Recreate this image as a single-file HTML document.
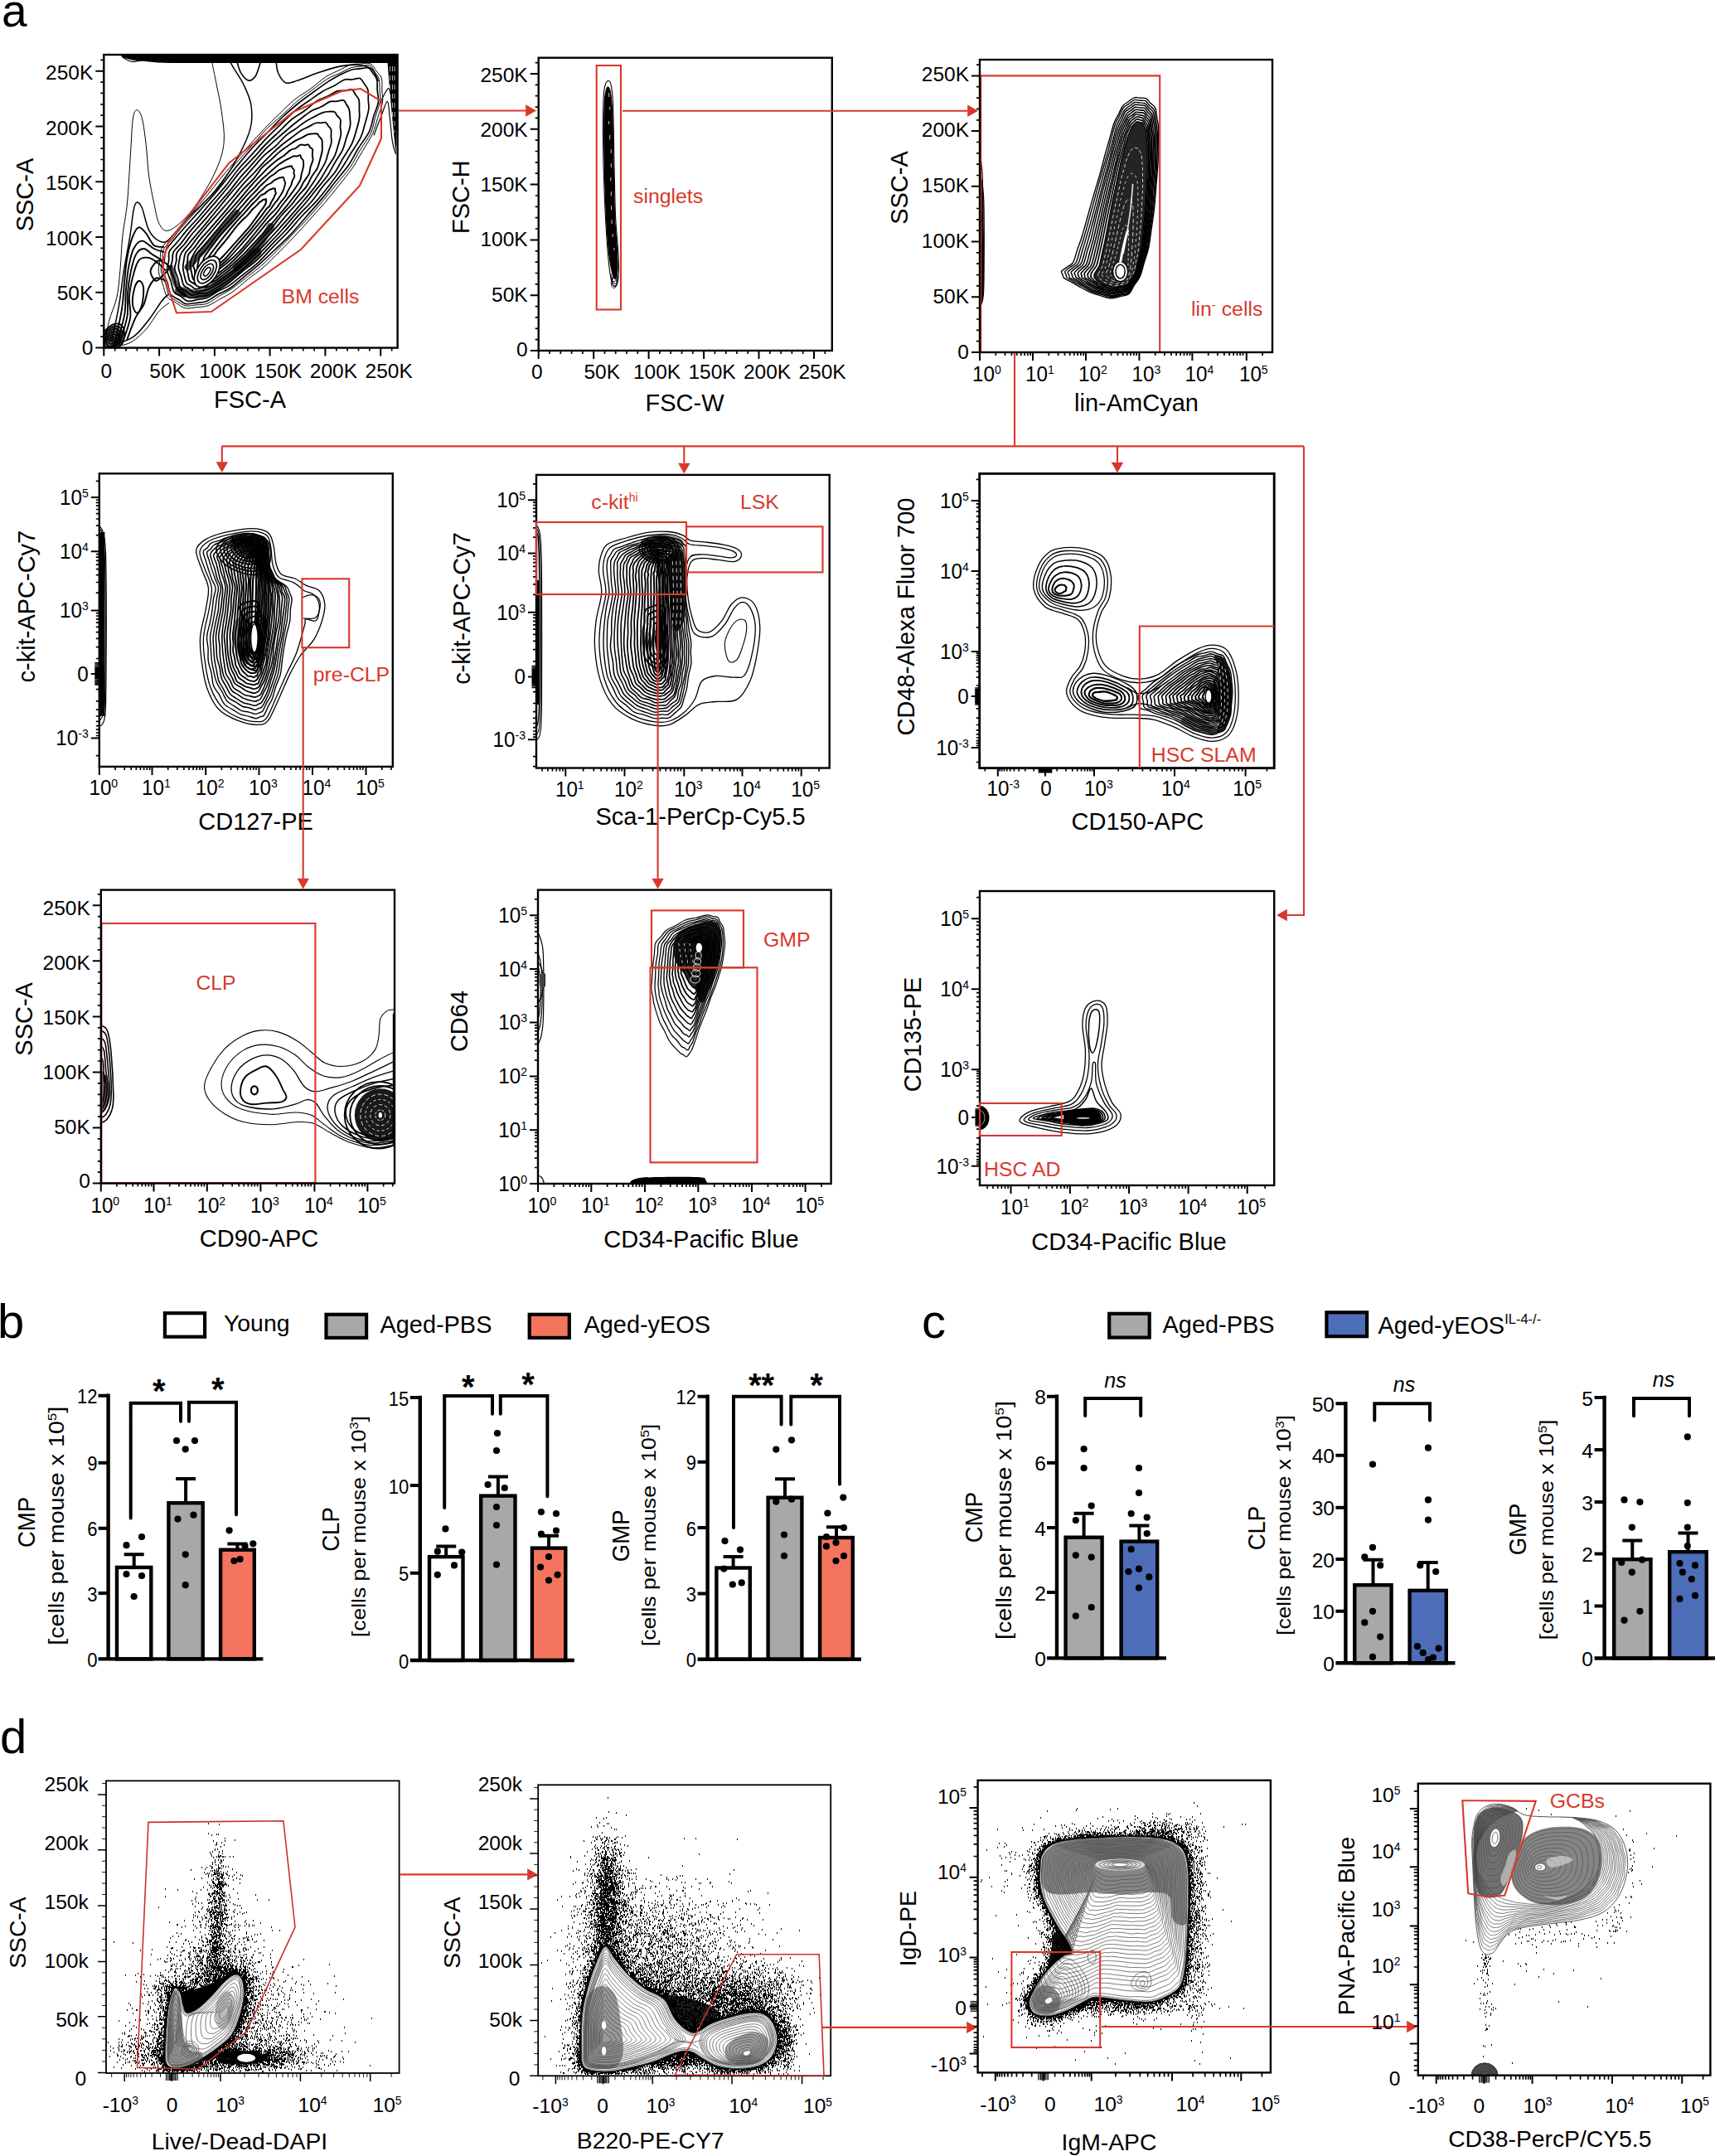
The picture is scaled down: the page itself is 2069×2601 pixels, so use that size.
<!DOCTYPE html>
<html lang="en"><head><meta charset="utf-8"><title>Figure</title>
<style>
html,body{margin:0;padding:0;background:#fff}
svg{display:block}
text{font-family:"Liberation Sans",Arial,Helvetica,sans-serif;fill:#000}
.r{fill:#d8382c}
.g{fill:none;stroke:#d8382c;stroke-width:2.1}
.c{fill:none;stroke:#000;stroke-width:1.1;stroke-linejoin:round}
.cg{fill:none;stroke:#555;stroke-width:0.8;stroke-linejoin:round}
.ax{fill:none;stroke:#000;stroke-width:2.4}
.tk{fill:none;stroke:#000;stroke-width:2}
.tm{fill:none;stroke:#000;stroke-width:1.7}
.b{fill:none;stroke:#000;stroke-width:4.4;stroke-linecap:butt}
.br{fill:none;stroke:#000;stroke-width:4;stroke-linecap:round;stroke-linejoin:miter}
.d{fill:#000}
.axd{fill:none;stroke:#000;stroke-width:1.8}
.tkd{fill:none;stroke:#000;stroke-width:1.5}
.tmd{fill:none;stroke:#000;stroke-width:0.9}
.gd{fill:none;stroke:#c9302c;stroke-width:1.6}
</style></head><body>
<svg width="2069" height="2601" viewBox="0 0 2069 2601">
<rect width="2069" height="2601" fill="#fff"/>
<text x="2" y="32" font-size="55">a</text>
<clipPath id="ca1"><rect x="125.3" y="66" width="354.3" height="353.6"/></clipPath>
<g clip-path="url(#ca1)">
<path d="M144 66H479.6V76H205L190 75.5L160 72.5L150 70Z" fill="#000"/>
<path d="M467.5 75L469 95L472 130L475 160L477.5 186L479 150V75Z" fill="#000"/>
<path class="c" style="stroke-width:1.2" d="M451 163.3c1.6-4.1 6.7-17.7 9.4-24.5c2.7-6.8 5.3-16.7 6.9-16.4c1.7 .4 1.9 10.3 2.9 18.4c1 8.2 2 23.1 3.3 30.6c1.2 7.6 3.4 12.3 4.1 14.7"/>
<path class="c" style="stroke-width:1.2" d="M459.2 122.4c1-1.9 4.4-8.8 6.1-11.4c1.7-2.6 3-5.3 4.1-4.1c1.1 1.3 2 9.6 2.4 11.5"/>
<path d="M470.5 80V132.5" stroke="#fff" stroke-width="0.7" stroke-dasharray="6 5"/>
<path d="M473.5 80V147.5" stroke="#fff" stroke-width="0.7" stroke-dasharray="6 5"/>
<path d="M476 80V160" stroke="#fff" stroke-width="0.7" stroke-dasharray="6 5"/>
<path class="c" style="stroke-width:1" d="M201.6 358.2c-2.7-3.8-3.5-10.6-5.3-15.7c-1.7-5.2-4.5-10.5-5-15.3c-.6-4.8 1.2-9 1.8-13.5c.7-4.6-.2-9.5 1.9-14c2.2-4.6 7.3-9.2 10.9-13.5c3.6-4.2 6.1-6.9 10.6-12c4.4-5.2 10.7-12.5 16.1-18.7c5.4-6.1 10.8-11.9 16.2-18.3c5.3-6.5 10.6-13.7 16.1-20.4c5.5-6.8 11.1-13.3 16.9-20.1c5.9-6.8 12.2-13.8 18.3-20.7c6.2-6.8 12.6-14 18.7-20.4c6.1-6.4 11.9-12.1 18-18c6.2-5.9 12.4-12.4 18.7-17.5c6.3-5.1 12.9-8.4 19.1-13c6.2-4.5 12.7-10.6 18.1-14.2c5.5-3.6 9.8-5 14.8-7.4c5-2.4 10.8-5.8 15.2-7.2c4.4-1.4 7.4-1 11.4-1.2c4.1-.3 9.4-1.7 12.7-.3c3.3 1.5 5 6.1 7.3 9.1c2.2 2.9 5.2 4.7 6.3 8.5c1.1 3.9 .2 9.7 .4 14.6c.1 4.8 1.5 8.7 .7 14.3c-.9 5.5-3.9 12.7-5.9 19.1c-2 6.3-3.1 12.2-6.1 18.9c-3.1 6.7-8.1 14.1-12.2 21.1c-4.1 7-7.7 13.8-12.4 20.7c-4.8 7-10.8 14.1-16.3 21c-5.4 6.8-10.8 13.5-16.6 20.3c-5.9 6.8-12.3 13.8-18.4 20.6c-6.2 6.8-12.4 13.9-18.6 20.4c-6.1 6.5-12.2 12.4-18.3 18.6c-6.2 6.2-12.5 13-18.8 18.4c-6.2 5.5-12.6 9.5-18.7 14.4c-6.2 4.9-12.8 11.2-18.3 15.1c-5.4 3.9-9.7 5.6-14.7 8.4c-5 2.8-10.4 6.7-15.2 8.4c-4.8 1.8-8.9 1.4-13.5 1.9c-4.6 .5-9.8 2-14 1.2c-4.2-.9-7.3-4.3-11-6.5c-3.6-2.3-8.2-3.3-10.9-7.1Z"/>
<path class="c" style="stroke-width:1" d="M204.2 356.5c-2.4-3.7-3-10.1-4.6-15c-1.7-5-4.7-10.1-5.3-14.6c-.6-4.6 1.3-8.6 1.8-12.9c.5-4.4-.8-8.9 1.2-13.2c2.1-4.3 7.5-8.4 11-12.6c3.5-4.2 5.4-7.5 9.8-12.7c4.4-5.1 10.9-12.3 16.4-18.3c5.6-6 11.4-11.4 17-17.7c5.5-6.4 10.8-13.6 16.1-20.5c5.3-6.9 10.1-14.1 15.8-20.9c5.8-6.9 12.6-13.4 18.8-20.2c6.1-6.9 11.9-14.6 18-20.9c6.2-6.3 12.6-11.3 18.9-17c6.3-5.7 12.6-12 18.7-17.2c6.1-5.1 12.1-9.2 18.2-13.8c6.1-4.5 12.9-10.1 18.4-13.5c5.5-3.4 9.8-4.5 14.7-6.8c4.9-2.3 10.5-5.7 14.7-7.1c4.2-1.4 6.9-.9 10.7-1.4c3.7-.4 8.6-2.6 11.5-1.4c3 1.1 4.5 5.6 6.3 8.3c1.9 2.8 4 4.6 4.9 8.2c1 3.7 .6 9.2 .9 13.8c.2 4.6 1.3 8.3 .4 13.7c-.9 5.4-4 12.4-5.8 18.7c-1.9 6.2-2.2 12.4-5.2 18.9c-3 6.6-8.7 13.5-12.9 20.4c-4.2 6.8-7.3 13.9-12 20.7c-4.8 6.9-11 13.7-16.5 20.5c-5.5 6.8-10.8 13.4-16.6 20.3c-5.8 6.9-11.9 14-18 20.8c-6.2 6.8-12.7 13.6-18.9 20.1c-6.1 6.4-11.9 12.6-18 18.7c-6.2 6.2-12.7 12.7-18.8 18.1c-6.2 5.5-12.2 9.8-18.3 14.6c-6.2 4.8-13.1 10.5-18.6 14.2c-5.5 3.8-9.7 5.5-14.5 8.4c-4.8 2.8-9.8 7.2-14.4 8.9c-4.5 1.8-8.5 1.2-12.9 1.7c-4.3 .4-9.2 1.8-13.1 1.1c-3.9-.7-7-3.5-10.3-5.5c-3.3-2.1-7.2-3.3-9.5-6.9Z"/>
<path class="c" style="stroke-width:1.7" d="M205.8 355c-2.3-3.4-2.2-9.4-3.7-14c-1.6-4.7-4.8-9.4-5.4-13.9c-.7-4.5 .9-8.9 1.5-13.1c.6-4.2 .2-8 2.1-12.2c2-4.1 6.4-8.5 9.7-12.5c3.2-4 5.5-6.7 9.9-11.6c4.4-5 11-12.2 16.5-18.4c5.5-6.1 10.9-12.1 16.5-18.5c5.6-6.5 11.6-13.7 17-20.4c5.5-6.7 10.3-13.1 15.9-20c5.6-6.8 11.7-14.4 17.9-21.2c6.2-6.8 13.1-13.3 19.2-19.6c6.2-6.3 11.5-12.4 17.6-18.1c6.1-5.8 12.9-11.5 19-16.5c6.1-4.9 11.5-8.7 17.7-13.2c6.1-4.5 13.7-10.1 19.2-13.7c5.5-3.6 9.1-5.4 13.7-7.8c4.6-2.3 9.8-4.8 13.8-6.1c4.1-1.2 7-.9 10.5-1.3c3.4-.4 7.6-1.8 10.2-.9c2.6 1 3.8 4.2 5.5 6.5c1.7 2.4 3.8 4.3 4.6 7.7c.9 3.4 .2 8.2 .5 12.7c.3 4.4 1.9 8.7 1.2 14c-.7 5.3-3.8 11.7-5.7 17.7c-1.8 5.9-2.2 11.8-5.3 18.2c-3.1 6.5-9.2 13.7-13.3 20.5c-4.2 6.8-7 13.3-11.8 20.2c-4.7 6.8-11.2 13.9-16.6 20.8c-5.4 6.8-10.1 13.2-15.9 20.1c-5.7 6.9-12.5 14.4-18.6 21.3c-6 6.9-11.5 13.7-17.6 20.1c-6.1 6.4-12.4 12.3-18.7 18.3c-6.3 6-12.8 12.2-19 17.7c-6.3 5.5-12.5 10.4-18.6 15.3c-6 5-12.1 10.7-17.5 14.4c-5.4 3.7-10.3 5.1-15.1 7.8c-4.8 2.6-9.4 6.5-13.7 8.2c-4.4 1.7-8.3 1.5-12.5 2c-4.1 .5-9 1.8-12.5 1.1c-3.5-.7-5.4-3.4-8.4-5.3c-3-1.9-7.6-2.9-9.8-6.3Z"/><path class="c" style="stroke-width:1.7" d="M210.1 352.6c-1.9-3-2.5-8.6-4-13c-1.4-4.5-4.1-9.5-4.6-13.6c-.4-4.2 1.6-7.4 2.1-11.2c.5-3.8-.9-7.7 .9-11.6c1.9-3.9 6.9-7.9 10.1-11.9c3.3-3.9 5.3-7 9.5-11.9c4.2-4.9 10.6-11.7 15.8-17.7c5.2-5.9 10.1-11.9 15.5-18.1c5.4-6.3 11.6-13 17-19.5c5.4-6.6 9.8-13.4 15.2-19.9c5.4-6.4 11.5-12.5 17.1-18.8c5.7-6.2 11.2-12.8 16.7-18.6c5.6-5.7 11-10.7 16.6-16.1c5.6-5.4 11.2-11.4 16.9-16.2c5.7-4.8 11.7-8.6 17.5-12.7c5.8-4.1 12.2-8.9 17.2-11.9c5-3 8.8-3.8 13.1-6.1c4.3-2.3 9-6.3 12.7-7.6c3.7-1.3 6.4 .1 9.5-.2c3.1-.3 6.8-2.5 9.3-1.5c2.4 .9 3.9 4.8 5.5 7.1c1.6 2.4 3.4 3.8 4.2 6.9c.7 3.1 .2 8 .4 12c.1 3.9 1.1 7 .4 11.9c-.7 4.9-2.9 11.9-4.5 17.5c-1.7 5.7-2.4 10.5-5.2 16.3c-2.8 5.9-7.8 12.5-11.7 18.8c-3.9 6.3-7.5 12.7-11.8 19.1c-4.4 6.4-9.3 12.9-14.2 19.3c-5 6.3-9.8 12.8-15.3 19c-5.5 6.2-11.8 11.8-17.6 18.1c-5.7 6.2-11.2 13.1-17 19.3c-5.8 6.2-11.9 11.9-17.8 18c-6 6-11.7 12.9-17.7 18.5c-6 5.5-12.5 10.1-18.4 14.8c-5.9 4.7-11.5 9.9-16.7 13.3c-5.2 3.5-10.1 4.8-14.5 7.3c-4.5 2.4-8.4 6-12.4 7.6c-3.9 1.6-7.6 1.5-11.5 2.2c-3.9 .7-8.4 2.5-11.8 1.8c-3.5-.7-6.1-4.3-8.9-6.1c-2.7-1.8-5.6-1.7-7.6-4.6Z"/><path class="c" style="stroke-width:1.8" d="M213.6 349c-1.8-2.9-2-7.9-3.3-12c-1.3-4.1-4-8.8-4.4-12.6c-.4-3.8 1.4-6.7 2-10.1c.6-3.5-.3-7 1.5-10.5c1.8-3.5 6.1-6.8 9.2-10.5c3-3.8 5-7.2 9.1-12.1c4-4.9 10-11.7 15.1-17.6c5.1-5.8 10.1-11.5 15.4-17.7c5.3-6.2 11.2-13.2 16.3-19.4c5.1-6.2 9-12 14.1-17.9c5.1-5.9 11.1-11.7 16.5-17.5c5.3-5.7 10.4-11.8 15.6-17.1c5.2-5.3 10.1-9.7 15.4-14.7c5.2-5 10.8-11.2 16.1-15.5c5.3-4.3 10.6-6.8 15.6-10.5c5-3.6 10-8.7 14.6-11.5c4.5-2.8 8.5-3.5 12.6-5.5c4.1-1.9 8.3-5.2 11.8-6.4c3.5-1.2 6.2-.3 9.2-.6c3-.3 6.6-2 8.7-1.2c2.1 .7 2.5 3.6 3.9 5.7c1.4 2.1 3.6 3.8 4.4 6.7c.8 3 .4 7.4 .4 11.1c.1 3.8 .7 6.9 0 11.4c-.6 4.5-2.3 10.5-3.9 15.6c-1.5 5.2-2.7 9.9-5.3 15.3c-2.7 5.5-7.2 11.8-10.6 17.4c-3.4 5.7-5.7 11-9.7 16.7c-4.1 5.6-10.1 11.5-14.8 17.4c-4.7 5.9-8.5 12-13.3 17.8c-4.9 5.8-10.6 10.9-15.8 16.7c-5.3 5.8-10.3 12.2-15.7 18.1c-5.4 5.9-10.9 11.2-16.8 17.3c-5.9 6.1-12.4 13.7-18.5 19.2c-6 5.5-12.2 9.2-17.9 13.8c-5.7 4.6-11.5 10.4-16.3 14c-4.7 3.5-8.1 4.9-12.1 7.3c-4.1 2.3-8.4 5.5-12.2 6.8c-3.7 1.3-6.8 .5-10.4 1c-3.7 .5-8.2 2.4-11.3 1.9c-3.2-.4-5.2-2.8-7.7-4.5c-2.6-1.8-5.8-2.8-7.5-5.8Z"/><path class="c" style="stroke-width:1.8" d="M217.5 346.9c-1.6-2.6-1.9-7.4-3-11.2c-1.2-3.8-3.5-8.2-3.8-11.6c-.3-3.5 1.5-6 2-9.3c.5-3.2-.9-6.6 .8-10c1.7-3.5 6.4-7 9.3-10.6c2.9-3.6 4.4-6.4 8.2-11c3.9-4.6 9.8-10.9 14.9-16.8c5.1-5.8 10.6-12.4 15.8-18.4c5.2-6.1 10.7-12.1 15.5-17.9c4.8-5.7 8.4-11 13.1-16.6c4.7-5.5 10.1-11.1 15-16.6c4.9-5.6 9.8-11.6 14.5-16.5c4.8-4.9 9.3-8.7 14.1-13c4.8-4.3 10-8.8 14.7-12.7c4.6-3.9 8.7-7.3 13.3-10.7c4.5-3.5 9.6-7.7 13.9-10.3c4.3-2.5 8.1-3 11.8-4.9c3.7-1.8 7.5-5 10.5-6.1c3-1.1 4.8-.1 7.5-.4c2.7-.3 6.6-2.1 8.7-1.4c2 .7 2.6 3.5 3.7 5.3c1.2 1.9 2.5 3.1 3.2 5.7c.7 2.7 .9 6.9 1.1 10.3c.2 3.5 .8 6.4 0 10.5c-.7 4.2-3.1 9.6-4.6 14.3c-1.5 4.6-2.1 8.9-4.4 13.8c-2.3 4.9-6.2 10.1-9.2 15.3c-3.1 5.2-5.5 10.7-9.1 16c-3.7 5.3-8.6 10.6-12.8 15.8c-4.2 5.2-7.9 10.2-12.4 15.6c-4.6 5.4-10 11.2-14.9 16.8c-4.8 5.6-9.3 11.2-14.4 16.7c-5 5.6-10.1 10.9-15.7 16.7c-5.6 5.8-11.8 12.5-17.7 18.1c-5.8 5.5-11.9 10.7-17.5 15.3c-5.5 4.6-11 8.9-15.7 12.2c-4.7 3.4-8.4 5.3-12.3 7.7c-4 2.4-8.1 5.4-11.4 6.6c-3.4 1.2-5.6-0-8.8 .4c-3.2 .4-7.4 2.5-10.3 2c-2.9-.5-4.8-3.6-7-5.2c-2.3-1.5-5-1.4-6.6-3.9Z"/><path class="c" style="stroke-width:1.8" d="M221.5 344c-1.5-2.4-2-7.2-3-10.6c-1-3.3-2.8-6.5-3.1-9.7c-.4-3.3 .3-6.7 .9-9.7c.6-3 .6-5.3 2.4-8.4c1.7-3.1 5.5-7.1 8.1-10.4c2.6-3.3 4-5 7.7-9.3c3.7-4.4 9.5-10.9 14.4-16.8c4.9-5.9 10.2-12.5 15.2-18.5c4.9-6.1 9.8-12.3 14.5-17.8c4.7-5.5 9-10.2 13.5-15.3c4.5-5 9.2-10.4 13.6-15.3c4.3-4.9 8.2-10.1 12.6-14.3c4.4-4.3 9.2-7.2 13.7-11.2c4.4-4.1 8.7-9.6 12.8-13.1c4.1-3.5 7.6-5.2 11.7-8.1c4.1-3 9.3-7 13.1-9.4c3.8-2.4 6.4-3.6 9.7-5.3c3.3-1.7 7.2-3.9 10.1-4.9c2.8-1 4.7-1.1 7.1-1.2c2.4-.2 5.5-.5 7.1 .3c1.7 .8 1.7 2.9 2.9 4.4c1.2 1.6 3.5 2.6 4.2 4.9c.7 2.3-.3 5.8-.2 8.8c.1 3 1.2 5.2 .8 9c-.5 3.7-2.2 9.2-3.5 13.6c-1.3 4.4-2.1 8.3-4.2 12.7c-2.1 4.4-5.7 8.9-8.5 13.6c-2.8 4.6-5.3 9.5-8.5 14.3c-3.2 4.8-7 9.7-10.9 14.6c-3.8 4.8-8.1 9.7-12.3 14.5c-4.1 4.9-8.1 9.7-12.5 14.7c-4.4 5-8.9 9.9-13.7 15.2c-4.8 5.3-9.6 10.8-15.1 16.6c-5.4 5.8-11.9 12.9-17.7 18.4c-5.8 5.5-11.6 10-16.9 14.3c-5.4 4.4-10.8 8.8-15.2 12c-4.4 3.1-7.5 4.8-11.2 7c-3.6 2.1-7.6 4.6-10.7 5.8c-3.1 1.3-5.1 1.1-7.9 1.7c-2.9 .5-6.6 2.1-9.1 1.5c-2.5-.5-3.8-3.2-5.8-4.6c-2-1.5-4.6-1.6-6.1-4Z"/><path class="c" style="stroke-width:1.8" d="M225 341.4c-1.3-2.1-1.9-6.3-2.7-9.4c-.7-3.1-1.5-6.3-1.6-9.2c-.1-2.8 .5-5.1 1-8.1c.5-2.9 .5-6.5 2-9.4c1.4-2.9 4.3-5 6.7-7.9c2.3-3 3.8-5.6 7.3-10c3.5-4.4 8.8-10.8 13.7-16.5c4.9-5.7 10.8-12.1 15.7-17.7c5-5.7 9.7-11 14.1-16.2c4.4-5.2 8.2-10.3 12.4-15.1c4.3-4.7 8.8-9.1 12.9-13.4c4.1-4.4 8-8.8 11.8-12.9c3.9-4 7.6-7.9 11.3-11.5c3.7-3.5 7.5-6.8 11.1-9.8c3.6-3 7-5.2 10.6-8c3.7-2.7 8.1-6.4 11.4-8.6c3.4-2.2 5.8-2.8 8.8-4.3c3-1.6 6.6-4 9.2-4.9c2.6-.8 4.6-.1 6.6-.2c2.1-.1 4.3-1 5.7-.4c1.5 .6 1.9 2.6 3 4c1 1.4 2.9 2.5 3.4 4.7c.6 2.1-.1 5.7-0 8.3c0 2.5 .9 4.1 .3 7.2c-.5 3.1-2.3 7.4-3.5 11.3c-1.2 3.9-1.8 8-3.6 12.1c-1.8 4.1-4.8 8.6-7.2 12.7c-2.4 4-4.3 7.4-7.1 11.6c-2.8 4.2-6.3 9.3-9.8 13.8c-3.5 4.4-7.5 8.6-11.3 12.9c-3.8 4.3-7.5 8.3-11.4 12.8c-3.9 4.6-7.5 9.2-12 14.3c-4.5 5.1-9.6 10.5-14.9 16.2c-5.3 5.7-11.4 12.5-17 18c-5.5 5.6-11.2 11-16.4 15.4c-5.1 4.3-10.6 8.1-14.7 11c-4.1 2.9-6.5 4.5-9.8 6.5c-3.3 1.9-7 3.9-9.8 4.9c-2.9 1.1-4.9 .9-7.5 1.4c-2.5 .5-5.5 2.1-7.7 1.7c-2.2-.4-3.8-2.8-5.7-4c-1.8-1.2-4-1.2-5.3-3.3Z"/><path class="c" style="stroke-width:1.9" d="M228.7 338.5c-1.2-2-1.4-5.4-1.9-8c-.6-2.7-1.5-5.3-1.6-8.1c-0-2.7 .8-5.7 1.1-8.3c.3-2.5-.4-4.4 .9-7c1.4-2.6 5-5.4 7.4-8.4c2.3-3 3.3-5.3 6.7-9.4c3.5-4.2 9.1-10 13.9-15.5c4.8-5.5 10.2-11.7 15.1-17.4c4.8-5.7 9.8-12.1 13.9-17c4.1-4.9 6.9-8.4 10.7-12.5c3.7-4.2 8.4-8.2 11.9-12.3c3.6-4.1 6.1-8.8 9.4-12.4c3.3-3.6 7-5.9 10.4-9.1c3.5-3.1 7.1-6.9 10.4-9.7c3.4-2.8 6.6-4.9 9.8-7.2c3.2-2.2 6.4-4.6 9.3-6.3c2.9-1.7 5.6-2.5 8.2-3.8c2.5-1.3 5.2-3.2 7.3-4c2.1-.8 3.4-.6 5.3-.7c1.8-.1 4.7-.4 6 .1c1.3 .5 1 1.7 1.9 2.9c1 1.2 3 2.6 3.6 4.4c.7 1.8 .3 4.3 .3 6.5c.1 2.3 .4 4.3-.1 7.2c-.4 2.8-1.6 6.5-2.5 9.9c-1 3.4-1.6 7.1-3.3 10.6c-1.7 3.5-4.8 6.7-6.9 10.4c-2.2 3.7-3.6 7.8-6.1 11.5c-2.6 3.7-6.1 6.7-9.2 10.5c-3.1 3.8-6.1 8.2-9.4 12.1c-3.3 3.8-6.9 6.8-10.5 11c-3.6 4.1-6.9 9.1-10.9 13.8c-4.1 4.8-8.4 9.1-13.4 14.6c-5.1 5.5-11.3 12.7-16.9 18.4c-5.7 5.6-12 11.2-17.1 15.7c-5.1 4.4-9.9 8.1-13.6 11c-3.6 2.8-5.3 4.3-8.2 6.1c-2.8 1.7-6.2 3.2-8.8 4.2c-2.6 1.1-4.6 1.6-6.9 1.9c-2.2 .4-4.8 .6-6.7 .2c-1.9-.4-3-1.5-4.6-2.5c-1.5-1-3.8-1.5-4.9-3.4Z"/><path class="c" style="stroke-width:1.9" d="M232.8 336.3c-.8-1.6-1.2-5.1-1.7-7.7c-.6-2.5-1.4-5.3-1.5-7.7c-.1-2.4 .2-4.4 .8-6.6c.5-2.1 1.2-4 2.5-6.4c1.2-2.4 3.1-5.3 5.1-8.1c2-2.7 3.5-4.4 6.9-8.4c3.3-4 8.4-10 13-15.4c4.6-5.4 9.9-11.6 14.7-17.1c4.8-5.5 10-11.2 14.1-15.8c4.1-4.7 7.2-8.5 10.4-12.3c3.3-3.9 6-7.1 9.2-10.6c3.2-3.5 7-7.4 10-10.5c2.9-3.1 4.9-5.3 7.7-7.9c2.8-2.6 6.2-5.6 9.2-7.9c3-2.4 6.1-3.9 9-6c2.9-2.2 5.8-5.3 8.2-6.8c2.4-1.5 4.2-1.3 6.2-2.3c2-1.1 4-3.5 5.9-4.1c1.9-.6 3.9 .6 5.4 .5c1.6-0 2.8-1.2 3.8-.7c1.1 .4 1.6 2.3 2.4 3.3c.9 1 2.5 1.1 3 2.6c.4 1.6-.3 4.6-.3 6.7c.1 2.1 1 3.7 .7 6c-.4 2.3-2 5.1-2.8 7.9c-.7 2.8-.6 5.8-1.9 8.8c-1.3 3-4.2 6.1-6.1 9.2c-2 3.2-3.3 6.6-5.4 9.7c-2.1 3.2-4.8 6-7.4 9.3c-2.5 3.2-5 6.7-7.8 10.2c-2.9 3.5-5.9 6.9-9.2 10.8c-3.2 3.8-6.5 7.9-10.3 12.3c-3.9 4.3-7.7 8.5-12.7 13.9c-5 5.4-11.8 13.1-17.3 18.7c-5.5 5.6-10.9 10.6-15.6 14.8c-4.8 4.3-9.7 7.8-13.1 10.6c-3.5 2.8-5.2 4.6-7.8 6.2c-2.5 1.7-5.4 2.7-7.7 3.5c-2.4 .8-4.3 .9-6.3 1.4c-2 .4-3.9 1.8-5.7 1.4c-1.7-.3-3.2-2.5-4.5-3.4c-1.3-.9-2.3-.4-3.1-2.1Z"/><path class="c" style="stroke-width:1.9" d="M235.6 333.2c-.7-1.5-.2-4.5-.6-6.6c-.3-2.2-1.8-4.4-1.7-6.3c0-1.9 1.5-3.2 2-5.3c.5-2.1-0-5 1.1-7.3c1.1-2.3 3.5-4.3 5.5-6.6c2-2.3 3.1-3.5 6.3-7.3c3.2-3.8 8.4-10.1 13-15.6c4.5-5.4 9.7-11.8 14.3-17.1c4.5-5.3 9.1-10.2 12.8-14.6c3.8-4.3 6.6-7.9 9.8-11.4c3.2-3.5 6.6-6.6 9.3-9.5c2.8-2.9 4.6-5.3 7.2-7.9c2.5-2.6 5.7-5.3 8.2-7.6c2.5-2.2 4.4-3.9 6.7-5.9c2.3-2 4.7-4.3 7-5.9c2.2-1.7 4.3-2.9 6.4-4.2c2.1-1.2 4.4-2.3 6.3-3.3c1.9-1 3.6-2.1 5.1-2.5c1.4-.4 2.2 .4 3.5 .2c1.3-.2 3.4-1.6 4.3-1.3c.9 .3 .5 2 1.1 3c.6 1 1.9 1.7 2.4 3c.5 1.3 .6 3.2 .6 4.8c.1 1.5-0 2.5-.4 4.4c-.4 2-1.4 4.7-2 7.1c-.5 2.4-.4 4.7-1.5 7.3c-1.1 2.6-3.2 5.8-4.9 8.4c-1.7 2.6-3.2 4.8-5.2 7.4c-1.9 2.6-4.2 5.5-6.4 8.3c-2.2 2.8-4.5 5.6-6.7 8.6c-2.3 2.9-4 5.9-6.9 9.1c-2.8 3.3-6.5 6.4-10.1 10.4c-3.6 3.9-6.5 8-11.2 13.4c-4.7 5.4-11.5 13.4-16.9 19.1c-5.3 5.8-10.5 11.2-15.1 15.5c-4.5 4.2-8.7 7.5-11.9 10c-3.2 2.5-5 3.6-7.3 5c-2.2 1.4-4.3 2.7-6.2 3.4c-1.9 .8-3.5 .8-5.2 1.2c-1.8 .4-3.7 1.2-5.2 1.1c-1.6-.1-2.8-1.1-4.1-1.8c-1.2-.8-2.7-1.1-3.4-2.7Z"/><path class="c" style="stroke-width:1.9" d="M239.6 330c-.6-1.2-1.1-3.3-1.3-5c-.2-1.7-.2-3.4 .1-5.2c.2-1.7 .7-3.2 1.2-5.1c.5-1.8 .4-4 1.5-5.9c1.1-1.9 3.2-3.2 5.1-5.3c1.9-2.2 3.4-4 6.2-7.8c2.9-3.7 6.7-9.5 11.1-14.9c4.4-5.3 10.8-11.9 15.4-17.2c4.7-5.2 8.9-10.3 12.3-14.2c3.4-3.9 5.3-6.3 8.1-9.4c2.8-3 6-6.3 8.5-8.9c2.5-2.7 4.3-4.8 6.3-6.9c2-2 3.8-3.4 5.7-5.3c1.9-1.8 3.8-4 5.7-5.5c1.9-1.6 3.9-2.3 5.7-3.7c1.9-1.3 3.7-3.4 5.4-4.5c1.7-1.1 3.3-1.3 4.9-2c1.5-.6 3.3-1.4 4.5-1.8c1.2-.4 1.8-.4 2.7-.6c1-.1 2.5-.8 3.2-.5c.6 .2 .2 1.3 .7 2.1c.5 .8 1.9 1.8 2.2 2.8c.2 1.1-.5 2.3-.4 3.6c.1 1.3 1.2 2.7 .9 4.2c-.3 1.6-1.9 3.3-2.6 5.1c-.7 1.7-.8 3.5-1.6 5.5c-.9 1.9-2.3 3.9-3.4 6.1c-1.1 2.2-1.7 4.6-3.2 6.8c-1.4 2.3-3.7 4.5-5.5 6.8c-1.8 2.3-3 4.8-5 7.2c-2 2.4-4.5 4.4-7 7.2c-2.5 2.7-4.8 5.5-8 9.4c-3.3 3.9-6.8 8.4-11.2 13.9c-4.5 5.4-10.5 13.2-15.7 18.8c-5.2 5.7-11.1 11.1-15.7 15.2c-4.6 4.1-8.8 7.2-11.8 9.6c-2.9 2.4-4 3.5-5.9 4.8c-1.9 1.3-4.1 2.2-5.6 3c-1.6 .7-2.6 1.1-3.8 1.4c-1.2 .3-2.4 .6-3.6 .4c-1.2-.2-2.6-.9-3.7-1.6c-1-.7-1.8-1.3-2.4-2.6Z"/><path class="c" style="stroke-width:1.9" d="M244 327.6c-.4-1-.9-2.7-1.2-4.1c-.2-1.4-.6-2.9-.3-4.4c.4-1.5 1.8-3 2.4-4.5c.7-1.5 .7-2.9 1.5-4.5c.9-1.6 2-3 3.5-5.2c1.6-2.1 3-4.1 5.8-7.7c2.8-3.6 6.6-9.1 10.9-14.1c4.3-5.1 10.6-11.4 15-16.4c4.5-4.9 8.5-9.7 11.8-13.5c3.3-3.8 5.6-6.8 7.9-9.4c2.3-2.6 4.2-4.1 6.1-6.1c1.8-1.9 3.4-3.8 5.1-5.5c1.8-1.7 3.6-3.2 5.2-4.7c1.6-1.5 2.9-3.2 4.4-4.3c1.5-1.1 3.2-1.2 4.6-2.2c1.5-.9 3-2.6 4-3.4c1.1-.7 1.4-.8 2.4-1.3c.9-.4 2.4-1.1 3.3-1.4c.9-.3 1.3-.4 2.2-.6c.8-.2 2.3-.8 2.9-.7c.6 .2 .6 .9 .8 1.4c.2 .6 .2 .8 .5 1.7c.3 .9 1.1 2.8 1.3 3.8c.2 1-0 1.1-.3 2.2c-.2 1.2-.7 3.2-1.2 4.6c-.5 1.4-1 2.7-1.6 4c-.7 1.3-1.3 2.4-2.3 4c-.9 1.5-2.3 3.6-3.5 5.3c-1.3 1.8-2.6 3.2-3.9 4.9c-1.2 1.7-2.1 3.3-3.6 5.2c-1.5 2-3.2 4-5.2 6.5c-2.1 2.6-4.1 5.3-6.9 8.8c-2.9 3.4-5.9 6.9-10.3 12.1c-4.4 5.1-11 13-16.1 18.9c-5.1 5.8-10.4 11.8-14.6 16c-4.3 4.2-8.1 7-10.8 9.3c-2.7 2.2-3.7 3.1-5.3 4.3c-1.5 1.1-2.8 2.1-4.1 2.8c-1.3 .7-2.7 .9-3.8 1.2c-1 .2-1.7 .5-2.6 .3c-.8-.3-2-1.3-2.7-1.8c-.6-.6-.9-.6-1.3-1.5Z"/><path class="c" style="stroke-width:2" d="M247.4 325.2c-.3-.6-.3-2.3-.2-3.4c-0-1.1 0-2 .3-3.3c.2-1.3 .6-3.2 1.2-4.5c.6-1.2 1.4-1.7 2.4-3.1c1-1.3 2.1-3 3.5-5c1.3-1.9 2.2-3.1 4.8-6.6c2.6-3.4 6.8-9 10.9-14c4.1-5.1 9.3-11.4 13.6-16.3c4.3-4.9 9-9.8 12.1-13.2c3.1-3.4 4.5-5.2 6.5-7.4c2-2.1 4.2-4.2 5.7-5.8c1.6-1.6 2.5-2.5 3.6-3.7c1.1-1.2 2-2.6 3.2-3.4c1.2-.8 2.7-1 3.8-1.6c1-.6 1.7-1.4 2.5-2.1c.8-.7 1.7-1.4 2.4-2c.7-.5 1.1-.7 1.8-1c.7-.3 1.9-.6 2.4-.8c.6-.2 .5-.2 .9-.3c.4-.1 1-.4 1.5-.4c.5-0 1.5 0 1.7 .3c.3 .3-.1 .9-.1 1.4c0 .5 0 .8 .2 1.6c.2 .7 .9 2 .7 2.8c-.1 .8-1 1.3-1.3 2.1c-.4 .7-.2 1.3-.7 2.4c-.5 1-1.7 2.9-2.4 4.1c-.7 1.1-1 1.6-1.6 2.7c-.5 1.2-.9 2.9-1.8 4.1c-.8 1.1-2.2 1.5-3.4 3c-1.3 1.5-2.6 3.8-4.1 5.8c-1.5 2.1-2.6 3.5-5.1 6.7c-2.4 3.1-5.3 6.9-9.6 12c-4.4 5.1-11.3 12.7-16.3 18.6c-5.1 5.9-10.2 12.4-14.2 16.6c-4.1 4.2-7.7 6.5-10.2 8.6c-2.4 2-3.2 2.9-4.6 3.8c-1.3 .9-2.6 .9-3.5 1.3c-.8 .4-1.1 .7-1.7 1c-.6 .4-1.3 1.2-1.9 1.1c-.6-.1-1.2-1.4-1.7-1.8c-.5-.3-1.1 .4-1.3-.3Z"/><path class="c" style="stroke-width:2" d="M251.3 322.5c-.1-.5-.2-2.1-.1-3c.1-.9 .2-1.6 .6-2.5c.4-.8 1.4-1.7 1.9-2.8c.6-1 .5-2.2 1.3-3.3c.8-1.1 2.3-1.7 3.5-3.3c1.2-1.5 1.4-2.6 3.9-5.8c2.6-3.3 7.2-8.4 11.3-13.5c4-5 9-12.1 13.2-16.9c4.2-4.8 9.1-8.9 12-12c2.9-3.2 3.9-5 5.4-6.6c1.6-1.7 2.7-2.5 3.8-3.5c1.1-1.1 2.1-2.1 2.9-3c.8-.9 1.4-1.7 2-2.3c.6-.5 1.2-.8 1.7-1c.4-.2 .6-.1 1-.4c.3-.3 .6-1.1 1-1.4c.5-.4 1.4-.4 1.8-.5c.3-.1 .2-.1 .3-.1c.2 .1 .2 .5 .6 .4c.3-.1 1.3-1.1 1.5-1.1c.3 .1-.2 1-.2 1.3c-.1 .3 .1 .6 .2 .7c.1 .1 .1-.3 .2-.1c0 .2 .2 1 .1 1.4c-.1 .5-.5 .9-.6 1.3c-.1 .4 .3 .6 .1 1.1c-.2 .5-.9 1.4-1.2 1.9c-.3 .5-.4 .9-.7 1.3c-.3 .5-.5 .9-1 1.5c-.5 .7-1.1 1.5-1.9 2.5c-.7 1-1.5 1.9-2.7 3.6c-1.3 1.8-2.7 4-4.9 7c-2.2 3-4.2 6.3-8.3 11.3c-4.2 4.9-11.3 12.7-16.4 18.5c-5.1 5.7-10.5 11.9-14.3 15.8c-3.7 4-6.2 5.9-8.2 7.9c-1.9 1.9-2.6 3-3.6 3.9c-1 1-1.6 1.6-2.3 1.9c-.8 .3-1.6-.2-2.1-.1c-.6 0-1.1 .6-1.4 .6c-.3 .1-.2-.3-.3-.5c-.1-.1-.1 .4-.1-.2Z"/>
<path d="M226.5 322.4c3.1-3.4 11.9-13.2 18.4-20.4c6.5-7.1 13.6-14.9 20.4-22.4c6.8-7.5 17-18.7 20.4-22.5" stroke="#000" stroke-opacity="0.7" stroke-width="8" fill="none" stroke-linecap="round"/>
<path d="M285.7 322.4c4.1-4 17.7-16.3 24.5-24.4c6.8-8.2 13.6-20.4 16.3-24.5" stroke="#000" stroke-opacity="0.7" stroke-width="9" fill="none" stroke-linecap="round"/>
<path d="M216.3 351c4.8 .6 17.7 6.7 28.6 3.3c10.9-3.4 25.8-15.3 36.7-23.7c10.9-8.4 23.8-22.1 28.6-26.5" stroke="#000" stroke-opacity="0.7" stroke-width="11" fill="none" stroke-linecap="round"/>
<path d="M206.1 322.4c1 3.5 3.4 14.9 6.1 20.5c2.8 5.5 8.5 10.8 10.2 13" stroke="#000" stroke-opacity="0.7" stroke-width="6" fill="none" stroke-linecap="round"/>
<ellipse cx="249.8" cy="327.8" rx="21" ry="12" fill="#fff" stroke="#000" stroke-width="1.8" transform="rotate(-55 249.8 327.8)"/>
<ellipse cx="249.8" cy="327.8" rx="16" ry="8.6" fill="none" stroke="#000" stroke-width="1.7" transform="rotate(-55 249.8 327.8)"/>
<ellipse cx="249.8" cy="327.8" rx="11" ry="5.6" fill="none" stroke="#000" stroke-width="1.6" transform="rotate(-55 249.8 327.8)"/>
<ellipse cx="249.8" cy="327.8" rx="6" ry="2.8" fill="none" stroke="#000" stroke-width="1.5" transform="rotate(-55 249.8 327.8)"/>
<path d="M269.4 304.1c2-2.5 8.5-10.8 12.2-15.1c3.8-4.3 8.5-8.9 10.2-10.6" stroke="#fff" stroke-width="2.6" fill="none" stroke-linecap="round"/>
<path class="c" style="stroke-width:1" d="M126.5 417.1c.8-4.9 2.5-19.7 4.9-29.3c2.4-9.7 7.2-18.4 9.4-28.6c2.3-10.2 2.9-20.4 4.1-32.7c1.2-12.2 1.4-27.2 2.9-40.8c1.4-13.6 4-23.8 5.7-40.8c1.6-17 2.9-44.2 4.1-61.2c1.1-17 1.5-32.3 2.8-40.8c1.3-8.5 3.1-10.2 4.9-10.2c1.8-0 4.3 3 6.1 10.2c1.9 7.1 3.6 21 4.9 32.6c1.4 11.6 1.7 25.2 3.3 36.7c1.6 11.6 4.1 23.2 6.1 32.7c2.1 9.5 3.4 18.9 6.1 24.5c2.8 5.6 5.5 9.5 10.2 9c4.8-.6 11.9-6 18.4-12.3c6.5-6.2 13.6-14.9 20.4-25.3c6.8-10.3 15.5-25.2 20.4-36.7c4.9-11.6 8-21.1 9-32.7c1-11.5-1.4-25.1-2.9-36.7c-1.4-11.6-4.2-23.1-6.1-32.7c-1.8-9.5-3.9-18.7-4.9-24.4c-1-5.8-1-8.6-1.2-10.3"/>
<path class="c" style="stroke-width:1.5" d="M134.7 412.2c1.5-7.4 6.5-30.6 9-44.9c2.4-14.2 3.5-27.2 5.7-40.8c2.2-13.6 5.4-28.5 7.3-40.8c2-12.2 3.1-25.7 4.5-32.6c1.5-7 2.4-8.7 4.1-9c1.7-.4 3.7 1.3 6.1 6.9c2.4 5.6 4.8 20 8.2 26.6c3.4 6.5 8.2 11.1 12.2 13c4.1 1.9 6.2 3.3 12.3-1.6c6.1-4.9 14.9-17.7 24.5-27.8c9.5-10 23.1-21.1 32.6-32.6c9.5-11.6 17.7-24.5 24.5-36.8c6.8-12.2 13.5-25.8 16.3-36.7c2.9-10.9 2.2-19.7 .9-28.6c-1.4-8.8-5.5-17-9-24.5c-3.6-7.4-9-14.8-12.3-20.4c-3.2-5.5-6.1-10.9-7.3-13"/>
<path class="c" style="stroke-width:1.9" d="M140.8 414.3c1.6-5.8 7.6-24.2 9.4-34.7c1.8-10.6 .8-19.1 1.6-28.6c.9-9.5 1.7-20 3.3-28.6c1.6-8.5 3.4-17.1 6.1-22.4c2.7-5.3 6.1-9.4 10.2-9.4c4.1 0 9.9 7.2 14.3 9.4c4.4 2.2 10.2 3.4 12.3 4.1"/>
<path class="c" style="stroke-width:1.9" d="M146.9 416.3c1.7-5.4 8.7-23.1 10.2-32.6c1.5-9.6-1.7-16.4-1.2-24.5c.5-8.2 2.2-17 4.1-24.5c1.9-7.5 4.1-16.5 7.3-20.4c3.3-4 8.2-4 12.3-3.3c4.1 .7 8.8 4.8 12.2 7.4c3.4 2.6 6.8 6.8 8.2 8.1"/>
<path class="c" style="stroke-width:1.9" d="M153.1 410.2c1.7-4.4 6.8-19.4 10.2-26.5c3.4-7.2 7.4-10.2 10.2-16.4c2.7-6.1 3.6-15.1 6.1-20.4c2.5-5.3 5.6-10 9-11.4c3.4-1.4 9.5 2.7 11.4 3.3"/>
<path class="c" style="stroke-width:1.9" d="M138 415.5c1.5-7 6.9-29.2 8.9-42c2.1-12.8 2.2-24.2 3.3-34.7c1.1-10.6 1.6-19.8 3.3-28.6c1.6-8.8 4.2-18.5 6.5-24.5c2.3-6 4.6-10.7 7.3-11.4c2.8-.7 6 3.7 9 7.3c3.1 3.6 5.8 11.6 9.4 14.3c3.6 2.7 10.2 1.7 12.3 2.1"/>
<path class="c" style="stroke-width:1.9" d="M143.7 416.3c1.6-5.8 8.1-24.5 9.8-34.7c1.7-10.2-.3-17.7 .4-26.5c.7-8.8 2-18.5 3.7-26.5c1.7-8.1 3.8-16.9 6.5-21.7c2.6-4.7 6.1-6.9 9.4-6.9c3.2 0 6.6 4.7 10.2 6.9c3.6 2.3 9.5 5.5 11.4 6.6"/>
<path class="c" style="stroke-width:1" d="M128.6 418.4c4.4-.7 18.7-.7 26.5-4.1c7.8-3.4 14.3-9.9 20.4-16.3c6.1-6.5 11.6-17 16.3-22.5c4.8-5.4 10.2-8.5 12.3-10.2"/>
<path class="c" style="stroke-width:1.6" d="M134.7 417.1c4.4-1.8 19-5.7 26.5-11c7.5-5.2 12.7-13.2 18.4-20.4c5.6-7.1 11.6-17.3 15.5-22.4c3.9-5.1 6.5-6.8 7.8-8.2"/>
<path class="c" style="stroke-width:1.9" d="M160 367.3c-.5-5.1 1.1-15.6 2.4-20.4c1.4-4.7 4-8.1 5.8-8.1c1.7-0 4.3 3.4 4.9 8.1c.5 4.8-.4 15.3-1.7 20.4c-1.3 5.1-4.2 10.3-6.1 10.3c-1.9-0-4.8-5.2-5.3-10.3Z"/>
<path class="c" style="stroke-width:1.9" d="M181.6 326.5c.7-4.1 6.5-11.5 10.2-12.2c3.8-.7 11.6 5.1 12.3 8.1c.7 3.1-5.5 7.5-8.2 10.3c-2.7 2.7-5.8 7.1-8.1 6.1c-2.4-1-6.8-8.2-6.2-12.3Z"/>
<ellipse class="c" style="stroke-width:1.8" cx="135.5" cy="409" rx="1.9" ry="3" transform="rotate(28 135.5 409)"/>
<ellipse class="c" style="stroke-width:1.8" cx="135.5" cy="409" rx="4" ry="6.4" transform="rotate(28 135.5 409)"/>
<ellipse class="c" style="stroke-width:1.8" cx="135.5" cy="409" rx="6.1" ry="9.8" transform="rotate(28 135.5 409)"/>
<ellipse class="c" style="stroke-width:1.8" cx="135.5" cy="409" rx="8.2" ry="13.2" transform="rotate(28 135.5 409)"/>
<ellipse class="c" style="stroke-width:1.8" cx="135.5" cy="409" rx="10.3" ry="16.6" transform="rotate(28 135.5 409)"/>
<ellipse class="c" style="stroke-width:1.8" cx="135.5" cy="409" rx="12.4" ry="20" transform="rotate(28 135.5 409)"/>
<path d="M125.3 419.6v-22l14 -6l10 12l-8 16z" fill="#000" fill-opacity="0.55"/>
<path class="c" style="stroke-width:1.6" d="M285.7 73.5c.8 2.4 2.5 10.3 4.9 14.3c2.4 3.9 6.5 8.7 9.4 9.3c2.9 .7 5.9-2 8.2-5.3c2.2-3.2 3.9-10.5 5.3-14.2c1.3-3.8 2.4-6.9 2.8-8.2"/>
<path class="c" style="stroke-width:1.6" d="M332.7 70.2c.4 2.9 .8 12.6 2.8 17.6c2.1 4.9 5.5 10.6 9.4 12.2c3.9 1.6 7.8-.8 14.3-2.9c6.4-2 15.6-6.4 24.5-9.3c8.8-3 20.4-6.6 28.5-8.2c8.2-1.6 14.3-1.9 20.5-1.2c6.1 .6 12.3 2 16.3 5.3c3.9 3.2 6.1 11.9 7.3 14.3"/>
<path class="c" d="M146.9 68.6c2.1 .9 7.5 5.1 12.3 5.7c4.7 .5 10.9-1.6 16.3-2.5c5.5-.8 13.6-2 16.3-2.4"/>
</g>
<rect class="ax" x="125.3" y="66" width="354.3" height="353.6"/>
<path class="tk" d="M125.3 419.6h-10M125.3 352.8h-10M125.3 286h-10M125.3 219.3h-10M125.3 152.5h-10M125.3 85.7h-10"/>
<path class="tm" d="M125.3 406.2h-4M125.3 392.9h-4M125.3 379.5h-4M125.3 366.2h-4M125.3 339.5h-4M125.3 326.1h-4M125.3 312.8h-4M125.3 299.4h-4M125.3 272.7h-4M125.3 259.3h-4M125.3 246h-4M125.3 232.6h-4M125.3 205.9h-4M125.3 192.5h-4M125.3 179.2h-4M125.3 165.8h-4M125.3 139.1h-4M125.3 125.8h-4M125.3 112.4h-4M125.3 99.1h-4M125.3 72.3h-4"/>
<text x="112.3" y="428.3" font-size="24.5" text-anchor="end">0</text>
<text x="112.3" y="361.9" font-size="24.5" text-anchor="end">50K</text>
<text x="112.3" y="295.5" font-size="24.5" text-anchor="end">100K</text>
<text x="112.3" y="229.2" font-size="24.5" text-anchor="end">150K</text>
<text x="112.3" y="162.8" font-size="24.5" text-anchor="end">200K</text>
<text x="112.3" y="96.4" font-size="24.5" text-anchor="end">250K</text>
<path class="tk" d="M125.3 419.6v10M192.1 419.6v10M258.9 419.6v10M325.6 419.6v10M392.4 419.6v10M459.2 419.6v10"/>
<path class="tm" d="M138.7 419.6v4M152 419.6v4M165.4 419.6v4M178.7 419.6v4M205.4 419.6v4M218.8 419.6v4M232.1 419.6v4M245.5 419.6v4M272.2 419.6v4M285.6 419.6v4M298.9 419.6v4M312.3 419.6v4M339 419.6v4M352.4 419.6v4M365.7 419.6v4M379.1 419.6v4M405.8 419.6v4M419.1 419.6v4M432.5 419.6v4M445.8 419.6v4M472.6 419.6v4"/>
<text x="128.3" y="455.7" font-size="24.5" text-anchor="middle">0</text>
<text x="202.1" y="455.7" font-size="24.5" text-anchor="middle">50K</text>
<text x="268.9" y="455.7" font-size="24.5" text-anchor="middle">100K</text>
<text x="335.6" y="455.7" font-size="24.5" text-anchor="middle">150K</text>
<text x="402.4" y="455.7" font-size="24.5" text-anchor="middle">200K</text>
<text x="469.2" y="455.7" font-size="24.5" text-anchor="middle">250K</text>
<text x="301.5" y="492" font-size="29" text-anchor="middle">FSC-A</text>
<text x="40" y="235" font-size="29" text-anchor="middle" transform="rotate(-90 40 235)">SSC-A</text>
<path class="g" d="M197 314L203 292L276 197L354 135L412 110L435 107L460 122L460 167L434 224L363 301L255 376L213 377.5L203 347L197 326Z"/>
<text x="339.6" y="366" font-size="24.8" class="r">BM cells</text>
<path class="g" d="M481 133.5L634.2 133.5"/><path fill="#d8382c" d="M647 133.5L634.2 140.7L634.2 126.3Z"/>
<path class="c" style="stroke-width:1.1" d="M733.5 97.5c1.2-.2 2.5-.1 3.5 4.5c1 4.6 1.8 6.7 2.5 23c.7 16.3 1 52.5 1.5 75c.5 22.5 .8 43.3 1.5 60c.8 16.7 2.3 29.2 3 40c.7 10.8 1.1 18.3 1 25c-.1 6.7-.7 11.6-1.5 15c-.8 3.4-2.2 5.8-3.5 5.5c-1.2-.3-2.8-2.9-4-7.5c-1.2-4.6-2-10.3-3-20c-1-9.7-2.1-23.3-3-38c-.9-14.7-1.8-31.7-2.5-50c-.7-18.3-1.3-41.7-1.5-60c-.2-18.3 .1-38.8 .5-50c.4-11.2 1.1-13.2 2-17c.9-3.8 2.3-5.3 3.5-5.5Z"/>
<path d="M733.5 105c.9 .3 2.1 1.2 3 7c.9 5.8 1.7 13.3 2.3 28c.6 14.7 .8 40 1.2 60c.5 20 .8 43.3 1.5 60c.7 16.7 2.2 29.2 2.8 40c.6 10.8 1 19 .7 25c-.3 6-1.5 10.2-2.5 11c-1 .8-2.3-2-3.5-6c-1.2-4-2.4-9.7-3.5-18c-1.1-8.3-2.1-18.3-3-32c-.9-13.7-1.7-31.7-2.3-50c-.6-18.3-1.3-42.5-1.4-60c-.1-17.5 .1-35 .5-45c.4-10 1-11.7 1.7-15c.7-3.3 1.6-5.3 2.5-5Z" fill="#000" stroke="#000" stroke-width="1.2"/>
<path d="M734.7 112v5" stroke="#fff" stroke-width="0.8" fill="none"/>
<path d="M735.7 129v3.4" stroke="#fff" stroke-width="0.8" fill="none"/>
<path d="M734.6 146v4.1" stroke="#fff" stroke-width="0.8" fill="none"/>
<path d="M735.7 163v5.4" stroke="#fff" stroke-width="0.8" fill="none"/>
<path d="M737.2 180v4.8" stroke="#fff" stroke-width="0.8" fill="none"/>
<path d="M737.3 197v5" stroke="#fff" stroke-width="0.8" fill="none"/>
<path d="M736.8 214v4.3" stroke="#fff" stroke-width="0.8" fill="none"/>
<path d="M737.3 231v5.7" stroke="#fff" stroke-width="0.8" fill="none"/>
<path d="M737.5 248v5.5" stroke="#fff" stroke-width="0.8" fill="none"/>
<path d="M738.1 265v5.1" stroke="#fff" stroke-width="0.8" fill="none"/>
<path d="M739.2 282v4.2" stroke="#fff" stroke-width="0.8" fill="none"/>
<path d="M740.9 299v3.1" stroke="#fff" stroke-width="0.8" fill="none"/>
<ellipse class="c" cx="740.6" cy="334" rx="3.4" ry="6" style="stroke-width:0.9"/>
<ellipse class="c" cx="742.3" cy="336.5" rx="3.4" ry="6" style="stroke-width:0.9"/>
<ellipse class="c" cx="741.5" cy="339" rx="3.4" ry="6" style="stroke-width:0.9"/>
<ellipse class="c" cx="740.7" cy="341.5" rx="3.4" ry="6" style="stroke-width:0.9"/>
<rect class="ax" x="649.7" y="69.7" width="354.1" height="353.3"/>
<path class="tk" d="M649.7 423h-10M649.7 356.2h-10M649.7 289.4h-10M649.7 222.6h-10M649.7 155.8h-10M649.7 89h-10"/>
<path class="tm" d="M649.7 409.6h-4M649.7 396.3h-4M649.7 382.9h-4M649.7 369.6h-4M649.7 342.8h-4M649.7 329.5h-4M649.7 316.1h-4M649.7 302.8h-4M649.7 276h-4M649.7 262.7h-4M649.7 249.3h-4M649.7 236h-4M649.7 209.2h-4M649.7 195.9h-4M649.7 182.5h-4M649.7 169.2h-4M649.7 142.4h-4M649.7 129.1h-4M649.7 115.7h-4M649.7 102.4h-4M649.7 75.6h-4"/>
<text x="636.7" y="429.7" font-size="24.5" text-anchor="end">0</text>
<text x="636.7" y="363.5" font-size="24.5" text-anchor="end">50K</text>
<text x="636.7" y="297.3" font-size="24.5" text-anchor="end">100K</text>
<text x="636.7" y="231.1" font-size="24.5" text-anchor="end">150K</text>
<text x="636.7" y="164.9" font-size="24.5" text-anchor="end">200K</text>
<text x="636.7" y="98.7" font-size="24.5" text-anchor="end">250K</text>
<path class="tk" d="M649.7 423v10M716.2 423v10M782.6 423v10M849.1 423v10M915.5 423v10M982 423v10"/>
<path class="tm" d="M663 423v4M676.3 423v4M689.6 423v4M702.9 423v4M729.5 423v4M742.7 423v4M756 423v4M769.3 423v4M795.9 423v4M809.2 423v4M822.5 423v4M835.8 423v4M862.4 423v4M875.7 423v4M889 423v4M902.2 423v4M928.8 423v4M942.1 423v4M955.4 423v4M968.7 423v4M995.3 423v4"/>
<text x="647.7" y="456.7" font-size="24.5" text-anchor="middle">0</text>
<text x="726.2" y="456.7" font-size="24.5" text-anchor="middle">50K</text>
<text x="792.6" y="456.7" font-size="24.5" text-anchor="middle">100K</text>
<text x="859.1" y="456.7" font-size="24.5" text-anchor="middle">150K</text>
<text x="925.5" y="456.7" font-size="24.5" text-anchor="middle">200K</text>
<text x="992" y="456.7" font-size="24.5" text-anchor="middle">250K</text>
<text x="826" y="496" font-size="29" text-anchor="middle">FSC-W</text>
<text x="566" y="237.7" font-size="29" text-anchor="middle" transform="rotate(-90 566 237.7)">FSC-H</text>
<rect class="g" x="719.7" y="79" width="29.3" height="294.5"/>
<text x="764" y="244.7" font-size="24.8" class="r">singlets</text>
<path class="g" d="M751 133.8L1167.2 133.8"/><path fill="#d8382c" d="M1180 133.8L1167.2 141L1167.2 126.6Z"/>
<path class="c" style="stroke-width:1.4" d="M1280.8 327c1-1.6 4.9-3.4 7.2-5.2c2.3-1.8 4.7-2 6.7-5.5c2-3.6 3.5-10.5 5.3-15.8c1.8-5.3 3.4-9.1 5.5-15.8c2.1-6.7 4.6-16.3 6.9-24.4c2.3-8.2 4.5-16.3 6.9-24.4c2.3-8.1 4.9-16.2 7.3-24.4c2.3-8.2 4.6-17.4 6.5-24.7c2-7.2 3.5-12.5 5.4-18.9c1.8-6.4 3.7-14.3 5.5-19.3c1.8-5 3.5-7 5.3-10.5c1.7-3.5 3.3-7.9 5.3-10.5c2-2.5 4.4-3.2 6.6-4.9c2.3-1.6 4.8-4.1 7.2-4.9c2.3-.8 4.7 .2 7 .4c2.3 .1 4.8-.5 6.9 .5c2.1 1 3.7 3.6 5.6 5.6c1.9 2 4.5 3 5.8 6.1c1.4 3.1 1.5 8.4 2.2 12.6c.7 4.1 1.7 7 1.9 12.6c.2 5.6-.5 14-.6 20.9c-.1 7 .2 12.9-.2 20.8c-.4 7.8-1.5 17.6-2.2 26.4c-.7 8.8-1.2 17.7-2.1 26.2c-.9 8.4-2.1 16.3-3.3 24.5c-1.2 8.1-2.2 17.5-3.7 24.5c-1.5 7-3.5 11.5-5.2 17.4c-1.8 5.8-3.2 12.8-5.3 17.5c-2 4.7-4.8 7.1-7 10.6c-2.3 3.5-3.7 8.2-6.6 10.4c-2.9 2.2-7 2.1-10.6 2.9c-3.6 .9-7.1 2.4-10.8 2.2c-3.8-.1-7.9-1.9-11.9-3.1c-4-1.2-8.5-2.3-12.3-3.9c-3.9-1.5-7.2-3.5-10.6-5.4c-3.5-1.8-7.6-4.3-10.3-5.8c-2.7-1.5-4.2-2.2-6.1-3.3c-2-1.1-4.5-2.1-5.7-3.4c-1.2-1.2-.9-2.5-1.4-3.9c-.4-1.3-2.1-2.6-1.1-4.1Z"/><path class="c" style="stroke-width:1.4" d="M1284.9 327.4c.8-1.5 4.2-3.6 6.4-5.3c2.2-1.8 4.8-1.9 6.8-5.3c1.9-3.5 3.3-10.3 4.9-15.5c1.7-5.2 3.1-9.1 5-15.8c2-6.7 4.5-16.1 6.7-24.3c2.3-8.2 4.5-16.6 6.8-24.7c2.2-8.2 4.5-16.2 6.8-24.3c2.3-8.1 5-17.3 7-24.5c2-7.3 3.2-12.6 4.9-18.9c1.7-6.3 3.6-14.2 5.3-19c1.7-4.7 3.2-6.2 4.8-9.6c1.6-3.3 3.1-7.9 5-10.4c2-2.5 4.5-3 6.7-4.5c2.2-1.6 4.3-4.1 6.5-4.7c2.2-.7 4.6 .5 6.8 .7c2.2 .2 4.4-.7 6.4 .3c2 1.1 3.7 4.1 5.5 6c1.8 1.8 4 2.4 5.2 5.3c1.3 3 1.5 8.2 2.1 12.3c.6 4.1 1.4 6.9 1.7 12.4c.3 5.4 .2 13.7 .1 20.5c-.1 6.9-.3 12.8-.7 20.5c-.4 7.7-1 17.1-1.7 25.7c-.6 8.6-1.2 17.5-2.1 25.9c-1 8.4-2.4 16.2-3.6 24.3c-1.1 8.1-1.9 17.4-3.4 24.3c-1.4 7-3.4 11.5-5.1 17.3c-1.7 5.7-3.1 12.8-5.1 17.4c-1.9 4.5-4.3 6.5-6.5 9.8c-2.2 3.4-3.9 8.1-6.8 10.3c-2.8 2.2-6.9 1.9-10.3 2.7c-3.5 .9-6.7 2.6-10.4 2.4c-3.6-.2-7.8-2.3-11.6-3.4c-3.9-1.2-8-1.9-11.5-3.4c-3.6-1.4-6.5-3.6-9.8-5.4c-3.4-1.8-7.5-3.9-10.1-5.3c-2.6-1.5-3.7-2.3-5.5-3.3c-1.7-1.1-4.1-1.9-5.1-3c-1-1.1-.5-2.3-.9-3.6c-.3-1.2-2.1-2.3-1.2-3.9Z"/><path class="c" style="stroke-width:1.4" d="M1288.5 327.7c.9-1.4 4.2-3.4 6.3-5.1c2.1-1.8 4.4-1.8 6.3-5.3c1.9-3.5 3.4-10.6 4.9-15.8c1.6-5.2 2.7-8.7 4.6-15.3c1.9-6.7 4.8-16.4 7-24.6c2.2-8.1 4.2-16.2 6.3-24.3c2.2-8.2 4.4-16.2 6.6-24.3c2.2-8.2 4.6-17.4 6.6-24.6c2-7.1 3.5-12.1 5.2-18.2c1.7-6.1 3.3-13.7 4.9-18.4c1.6-4.7 3.1-6.6 4.7-9.8c1.6-3.2 3-7.1 4.8-9.5c1.9-2.4 4.3-3.3 6.4-4.8c2-1.5 3.7-3.6 5.8-4.2c2-.6 4.5 .4 6.6 .6c2 .2 4.1-.2 5.9 .8c1.8 1 3.3 3.3 4.9 5.1c1.6 1.7 3.6 2.5 4.8 5.4c1.2 2.9 1.5 8 2.2 12.1c.7 4 1.5 7 1.8 12.3c.3 5.4 0 13.3-.1 19.9c-.1 6.7-.2 12.3-.6 19.9c-.4 7.6-1 17.1-1.7 25.6c-.6 8.5-1.3 17.3-2.2 25.5c-.9 8.3-2.3 15.9-3.3 24c-1.1 8-1.5 17.3-2.8 24.2c-1.4 6.9-3.6 11.5-5.3 17.1c-1.7 5.6-2.9 12.1-4.8 16.6c-2 4.4-4.6 6.6-6.9 10c-2.2 3.4-3.7 8.1-6.5 10.2c-2.7 2.2-6.7 1.7-10 2.5c-3.3 .7-6.2 2.3-9.6 2.2c-3.5-.1-7.4-2-11.2-3.1c-3.7-1-8-2.1-11.4-3.4c-3.4-1.4-6.1-3.1-9.1-4.8c-3.1-1.7-6.7-4.1-9.1-5.5c-2.3-1.4-3.3-1.9-5-2.8c-1.6-1-3.9-1.9-5-3c-1-1.1-.7-2.3-1-3.5c-.4-1.1-1.9-2.2-1-3.7Z"/><path class="c" style="stroke-width:1.5" d="M1292.5 327.9c.9-1.4 4-3.5 6-5.2c2.1-1.8 4.3-1.9 6-5.3c1.8-3.4 3-10 4.5-15c1.5-5.1 2.6-8.6 4.4-15.3c1.9-6.6 4.4-16.4 6.6-24.6c2.1-8.3 4.3-16.5 6.4-24.7c2.2-8.2 4.3-16.3 6.5-24.5c2.1-8.1 4.6-17.4 6.4-24.4c1.8-7.1 2.9-11.8 4.5-17.8c1.6-6 3.7-13.5 5.3-18c1.6-4.6 2.8-6 4.3-9.1c1.4-3 2.6-6.9 4.3-9.2c1.7-2.2 3.7-2.8 5.7-4.2c2-1.5 4.2-3.7 6.1-4.3c2-.6 3.7 .3 5.6 .5c2 .2 4.3-.3 6.1 .8c1.8 1.1 3.2 3.7 4.7 5.5c1.4 1.8 3.1 2.6 4.1 5.5c1 2.8 1.5 7.7 2.1 11.6c.7 3.9 1.5 6.5 1.7 11.6c.3 5.2-.2 13-.3 19.4c-.1 6.5 .1 11.8-.3 19.3c-.4 7.4-1.4 17-2 25.4c-.7 8.4-.9 16.7-1.7 24.8c-.7 8.2-2 16.2-3.1 24.3c-1 8-1.9 17.3-3.2 24c-1.2 6.8-2.9 11-4.5 16.5c-1.5 5.6-2.9 12.4-4.8 16.8c-1.8 4.4-4.4 6.4-6.5 9.6c-2.2 3.2-3.7 7.6-6.3 9.6c-2.7 2-6.5 1.5-9.7 2.3c-3.3 .8-6.5 2.8-9.9 2.6c-3.4-.1-7-2.2-10.7-3.3c-3.6-1.1-7.7-1.8-10.9-3c-3.2-1.3-5.5-3.1-8.3-4.6c-2.7-1.6-6-3.4-8.2-4.7c-2.1-1.3-3.1-2.2-4.6-3.2c-1.5-.9-3.5-1.6-4.4-2.7c-.9-1-.8-2.4-1.1-3.6c-.3-1.1-1.7-1.9-.8-3.4Z"/><path class="c" style="stroke-width:1.5" d="M1296.4 328.5c.8-1.4 3.7-3.3 5.5-5.1c1.9-1.7 3.8-1.9 5.4-5.4c1.7-3.5 3-10.3 4.5-15.4c1.5-5.1 3-8.5 4.7-15.1c1.8-6.6 3.7-16.3 5.7-24.5c2-8.1 4-16.2 6.1-24.3c2-8.2 4.2-16.5 6.3-24.6c2.1-8.2 4.4-17.3 6.2-24.3c1.9-7 3.2-11.9 4.8-17.7c1.6-5.8 3.5-12.8 5-17.2c1.6-4.3 2.9-5.9 4.3-8.8c1.4-2.9 2.6-6.5 4.2-8.7c1.6-2.2 3.7-3 5.5-4.3c1.7-1.3 3.2-3.2 4.9-3.8c1.8-.5 3.9 .5 5.7 .7c1.9 .1 4-.5 5.6 .4c1.6 1 2.8 3.6 4.2 5.4c1.4 1.7 3.1 2.3 4 5.1c1 2.8 1 7.7 1.6 11.6c.5 3.8 1.5 6.5 1.7 11.6c.3 5-.2 12.5-.3 18.7c-.1 6.3 0 11.6-.3 18.9c-.4 7.3-1.2 16.7-1.7 25c-.6 8.2-.6 16.4-1.4 24.5c-.7 8-2 15.8-3.1 23.8c-1 7.9-1.9 17-3.2 23.7c-1.3 6.7-3 10.9-4.5 16.4c-1.5 5.6-2.6 12.4-4.4 16.7c-1.8 4.4-4.3 6.3-6.5 9.4c-2.1 3.1-3.7 7.2-6.4 9.1c-2.6 1.9-6.2 1.4-9.3 2.1c-3.1 .8-5.9 2.4-9.2 2.3c-3.3-0-7.2-1.6-10.6-2.6c-3.4-.9-6.8-1.8-9.8-3.1c-2.9-1.3-5.2-3.1-7.8-4.6c-2.7-1.4-6-3-8-4.2c-1.9-1.2-2.6-2-3.9-2.9c-1.2-.9-2.9-1.8-3.7-2.8c-.7-.9-.6-1.7-1-2.7c-.3-1-1.6-1.9-.8-3.3Z"/><path class="c" style="stroke-width:1.6" d="M1300.6 328.8c.8-1.4 3.4-3.5 5.1-5.2c1.7-1.7 3.5-1.9 5-5.2c1.6-3.4 2.9-10.1 4.3-15.1c1.4-5 2.5-8.4 4.2-14.9c1.6-6.5 3.8-16.2 5.7-24.3c2-8.2 4-16.6 5.9-24.7c2-8.2 3.8-16.2 5.8-24.3c2.1-8.2 4.5-17.8 6.3-24.7c1.8-6.9 3.1-11.3 4.6-17c1.6-5.6 3.3-12.7 4.7-16.9c1.5-4.2 2.7-5.7 4.1-8.5c1.3-2.8 2.5-6.3 4-8.3c1.5-2 3.2-2.4 4.8-3.6c1.7-1.3 3.4-3.3 5.1-3.8c1.7-.5 3.5 .4 5.2 .6c1.7 .2 3.5-.4 4.9 .5c1.4 1 2.4 3.5 3.7 5.2c1.3 1.8 3.1 2.6 4 5.3c.8 2.7 .7 7.2 1.2 10.9c.5 3.6 1.6 6.2 1.9 11.1c.2 4.9-.1 12.1-.2 18.2c-0 6.2 .1 11.4-.2 18.5c-.3 7.2-1.2 16.2-1.7 24.4c-.6 8.1-1 16.8-1.8 24.8c-.7 8.1-1.7 15.7-2.7 23.5c-1 7.8-1.8 16.7-3.1 23.4c-1.2 6.6-2.8 10.9-4.2 16.3c-1.4 5.5-2.6 12.1-4.3 16.3c-1.8 4.2-4.2 6.1-6.3 9.1c-2.1 3.1-3.7 7.2-6.3 9.1c-2.6 1.9-6.2 1.5-9.2 2.2c-3 .7-5.9 2.1-8.9 1.9c-3.1-.1-6.3-1.8-9.5-2.7c-3.2-1-7-1.9-9.8-3.1c-2.8-1.1-4.5-2.4-6.9-3.8c-2.3-1.4-5.4-3.3-7.2-4.4c-1.8-1.1-2.4-1.3-3.5-2.1c-1.2-.8-2.7-1.9-3.4-2.8c-.7-.9-.8-1.7-1-2.7c-.2-1-1.1-1.8-.3-3.2Z"/><path class="c" style="stroke-width:1.6" d="M1304.3 329.5c.7-1.3 3.2-3.5 4.8-5.3c1.6-1.8 3-2.1 4.5-5.6c1.5-3.4 2.9-10.1 4.3-15.1c1.4-4.9 2.3-8.1 3.9-14.5c1.6-6.5 3.8-16 5.7-24.2c1.9-8.1 3.7-16.5 5.6-24.7c1.9-8.2 4-16.4 5.9-24.6c2-8.2 4.2-17.7 5.9-24.6c1.8-6.8 3.1-11.1 4.7-16.6c1.5-5.5 3-12.5 4.4-16.6c1.3-4 2.5-5.3 3.7-7.9c1.1-2.6 2-5.7 3.4-7.6c1.4-1.8 3.3-2.2 4.9-3.4c1.6-1.1 3.1-3 4.6-3.5c1.5-.4 2.8 .4 4.4 .6c1.5 .2 3.5-.4 4.9 .5c1.4 .9 2.1 3.3 3.3 5c1.1 1.7 2.8 2.5 3.7 5.2c.8 2.6 1 7.1 1.4 10.7c.4 3.6 .9 6.1 1.1 10.9c.1 4.7 0 11.6 0 17.5c0 5.9 .3 10.9-.1 17.9c-.3 7-1.2 16.2-1.7 24.2c-.5 8.1-.6 16.1-1.3 24c-.7 7.9-2 15.6-3 23.5c-.9 7.9-1.4 17.1-2.6 23.8c-1.2 6.6-3 10.6-4.4 15.8c-1.4 5.3-2.4 11.6-4.1 15.7c-1.7 4.1-4.1 5.9-6 8.9c-2 2.9-3.2 6.9-5.7 8.7c-2.5 1.8-6.4 1.5-9.4 2.2c-2.9 .7-5.6 2-8.6 1.9c-3-.1-6.2-1.7-9.2-2.6c-3.1-.9-6.3-1.7-8.9-2.8c-2.6-1-4.5-2.2-6.6-3.5c-2.1-1.2-4.6-3-6.1-4.1c-1.5-1.1-1.9-1.7-3-2.4c-1-.7-2.7-1.3-3.4-2.1c-.6-.8-.1-1.7-.3-2.5c-.2-.9-1.4-1.4-.7-2.8Z"/><path class="c" style="stroke-width:1.6" d="M1308.2 329.9c.7-1.3 3.1-3.8 4.6-5.6c1.5-1.8 2.9-2.2 4.2-5.5c1.4-3.3 2.6-9.4 3.8-14.3c1.3-4.8 2.1-8.1 3.6-14.6c1.5-6.5 3.6-16.2 5.4-24.4c1.9-8.2 3.7-16.3 5.6-24.5c1.9-8.2 3.9-16.4 5.9-24.6c1.9-8.2 4.1-17.9 5.8-24.7c1.6-6.9 2.7-10.9 4.2-16.3c1.4-5.3 3.1-12 4.4-15.8c1.3-3.9 2.1-4.9 3.2-7.4c1.2-2.5 2.3-5.9 3.5-7.7c1.3-1.9 2.7-2 4.1-3.2c1.4-1.1 2.8-3.1 4.3-3.5c1.4-.4 2.8 .9 4.2 1.2c1.5 .3 3.2-.2 4.4 .6c1.3 .9 2.1 3 3.1 4.5c1.1 1.6 2.6 2.3 3.3 4.9c.7 2.6 .6 7.2 1 10.7c.4 3.5 1.2 5.6 1.5 10.2c.3 4.6 .1 11.5 0 17.3c-.1 5.8-.2 10.6-.5 17.5c-.3 6.9-.7 16.1-1.1 24c-.5 7.9-.9 15.8-1.6 23.6c-.6 7.8-1.7 15.4-2.5 23.1c-.9 7.8-1.5 16.7-2.6 23.3c-1.2 6.5-3.1 10.7-4.5 16c-1.3 5.2-2 11.6-3.7 15.6c-1.6 4-4.1 5.7-6 8.5c-2 2.8-3.2 6.3-5.6 8.1c-2.5 1.7-6 1.7-8.9 2.4c-2.9 .7-5.8 1.7-8.7 1.6c-2.8-.1-5.6-1.4-8.4-2.2c-2.8-.8-6-1.4-8.3-2.5c-2.4-1.1-3.9-2.7-5.7-3.9c-1.9-1.2-4.2-2.5-5.6-3.3c-1.3-.9-1.6-1.2-2.6-1.9c-1-.7-2.6-1.5-3.1-2.3c-.6-.8-.2-1.9-.3-2.7c-.1-.9-1.1-1-.4-2.2Z"/><path class="c" style="stroke-width:1.7" d="M1312.4 330.2c.7-1.3 2.4-3.6 3.7-5.5c1.2-1.8 2.5-2.3 3.8-5.6c1.2-3.2 2.6-9.3 3.8-14.1c1.2-4.7 1.9-7.8 3.3-14.3c1.4-6.5 3.5-16.6 5.2-24.8c1.7-8.3 3.5-16.4 5.3-24.5c1.8-8.2 3.6-16.1 5.5-24.3c1.8-8.2 4-18 5.7-24.7c1.7-6.8 2.9-10.6 4.4-15.8c1.4-5.2 3.1-11.6 4.3-15.3c1.2-3.8 2-4.9 3-7.3c1.1-2.4 2-5.3 3.2-7c1.1-1.7 2.5-2.2 3.7-3.2c1.3-1 2.5-2.4 3.8-2.8c1.3-.4 2.7 .2 4 .5c1.3 .3 2.6 .2 3.7 1.2c1.1 1 2 3.1 2.9 4.6c1 1.6 2.3 2.1 3 4.6c.6 2.4 .6 6.8 .9 10.2c.4 3.4 1 5.7 1.2 10.2c.2 4.4 .2 10.9 .2 16.5c-0 5.7-.2 10.5-.4 17.2c-.3 6.8-.7 15.7-1.1 23.4c-.4 7.8-.7 15.4-1.4 23.1c-.7 7.7-1.8 15.4-2.6 23.1c-.8 7.7-1.4 16.8-2.5 23.2c-1 6.5-2.7 10.4-4 15.5c-1.3 5.1-2.4 11.5-4 15.4c-1.5 3.9-3.4 5.4-5.3 8.1c-1.8 2.7-3.4 6.4-5.8 8c-2.3 1.7-5.7 1.2-8.5 1.9c-2.7 .7-5.3 2.4-8.1 2.3c-2.7-.1-5.5-1.9-8.2-2.7c-2.8-.8-5.9-1.2-8.1-2.1c-2.2-.9-3.3-2.4-4.9-3.5c-1.7-1.1-3.7-2.3-4.9-3.1c-1.2-.9-1.6-1.4-2.4-2c-.7-.6-1.6-1-2-1.7c-.4-.7-.4-1.8-.4-2.6c-.1-.7-.6-.8 0-2.1Z"/><path class="c" style="stroke-width:1.7" d="M1316.2 330.4c.6-1.2 2.1-3.4 3.3-5.3c1.2-1.8 2.5-2.3 3.7-5.6c1.2-3.4 2.2-9.6 3.4-14.4c1.1-4.7 1.9-7.6 3.2-14.1c1.4-6.4 3.3-16.3 5-24.5c1.7-8.2 3.5-16.4 5.2-24.5c1.8-8.2 3.5-16.3 5.2-24.4c1.8-8.1 3.7-17.7 5.4-24.2c1.6-6.6 3.1-10.1 4.5-15.2c1.4-5.2 2.7-11.8 3.8-15.6c1.1-3.7 2-4.6 2.9-6.7c1-2.2 1.9-4.8 2.9-6.3c1.1-1.5 2.3-1.8 3.4-2.8c1.1-1 2.2-2.7 3.4-3.1c1.2-.4 2.6 .6 3.7 1c1.2 .3 2.3 .1 3.3 1c.9 .9 1.7 2.8 2.5 4.3c.9 1.5 1.9 2.3 2.5 4.7c.6 2.4 .8 6.4 1.1 9.7c.3 3.3 .6 5.7 .8 10.1c.2 4.4 .2 10.8 .2 16.2c0 5.4 .3 9.7-0 16.2c-.3 6.5-1.1 15.3-1.5 23c-.5 7.6-.9 15.3-1.4 23c-.6 7.7-1.3 15.5-2.1 23.1c-.8 7.6-1.8 16.4-2.8 22.7c-1.1 6.4-2.4 10.4-3.5 15.5c-1.2 5.1-2 11.3-3.5 15.1c-1.5 3.8-3.9 5.1-5.7 7.6c-1.8 2.6-2.9 6.3-5.1 7.8c-2.2 1.6-5.5 1.1-8.3 1.7c-2.7 .6-5.6 2.1-8.2 2.1c-2.6-0-4.8-1.3-7.3-2c-2.5-.8-5.6-1.8-7.6-2.6c-1.9-.8-2.7-1.6-4.1-2.5c-1.5-.9-3.6-2.2-4.6-3c-1.1-.8-1-1.4-1.6-2c-.6-.6-1.7-1-2-1.6c-.4-.7-.1-1.4-.2-2.1c0-.8-.4-1 .1-2.3Z"/>
<path d="M1320.1 331.1c.5-1.2 2.1-3.8 3.1-5.6c1.1-1.9 2.1-2.4 3.2-5.6c1-3.3 2.1-9.3 3.1-14c1.1-4.7 1.9-7.6 3.2-14c1.3-6.4 3.1-16.3 4.7-24.5c1.6-8.2 3.1-16.3 4.7-24.5c1.7-8.1 3.5-16.3 5.3-24.5c1.7-8.1 3.7-17.9 5.2-24.5c1.6-6.5 2.7-9.9 4-14.8c1.4-5 3-11.4 4.1-14.9c1.1-3.5 1.7-4.1 2.6-6.1c.9-2.1 1.7-4.7 2.6-6.1c1-1.5 2-1.8 3-2.7c1-.8 1.9-2.3 3-2.6c1-.3 2.1 .6 3.1 .9c1.1 .3 2.3-0 3.2 .9c.8 .8 1.4 2.9 2.1 4.3c.7 1.5 1.6 2.1 2.1 4.4c.5 2.3 .5 6.4 .8 9.6c.3 3.2 .8 5.4 .9 9.6c.2 4.3 0 10.5 0 15.8c0 5.2 .2 9.3 0 15.7c-.2 6.4-.8 15.2-1.2 22.8c-.4 7.6-.7 15.1-1.2 22.7c-.6 7.6-1.6 15.2-2.3 22.8c-.8 7.5-1.3 16.4-2.3 22.7c-.9 6.3-2.3 9.9-3.5 14.9c-1.2 4.9-2 11.1-3.5 14.8c-1.4 3.8-3.5 5-5.2 7.6c-1.8 2.5-3.1 5.9-5.3 7.5c-2.2 1.5-5.2 1.1-7.9 1.7c-2.6 .6-5.3 1.8-7.8 1.8c-2.5-.1-4.7-1.4-7-2.1c-2.4-.7-5.3-1.4-7-2.1c-1.8-.8-2.3-1.7-3.5-2.5c-1.2-.8-2.7-1.7-3.5-2.4c-.8-.7-.9-1.2-1.4-1.8c-.5-.6-1.2-1.1-1.4-1.7c-.2-.6-0-1.2-0-1.8c-0-.6-.5-.5-0-1.7Z" fill="#000" fill-opacity="0.86" stroke="#000" stroke-width="1.4"/>
<path d="M1324.9 330.6c.4-1.1 1.7-3.2 2.5-4.8c.9-1.6 1.8-2.1 2.7-4.9c.9-2.8 1.8-8 2.8-12c.9-3.9 1.6-6.4 2.8-11.7c1.1-5.3 2.7-13.5 4-20.2c1.4-6.7 2.6-13.4 4-20.1c1.4-6.7 2.9-13.4 4.4-20.1c1.4-6.7 3.1-14.7 4.3-20.1c1.3-5.3 2.3-8.1 3.4-12.2c1.1-4 2.4-9.3 3.3-12.2c.9-2.8 1.4-3.3 2.1-5c.8-1.6 1.4-3.8 2.2-5c.8-1.2 1.6-1.4 2.5-2.1c.8-.8 1.6-2 2.4-2.2c.9-.2 1.7 .5 2.6 .7c.9 .3 1.9 0 2.6 .8c.7 .7 1.2 2.3 1.7 3.5c.6 1.2 1.4 1.7 1.8 3.6c.4 1.9 .5 5.3 .7 7.9c.3 2.7 .6 4.4 .7 7.9c.2 3.5 .1 8.6 .1 12.9c-0 4.3 .1 7.7-0 13c-.2 5.2-.7 12.4-1 18.6c-.3 6.2-.5 12.5-.9 18.7c-.5 6.2-1.2 12.4-1.8 18.7c-.6 6.3-1 13.6-1.7 18.8c-.7 5.2-1.8 8.2-2.7 12.5c-.9 4.2-1.5 9.6-2.7 12.9c-1.2 3.3-3 4.6-4.5 6.8c-1.5 2.2-2.7 5.2-4.6 6.6c-1.9 1.4-4.6 1.1-6.9 1.6c-2.2 .5-4.6 1.4-6.8 1.3c-2.1-.1-4-1.3-6-1.9c-1.9-.7-4.4-1.3-5.8-2c-1.5-.7-2-1.4-3-2.1c-1-.7-2.2-1.6-2.9-2.2c-.7-.6-.8-1-1.2-1.5c-.3-.5-.9-1-1.1-1.5c-.2-.5-0-1-0-1.5c-0-.5-.5-.5-0-1.5Z" fill="none" stroke="#fff" stroke-width="0.8" stroke-dasharray="4 3"/>
<path d="M1329.6 330.1c.4-.9 1.4-2.7 2-4c.7-1.4 1.4-1.8 2.1-4.2c.8-2.3 1.7-6.7 2.5-10c.8-3.2 1.5-5.2 2.4-9.4c1-4.2 2.4-10.6 3.5-15.9c1.1-5.3 2.1-10.5 3.2-15.7c1.2-5.2 2.4-10.5 3.5-15.7c1.2-5.2 2.4-11.5 3.5-15.7c1-4.2 1.7-6.3 2.6-9.5c.9-3.2 1.9-7.3 2.6-9.5c.7-2.2 1.1-2.6 1.7-3.9c.6-1.3 1.1-3 1.7-3.9c.6-1 1.3-1.1 1.9-1.7c.7-.6 1.3-1.5 2-1.7c.6-.2 1.3 .4 2 .6c.7 .2 1.5-0 2.1 .5c.5 .6 .9 1.9 1.3 2.9c.5 .9 1.1 1.3 1.4 2.8c.3 1.5 .4 4.1 .6 6.1c.2 2.1 .5 3.5 .6 6.2c.1 2.7 0 6.7 0 10.1c0 3.3 .2 6 .1 10.1c-.1 4.1-.5 9.7-.7 14.6c-.3 4.8-.4 9.7-.7 14.6c-.3 4.9-.9 9.7-1.3 14.6c-.4 5-.6 10.8-1.1 14.9c-.5 4.2-1.2 6.6-1.9 10.1c-.6 3.5-1 8.2-2 11c-.9 2.8-2.3 4.1-3.6 6c-1.3 2-2.4 4.6-4.1 5.7c-1.6 1.2-3.9 1-5.8 1.4c-1.9 .4-3.9 1.1-5.7 1c-1.8-.2-3.4-1.2-5-1.8c-1.6-.6-3.6-1.2-4.8-1.8c-1.2-.6-1.6-1.3-2.3-1.9c-.8-.6-1.8-1.3-2.4-1.8c-.5-.6-.6-.9-.9-1.3c-.3-.4-.8-.9-.9-1.3c-.2-.4-0-.8-.1-1.2c0-.5-.3-.4 0-1.3Z" fill="none" stroke="#fff" stroke-width="0.8" stroke-dasharray="3 4"/>
<path d="M1334.4 329.6c.2-.7 .9-2.2 1.4-3.3c.5-1.1 1-1.5 1.6-3.4c.6-1.9 1.4-5.4 2.1-7.9c.7-2.6 1.3-4.1 2.1-7.2c.8-3.1 2-7.8 2.8-11.6c.9-3.8 1.7-7.6 2.5-11.3c.9-3.8 1.8-7.5 2.6-11.3c.9-3.8 1.8-8.3 2.6-11.3c.7-3 1.3-4.5 1.9-6.8c.6-2.3 1.4-5.2 1.9-6.8c.5-1.7 .8-1.9 1.3-2.9c.4-.9 .8-2.1 1.2-2.8c.4-.6 .9-.8 1.4-1.2c.5-.4 .9-1 1.4-1.2c.5-.1 1 .3 1.5 .4c.5 .2 1.1 0 1.5 .4c.4 .4 .7 1.4 1 2.1c.3 .6 .8 .9 1 2c.3 1.1 .3 2.9 .5 4.4c.1 1.5 .3 2.5 .4 4.5c.1 1.9 0 4.8 .1 7.2c-0 2.4 .1 4.3 0 7.3c-0 3-.3 7-.4 10.5c-.1 3.5-.2 7-.4 10.6c-.2 3.5-.5 7-.7 10.6c-.3 3.6-.3 7.9-.6 11c-.3 3.1-.7 4.8-1.1 7.6c-.4 2.8-.5 6.7-1.2 9.1c-.7 2.4-1.8 3.6-2.8 5.3c-1.1 1.7-2.1 3.8-3.5 4.8c-1.4 1-3.2 .9-4.8 1.2c-1.6 .3-3.2 .7-4.7 .5c-1.4-.2-2.6-1-3.9-1.6c-1.3-.5-2.8-1.1-3.7-1.7c-.9-.5-1.2-1-1.8-1.5c-.6-.6-1.4-1.2-1.8-1.6c-.4-.4-.4-.7-.7-1c-.2-.4-.5-.7-.6-1.1c-.2-.3-.1-.6-.1-1c0-.3-.2-.3 0-1Z" fill="none" stroke="#fff" stroke-width="0.8" stroke-dasharray="5 3"/>
<path d="M1339.2 329.1c.1-.5 .5-1.6 .8-2.5c.4-.8 .6-1.2 1.1-2.6c.4-1.5 1.2-4.2 1.7-6c.6-1.8 1.1-2.8 1.8-4.9c.7-2 1.5-4.9 2.2-7.3c.6-2.4 1.2-4.6 1.7-6.9c.6-2.3 1.2-4.6 1.8-6.9c.5-2.3 1.1-5 1.6-6.9c.5-1.8 .8-2.8 1.2-4.1c.4-1.4 .9-3.2 1.2-4.2c.4-1 .5-1.1 .8-1.7c.3-.6 .5-1.3 .8-1.7c.3-.4 .6-.5 .9-.7c.3-.3 .6-.7 .9-.8c.3-.1 .6 .2 .9 .3c.3 .1 .7-0 .9 .2c.3 .3 .5 .9 .7 1.3c.2 .4 .5 .6 .6 1.2c.2 .7 .2 1.8 .3 2.7c.1 .9 .3 1.5 .3 2.7c.1 1.2 .1 3 .1 4.5c.1 1.4 .1 2.6 .1 4.4c0 1.8-.1 4.3-.2 6.4c0 2.2 0 4.4-0 6.5c-.1 2.2-.3 4.4-.3 6.6c-.1 2.3 .1 5 0 7.1c-0 2-.2 3.2-.3 5.2c-.1 2.1-0 5.2-.4 7.2c-.5 1.9-1.3 3.1-2.1 4.5c-.8 1.4-1.8 3.1-2.9 3.9c-1.1 .8-2.5 .8-3.7 1c-1.3 .2-2.5 .4-3.6 .2c-1.1-.3-2-1-3-1.5c-.9-.5-1.9-1-2.5-1.5c-.7-.5-.9-.9-1.3-1.3c-.4-.4-.9-.9-1.1-1.2c-.3-.4-.4-.6-.5-.9c-.2-.2-.4-.5-.5-.8c-0-.2 0-.5 0-.7c-0-.3-.2-.2-0-.8Z" fill="none" stroke="#fff" stroke-width="0.8" stroke-dasharray="3 3"/>
<path d="M1366.6 221.9c-.4 4.7-1.3 18.1-2.4 28c-1.2 9.9-3.1 22.2-4.6 31.5c-1.5 9.3-3.8 20.4-4.5 24.5" fill="none" stroke="#fff" stroke-width="1.6" stroke-opacity="0.9"/>
<ellipse cx="1351.6" cy="327.6" rx="9" ry="12" fill="#fff" stroke="#000" stroke-width="1.3"/>
<ellipse cx="1351.6" cy="327.6" rx="5.6" ry="8.4" fill="none" stroke="#000" stroke-width="1.5"/>
<path d="M1351.6 316.4c.6-2.9 2.3-12.3 3.5-17.5c1.1-5.3 2.5-10.5 3.5-14c.9-3.5 1.7-5.8 2.1-7" fill="none" stroke="#fff" stroke-width="3"/>
<clipPath id="ca3"><rect x="1182" y="72" width="353" height="353"/></clipPath>
<g clip-path="url(#ca3)">
<path class="c" style="stroke-width:1.2" d="M1182 187c.3 2 1.5 5.3 2.1 12c.6 6.7 1.2 4.5 1.4 28c.2 23.5 .2 90.2 0 113c-.2 22.8-.5 19-1 24c-.6 5-2.1 5-2.5 6"/>
<path class="c" style="stroke-width:1.2" d="M1182 210c.5 2 2.2 5.3 3 12c.8 6.7 1.7 8.7 2 28c.3 19.3 .2 69.3 0 88c-.2 18.7-.7 19-1.5 24c-.8 5-2.9 5-3.5 6"/>
<path class="c" style="stroke-width:1.2" d="M1182 250c.4 2 1.8 5.3 2.5 12c.7 6.7 1.4 15.8 1.7 28c.3 12.2 .2 33.5 0 45c-.2 11.5-.6 19-1.3 24c-.7 5-2.4 5-2.9 6"/>
<path class="c" style="stroke-width:1.2" d="M1182 280c.3 2 1.3 5.3 1.8 12c.5 6.7 1 21.7 1.2 28c.2 6.3 .2 4.3 0 10c-.2 5.7-.4 19-.9 24c-.5 5-1.8 5-2.1 6"/>
<path d="M1182 212L1185 222L1186.6 250V352L1185 366L1182 369Z" fill="#000" fill-opacity="0.85"/>
</g>
<path class="g" d="M1183.2 425L1183.2 91.4L1399.2 91.4L1399.2 425"/>
<rect class="ax" x="1182" y="72" width="353" height="353"/>
<path class="tk" d="M1182 425h-10M1182 358.3h-10M1182 291.6h-10M1182 224.8h-10M1182 158.1h-10M1182 91.4h-10"/>
<path class="tm" d="M1182 411.7h-4M1182 398.3h-4M1182 385h-4M1182 371.6h-4M1182 344.9h-4M1182 331.6h-4M1182 318.2h-4M1182 304.9h-4M1182 278.2h-4M1182 264.9h-4M1182 251.5h-4M1182 238.2h-4M1182 211.5h-4M1182 198.2h-4M1182 184.8h-4M1182 171.5h-4M1182 144.8h-4M1182 131.4h-4M1182 118.1h-4M1182 104.7h-4M1182 78.1h-4"/>
<text x="1169" y="432.7" font-size="24.5" text-anchor="end">0</text>
<text x="1169" y="365.8" font-size="24.5" text-anchor="end">50K</text>
<text x="1169" y="298.9" font-size="24.5" text-anchor="end">100K</text>
<text x="1169" y="231.9" font-size="24.5" text-anchor="end">150K</text>
<text x="1169" y="165" font-size="24.5" text-anchor="end">200K</text>
<text x="1169" y="98.1" font-size="24.5" text-anchor="end">250K</text>
<path class="tk" d="M1182 425v10M1246 425v10M1310 425v10M1374.4 425v10M1438.4 425v10M1503.8 425v10"/>
<path class="tm" d="M1201.3 425v4M1212.5 425v4M1220.5 425v4M1226.7 425v4M1231.8 425v4M1236.1 425v4M1239.8 425v4M1243.1 425v4M1265.3 425v4M1276.5 425v4M1284.5 425v4M1290.7 425v4M1295.8 425v4M1300.1 425v4M1303.8 425v4M1307.1 425v4M1329.3 425v4M1340.5 425v4M1348.5 425v4M1354.7 425v4M1359.8 425v4M1364.1 425v4M1367.8 425v4M1371.1 425v4M1393.7 425v4M1404.9 425v4M1412.9 425v4M1419.1 425v4M1424.2 425v4M1428.5 425v4M1432.2 425v4M1435.5 425v4M1457.7 425v4M1468.9 425v4M1476.9 425v4M1483.1 425v4M1488.2 425v4M1492.5 425v4M1496.2 425v4M1499.5 425v4M1523.1 425v4"/>
<text transform="translate(1190.5 459.6) scale(0.97 1)" font-size="25" text-anchor="middle">10<tspan font-size="14.5" dy="-9">0</tspan></text>
<text transform="translate(1254.5 459.6) scale(0.97 1)" font-size="25" text-anchor="middle">10<tspan font-size="14.5" dy="-9">1</tspan></text>
<text transform="translate(1318.5 459.6) scale(0.97 1)" font-size="25" text-anchor="middle">10<tspan font-size="14.5" dy="-9">2</tspan></text>
<text transform="translate(1382.9 459.6) scale(0.97 1)" font-size="25" text-anchor="middle">10<tspan font-size="14.5" dy="-9">3</tspan></text>
<text transform="translate(1446.9 459.6) scale(0.97 1)" font-size="25" text-anchor="middle">10<tspan font-size="14.5" dy="-9">4</tspan></text>
<text transform="translate(1512.3 459.6) scale(0.97 1)" font-size="25" text-anchor="middle">10<tspan font-size="14.5" dy="-9">5</tspan></text>
<text x="1371" y="496" font-size="29" text-anchor="middle">lin-AmCyan</text>
<text x="1095" y="226.5" font-size="29" text-anchor="middle" transform="rotate(-90 1095 226.5)">SSC-A</text>
<text x="1437" y="381" font-size="24.8" class="r">lin<tspan font-size="15" dy="-8">-</tspan><tspan dy="8"> cells</tspan></text>
<path class="g" d="M1224 426L1224 538.4"/>
<path class="g" d="M267.8 538.4L1573 538.4"/>
<path class="g" d="M267.8 538.4L267.8 557.2"/><path fill="#d8382c" d="M267.8 570L260.6 557.2L275 557.2Z"/>
<path class="g" d="M825.3 538.4L825.3 558.7"/><path fill="#d8382c" d="M825.3 571.5L818.1 558.7L832.5 558.7Z"/>
<path class="g" d="M1348 538.4L1348 557.7"/><path fill="#d8382c" d="M1348 570.5L1340.8 557.7L1355.2 557.7Z"/>
<path class="g" d="M1573 538.4L1573 1104L1552.8 1104"/><path fill="#d8382c" d="M1540 1104L1552.8 1096.8L1552.8 1111.2Z"/>
<path class="c" style="stroke-width:1.3" d="M236.7 663.7c.9-6 5.7-9.6 11.5-13.1c5.7-3.5 13.6-6 22.8-8.2c9.3-2.1 24-4.8 32.7-4.8c8.7-0 15.2 1.6 19.6 4.8c4.3 3.3 4.9 8.5 6.5 14.7c1.6 6.3 1.6 16.9 3.3 22.9c1.6 6 2.7 10.1 6.5 13.1c3.8 3 11.4 2.7 16.3 4.9c4.9 2.1 8.2 5.7 13.1 8.1c4.9 2.5 12.5 2.7 16.3 6.6c3.8 3.8 6 10.3 6.5 16.3c.6 6-1.1 12.5-3.2 19.6c-2.2 7-5.5 15.8-9.8 22.8c-4.4 7.1-11.5 12.5-16.4 19.6c-4.8 7.1-8.7 14.2-13 22.9c-4.4 8.7-8.7 20.1-13.1 29.4c-4.3 9.2-8.7 20.9-13 26.1c-4.4 5.2-7.1 4.9-13.1 4.9c-6-0-15.2-1.9-22.9-4.9c-7.6-3-16.6-6.5-22.8-13.1c-6.3-6.5-11.2-16.3-14.7-26.1c-3.5-9.8-5.2-22.3-6.5-32.6c-1.4-10.4-2.5-19.1-1.7-29.4c.8-10.4 4.9-22.9 6.6-32.7c1.6-9.8 4-17.9 3.2-26.1c-.8-8.2-5.7-15.3-8.1-22.9c-2.5-7.6-7.4-16.8-6.6-22.8Z"/>
<path class="c" style="stroke-width:1.3" d="M241 665.3c.7-5.5 5.1-8.8 10.4-12.1c5.3-3.2 12.5-5.4 21.3-7.5c8.7-2.1 22.8-4.9 31-4.9c8.1 0 14.1 1.9 17.9 4.9c3.8 3 3.7 7.1 4.9 13.1c1.3 6 1 16.6 2.6 22.8c1.7 6.3 3 11.2 7.2 14.7c4.2 3.6 12.8 3.8 18 6.6c5.2 2.7 9 7.3 13 9.8c4.1 2.4 8.5 1.9 11.5 4.9c3 2.9 6.1 7.8 6.5 13c.4 5.2-1.2 15.3-3.9 18c-2.7 2.7-10.1-2.7-12.4-1.7c-2.4 1.1 .3 1.4-1.7 8.2c-1.9 6.8-6.2 23.1-9.7 32.7c-3.6 9.5-7.4 15.5-11.5 24.4c-4.1 9-9 20.5-13 29.4c-4.1 9-7.7 19.7-11.5 24.5c-3.8 4.9-6 4.6-11.4 4.6c-5.4-0-14.1-1.6-21.2-4.6c-7.1-2.9-15.4-6.8-21.2-13c-5.9-6.3-10.7-15.3-14.1-24.5c-3.4-9.3-5.2-21-6.5-31c-1.4-10.1-2.5-19.1-1.6-29.4c.8-10.4 4.8-22.9 6.5-32.7c1.6-9.8 4.1-17.9 3.2-26.1c-.8-8.2-5.7-15.5-8.1-22.9c-2.4-7.3-6.9-15.6-6.2-21.2Z"/>
<path class="c" style="stroke-width:1.4" d="M245.2 665.5c.3-2.4 3.5-2.9 5.1-4.7c1.5-1.7 1.8-4.1 4.2-5.5c2.4-1.5 7-2.1 10.2-3.2c3.3-1.1 5.4-2.7 9.4-3.6c4-.9 9.9-1.2 14.8-2c4.8-.8 10.6-2.6 14.4-2.7c3.8-.1 6 1.5 8.6 2.3c2.6 .8 5.6 1.2 7.2 2.5c1.6 1.4 1.9 3.4 2.7 5.4c.8 2 1.7 3.6 2.2 6.6c.4 3 .3 7.6 .6 11.4c.2 3.7 .2 8 .9 11.1c.7 3.1 2 5.1 3.2 7.7c1.3 2.6 2.3 6 4.2 8c1.8 2.1 4.6 2.9 6.9 4.5c2.2 1.5 4.8 2.9 6.4 4.8c1.6 1.9 2.1 4.2 3 6.6c1 2.4 2.7 4.5 2.9 7.9c.2 3.4-1.3 8.2-1.7 12.5c-.4 4.3 .1 8.5-.6 13.5c-.8 4.9-2.8 10.8-4 16.3c-1.2 5.4-2.3 11.2-3.2 16.6c-.9 5.4-1.5 10.3-2.2 15.7c-.7 5.3-.9 11.1-2.1 16.3c-1.3 5.1-3.8 9.7-5.5 14.6c-1.6 4.9-2.8 10.7-4.4 14.8c-1.6 4.1-3.4 6.4-5.1 9.8c-1.7 3.3-3.3 8.3-5 10.3c-1.6 2.1-3.2 1.2-4.8 1.8c-1.6 .6-2.6 2-4.9 1.9c-2.3-.1-5.9-1.8-8.9-2.6c-3-.8-6-.9-9.1-2.2c-3.1-1.2-6.1-3.4-9.4-5.5c-3.4-2-7.9-4-10.6-7c-2.8-3-3.7-7.2-5.9-11c-2.2-3.7-5.6-6.9-7.2-11.3c-1.6-4.3-1.3-10-2.4-14.9c-1-5-3.1-9.7-3.8-14.6c-.7-4.9 0-10-.2-15c-.3-4.9-1.9-9.6-1.5-14.7c.4-5.2 2.5-10.7 3.6-16.1c1.1-5.4 2.2-11.5 2.9-16.4c.7-4.9 .7-8.8 1.4-13.1c.7-4.4 2.9-8.8 2.6-12.8c-.4-4-3.3-7.2-4.8-11.1c-1.5-3.9-2.8-8.3-4-12.1c-1.2-3.8-2.3-7.3-3.3-10.7c-1-3.5-3.2-7.6-2.8-10.1Z"/><path class="c" style="stroke-width:1.4" d="M249.6 666.6c.3-2.5 3.5-3.2 4.9-4.7c1.5-1.6 1.4-3.1 3.7-4.4c2.2-1.4 6.6-2.7 9.8-4c3.1-1.2 5.2-2.5 8.9-3.5c3.8-.9 8.9-1.3 13.5-1.9c4.6-.7 10.6-2 14-2c3.5 .1 4.6 1.5 6.9 2.1c2.3 .6 5.5 .3 7.1 1.5c1.7 1.3 2 4 2.8 5.8c.7 1.9 1.4 2.7 1.9 5.4c.5 2.8 .8 7.3 1.1 11c.2 3.7-.4 8.1 .2 11.1c.6 3 2.3 4.5 3.3 6.9c1 2.4 1.3 5.3 2.8 7.5c1.5 2.1 4.2 3.6 6.3 5.2c2.1 1.6 4.7 2.3 6.3 4.3c1.6 2 2.1 5.2 3 7.8c1 2.6 2.5 4.3 2.7 7.8c.2 3.4-1 8.6-1.4 12.9c-.4 4.3-.4 8.2-1.1 13c-.7 4.9-2.3 11-3.3 16.3c-1 5.4-1.8 10.6-2.6 15.9c-.8 5.2-1.6 10.3-2.3 15.5c-.8 5.3-1.2 10.8-2.4 15.8c-1.1 5-3.3 9.5-4.8 14.1c-1.5 4.5-2.7 9.6-4.3 13.3c-1.5 3.7-3.5 6-5.1 9c-1.6 3-3 7.3-4.4 9.2c-1.3 1.9-2.3 1.6-3.9 2.2c-1.5 .7-3.2 1.8-5.4 1.7c-2.1-.1-4.7-1.6-7.4-2.3c-2.8-.7-6.2-.6-9.2-1.8c-3-1.3-5.9-3.7-8.8-5.7c-2.9-1.9-6.2-3.1-8.7-6c-2.4-2.9-3.9-7.8-6-11.4c-2-3.7-4.5-6.5-6.2-10.6c-1.6-4-2.6-9-3.7-13.7c-1-4.7-2-9.7-2.6-14.3c-.5-4.6-.6-8.6-.8-13.2c-.3-4.6-1.1-9.5-.8-14.5c.4-4.9 1.9-10.1 2.9-15.4c1-5.3 2.2-11.5 3-16.6c.8-5.1 1.3-9.4 1.9-13.9c.7-4.5 2.3-9.1 2-13c-.3-3.9-2.5-6.9-3.8-10.5c-1.3-3.6-2.7-7.5-3.9-11.1c-1.1-3.6-2.2-7.1-3.2-10.5c-1-3.5-3.2-7.8-2.9-10.3Z"/><path class="c" style="stroke-width:1.5" d="M253.8 668.8c.2-2.5 2.3-3.9 3.7-5.5c1.4-1.6 2.7-2.7 4.9-3.9c2.2-1.3 5.4-2.3 8.2-3.5c2.8-1.2 4.8-2.7 8.3-3.7c3.5-1 8.5-1.4 12.6-2.2c4.2-.8 9.1-2.4 12.4-2.5c3.2-.1 4.9 1.5 7.3 2.2c2.3 .6 5.1 .6 6.6 1.7c1.5 1.2 1.9 3.4 2.5 5c.6 1.7 .8 2.4 1.2 4.9c.5 2.6 1.2 7 1.5 10.4c.4 3.5-.1 7.3 .4 10.2c.5 2.8 1.7 4.5 2.6 6.9c.9 2.4 1.3 5.5 2.9 7.6c1.6 2.1 4.6 3.2 6.5 4.9c2 1.8 3.8 3.5 5.2 5.6c1.3 2.1 2 4.3 2.9 6.8c1 2.6 2.4 4.7 2.7 8.4c.2 3.7-.8 9.3-1.3 13.7c-.4 4.5-.7 8-1.4 13c-.7 4.9-1.7 11.3-2.6 16.6c-1 5.3-2.1 9.9-3 14.9c-.9 5-1.7 10.3-2.5 15.2c-.7 5-1.1 9.8-2.1 14.4c-1.1 4.6-2.8 8.8-4.2 13.1c-1.4 4.2-3 9-4.3 12.5c-1.4 3.5-2.4 5.5-3.8 8.4c-1.4 2.8-3.4 7-4.9 8.8c-1.5 1.8-2.9 1.3-4.3 1.9c-1.4 .6-2.1 1.9-4 1.8c-2-.2-5-2-7.5-2.7c-2.6-.7-5.1-.3-7.8-1.5c-2.7-1.2-5.7-3.7-8.5-5.5c-2.8-1.8-6.2-2.6-8.6-5.1c-2.4-2.6-3.9-6.8-5.8-10.2c-1.9-3.5-4.4-6.5-5.8-10.5c-1.4-3.9-1.9-9.1-2.8-13.4c-.8-4.3-1.7-8-2.3-12.4c-.5-4.4-.7-9.3-1-13.8c-.2-4.6-.9-8.6-.5-13.5c.4-4.9 1.7-10.4 2.7-15.7c1-5.3 2.7-11.2 3.4-16.1c.7-4.9 .4-8.7 1-13.2c.5-4.5 2.5-9.6 2.1-13.7c-.4-4.2-3.3-7.5-4.4-11.1c-1.2-3.7-1.7-7.5-2.6-10.8c-1-3.3-2.3-6-3.2-9c-.9-3.1-2.6-7-2.4-9.4Z"/><path class="c" style="stroke-width:1.6" d="M257.6 670.1c.1-2.3 2.4-3.4 3.8-5c1.3-1.6 2-3.4 4-4.8c2-1.3 5.4-2.2 8-3.3c2.7-1.1 4.7-2.3 7.9-3.2c3.2-.9 7.2-1.5 11.1-2.3c3.9-.8 9.4-2.4 12.5-2.6c3.1-.1 4 1 6.1 1.7c2 .6 4.9 1.1 6.2 2.3c1.3 1.2 1.1 3 1.7 4.7c.5 1.6 1.1 2.8 1.6 5.2c.4 2.4 1 6.2 1.3 9.3c.2 3.1-.3 6.6 .2 9.3c.5 2.7 1.7 4.4 2.6 6.8c.9 2.4 1.5 5.7 2.8 7.8c1.3 2.1 3.5 3.1 5.3 4.7c1.9 1.7 4.6 3 5.8 5.2c1.3 2.2 1.1 5.4 1.9 8c.9 2.6 2.9 4 3.2 7.6c.4 3.6-.7 9.3-1.2 13.9c-.5 4.6-1.2 8.8-1.8 13.8c-.7 5.1-1.2 11.4-2.1 16.5c-.8 5.1-2.2 9.5-3.1 14.2c-.8 4.7-1.4 9.3-2.2 13.9c-.7 4.7-1.3 9.7-2.4 13.9c-1 4.3-2.5 7.8-3.7 11.9c-1.3 4-2.5 9.1-3.7 12.6c-1.2 3.4-2.2 5.5-3.5 8c-1.3 2.6-3.1 5.7-4.4 7.2c-1.3 1.5-2.1 1.2-3.4 1.8c-1.3 .7-2.6 2-4.6 2c-1.9 .1-4.6-1.1-6.9-1.7c-2.4-.6-4.5-.7-7.1-1.8c-2.5-1.2-5.7-3.3-8.3-5.1c-2.7-1.7-5.3-2.9-7.5-5.4c-2.1-2.5-3.6-6.6-5.4-9.8c-1.8-3.3-4.1-6-5.2-9.6c-1.2-3.7-1.1-8.3-2-12.3c-.9-4.1-2.7-7.8-3.3-12c-.7-4.2-.5-8.7-.7-13.1c-.2-4.4-.9-8.6-.6-13.2c.3-4.6 1.4-9.4 2.4-14.6c.9-5.2 2.5-11.6 3.3-16.6c.8-5 1.2-9 1.6-13.4c.4-4.4 1.2-9.1 .8-13.1c-.4-4-2.2-7.3-3.2-10.9c-.9-3.7-1.7-7.8-2.6-11.1c-.8-3.3-1.3-5.9-2.2-8.8c-.9-2.9-3.2-6.4-3-8.6Z"/><path class="c" style="stroke-width:1.6" d="M261.8 671.6c.2-2.2 2.3-3.7 3.4-5.2c1-1.4 1.2-2.4 3-3.6c1.8-1.3 5.1-2.7 7.7-3.9c2.5-1.2 4.3-2.3 7.4-3.2c3.1-1 7.6-1.7 11.2-2.5c3.6-.7 7.7-1.8 10.4-2c2.7-.2 3.6 .4 5.6 .7c1.9 .4 4.8 .6 6.1 1.6c1.4 1.1 1.5 3.3 2 4.8c.6 1.6 .9 2.4 1.2 4.6c.3 2.2 .3 6 .6 8.8c.3 2.9 .7 5.8 1.2 8.4c.6 2.5 1.2 4.5 2 6.9c.8 2.4 1.8 5.2 3 7.5c1.3 2.2 3 4.1 4.5 5.9c1.6 1.8 3.8 2.8 5 4.9c1.2 2.1 1.3 5.1 2.1 7.8c.7 2.6 2.2 4.3 2.4 8.1c.2 3.7-1 9.7-1.3 14.4c-.4 4.8-.3 9-.9 14.1c-.6 5.1-2.1 11.2-2.9 16.4c-.9 5.1-1.4 9.9-2.1 14.4c-.7 4.5-1.4 8.5-2.2 12.8c-.7 4.3-1.2 9-2.2 13c-.9 4.1-2.3 7.6-3.5 11.2c-1.2 3.6-2.5 7.6-3.7 10.7c-1.3 3-2.8 5.2-4 7.7c-1.2 2.4-2.3 5.5-3.4 7c-1.1 1.5-2 1.3-3.1 1.9c-1.1 .5-1.6 1.3-3.4 1.3c-1.8-0-5-.8-7.4-1.4c-2.3-.6-4.5-1.2-6.7-2.3c-2.2-1.1-4.1-2.7-6.4-4.2c-2.3-1.6-5.4-2.4-7.5-4.8c-2.1-2.4-3.6-6.7-5.2-9.6c-1.7-2.9-3.5-4.7-4.7-8c-1.3-3.4-1.9-8.1-2.7-12.1c-.8-4-1.6-7.9-1.9-11.9c-.4-4.1-0-8.2-.3-12.2c-.2-4-1.5-7.3-1.3-11.8c.1-4.6 1.4-10.4 2.3-15.5c.9-5.2 2.2-10.6 2.9-15.5c.7-5 .7-9.5 1.3-14.1c.5-4.7 2-9.5 1.8-13.7c-.2-4.1-1.8-7.6-2.8-11.1c-1.1-3.5-2.4-6.8-3.2-9.9c-.9-3.1-1.1-6.1-1.8-8.8c-.7-2.7-2.6-5.5-2.5-7.6Z"/><path class="c" style="stroke-width:1.6" d="M265.3 672.4c.2-2.1 2.5-3.2 3.6-4.7c1.2-1.5 1.6-2.8 3.2-4.1c1.6-1.3 4.1-2.7 6.3-3.7c2.3-1.1 4.2-1.8 7.1-2.7c2.8-1 6.8-2.3 10-3c3.2-.8 6.9-1.4 9.4-1.4c2.6 .1 4.1 1 5.9 1.4c1.8 .5 3.8 .6 4.9 1.5c1.1 .9 1.3 2.7 1.8 4.1c.6 1.4 1.1 2.3 1.4 4.2c.4 2 .5 4.9 .7 7.5c.2 2.5 .1 5.5 .7 7.9c.5 2.5 1.7 4.4 2.4 6.7c.7 2.4 .6 5.5 1.7 7.7c1.1 2.1 3.3 3.2 4.9 5.1c1.7 2 3.9 4.1 5 6.4c1 2.3 .9 5.1 1.4 7.7c.5 2.6 1.2 4.2 1.4 8c.3 3.8 .2 9.9-0 14.6c-.2 4.7-.4 8.7-1.1 13.6c-.8 5-2.5 11-3.5 16.2c-1 5.1-1.8 10.1-2.3 14.7c-.6 4.5-.4 8.5-.9 12.5c-.5 4-1.2 7.8-2.1 11.4c-1 3.6-2.4 6.8-3.6 10.2c-1.1 3.4-2.3 7.3-3.3 10.2c-1.1 2.9-1.8 4.8-2.9 7.2c-1.1 2.3-2.6 5.6-3.8 7c-1.1 1.4-2.3 1-3.3 1.4c-1.1 .4-1.4 1.2-2.9 1.1c-1.5-.1-4.2-1-6.2-1.5c-2-.5-3.6-.3-5.7-1.2c-2.2-1-4.7-2.9-7-4.4c-2.3-1.5-5.1-2.4-6.9-4.6c-1.8-2.1-2.3-5.6-3.8-8.3c-1.4-2.8-3.9-4.9-5.1-8.1c-1.2-3.2-1.4-7.5-2-11.3c-.6-3.7-1.2-7.6-1.6-11.4c-.4-3.7-.7-7.3-.9-11.3c-.2-3.9-.5-7.8-.3-12.2c.2-4.4 .8-9.1 1.5-14.1c.7-5 2-10.8 2.7-15.9c.6-5 .7-9.7 1.1-14.4c.4-4.7 1.5-9.6 1.3-13.5c-.3-4-2-7.1-2.8-10.4c-.8-3.3-1.2-6.3-1.9-9.3c-.7-3-1.7-5.9-2.5-8.7c-.7-2.7-2.3-5.9-2-8.1Z"/><path class="c" style="stroke-width:1.7" d="M269.1 673.8c.3-2 2.5-3.3 3.5-4.6c1-1.3 1.3-2 2.7-3.2c1.5-1.2 3.7-3 5.7-4.3c2.1-1.3 4-2.6 6.5-3.6c2.5-1 5.7-1.4 8.7-2.1c3-.8 7-2.2 9.3-2.4c2.3-.1 2.8 1.1 4.5 1.6c1.7 .4 4.4 .3 5.5 1.2c1.1 .9 .8 2.8 1.2 4.1c.4 1.3 .7 2 1 3.8c.4 1.8 .9 4.5 1.2 7c.3 2.5 0 5.6 .4 7.9c.3 2.4 .9 3.9 1.6 6.1c.6 2.2 1 4.9 2 7c1 2.2 2.6 4 4 6.1c1.5 2.1 3.8 4 4.9 6.3c1.2 2.3 1.3 4.9 1.9 7.6c.5 2.7 1.4 4.6 1.5 8.5c.1 3.8-.7 9.9-1.1 14.8c-.3 4.8-.5 9.1-1 14.2c-.6 5.1-1.4 11.2-2.1 16.1c-.8 4.9-1.7 9.1-2.4 13.3c-.7 4.2-1.1 8-1.8 11.8c-.6 3.9-1.1 7.7-1.9 11.2c-.8 3.5-1.7 6.6-2.8 9.8c-1 3.3-2.3 7.1-3.4 9.7c-1.1 2.6-2.2 3.8-3.3 5.7c-1 2-1.9 4.5-2.9 5.8c-1 1.3-1.9 1.6-2.9 2.1c-1 .5-1.8 1-3.2 1c-1.3-0-3.2-.7-4.9-1.2c-1.7-.6-3.4-1.2-5.3-2.2c-1.8-1-3.8-2.6-5.9-4c-2.1-1.3-5.1-2.2-6.8-4.1c-1.7-1.8-2.1-4.6-3.4-7.1c-1.2-2.5-3-5.1-4-8.1c-1-3-1.6-6.5-2.2-9.8c-.6-3.4-1.2-6.7-1.5-10.3c-.4-3.5-.5-7.1-.8-10.9c-.3-3.9-1.2-7.9-1.1-12.2c.2-4.2 1.5-8.3 2.2-13.3c.7-4.9 1.5-11.2 2.1-16.3c.6-5.2 .9-9.8 1.3-14.5c.5-4.7 1.4-9.7 1.3-13.6c-.1-3.9-1-6.6-1.8-9.9c-.7-3.2-2-6.6-2.8-9.6c-.8-2.9-1.2-5.3-1.9-7.9c-.6-2.6-2.1-5.5-1.8-7.5Z"/><path class="c" style="stroke-width:1.8" d="M273.3 675.7c0-1.9 1.3-3.5 2.1-4.9c.9-1.4 1.6-2.3 2.9-3.6c1.4-1.3 3.3-2.9 5.2-4.2c1.8-1.3 3.5-2.5 5.9-3.4c2.4-.9 5.8-1.4 8.5-2c2.7-.6 5.8-1.5 7.8-1.6c2.1-.1 3 .8 4.4 1.1c1.4 .2 3.1-.3 4.1 .5c.9 .7 .9 2.7 1.4 3.9c.5 1.1 1.2 1.4 1.6 3.1c.3 1.7 .4 4.4 .6 6.8c.2 2.4 .4 5.4 .8 7.5c.4 2.1 1.2 3.1 1.7 5.1c.4 2 .2 4.8 1.1 6.9c.8 2.2 2.8 4.1 4.1 6.2c1.2 2 2.4 3.7 3.4 6.2c.9 2.5 1.8 6 2.3 8.8c.6 2.8 .8 4.3 .8 8.2c-.1 3.9-.7 9.9-1 14.9c-.2 5-0 10.2-.5 15.3c-.4 5.1-1.4 10.4-2.1 15.2c-.8 4.9-1.7 9.8-2.3 13.9c-.7 4.2-1.2 7.5-1.8 11c-.6 3.5-1.2 6.8-1.8 9.9c-.7 3.1-1.1 5.8-2 8.7c-1 3-2.5 6.8-3.4 9.1c-.9 2.3-1.3 3.2-2.1 4.9c-.8 1.7-1.8 4.2-2.7 5.4c-1 1.2-1.9 1.3-2.9 1.7c-.9 .5-1.4 1-2.7 .9c-1.2-.1-3-.8-4.7-1.2c-1.7-.5-3.9-.9-5.7-1.6c-1.8-.8-3.5-1.9-5.3-3.1c-1.8-1.1-4.1-1.7-5.5-3.6c-1.4-1.9-2-5.5-3.1-7.8c-1-2.3-2.2-3.6-3.2-6.2c-1-2.7-1.8-6.3-2.5-9.6c-.8-3.4-1.4-7-1.8-10.3c-.4-3.3-.5-5.9-.6-9.5c-.2-3.5-.6-7.7-.3-12c.2-4.2 1-8.5 1.8-13.5c.7-4.9 2.2-11 2.7-16.1c.5-5.1 0-9.7 .4-14.5c.3-4.7 1.7-10.1 1.7-14c-.1-3.9-1.2-6.1-1.9-9.1c-.8-3.1-2.1-6.4-2.7-9.2c-.6-2.8-.5-5.2-.9-7.6c-.5-2.4-1.9-4.7-1.8-6.6Z"/><path class="c" style="stroke-width:1.8" d="M276.8 677c.3-1.9 2.2-3.3 3-4.7c.9-1.4 1-2.8 2.2-4c1.2-1.2 3.2-2.2 4.9-3.4c1.6-1.2 3.1-2.7 5-3.7c1.9-1.1 4.2-1.8 6.6-2.4c2.3-.6 5.7-1.3 7.5-1.5c1.9-.2 2.3 0 3.6 .3c1.2 .2 3 .5 3.9 1.3c1 .8 1.5 2.4 1.9 3.5c.4 1.1 .2 1.5 .4 3c.1 1.5 .4 4 .6 6.1c.2 2.2 .2 4.6 .5 6.6c.4 2.1 .9 3.6 1.6 5.7c.6 2.1 1.5 4.7 2.3 6.8c.8 2.2 1.4 4.1 2.5 6.1c1 2.1 3.1 3.7 4 6.1c.9 2.4 1.1 5.7 1.4 8.5c.3 2.9 .4 4.6 .5 8.6c-0 4 0 10.2-.2 15.2c-.3 5.1-.8 10-1.4 15.3c-.6 5.3-1.4 11.7-2 16.4c-.7 4.7-1.3 8-1.8 11.7c-.6 3.7-1.2 7.2-1.6 10.5c-.4 3.3-.3 6.4-.9 9.4c-.5 2.9-1.8 5.6-2.7 8.2c-.9 2.7-1.8 5.7-2.7 7.8c-.8 2.2-1.8 3.5-2.6 5.2c-.7 1.7-1.3 4.2-2 5.1c-.7 .9-1.5 .1-2.2 .3c-.8 .3-1.3 1.2-2.4 1.3c-1.1 0-2.7-.5-4.3-.8c-1.5-.4-3.5-.5-5.1-1.3c-1.6-.8-2.9-2.2-4.5-3.3c-1.6-1.1-3.6-1.9-4.9-3.5c-1.4-1.6-2-3.8-3.1-6c-1.1-2.2-2.5-4.4-3.4-6.9c-.9-2.5-1.4-5.3-1.9-8.2c-.6-2.8-1.4-5.8-1.6-9c-.3-3.1 .1-6.5 0-9.9c-0-3.5-.6-6.8-.5-10.9c.2-4.1 .8-8.7 1.4-13.6c.6-4.9 1.7-10.9 2.2-15.9c.6-5 .6-9.6 1.1-14.3c.4-4.7 1.7-10.1 1.6-14.1c-.2-3.9-2.1-6.6-2.8-9.7c-.7-3.1-1-6.3-1.5-8.9c-.4-2.5-.8-4.2-1.2-6.4c-.4-2.2-1.6-4.8-1.4-6.6Z"/><path class="c" style="stroke-width:1.9" d="M281 677.8c.2-1.6 1.6-2.6 2.1-3.8c.6-1.2 .3-2.3 1.4-3.5c1-1.2 3.5-2.5 5-3.7c1.5-1.3 2.1-2.5 3.8-3.6c1.6-1.1 4.1-2.4 6.2-3c2.1-.7 4.6-1 6.4-1.1c1.7-.2 2.8 0 4.1 .3c1.2 .3 2.6 .8 3.3 1.4c.7 .6 .5 1.4 .8 2.3c.3 .9 .8 1.8 1 3.2c.3 1.3 .2 3.1 .4 5c.2 1.9 .4 4.4 .7 6.2c.3 1.9 .6 2.8 1.1 4.8c.5 2.1 1.1 5.2 1.9 7.6c.8 2.3 1.9 4.3 2.9 6.4c.9 2.1 2.2 3.8 2.8 6.3c.6 2.5 .6 5.8 1 8.7c.4 2.8 1.4 4.5 1.5 8.5c.1 4-.5 10.3-.9 15.4c-.4 5.2-1.2 10.1-1.7 15.4c-.4 5.3-.7 11.5-1.2 16.2c-.5 4.8-1.4 8.5-1.9 12.1c-.6 3.5-.8 6.3-1.3 9.3c-.5 3-1.3 6.1-1.9 8.7c-.7 2.7-1.4 4.8-2 7.2c-.7 2.4-.9 5.4-1.7 7.3c-.7 2-1.9 3.1-2.7 4.5c-.8 1.4-1.5 3.1-2.1 3.9c-.5 .9-.8 .8-1.5 1.1c-.7 .4-1.4 1.1-2.5 1.2c-1.1-0-2.9-.7-4.1-1c-1.2-.4-1.7-.3-3-1.1c-1.4-.7-3.6-2.3-5.1-3.4c-1.6-1.1-3.1-1.8-4.2-3.3c-1.1-1.5-1.7-3.9-2.5-5.8c-.9-1.8-2.1-3-2.8-5.3c-.6-2.3-.7-5.4-1.2-8.2c-.5-2.9-1.7-5.8-2-8.7c-.2-2.9 .4-5.7 .4-8.9c-.1-3.2-.8-6.6-.6-10.5c.2-3.9 1.1-8.2 1.6-12.9c.5-4.8 1-10.6 1.4-15.7c.4-5.1 .6-10.1 1-14.8c.4-4.8 1.4-9.6 1.3-13.7c-.2-4-1.4-7.4-2-10.4c-.6-3-1.1-5.3-1.5-7.8c-.3-2.4-.2-4.9-.5-7c-.3-2.2-1.3-4.2-1.2-5.8Z"/><path class="c" style="stroke-width:1.9" d="M284 679.2c.1-1.6 1.5-2.8 2.2-4c.7-1.3 1-2.2 2-3.4c1-1.2 2.8-2.7 4-3.9c1.2-1.3 1.9-2.6 3.3-3.5c1.4-.9 3.2-1.4 5.2-2c1.9-.7 4.8-1.8 6.3-2c1.5-.3 1.7 .4 2.5 .6c.9 .2 2.1 0 2.7 .6c.6 .5 .5 1.6 .9 2.5c.3 .8 .8 1.5 1 2.7c.2 1.2 .1 2.9 .3 4.6c.2 1.7 .7 3.9 1 5.7c.2 1.7 .4 2.9 .7 4.8c.3 1.9 .4 4.4 1 6.6c.7 2.2 2.1 4.1 3 6.4c1 2.3 2 4.7 2.7 7.4c.6 2.6 .8 5.4 1 8.4c.2 3 .1 5.4 .1 9.5c-0 4.1-0 10.1-.2 15.2c-.3 5-.8 9.7-1.3 15c-.5 5.3-1.1 12.1-1.7 16.7c-.6 4.7-1.4 7.8-1.8 11.2c-.4 3.5-.2 6.8-.5 9.6c-.4 2.8-.9 4.9-1.4 7.2c-.6 2.3-1.4 4.5-2 6.6c-.5 2.2-.8 4.7-1.4 6.3c-.7 1.6-1.6 2.2-2.2 3.4c-.7 1.3-1 3.3-1.6 4c-.5 .8-1 0-1.7 .3c-.6 .3-1.1 1.5-2 1.5c-1 0-2.6-1.3-3.7-1.5c-1.2-.3-2.3 .5-3.4-0c-1.1-.6-2-2.2-3.2-3.3c-1.1-1.1-2.5-1.9-3.5-3.2c-1-1.2-1.7-2.8-2.5-4.5c-.8-1.7-1.5-3.6-2.2-5.7c-.7-2.1-1.3-4.5-1.8-6.9c-.5-2.4-.9-5-1.2-7.7c-.2-2.7-.4-5.4-.5-8.5c-.2-3-.7-6-.4-9.8c.2-3.7 1.5-8.1 2-12.7c.5-4.7 .7-10.3 1.1-15.3c.4-5.1 .9-10.3 1.3-15.1c.3-4.9 .8-10.3 .7-14.3c-.1-3.9-.9-6.7-1.3-9.7c-.3-2.9-.5-5.6-.8-7.9c-.4-2.3-1-4.1-1.4-6c-.4-2-1.5-4.2-1.3-5.9Z"/><path class="c" style="stroke-width:2" d="M288.3 680.7c.2-1.6 .7-2.9 1.2-4.1c.6-1.1 1.1-1.7 1.9-2.9c.8-1.2 2-3.1 2.9-4.3c1-1.2 1.4-2.1 2.8-3.1c1.3-.9 3.8-1.7 5.5-2.5c1.7-.8 3.3-2 4.5-2.2c1.2-.2 1.9 .7 2.6 1c.8 .3 1.5 .2 1.9 .6c.5 .4 .6 1.1 .8 1.7c.3 .7 .6 1.1 .9 2.3c.3 1.1 .7 3.3 .8 4.8c.1 1.4-.4 2.2-.3 3.8c.1 1.6 .6 3.6 1 5.6c.4 2 .5 4.1 1.2 6.3c.6 2.1 1.9 4.3 2.7 6.6c.7 2.2 1.5 4.2 1.8 6.9c.3 2.8-.2 6.5-0 9.5c.1 3 .9 4.5 .9 8.7c.1 4.2-.3 11.3-.6 16.5c-.2 5.3-.6 10-.9 15.1c-.4 5.1-.8 10.9-1.3 15.4c-.5 4.4-1.2 8.1-1.7 11.3c-.5 3.3-.9 5.7-1.3 8.4c-.4 2.6-.5 5.4-1 7.6c-.4 2.1-1.2 3.6-1.8 5.3c-.5 1.6-1.1 3.3-1.5 4.7c-.4 1.4-.3 2.6-.7 3.8c-.4 1.2-1 2.7-1.6 3.4c-.6 .7-1.2 .7-1.8 .9c-.7 .1-1.4 .1-2.1 .1c-.7 .1-1.2 .4-2.1 .2c-.9-.3-2.3-.9-3.3-1.5c-1-.6-1.6-1.2-2.5-2.1c-1-.8-2.1-1.9-3-3.1c-.9-1.1-1.9-2.3-2.5-3.8c-.7-1.4-1.1-3-1.6-4.8c-.4-1.9-.5-3.9-.9-6.1c-.5-2.3-1.5-5.1-1.9-7.7c-.3-2.6-.2-5.2-.1-8c-0-2.9 .1-5.7 .4-9.3c.3-3.6 .9-7.9 1.2-12.5c.4-4.6 .6-9.9 .9-14.9c.2-5.1 .4-10.3 .7-15.3c.4-5 1.5-10.5 1.5-14.5c-0-4-1.2-6.7-1.5-9.5c-.3-2.8-.3-5.1-.6-7.3c-.2-2.1-.8-3.7-1-5.5c-.3-1.8-.6-3.9-.5-5.5Z"/><path class="c" style="stroke-width:2" d="M291.5 682c.1-1.4 .9-2.5 1.4-3.6c.5-1.1 .9-1.8 1.7-3c.7-1.2 1.8-3 2.6-4.2c.8-1.2 1.3-2.2 2.4-3.1c1-1 2.8-1.9 4-2.8c1.2-.9 2.1-2.4 3.1-2.6c1-.3 2.2 .8 2.9 1c.7 .3 .9 .2 1.2 .5c.3 .4 .4 1.1 .6 1.8c.2 .6 .5 1.4 .6 2.3c.2 .9 .2 1.9 .3 3.1c.1 1.2 0 2.6 .3 4c.2 1.5 .7 2.9 1 4.7c.4 1.8 .5 3.7 .9 6c.4 2.3 1.1 5.6 1.7 8c.7 2.4 1.8 4.1 2.2 6.7c.4 2.6 .3 5.7 .3 8.9c.1 3.1 .2 5.7 .1 10c-0 4.4-.1 10.9-.3 16.1c-.3 5.3-.6 10.1-1.1 15.3c-.5 5.2-1.5 11.6-1.9 16c-.4 4.5-.3 7.7-.7 10.7c-.3 3-1.1 5.3-1.4 7.5c-.2 2.2 .2 3.9-.1 5.8c-.3 1.9-1.1 4-1.6 5.6c-.4 1.6-.7 2.9-1.1 4c-.5 1.1-.9 1.7-1.4 2.6c-.5 1-1.1 2.5-1.6 3.1c-.6 .6-1.1 .4-1.4 .5c-.4 .1-.1 .1-.7 .1c-.6 .1-2.2 .4-2.9 .3c-.7-0-.7-.1-1.5-.5c-.8-.5-2.3-1.3-3.1-2.1c-.9-.8-1.3-1.5-2-2.6c-.7-1.1-1.4-2.5-2-4c-.6-1.4-1.3-2.9-1.7-4.6c-.3-1.7 0-3.6-.3-5.4c-.3-1.9-1.3-3.6-1.4-5.9c-.2-2.3 .5-5.1 .5-7.9c-0-2.8-.6-5.6-.6-9c.1-3.5 .5-6.9 .8-11.5c.3-4.6 .7-10.9 1.1-16c.3-5.1 .7-9.7 .9-14.7c.3-5.1 .6-11.3 .7-15.4c0-4-.2-6.1-.4-8.8c-.3-2.7-.9-5.1-1-7.1c-.2-2 .2-3.3 .1-4.9c-.2-1.6-1.2-3.5-1.2-4.9Z"/><path class="c" style="stroke-width:2.1" d="M295.1 683.3c-0-1.4 1-3 1.3-4c.3-1.1 .2-1.2 .6-2.3c.5-1.1 1.3-3 2.1-4.3c.7-1.2 1.6-1.9 2.6-3c.9-1.2 2-2.9 3-3.8c.9-.9 1.9-1.5 2.6-1.6c.8-.1 1.4 .7 1.9 .9c.5 .3 .8 .3 1.1 .6c.2 .3 .3 .7 .5 1.2c.1 .4 .3 .8 .4 1.5c.1 .6 .1 1.3 .2 2.5c.1 1.1 .2 2.8 .5 4.2c.2 1.4 .7 2.5 .9 4.2c.2 1.6 .2 3.5 .5 5.7c.2 2.1 .6 4.9 1 7.4c.4 2.5 1.2 4.9 1.5 7.7c.3 2.8 .3 5.9 .4 9.1c.2 3.1 .6 5.3 .4 9.7c-.1 4.3-.9 11.2-1.3 16.6c-.3 5.5-.4 10.8-.7 16c-.3 5.3-.5 11.1-.9 15.5c-.3 4.4-.9 8-1.2 10.9c-.3 2.9-.4 4.5-.7 6.5c-.2 1.9-.5 3.5-.8 5.1c-.2 1.7-.6 3.2-1 4.6c-.3 1.4-.4 2.9-.8 3.7c-.5 .9-1.3 .7-1.8 1.4c-.4 .7-.6 2.4-.8 2.9c-.3 .6-.5 0-.7 .1c-.3 .1-.5 .4-.9 .5c-.4 0-.9-.1-1.5-.2c-.6-.2-1.6-.3-2.2-.7c-.5-.4-.6-1-1.2-1.7c-.6-.6-1.6-1.2-2.2-2.1c-.6-.9-.9-2-1.3-3.1c-.5-1.1-1.1-2.1-1.5-3.5c-.4-1.5-.5-3.4-.8-5.2c-.2-1.7-.6-3.2-.7-5.3c-.1-2 .2-4.5 .3-7.1c.1-2.5 .2-5 .3-8.2c.1-3.3-.1-7 .1-11.6c.2-4.6 .7-10.9 .9-16.1c.3-5.2 .3-10.1 .6-15.1c.3-5.1 1.2-11.2 1.3-15.2c.2-4-.5-6.3-.6-8.8c-.2-2.4-.1-4-.2-5.9c-0-1.9 .1-3.7-.1-5.3c-.2-1.6-1.2-3-1.1-4.4Z"/><path class="c" style="stroke-width:2.1" d="M299.4 684.3c0-1.2-0-1.8 .2-2.8c.3-1 1.1-2 1.4-3.2c.4-1.3 .3-3.2 .8-4.5c.4-1.3 1.1-2.2 1.8-3.3c.7-1 1.7-2.2 2.3-3c.7-.8 1.1-1.5 1.6-1.7c.5-.3 1.2 0 1.6 .2c.3 .2 .3 .6 .5 .8c.1 .3 0 .4 .3 .8c.2 .4 1 1 1.1 1.6c.1 .5-.5 1.1-.5 1.9c0 .8 .6 1.5 .7 2.7c.2 1.2 .2 2.8 .3 4.5c.1 1.7 .2 3.7 .5 5.9c.3 2.3 .9 4.9 1.2 7.5c.3 2.6 .5 5.1 .5 8c0 2.9-.5 6-.5 9.2c-0 3.2 .4 5.7 .4 10.1c-.1 4.4-.5 10.9-.7 16.3c-.3 5.5-.7 11.3-.9 16.5c-.2 5.3-.2 11-.4 15.3c-.3 4.3-.8 7.7-1.1 10.5c-.3 2.8-.3 4.8-.6 6.4c-.2 1.7-.5 2.4-.8 3.7c-.3 1.2-.6 2.6-1 3.7c-.3 1-.8 1.7-1 2.5c-.3 .8-.5 1.6-.7 2.1c-.2 .6-.4 .7-.5 1c-.2 .3-.5 .7-.7 .9c-.1 .2 .1 .2-.2 .1c-.3-.1-1.1-.5-1.5-.5c-.4-.1-.7 .3-1.1 .1c-.4-.2-.8-.8-1.2-1.2c-.4-.5-1-.8-1.3-1.5c-.3-.8-.3-1.9-.5-2.9c-.3-1.1-.6-2.4-.9-3.6c-.4-1.1-.9-1.8-1.2-3.3c-.2-1.5-.2-3.8-.3-5.7c-.1-2-.3-3.5-.3-5.9c.1-2.5 .5-5.4 .6-8.7c.1-3.3-.1-6.6 .1-11.1c.1-4.4 .5-10.5 .8-15.6c.3-5.1 .6-10 .8-15c.3-5.1 .5-11.3 .7-15.2c.1-4 .5-6 .4-8.4c-.1-2.5-1-4.4-1.1-6.2c-.1-1.8 .2-3.1 .2-4.6c.1-1.5 .1-3.2 .2-4.4Z"/><path class="c" style="stroke-width:2.2" d="M302.3 685.7c.2-1 1.1-2 1.4-2.9c.2-1 .1-1.7 .3-2.8c.2-1.2 .7-2.9 .9-4.1c.2-1.2-.2-2 .1-3.2c.3-1.1 1.3-3.1 1.7-3.8c.5-.8 .7-.6 .9-.8c.2-.3 .2-.8 .5-.7c.3 .1 1.3 1 1.5 1.3c.1 .3-.4 .5-.4 .7c0 .2 .5 .1 .6 .4c.1 .3-0 1-0 1.6c0 .5 .1 .9 .2 1.9c.2 1 .5 2.5 .6 4.1c.1 1.6-.2 3.4-.2 5.7c0 2.3 0 5.7 .2 8.4c.3 2.6 .9 4.7 1.1 7.7c.1 3-.1 6.8-.2 10.1c-.1 3.3-.2 5.4-.2 9.8c-.1 4.4-.1 11.3-.3 16.7c-.2 5.5-.5 10.6-.9 15.9c-.4 5.2-1.3 11.5-1.7 15.7c-.3 4.2-.2 7-.4 9.5c-.2 2.5-.7 4.1-.8 5.7c-.1 1.6 .5 3 .3 4.1c-.1 1.1-1 1.8-1.3 2.5c-.3 .7-.3 1-.3 1.5c-0 .5 .2 1.1 .2 1.4c-.1 .3-.3 .3-.4 .4c-.2 .2-.7 .4-.8 .5c-.1 0 .1-.1-.1 0c-.2 .1-.7 .6-1 .6c-.2 .1-.3-.1-.4-.4c-.1-.3-.1-.9-.4-1.3c-.2-.5-.8-.9-1.1-1.4c-.4-.5-.6-.8-.8-1.5c-.1-.8-0-1.9-.2-2.9c-.1-1-.6-2-.7-3.3c-.1-1.3 .1-2.7 .2-4.4c0-1.7-0-3.7-0-5.9c-0-2.2-.1-4.4-.1-7.3c0-3-0-6.2 .1-10.5c.1-4.4 .1-10.4 .4-15.6c.3-5.3 1.2-10.4 1.4-15.7c.2-5.2-.2-11.8-.2-15.7c-0-4 .1-5.8 .2-8.1c.1-2.3 .4-4.1 .5-5.9c.2-1.8 .3-3.7 .2-5.1c-0-1.3-.7-1.9-.6-2.9Z"/><path class="c" style="stroke-width:2.2" d="M306.7 687.5c.1-1-.1-2.8-0-3.8c0-1.1 .4-1.5 .5-2.6c.1-1 .2-2.5 .3-3.7c.1-1.2 .4-2.2 .4-3.3c0-1.2-.3-3-.3-3.9c-0-.8 .1-1.2 .3-1.3c.1-.1 .3 .5 .3 .6c.1 0-0-.3 0-.2c.1 0 .5 .4 .6 .5c0 .2-0-.1-.1 .2c-0 .2-.3 .6-.2 1.2c.1 .5 .7 1.2 .8 2c.2 .9 0 1.5 .1 3.1c0 1.6 .3 4 .2 6.5c-0 2.4-.4 5.6-.5 8.3c-.1 2.6-.1 4.9-.1 7.7c0 2.9 .1 6.2 .1 9.4c-0 3.2-.2 5.4-.3 10c-.1 4.6-.1 11.9-.3 17.6c-.2 5.7-.5 11.2-.8 16.5c-.3 5.3-.7 11.2-1.1 15.4c-.3 4.1-.9 7.2-1.1 9.5c-.1 2.3 .4 3.3 .2 4.5c-.1 1.2-.9 1.7-1.1 2.5c-.1 .8 .3 1.8 .4 2.3c0 .4 .1 .2 0 .5c0 .2-.1 .6-.3 .9c-.1 .2-.4 .7-.5 .8c-0 .2 .1-.1 .1-0c0 .1 .1 .5 .2 .5c0 0 .2-.3 .1-.4c-0-.2-.4-.3-.6-.4c-.2-.1-.3 .1-.3-.2c-.1-.2 0-.9 0-1.3c.1-.4 .2-.3 .1-.9c-.1-.5-.4-1.7-.4-2.5c-.1-.7 .1-.9 .1-2.1c.1-1.1 .1-3.1 0-4.7c-0-1.6-.2-2.8-.2-4.8c-0-2-0-4.1 0-7c.1-3 .1-6.2 .2-10.6c0-4.4-0-10.5 .2-15.8c.1-5.3 .6-10.8 .8-15.9c.2-5.1 .3-10.8 .4-14.6c.1-3.8 .2-5.8 .3-8.2c.2-2.4 .6-4.4 .7-6.1c.2-1.7-0-3.1 .1-4.1c.1-1.1 .6-1.2 .7-2.1Z"/>
<path class="c" style="stroke-width:2" d="M288.7 732.2c.1-.7 .8-.7 1.2-1.2c.4-.5 .7-1.5 1.4-2c.8-.5 2.1-.5 3.1-.9c.9-.5 1.5-1.2 2.8-1.6c1.2-.5 2.9-.9 4.4-1.1c1.5-.2 3.5-.3 4.6-.4c1.1 0 1 0 1.8 .3c.8 .2 2.4 .9 2.9 1.3c.6 .3 .1 .5 .4 .9c.2 .5 .9 .9 1.2 1.8c.2 .9 .2 2.5 .3 3.6c.1 1.1 .1 2.1 .3 3c.2 1 .4 1.8 .8 2.7c.3 .9 .8 2 1.3 2.7c.5 .7 1 .9 1.6 1.5c.6 .6 1.5 1.2 2.1 1.9c.6 .7 1.3 1.5 1.7 2.3c.4 .8 .6 1.4 .7 2.7c.1 1.2-.1 3-.1 4.7c-.1 1.6-.2 3-.3 5.2c-.1 2.2-0 5-.3 7.9c-.3 2.8-1.1 6.2-1.5 9.2c-.4 2.9-.4 5.8-.7 8.3c-.4 2.6-1.1 5-1.6 7.1c-.4 2.1-.8 3.7-1.3 5.4c-.5 1.7-1.1 3.4-1.7 4.6c-.5 1.3-1 1.9-1.5 2.8c-.5 .9-1.1 2-1.7 2.6c-.7 .6-1.5 .8-2 1.1c-.6 .3-.6 .6-1.2 .5c-.6-.1-1.6-.7-2.5-1c-.9-.3-1.8-.5-2.8-.9c-.9-.4-1.7-.8-2.8-1.6c-1.1-.7-2.9-1.6-3.8-2.7c-.9-1.1-1.1-2.5-1.7-3.7c-.6-1.3-1.5-2.3-2-4c-.5-1.6-.6-4-1.1-5.9c-.5-2-1.6-3.5-1.9-5.7c-.3-2.1 .1-4.7-0-7c-.1-2.4-.7-4.6-.5-7c.1-2.4 .9-5 1.3-7.4c.4-2.4 .6-5 .9-7c.4-2.1 .8-3.6 1.1-5.1c.2-1.6 .5-3 .4-4.3c-0-1.3-.5-2.3-.8-3.6c-.3-1.2-.7-2.8-1-3.9c-.3-1.2-.4-2-.7-3c-.2-1-.8-2.4-.8-3.1Z"/><path class="c" style="stroke-width:2" d="M291.9 737.7c.1-.6 1.1-.8 1.5-1.3c.4-.5 .3-1.4 .8-1.8c.5-.4 1.3-.5 2.1-.8c.9-.3 1.6-.6 2.7-.9c1.1-.3 2.6-.5 3.8-.7c1.2-.2 2.6-.5 3.5-.6c.9-.1 1.4-.1 2 .1c.6 .1 1.4 .4 1.8 .7c.4 .3 .5 .9 .6 1.3c.2 .5 .1 .8 .2 1.4c.1 .6 .2 1.4 .4 2.3c.2 .8 .4 1.9 .7 2.8c.3 .8 .7 1.7 1 2.3c.3 .6 .4 1 .7 1.4c.4 .5 .8 .8 1.4 1.4c.7 .5 2 1.4 2.4 2.1c.5 .7 .1 1.4 .4 2.2c.2 .8 1 1.4 1.2 2.5c.2 1.1 0 2.7-.1 4.1c-.1 1.4-.3 2.3-.5 4.2c-.1 2-.2 4.9-.4 7.6c-.2 2.8-.5 6.1-.7 8.8c-.3 2.6-.3 5.1-.6 7.4c-.3 2.3-.8 4.7-1.4 6.4c-.5 1.8-1.3 2.9-1.8 4.1c-.4 1.3-.5 2.6-.9 3.6c-.4 1-1.1 1.7-1.6 2.5c-.5 .8-.8 1.8-1.2 2.3c-.4 .5-.9 .2-1.3 .5c-.5 .2-.6 1-1.2 1c-.6 .1-1.7-.6-2.5-.9c-.8-.2-1.3-.1-2.1-.6c-.8-.4-1.9-1.4-2.8-1.9c-.8-.5-1.6-.4-2.3-1.3c-.7-.8-1.2-2.5-1.9-3.7c-.6-1.2-1.5-2.1-1.9-3.5c-.4-1.3-.2-2.8-.6-4.6c-.3-1.8-1.2-4.1-1.5-6.1c-.3-2-.3-4-.4-6c-0-2-0-3.8 .2-6c.2-2.2 .8-4.9 1.1-7.2c.3-2.3 .3-4.6 .5-6.4c.3-1.8 .6-3.2 .8-4.5c.2-1.4 .7-2.6 .6-3.6c-.1-1.1-.8-2-1.1-3c-.3-.9-.5-2.1-.7-3c-.2-.9-.4-1.6-.5-2.4c-.2-.8-.6-1.6-.4-2.2Z"/><path class="c" style="stroke-width:2" d="M295.5 742.8c.2-.6 .7-1 .9-1.4c.2-.3-.2-.5 .2-.8c.4-.4 1.6-.8 2.3-1.2c.6-.4 .7-.9 1.5-1.1c.8-.2 2.3 0 3.2-.1c1-.1 1.6-.4 2.4-.5c.7-.1 1.5-.1 2.1 .1c.6 .1 1.3 .7 1.6 .9c.3 .2 .3 .2 .3 .5c.1 .2-.1 .5-.1 1.1c0 .6 .1 1.8 .3 2.5c.1 .6 .3 1.1 .6 1.5c.2 .5 .3 .7 .6 1.2c.3 .6 .7 1.7 1 2.2c.3 .5 .4 .4 .9 .8c.5 .5 1.6 1.4 2 2c.5 .6 .6 1 .8 1.6c.2 .7 .2 1.4 .3 2.3c.1 .9 .1 1.8 .1 3c-.1 1.3-.2 2.7-.2 4.6c-0 1.8 .1 4.2 0 6.6c-0 2.4-0 5.1-.3 7.6c-.2 2.5-.7 5.3-1.1 7.3c-.4 2.1-.9 3.6-1.3 5.1c-.4 1.5-.8 2.9-1.2 4c-.4 1.1-.9 1.8-1.2 2.6c-.3 .9-.3 1.9-.6 2.5c-.3 .7-.7 1-1.1 1.2c-.4 .3-1.1 .1-1.5 .3c-.4 .2-.5 1-.9 1c-.4 .1-.9-.7-1.4-.8c-.5-.2-1 .2-1.7-.1c-.8-.4-2-1.6-2.6-2.1c-.7-.5-.9-.3-1.3-1c-.5-.8-1-2.3-1.5-3.2c-.5-1-1.1-1.5-1.6-2.7c-.4-1.1-.7-2.6-1.1-4.2c-.4-1.5-1.1-3.5-1.3-5.2c-.2-1.7 .2-2.9 .1-4.8c-.1-1.8-.7-4.1-.5-6.2c.1-2.1 .8-4.2 1.1-6.2c.4-1.9 .8-3.7 1-5.3c.2-1.5 0-2.8 .1-4.1c.1-1.3 .5-2.6 .5-3.5c-0-.9-.3-1.1-.5-1.8c-.2-.6-.6-1.4-.8-2.1c-.2-.7-.2-1.2-.3-1.9c0-.7-0-1.6 .2-2.2Z"/><path class="c" style="stroke-width:2" d="M298.6 748.3c.1-.3 .7-.6 .9-.9c.3-.3 .2-.5 .4-.8c.3-.3 .8-.9 1.2-1.2c.4-.3 .9-.2 1.4-.4c.5-.2 1.2-.5 1.9-.7c.6-.3 1.5-.8 2-.8c.6-.1 .9 .2 1.3 .3c.4 .1 .9 .1 1.1 .3c.3 .1 .3 .4 .4 .6c0 .3-.3 .4-.2 .8c.1 .5 .6 1.1 .7 1.7c0 .5-.3 1.2-.2 1.6c0 .3 .3 .4 .5 .7c.2 .3 .6 .7 .9 1.2c.4 .4 .7 .8 1.1 1.2c.4 .3 1 .3 1.3 .8c.2 .4-0 1.1 .2 1.7c.2 .6 .9 .9 .9 1.6c.1 .8-.5 1.6-.6 2.7c-0 1.1 .2 2.5 .3 4.2c.2 1.6 .6 3.7 .6 5.9c-.1 2.1-.6 4.8-.9 7.1c-.3 2.4-.6 5-.8 6.9c-.3 1.9-.5 3.3-.8 4.5c-.4 1.2-1.1 1.8-1.4 2.6c-.3 .8-.1 1.8-.4 2.4c-.2 .5-.8 .5-1.1 .9c-.3 .5-.4 1.5-.7 1.8c-.2 .3-.5-.1-.8 .1c-.2 .1-.2 .6-.6 .7c-.4 .1-1.2-.2-1.6-.3c-.5-.1-.8-.1-1.3-.4c-.4-.4-.9-1.1-1.3-1.5c-.4-.5-.6-.7-1-1.2c-.5-.5-1.3-1.2-1.8-2c-.5-.9-.8-2.1-1.1-3.1c-.3-1.1-.5-2.1-.6-3.3c-.2-1.2-.2-2.4-.3-3.8c-.1-1.5-.1-3.2-.2-4.9c-.1-1.6-.2-3.1-.2-4.9c-.1-1.8-.4-4.3-.2-6c.2-1.8 1.2-3 1.4-4.4c.2-1.3-.3-2.8-.1-3.8c.1-1 1-1.6 1.1-2.3c0-.7-.6-1.5-.8-2c-.1-.5-0-.7-.1-1.1c-.1-.5-.2-1.3-.3-1.7c-0-.4-.3-.5-.2-.8Z"/><path class="c" style="stroke-width:2" d="M302.2 753.4c-0-.3-.3-.7-.3-1c0-.3 .3-.6 .5-.8c.3-.1 .8 .1 1.1-0c.3-.2 .4-.7 .7-.8c.3-.2 .8 0 1.2-0c.4-.1 .8-.5 1.1-.6c.4-.1 .7-0 1 0c.2 0 .6 .1 .8 .2c.1 0 0-0 0 .2c0 .1-.2 .5-.1 .8c.1 .3 .7 .5 .7 .8c-0 .2-.6 .4-.6 .6c0 .1 .5-.1 .7 .2c.2 .2 .3 .9 .5 1.2c.2 .3 .4 .3 .7 .5c.2 .2 .6 .5 .7 .9c.2 .4 0 1.1 .2 1.5c.2 .4 .7 .5 .8 1c.2 .6 .2 1.4 .2 2.2c.1 .9-.1 1.5-.1 3c.1 1.5 .3 3.7 .3 5.8c.1 2 .1 4.5-.2 6.5c-.2 2.1-.8 4.1-1.1 5.8c-.3 1.6-.6 3-.7 4c-.2 1-0 1.4-.2 2.1c-.1 .6-.5 1.1-.8 1.6c-.3 .4-.6 .7-.8 1c-.3 .2-.4 .2-.6 .3c-.1 0-.1-.1-.3 0c-.1 .2-.2 .7-.5 .8c-.3 .1-.9-.2-1.2-.4c-.3-.1-.4-.4-.6-.6c-.2-.2-.2-.4-.5-.7c-.3-.2-.8-.4-1.1-.8c-.4-.4-.5-.9-.8-1.5c-.3-.7-1-1.6-1.2-2.4c-.2-.9 .1-1.6 0-2.6c-.1-1-.6-2-.8-3.3c-.1-1.2-0-2.9-0-4.3c-.1-1.3-.3-2.3-.2-3.8c0-1.6 .3-3.8 .4-5.4c.2-1.5 .3-2.8 .4-4c.1-1.2-0-2.4 .1-3.1c0-.7 .2-.8 .4-1.3c.1-.5 .3-1.1 .3-1.5c-0-.3-.4-.5-.4-.7c-.1-.2 .2-.2 .2-.5c.1-.2 .2-.6 .1-.9Z"/><path class="c" style="stroke-width:2" d="M304.9 758.2c.1-.1 .8-.2 .8-.3c.1-.1-.5-0-.5-.1c-0-.1 .4-.3 .5-.5c.1-.2 0-.5 .2-.6c.2-0 .6 .3 .7 .2c.2-.1 .2-.7 .2-.7c.1-.1 .3 .5 .4 .5c.1 .1 .4-.2 .5-.2c0 0-0 .1-.1 .2c-.1-0-.5-.1-.5-.1c-.1 0 0 0 .1 0c.1 0 .3-.1 .4-0c.1 .1 .4 .4 .4 .6c.1 .2-.1 .4-.1 .4c.1 .1 .4-0 .5 .2c.2 .2 .4 .8 .5 1c.1 .3 .1 .1 .1 .4c.1 .3-0 1 .1 1.5c.1 .5 .5 .8 .7 1.5c.2 .6 .4 1.2 .5 2.3c0 1-.1 2.3-.1 4.2c-0 1.9 .2 5 .1 7c-0 2.1-.4 3.7-.6 5c-.2 1.3-.2 2-.5 2.7c-.2 .7-.7 1.2-1 1.6c-.2 .4-.4 .5-.5 .7c-.1 .1 0 .1-0 .2c-.1 .1-.4 .2-.5 .3c-0 .1 .1 .1 0 .2c0 .1 0 .4-.1 .3c-.1 0-.5-.3-.6-.4c-0-.1 .3-.1 .2-.2c-.2-0-1 0-1.2-.2c-.2-.3 .1-.8 0-1.2c-.1-.4-.3-.7-.4-1c-.1-.3-.1-.3-.2-.9c-.1-.5-.4-1.4-.6-2.3c-.3-.8-.8-1.8-.9-2.8c-.1-1 .1-2 .1-3.1c.1-1.2 .1-2.6 .1-3.9c-.1-1.3-.4-2.8-.3-4.2c0-1.3 .5-2.8 .6-3.7c.2-1 .3-1.4 .4-2c.2-.5 .3-1.2 .4-1.4c.1-.2 .2 .1 .3-0c0-.2-.1-.7-.1-.8c.1-.2 .2 0 .2-0c-0-.1-.3-.3-.2-.4Z"/>
<path class="c" style="stroke-width:1.6" d="M260.8 663.2c-0-4.9 4.5-9.7 10-12.9c5.5-3.3 15.8-5.8 22.9-6.6c7.1-.7 14.7 .5 19.6 2.2c5 1.7 8 4.1 10.2 8.1c2.2 4 3.3 10.5 3 15.9c-.2 5.4-1.1 12.6-4.4 16.5c-3.3 3.9-9.3 6.5-15.1 7c-5.7 .5-13.4-1.7-19.4-3.9c-6.1-2.2-12.4-5-16.8-9.4c-4.5-4.3-10-11.9-10-16.9Z"/><path class="c" style="stroke-width:1.7" d="M265.7 662.6c.1-4.4 4-8.3 8.7-11.2c4.7-2.9 13.3-5.5 19.5-6.3c6.3-.7 13.4 0 17.8 1.7c4.4 1.6 6.7 4.4 8.6 8.1c1.8 3.7 2.8 9.3 2.6 14.1c-.2 4.8-1 11.3-3.8 14.7c-2.8 3.3-7.8 5-12.8 5.4c-5 .3-11.9-1.3-17.3-3.1c-5.3-1.9-11-4.1-14.9-8c-3.9-3.9-8.4-10.9-8.4-15.4Z"/><path class="c" style="stroke-width:1.7" d="M269.9 662.3c-.1-3.8 3-7.1 7.2-9.7c4.3-2.6 12.6-5.1 18.2-5.8c5.6-.6 11.8 .6 15.4 1.9c3.7 1.3 5.1 2.8 6.7 5.9c1.6 3.2 3 8.6 2.9 12.9c-.2 4.3-1.3 10-3.8 13c-2.5 3-6.9 4.6-11.3 5c-4.4 .4-10.4-1.1-15-2.7c-4.5-1.7-9.1-4-12.4-7.4c-3.4-3.4-7.8-9.3-7.9-13.1Z"/><path class="c" style="stroke-width:1.8" d="M274 662.2c.1-3.3 3.1-6.8 6.6-9.1c3.6-2.2 10-3.7 14.8-4.2c4.8-.5 10.6-0 13.9 1.1c3.2 1.2 4.2 3.2 5.6 5.9c1.4 2.7 2.9 7 2.8 10.5c-.1 3.5-1.2 8.1-3.4 10.5c-2.2 2.4-6 3.4-9.7 3.7c-3.8 .4-9-.4-13-1.7c-4.1-1.3-8.6-3.1-11.5-5.9c-3-2.8-6.2-7.5-6.1-10.8Z"/><path class="c" style="stroke-width:1.8" d="M278.5 661.2c-0-2.6 2.3-5.3 5.3-7.1c2.9-1.8 8.4-3.3 12.3-3.7c3.9-.5 8.3-.1 11 .8c2.8 .9 4.5 2.2 5.6 4.5c1.2 2.3 1.6 6.1 1.2 9.2c-.3 3-1.2 7-3.1 9.1c-1.8 2.1-4.9 3.3-8 3.5c-3.1 .3-7.4-.6-10.5-1.8c-3.2-1.3-6.1-3.5-8.4-5.9c-2.2-2.4-5.4-5.9-5.4-8.6Z"/><path class="c" style="stroke-width:1.9" d="M282.9 660.5c.1-2.1 1.9-4 4.1-5.5c2.2-1.6 6-3.2 9.2-3.6c3.1-.3 7.7 .5 9.9 1.4c2.3 1 2.7 2.5 3.5 4.3c.7 1.7 1.3 3.9 1.2 6.2c-.2 2.2-.6 5.6-1.9 7.2c-1.4 1.6-3.8 2-6.3 2.3c-2.5 .3-6.1 .2-8.8-.6c-2.6-.8-5.5-2.3-7.3-4.3c-1.8-1.9-3.7-5.2-3.6-7.4Z"/><path class="c" style="stroke-width:1.9" d="M286.8 659.9c-.1-1.6 1.3-3.1 3-4.2c1.8-1.1 5-2.1 7.3-2.3c2.4-.2 5.3 .3 6.9 1c1.7 .7 2.4 1.8 3 3.1c.6 1.2 .8 2.8 .6 4.4c-.1 1.6-.5 3.7-1.5 4.9c-1.1 1.3-2.7 2.3-4.6 2.4c-1.9 .2-4.7-.7-6.6-1.4c-1.8-.7-3.1-1.5-4.5-2.8c-1.3-1.3-3.5-3.6-3.6-5.1Z"/><path class="c" style="stroke-width:1.9" d="M291.3 659.7c-.1-.9 .1-1.6 1.1-2.4c1-.9 2.9-2.6 4.7-2.9c1.8-.3 4.8 .7 5.9 1.3c1.2 .6 .7 1.3 1 2.2c.2 .9 .8 2 .7 3c-.1 1-.6 2.2-1.2 3c-.7 .7-1.5 1.6-2.7 1.7c-1.3 .2-3.3-.2-4.6-.7c-1.3-.6-2.4-1.7-3.2-2.6c-.8-.8-1.5-1.8-1.7-2.6Z"/><path class="c" style="stroke-width:2" d="M295.9 659.4c0-.4-.1-.8 .2-1.2c.4-.5 1.1-1.5 1.9-1.7c.9-.2 2.5-.1 3.2 .3c.6 .3 .7 1.2 .7 1.7c0 .6-.4 1.2-.6 1.6c-.2 .5-.3 .8-.7 1.1c-.3 .2-.7 .5-1.2 .4c-.5-0-1.1-.5-1.7-.7c-.5-.2-1.3-.2-1.6-.5c-.3-.2-.2-.6-.2-1Z"/>
<path d="M277.6 657.1c-1.1-4.3 4.3-8 9.7-9.8c5.5-1.7 17.2-2 22.9-.6c5.7 1.4 9.3 4.3 11.4 8.8c2.2 4.5 3 13.3 1.7 18c-1.4 4.6-4.9 9.8-9.8 9.8c-4.9-0-13.6-5.5-19.6-9.8c-6-4.4-15.3-12-16.3-16.4Z" fill="#000" fill-opacity="0.6"/>
<path d="M311.8 676.7c1.4-4.3 7.4 2.2 9.8 6.6c2.5 4.3 4.1 9.8 4.9 19.6c.8 9.8 .8 26.1 0 39.1c-.8 13.1-3 38.1-4.9 39.2c-1.9 1.1-5.1-20.7-6.5-32.6c-1.4-12-1.1-27.2-1.6-39.2c-.6-12-3-28.3-1.7-32.7Z" fill="#000" fill-opacity="0.6"/>
<path d="M284.1 748.6c2.3-3.8 8.7-6.6 11.4-3.3c2.7 3.3 4.4 14.2 4.9 22.9c.6 8.7 .6 25.5-1.6 29.4c-2.2 3.8-8.6-1.7-11.5-6.6c-2.8-4.9-5.3-15.8-5.8-22.8c-.6-7.1 .2-15.8 2.6-19.6Z" fill="#000" fill-opacity="0.45"/>
<ellipse cx="306.9" cy="769.8" rx="4.2" ry="17" fill="#fff" stroke="#000" stroke-width="1.3"/>
<path class="c" style="stroke-width:1.1" d="M365.1 720.8c1.7-.5 7.1-3.5 10.4-3.2c3.3 .2 7.4 2.1 9.2 4.8c1.7 2.8 2 7.7 1.3 11.5c-.7 3.8-2.2 9.4-5.6 11.4c-3.4 2-12.2 .6-14.7 .7"/>
<rect x="119.8" y="642" width="6.6" height="222" fill="#000"/>
<path class="c" style="stroke-width:1.2" d="M119.8 634c.8 1.7 3.7 2.3 5 10c1.3 7.7 2.5 4.2 3 36c.5 31.8 .3 123.7 0 155c-.3 31.3-.7 26-2 33c-1.3 7-5 7.5-6 9"/>
<path class="c" style="stroke-width:1.2" d="M119.8 638c.7 1.3 2.8-.7 4 8c1.2 8.7 2.5 13.7 3 44c.5 30.3 .3 109.7 0 138c-.3 28.3-.8 25-2 32c-1.2 7-4.2 8.3-5 10"/>
<rect class="ax" x="119.8" y="571.3" width="354" height="353.6"/>
<path class="tk" d="M119.8 600h-10M119.8 665.3h-10M119.8 736.5h-10M119.8 812.9h-10M119.8 890.6h-10"/>
<path class="tm" d="M119.8 645.6h-4M119.8 634.1h-4M119.8 626h-4M119.8 619.7h-4M119.8 614.5h-4M119.8 610.1h-4M119.8 606.3h-4M119.8 603h-4M119.8 715.1h-4M119.8 702.5h-4M119.8 693.6h-4M119.8 686.7h-4M119.8 681.1h-4M119.8 676.3h-4M119.8 672.2h-4M119.8 668.6h-4M119.8 580.3h-4M119.8 794.5h-4M119.8 780.6h-4M119.8 770.4h-4M119.8 762.6h-4M119.8 756.4h-4M119.8 751.2h-4M119.8 746.8h-4M119.8 743h-4M119.8 739.6h-4M119.8 831.6h-4M119.8 845.8h-4M119.8 856.1h-4M119.8 864h-4M119.8 870.3h-4M119.8 875.6h-4M119.8 880.1h-4M119.8 884h-4M119.8 887.5h-4M119.8 911.7h-4"/>
<path class="tm" d="M119.8 799.9h-5.5M119.8 802h-5.5M119.8 804h-5.5M119.8 805.8h-5.5M119.8 807.6h-5.5M119.8 809.3h-5.5M119.8 810.8h-5.5M119.8 812h-5.5M119.8 813.8h-5.5M119.8 815h-5.5M119.8 816.5h-5.5M119.8 818.2h-5.5M119.8 820h-5.5M119.8 821.8h-5.5M119.8 823.8h-5.5M119.8 825.9h-5.5"/>
<text transform="translate(106.8 608.8) scale(0.97 1)" font-size="25" text-anchor="end">10<tspan font-size="14.5" dy="-9">5</tspan></text>
<text transform="translate(106.8 674.1) scale(0.97 1)" font-size="25" text-anchor="end">10<tspan font-size="14.5" dy="-9">4</tspan></text>
<text transform="translate(106.8 745.3) scale(0.97 1)" font-size="25" text-anchor="end">10<tspan font-size="14.5" dy="-9">3</tspan></text>
<text transform="translate(106.8 821.7) scale(0.97 1)" font-size="25" text-anchor="end">0</text>
<text transform="translate(106.8 899.4) scale(0.97 1)" font-size="25" text-anchor="end">10<tspan font-size="14.5" dy="-9">-3</tspan></text>
<path class="tk" d="M119.8 924.9v10M183.5 924.9v10M248.2 924.9v10M312.5 924.9v10M377 924.9v10M441.5 924.9v10"/>
<path class="tm" d="M139 924.9v4M150.2 924.9v4M158.2 924.9v4M164.3 924.9v4M169.4 924.9v4M173.6 924.9v4M177.3 924.9v4M180.6 924.9v4M202.7 924.9v4M213.9 924.9v4M221.9 924.9v4M228 924.9v4M233.1 924.9v4M237.3 924.9v4M241 924.9v4M244.3 924.9v4M267.4 924.9v4M278.6 924.9v4M286.6 924.9v4M292.7 924.9v4M297.8 924.9v4M302 924.9v4M305.7 924.9v4M309 924.9v4M331.7 924.9v4M342.9 924.9v4M350.9 924.9v4M357 924.9v4M362.1 924.9v4M366.3 924.9v4M370 924.9v4M373.3 924.9v4M396.2 924.9v4M407.4 924.9v4M415.4 924.9v4M421.5 924.9v4M426.6 924.9v4M430.8 924.9v4M434.5 924.9v4M437.8 924.9v4M460.7 924.9v4M471.9 924.9v4"/>
<text transform="translate(124.8 959.1) scale(0.97 1)" font-size="25" text-anchor="middle">10<tspan font-size="14.5" dy="-9">0</tspan></text>
<text transform="translate(188.5 959.1) scale(0.97 1)" font-size="25" text-anchor="middle">10<tspan font-size="14.5" dy="-9">1</tspan></text>
<text transform="translate(253.2 959.1) scale(0.97 1)" font-size="25" text-anchor="middle">10<tspan font-size="14.5" dy="-9">2</tspan></text>
<text transform="translate(317.5 959.1) scale(0.97 1)" font-size="25" text-anchor="middle">10<tspan font-size="14.5" dy="-9">3</tspan></text>
<text transform="translate(382 959.1) scale(0.97 1)" font-size="25" text-anchor="middle">10<tspan font-size="14.5" dy="-9">4</tspan></text>
<text transform="translate(446.5 959.1) scale(0.97 1)" font-size="25" text-anchor="middle">10<tspan font-size="14.5" dy="-9">5</tspan></text>
<text x="308.6" y="1001" font-size="29" text-anchor="middle">CD127-PE</text>
<text x="42.5" y="731.6" font-size="29" text-anchor="middle" transform="rotate(-90 42.5 731.6)">c-kit-APC-Cy7</text>
<rect class="g" x="364.4" y="698.3" width="56.8" height="82.9"/>
<text x="377.8" y="822" font-size="24.8" class="r">pre-CLP</text>
<path class="g" d="M365.7 781.2L365.7 1059.7"/><path fill="#d8382c" d="M365.7 1072.5L358.5 1059.7L372.9 1059.7Z"/>
<path class="c" style="stroke-width:1.3" d="M724.1 673.5c1.6-5.5 3-12.3 8.1-16.4c5.2-4 14.7-5.7 22.9-8.1c8.2-2.5 17.4-5.3 26.1-6.6c8.7-1.2 19.1-1.5 26.1-.9c7.1 .5 12 2.4 16.4 4.2c4.3 1.8 5.4 5.2 9.8 6.5c4.3 1.4 9.8 .9 16.3 1.7c6.5 .8 16.3 1.9 22.9 3.2c6.5 1.4 12.6 2.8 16.3 4.9c3.6 2.2 6 5.6 5.5 8.2c-.4 2.6-3.4 6.3-8.1 7.2c-4.8 .9-13.6-1.3-20.3-2c-6.6-.6-14.2-2.3-19.6-1.9c-5.3 .3-9.4 .1-12.4 3.9c-2.9 3.8-4.5 11.4-5.2 18.9c-.7 7.5 .3 18 1.3 26.1c1 8.2 3 16.6 4.9 22.9c1.9 6.3 3 11.9 6.5 14.7c3.6 2.8 9.8 4.2 14.7 2.3c4.9-1.9 10.4-8.2 14.7-13.7c4.4-5.6 7.4-15 11.4-19.6c4.1-4.6 8.5-8.2 13.1-8.2c4.6 0 11.2 2.5 14.7 8.2c3.5 5.7 6 16.3 6.5 26.1c.6 9.8-1.3 21.8-3.2 32.7c-1.9 10.8-4.1 23.2-8.2 32.6c-4.1 9.4-9.2 19.2-16.3 23.5c-7.1 4.4-18.5 1.7-26.1 2.6c-7.7 1-13.6 .6-19.6 3.3c-6 2.7-10.4 9-16.4 13.1c-5.9 4-13 9.4-19.6 11.4c-6.5 2-11.9 1.9-19.5 .6c-7.7-1.2-18-3.9-26.2-8.1c-8.1-4.2-16.6-9.3-22.8-17c-6.3-7.7-11.2-18-14.7-29.4c-3.6-11.4-5.7-27.2-6.5-39.2c-.9-11.9 .2-21.7 1.6-32.6c1.3-10.9 6-22.9 6.5-32.7c.6-9.8-3-19-3.3-26.1c-.2-7.1 0-10.9 1.7-16.3Z"/>
<path class="c" style="stroke-width:1.3" d="M729 674.1c1.4-4.9 2.5-10 7.2-13.7c4.6-3.6 13-5.8 20.5-8.2c7.5-2.3 16.1-4.9 24.5-6.2c8.5-1.2 19.3-1.8 26.1-1.3c6.8 .5 10.7 2.3 14.7 4.3c4.1 1.9 5.2 5.9 9.8 7.5c4.7 1.6 11.5 1.2 18 1.9c6.5 .8 15.3 1.5 21.2 2.7c5.9 1.1 11.2 2.7 14.1 4.2c2.8 1.5 3.8 3.7 3.2 4.9c-.5 1.3-2.8 2.5-6.5 2.6c-3.7 .1-9.8-1.3-15.7-1.9c-5.9-.7-13.9-2.3-19.6-2c-5.7 .3-11.3-.7-14.7 3.9c-3.3 4.6-4.8 15.3-5.5 23.5c-.8 8.3 0 17.7 1 26.1c.9 8.5 2.7 17.5 4.5 24.5c1.9 7.1 2.2 14.5 6.6 18c4.3 3.5 13.6 5.2 19.6 3.3c5.9-1.9 11.7-9 16.3-14.7c4.6-5.7 7.9-15.1 11.4-19.6c3.6-4.5 6.5-7.5 9.8-7.5c3.3-0 7.2 2.7 9.8 7.5c2.6 4.8 5.4 12.5 5.9 21.2c.4 8.7-1.2 21.2-3.3 31c-2 9.8-5.4 22.6-9.1 27.8c-3.7 5.1-7.1 3-13.1 3.2c-6 .3-16.3-2.4-22.8-1.6c-6.6 .8-12.3 1.9-16.4 6.5c-4.1 4.7-4.6 15-8.1 21.3c-3.6 6.2-7.9 11.8-13.1 16.3c-5.2 4.5-11.8 8.6-18 10.4c-6.1 1.9-11.5 1.9-18.9 .7c-7.3-1.2-17.5-3.8-25.1-7.8c-7.7-4.1-14.9-9-20.6-16.4c-5.7-7.3-10.5-16.8-13.7-27.7c-3.3-10.9-5.2-25.9-5.9-37.6c-.7-11.7 .3-21.7 1.6-32.6c1.3-10.9 5.7-22.9 6.2-32.7c.5-9.8-2.9-19.1-3.2-26.1c-.4-7-.1-10.8 1.3-15.7Z"/>
<path class="c" style="stroke-width:1.1" d="M874.3 778c-0-6 2.4-11.5 4.9-16.4c2.4-4.9 6.5-10.9 9.8-13c3.2-2.2 7.9-2.2 9.8-0c1.9 2.1 2.2 7.6 1.6 13c-.5 5.5-3 13.9-4.9 19.6c-1.9 5.7-3.8 12-6.5 14.7c-2.7 2.7-7.4 4.6-9.8 1.7c-2.5-3-4.9-13.7-4.9-19.6Z"/>
<path class="c" style="stroke-width:1.4" d="M733.4 674.3c.8-2.2 2.2-3.8 3.5-5.7c1.2-2 1.8-4.5 4-6.1c2.1-1.5 5.9-2 8.9-3.1c2.9-1 5.6-2.2 8.9-3.4c3.3-1.2 7.1-2.5 10.8-3.6c3.8-1.1 8-2.3 11.9-3c4-.6 7.7-.7 11.8-.9c4.1-.1 9.5-.3 12.9-.1c3.3 .2 4.8 .7 7.3 1.3c2.4 .6 5.7 1.2 7.4 2.2c1.8 1.1 1.8 2.9 2.9 4.2c1.1 1.4 3.3 .2 3.8 3.9c.5 3.7-.6 12.1-1 18.2c-.3 6.2-1 13.4-1.1 18.6c-.1 5.1 .3 8.1 .5 12.5c.3 4.4 .4 9.2 .7 13.6c.4 4.5 1.1 8.8 1.6 13.1c.5 4.2 1 7.9 1.5 12.2c.6 4.4 1.2 9.4 1.8 13.9c.7 4.4 1.9 8.5 2.2 12.8c.3 4.3-.5 8.6-.4 12.9c-0 4.2 1 8.1 .6 12.6c-.5 4.6-2.4 9.6-3.3 14.7c-.8 5-1.2 11-2.1 15.4c-.8 4.5-2.1 7.3-3.1 11c-1.1 3.7-1.7 8.3-3.4 11.2c-1.7 3-4.4 4.5-6.9 6.7c-2.5 2.2-5.3 5.4-8 6.5c-2.8 1.2-5.5 .3-8.4 .4c-2.9 .1-5.3 1-8.9 .3c-3.6-.6-8.6-2.9-12.7-4.2c-4.1-1.2-8.2-1.2-11.8-3.2c-3.6-1.9-6.7-5.8-9.9-8.5c-3.2-2.7-6.8-4.2-9.4-7.6c-2.7-3.3-4.1-8.1-6.2-12.5c-2.2-4.3-5-8.5-6.7-13.7c-1.6-5.1-2.4-11.3-3.3-17.3c-.8-6-1.4-12.9-1.7-18.7c-.2-5.8 0-10.6 .2-16c.2-5.5 .6-11.4 1.2-16.8c.5-5.4 1.1-10.1 2-15.5c.9-5.4 3-11.8 3.4-16.7c.4-5-.7-8.6-1.1-12.9c-.4-4.4-1.1-9.9-1.4-13.4c-.2-3.6-.4-5.3-.2-7.8c.1-2.5 .4-5.3 1.2-7.5Z"/><path class="c" style="stroke-width:1.4" d="M737 676.2c.6-2.1 2.3-4.1 3.6-5.9c1.2-1.9 1.7-3.8 3.7-5.3c2-1.6 5.5-2.9 8.3-4.2c2.8-1.2 5.4-2.2 8.6-3.2c3.2-1 7.3-1.8 10.7-2.8c3.4-1 6.1-2.4 9.7-3.1c3.6-.7 7.9-.7 11.7-1c3.9-.4 8.6-1.3 11.6-1c3 .3 4.3 2 6.5 2.7c2.3 .8 5.2 1 6.9 1.9c1.8 .8 2.6 2.1 3.7 3.4c1.2 1.3 2.6 .8 3 4.3c.4 3.5-.3 11-.7 16.6c-.3 5.5-1.6 11.8-1.6 16.8c-.1 5 1.1 8.8 1.2 13.2c.2 4.4-.6 8.8-.3 13.2c.4 4.3 1.6 8.7 2.3 13.1c.8 4.5 1.7 9.1 2.2 13.7c.5 4.5 .2 9.2 .7 13.6c.5 4.5 1.8 8.8 2.1 13.2c.3 4.4-.2 8.8-.2 13.1c-.1 4.2 .3 7.9-.1 12.3c-.5 4.4-1.9 9.3-2.7 13.9c-.8 4.6-1.4 9.7-2.1 13.7c-.8 4.1-1.5 7.2-2.4 10.8c-.9 3.5-1.6 7.8-3.3 10.5c-1.7 2.8-4.3 3.9-6.6 6c-2.4 2-4.8 5.3-7.4 6.3c-2.6 1-5.3-.2-8-.1c-2.8 .1-5 1.1-8.4 .6c-3.3-.4-8-2.2-11.7-3.4c-3.8-1.3-7.5-2.3-10.8-4.1c-3.2-1.8-5.7-4.3-8.7-6.8c-3-2.4-6.4-4.6-9-8c-2.6-3.5-4.4-8.6-6.5-12.7c-2.1-4-4.6-6.8-6-11.6c-1.5-4.8-1.9-11.4-2.7-17.2c-.7-5.8-1.5-12-1.8-17.6c-.3-5.6-.1-10.7 0-16.1c.1-5.4 0-10.8 .7-16.2c.7-5.5 2.4-11 3.3-16.4c1-5.4 2.4-11.2 2.5-16.1c.2-5-1.2-9.2-1.5-13.6c-.3-4.3-.4-9.4-.6-12.7c-.1-3.2-.1-4.5-.1-6.8c0-2.3-.4-4.8 .2-7Z"/><path class="c" style="stroke-width:1.5" d="M741.6 677.2c.6-2 1.9-3.6 2.9-5.4c1-1.8 1.3-3.9 3.2-5.4c1.8-1.5 5.1-2.4 7.7-3.6c2.6-1.3 4.7-2.8 7.7-3.8c3-1.1 7.1-1.5 10.4-2.4c3.2-.8 5.9-2.1 9.2-2.8c3.2-.7 6.7-1 10.3-1.4c3.6-.3 8.5-1.1 11.5-.8c2.9 .3 4 2 6.1 2.7c2 .6 4.8 .4 6.3 1.3c1.4 .9 1.5 2.5 2.5 3.8c1 1.3 3.1 .8 3.5 4.2c.4 3.3-.7 10.5-1 15.8c-.3 5.3-.9 11.3-1 15.9c0 4.6 .6 7.6 .8 11.8c.3 4.1 .4 8.6 .7 13.3c.3 4.7 .7 10 1.2 14.8c.5 4.8 1.3 9.5 1.8 14.1c.5 4.6 .5 9.1 1 13.5c.5 4.5 1.7 8.9 2 13.2c.3 4.3-.1 8.5-.2 12.5c0 4 .4 7.4 0 11.6c-.3 4.1-1.1 8.9-1.9 13.3c-.8 4.5-2 9.7-2.8 13.5c-.8 3.7-1.3 6-2.1 9.3c-.8 3.3-1.2 7.8-2.9 10.5c-1.6 2.7-4.8 3.8-6.9 5.7c-2.1 1.8-3.4 4.3-5.7 5.3c-2.3 .9-5.3 .1-8 .4c-2.7 .2-5.3 1.4-8.3 1c-3-.5-6.3-2.5-9.7-3.8c-3.4-1.2-7.6-2-10.8-3.8c-3.2-1.8-5.8-4.5-8.5-6.8c-2.7-2.3-5.5-3.9-7.8-7c-2.3-3.1-4-7.9-6-11.8c-1.9-3.9-4.5-7-5.7-11.7c-1.3-4.8-1-10.9-1.8-16.5c-.8-5.7-2.6-11.8-2.8-17.4c-.3-5.5 .9-10.3 1.2-15.7c.2-5.3-.2-11 .2-16.4c.4-5.5 1.2-10.9 2-16.3c.9-5.4 2.8-11.5 3.1-16.3c.3-4.9-.8-8.7-1.1-12.7c-.4-4.1-.9-8.4-1.1-11.6c-.2-3.1-.3-5-.2-7.4c.2-2.3 .3-4.7 1-6.7Z"/><path class="c" style="stroke-width:1.5" d="M744.8 678.5c.5-2 1.9-3.9 3-5.6c1.1-1.7 1.9-3.1 3.6-4.5c1.7-1.4 4.2-2.9 6.5-4.1c2.4-1.2 4.9-2.1 7.7-3.2c2.8-1 6-2.3 9-3.3c3.1-.9 6.2-1.8 9.4-2.4c3.2-.5 6.4-.6 9.7-.9c3.3-.4 7.3-1.3 9.9-1.1c2.6 .1 3.9 1.2 5.8 1.9c1.9 .6 4.1 1 5.5 2c1.4 1 2 2.6 3 3.8c1 1.2 2.7 .3 3 3.3c.3 3.1-.9 10.1-1.1 15.1c-.3 5-.2 10.4-.3 15c-.2 4.5-.7 8.1-.5 12.3c.1 4.2 .8 8.5 1.3 13.1c.4 4.5 .9 9.3 1.3 14.4c.4 5 .6 10.9 1 15.7c.5 4.9 1.1 9.1 1.7 13.4c.5 4.3 1.2 8.5 1.4 12.7c.2 4.2-.3 8.6-.3 12.6c.1 3.9 .8 7.2 .4 11.1c-.3 4-1.9 8.5-2.6 12.6c-.6 4.1-.5 8.3-1.3 11.9c-.8 3.6-2.5 6.4-3.3 9.7c-.9 3.3-.5 7.4-1.8 9.8c-1.3 2.4-3.8 3-5.9 4.6c-2 1.7-4.1 4.4-6.3 5.4c-2.3 1.1-4.7 .8-7.1 1c-2.4 .2-4.5 .7-7.3 .2c-2.8-.6-6.3-2.3-9.6-3.4c-3.2-1.2-7.1-2.1-10-3.7c-2.9-1.6-4.8-3.7-7.3-5.9c-2.4-2.1-5.2-3.7-7.3-6.8c-2.1-3-3.5-7.5-5.3-11.4c-1.9-3.8-4.4-7.3-5.6-11.9c-1.2-4.6-1.2-10.4-1.8-15.7c-.7-5.2-1.7-10.5-2-15.7c-.4-5.2-.3-10.2-.2-15.4c.2-5.3 .6-10.7 1-16.2c.5-5.5 1-11.5 1.7-17c.7-5.4 2.2-10.9 2.4-15.7c.3-4.7-.7-8.7-.9-12.8c-.3-4.1-.5-8.7-.5-11.8c-.1-3 .1-4.2 .1-6.4c0-2.2-.5-4.7-.1-6.7Z"/><path class="c" style="stroke-width:1.6" d="M748.8 680.1c.5-1.8 2.1-3.6 3-5.3c1-1.8 1.4-3.7 2.9-5.2c1.5-1.4 3.8-2 6-3.3c2.3-1.3 4.9-3.2 7.4-4.4c2.5-1.2 5.2-1.9 7.8-2.8c2.7-.8 5.3-1.6 8.2-2.2c2.9-.5 6.3-1 9.3-1.2c3.1-.1 6.8-.1 9.1 .2c2.4 .2 3.2 1 5.1 1.6c1.8 .6 4.4 1 5.9 1.9c1.5 .9 2.2 2.5 3 3.5c.8 1 1.8-.1 2 2.6c.2 2.8-.6 9.1-.8 13.9c-.2 4.7-.3 10.1-.3 14.5c-0 4.4 0 7.7 .1 11.9c.1 4.2 0 8.6 .3 13.3c.4 4.7 1.3 9.9 1.7 15c.5 5.1 .5 10.5 1 15.6c.4 5 1.2 10 1.6 14.7c.5 4.6 .9 9 1.1 13.1c.2 4.2 .1 8.1 0 11.7c-0 3.6 .1 6.3-.3 10.1c-.4 3.8-1.3 8.8-1.9 12.7c-.7 3.9-1.2 7.3-1.9 10.6c-.7 3.4-1.8 6.8-2.6 9.7c-.8 2.9-1 5.6-2.3 7.7c-1.2 2.1-3.5 3.3-5.2 5c-1.7 1.8-3.1 4.6-5.1 5.6c-1.9 1-4.5 .3-6.9 .4c-2.3 .1-4.4 .8-7 .3c-2.5-.4-5.4-2-8.4-3c-2.9-1.1-6.9-1.4-9.5-3.1c-2.6-1.6-3.8-4.5-6.1-6.7c-2.3-2.1-5.6-3.5-7.6-6.3c-2-2.9-2.9-7.1-4.4-10.6c-1.6-3.5-3.9-6-5-10.4c-1.2-4.3-1.2-10.4-1.8-15.6c-.6-5.2-1.4-10.4-1.8-15.6c-.4-5.1-.5-10.1-.4-15.4c0-5.3 .2-10.8 .7-16.2c.5-5.4 1.5-10.5 2.2-16c.8-5.5 2.3-12.1 2.4-16.9c.2-4.9-1.1-8.3-1.4-12.2c-.4-3.8-.6-8-.6-10.9c-.1-2.9 .3-4.5 .3-6.5c.1-2.1-.4-4 .2-5.8Z"/><path class="c" style="stroke-width:1.6" d="M752.7 680.6c.6-1.9 2.2-3.4 3-5c.8-1.6 .5-3 1.9-4.4c1.4-1.4 4.5-2.6 6.5-3.9c2.1-1.2 3.7-2.7 5.9-3.6c2.1-1 4.6-1.3 7.1-2.1c2.4-.9 5.1-2.1 7.7-2.8c2.7-.6 5.4-1 8.3-1.2c2.8-.1 6.4 .1 8.7 .3c2.3 .2 3.7 .4 5.2 1c1.6 .5 3 1.2 4.2 2.2c1.2 .9 2.3 2.3 3.2 3.3c.8 1.1 1.5 .4 1.8 3c.2 2.7-.2 8.6-.3 13c-.1 4.4-.4 9.4-.5 13.4c0 3.9 .3 6.4 .4 10.4c.2 4 .3 8.8 .6 13.6c.3 4.8 .9 10 1.3 15.5c.3 5.4 .5 12 .9 17.3c.4 5.4 1.1 10.2 1.5 14.6c.4 4.5 .9 8.1 1 12.1c-0 3.9-.9 7.8-.9 11.5c-0 3.8 1 7.2 .7 10.9c-.2 3.7-1.5 7.8-2.1 11.4c-.6 3.5-1 6.8-1.6 9.9c-.6 3.1-1.1 5.9-1.8 8.7c-.6 2.8-.9 5.9-2.2 8c-1.2 2.2-3.6 3.5-5.4 4.9c-1.8 1.4-3.4 2.8-5.3 3.7c-1.9 .8-3.9 1-5.9 1.2c-2 .3-3.9 .6-6.2 .1c-2.4-.6-5.1-2.5-7.8-3.5c-2.8-1-6.1-1.1-8.6-2.4c-2.5-1.4-4-3.7-6.2-5.7c-2.1-2-5-3.6-6.7-6.4c-1.7-2.8-2.2-6.9-3.6-10.2c-1.5-3.4-3.9-6-5-10.1c-1.2-4-1.4-9.2-1.9-14.3c-.5-5-.8-10.7-1.1-15.8c-.2-5-.3-9.2-.3-14.3c-.1-5-.2-10.5 .3-15.9c.4-5.5 1.6-11.2 2.3-16.6c.7-5.5 1.7-11.5 1.9-16.2c.3-4.8-.2-8.4-.5-12.2c-.3-3.9-1.3-8.2-1.4-11c-.2-2.8 .2-3.9 .4-6c.1-2.1-.1-4.5 .5-6.4Z"/><path class="c" style="stroke-width:1.7" d="M756.2 681.7c.4-1.8 1.4-3.2 2.2-4.7c.7-1.6 .9-3.4 2.3-4.6c1.3-1.3 3.9-1.9 5.9-3.1c1.9-1.2 3.6-2.8 5.7-3.9c2.2-1.1 4.9-2 7.2-2.9c2.2-.8 4.1-1.7 6.5-2.2c2.3-.5 5.1-.5 7.6-.8c2.6-.2 5.7-.7 7.6-.5c1.9 .1 2.6 1.1 4 1.6c1.5 .6 3.6 .9 4.8 1.6c1.1 .8 1.6 1.8 2.3 2.9c.7 1 1.8 .9 2.1 3.4c.2 2.5-.3 7.4-.5 11.5c-.2 4.1-.6 9-.6 12.9c0 3.9 .6 6.4 .7 10.5c.1 4-.4 8.6-.2 13.7c.3 5 1.3 10.9 1.8 16.5c.5 5.5 .9 11.6 1.2 16.9c.2 5.3-0 10.4 .2 15c.3 4.7 1.2 9.1 1.4 13c.1 3.9-.3 7.1-.3 10.5c0 3.5 .7 6.5 .4 10c-.3 3.5-1.7 7.6-2.2 11.1c-.5 3.4-.5 6.8-1 9.7c-.5 2.9-1.3 5.1-2 7.5c-.7 2.4-1 5.1-2.2 7.1c-1.2 2-3.3 3.4-4.9 4.9c-1.6 1.5-2.9 3.3-4.6 4.1c-1.6 .7-3.6 .2-5.3 .3c-1.7 .1-2.7 .6-4.9 .2c-2.2-.4-5.7-1.5-8.3-2.5c-2.6-1-5.2-2.1-7.3-3.5c-2-1.4-3.1-3.1-5-4.9c-2-1.8-4.9-3.2-6.7-5.7c-1.7-2.6-2.6-6.2-3.9-9.5c-1.2-3.4-2.5-6.4-3.4-10.5c-1-4-1.7-8.9-2.3-13.6c-.7-4.6-1.5-9.3-1.7-14.2c-.3-4.9-0-10 .2-15.2c.3-5.2 .8-10.8 1.2-16.2c.4-5.3 .8-10.4 1.4-15.7c.6-5.4 2.2-11.6 2.3-16.4c.1-4.8-1.3-8.6-1.6-12.4c-.3-3.7-.1-7.5-.1-10.1c-0-2.6-0-3.7-0-5.7c-0-1.9-.3-4.3 0-6.1Z"/><path class="c" style="stroke-width:1.7" d="M760.4 682.9c.5-1.7 1.6-3.1 2.3-4.6c.7-1.5 .9-3.3 2-4.6c1-1.3 2.4-2.1 4.1-3.1c1.6-1.1 3.8-2.4 5.6-3.4c1.9-.9 3.5-1.7 5.7-2.5c2.1-.8 4.8-1.7 7.1-2.4c2.3-.6 4.4-1.3 6.5-1.6c2.2-.2 4.8-.3 6.5 0c1.8 .3 2.5 1.2 3.9 1.8c1.4 .6 3.5 1.1 4.6 1.8c1.2 .7 1.6 1.5 2.2 2.5c.5 1 .8 1 1.1 3.3c.2 2.4 .3 6.8 .2 10.6c-.2 3.7-1.1 8.2-1.2 11.9c-.1 3.7 .2 6.2 .4 10.1c.1 4 .3 8.5 .7 13.4c.3 5 .9 10.6 1.3 16.4c.3 5.8 .5 12.8 .7 18.4c.2 5.6 .5 10.4 .7 15.1c.3 4.7 .6 8.8 .8 12.8c.2 4 .3 7.9 .3 11.3c-0 3.3-.2 5.8-.5 8.9c-.3 3.1-1 6.3-1.4 9.5c-.5 3.1-.9 6.7-1.3 9.4c-.5 2.7-.8 4.5-1.3 6.8c-.5 2.3-.6 5.3-1.7 7.2c-1 1.9-3.1 2.9-4.6 4.1c-1.4 1.2-2.7 2.3-4.2 3c-1.4 .6-3.1 .8-4.7 .9c-1.6 .1-2.7-0-4.7-.4c-2-.4-5.2-1-7.4-1.7c-2.2-.8-4-1.6-5.8-2.9c-1.9-1.4-3.5-3.7-5.4-5.4c-1.9-1.8-4.4-2.8-5.9-5.2c-1.4-2.4-1.6-6.1-2.8-9c-1.1-3-3-5.2-4-8.8c-1-3.6-1.5-8.3-2-12.9c-.6-4.6-1.2-9.6-1.3-14.5c-.2-5 .6-10 .7-15.1c.1-5.1-.3-10.2-.1-15.5c.2-5.2 .9-10.7 1.4-16.3c.6-5.5 1.9-12.3 2.1-17c.1-4.6-.7-7.2-.9-10.7c-.2-3.5-.4-7.7-.5-10.4c-0-2.7-.1-4 0-5.8c.2-1.9 .3-3.8 .8-5.4Z"/><path class="c" style="stroke-width:1.8" d="M763.6 684.2c.2-1.6 1-3.5 1.7-4.9c.7-1.3 1.7-2.1 2.7-3.2c1-1.2 2.1-2.5 3.5-3.7c1.3-1.3 2.9-2.5 4.6-3.7c1.8-1.2 4-2.4 5.8-3.2c1.9-.9 3.5-1.6 5.5-2c1.9-.4 4.2-.4 6.2-.5c2-.2 4.3-.4 5.8-.2c1.6 .3 2.1 1.1 3.4 1.6c1.2 .4 3.1 .4 4.1 1.1c.9 .7 1 2 1.6 2.9c.6 .9 1.6 .3 1.8 2.4c.2 2.2-.4 6.6-.5 10.2c-.1 3.6 0 7.8 0 11.3c.1 3.4 .1 5.7 .2 9.5c-0 3.8-.1 7.9 .1 13c.2 5.2 .7 11.9 1.1 18c.4 6.2 .8 13.1 1.1 18.8c.3 5.8 .5 11.2 .7 15.8c.2 4.6 .4 8 .4 11.8c0 3.7-.1 7.4-.2 10.7c0 3.2 .3 5.7 .1 8.8c-.3 3.1-1.3 6.8-1.8 9.7c-.4 2.9-.5 5.4-.8 7.8c-.4 2.3-.7 4.3-1.2 6.3c-.5 2.1-.8 4.2-1.7 5.8c-.9 1.6-2.6 2.3-3.8 3.6c-1.3 1.3-2.3 3.5-3.7 4.2c-1.3 .8-3.2 .2-4.6 .2c-1.4 .1-2.2 .3-3.9-0c-1.7-.4-4.6-1.2-6.5-1.9c-2-.7-3.7-1.2-5.3-2.4c-1.7-1.1-2.9-3.1-4.6-4.7c-1.6-1.7-3.9-3-5.2-5.3c-1.4-2.2-1.8-5.5-2.8-8.4c-1-2.9-2.4-5.7-3.2-9.1c-.7-3.5-.9-7.4-1.5-11.8c-.5-4.4-1.6-9.9-1.8-14.7c-.2-4.8 .6-9.2 .7-14.1c.1-4.8-.4-9.5-.1-14.9c.3-5.3 1.3-11.5 1.8-17.2c.5-5.6 1.1-11.9 1.2-16.5c.2-4.5-.1-7.3-.3-10.8c-.1-3.4-.6-7.5-.6-10.1c-.1-2.5 .5-3.6 .5-5.3c-0-1.7-.8-3.3-.5-4.9Z"/><path class="c" style="stroke-width:1.8" d="M767.7 685.8c.3-1.6 1.3-3.7 1.8-5.2c.5-1.4 .4-2.1 1.3-3.3c.8-1.2 2.5-2.8 3.7-4c1.3-1.2 2.2-2.3 3.7-3.2c1.5-1 3.6-1.8 5.3-2.6c1.8-.9 3.4-2.1 5.1-2.5c1.7-.4 3.5 .1 5.1 0c1.7-.1 3.6-.6 5-.6c1.3 .1 2.1 .5 3.1 1.1c1.1 .5 2.3 1.6 3 2.2c.8 .7 1.1 1.2 1.7 1.9c.6 .7 1.9 .4 2.1 2.3c.2 1.9-.7 5.9-.9 9c-.2 3.2-.4 6.8-.4 10.1c.1 3.3 .5 6.1 .7 9.8c.1 3.8 .1 7.8 .3 13c.2 5.1 .8 11.8 1.1 18c.3 6.3 .6 13.4 .8 19.4c.1 6 .1 11.8 .2 16.6c.1 4.8 .2 8.6 .3 12.3c.1 3.6 .3 6.8 .4 9.9c.1 3.1 .3 5.6 0 8.5c-.3 2.8-1.5 6.2-1.8 8.8c-.3 2.6 .2 4.8-.2 7c-.4 2.2-1.7 4.3-2.2 6.2c-.5 1.9-.2 3.8-1 5.3c-.7 1.4-2.5 2.3-3.6 3.3c-1.1 1.1-1.9 2.6-3 3.2c-1 .6-2 .1-3.2 .2c-1.2 .2-2.2 1-3.8 .7c-1.6-.3-4.1-1.6-6-2.4c-1.9-.9-3.9-1.6-5.3-2.8c-1.5-1.2-2.4-3-3.7-4.4c-1.2-1.5-2.8-2.2-3.8-4.2c-1.1-1.9-1.7-4.7-2.7-7.4c-.9-2.7-2.3-5.4-2.9-8.8c-.7-3.4-.7-7.7-1.1-11.8c-.4-4.1-1.1-8.5-1.3-12.9c-.2-4.5 .1-9 .1-13.9c-.1-4.9-.5-10.2-.4-15.7c.2-5.4 .9-11.7 1.3-17.3c.4-5.5 1-11.3 1.2-15.8c.2-4.5 .3-7.7 .2-11.2c-.2-3.5-1.2-7.3-1.2-9.7c-.1-2.4 .7-3.1 .9-4.6c.2-1.5-.2-2.8 .1-4.5Z"/><path class="c" style="stroke-width:1.8" d="M770.9 686.9c.3-1.6 1.1-3.6 1.7-5c.6-1.4 1-2.4 1.8-3.5c.8-1.1 1.7-1.9 2.8-3c1.1-1.2 2.5-2.8 3.8-3.9c1.3-1.1 2.9-1.9 4.2-2.7c1.3-.9 2-1.9 3.4-2.3c1.3-.4 3.1-.2 4.6-.2c1.6 0 3.4 .2 4.7 .3c1.2 .2 1.9 .2 2.8 .5c1 .4 2.2 .8 2.8 1.6c.7 .8 .5 2.3 .9 3c.4 .8 1.2-0 1.4 1.6c.2 1.5-.1 4.9-.1 7.9c-.1 3-.2 6.7-.2 9.8c0 3.2 .2 5.6 .3 9.2c0 3.7-.2 7.4-0 12.7c.1 5.3 .6 12.5 1 19.1c.4 6.5 1 14.3 1.2 20.3c.2 6 .1 11.1 .2 15.7c.1 4.7 .2 8.7 .4 12.5c.1 3.7 .4 7.1 .4 10c0 3-.3 5-.5 7.6c-.2 2.7-.5 5.8-.7 8.2c-.3 2.5-.5 4.7-.8 6.8c-.4 2-1 3.9-1.4 5.5c-.4 1.6-.5 2.8-1.1 4c-.6 1.2-1.7 2.3-2.6 3.4c-.9 1.1-1.8 2.5-2.8 3.1c-1 .6-2.2 .1-3.4 .2c-1.1 .1-2 .7-3.4 .4c-1.3-.4-3.1-1.8-4.7-2.5c-1.5-.8-3.2-1-4.5-1.9c-1.3-1-2-2.6-3.2-4c-1.2-1.4-2.9-2.4-3.9-4.4c-1.1-1.9-1.7-4.9-2.4-7.4c-.7-2.5-1.4-4.4-2-7.4c-.5-3.1-1-6.8-1.4-10.9c-.4-4.1-.9-9-1.1-13.5c-.2-4.5-.3-8.5-.3-13.4c-0-4.8 0-10.2 .4-15.6c.3-5.3 1.2-11 1.7-16.6c.4-5.6 .8-12.5 .9-17c.1-4.5-.3-6.7-.5-9.8c-.1-3.2-.4-6.9-.5-9.3c-.1-2.3-.1-3.3-0-4.8c-0-1.5-.2-2.8 .1-4.3Z"/><path class="c" style="stroke-width:1.9" d="M774.5 687.6c.3-1.4 1.2-2.6 1.7-3.9c.4-1.3 .4-2.8 1-4c.7-1.2 1.8-2 2.8-3.1c.9-1.1 1.8-2.6 2.9-3.6c1-1 2.2-1.6 3.4-2.4c1.1-.8 2.3-1.9 3.5-2.4c1.3-.4 2.9-.3 4.1-.2c1.3 0 2.3 .3 3.3 .5c1 .2 1.8 .2 2.6 .5c.8 .4 1.6 1 2.1 1.6c.5 .5 .6 1.1 .9 1.8c.3 .6 .8 .5 1 2.1c.2 1.5 .4 4.6 .3 7.2c-0 2.7-.6 5.5-.5 8.5c0 3 .8 5.8 .9 9.5c0 3.8-.6 7.5-.4 12.9c.1 5.3 1.1 12.6 1.4 19.3c.3 6.6 .1 14.3 .1 20.5c0 6.3 0 12 .1 16.8c.1 4.8 .4 8.5 .4 12.2c.1 3.6 0 6.9-0 9.6c-.1 2.7-.1 4.4-.3 6.7c-.2 2.4-.5 5.3-.8 7.5c-.3 2.3-.7 4.2-1 5.9c-.3 1.7-.6 2.8-.8 4.4c-.3 1.5-.2 3.7-.6 4.9c-.4 1.2-1.2 1.5-2 2.3c-.8 .8-1.9 2.2-2.9 2.5c-.9 .4-1.8-.3-2.8-.2c-.9 .1-1.6 1.1-2.7 .9c-1.1-.2-2.6-1.5-3.9-2.1c-1.3-.6-2.6-.6-3.7-1.5c-1.1-1-1.9-2.7-2.9-4.1c-1-1.4-2.3-2.7-3.1-4.4c-.7-1.6-.8-3.3-1.4-5.5c-.6-2.2-1.5-4.7-2.1-7.8c-.6-3-1.1-6.4-1.4-10.3c-.4-3.9-.6-8.8-.7-13.1c-0-4.2 .2-7.8 .3-12.6c0-4.7-.1-10.6 .1-16c.2-5.4 .9-10.7 1.2-16.2c.3-5.6 .6-12.6 .6-17.1c-0-4.4-.6-6.6-.7-9.8c-.2-3.2-.3-7.2-.3-9.4c0-2.2 .1-2.5 .2-3.9c0-1.4-.2-3.1 .1-4.5Z"/><path class="c" style="stroke-width:1.9" d="M778.7 689.1c.3-1.3 .7-2.7 1-3.9c.3-1.3 .2-2.3 .7-3.4c.5-1.1 1.5-2.1 2.2-3.4c.7-1.2 1.1-3 2-4c.9-1.1 2.2-1.5 3.3-2.2c1.1-.8 2.1-1.6 3-2.1c1-.5 1.8-.8 2.8-.9c.9-.1 2.2-0 2.9 .2c.7 .2 .8 .5 1.4 1.1c.7 .5 2.1 1.6 2.6 2.2c.4 .7-0 1.2 .2 1.8c.3 .5 1.3 .2 1.4 1.6c.1 1.4-.6 4.3-.7 6.6c0 2.2 .4 4.2 .5 6.8c.1 2.6 .1 5.2 .1 8.8c.1 3.6-.1 7.3 .2 12.8c.2 5.5 1 13.2 1.2 20c.1 6.9-.4 14.5-.4 21c.1 6.5 .4 13.1 .5 18c.2 4.9 .4 8.1 .5 11.5c.1 3.4 .2 6.1 .2 8.7c-.1 2.6-.1 4.5-.3 6.9c-.2 2.4-.6 5.2-.8 7.3c-.3 2.1-.3 3.8-.6 5.4c-.3 1.6-.9 3.2-1.1 4.3c-.3 1.1 0 1.8-.5 2.6c-.5 .8-1.9 1.7-2.6 2.4c-.7 .7-.8 1.7-1.5 2.1c-.6 .4-1.5 .1-2.3 .2c-.8 .1-1.3 .3-2.2 .3c-.9-.1-2.2-.3-3.2-.7c-.9-.4-1.6-1-2.5-2c-.9-.9-1.8-2.7-2.7-3.9c-.9-1.2-1.9-1.8-2.6-3.4c-.7-1.6-1.1-4.1-1.6-6.3c-.5-2.1-1.1-3.9-1.5-6.6c-.4-2.7-.7-6-.9-9.6c-.2-3.7-.1-7.9-.3-12.1c-.1-4.2-.4-8.5-.4-13.2c.1-4.7 .6-9.5 .8-14.9c.1-5.4-0-11.9 .1-17.5c.1-5.7 .5-11.8 .6-16.3c.2-4.4 .5-7.4 .5-10.5c-0-3-.4-5.6-.6-7.6c-.1-2-.4-3-.3-4.4c.1-1.3 .5-2.4 .9-3.7Z"/><path class="c" style="stroke-width:2" d="M781.5 689.6c.1-1.3 .8-2.4 1.1-3.6c.3-1.1 .2-2.4 .6-3.4c.4-1 1.2-1.7 1.8-2.8c.7-1.1 1.6-2.6 2.2-3.6c.6-1 .8-1.7 1.5-2.4c.6-.7 1.7-1.3 2.5-1.7c.9-.5 1.7-1 2.4-1.1c.7-.1 1.4 .2 1.9 .4c.6 .2 1 .4 1.5 .8c.5 .4 1.2 1.2 1.6 1.7c.4 .6 .6 1.1 .8 1.6c.2 .5 .3 .4 .3 1.5c.1 1.2-.1 3.2-0 5.2c-0 2 0 4.6 .2 7.1c.1 2.5 .5 4.1 .6 7.8c0 3.6-.3 8.5-.2 14.1c.1 5.5 .6 12.4 .8 19.4c.3 6.9 .6 15.7 .7 22.4c.1 6.7-.1 12.9-.1 17.8c-.1 4.8-0 8-.1 11.4c-.1 3.5-.2 6.7-.3 9.2c-.1 2.5-.1 4-.2 6.1c0 2.1 .2 4.7 .1 6.5c-.1 1.7-.5 2.8-.8 4c-.3 1.3-.7 2.3-1 3.4c-.3 1.1-.4 2.6-.8 3.5c-.3 .9-.9 1.5-1.3 1.9c-.5 .5-.8 .5-1.2 .9c-.4 .3-.6 1-1.2 1.2c-.6 .2-1.7 .3-2.5 .1c-.8-.3-1.5-1-2.2-1.6c-.7-.6-1.4-1.4-2.1-2.2c-.7-.7-1.4-1.1-2-2.1c-.6-1.1-.9-2.4-1.5-3.9c-.5-1.5-1.2-3.1-1.6-5c-.5-1.9-.8-3.9-1-6.4c-.3-2.6-.3-5.3-.4-8.8c-.2-3.5-.5-7.9-.7-12.1c-.2-4.3-.4-8.5-.3-13.2c0-4.7 .5-10 .7-15.2c.2-5.3 .4-11 .5-16.5c0-5.4-.2-11.8-.2-16.3c-0-4.5-0-7.4-0-10.4c-.1-3-.3-5.9-.2-7.8c.1-2 .6-2.8 .7-4.1c-0-1.3-.7-2.6-.6-3.8Z"/><path class="c" style="stroke-width:2" d="M785.8 691.2c.1-1.1-.1-2.5 0-3.5c.1-1.1 .4-1.6 .7-2.8c.4-1.2 1.1-3.2 1.5-4.4c.5-1.2 .6-2.1 1.1-3c.4-1 1.1-2.1 1.6-2.7c.4-.6 .4-.7 .9-1c.5-.3 1.5-.5 2.1-.6c.5-.1 .7-.2 1-0c.4 .2 .7 .9 1.1 1.3c.4 .3 1 .5 1.3 .8c.3 .4 .3 .7 .5 1.3c.2 .6 .5 1.2 .7 2.3c.1 1 .2 2.3 .2 4c-.1 1.7-.6 4-.5 6.3c.1 2.4 .7 4.4 .8 7.8c.2 3.3 .1 6.9 .2 12.5c.1 5.6 .4 13.9 .3 21.1c0 7.3-.5 15.6-.5 22.3c.1 6.8 .5 13.4 .7 18.5c.2 5 .3 8.6 .3 11.9c.1 3.3-0 5.4-.1 7.7c-0 2.4-0 4.3-.2 6.2c-.1 1.9-.4 3.9-.6 5.5c-.2 1.5-.5 2.4-.6 3.6c-.1 1.2 .1 2.5-.1 3.4c-.1 .8-.7 1.2-1 1.8c-.2 .6-.1 1.2-.5 1.7c-.3 .5-1.1 .8-1.6 1.1c-.4 .3-.8 .7-1.2 .9c-.3 .2-.3 .3-.7 .1c-.4-.1-1.1-.6-1.7-1c-.6-.4-1.2-.9-1.7-1.6c-.4-.7-.7-1.6-1-2.6c-.3-1-.7-2.2-1-3.5c-.3-1.4-.4-2.8-.9-4.5c-.4-1.6-1.4-3.1-1.8-5.5c-.4-2.3-.5-5.2-.5-8.6c-0-3.3 .5-7.5 .4-11.6c-.1-4.1-.8-8.3-.9-12.9c0-4.6 .4-9.5 .6-14.7c.2-5.2 .6-11.1 .7-16.6c.1-5.5-0-12.1-0-16.5c-0-4.5-0-7.2-.1-10.2c0-3-0-5.9-0-7.7c0-1.9 0-2.3 .1-3.4c.1-1.1 .3-2.1 .4-3.2Z"/><path class="c" style="stroke-width:2.1" d="M788.7 691.5c.1-1 .5-1.4 .8-2.3c.2-.8 .4-1.8 .6-2.8c.2-1.1 .2-2.6 .4-3.7c.2-1.2 .5-2.2 .8-3.2c.2-1 .3-2 .6-2.8c.3-.8 .7-1.6 1.1-1.9c.3-.3 .7 0 1-0c.3-0 .6-.2 .8-0c.2 .1 .2 .5 .4 .8c.1 .4 .4 .7 .4 1.1c.1 .5-.2 .9-.2 1.5c.1 .6 .4 1.4 .5 2.2c.1 .8 .1 1.4 .3 2.7c.1 1.3 .5 3.2 .5 5.3c0 2-.5 3.8-.5 7.2c-.1 3.4 .1 7.4 .2 13.2c.1 5.7 .3 13.7 .4 21.1c.1 7.5 0 16.8 .2 23.7c.1 7 .5 13.3 .5 18.2c-.1 4.9-.5 7.9-.6 11.1c-.1 3.3-.1 6 0 8.4c.1 2.3 .4 4 .3 5.8c-0 1.8-.5 3.8-.7 5c-.3 1.3-.5 1.5-.6 2.4c-.1 .9 .1 2.4 .1 3.1c-.1 .7-.3 .8-.5 1.2c-.2 .4-.5 1-.7 1.3c-.1 .3 .1 .2-.1 .5c-.2 .3-1 1.2-1.2 1.3c-.2 .1 .4-.4 .2-.6c-.1-.2-.4-.2-.9-.6c-.4-.4-1.3-1.3-1.7-1.8c-.3-.6-.3-.9-.6-1.7c-.2-.8-.6-1.8-.7-2.9c-.1-1.2 .1-2.5-.1-4.1c-.1-1.7-.7-3.6-.8-5.8c-.2-2.1-.2-4.4-.3-7.4c-0-3-.3-6.7-.3-10.6c.1-3.9 .5-8.2 .6-12.8c.1-4.6-.1-9.4-.1-14.8c-0-5.3-.3-11.7-.2-17.2c.1-5.6 .6-11.8 .7-16.1c.1-4.3-.1-6.9-.2-9.7c-0-2.8-.1-5.5-.2-7.3c-0-1.7 0-2.1-0-3.2c-.1-1.2-.3-2.8-.2-3.8Z"/><path class="c" style="stroke-width:2.1" d="M792.9 692.7c0-1.1-.5-2.2-.5-3.1c0-.9 .6-1 .7-2c.1-1.1-.3-3-.2-4.1c0-1.1 .5-1.6 .6-2.5c.1-.9 .2-2.2 .1-2.9c0-.7-.2-.8-.2-1.3c-0-.4 .1-1.1 .2-1.2c.1-.1 .2 .2 .3 .5c.1 .3 .2 1 .2 1.4c.1 .4 .2 .6 .1 1c-0 .3-.4 .7-.4 1.2c.1 .5 .9 1 .9 1.6c0 .6-.7 .7-.7 1.8c-0 1.2 .4 3.2 .6 5.2c.1 1.9 .1 3.2 .2 6.5c.1 3.3 .6 7.2 .6 13c-0 5.8-.6 14.1-.6 21.7c-0 7.7 .5 17.3 .5 24.5c.1 7.1-.2 13.6-.4 18.6c-.2 5-.6 8.5-.6 11.6c.1 3.2 .8 5.2 .8 7.3c-.1 2-.7 3.3-.9 4.8c-.1 1.5 0 3.1-.1 4.2c-0 1.1-.2 1.7-.2 2.5c0 .8 .4 1.7 .5 2.3c-0 .5-.3 .6-.3 .9c-.1 .3-.1 .6-.1 .9c-0 .3 .3 .8 .2 1c-.1 .1-.6-.1-.7-.1c-.1 .1 .2 .5 .2 .3c.1-.1 .3-.9 .2-1.2c-.1-.3-.7-.3-.8-.6c-.1-.4 .1-.9 0-1.7c-0-.8-.2-2.1-.3-3.2c-.1-1.1-.2-2-.2-3.4c-0-1.4 .1-3.1 .2-5c.1-1.9 .3-3.5 .2-6.5c-.1-2.9-.7-7.3-.9-11.2c-.2-3.8-.4-7.4-.3-11.9c0-4.5 .6-9.8 .7-15.2c.1-5.3-.1-11.3-.1-16.8c-.1-5.5 .1-11.8 .1-16c-.1-4.2-.3-6.4-.3-9.1c-.1-2.8-.1-5.9-.1-7.6c.1-1.7-0-1.6 .1-2.6c.1-1.1 .7-2.5 .7-3.6Z"/>
<path class="c" style="stroke-width:1.8" d="M777.8 738.8c.3-.7 .7-1.5 1-2.1c.3-.7 .4-1.5 .9-1.9c.6-.5 1.4-.6 2.2-1c.8-.4 1.7-1.1 2.6-1.4c.9-.4 1.9-.6 2.9-.9c.9-.3 1.8-.8 2.8-1.1c1.1-.2 2.3-.5 3.3-.5c1.1 .1 2.2 .5 3 .6c.8 .1 1.4 .2 2 .3c.7 0 1.5-.1 2 .2c.6 .4 1 1.3 1.3 1.7c.4 .4 1-.2 1 .8c.1 .9-.6 3.4-.7 5c-.1 1.7-0 3.5 .1 4.9c.2 1.3 .6 2 .7 3.3c.1 1.2-.5 2.8-.3 4.1c.1 1.4 1 2.3 1.3 3.8c.3 1.6-0 3.5 .2 5.4c.2 1.9 .9 4.1 1.2 6.2c.3 2.1 .5 4.4 .5 6.6c.1 2.2-.1 4.7-.2 6.7c-.2 2-.4 3.5-.6 5.4c-.2 1.8-.2 4-.5 5.7c-.4 1.7-1.3 3.3-1.6 4.6c-.3 1.3 .1 2-.3 3.2c-.3 1.1-1.1 2.7-1.6 3.6c-.5 1-.7 1.4-1.3 1.9c-.6 .5-1.3 .9-2.1 1.3c-.8 .3-1.9 .5-2.7 .7c-.9 .1-1.4 .4-2.4 .2c-1-.2-2.5-.9-3.6-1.4c-1.1-.5-2-.9-2.9-1.6c-.9-.6-1.5-1.5-2.4-2.4c-.8-.8-1.9-1.5-2.7-2.6c-.9-1.2-1.7-2.5-2.4-4c-.8-1.4-1.6-2.8-1.9-4.8c-.3-1.9 0-4.6-.2-6.9c-.1-2.3-.7-4.5-.8-6.8c-.1-2.4 .1-4.9 .1-7.2c.1-2.3-.2-4.4-.1-6.5c.2-2.1 .5-4.2 .9-6.1c.3-1.9 .9-3.6 1.1-5.2c.1-1.6-.2-3.1-.3-4.4c0-1.3 .3-2.4 .2-3.3c0-.9-.2-1.4-.2-2.1c.1-.7 .3-1.4 .5-2Z"/><path class="c" style="stroke-width:1.8" d="M781.2 743.6c.2-.5 .5-1.2 .8-1.6c.3-.5 .7-.9 1.2-1.2c.4-.4 1-.6 1.6-.9c.6-.3 1.4-.6 2-1c.6-.3 .9-1 1.6-1.3c.7-.3 1.8-.5 2.6-.6c.9-0 1.6 .4 2.4 .3c.9-0 2.1-.5 2.8-.5c.7-0 1 .3 1.5 .5c.5 .1 1.2 .1 1.6 .4c.4 .3 .6 1.1 .8 1.3c.2 .3 .3-.3 .4 .4c.1 .7 0 2.6 0 3.8c0 1.2 0 2.3 0 3.4c0 1.1 0 2.2 .1 3.3c.1 1 .2 1.9 .3 3c.2 1.2 .2 2.6 .4 4c.2 1.4 .5 2.8 .7 4.5c.2 1.6 .3 3.3 .6 5.2c.2 1.9 .9 4.4 .9 6.4c0 2-.5 3.8-.7 5.6c-.2 1.7-.3 3.2-.4 4.8c-.2 1.6-.5 3.3-.6 4.8c-.2 1.6-.2 3.3-.5 4.4c-.3 1.1-1.1 1.5-1.3 2.2c-.2 .7 .2 1.7-.1 2.3c-.2 .7-.9 1-1.5 1.6c-.6 .5-1.5 1.3-2.2 1.7c-.6 .4-1.2 .4-1.8 .4c-.5-0-.8-.4-1.5-.5c-.6-.1-1.4 0-2.3-.2c-1-.3-2.3-.7-3.2-1.3c-.8-.6-1.3-1.7-1.9-2.4c-.6-.6-1.1-.7-1.7-1.7c-.6-.9-1.3-2.5-1.8-3.8c-.5-1.3-.7-2.2-1.1-3.8c-.4-1.6-.9-3.7-1.2-5.8c-.3-2.1-.5-4.6-.6-6.6c-.1-2.1 .1-3.8 .2-5.8c.1-1.9 .1-4 .4-5.8c.2-1.9 .8-3.6 1-5.3c.3-1.6 .6-3.6 .7-4.9c0-1.3-.3-1.8-.4-2.7c-.1-1-.1-2.1-.2-3c0-.8 .1-1.5 .1-2.1c.1-.6 .2-1 .3-1.5Z"/><path class="c" style="stroke-width:1.8" d="M784.9 749c.1-.5 .7-1.1 .9-1.4c.2-.2 .1-.1 .4-.3c.2-.3 .8-.9 1.2-1.3c.4-.4 .8-.7 1.2-.9c.5-.3 1-.6 1.4-.7c.5-.1 .8-0 1.5-.1c.7-0 1.8-.1 2.5-.2c.7-0 1.4-.1 1.7-.1c.4 0 .2 0 .5 .1c.3 .1 1 .4 1.3 .5c.3 .2 .4 .2 .5 .4c.2 .2 .4 .5 .5 1c0 .5-.1 1.3-0 2c.1 .8 .3 1.6 .3 2.4c.1 .7 .2 1.3 .2 2c-.1 .8-.4 1.5-.3 2.5c.1 .9 .6 2 .8 3.3c.3 1.2 .7 2.7 .8 4.2c.2 1.5 .2 3.1 .2 4.8c0 1.6 0 3.5 0 5.3c0 1.9 0 4.4 0 6c-0 1.6-.1 2.3-.2 3.6c-.1 1.2-.3 2.7-.5 4c-.1 1.2-.4 2.4-.6 3.2c-.2 .9-.3 1.2-.5 1.8c-.2 .7-.4 1.8-.7 2.3c-.3 .5-.7 .4-1.1 .7c-.4 .3-.9 .8-1.4 1c-.5 .3-1.1 .4-1.6 .5c-.4 .1-.5-.1-1-.1c-.4-.1-1.1-.2-1.7-.4c-.7-.2-1.7-.3-2.2-.8c-.5-.5-.4-1.4-.8-2c-.4-.6-1.2-1-1.7-1.8c-.4-.8-.6-2-1.1-3c-.4-.9-1-1.3-1.3-2.7c-.4-1.3-.5-3.5-.7-5.3c-.2-1.7-.5-3.4-.5-5.1c0-1.8 .6-3.6 .6-5.2c.1-1.7-.3-3.2-.2-4.7c.1-1.6 .5-3.2 .8-4.6c.3-1.5 .8-3 .9-4c.2-1.1 0-1.4-0-2.1c-.1-.8-.3-1.9-.3-2.5c.1-.5 .4-.4 .5-.8c-0-.4-.4-1.1-.3-1.5Z"/><path class="c" style="stroke-width:1.8" d="M788.4 754.4c-0-.3 .2-.5 .4-.8c.1-.3 .3-.7 .5-1c.2-.2 .3-.4 .6-.6c.3-.1 1-.1 1.2-.2c.3-.2 .3-.6 .5-.7c.2-.2 .5-.1 .8-.2c.3-.1 .6-.3 1-.3c.3-.1 .8 .1 1.2 0c.3 0 .7-.2 .8-.1c.2 .1 .2 .4 .3 .6c.1 .1 .3 .3 .4 .5c0 .2-0 .4 0 .7c0 .3 .2 .7 .2 1.1c.1 .4 .2 .8 .2 1.2c0 .4-.2 .6-.1 1.1c.1 .6 .6 1.4 .8 2.1c.2 .6 .5 1 .6 1.9c.1 .8-.2 2-.2 3.2c.1 1.3 .2 2.7 .4 4.4c.2 1.6 .8 3.8 .8 5.6c-0 1.7-.7 3.5-.9 4.8c-.1 1.4 .1 2 0 3.1c-0 1.1-.1 2.3-.3 3.3c-.2 1-.7 2-.9 2.6c-.2 .5-.3 .5-.4 .8c-.1 .4-0 1-.2 1.4c-.1 .5-.4 .9-.7 1.1c-.3 .3-.7 .6-.9 .7c-.3 0-.3-.2-.5-.3c-.2-.1-.4-.1-.7-.2c-.3-.1-.8-.1-1.2-.3c-.3-.1-.6-.4-1-.6c-.4-.3-.9-.5-1.2-1c-.3-.4-.4-1-.7-1.6c-.2-.7-.7-1.5-.9-2.3c-.3-.8-.4-1.3-.5-2.3c-.2-1-.4-2.5-.5-3.8c-.1-1.4-.2-2.9-.2-4.3c-0-1.4-0-2.8 .1-4.1c.1-1.4 .3-2.7 .4-3.9c.2-1.3 .4-2.5 .4-3.7c.1-1.2 0-2.8 .1-3.6c.1-.9 .3-1 .4-1.5c.1-.4 .2-1.1 .2-1.4c0-.4 0-.4-0-.7c-.1-.2-.4-.4-.3-.7Z"/><path class="c" style="stroke-width:1.8" d="M792.5 759.4c-.1-.1-.4 .2-.5 .1c0-.1 .4-.6 .4-.7c.1-.1-.1 0-.1-.2c.1-.2 .4-.8 .5-.9c.1-.2 0 0 .1 .1c0-0 .1 .1 .2 .1c.1-.1 .3-.2 .5-.3c.1-.1 .4-.3 .4-.4c0-0-.3 0-.2 .1c.1 .1 .6 .4 .7 .5c.1 .1-.2 .2-.2 .3c-.1 .1-.3 .1-.3 .1c-0 0-0 .1 .1 .1c.2-0 .8-.3 .8-.2c.1 .1-.3 .5-.3 .8c-0 .3 .1 .5 .2 .8c.2 .4 .6 .7 .7 1.3c.1 .7 0 1.4 .1 2.7c0 1.2 .2 3.1 .2 4.6c0 1.5-.1 3.1-0 4.5c-0 1.4 .3 2.8 .3 4c-.1 1.2-.4 2.4-.6 3.3c-.1 .8-.2 1.4-.2 2c-.1 .6 0 1.1-.1 1.5c-0 .4-.3 .7-.4 .9c-.1 .1-.1-.1-.1 0c-.1 .1-.1 .4-.2 .6c-.1 .1-.5 .3-.6 .4c-.1 .1-0 .2-0 .3c-.1 0 .1 .1-.1-0c-.1-.1-.8-.4-1-.6c-.2-.2-0-.2-0-.4c-.1-.2-.1-.6-.1-.8c-.1-.3-.2-.3-.3-.7c-0-.4-.1-.9-.2-1.6c-.2-.6-.6-1.4-.7-2.2c-.1-.7-0-1.2-.1-2.3c-.1-1-.4-2.8-.5-4c-.1-1.2-.2-2.1-.1-3.2c.1-1 .4-2 .5-3c.2-1 .2-1.9 .3-2.8c-0-.9-.3-2-.2-2.6c.2-.6 .7-.7 .8-.9c.1-.3-.3-.6-.2-.7c.1-0 .5 .3 .6 .2c.1-.1-0-.7-.1-.8Z"/>
<path class="c" style="stroke-width:1.5" d="M771.1 663.6c-.5-4 2.8-8.8 6.7-11.6c3.9-2.7 11.1-4.6 16.6-5c5.6-.4 12.5 .6 16.5 2.8c4 2.2 6.9 6.4 7.6 10.4c.7 4-.3 10.3-3.2 13.5c-2.9 3.2-8.5 5.4-14.2 5.8c-5.7 .3-15-.9-20-3.5c-5-2.7-9.4-8.4-10-12.4Z"/><path class="c" style="stroke-width:1.6" d="M774.5 663.9c-.4-3.3 2.6-7.2 5.8-9.6c3.3-2.3 9-3.9 13.6-4.4c4.6-.4 10.6-.1 14.2 1.8c3.5 1.8 6.3 6 7 9.4c.8 3.4 .1 8.4-2.5 11.1c-2.6 2.6-8.1 4.3-13.1 4.6c-4.9 .3-12.6-.6-16.8-2.8c-4.2-2.1-7.8-6.8-8.2-10.1Z"/><path class="c" style="stroke-width:1.6" d="M777.4 664c-.3-2.8 2.4-6.4 5.1-8.3c2.7-1.9 7.5-3.1 11.4-3.3c3.9-.2 9 .6 12 2.2c2.9 1.5 5.1 4.5 5.7 7.1c.5 2.6-.3 6.5-2.5 8.7c-2.2 2.2-6.5 4.2-10.6 4.6c-4.1 .3-10.4-.7-14-2.5c-3.5-1.9-6.7-5.7-7.1-8.5Z"/><path class="c" style="stroke-width:1.6" d="M781.2 663.7c-.3-2.1 .9-4.5 3.1-6c2.1-1.5 6.4-2.7 9.6-2.9c3.2-.3 7.4 .4 9.8 1.6c2.3 1.3 3.9 3.6 4.3 5.7c.5 2-.2 5-1.9 6.7c-1.6 1.6-4.9 3-8.2 3.2c-3.3 .2-9-.4-11.8-1.8c-2.8-1.4-4.6-4.4-4.9-6.5Z"/><path class="c" style="stroke-width:1.7" d="M783.9 663.9c-.2-1.5 1.4-3.2 3.1-4.4c1.6-1.1 4.5-2.4 6.9-2.6c2.3-.2 5.2 .6 6.9 1.4c1.7 .9 3 2.3 3.3 3.8c.2 1.6-.5 4.3-1.6 5.6c-1.2 1.3-3 2-5.4 2.2c-2.4 .1-6.7-.3-8.9-1.3c-2.2-1-4.1-3.1-4.3-4.7Z"/><path class="c" style="stroke-width:1.8" d="M787.4 663.4c-.2-1 .2-1.9 1.2-2.6c1-.7 3.2-1.5 4.9-1.6c1.6-0 3.7 .5 4.9 1.1c1.2 .6 2 1.8 2.3 2.7c.2 .9-.3 1.9-1 2.6c-.8 .8-1.8 1.7-3.5 1.9c-1.6 .1-4.9-.1-6.4-.8c-1.5-.7-2.2-2.3-2.4-3.3Z"/><path class="c" style="stroke-width:1.8" d="M790.5 663.6c-0-.3 .4-.8 .9-1c.5-.1 1.3-.2 2.1-.1c.9-0 2.4 .1 2.9 .2c.4 .2-.2 .7-.2 .9c0 .2 .3 .1 .1 .4c-.2 .3-.5 1.2-1.3 1.3c-.8 .1-2.7-.5-3.4-.8c-.8-.3-1.1-.6-1.1-.9Z"/>
<path d="M774.7 650.6c3.3-2.6 15.5-5.6 22.9-5.9c7.3-.2 16.5 2.2 21.2 4.3c4.6 2 7.3 5.7 6.5 8.1c-.8 2.5-6.3 6.3-11.4 6.6c-5.2 .2-13.6-4.4-19.6-4.9c-6-.6-13.1 3-16.3 1.6c-3.3-1.4-6.6-7.2-3.3-9.8Z" fill="#000" fill-opacity="0.55"/>
<path d="M804.7 673.5c2.5-6.6 13.6-12.5 17.3-9.8c3.7 2.7 4 16.3 4.9 26.1c1 9.8 1 22.9 .7 32.6c-.3 9.8-.3 19.6-2.3 26.2c-2 6.5-7.1 14.1-9.8 13c-2.7-1.1-5.2-9.8-6.5-19.6c-1.4-9.8-.9-27.7-1.7-39.1c-.7-11.5-5-22.9-2.6-29.4Z" fill="#000" fill-opacity="0.8"/>
<path d="M811.3 676.7c.1 4.4 .7 17.4 .9 26.2c.3 8.7 .5 17.6 .4 26.1c-.2 8.4-1.1 20.4-1.3 24.5" fill="none" stroke="#fff" stroke-width="0.8" stroke-dasharray="5 4"/>
<path d="M815.8 676.7c.2 4.4 .8 17.4 1 26.2c.2 8.7 .5 17.6 .3 26.1c-.1 8.4-1 20.4-1.3 24.5" fill="none" stroke="#fff" stroke-width="0.8" stroke-dasharray="5 4"/>
<path d="M820.4 676.7c.2 4.4 .8 17.4 1 26.2c.2 8.7 .5 17.6 .3 26.1c-.1 8.4-1.1 20.4-1.3 24.5" fill="none" stroke="#fff" stroke-width="0.8" stroke-dasharray="5 4"/>
<path class="c" style="stroke-width:1.1" d="M647 633c.8 2 3.4 2.5 4.5 12c1.1 9.5 1.7 10.8 2 45c.3 34.2 .3 127.5 0 160c-.3 32.5-.9 27.8-2 35c-1.1 7.2-3.8 6.7-4.5 8"/>
<path class="c" style="stroke-width:1.1" d="M647 637c.6 1.8 2.6 .5 3.5 11c.9 10.5 1.4 20 1.7 52c.3 32 .3 110.3 0 140c-.3 29.7-.8 30.3-1.7 38c-.9 7.7-2.9 6.7-3.5 8"/>
<path class="c" style="stroke-width:1.3" d="M647 642c.4 1.7 1.9-1.3 2.5 10c.6 11.3 1.1 28.3 1.3 58c.2 29.7 .2 93.7 0 120c-.2 26.3-.7 30-1.3 38c-.6 8-2.1 8.3-2.5 10"/>
<rect x="647" y="700" width="3.4" height="150" fill="#000"/>
<rect class="ax" x="647" y="572.9" width="353.7" height="353.6"/>
<path class="tk" d="M647 603.3h-10M647 667.6h-10M647 738.8h-10M647 816.5h-10M647 892.2h-10"/>
<path class="tm" d="M647 648.2h-4M647 636.9h-4M647 628.9h-4M647 622.7h-4M647 617.6h-4M647 613.3h-4M647 609.5h-4M647 606.2h-4M647 717.4h-4M647 704.8h-4M647 695.9h-4M647 689h-4M647 683.4h-4M647 678.6h-4M647 674.5h-4M647 670.9h-4M647 583.9h-4M647 797.8h-4M647 783.6h-4M647 773.3h-4M647 765.4h-4M647 759.1h-4M647 753.8h-4M647 749.3h-4M647 745.4h-4M647 741.9h-4M647 834.7h-4M647 848.5h-4M647 858.6h-4M647 866.3h-4M647 872.5h-4M647 877.6h-4M647 882h-4M647 885.8h-4M647 889.2h-4M647 912.7h-4M647 924.7h-4"/>
<path class="tm" d="M647 803.5h-5.5M647 805.6h-5.5M647 807.6h-5.5M647 809.4h-5.5M647 811.2h-5.5M647 812.9h-5.5M647 814.4h-5.5M647 815.6h-5.5M647 817.4h-5.5M647 818.6h-5.5M647 820.1h-5.5M647 821.8h-5.5M647 823.6h-5.5M647 825.4h-5.5M647 827.4h-5.5M647 829.5h-5.5"/>
<text transform="translate(634 612.1) scale(0.97 1)" font-size="25" text-anchor="end">10<tspan font-size="14.5" dy="-9">5</tspan></text>
<text transform="translate(634 676.4) scale(0.97 1)" font-size="25" text-anchor="end">10<tspan font-size="14.5" dy="-9">4</tspan></text>
<text transform="translate(634 747.6) scale(0.97 1)" font-size="25" text-anchor="end">10<tspan font-size="14.5" dy="-9">3</tspan></text>
<text transform="translate(634 825.3) scale(0.97 1)" font-size="25" text-anchor="end">0</text>
<text transform="translate(634 901) scale(0.97 1)" font-size="25" text-anchor="end">10<tspan font-size="14.5" dy="-9">-3</tspan></text>
<path class="tk" d="M682.3 926.5v10M753.5 926.5v10M825.3 926.5v10M895.5 926.5v10M966.7 926.5v10"/>
<path class="tm" d="M703.7 926.5v4M716.3 926.5v4M725.2 926.5v4M732.1 926.5v4M737.7 926.5v4M742.5 926.5v4M746.6 926.5v4M750.2 926.5v4M774.9 926.5v4M787.5 926.5v4M796.4 926.5v4M803.3 926.5v4M808.9 926.5v4M813.7 926.5v4M817.8 926.5v4M821.4 926.5v4M846.7 926.5v4M859.3 926.5v4M868.2 926.5v4M875.1 926.5v4M880.7 926.5v4M885.5 926.5v4M889.6 926.5v4M893.2 926.5v4M916.9 926.5v4M929.5 926.5v4M938.4 926.5v4M945.3 926.5v4M950.9 926.5v4M955.7 926.5v4M959.8 926.5v4M963.4 926.5v4M988.1 926.5v4M654 926.5v4M660.9 926.5v4M666.5 926.5v4M671.3 926.5v4M675.4 926.5v4M679 926.5v4"/>
<text transform="translate(687.3 960.6) scale(0.97 1)" font-size="25" text-anchor="middle">10<tspan font-size="14.5" dy="-9">1</tspan></text>
<text transform="translate(758.5 960.6) scale(0.97 1)" font-size="25" text-anchor="middle">10<tspan font-size="14.5" dy="-9">2</tspan></text>
<text transform="translate(830.3 960.6) scale(0.97 1)" font-size="25" text-anchor="middle">10<tspan font-size="14.5" dy="-9">3</tspan></text>
<text transform="translate(900.5 960.6) scale(0.97 1)" font-size="25" text-anchor="middle">10<tspan font-size="14.5" dy="-9">4</tspan></text>
<text transform="translate(971.7 960.6) scale(0.97 1)" font-size="25" text-anchor="middle">10<tspan font-size="14.5" dy="-9">5</tspan></text>
<text x="845" y="995" font-size="29" text-anchor="middle">Sca-1-PerCp-Cy5.5</text>
<text x="567" y="734" font-size="29" text-anchor="middle" transform="rotate(-90 567 734)">c-kit-APC-Cy7</text>
<rect class="g" x="647" y="630" width="181" height="87"/>
<rect class="g" x="828" y="635.3" width="164.5" height="55.1"/>
<text x="713.3" y="614" font-size="24.8" class="r">c-kit<tspan font-size="14" dy="-9">hi</tspan></text>
<text x="893" y="614" font-size="24.8" class="r">LSK</text>
<path class="g" d="M793.6 717L793.6 1059.7"/><path fill="#d8382c" d="M793.6 1072.5L786.4 1059.7L800.8 1059.7Z"/>
<path class="c" style="stroke-width:1.3" d="M1247.1 710.7c-1.4-7.9 1.5-18.9 4.6-26.3c3.1-7.4 8.4-14.2 14-18.2c5.5-3.9 11.6-5 19.2-5.6c7.6-.5 18.4 0 26.2 2.1c7.9 2.1 16.2 5.2 21 10.5c4.9 5.4 7.1 13.7 8.1 21.7c1 8-.2 19-2.1 26.3c-1.9 7.3-6.9 10.8-9.5 17.5c-2.5 6.7-5.2 15.4-5.9 22.7c-.8 7.3-.5 14 1.4 21c1.8 7 4.6 15.4 9.8 21c5.1 5.5 14 9.6 21 12.2c7 2.7 14 3.8 21 3.5c7-.3 13.4-1.4 21-5.2c7.5-3.8 16.3-12.3 24.4-17.5c8.2-5.3 17.5-11 24.5-14c7-3 11.8-4.5 17.5-4.2c5.7 .3 12.3 1.2 16.8 5.9c4.6 4.8 8.2 14.3 10.5 22.8c2.3 8.4 3.3 18.3 3.5 28c.2 9.6-.2 21.1-2.1 29.7c-1.9 8.6-4.7 17.1-9.4 22c-4.8 5-12.3 7.3-19.3 7.7c-7 .5-14.8-2.3-22.7-5.2c-7.9-2.9-16.3-8.8-24.5-12.2c-8.2-3.5-16.6-7-24.5-8.8c-7.9-1.7-15.4-1.5-22.7-1.7c-7.3-.3-14 .2-21-0c-7-.3-14-.5-21-1.8c-7-1.3-15.2-3-21-5.9c-5.8-3-10.8-7.3-14-11.6c-3.2-4.2-5.4-9-5.3-14c.2-4.9 3.3-10.8 6-15.7c2.7-5 7.8-8.8 10.5-14c2.7-5.3 4.7-11.1 5.6-17.5c.9-6.4 1.3-14.6-0-21c-1.4-6.4-3.5-13.3-8.1-17.5c-4.5-4.2-12.5-5.1-19.2-7.7c-6.7-2.6-15.3-3.2-21-8c-5.7-4.9-11.8-13.2-13.3-21Z"/>
<path class="c" style="stroke-width:1.3" d="M1251 710.7c-1.4-7.1 1.3-17.7 4.2-24.5c2.8-6.8 7.8-12.8 12.9-16.5c5.1-3.6 10.5-4.7 17.5-5.2c7-.5 17.3 .2 24.5 2.1c7.2 1.9 14.2 4.6 18.5 9.4c4.3 4.9 6.5 12.3 7.4 19.6c.9 7.4-.3 17.8-2.1 24.5c-1.8 6.8-6.3 9.3-8.8 16.1c-2.5 6.8-5.4 16.5-6.3 24.5c-.8 8-.8 15.6 1.1 23.4c1.9 7.9 4.9 17.5 10.5 23.5c5.5 6 15.1 9.9 22.7 12.6c7.6 2.7 15.2 3.8 22.8 3.5c7.5-.4 14.8-1.8 22.7-5.6c7.9-3.9 16.5-12.3 24.5-17.5c8-5.3 16.8-11 23.4-14c6.6-3 11-4.4 16.1-4.2c5.2 .2 10.6 1.2 14.7 5.6c4.1 4.4 7.7 12.8 9.8 20.6c2.2 7.8 3 17.1 3.2 26.3c.1 9.1-.3 20.5-2.1 28.7c-1.8 8.1-4.5 15.8-8.8 20.2c-4.2 4.5-10.5 6.1-16.8 6.3c-6.3 .3-13.4-1.9-21-4.9c-7.5-2.9-16.3-9-24.5-12.5c-8.1-3.6-16.5-7-24.4-8.8c-8-1.7-15.7-1.5-23.1-1.7c-7.5-.3-14.7 .2-21.7-0c-7-.3-13.7-.6-20.3-1.8c-6.7-1.2-14.2-3-19.6-5.6c-5.4-2.6-9.7-6.5-12.6-10.1c-2.9-3.7-4.7-7.3-4.6-11.6c.2-4.2 3-9.3 5.6-14c2.7-4.6 7.9-8.5 10.5-14c2.7-5.4 4.7-11.7 5.6-18.5c1-6.8 1.6-15.4 0-22.4c-1.5-7-4.3-14.9-9.4-19.6c-5.1-4.7-14.4-6.1-21-8.7c-6.6-2.7-13.7-2.8-18.9-7c-5.2-4.2-10.9-11.1-12.2-18.2Z"/>
<path class="c" style="stroke-width:1.3" d="M1254 710.7c-1.3-6.3 1.6-16.5 4.2-22.8c2.7-6.3 7.3-11.6 11.9-14.9c4.7-3.2 9.6-4.1 16-4.6c6.4-.4 15.7 .1 22.2 1.9c6.5 1.7 12.8 4.2 16.7 8.6c3.9 4.4 6.2 10.9 7 17.6c.8 6.7-.2 16.7-2.1 22.6c-1.9 5.9-5.3 10-9.5 12.9c-4.3 2.9-9.7 4.2-16 4.3c-6.3 .2-15.2-1.8-21.6-3.6c-6.5-1.8-12.2-3.5-17-7.1c-4.8-3.7-10.5-8.7-11.8-14.9Z"/><path class="c" style="stroke-width:1.5" d="M1257.6 710.6c-1-5.2 1.6-13.4 4-18.6c2.3-5.2 6.2-9.9 10.2-12.6c3.9-2.7 8.3-2.9 13.6-3.3c5.3-.4 12.8-.4 18.2 1.1c5.4 1.5 10.8 4.2 14 7.8c3.2 3.7 4.8 8.8 5.3 14.1c.6 5.3-.5 13-2.1 17.8c-1.6 4.8-3.9 8.4-7.4 10.9c-3.5 2.5-8.6 3.9-13.7 4.1c-5.1 .2-11.6-1.6-17-3c-5.3-1.4-10.8-2.3-15-5.3c-4.2-3.1-9-7.7-10.1-13Z"/><path class="c" style="stroke-width:1.7" d="M1262 710.9c-.6-4.2 1.5-11.1 3.4-15.3c2-4.1 5.2-7.4 8.3-9.6c3.1-2.1 6.1-2.9 10.2-3.1c4.2-.3 10.5 .5 14.8 1.7c4.2 1.3 8 3 10.5 5.8c2.5 2.8 4 6.8 4.5 11c.5 4.2-.4 10.4-1.5 14.2c-1.2 3.8-2.7 6.6-5.3 8.6c-2.7 2-6.6 3.2-10.7 3.4c-4.2 .2-10-.9-14.5-2c-4.5-1.1-9.5-2-12.8-4.5c-3.3-2.4-6.4-5.9-6.9-10.2Z"/><path class="c" style="stroke-width:1.8" d="M1265 711.2c-.3-3.3 2.2-8.9 4-12c1.7-3 4-4.8 6.4-6.2c2.4-1.5 5-2.5 8.1-2.7c3.1-.2 7.6 .4 10.6 1.3c2.9 .9 5.3 1.9 7 4c1.8 2.1 3.1 5.6 3.4 8.6c.4 3-.3 6.9-1.2 9.5c-.9 2.6-2 4.5-3.9 6.1c-1.9 1.5-4.4 2.9-7.5 3.3c-3 .4-7.1-.3-10.6-.9c-3.6-.7-8-1.4-10.7-3.2c-2.7-1.8-5.3-4.5-5.6-7.8Z"/><path class="c" style="stroke-width:2" d="M1269.3 711.5c-.1-2.3 1.5-6.3 2.8-8.4c1.2-2.1 3-3.1 4.6-4c1.7-.9 3.3-1.4 5.3-1.4c2.1-0 5.1 .8 7 1.5c1.9 .7 3.2 1.5 4.3 2.7c1.1 1.1 2.2 2.6 2.4 4.3c.3 1.8-.5 4.3-1 6c-.5 1.7-1.1 3.4-2.1 4.4c-1.1 1-2.4 1.3-4.4 1.6c-2 .4-5 .8-7.6 .6c-2.6-.3-6.1-.7-8-1.9c-1.9-1.2-3.2-3.1-3.3-5.4Z"/><path class="c" style="stroke-width:2.2" d="M1272.6 711c.2-1.3 2.3-3 3.3-3.9c1-.8 1.8-1 2.7-1.3c.9-.3 1.8-.4 2.7-.3c.9 0 2.2 .2 2.8 .5c.7 .3 .8 .8 1.1 1.3c.4 .4 1.1 1 1.3 1.6c.1 .6-.3 1.3-.4 1.9c-.2 .7-0 1.4-.5 1.9c-.4 .5-1.1 .6-2.1 1.2c-1 .5-2.2 1.8-3.7 2c-1.5 .2-4.1-.2-5.3-1c-1.2-.9-2.1-2.6-1.9-3.9Z"/>
<path class="c" style="stroke-width:1.5" d="M1294.5 832.4c.4-4.1 3.6-9.8 7.4-13.2c3.7-3.3 9-6.2 15-6.8c5.9-.6 13.3 1 20.6 3.2c7.2 2.2 17.4 6.8 22.9 10.1c5.6 3.4 8.7 5.8 10.3 9.9c1.6 4.2 1.9 11.4-.8 15.2c-2.6 3.7-8.7 5.8-15.3 7.2c-6.5 1.3-16.7 1.9-23.9 .9c-7.3-.9-14.2-3.9-19.4-6.4c-5.3-2.5-9.4-5.2-12.2-8.6c-2.8-3.3-5.1-7.4-4.6-11.5Z"/><path class="c" style="stroke-width:1.7" d="M1299.4 833.6c.5-3.4 3.1-8.3 6.2-11.1c3.2-2.8 7.6-5.1 12.8-5.5c5.1-.5 11.8 .9 18.3 2.9c6.5 2 15.9 6.3 20.7 9.1c4.9 2.7 7 4.1 8.3 7.5c1.4 3.4 1.9 9.6-.1 12.8c-2.1 3.1-6.5 5.2-12.2 6.3c-5.8 1-15.5 1-22.3 .2c-6.7-.9-13.6-3.3-18.3-5.5c-4.6-2.2-7.5-5-9.8-7.8c-2.2-2.8-4-5.6-3.6-8.9Z"/><path class="c" style="stroke-width:1.9" d="M1304.5 834.3c.3-2.7 1.8-6.3 4.3-8.5c2.6-2.3 6.5-4.4 11-4.8c4.5-.5 10.4 .4 16.1 2.1c5.7 1.7 13.9 5.7 18.2 8.2c4.3 2.5 6.5 4 7.6 6.8c1.1 2.7 .9 7.2-.9 9.6c-1.8 2.5-5.1 4.4-10 5.3c-5 .9-13.8 1-19.7 .1c-6-.8-12.1-3.4-16.2-5.2c-4-1.9-6.2-3.8-7.9-6.1c-1.8-2.2-2.8-4.8-2.5-7.5Z"/><path class="c" style="stroke-width:2" d="M1308.5 835.4c.3-2 1.7-4.3 3.9-5.9c2.2-1.5 5.2-3.2 9.1-3.6c3.9-.3 9.2-0 14.2 1.3c5 1.3 12.5 4.5 16 6.5c3.4 2 4 3.5 4.8 5.5c.8 2.1 1.1 5.1-.1 6.9c-1.3 1.9-3.1 3.6-7.2 4.3c-4.2 .7-12.5 .8-18 0c-5.4-.7-11.2-2.9-14.6-4.5c-3.4-1.6-4.3-3.1-5.6-4.9c-1.4-1.7-2.7-3.7-2.5-5.6Z"/><path class="c" style="stroke-width:2.2" d="M1314 836.4c.4-1.3 1.2-3.1 2.8-4.1c1.6-1.1 3.6-2.2 6.6-2.4c3-.2 7.4 .1 11.7 1.2c4.2 1 11 3.6 13.9 5c2.9 1.4 3 1.9 3.6 3.4c.6 1.4 .7 3.6-.1 5c-.9 1.4-1.7 2.6-5.1 3.3c-3.5 .6-10.9 1.1-15.7 .5c-4.7-.7-9.8-3.3-12.7-4.6c-2.9-1.3-3.8-2.3-4.6-3.5c-.9-1.2-.8-2.5-.4-3.8Z"/><path class="c" style="stroke-width:2.4" d="M1318.2 837.8c.3-.6 .8-1.8 1.9-2.3c1-.4 2.2-.5 4.6-.6c2.5-.2 6.3-1 9.8-.3c3.5 .7 8.9 3.4 11.1 4.4c2.2 1.1 1.8 1.3 2.1 2c.3 .7 .1 1.6-.3 2.2c-.3 .6 .9 .9-1.6 1.3c-2.6 .5-9.6 1.6-13.7 1.2c-4.1-.5-8.6-2.6-10.9-3.7c-2.3-1.1-2.5-2.2-3-2.9c-.5-.7-.3-.7 0-1.3Z"/>
<path class="c" style="stroke-width:1.4" d="M1373.4 839c1.2-2.5 5.6-4.8 8.4-7.3c2.8-2.5 4.6-4.6 8.3-7.6c3.8-2.9 9.6-6.5 14.1-9.9c4.6-3.4 9-7.5 13.2-10.4c4.3-2.8 8.1-4.6 12.4-6.8c4.2-2.2 9.1-5 12.9-6.5c3.8-1.6 6.4-1.9 9.6-2.6c3.2-.7 6.7-2 9.5-1.8c2.7 .1 4.7 1.9 7 2.8c2.4 .9 5.2 .6 7 2.4c1.9 1.9 2.6 5.8 4 8.8c1.4 3.1 3.4 5.8 4.4 9.4c1.1 3.7 1.3 8.2 1.7 12.5c.5 4.3 1 8.6 1 13.1c-.1 4.4-.8 8.9-1.2 13.4c-.4 4.6-.3 10-1.1 14c-.8 3.9-2.5 6.6-3.8 9.6c-1.2 3.1-1.9 6.7-3.7 8.6c-1.8 2-4.6 2.1-7.1 3c-2.5 1-4.8 2.5-7.8 2.6c-2.9 .1-6.6-1.4-9.9-2.2c-3.4-.7-6.6-1-10.3-2.4c-3.6-1.4-7.7-3.8-11.6-5.9c-3.9-2.1-7.7-4.9-11.8-6.8c-4-1.9-8.4-3.1-12.5-4.5c-4.1-1.3-8.6-2.5-12.1-3.7c-3.6-1.3-5.9-2.7-9-3.8c-3.1-1.1-8-1-9.7-2.7c-1.8-1.7-.5-4.9-.8-7.5c-.4-2.6-2.4-5.3-1.1-7.8Z"/><path class="c" style="stroke-width:1.4" d="M1378.4 838.8c1.2-2.3 4.9-4 7.6-6.2c2.7-2.2 4.9-4.2 8.4-7c3.5-2.8 8.3-6.4 12.6-9.7c4.4-3.2 9.4-7.1 13.5-9.9c4.1-2.7 7.3-4.3 11.1-6.6c3.8-2.2 8.3-5.6 11.7-6.9c3.4-1.4 5.6-.6 8.6-1.2c3-.6 6.7-2.5 9.4-2.5c2.7 .1 4.5 1.8 6.7 2.6c2.2 .8 5 .7 6.7 2.5c1.7 1.8 2.2 5.4 3.5 8.3c1.4 2.9 3.3 5.5 4.4 9c1 3.5 1.5 7.9 1.9 12c.4 4 .7 8 .6 12.2c0 4.2-.5 8.6-.8 13c-.3 4.4 0 9.8-.8 13.5c-.7 3.6-2.6 5.4-3.9 8.3c-1.3 2.9-2.2 7.1-3.8 9c-1.7 1.9-4 1.7-6.2 2.5c-2.3 .9-4.7 2.5-7.5 2.5c-2.8-0-6.2-1.9-9.3-2.7c-3.2-.7-6.3-.4-9.8-1.7c-3.4-1.3-7.1-4.2-10.8-6.2c-3.8-2-7.8-4.2-11.6-6c-3.7-1.7-7-3.1-10.8-4.4c-3.8-1.4-8.6-2.5-12-3.6c-3.5-1.2-6-2.4-8.8-3.4c-2.9-1-6.7-1-8.4-2.7c-1.6-1.7-1.1-5-1.4-7.4c-.4-2.5-1.9-5-.8-7.3Z"/><path class="c" style="stroke-width:1.5" d="M1383 838.8c1.1-2.2 5.2-4.3 7.6-6.4c2.5-2.1 3.9-3.4 7.2-6c3.2-2.6 8.1-6.6 12.1-9.7c4.1-3 8.4-6.1 12.3-8.6c3.9-2.6 7.3-4.5 11-6.6c3.6-2.1 7.7-4.5 11-5.9c3.3-1.3 6-1.6 8.8-2.4c2.9-.7 5.7-2 8-1.8c2.4 .1 4.2 2 6.2 2.8c2.1 .8 4.5 .3 6.2 2.1c1.7 1.8 2.5 5.9 3.9 8.7c1.3 2.8 3.3 4.9 4.3 8.1c.9 3.2 .7 7.6 1.1 11.2c.4 3.7 1.3 6.7 1.3 10.7c-0 4.1-1 9.1-1.3 13.4c-.4 4.3-0 8.9-.7 12.4c-.7 3.4-2.2 5.6-3.4 8.2c-1.2 2.6-2.1 5.7-3.8 7.5c-1.7 1.7-4.3 2.1-6.4 2.9c-2.1 .9-3.6 2.4-6.2 2.4c-2.6-0-6.3-1.5-9.3-2.3c-3-.7-5.8-1.2-8.9-2.4c-3.2-1.3-6.6-3.3-10-5.1c-3.4-1.9-7.1-4.4-10.6-6c-3.6-1.6-7.1-2.4-10.7-3.7c-3.7-1.2-8.1-2.6-11.3-3.8c-3.2-1.2-5-2.5-7.8-3.5c-2.8-1.1-7.3-1.2-8.8-2.8c-1.6-1.6-.2-4.4-.5-6.6c-.3-2.3-2.3-4.6-1.3-6.8Z"/><path class="c" style="stroke-width:1.5" d="M1387.7 838.9c1-2.1 4.8-3.9 7.1-5.9c2.4-2.1 3.9-3.9 7-6.3c3.1-2.4 7.8-5.4 11.6-8.2c3.8-2.8 7.7-5.9 11.3-8.3c3.6-2.5 6.9-4.2 10.3-6.3c3.3-2.1 6.8-4.8 9.8-6.1c3.1-1.3 5.7-1.1 8.4-1.7c2.6-.6 5.2-1.7 7.5-1.7c2.2 .1 4.1 1.2 6.1 2c1.9 .8 3.9 1.1 5.6 2.8c1.6 1.7 2.8 4.7 4.1 7.3c1.3 2.5 2.9 4.8 3.6 7.9c.7 3 .5 6.9 .8 10.5c.3 3.5 1 7 1.1 10.8c.1 3.7-.2 7.7-.5 11.6c-.2 4-.3 8.7-1 12c-.6 3.4-2.1 5.8-3.1 8.3c-1 2.5-1.5 5.2-3.1 6.8c-1.6 1.6-4.3 1.9-6.3 2.7c-2 .9-3.3 2.1-5.8 2.2c-2.5-0-6.2-1.4-9.1-2c-2.9-.6-5.3-.5-8.2-1.7c-3-1.2-6.2-3.7-9.5-5.5c-3.2-1.8-6.5-4-9.9-5.5c-3.4-1.6-7.1-2.5-10.4-3.8c-3.4-1.3-6.9-2.8-9.8-3.8c-2.8-1.1-4.9-1.7-7.6-2.6c-2.6-.9-6.7-1.1-8.2-2.6c-1.4-1.5-0-4.3-.3-6.4c-.3-2.2-2.4-4.5-1.5-6.5Z"/><path class="c" style="stroke-width:1.6" d="M1392.6 839.3c1-1.9 4.7-3.6 6.9-5.5c2.1-2 3.4-3.9 6.2-6.2c2.8-2.4 7.1-5.1 10.6-7.8c3.5-2.6 7.2-5.9 10.5-8.2c3.3-2.2 6.1-3.4 9.3-5.3c3.2-1.8 7-4.5 9.9-5.7c2.9-1.2 5.2-1 7.6-1.6c2.4-.5 5-1.8 7.1-1.7c2 .1 3.4 1.4 5.2 2.1c1.8 .6 4 .4 5.6 1.9c1.6 1.5 2.7 4.6 3.8 7c1.1 2.4 2.2 4.7 2.9 7.6c.8 3 .8 6.8 1.3 10.1c.5 3.2 1.6 5.9 1.7 9.6c.1 3.6-.8 8.2-1.1 12c-.3 3.9-.1 8-.9 11c-.7 3-2.4 4.7-3.4 7c-1 2.3-1.2 5.2-2.5 6.8c-1.4 1.5-3.8 1.6-5.8 2.4c-2 .9-3.8 2.6-6.1 2.6c-2.3 .1-5.2-1.4-7.8-2.1c-2.5-.7-4.6-.9-7.4-2.1c-2.7-1.2-6.1-3.3-9.2-5c-3.1-1.8-6.4-3.9-9.5-5.4c-3.1-1.4-5.9-2.2-9.1-3.2c-3.1-1.1-6.9-2.1-9.7-3.2c-2.8-1-4.8-2.3-7.3-3.2c-2.4-1-5.8-1.3-7.2-2.5c-1.4-1.3-.8-3.3-1.1-5.2c-.2-1.9-1.6-4.2-.5-6.2Z"/><path class="c" style="stroke-width:1.6" d="M1397.6 839.5c.9-1.7 3.8-3.8 5.8-5.6c1.9-1.9 3.2-3.4 5.8-5.5c2.7-2.1 6.7-4.6 10-7.2c3.3-2.5 6.7-5.8 9.8-8c3.1-2.2 5.7-3.7 8.8-5.3c3-1.7 6.6-3.6 9.3-4.7c2.6-1.1 4.2-1.6 6.4-2.1c2.3-.6 5.1-1.2 7.1-1c2 .1 3.2 1.3 4.9 1.9c1.6 .5 3.6 0 5.1 1.4c1.4 1.5 2.5 4.8 3.5 7.1c1.1 2.3 2.3 4.1 2.9 6.8c.7 2.7 .7 6.2 1.1 9.3c.4 3.2 1.4 6.1 1.4 9.5c.1 3.4-.7 7.3-1 10.9c-.4 3.6-.4 7.9-1 10.8c-.6 2.9-1.6 4.5-2.6 6.6c-1 2.1-1.9 4.7-3.3 6.1c-1.3 1.4-3.3 1.4-5.1 2.2c-1.7 .7-3.2 2.3-5.2 2.3c-2.1 .1-4.7-1.5-7.1-2.1c-2.4-.7-4.7-.8-7.4-1.8c-2.6-1-5.7-2.6-8.5-4.2c-2.9-1.6-5.7-3.8-8.6-5.2c-2.9-1.4-6.1-2-9-3.2c-2.9-1.1-5.7-2.9-8.3-3.8c-2.5-.9-4.9-1-7.1-1.7c-2.2-.8-5-1.5-6.2-2.9c-1.3-1.4-1-3.9-1.3-5.6c-.2-1.8-1.1-3.2-.2-5Z"/><path class="c" style="stroke-width:1.7" d="M1401.8 839.7c.8-1.8 3.8-3.8 5.6-5.6c1.8-1.7 2.8-3 5.2-5.1c2.4-2 6.2-4.7 9.3-7c3.1-2.3 6.1-4.8 9-6.8c2.9-2.1 5.5-3.8 8.2-5.4c2.7-1.6 5.6-3.2 8.1-4.2c2.5-1.1 4.7-1.6 6.9-2.1c2.3-.5 4.9-.9 6.7-.7c1.7 .2 2.5 1.3 3.9 1.8c1.4 .5 3.4-0 4.7 1.2c1.3 1.3 2 4.4 3 6.5c1.1 2.1 2.7 3.5 3.5 6c.7 2.5 .8 6.2 1 9.1c.3 3 .6 5.5 .7 8.6c.1 3.1 .1 6.7-.2 10.1c-.2 3.4-.6 7.5-1.2 10.2c-.6 2.7-1.5 3.9-2.5 6c-.9 2.2-1.9 5.3-3.1 6.6c-1.3 1.4-2.8 1-4.4 1.6c-1.5 .6-3 1.9-5 2c-1.9 .1-4.4-.7-6.6-1.3c-2.3-.5-4.5-1-7-2c-2.5-1-5.4-2.4-8.1-3.9c-2.7-1.4-5.3-3.4-7.9-4.8c-2.6-1.4-5.1-2.5-7.8-3.5c-2.7-1-6-1.7-8.4-2.6c-2.3-.9-3.8-2.1-5.8-2.9c-2-.8-5.1-.9-6.3-2.1c-1.1-1.1-.3-3.1-.5-4.8c-.3-1.6-1.8-3.2-1-4.9Z"/><path class="c" style="stroke-width:1.7" d="M1406.8 839.5c.7-1.6 2.8-3.1 4.4-4.7c1.5-1.5 2.7-2.8 5-4.7c2.2-1.9 5.8-4.4 8.6-6.7c2.8-2.2 5.7-5 8.3-6.8c2.7-1.8 5-2.8 7.5-4.2c2.5-1.5 5.2-3.7 7.5-4.7c2.4-.9 4.5-.5 6.6-.9c2-.5 4.1-1.6 5.7-1.6c1.7-0 2.7 1 4.2 1.5c1.5 .6 3.4 .4 4.6 1.7c1.1 1.2 1.2 4 2.1 6c.8 2 2.1 3.6 2.9 5.9c.7 2.2 1.2 4.8 1.6 7.5c.3 2.8 .4 5.9 .5 9c0 3 .1 6.2-.2 9.3c-.2 3.1-.9 6.8-1.5 9.3c-.5 2.5-1 3.8-1.8 5.8c-.7 1.9-1.5 4.8-2.7 6.1c-1.2 1.2-3.1 .8-4.6 1.3c-1.6 .6-2.8 1.7-4.5 1.7c-1.8 .1-4.1-1-6.1-1.5c-2.1-.4-4-.5-6.4-1.3c-2.3-.9-5.4-2.4-7.8-3.9c-2.4-1.4-4.2-3.7-6.7-4.9c-2.4-1.2-5.3-1.5-7.8-2.4c-2.6-1-5.3-2.2-7.5-3.1c-2.2-.9-3.6-1.5-5.5-2.3c-1.8-.8-4.6-1.3-5.6-2.4c-1-1-.3-2.5-.5-4c-.1-1.5-1-3.4-.3-5Z"/><path class="c" style="stroke-width:1.8" d="M1410.8 839.7c.5-1.4 2.9-2.6 4.4-4.1c1.5-1.5 2.4-3.1 4.5-4.9c2-1.8 5.2-3.8 7.8-5.8c2.6-2 5.5-4.4 7.9-6.2c2.5-1.7 4.7-2.7 6.9-4.1c2.3-1.5 4.6-3.8 6.7-4.7c2-.9 3.8-.5 5.7-.8c1.8-.3 3.8-1.1 5.3-1c1.5 0 2.5 1 3.8 1.4c1.3 .5 3 .3 4.1 1.4c1.2 1.2 2.1 3.6 3 5.4c.9 1.7 1.9 3 2.4 5.2c.5 2.1 .4 4.9 .7 7.5c.3 2.5 1.1 4.9 1.1 7.8c.1 2.8-.8 6.3-1 9.3c-.2 3 .2 6.4-.2 8.7c-.5 2.2-1.8 3.2-2.6 4.9c-.8 1.8-1.1 4.5-2.2 5.7c-1.1 1.1-3 .7-4.4 1.2c-1.4 .6-2.3 2-3.9 2.1c-1.6 .1-3.9-.9-5.8-1.5c-2-.5-3.9-1.1-5.9-2c-2.1-1-4.2-2.3-6.4-3.6c-2.2-1.2-4.6-2.9-6.9-4.1c-2.2-1.2-4.3-2.2-6.5-3c-2.3-.9-4.9-1.4-6.9-2.2c-2-.8-3.3-2-4.9-2.6c-1.7-.6-4.1-.1-5-1.2c-1-1-.3-3.4-.6-4.9c-.2-1.4-1.7-2.6-1.1-3.9Z"/><path class="c" style="stroke-width:1.8" d="M1415.1 839.6c.6-1.4 3.2-2.8 4.6-4.2c1.4-1.4 2.2-2.6 3.9-4c1.8-1.5 4.3-3.1 6.6-5c2.3-1.9 5.1-4.5 7.4-6.3c2.3-1.7 4.1-2.8 6.2-4.1c2-1.2 4.3-2.5 6.1-3.3c1.8-.8 3.2-1.2 4.9-1.7c1.7-.4 4-1.1 5.4-1c1.5 .1 2.2 1.1 3.3 1.6c1.2 .6 2.6 .6 3.6 1.7c.9 1 1.3 2.9 2.1 4.4c.7 1.6 1.8 3 2.4 4.9c.6 2 .8 4.5 1.2 6.9c.4 2.4 1 4.9 1 7.6c.1 2.6-.3 5.5-.6 8.2c-.3 2.8-.6 6-1.1 8.2c-.5 2.2-1.3 3.3-1.9 4.9c-.6 1.6-.8 3.4-1.8 4.5c-1 1.1-2.8 1.6-4.2 2.2c-1.3 .6-2.5 1.2-4 1.3c-1.4-0-3.1-.6-4.9-1.1c-1.7-.5-3.6-1-5.5-1.9c-1.9-.8-3.8-2-5.8-3.2c-2-1.2-4.1-2.8-6.2-3.9c-2.1-1.1-4.4-1.9-6.4-2.7c-2.1-.9-4.2-1.7-5.8-2.4c-1.7-.7-2.6-1.4-4.1-2c-1.5-.6-3.8-.9-4.7-1.8c-.9-1-.6-2.5-.8-3.8c-.3-1.3-1.5-2.6-.9-4Z"/><path class="c" style="stroke-width:1.8" d="M1419.7 839.6c.5-1.2 2.2-2.5 3.5-3.6c1.3-1.2 2.7-1.7 4.3-3.1c1.7-1.5 3.6-3.7 5.6-5.5c2-1.9 4.5-4.3 6.5-5.7c2-1.5 3.5-2.1 5.3-3.2c1.8-1.1 3.8-2.5 5.6-3.3c1.8-.8 3.6-1.1 5.1-1.5c1.5-.5 2.5-1.3 3.7-1.1c1.2 .1 2.1 1.3 3.3 1.8c1.1 .6 2.7 .5 3.6 1.4c1 .9 1.5 2.6 2.2 4c.7 1.4 1.4 2.7 2 4.4c.5 1.7 1 3.7 1.3 5.8c.2 2.1 .2 4.3 .2 6.8c-.1 2.5-.1 5.5-.3 8.1c-.2 2.6-.4 5.5-.8 7.5c-.5 2-1.2 3-1.8 4.6c-.7 1.5-1.2 3.6-2.1 4.6c-1 1-2.5 1-3.5 1.3c-1.1 .4-1.7 .7-3 .7c-1.4 .1-3.4 .1-5-.3c-1.6-.4-3-1.1-4.7-2c-1.6-.8-3.5-2.1-5.3-3.2c-1.8-1-3.7-2.1-5.6-3c-1.9-.9-4-1.4-5.8-2.3c-1.9-.9-3.8-2.4-5.3-3.2c-1.5-.8-2.6-1.1-3.9-1.6c-1.3-.5-3.1-.5-3.8-1.3c-.7-.8-.3-2.3-.6-3.4c-.2-1.2-1.1-2.5-.7-3.7Z"/><path class="c" style="stroke-width:1.9" d="M1424.1 839.6c.5-1.1 2.7-1.7 3.8-2.8c1.2-1 1.5-2.2 2.9-3.6c1.4-1.3 3.8-2.7 5.6-4.3c1.7-1.6 3.1-3.9 4.9-5.2c1.7-1.4 3.9-2.1 5.7-3.1c1.7-1.1 3.4-2.5 4.8-3.2c1.3-.7 2.1-.6 3.4-.9c1.3-.4 3.2-1.3 4.3-1.4c1.2 0 1.6 .8 2.6 1.2c.9 .4 2.2 .3 3 1.2c.9 .8 1.5 2.8 2.2 4.1c.7 1.3 1.6 2.3 2.1 3.9c.4 1.6 .4 3.6 .7 5.6c.2 2 .8 4.1 .8 6.5c0 2.3-.8 5-.9 7.3c-.2 2.4 .4 5.2-0 6.9c-.4 1.8-1.8 2.2-2.4 3.5c-.5 1.3-.4 3.4-1.2 4.3c-.8 .9-2.7 .8-3.7 1.1c-1.1 .3-1.6 .8-2.6 .8c-1.1 0-2.6-.5-4-.8c-1.4-.3-2.6-.5-4.3-1.2c-1.6-.7-3.9-2-5.6-3c-1.7-.9-3.2-1.8-4.8-2.8c-1.5-.9-2.8-1.9-4.3-2.7c-1.5-.8-3.1-1.5-4.5-2.2c-1.4-.6-2.7-1.1-3.9-1.5c-1.2-.4-2.8-.2-3.4-.9c-.6-.7-0-2.1-.2-3.3c-.2-1.1-1.5-2.5-1-3.5Z"/><path class="c" style="stroke-width:1.9" d="M1429.1 839.9c.5-1 1.4-2 2.3-3c.8-.9 1.6-1.6 2.8-2.9c1.3-1.2 3-3.1 4.6-4.5c1.6-1.4 3.6-2.8 5.2-3.9c1.5-1.2 2.7-2.2 4.1-3.2c1.3-1 2.8-2.2 4-2.8c1.3-.6 2.2-.7 3.4-.9c1.2-.3 2.6-.7 3.7-.7c1.1 0 1.9 .4 2.7 .7c.9 .3 1.5 .2 2.1 1c.7 .8 1.3 2.5 1.9 3.7c.6 1.2 1.2 1.9 1.6 3.3c.4 1.5 .4 3.5 .8 5.4c.3 1.9 1.2 3.8 1.4 5.8c.1 2-.2 4-.5 6.1c-.2 2.1-.5 4.6-1 6.3c-.4 1.7-1.2 2.7-1.7 3.9c-.4 1.2-.4 2.8-1.1 3.6c-.7 .7-2.4 .7-3.3 1c-.9 .4-1 .9-2 1c-1.1 0-2.9-.3-4.3-.7c-1.3-.3-2.5-.8-3.8-1.5c-1.4-.6-3-1.7-4.4-2.6c-1.4-.8-2.5-1.7-3.8-2.6c-1.4-.9-3-1.9-4.3-2.7c-1.4-.8-2.7-1.5-3.8-2c-1.1-.5-1.9-.6-2.9-1c-1-.4-2.7-.6-3.3-1.3c-.7-.7-.6-1.9-.7-2.8c-0-.9-.1-1.8 .3-2.7Z"/><path class="c" style="stroke-width:2" d="M1433.3 840.1c.3-.7 1.9-1.5 2.6-2.5c.7-.9 .5-2 1.5-3c1.1-1.1 3.2-2 4.7-3.3c1.4-1.2 2.8-2.9 4-4.1c1.2-1.1 1.9-2.1 3.1-2.9c1.1-.9 2.8-1.6 3.9-2.1c1.2-.5 1.8-.8 2.8-1c1.1-.2 2.4-.3 3.3-.3c.9 .1 1.6 .5 2.3 .7c.8 .2 1.6 0 2.2 .6c.5 .6 .7 1.8 1.2 2.9c.4 1 1 2.1 1.4 3.4c.3 1.2 .3 2.5 .6 4.1c.3 1.6 1.3 3.7 1.4 5.6c.1 1.8-.6 3.7-.9 5.6c-.3 2-.4 4.6-.7 6.1c-.3 1.4-.6 1.8-.9 2.8c-.4 .9-.6 2.3-1.3 3c-.7 .7-2 .8-2.9 1.1c-.8 .4-1.1 1-2 1.1c-.9 .1-2.4-.2-3.5-.6c-1-.3-1.6-.8-2.8-1.5c-1.1-.7-2.9-1.7-4.1-2.6c-1.2-.8-2-1.7-3.1-2.4c-1.1-.7-2.2-1.1-3.5-1.8c-1.2-.7-3-1.7-4-2.2c-1-.6-1.2-.9-2.1-1.2c-.8-.3-2.5-.1-3-.7c-.4-.6 .5-2 .4-2.8c0-.7-.9-1.2-.6-2Z"/><path class="c" style="stroke-width:2" d="M1438 840.2c.3-.7 .9-1.7 1.5-2.4c.5-.7 .7-1 1.6-1.9c.9-.9 2.6-2.3 3.7-3.5c1.1-1.2 1.9-2.8 2.9-3.8c.9-.9 1.7-1.1 2.8-1.9c1-.8 2.7-2.1 3.6-2.6c1-.5 1.2-.3 2.1-.4c.8-.1 2.4-.4 3.2-.3c.7-0 .6 .3 1.1 .5c.4 .3 1.1 .5 1.7 1c.6 .5 1.3 1.1 1.8 1.9c.6 .8 1 1.6 1.3 2.7c.3 1.1 .4 2.5 .6 3.9c.3 1.5 .9 3.1 1 4.8c.1 1.7-.1 3.7-.2 5.4c-.2 1.8-.5 3.7-.8 5c-.4 1.4-.9 2.1-1.3 3c-.5 .9-.9 2-1.5 2.5c-.5 .5-1.3-0-2 .3c-.7 .3-1.5 1.4-2.2 1.5c-.8 0-1.7-.7-2.4-1.1c-.8-.3-1.2-.6-2.2-1c-1-.5-2.7-.9-3.7-1.6c-1.1-.7-1.9-1.9-2.8-2.6c-1-.7-2.2-1.1-3.2-1.7c-1-.5-1.9-1.4-2.7-1.8c-.7-.4-1.1-.3-1.7-.7c-.7-.4-1.8-1-2.2-1.6c-.4-.6-.2-1.3-.2-1.9c0-.6-0-1 .2-1.7Z"/><path class="c" style="stroke-width:2.1" d="M1442.2 840c.2-.6 1.1-1.3 1.5-1.9c.5-.7 .9-1.1 1.4-1.9c.5-.7 1.1-1.7 1.8-2.7c.8-1 1.9-2.4 2.8-3.3c.9-.8 1.9-.9 2.7-1.5c.8-.6 1.5-1.3 2.3-1.8c.7-.5 1.7-.9 2.3-1.1c.6-.2 .8-.3 1.4-.2c.6 0 1.6 .4 2.2 .6c.5 .2 .7 .4 1.1 .8c.3 .5 .8 1.3 1.2 1.9c.3 .7 .7 1.1 1 2c.3 1 .3 2.3 .6 3.5c.2 1.2 .9 2.2 1 3.6c0 1.4-.4 3.2-.6 4.9c-.3 1.6-.8 3.7-1 4.9c-.2 1.3-.1 1.8-.4 2.4c-.3 .7-.9 1.2-1.4 1.6c-.6 .4-1.3 .7-1.8 1c-.6 .3-.8 .6-1.4 .6c-.6 .1-1.3-.1-2-.4c-.7-.2-1.4-.5-2.2-.9c-.8-.5-1.8-1.3-2.6-2c-.8-.6-1.4-1.6-2.2-2.1c-.8-.5-1.9-.6-2.6-1.1c-.6-.4-.9-1-1.5-1.4c-.5-.5-1.4-1-1.9-1.3c-.6-.3-1.2-.3-1.4-.7c-.2-.4-0-1.2-.1-1.8c-0-.5-.4-1.1-.2-1.7Z"/><path class="c" style="stroke-width:2.1" d="M1446.1 840.2c.2-.4 .8-1.2 1.1-1.8c.3-.6 .4-1.1 .9-1.7c.5-.6 1.4-1.2 2-1.9c.7-.7 1.4-1.8 1.9-2.6c.5-.8 .7-1.7 1.3-2.2c.7-.5 1.8-.6 2.5-.8c.6-.2 .9-.4 1.4-.6c.6-.3 1.4-.6 1.8-.7c.4-0 .2 .1 .4 .3c.2 .1 .7 .1 1 .5c.4 .5 .6 1.5 1.1 2c.4 .6 1.2 .8 1.4 1.5c.2 .7-.2 1.5 0 2.6c.2 1.1 1.2 2.7 1.2 4c.1 1.3-.7 2.5-.9 3.8c-.2 1.3-.1 2.9-.4 4c-.2 1-.8 1.6-1.1 2.2c-.3 .5-.2 .9-.6 1.2c-.3 .4-.9 .9-1.3 1c-.4 .2-.6 0-1.1 .1c-.4 0-1.2 .3-1.7 .2c-.5-.1-.7-.5-1.2-.9c-.6-.4-1.4-.8-2.1-1.4c-.7-.5-1.6-1.2-2.1-1.8c-.6-.7-.7-1.3-1.2-1.8c-.5-.5-1.4-.9-1.8-1.2c-.4-.3-.5-.5-.9-.7c-.3-.3-1-.2-1.3-.6c-.2-.4-.2-1.5-.2-1.9c-0-.5-.2-.4-.1-.8Z"/><path class="c" style="stroke-width:2.2" d="M1451.1 839.6c.1-.4 .1-.4 .2-.6c.1-.3 .3-.5 .5-1c.3-.4 .7-1.1 1-1.8c.3-.7 .3-1.9 .7-2.6c.4-.6 1.2-.9 1.7-1.3c.4-.4 .4-.7 .9-1c.4-.3 1.2-.8 1.6-.9c.3-.2 .1-.1 .4-0c.3 .1 1.2 .5 1.4 .7c.3 .1-.1 .2 .1 .4c.2 .3 1 .6 1.2 1c.3 .4 .3 .7 .5 1.2c.2 .5 .6 1.1 .9 1.8c.2 .8 .3 1.7 .4 2.8c.1 1.2 .1 2.7-.1 4c-.1 1.3-.3 2.7-.6 3.6c-.2 .8-.8 1.1-1 1.6c-.2 .4-.1 .8-.3 1.1c-.2 .3-.5 .5-.8 .5c-.3 .1-.4-.1-.8-.1c-.5 0-1.4 .3-1.9 .2c-.4-.1-.6-.5-1-.8c-.3-.2-.5-.3-.9-.8c-.5-.5-1.4-1.8-1.7-2.3c-.4-.5-.1-.4-.4-.8c-.3-.3-1-.9-1.2-1.3c-.2-.3 .1-.5-.1-.7c-.3-.3-1.1-.3-1.2-.5c-.2-.2 .3-.3 .4-.7c0-.3 .1-1.3 .1-1.7Z"/><path class="c" style="stroke-width:2.2" d="M1454.9 840c-.1-.4 .2-.7 .2-.8c0-.2-.4-.1-.3-.4c.1-.2 .6-.8 .7-1.3c.1-.5-.1-1.2 .1-1.7c.2-.5 .9-1.1 1.1-1.5c.3-.4 .3-.9 .4-1.1c.1-.2 .2-.3 .4-.3c.3-0 .9 .2 1.1 .2c.2 0 .2-.1 .3-.1c.1 0-.1 .1 .1 .2c.2 .1 .7 .2 .9 .5c.2 .4 .2 1.1 .4 1.5c.1 .4 .6 .2 .7 .8c.1 .6-.1 1.7-.2 2.7c-.1 1.1-.1 2.6-.2 3.6c-.1 1-.3 1.9-.4 2.4c-.1 .5 .1 .6-.1 .8c-.1 .3-.7 .5-.9 .7c-.3 .3-.4 .4-.5 .6c-.1 .2-0 .4-.2 .5c-.1 .1-.3 .2-.6 .1c-.3-.1-.9-.5-1.2-.8c-.4-.2-.6-.4-.7-.9c-.1-.4-0-1.3-.1-1.7c-.1-.4-.3-.5-.4-.8c-.1-.2-.1-.4-.2-.7c-.1-.2-.5-.7-.5-1c-.1-.2 .2-.4 .2-.5c.1-.1 .2 .2 .2 0c-0-.2-.3-.7-.3-1Z"/>
<path class="c" style="stroke-width:1.4" d="M1360.1 829.6c2.1 1.2 7.9 6.1 12.3 7c4.3 .9 9.3-.3 14-1.7c4.6-1.5 11.6-5.9 13.9-7"/>
<path class="c" style="stroke-width:1.4" d="M1360.1 854.1c2.1-.9 7.9-4.7 12.3-5.2c4.3-.6 9.3 .5 14 1.7c4.6 1.2 11.6 4.4 13.9 5.3"/>
<path d="M1465.1 791.1c1.1-2 8.9-.8 12.2 3.5c3.3 4.4 6.2 14.3 7.7 22.8c1.5 8.4 2 18.6 1.4 28c-.6 9.3-1.9 21.5-4.9 28c-3 6.4-11.4 13.4-12.9 10.4c-1.6-2.9 2.6-18.6 3.5-27.9c.8-9.4 2-19.9 1.7-28c-.3-8.2-2-14.9-3.5-21c-1.4-6.1-6.4-13.7-5.2-15.8Z" fill="#000" fill-opacity="0.8"/>
<path d="M1431.8 864.6c4.7-.5 14.6 2.3 21 5.3c6.4 2.9 16.1 9.3 17.5 12.2c1.5 2.9-4.1 5.2-8.7 5.2c-4.7 0-13.1-2.8-19.3-5.2c-6.1-2.4-15.7-6.5-17.5-9.4c-1.7-3 2.4-7.6 7-8.1Z" fill="#000" fill-opacity="0.55"/>
<path d="M1470.3 799.9c.5 4.6 2.4 18.6 2.8 28c.5 9.3 .7 19.5 0 28c-.7 8.4-3.5 18.9-4.2 22.7" fill="none" stroke="#fff" stroke-width="0.8" stroke-dasharray="4 4"/>
<path d="M1474.2 803.4c.4 4.1 2.3 15.7 2.8 24.5c.4 8.7 .7 20-0 28c-.7 7.9-3.5 16.6-4.2 19.9" fill="none" stroke="#fff" stroke-width="0.8" stroke-dasharray="4 4"/>
<path d="M1478 806.9c.5 3.5 2.3 12.8 2.8 21c.5 8.1 .7 20.4 0 28c-.7 7.5-3.5 14.2-4.2 17.1" fill="none" stroke="#fff" stroke-width="0.8" stroke-dasharray="4 4"/>
<ellipse cx="1458.1" cy="840.1" rx="3.8" ry="8" fill="#fff" stroke="#000" stroke-width="1.2"/>
<rect class="ax" x="1181.7" y="571.4" width="355.5" height="355.2" style="stroke-width:2.9"/>
<path class="tk" d="M1181.7 604h-10M1181.7 689h-10M1181.7 786h-10M1181.7 840h-10M1181.7 902h-10"/>
<path class="tm" d="M1181.7 663.4h-4M1181.7 648.4h-4M1181.7 637.8h-4M1181.7 629.6h-4M1181.7 622.9h-4M1181.7 617.2h-4M1181.7 612.2h-4M1181.7 607.9h-4M1181.7 756.8h-4M1181.7 739.7h-4M1181.7 727.6h-4M1181.7 718.2h-4M1181.7 710.5h-4M1181.7 704h-4M1181.7 698.4h-4M1181.7 693.4h-4M1181.7 578.4h-4M1181.7 827h-4M1181.7 817.1h-4M1181.7 810h-4M1181.7 804.5h-4M1181.7 800.1h-4M1181.7 796.4h-4M1181.7 793.3h-4M1181.7 790.6h-4M1181.7 788.2h-4M1181.7 854.9h-4M1181.7 866.2h-4M1181.7 874.5h-4M1181.7 880.8h-4M1181.7 885.8h-4M1181.7 890h-4M1181.7 893.6h-4M1181.7 896.7h-4M1181.7 899.5h-4M1181.7 919.5h-4"/>
<path class="tm" d="M1181.7 830h-5.5M1181.7 831.8h-5.5M1181.7 833.5h-5.5M1181.7 835.2h-5.5M1181.7 836.7h-5.5M1181.7 838h-5.5M1181.7 839.2h-5.5M1181.7 840.8h-5.5M1181.7 842h-5.5M1181.7 843.3h-5.5M1181.7 844.8h-5.5M1181.7 846.5h-5.5M1181.7 848.2h-5.5M1181.7 850h-5.5"/>
<text transform="translate(1168.7 612.8) scale(0.97 1)" font-size="25" text-anchor="end">10<tspan font-size="14.5" dy="-9">5</tspan></text>
<text transform="translate(1168.7 697.8) scale(0.97 1)" font-size="25" text-anchor="end">10<tspan font-size="14.5" dy="-9">4</tspan></text>
<text transform="translate(1168.7 794.8) scale(0.97 1)" font-size="25" text-anchor="end">10<tspan font-size="14.5" dy="-9">3</tspan></text>
<text transform="translate(1168.7 848.8) scale(0.97 1)" font-size="25" text-anchor="end">0</text>
<text transform="translate(1168.7 910.8) scale(0.97 1)" font-size="25" text-anchor="end">10<tspan font-size="14.5" dy="-9">-3</tspan></text>
<path class="tk" d="M1203.8 926.6v10M1261 926.6v10M1320 926.6v10M1417 926.6v10M1502.6 926.6v10"/>
<path class="tm" d="M1349.2 926.6v4M1366.3 926.6v4M1378.4 926.6v4M1387.8 926.6v4M1395.5 926.6v4M1402 926.6v4M1407.6 926.6v4M1412.6 926.6v4M1442.8 926.6v4M1457.8 926.6v4M1468.5 926.6v4M1476.8 926.6v4M1483.6 926.6v4M1489.3 926.6v4M1494.3 926.6v4M1498.7 926.6v4M1528.4 926.6v4M1275.2 926.6v4M1286 926.6v4M1293.8 926.6v4M1299.8 926.6v4M1304.6 926.6v4M1308.6 926.6v4M1312 926.6v4M1315 926.6v4M1317.6 926.6v4M1247.2 926.6v4M1236.8 926.6v4M1229.2 926.6v4M1223.4 926.6v4M1218.7 926.6v4M1214.8 926.6v4M1211.5 926.6v4M1208.6 926.6v4M1206.1 926.6v4M1188.3 926.6v4"/>
<path class="tm" d="M1253.5 926.6v6M1255.1 926.6v6M1256.6 926.6v6M1258 926.6v6M1259.2 926.6v6M1260.3 926.6v6M1261.7 926.6v6M1262.8 926.6v6M1264 926.6v6M1265.4 926.6v6M1266.9 926.6v6M1268.5 926.6v6"/>
<text transform="translate(1210.3 960) scale(0.97 1)" font-size="25" text-anchor="middle">10<tspan font-size="14.5" dy="-9">-3</tspan></text>
<text transform="translate(1262 960) scale(0.97 1)" font-size="25" text-anchor="middle">0</text>
<text transform="translate(1325.5 960) scale(0.97 1)" font-size="25" text-anchor="middle">10<tspan font-size="14.5" dy="-9">3</tspan></text>
<text transform="translate(1418.5 960) scale(0.97 1)" font-size="25" text-anchor="middle">10<tspan font-size="14.5" dy="-9">4</tspan></text>
<text transform="translate(1504.6 960) scale(0.97 1)" font-size="25" text-anchor="middle">10<tspan font-size="14.5" dy="-9">5</tspan></text>
<text x="1372.4" y="1001" font-size="29" text-anchor="middle">CD150-APC</text>
<text x="1103" y="744" font-size="29" text-anchor="middle" transform="rotate(-90 1103 744)">CD48-Alexa Fluor 700</text>
<path class="g" d="M1374.8 926.6L1374.8 755.5L1537.2 755.5"/>
<text x="1388.8" y="919" font-size="24.8" class="r">HSC SLAM</text>
<clipPath id="ca7"><rect x="121.8" y="1073.6" width="354.2" height="354"/></clipPath>
<g clip-path="url(#ca7)">
<path class="c" style="stroke-width:1.1" d="M476.7 1218c-1.6 .2-6.8-.3-9.8 1.6c-3 1.9-6.5 4.9-8.1 9.8c-1.7 4.9-.6 13.3-1.7 19.6c-1 6.2-1.3 12.6-4.9 17.9c-3.5 5.4-9.6 10.8-16.3 14.1c-6.7 3.2-16.5 5.3-23.8 5.5c-7.4 .2-14.2-1.3-20.3-4.2c-6.1-2.9-10.8-8.7-16.3-13.1c-5.4-4.3-9.8-9-16.3-13c-6.5-4.1-15.3-9-22.9-11.1c-7.6-2.2-15.8-2.7-22.8-2c-7.1 .7-12.5 2.2-19.6 5.9c-7.1 3.7-16.1 9.2-22.9 16.3c-6.8 7.1-13.9 18.5-17.9 26.1c-4.1 7.6-6.6 13.5-6.6 19.6c0 6.1 2.5 11.6 6.6 17c4 5.4 11.1 11.4 17.9 15.7c6.8 4.2 13.6 7.6 22.9 9.8c9.2 2.1 21.7 3.2 32.6 3.2c10.9 0 24-3 32.7-3.2c8.7-.2 13-.2 19.6 1.9c6.5 2.2 12.5 7.4 19.6 11.1c7 3.8 14.1 8.4 22.8 11.5c8.7 3 20.2 6.3 29.4 6.8c9.3 .5 21.8-3.2 26.1-3.9"/>
<path class="c" style="stroke-width:1.1" d="M476.7 1268.6c-3.2 1.6-12.5 6-19.6 9.8c-7 3.8-15.3 9.5-22.8 13c-7.5 3.6-14.9 7.1-22.2 8.2c-7.4 1.1-15.3 .4-21.9-1.6c-6.6-2.1-12.2-6.2-18-10.5c-5.7-4.2-10.3-10.9-16.3-15c-6-4.1-12.6-7.8-19.6-9.8c-6.9-2-15.1-3-22.2-2.3c-7.1 .7-13.9 2.7-20.2 6.5c-6.4 3.8-13.5 9.8-18 16.4c-4.4 6.5-8.3 15.9-8.8 22.8c-.5 6.9 1.6 13.4 5.6 18.6c3.9 5.3 8.9 9.8 17.9 13.1c9 3.3 25 5.8 35.9 6.5c10.9 .7 21.3-2.4 29.4-2.3c8.2 .2 13.4 .6 19.6 3.3c6.3 2.7 11.4 8.6 18 13.1c6.5 4.5 12.2 10.1 21.2 14c9 3.9 22.3 8.2 32.6 9.2c10.4 .9 24.5-2.8 29.4-3.3"/>
<path class="c" style="stroke-width:1.3" d="M476.7 1280c-3.8 1.8-14.1 6.7-22.8 10.8c-8.7 4.1-20.2 10-29.4 13.7c-9.3 3.6-18.8 6.1-26.1 8.2c-7.4 2-12.8 4.5-18 4.2c-5.2-.3-8.7-1.6-13.1-5.9c-4.3-4.2-8.4-14-13-19.6c-4.6-5.5-9.3-10.6-14.7-13.7c-5.5-3.1-12-4.9-18-4.9c-6 0-12.2 1.9-17.9 4.9c-5.7 3-12.3 7.6-16.4 13.1c-4 5.4-7.6 13.5-8.1 19.6c-.6 6.1 1.3 12.8 4.9 16.9c3.5 4.2 8.7 6.5 16.3 8.2c7.6 1.8 20.1 2.8 29.4 2.3c9.2-.5 19.3-3.7 26.1-5.6c6.8-1.8 10.5-5.3 14.7-5.5c4.3-.2 7.3 1.2 10.8 4.6c3.5 3.3 5.4 9.8 10.4 15.6c5 5.9 10.9 14.3 19.6 19.6c8.7 5.4 21.8 10.9 32.7 12.4c10.9 1.6 27.2-2.7 32.6-3.2"/>
<path class="c" style="stroke-width:1.9" d="M290 1315.9c.3-4.6 2.4-12.1 5.5-16.3c3.1-4.2 8.7-6.6 13.1-8.8c4.3-2.2 9-5.5 13-4.3c4.1 1.2 8.2 6.8 11.5 11.5c3.2 4.6 6.1 12 8.1 16.3c2.1 4.2 4.5 6.6 4.3 9.1c-.3 2.5-1.9 4.7-5.9 5.9c-4 1.2-12 .8-18 1.3c-6 .5-13.2 2.2-17.9 1.6c-4.8-.5-8.2-2.1-10.5-4.9c-2.3-2.7-3.6-6.8-3.2-11.4Z"/>
<ellipse class="c" cx="306.9" cy="1315.3" rx="4" ry="5" style="stroke-width:2.2"/>
<path class="c" style="stroke-width:1.3" d="M476.7 1291.4c-4.3 1.4-17.4 4.9-26.1 8.2c-8.7 3.3-18.2 7.9-26.1 11.4c-7.9 3.6-16.3 6-21.2 9.8c-4.9 3.8-7.7 8.2-8.2 13.1c-.5 4.9 1.6 11.1 4.9 16.3c3.3 5.2 7.9 10.3 14.7 14.7c6.8 4.4 15.8 10 26.1 11.4c10.4 1.5 29.9-2.2 35.9-2.6"/>
<path class="c" style="stroke-width:1.5" d="M476.7 1301.2c-3.8 .8-14.7 2.5-22.8 4.9c-8.2 2.5-18.5 6.3-26.1 9.8c-7.7 3.6-15.7 7.1-19.6 11.4c-4 4.4-4.8 9.6-4 14.7c.9 5.2 3.9 11.6 8.9 16.4c5 4.7 13.8 9.4 21.2 12c7.3 2.7 15.8 3.9 22.8 4c7.1 .1 16.4-2.8 19.6-3.3"/>
<path class="c" style="stroke-width:1.7" d="M476.7 1309.4c-3.2 .4-12.5 .6-19.6 2.3c-7 1.6-16.6 4.1-22.8 7.5c-6.3 3.4-12 8.1-14.7 13c-2.7 4.9-3 11.2-1.6 16.4c1.3 5.1 4.9 11 9.8 14.7c4.9 3.6 11.4 6.3 19.5 7.1c8.2 .9 24.5-1.9 29.4-2.2"/>
<ellipse cx="458.8" cy="1345.3" rx="31" ry="32" fill="#000" fill-opacity="0.9"/>
<ellipse class="c" cx="458.2" cy="1345.3" rx="36" ry="35.3" style="stroke-width:1.9"/>
<ellipse class="c" cx="456.7" cy="1345.3" rx="41" ry="40.2" style="stroke-width:1.9"/>
<ellipse cx="458.8" cy="1345.3" rx="6" ry="6.3" fill="none" stroke="#fff" stroke-width="0.9" stroke-dasharray="3 2"/>
<ellipse cx="458.8" cy="1345.3" rx="12" ry="12.6" fill="none" stroke="#fff" stroke-width="0.9" stroke-dasharray="4 3"/>
<ellipse cx="458.8" cy="1345.3" rx="18" ry="18.9" fill="none" stroke="#fff" stroke-width="0.9" stroke-dasharray="3 3"/>
<ellipse cx="458.8" cy="1345.3" rx="24" ry="25.2" fill="none" stroke="#fff" stroke-width="0.9" stroke-dasharray="5 3"/>
<ellipse cx="458.8" cy="1345.3" rx="2.2" ry="3.4" fill="#fff"/>
<rect x="473.8" y="1222.9" width="2.2" height="160" fill="#000"/>
<path class="c" style="stroke-width:1.6" d="M121.8 1237c1.2 1 5.5 1 7.5 6c2 5 3.2 11.2 4.5 24c1.2 12.8 2.8 41.2 3 53c.2 11.8-.2 13-1.5 18c-1.2 5-3.8 9.2-6 12c-2.2 2.8-6.3 4.2-7.5 5"/>
<path class="c" style="stroke-width:1.6" d="M121.8 1243c1 1 4.6 1 6.3 6c1.6 5 2.7 13.2 3.7 24c1 10.8 2.3 31.2 2.5 41c.2 9.8-.2 13-1.2 18c-1.1 5-3.2 9.2-5 12c-1.9 2.8-5.3 4.2-6.3 5"/>
<path class="c" style="stroke-width:1.6" d="M121.8 1252c.8 1 3.7 1 5 6c1.3 5 2.2 15.7 3 24c.8 8.3 1.8 18.7 2 26c.2 7.3-.2 13-1 18c-.8 5-2.5 9.2-4 12c-1.5 2.8-4.2 4.2-5 5"/>
<path class="c" style="stroke-width:1.6" d="M121.8 1262c.6 1 2.8 1 3.8 6c1 5 1.6 18.2 2.2 24c.6 5.8 1.4 6.2 1.5 11c.1 4.8-.1 13-.8 18c-.6 5-1.8 9.2-3 12c-1.1 2.8-3.1 4.2-3.7 5"/>
<path class="c" style="stroke-width:1.6" d="M121.8 1275c.4 1 1.8 1 2.5 6c.7 5 1.1 21.2 1.5 24c.4 2.8 .9-8.8 1-7c.1 1.8-.1 13-.5 18c-.4 5-1.2 9.2-2 12c-.8 2.8-2.1 4.2-2.5 5"/>
<path d="M121.8 1290q9 8 12 28q-2 20 -12 24z" fill="#000" fill-opacity="0.65"/>
</g>
<path class="g" d="M122.4 1427L122.4 1114L380.4 1114L380.4 1427L122.4 1427"/>
<rect class="ax" x="121.8" y="1073.6" width="354.2" height="354"/>
<path class="tk" d="M121.8 1427.6h-10M121.8 1360.5h-10M121.8 1293.4h-10M121.8 1226.4h-10M121.8 1159.3h-10M121.8 1092.2h-10"/>
<path class="tm" d="M121.8 1414.2h-4M121.8 1400.8h-4M121.8 1387.4h-4M121.8 1373.9h-4M121.8 1347.1h-4M121.8 1333.7h-4M121.8 1320.3h-4M121.8 1306.9h-4M121.8 1280h-4M121.8 1266.6h-4M121.8 1253.2h-4M121.8 1239.8h-4M121.8 1212.9h-4M121.8 1199.5h-4M121.8 1186.1h-4M121.8 1172.7h-4M121.8 1145.9h-4M121.8 1132.4h-4M121.8 1119h-4M121.8 1105.6h-4M121.8 1078.8h-4"/>
<text x="108.8" y="1433.3" font-size="24.5" text-anchor="end">0</text>
<text x="108.8" y="1367.5" font-size="24.5" text-anchor="end">50K</text>
<text x="108.8" y="1301.7" font-size="24.5" text-anchor="end">100K</text>
<text x="108.8" y="1236" font-size="24.5" text-anchor="end">150K</text>
<text x="108.8" y="1170.2" font-size="24.5" text-anchor="end">200K</text>
<text x="108.8" y="1104.4" font-size="24.5" text-anchor="end">250K</text>
<path class="tk" d="M121.8 1427.6v10M185.5 1427.6v10M249.8 1427.6v10M314.4 1427.6v10M379.4 1427.6v10M443.4 1427.6v10"/>
<path class="tm" d="M141 1427.6v4M152.2 1427.6v4M160.2 1427.6v4M166.3 1427.6v4M171.4 1427.6v4M175.6 1427.6v4M179.3 1427.6v4M182.6 1427.6v4M204.7 1427.6v4M215.9 1427.6v4M223.9 1427.6v4M230 1427.6v4M235.1 1427.6v4M239.3 1427.6v4M243 1427.6v4M246.3 1427.6v4M269 1427.6v4M280.2 1427.6v4M288.2 1427.6v4M294.3 1427.6v4M299.4 1427.6v4M303.6 1427.6v4M307.3 1427.6v4M310.6 1427.6v4M333.6 1427.6v4M344.8 1427.6v4M352.8 1427.6v4M358.9 1427.6v4M364 1427.6v4M368.2 1427.6v4M371.9 1427.6v4M375.2 1427.6v4M398.6 1427.6v4M409.8 1427.6v4M417.8 1427.6v4M423.9 1427.6v4M429 1427.6v4M433.2 1427.6v4M436.9 1427.6v4M440.2 1427.6v4M462.6 1427.6v4M473.8 1427.6v4"/>
<text transform="translate(126.8 1462.6) scale(0.97 1)" font-size="25" text-anchor="middle">10<tspan font-size="14.5" dy="-9">0</tspan></text>
<text transform="translate(190.5 1462.6) scale(0.97 1)" font-size="25" text-anchor="middle">10<tspan font-size="14.5" dy="-9">1</tspan></text>
<text transform="translate(254.8 1462.6) scale(0.97 1)" font-size="25" text-anchor="middle">10<tspan font-size="14.5" dy="-9">2</tspan></text>
<text transform="translate(319.4 1462.6) scale(0.97 1)" font-size="25" text-anchor="middle">10<tspan font-size="14.5" dy="-9">3</tspan></text>
<text transform="translate(384.4 1462.6) scale(0.97 1)" font-size="25" text-anchor="middle">10<tspan font-size="14.5" dy="-9">4</tspan></text>
<text transform="translate(448.4 1462.6) scale(0.97 1)" font-size="25" text-anchor="middle">10<tspan font-size="14.5" dy="-9">5</tspan></text>
<text x="312.5" y="1503.7" font-size="29" text-anchor="middle">CD90-APC</text>
<text x="39.5" y="1229.4" font-size="29" text-anchor="middle" transform="rotate(-90 39.5 1229.4)">SSC-A</text>
<text x="236.4" y="1194.4" font-size="24.8" class="r">CLP</text>
<path class="c" style="stroke-width:1.2" d="M785.9 1193.6c-.2-3.8 .6-10.1 .9-15.1c.3-4.9 .5-9.8 .9-14.4c.5-4.6 1.2-8.7 1.7-13.1c.5-4.4 0-9.7 1.4-13.2c1.4-3.6 4.7-5.5 6.9-8.1c2.2-2.7 3.5-5.6 6.5-7.8c3-2.3 7.9-3.6 11.6-5.6c3.8-2 6.9-4.8 10.9-6.3c4.1-1.6 9.1-2 13.5-3c4.3-1 9.3-2.9 12.6-3.2c3.3-.2 4.9 1.3 7.1 1.8c2.2 .5 4.5-.1 6 1.2c1.5 1.2 2 4.3 3.1 6.2c1.1 2 2.7 3 3.4 5.5c.8 2.6 .9 6.5 1.3 9.7c.3 3.3 1 6.2 .9 10c-.1 3.8-.9 8.4-1.5 12.7c-.6 4.3-1.1 8.8-2.1 13.2c-.9 4.3-2.2 8.4-3.6 12.8c-1.3 4.3-2.8 9-4.4 13.4c-1.6 4.4-3.7 8.4-5.3 12.7c-1.6 4.4-2.9 8.9-4.5 13.3c-1.6 4.4-3.4 8.7-5.1 13.1c-1.7 4.4-3.7 9.1-5.2 13.2c-1.4 4.1-2.3 7.5-3.6 11.3c-1.4 3.8-3.1 8.9-4.3 11.7c-1.2 2.7-1.8 3.1-2.9 4.6c-1.1 1.6-2.5 4.3-3.9 4.6c-1.3 .4-2.7-1.7-4-2.5c-1.3-.7-1.9-.5-3.7-2.1c-1.7-1.5-4.7-4.6-6.9-7c-2.1-2.4-4.2-4.3-6.1-7.5c-2-3.1-3.7-7.7-5.6-11.5c-1.9-3.8-4.3-7.4-6-11.2c-1.6-3.8-2.8-7.7-4-11.6c-1.2-3.9-2.5-8.3-3.2-11.6c-.7-3.4-.7-5.7-1.2-8.4c-.5-2.7-1.5-4-1.6-7.8Z"/><path class="c" style="stroke-width:1.3" d="M790 1190.4c-0-3.5 .5-8.8 .7-13.3c.2-4.6 .1-9.7 .6-14.1c.4-4.4 1.5-8.3 2.1-12.3c.5-4-.3-8.3 .9-11.7c1.2-3.4 4.3-5.8 6.4-8.5c2.1-2.7 3.4-5.5 6.1-7.6c2.8-2.1 6.8-3.2 10.4-4.9c3.5-1.8 7.2-4.3 11-5.7c3.9-1.5 8.1-1.9 12.1-3c4.1-1.1 9.1-3.2 12.2-3.4c3.1-.2 4.3 1.5 6.3 2.1c2 .5 4.3 .1 5.8 1.2c1.5 1.1 2.2 3.6 3.2 5.4c1 1.8 2.2 3.3 2.9 5.7c.7 2.4 1.1 5.5 1.3 8.6c.3 3 .5 6.1 .4 9.7c-.1 3.7-.4 8.4-.9 12.4c-.5 4-1.2 7.7-2.1 11.8c-1 4.2-2.3 8.9-3.6 13c-1.3 4.2-2.6 8.1-4.1 12.1c-1.4 4-2.9 8-4.4 12c-1.5 4-2.9 7.8-4.6 11.9c-1.6 4.1-3.7 8.5-5.2 12.6c-1.6 4.1-2.7 8.4-4.1 12.1c-1.4 3.7-3 6.8-4.2 10.2c-1.3 3.5-2.4 7.9-3.5 10.5c-1.1 2.5-2.2 3.3-3.2 4.9c-1 1.6-1.4 4.3-2.6 4.7c-1.1 .3-2.9-1.8-4.2-2.5c-1.3-.8-2.1-.5-3.7-2.1c-1.6-1.5-3.7-5.1-5.7-7.4c-2-2.2-4.1-3.3-6.1-6.2c-2-2.8-4.2-7.4-6-11c-1.9-3.6-3.7-7.1-5.2-10.7c-1.4-3.5-2.5-7.2-3.6-10.7c-1.1-3.5-2.3-7.4-3.1-10.4c-.7-2.9-1.1-4.7-1.5-7.3c-.4-2.5-.8-4.5-.8-8.1Z"/><path class="c" style="stroke-width:1.3" d="M794 1187.8c-0-3.3 .5-8.1 .7-12.4c.2-4.3 .1-9.4 .4-13.5c.4-4 1.1-7.1 1.6-10.8c.5-3.8 .5-8.4 1.6-11.5c1.1-3.2 3.3-4.8 5.1-7.3c1.7-2.5 2.9-5.6 5.6-7.7c2.6-2.2 6.9-3.3 10.3-5c3.4-1.6 6.4-3.6 9.9-4.9c3.6-1.4 7.8-2 11.6-3c3.9-1.1 8.6-2.9 11.3-3.2c2.8-.2 3.3 1.2 5.2 1.6c1.9 .5 4.8 .1 6.4 1.1c1.5 1 2 3.1 2.9 4.9c.9 1.7 1.8 3.2 2.4 5.6c.6 2.3 .8 5.6 1.1 8.5c.3 2.8 .7 5 .5 8.4c-.1 3.5-1 8.2-1.5 12.1c-.5 3.9-.8 7.5-1.6 11.4c-.8 3.8-2 7.9-3.3 11.8c-1.2 3.9-3 7.6-4.3 11.4c-1.3 3.8-2.2 7.7-3.6 11.4c-1.3 3.8-3.3 7.3-4.7 11c-1.5 3.8-2.7 7.6-4.1 11.4c-1.4 3.7-3.2 7.5-4.4 11.1c-1.3 3.6-2.2 7.1-3.3 10.4c-1.2 3.4-2.5 7.4-3.6 9.7c-1.1 2.4-2 3.1-3 4.6c-1 1.4-1.7 3.8-2.8 4.1c-1.1 .3-2.7-1.6-3.8-2.3c-1.1-.8-1.3-.7-2.8-2.2c-1.5-1.5-4.3-4.6-6.2-6.7c-1.9-2-3.3-3-5-5.6c-1.8-2.7-3.9-7.1-5.6-10.4c-1.7-3.3-3.1-6.2-4.5-9.5c-1.4-3.3-2.7-6.7-3.9-10.2c-1.1-3.4-2.4-7.4-3.1-10.2c-.6-2.9-.4-4.5-.6-6.8c-.3-2.4-.9-4-.9-7.3Z"/><path class="c" style="stroke-width:1.4" d="M797.1 1185.6c-.1-3.1 .5-8.3 .7-12.3c.2-4.1 .2-8.3 .6-12.1c.4-3.8 1.2-7.2 1.7-10.7c.6-3.5 .4-7.7 1.5-10.6c1-2.8 3.2-4.3 4.9-6.6c1.7-2.4 2.7-5.5 5.2-7.6c2.4-2 6.3-3.4 9.4-4.9c3.2-1.5 6.3-2.9 9.5-4.1c3.3-1.3 6.7-2.6 10.2-3.6c3.6-1 8.3-2.3 11.1-2.4c2.7-.2 3.5 .9 5.2 1.5c1.8 .5 4 .7 5.3 1.7c1.2 1 1.2 2.7 2 4.2c.9 1.5 2.2 2.5 2.9 4.6c.7 2.1 1 5.4 1.2 8.1c.3 2.7 .5 4.9 .3 8.2c-.2 3.3-.9 7.9-1.4 11.6c-.5 3.8-.6 7.3-1.4 11c-.9 3.7-2.6 7.5-3.7 11.1c-1.1 3.7-1.7 7.3-3 10.8c-1.2 3.5-3.2 6.9-4.6 10.3c-1.3 3.4-2.2 6.8-3.4 10.2c-1.2 3.4-2.7 6.9-4 10.4c-1.3 3.5-2.8 7.6-4 10.8c-1.2 3.3-2 5.7-3.1 8.7c-1.1 3.1-2.6 7.4-3.7 9.6c-1.1 2.2-1.8 2.3-2.6 3.5c-.9 1.3-1.6 3.6-2.5 3.9c-.9 .2-2.1-1.6-3.2-2.2c-1.1-.6-1.9-.3-3.3-1.5c-1.4-1.3-3.2-4-4.9-6c-1.8-2-4-3.5-5.8-6.1c-1.7-2.5-3.1-6.2-4.6-9.2c-1.5-3.1-3.3-6-4.5-9c-1.2-3-1.6-5.8-2.5-8.9c-1-3-2.3-6.7-3.1-9.4c-.7-2.7-1.1-4.4-1.5-6.5c-.4-2.2-.9-3.4-.9-6.5Z"/><path class="c" style="stroke-width:1.4" d="M801 1183.3c-.1-2.9-.1-7.5 .2-11.3c.2-3.8 .8-7.9 1.1-11.5c.3-3.6 .5-6.9 .9-10.3c.3-3.4 .3-7.5 1.4-10.2c1-2.7 3.3-3.8 4.9-5.8c1.6-2.1 2.8-4.6 4.9-6.4c2.2-1.9 5.1-3.1 8-4.7c2.8-1.5 5.9-3.3 9.1-4.6c3.2-1.2 6.7-2 10-3c3.3-.9 7.3-2.5 9.8-2.6c2.4-.2 3.3 1.1 5 1.6c1.6 .5 3.5 .3 4.7 1.2c1.2 .9 1.5 2.6 2.3 4.1c.8 1.4 2.1 2.6 2.6 4.6c.5 2.1 .1 5.2 .4 7.7c.2 2.6 1 4.5 1 7.5c0 3-.6 7-1.1 10.5c-.4 3.6-.6 7.2-1.5 10.7c-.8 3.4-2.4 6.8-3.6 10.1c-1.1 3.3-1.9 6.5-3.1 9.8c-1.2 3.2-2.9 6.6-4.1 9.8c-1.2 3.2-2.1 6.3-3.2 9.5c-1.2 3.2-2.5 6.6-3.6 9.7c-1.2 3.2-2.4 6.4-3.5 9.4c-1.1 3.1-2.1 6.1-3.1 9c-1 2.8-2.1 6.2-3.1 8.2c-.9 2-1.9 2.6-2.8 3.9c-.9 1.2-1.6 3.2-2.5 3.3c-.8 .2-1.8-1.6-2.8-2.3c-1-.6-1.8-.4-3-1.6c-1.3-1.2-3-3.6-4.6-5.5c-1.5-1.8-3.2-3.3-4.8-5.5c-1.6-2.3-3.4-5.2-4.8-8c-1.4-2.7-2.4-5.6-3.6-8.4c-1.1-2.8-2.4-5.3-3.4-8.3c-1-2.9-1.8-6.7-2.4-9.2c-.6-2.5-1-3.9-1.3-5.8c-.3-1.9-.4-2.8-.4-5.6Z"/><path class="c" style="stroke-width:1.5" d="M804.3 1180.4c-0-2.6 .5-6.7 .7-10.2c.3-3.4 .5-7.2 .7-10.5c.2-3.3 .2-6 .6-9.2c.3-3.1 .7-7 1.6-9.6c.9-2.6 2.4-4.1 3.8-6.1c1.4-1.9 2.5-3.8 4.6-5.6c2.1-1.7 5.3-3.2 8-4.8c2.7-1.6 5.4-3.5 8.2-4.7c2.8-1.1 5.7-1.3 8.6-2.1c3-.8 6.9-2.5 9.2-2.6c2.4-.2 3.4 1.3 4.9 1.7c1.6 .4 3.3-.2 4.4 .7c1.1 1 1.7 3.3 2.4 4.7c.7 1.5 1.3 2.1 1.7 3.9c.4 1.7 .5 4.1 .7 6.5c.3 2.4 1 5 1 7.9c-0 2.9-.7 6.4-1.1 9.6c-.3 3.3-.2 6.7-1 9.9c-.8 3.2-2.5 6.2-3.6 9.3c-1.2 3.2-2.1 6.5-3.2 9.6c-1 3.2-1.8 6.3-2.9 9.3c-1.1 2.9-2.7 5.7-3.9 8.5c-1.2 2.9-2.2 5.8-3.3 8.7c-1.2 3-2.6 6.3-3.6 9.1c-.9 2.7-1.3 5-2.1 7.5c-.9 2.5-2.1 5.5-2.9 7.3c-.8 1.8-1.3 2.3-2.1 3.4c-.7 1.1-1.4 2.8-2.3 3.1c-.9 .3-2.2-.7-3.2-1.3c-.9-.6-1.4-1-2.6-2.2c-1.2-1.1-3-3-4.5-4.6c-1.5-1.6-3.1-3.1-4.5-5.2c-1.3-2.1-2.2-4.9-3.5-7.4c-1.2-2.5-2.9-5-4-7.6c-1.2-2.6-2.2-5.3-3-7.9c-.8-2.7-1.3-5.8-1.8-8.1c-.5-2.2-.7-3.8-1-5.6c-.4-1.9-1-2.8-1-5.4Z"/><path class="c" style="stroke-width:1.6" d="M807.6 1177.9c-.1-2.5 .2-6.4 .3-9.6c.2-3.1 .3-6.4 .6-9.4c.2-3 .7-5.7 1-8.6c.4-2.9 .1-6.4 1-8.8c.9-2.4 3.1-3.8 4.5-5.6c1.4-1.8 1.9-3.7 3.8-5.4c1.9-1.6 5-3.1 7.4-4.4c2.4-1.4 4.5-2.8 7.1-3.8c2.5-1 5.4-1.7 8.1-2.4c2.8-.7 6.4-1.8 8.5-2c2-.2 2.5 .6 3.9 .9c1.4 .3 3.4 .3 4.4 1.1c1.1 .7 1.1 2.2 1.8 3.5c.7 1.2 1.8 2.1 2.3 3.9c.6 1.7 .8 4.6 1 6.7c.2 2.2 .5 3.4 .3 6.1c-.1 2.7-.8 6.8-1.1 10c-.4 3.2-.4 6.2-1 9.2c-.6 3-1.7 6.1-2.6 9c-1 3-2.1 5.7-3.2 8.5c-1.1 2.7-2.4 5.5-3.6 8.2c-1.1 2.7-2.1 5.4-3.1 8.1c-.9 2.6-1.5 5.1-2.5 7.7c-1 2.5-2.5 5.1-3.5 7.6c-1 2.4-1.5 4.6-2.3 7c-.9 2.3-1.8 5.1-2.6 6.8c-.9 1.8-1.7 2.5-2.3 3.5c-.6 1.1-.7 2.6-1.4 2.8c-.7 .3-1.8-.8-2.7-1.3c-.8-.5-1.3-.5-2.5-1.6c-1.2-1.1-3.1-3.4-4.5-4.9c-1.3-1.6-2.3-2.4-3.5-4.2c-1.2-1.8-2.7-4.4-3.9-6.8c-1.2-2.3-2.5-4.8-3.4-7.2c-.9-2.4-1.2-4.8-2-7.2c-.7-2.4-1.8-5.1-2.4-7.1c-.5-2-.6-3.2-.9-4.9c-.3-1.8-.9-3-1-5.4Z"/><path class="c" style="stroke-width:1.6" d="M811.1 1175.5c-0-2.2 .5-5.5 .7-8.4c.1-2.9 0-6 .2-8.8c.1-2.8 .3-5.4 .6-8.1c.4-2.7 .6-5.7 1.5-8c.9-2.2 2.6-3.9 3.7-5.7c1.2-1.8 1.5-3.7 3.2-5.1c1.7-1.4 4.9-2.1 7.2-3.4c2.2-1.3 3.8-3.5 6.1-4.6c2.2-1 5-1 7.6-1.6c2.6-.6 6-1.8 7.9-2c2-.1 2.7 .9 3.8 1.1c1.2 .3 2.1-.1 3 .7c.9 .7 1.8 2.6 2.6 3.8c.7 1.2 1.5 1.8 1.9 3.3c.4 1.4 .6 3.5 .7 5.5c.2 1.9 .2 3.6 .2 6.3c-.1 2.6-.2 6.4-.5 9.4c-.3 3-.8 5.7-1.5 8.5c-.7 2.8-1.9 5.7-2.9 8.4c-.9 2.6-1.9 4.7-2.8 7.3c-.9 2.5-1.5 5.5-2.5 8c-.9 2.4-2.3 4.5-3.3 6.9c-1 2.4-1.7 5-2.6 7.4c-1 2.4-2 4.8-2.9 7.1c-.8 2.2-1.7 4.4-2.4 6.4c-.7 2-1.2 4.3-1.8 5.8c-.7 1.4-1.3 2-2 2.9c-.6 .8-1 2.1-1.7 2.2c-.8 .2-1.9-1-2.6-1.4c-.8-.3-.9 .2-1.9-.6c-1-.8-2.9-2.7-4.1-4.1c-1.2-1.5-2-2.7-3.1-4.6c-1.1-1.8-2.4-4.3-3.4-6.4c-1.1-2.1-2.1-4-3-6.1c-.8-2.1-1.3-4.3-2.1-6.4c-.8-2.1-2-4.6-2.5-6.4c-.4-1.8-.1-3.1-.4-4.6c-.2-1.6-.8-2.6-.9-4.7Z"/><path class="c" style="stroke-width:1.7" d="M814.6 1172.9c-0-2-.2-5.2-0-7.8c.1-2.7 .5-5.7 .8-8.2c.3-2.5 .6-4.4 .8-6.8c.3-2.4-.1-5.5 .6-7.5c.6-2 2.2-3.1 3.3-4.6c1.2-1.5 2.1-3.2 3.7-4.7c1.5-1.4 3.7-2.7 5.6-3.9c2-1.3 3.7-2.7 5.8-3.6c2.1-.9 4.3-1.3 6.7-2c2.4-.6 5.8-1.7 7.5-1.9c1.7-.3 1.7 .4 2.7 .7c1.1 .2 2.9 .2 3.8 .8c.8 .7 .9 2 1.4 3.1c.5 1 1.1 1.6 1.6 3.2c.4 1.5 1 4 1.3 5.9c.2 2 .3 3.5 .2 5.8c-.2 2.3-.8 5.5-1.2 8.2c-.4 2.7-.5 5.5-1.1 8.2c-.6 2.6-1.6 5.4-2.4 7.8c-.9 2.3-1.9 4-2.7 6.3c-.8 2.3-1.2 5.1-2 7.2c-.9 2.2-2.1 3.8-3 5.9c-.9 2.1-1.5 4.5-2.3 6.7c-.9 2.2-1.8 4.6-2.6 6.6c-.8 2-1.7 3.4-2.3 5.2c-.6 1.8-1 4.2-1.6 5.6c-.5 1.3-1.2 1.6-1.8 2.4c-.6 .8-1.1 2.2-1.8 2.3c-.6 .2-1.4-.9-2.1-1.4c-.7-.4-1.1-.5-2-1.2c-.9-.7-2.3-1.7-3.3-3c-.9-1.2-1.5-2.8-2.5-4.3c-1-1.6-2.6-3.2-3.5-5c-1-1.7-1.6-3.7-2.2-5.6c-.7-2-1.3-4.2-1.9-6.1c-.7-1.9-1.4-3.8-2-5.4c-.5-1.7-.9-3.1-1.1-4.6c-.3-1.5-.3-2.3-.4-4.3Z"/><path class="c" style="stroke-width:1.8" d="M817.9 1170.9c-.1-1.7 .2-4.9 .3-7.3c.1-2.5 .3-4.9 .4-7.2c.2-2.3 .4-4.4 .6-6.6c.2-2.2 .2-4.8 .7-6.6c.6-1.8 1.6-2.7 2.6-4.3c1.1-1.5 2.3-3.6 3.7-4.9c1.4-1.4 3-1.9 4.7-3.1c1.7-1.1 3.5-2.9 5.4-3.8c2-1 4-1.4 6.1-1.8c2.1-.5 5.1-1 6.6-1c1.4-.1 1.3 .3 2.3 .6c.9 .2 2.8 .3 3.5 .8c.8 .6 .6 1.6 1.1 2.6c.4 1 1.2 1.9 1.6 3.3c.5 1.4 .8 3.5 1.1 5.1c.2 1.6 .5 2.4 .4 4.5c-.1 2.2-.6 5.6-1 8.2c-.4 2.5-.9 4.7-1.5 7.1c-.6 2.4-1.4 4.9-2.1 7.2c-.7 2.3-1.1 4.5-1.9 6.6c-.8 2.1-1.9 4-2.8 5.9c-.9 1.9-1.8 3.7-2.6 5.5c-.7 1.8-1.3 3.5-2 5.4c-.6 1.8-1.3 4.1-1.9 5.8c-.6 1.8-.8 3.1-1.5 4.7c-.6 1.6-1.8 4-2.3 5.2c-.6 1.1-.5 1.4-1 2c-.4 .5-1.1 1.3-1.6 1.3c-.6 .1-1-.6-1.6-.9c-.6-.3-1.2-.3-2-1c-.8-.6-1.8-2-2.7-2.9c-.9-1-1.7-1.4-2.7-2.8c-.9-1.4-2.1-3.8-3-5.5c-.9-1.6-1.6-2.8-2.2-4.5c-.6-1.6-.9-3.5-1.6-5.3c-.6-1.8-1.8-3.9-2.2-5.4c-.4-1.5 0-2.5-.2-3.6c-.1-1.1-.7-1.5-.7-3.3Z"/><path class="c" style="stroke-width:1.8" d="M821.5 1168.5c-0-1.6-0-4.3 0-6.4c.1-2.1 .4-4.1 .5-6.2c.1-2 .2-4 .3-6c.2-2.1 .3-4.7 .7-6.3c.5-1.7 1.4-2.4 2.2-3.8c.8-1.3 1.4-3 2.6-4.2c1.3-1.2 3.2-2 4.9-3c1.6-1 3.2-2.2 4.9-3c1.7-.9 3.6-1.6 5.3-2.1c1.7-.6 3.7-1.4 5-1.5c1.3-0 1.9 .7 2.8 1c.9 .2 2-0 2.6 .6c.6 .5 .7 2.1 1.2 2.9c.5 .8 1.3 .9 1.6 2c.3 1.1 .2 2.9 .3 4.5c.1 1.6 .3 3.1 .3 5.1c-0 2-.2 4.5-.4 6.9c-.2 2.3-.3 4.9-.8 7.2c-.5 2.3-1.6 4.6-2.3 6.6c-.7 1.9-1.3 3.1-2 4.9c-.7 1.8-1.3 4.1-2 5.8c-.6 1.7-1.3 2.6-2 4.2c-.6 1.6-1.2 3.6-1.9 5.3c-.7 1.6-1.6 3.2-2.2 4.7c-.6 1.5-1 2.9-1.5 4.3c-.5 1.3-1 3.1-1.4 4c-.4 .9-.7 1-1.2 1.5c-.5 .6-1.3 1.7-1.8 1.9c-.5 .1-.7-.6-1.1-.9c-.4-.3-.6-.2-1.3-.8c-.7-.7-2.1-2.2-3-3c-.9-.9-1.7-1.1-2.5-2.3c-.8-1.2-1.6-3.4-2.2-4.8c-.6-1.5-1-2.6-1.5-3.9c-.6-1.4-1.1-2.6-1.7-4.1c-.6-1.5-1.7-3.6-2.1-4.9c-.4-1.3-.2-2-.2-3c-.1-1-.1-1.6-.1-3.2Z"/><path class="c" style="stroke-width:1.9" d="M824.2 1165.5c0-1.3 .5-2.8 .6-4.6c.2-1.8 .2-4.2 .2-6.1c.1-1.9 .2-3.5 .3-5.2c.2-1.8 .2-4 .7-5.4c.5-1.4 1.7-2.1 2.4-3.3c.7-1.1 .9-2.6 2-3.8c1.1-1.2 2.9-2.3 4.3-3.3c1.4-1 2.7-2.3 4.1-3c1.4-.7 2.7-.8 4.2-1.2c1.4-.4 3.5-1.2 4.6-1.3c1.2-.2 1.6 .2 2.3 .4c.8 .3 1.7 .4 2.2 .9c.5 .6 .4 1.6 .8 2.3c.4 .7 1.4 .9 1.7 1.9c.3 .9-.1 2.5 0 3.9c.1 1.4 .5 2.6 .5 4.5c0 1.8-0 4.4-.3 6.6c-.3 2.2-.8 4.5-1.3 6.6c-.5 2.1-1 4.1-1.5 5.9c-.6 1.7-1.1 3.2-1.8 4.7c-.6 1.5-1.5 2.9-2.1 4.4c-.7 1.4-1.3 2.9-1.9 4.3c-.6 1.3-1.3 2.6-1.9 3.9c-.5 1.3-1 2.7-1.4 4c-.4 1.2-.5 2.5-.8 3.6c-.4 1-1 2.2-1.4 3c-.5 .7-1 .8-1.3 1.3c-.3 .5-.2 1.4-.6 1.5c-.4 .2-1.1-.4-1.6-.6c-.5-.3-1-.2-1.5-.6c-.5-.5-.9-1.5-1.5-2.3c-.7-.9-1.8-1.8-2.5-2.8c-.7-1-1-2-1.7-3.1c-.6-1.2-1.6-2.8-2.1-3.9c-.6-1.2-.6-2-1.1-3.1c-.5-1.2-1.4-2.7-1.7-3.9c-.4-1.2-.2-2.4-.3-3.4c-.2-1-.6-1.6-.6-2.8Z"/><path class="c" style="stroke-width:2" d="M827.9 1163c-.2-1.1-.4-2.3-.3-3.8c0-1.5 .6-3.7 .7-5.3c.2-1.6 0-2.8 .1-4.3c.1-1.6 .1-3.8 .5-5.1c.4-1.3 1-1.6 1.6-2.7c.6-1.1 1.1-2.8 2-3.8c.9-1.1 2.3-1.5 3.5-2.3c1.1-.9 2.4-2.2 3.6-2.9c1.2-.8 2.4-1.3 3.7-1.7c1.3-.3 3.2-.4 4.1-.5c.9-.1 .8-0 1.4 .2c.5 .2 1.4 .6 1.9 1.1c.5 .4 .7 1 1.1 1.5c.3 .6 .9 1 1.1 1.9c.2 .9-0 2.2 .1 3.4c.1 1.3 .6 2.4 .6 4.1c-.1 1.6-.5 3.9-.8 5.9c-.2 1.9-.5 3.9-.9 5.7c-.5 1.8-1.1 3.6-1.6 5.2c-.5 1.6-.9 3.2-1.4 4.6c-.5 1.3-1.1 2.2-1.6 3.2c-.5 1.1-.9 2-1.4 3.1c-.4 1.1-1 2.6-1.5 3.7c-.4 1.1-.9 1.9-1.3 2.8c-.4 1-.7 1.8-1 2.8c-.3 .9-.6 2-.9 2.7c-.3 .8-.8 1.3-1.1 1.7c-.3 .4-.5 .8-.8 .8c-.3-.1-.6-.8-1-.9c-.4-.2-.8 0-1.3-.3c-.5-.3-1.4-1.1-1.8-1.7c-.5-.6-.6-1.1-1-1.9c-.4-.8-1.1-1.7-1.6-2.8c-.6-1-1.4-2.5-1.8-3.5c-.5-1-.8-1.5-1.2-2.4c-.3-.9-.9-2.1-1.1-3.1c-.2-1-.1-1.9-.2-2.8c-.1-.9-.3-1.5-.4-2.6Z"/><path class="c" style="stroke-width:2" d="M831 1160.8c.1-.9 .4-2.2 .4-3.4c-.1-1.2-.6-2.6-.6-4c.1-1.3 .9-2.8 1.1-4.1c.2-1.4-.4-3.1-.1-4.1c.3-1.1 1.4-1.6 1.9-2.5c.5-.9 .5-2.2 1.1-3.1c.7-.9 1.9-1.7 2.8-2.4c.9-.8 1.6-1.7 2.6-2.3c.9-.7 2.2-1.4 3.3-1.8c1-.4 2.1-.7 2.9-.7c.8-0 1.5 .4 2 .7c.5 .3 .6 .5 .9 .9c.4 .3 1 .7 1.3 1.2c.4 .5 .6 1 .7 1.8c.2 .8 .2 2 .3 3c0 1 .1 1.5 .1 2.9c-0 1.4-0 3.6-.2 5.4c-.2 1.8-.7 3.8-1 5.5c-.4 1.6-.9 3.1-1.3 4.4c-.4 1.3-.8 2.3-1.3 3.5c-.5 1.1-1.3 2.4-1.7 3.3c-.4 .8-.4 1.2-.8 2c-.4 .8-1.1 2-1.4 2.8c-.4 .8-.4 1.3-.7 2c-.3 .8-1 1.9-1.3 2.6c-.2 .8 0 1.4-.2 1.9c-.1 .4-.6 .5-.8 .8c-.2 .3-.3 1.1-.6 1.2c-.2 .1-.7-.4-1-.6c-.4-.2-.7-.2-1.1-.6c-.3-.4-.5-1.4-.9-1.9c-.5-.4-1.3-.2-1.8-.7c-.4-.5-.4-1.4-.7-2.3c-.4-.8-1.1-2.1-1.4-2.8c-.4-.8-.6-1-.9-1.8c-.3-.8-.6-2.3-.8-3c-.3-.8-.6-.8-.7-1.4c-.1-.7-.1-1.4-.1-2.4Z"/><path class="c" style="stroke-width:2.1" d="M834.4 1158.5c0-.8 0-1.6 0-2.6c0-.9-.1-2.1-0-3.1c0-1.1 .2-1.9 .3-3.1c.1-1.2 .1-3 .4-3.9c.2-1 .5-1.2 .9-2c.4-.7 1.1-1.7 1.6-2.6c.6-.8 1.1-1.4 1.7-2.2c.7-.8 1.3-1.8 2-2.5c.8-.7 1.6-1.4 2.5-1.6c.9-.3 2.2-.1 2.8-.1c.6 0 .4-.1 .7 0c.3 .2 .8 .7 1.1 1c.4 .3 .6 .5 .8 .9c.2 .3 .4 .7 .6 1.3c.2 .7 .5 1.7 .6 2.6c.1 1 .1 1.8-.1 3.1c-.1 1.2-.4 3.1-.6 4.7c-.2 1.5-.5 3-.8 4.5c-.3 1.5-.7 3.2-1.1 4.2c-.4 1.1-.9 1.5-1.3 2.3c-.4 .8-.7 1.8-.9 2.6c-.3 .7-.3 1.3-.7 1.9c-.3 .5-1.1 .9-1.5 1.4c-.3 .5-.5 1.1-.7 1.7c-.1 .5-.1 1.2-.3 1.6c-.2 .4-.6 .4-.8 .6c-.1 .3-.1 .4-.2 .7c-.2 .3-.3 1.1-.5 1.3c-.2 .1-.6-.3-.7-.5c-.1-.2 .2-.5-0-.8c-.3-.2-1.1-.6-1.4-.8c-.4-.3-.4-.4-.7-.8c-.4-.3-1-1-1.3-1.5c-.4-.6-.8-1.2-1-1.8c-.2-.5-.2-.9-.4-1.4c-.1-.6-.1-1.4-.3-1.9c-.1-.6-.4-.7-.5-1.2c-.2-.5-.1-1.3-.2-2Z"/><path class="c" style="stroke-width:2.1" d="M837.7 1156.3c0-.5 .3-1.4 .3-2.1c-.1-.7-.7-1.4-.8-2.1c0-.8 .5-1.7 .6-2.6c.1-.9 .1-2.2 .3-3.1c.2-.8 .5-1.1 .8-1.8c.2-.8 .3-1.9 .6-2.7c.3-.7 .8-1.1 1.3-1.8c.5-.6 1.2-1.8 1.8-2.2c.7-.5 1.4-.4 2-.6c.5-.2 .9-.7 1.2-.8c.4-.1 .6 .2 .9 .4c.2 .1 .3 .3 .5 .5c.2 .3 .5 .7 .6 1.1c.2 .3 .3 .4 .3 .9c.1 .4 0 .9 .1 1.7c.1 .8 .2 1.7 .3 2.8c.1 1.1 .5 2.5 .3 3.9c-.2 1.4-.9 3.2-1.3 4.4c-.4 1.3-.8 2.1-1.1 3c-.3 1-.5 1.9-.8 2.6c-.3 .6-.8 .9-1.1 1.2c-.4 .4-.6 .7-.8 1c-.1 .2-.1 .5-.2 .7c-.1 .3-.4 .5-.5 .8c-.1 .3 .1 .8 0 1.1c-.1 .3-.4 .6-.5 .7c-.2 .1-.4 .1-.5 .1c-.2 .1-.5 .2-.5 .2c-0 0 .5-.1 .4-.2c0-0-.4-.2-.5-.2c-.2-.1-.2 0-.5-.1c-.2-.2-.6-.6-.8-.8c-.3-.2-.3-.3-.5-.6c-.1-.3-.2-.9-.4-1.3c-.2-.4-.6-.5-.8-.9c-.1-.4-.3-1.1-.3-1.4c-.1-.4-.1-.4-.2-.7c-.1-.3-.2-.6-.2-1.1Z"/><path class="c" style="stroke-width:2.2" d="M840.7 1154.1c-0-.3 .3-1.1 .3-1.5c-.1-.5-.6-.8-.6-1.3c.1-.6 .7-1.3 .7-2c.1-.7-.5-1.5-.4-2.2c.1-.7 .7-1.3 .9-2c.3-.7 .3-1.3 .5-1.9c.2-.6 .5-1.3 .7-1.9c.2-.5 .3-.9 .6-1.3c.3-.4 1-.6 1.4-.9c.4-.2 .7-.6 .9-.6c.2 0 .1 .5 .2 .7c-0 .2-.1 .2-.1 .3c.1 .2 .3 .3 .5 .5c.2 .3 .5 .7 .6 1c.2 .3 .2 .3 .2 .9c.1 .6 0 1.7-.1 2.6c-.1 1-.3 2-.5 3.2c-.2 1.2-.5 3-.7 4.1c-.2 1-.3 1.7-.6 2.2c-.3 .6-.7 .9-1 1.2c-.2 .4-.4 .6-.5 .8c-.2 .3-.1 .7-.2 .8c-.1 0-.2-.3-.2-.4c-0-0 .2 .1 .1 .1c-.1 0-.5-.1-.7-.1c-.1-0-0 .2-.1 .2c0-0-0-.4-.1-.3c-0 0-.2 .5-.1 .5c.1 0 .5-.3 .6-.3c0-0-.2 .2-.4 .2c-.1 .1-.3 .3-.4 .2c-.1-.1-.2-.8-.3-.8c-.1-.1-.1 .2-.1 .2c0 .1 .2-.1 .1-.2c-.1-.2-.4-.5-.5-.6c-.1-.2-.2-.1-.2-.2c0-.2 .2-.6 .1-.8c-.1-.2-.5-.1-.6-.4Z"/>
<path d="M812.2 1141.2c.8-6.1 2.7-12.5 7.6-17c4.9-4.4 15.1-7.6 21.8-9.8c6.8-2.1 14.1-4.1 18.6-3.2c4.6 .9 7 3.2 8.5 8.8c1.6 5.6 1.3 16.3 .7 24.5c-.7 8.2-2.4 16.3-4.6 24.5c-2.2 8.1-5.4 17.7-8.5 24.5c-3 6.8-6.8 16.3-9.8 16.3c-3-0-4.9-10.9-8.1-16.3c-3.3-5.5-7.7-10.9-11.5-16.4c-3.8-5.4-8.9-10.3-11.4-16.3c-2.4-6-4-13.5-3.3-19.6Z" fill="#000" fill-opacity="0.85"/>
<ellipse cx="843.3" cy="1143.2" rx="4.2" ry="6" fill="#fff" stroke="#000" stroke-width="1"/>
<ellipse cx="842.6" cy="1152.7" rx="3.6" ry="4.5" fill="none" stroke="#fff" stroke-width="0.9"/>
<ellipse cx="841.6" cy="1159.8" rx="4.1" ry="4.5" fill="none" stroke="#fff" stroke-width="0.9"/>
<ellipse cx="840.7" cy="1167" rx="4.6" ry="4.5" fill="none" stroke="#fff" stroke-width="0.9"/>
<ellipse cx="839.7" cy="1174.2" rx="5.1" ry="4.5" fill="none" stroke="#fff" stroke-width="0.9"/>
<ellipse cx="838.7" cy="1181.4" rx="5.6" ry="4.5" fill="none" stroke="#fff" stroke-width="0.9"/>
<path d="M818.8 1138c.4 2.7 1.4 10.8 2.6 16.3c1.2 5.4 3.8 13.6 4.6 16.3" fill="none" stroke="#fff" stroke-width="0.8" stroke-dasharray="3 4"/>
<path d="M825.3 1138c.4 2.7 1.4 10.8 2.6 16.3c1.2 5.4 3.8 13.6 4.6 16.3" fill="none" stroke="#fff" stroke-width="0.8" stroke-dasharray="3 4"/>
<path d="M831.8 1138c.5 2.7 1.5 10.8 2.6 16.3c1.2 5.4 3.9 13.6 4.6 16.3" fill="none" stroke="#fff" stroke-width="0.8" stroke-dasharray="3 4"/>
<clipPath id="ca8"><rect x="649" y="1073.6" width="353.6" height="354.4"/></clipPath>
<g clip-path="url(#ca8)">
<path d="M760 1428.6c.5-.8 .3-3.6 3.3-4.9c3-1.3 6.2-2.3 14.7-3c8.4-.6 24.4-.9 35.9-.9c11.4-.1 26.4-0 32.6 .6c6.3 .7 3.7 1.9 4.9 3.3c1.2 1.3 1.9 4.1 2.3 4.9Z" fill="#000"/>
<path class="c" d="M760 1428.6c.4-.7 .1-2.7 2.3-3.9c2.2-1.2 7.6-2.7 10.8-3.3c3.1-.7 6.8-.6 8.1-.7"/>
<path class="c" d="M760 1428.6c.8-.6 2.3-2.5 4.9-3.6c2.6-1.1 8.1-2.3 10.8-3c2.7-.7 4.6-1 5.5-1.3"/>
<path class="c" d="M760 1428.6c1.3-.6 4.5-2.3 7.5-3.3c3.1-1 8.5-1.8 10.8-2.6c2.3-.8 2.4-1.6 2.9-2"/>
<path class="c" style="stroke-width:1.2" d="M649 1125c.6 1.7 2.8 5 3.9 10c1.1 5 2.2 5 2.6 20c.4 15 .4 54.2 0 70c-.4 15.8-1.5 19.2-2.6 25c-1.1 5.8-3.2 8.3-3.9 10"/>
<path class="c" style="stroke-width:1.2" d="M649 1150c.5 1.7 2.2 5 3 10c.8 5 1.7 11.7 2 20c.3 8.3 .3 20.8 0 30c-.3 9.2-1.2 19.2-2 25c-.8 5.8-2.5 8.3-3 10"/>
<path class="c" style="stroke-width:1.2" d="M649 1160c.8 1.7 3.5 5 4.8 10c1.3 5 2.7 19.2 3.2 20c.5 .8 .5-16.7 0-15c-.5 1.7-1.9 19.2-3.2 25c-1.3 5.8-4 8.3-4.8 10"/>
<path class="c" style="stroke-width:1.2" d="M649 1165c.4 1.7 1.5 5 2.1 10c.6 5 1.2 16.7 1.4 20c.2 3.3 .2-4.2 0 0c-.2 4.2-.8 19.2-1.4 25c-.6 5.8-1.8 8.3-2.1 10"/>
<ellipse cx="654" cy="1183" rx="3.5" ry="9" fill="#444"/>
<path class="c" style="stroke-width:1.2" d="M649 1418c.7 .3 2.8 .7 4 2c1.2 1.3 2.5 4.3 3 6c.5 1.7 0 3.3 0 4"/>
</g>
<rect class="ax" x="649" y="1073.6" width="353.6" height="354.4"/>
<path class="tk" d="M649 1428h-10M649 1363.3h-10M649 1298.6h-10M649 1233.6h-10M649 1169h-10M649 1104.3h-10"/>
<path class="tm" d="M649 1408.5h-4M649 1397.1h-4M649 1389h-4M649 1382.8h-4M649 1377.7h-4M649 1373.3h-4M649 1369.6h-4M649 1366.3h-4M649 1343.8h-4M649 1332.4h-4M649 1324.3h-4M649 1318.1h-4M649 1313h-4M649 1308.6h-4M649 1304.9h-4M649 1301.6h-4M649 1279.1h-4M649 1267.7h-4M649 1259.6h-4M649 1253.4h-4M649 1248.3h-4M649 1243.9h-4M649 1240.2h-4M649 1236.9h-4M649 1214.1h-4M649 1202.7h-4M649 1194.6h-4M649 1188.4h-4M649 1183.3h-4M649 1178.9h-4M649 1175.2h-4M649 1171.9h-4M649 1149.5h-4M649 1138.1h-4M649 1130h-4M649 1123.8h-4M649 1118.7h-4M649 1114.3h-4M649 1110.6h-4M649 1107.3h-4M649 1084.8h-4"/>
<text transform="translate(636 1436.8) scale(0.97 1)" font-size="25" text-anchor="end">10<tspan font-size="14.5" dy="-9">0</tspan></text>
<text transform="translate(636 1372.1) scale(0.97 1)" font-size="25" text-anchor="end">10<tspan font-size="14.5" dy="-9">1</tspan></text>
<text transform="translate(636 1307.4) scale(0.97 1)" font-size="25" text-anchor="end">10<tspan font-size="14.5" dy="-9">2</tspan></text>
<text transform="translate(636 1242.4) scale(0.97 1)" font-size="25" text-anchor="end">10<tspan font-size="14.5" dy="-9">3</tspan></text>
<text transform="translate(636 1177.8) scale(0.97 1)" font-size="25" text-anchor="end">10<tspan font-size="14.5" dy="-9">4</tspan></text>
<text transform="translate(636 1113.1) scale(0.97 1)" font-size="25" text-anchor="end">10<tspan font-size="14.5" dy="-9">5</tspan></text>
<path class="tk" d="M649 1428v10M713.3 1428v10M778 1428v10M842.3 1428v10M907 1428v10M971.6 1428v10"/>
<path class="tm" d="M668.4 1428v4M679.7 1428v4M687.7 1428v4M693.9 1428v4M699 1428v4M703.3 1428v4M707.1 1428v4M710.4 1428v4M732.7 1428v4M744 1428v4M752 1428v4M758.2 1428v4M763.3 1428v4M767.6 1428v4M771.4 1428v4M774.7 1428v4M797.4 1428v4M808.7 1428v4M816.7 1428v4M822.9 1428v4M828 1428v4M832.3 1428v4M836.1 1428v4M839.4 1428v4M861.7 1428v4M873 1428v4M881 1428v4M887.2 1428v4M892.3 1428v4M896.6 1428v4M900.4 1428v4M903.7 1428v4M926.4 1428v4M937.7 1428v4M945.7 1428v4M951.9 1428v4M957 1428v4M961.3 1428v4M965.1 1428v4M968.4 1428v4M991 1428v4"/>
<text transform="translate(654 1462.6) scale(0.97 1)" font-size="25" text-anchor="middle">10<tspan font-size="14.5" dy="-9">0</tspan></text>
<text transform="translate(718.3 1462.6) scale(0.97 1)" font-size="25" text-anchor="middle">10<tspan font-size="14.5" dy="-9">1</tspan></text>
<text transform="translate(783 1462.6) scale(0.97 1)" font-size="25" text-anchor="middle">10<tspan font-size="14.5" dy="-9">2</tspan></text>
<text transform="translate(847.3 1462.6) scale(0.97 1)" font-size="25" text-anchor="middle">10<tspan font-size="14.5" dy="-9">3</tspan></text>
<text transform="translate(912 1462.6) scale(0.97 1)" font-size="25" text-anchor="middle">10<tspan font-size="14.5" dy="-9">4</tspan></text>
<text transform="translate(976.6 1462.6) scale(0.97 1)" font-size="25" text-anchor="middle">10<tspan font-size="14.5" dy="-9">5</tspan></text>
<text x="845.9" y="1505.2" font-size="29" text-anchor="middle">CD34-Pacific Blue</text>
<text x="564.3" y="1232" font-size="29" text-anchor="middle" transform="rotate(-90 564.3 1232)">CD64</text>
<rect class="g" x="786" y="1098.4" width="111" height="68.9"/>
<rect class="g" x="784.5" y="1167.3" width="129" height="235.1"/>
<text x="921" y="1142" font-size="24.8" class="r">GMP</text>
<path class="c" style="stroke-width:1.3" d="M1230.7 1349.6c1.4-2.4 6.1-6.2 12.2-8.7c6.1-2.5 16.6-4.3 24.5-6.3c7.9-2.1 17.2-2.9 22.7-6c5.6-3 7.6-6.7 10.5-12.2c3-5.6 5.6-12.8 7-21c1.5-8.2 2.1-18.1 1.8-28c-.3-9.9-3.6-22.7-3.5-31.5c.1-8.7 1.4-16.2 4.2-21c2.8-4.8 8.6-7.4 12.6-7.7c3.9-.3 9 1.5 11.2 6c2.2 4.5 2.3 13.1 2.1 21c-.3 7.8-2.4 17.8-3.5 26.2c-1.2 8.5-3.6 16.3-3.5 24.5c.1 8.2 2.1 16.9 4.2 24.5c2.1 7.6 5.3 15.4 8.4 21c3 5.5 8.4 8.3 9.8 12.2c1.4 3.9 .8 7.9-1.4 11.2c-2.2 3.3-5.9 6.4-11.9 8.8c-6.1 2.3-15.1 4.6-24.5 5.2c-9.5 .6-22.2-.6-32.2-1.7c-10-1.2-20.1-3.5-28-5.3c-7.9-1.7-15.4-3.4-19.2-5.2c-3.8-1.9-5-3.5-3.5-6Z"/>
<path class="c" style="stroke-width:1.3" d="M1235.9 1349.6c1.4-1.8 5.7-4.9 11.2-7c5.6-2 14.5-3.5 22.1-5.2c7.5-1.8 17.6-2.4 23.4-5.3c5.8-2.9 8.3-6.4 11.5-12.2c3.3-5.8 6.5-14.6 8.1-22.8c1.6-8.1 2.1-16.3 1.7-26.2c-.3-9.9-3.8-24.5-3.8-33.2c-.1-8.8 1.4-14.9 3.5-19.3c2.1-4.3 6.3-6.7 9.1-7c2.8-.3 6.2 1.2 7.7 5.3c1.5 4.1 1.7 11.9 1.4 19.2c-.4 7.3-2.3 16.3-3.5 24.5c-1.2 8.2-3.9 16-3.9 24.5c0 8.5 1.7 18.4 3.9 26.2c2.1 7.9 6 15.6 9.1 21c3 5.5 7.8 8.2 9.1 11.6c1.3 3.4 .6 6.1-1.4 8.7c-2 2.6-5.2 5.1-10.5 7c-5.4 1.9-13 4.1-21.7 4.6c-8.8 .4-21.2-.7-30.8-1.8c-9.6-1.1-19.7-3.5-26.9-4.9c-7.3-1.4-13.3-2.2-16.5-3.5c-3.2-1.3-4.2-2.3-2.8-4.2Z"/>
<path class="c" style="stroke-width:1.3" d="M1241.2 1349.6c1.3-1.4 5.5-4.2 10.5-5.9c4.9-1.7 12-2.9 19.2-4.2c7.2-1.4 17.7-1.5 23.8-3.9c6.1-2.4 9.3-5.5 12.9-10.5c3.7-4.9 7-12.5 8.8-19.2c1.7-6.7 1.2-16.9 1.7-21c.6-4.1 1.2-3.5 1.8-3.5c.6-0 1.3-.9 1.7 3.5c.5 4.4-.7 15.2 1.1 22.7c1.7 7.6 6.3 16.8 9.4 22.8c3.2 6 8.1 9.8 9.5 13.3c1.3 3.5 .3 5.5-1.4 7.7c-1.8 2.2-4.5 4.1-9.1 5.6c-4.7 1.5-10.9 3.2-18.9 3.5c-8 .3-19.8-.7-29.1-1.8c-9.2-1-19.6-3.4-26.2-4.5c-6.6-1.1-10.7-1.4-13.3-2.1c-2.6-.8-3.8-1.1-2.4-2.5Z"/>
<path class="c" style="stroke-width:1.5" d="M1313.6 1235.9c.3-6.4 1.4-10.9 2.8-14c1.4-3 3.9-4.2 5.6-4.2c1.6 0 3.5 .6 4.2 4.2c.7 3.6 .6 11.1-0 17.5c-.6 6.4-2.2 15.9-3.5 21c-1.4 5.1-3.2 9.8-4.6 9.8c-1.4 0-3.1-4.1-3.8-9.8c-.8-5.7-1.1-18.1-.7-24.5Z"/>
<path class="c" style="stroke-width:1.5" d="M1246.4 1349.3c-.5-1.1 6-2.9 10.5-4.2c4.6-1.3 10.1-2.4 16.8-3.5c6.7-1.2 17.5-1.1 23.4-3.5c6-2.5 9.1-7 12.3-11.2c3.2-4.2 4.8-14.3 7-14c2.2 .3 3.4 11.1 6.3 15.7c2.9 4.7 8.8 8.8 11.2 12.3c2.3 3.5 3.8 6.4 2.8 8.7c-1.1 2.4-4.9 3.9-9.1 5.3c-4.3 1.3-9.2 2.6-16.5 2.8c-7.2 .1-18.3-.8-26.9-1.8c-8.6-1-18.2-3.1-24.5-4.2c-6.3-1.1-12.8-1.3-13.3-2.4Z"/>
<path class="c" style="stroke-width:1.6" d="M1251.4 1349.4c-.2-.9 5.3-2.8 9.7-4c4.4-1.1 10.5-1.7 16.7-2.8c6.3-1.1 14-2.8 21-3.7c6.9-.9 15.7-2.1 20.9-1.7c5.3 .5 8.4 2.2 10.6 4.2c2.2 2.1 3.5 6 2.6 8.1c-.8 2.1-4 3.7-7.9 4.7c-3.8 1-8.4 1.5-15.1 1.5c-6.7-0-17.3-.7-25.2-1.5c-7.9-.8-16.7-2.6-22.3-3.4c-5.5-.8-10.8-.5-11-1.4Z"/><path class="c" style="stroke-width:1.8" d="M1257 1349.1c-.3-.7 4.4-2.2 8.3-3.3c4-1 9.8-2 15.6-3c5.7-1 12.5-2.2 18.8-2.9c6.3-.7 14.3-1.7 19-1.3c4.8 .5 7.5 2.1 9.4 3.9c1.9 1.8 3 5.1 2.2 7c-.8 1.8-3.5 3.3-7 4.2c-3.4 .9-7.7 1.3-13.7 1.2c-6-.1-15.4-.8-22.5-1.6c-7.1-.8-15.1-2.5-20.1-3.2c-5.1-.7-9.8-.3-10-1Z"/><path class="c" style="stroke-width:2" d="M1262.2 1349c-.2-.7 4.1-2.2 7.6-3.1c3.6-.9 8.6-1.8 13.7-2.6c5.1-.8 11.4-1.5 17-2.2c5.7-.7 12.7-2.1 16.8-1.8c4.1 .3 6.2 1.8 7.9 3.5c1.7 1.6 3 4.9 2.3 6.6c-.7 1.6-3.3 2.5-6.4 3.3c-3 .8-6.7 1.5-12 1.6c-5.3-0-13.5-.7-19.9-1.4c-6.3-.7-13.6-2-18.1-2.7c-4.5-.6-8.7-.5-8.9-1.2Z"/><path class="c" style="stroke-width:2" d="M1267.4 1348.7c-.1-.6 4.1-1.6 7.3-2.4c3.1-.8 7-1.9 11.4-2.6c4.3-.8 10-1.3 14.9-1.9c4.9-.5 10.7-1.5 14.4-1.3c3.6 .2 5.9 1.3 7.5 2.7c1.6 1.4 2.5 4.3 1.9 5.8c-.6 1.4-2.8 2.3-5.5 3c-2.6 .8-5.7 1.7-10.4 1.7c-4.7 0-12-1-17.6-1.7c-5.5-.6-11.7-1.5-15.7-2.1c-4-.5-8-.6-8.2-1.2Z"/>
<ellipse cx="1305.9" cy="1347.9" rx="23" ry="10.5" fill="#000"/>
<ellipse cx="1306.9" cy="1348.9" rx="8" ry="1.2" fill="#fff" fill-opacity="0.7"/>
<clipPath id="ca9"><rect x="1182" y="1075" width="355.2" height="355"/></clipPath>
<g clip-path="url(#ca9)">
<ellipse cx="1182" cy="1348.5" rx="11.5" ry="14.5" fill="#000"/>
<ellipse cx="1182" cy="1348.5" rx="6" ry="9" fill="none" stroke="#fff" stroke-width="0.6"/>
</g>
<rect class="ax" x="1182" y="1075" width="355.2" height="355"/>
<path class="tk" d="M1182 1108.2h-10M1182 1193.3h-10M1182 1290.2h-10M1182 1348h-10M1182 1406.7h-10"/>
<path class="tm" d="M1182 1167.7h-4M1182 1152.7h-4M1182 1142.1h-4M1182 1133.8h-4M1182 1127.1h-4M1182 1121.4h-4M1182 1116.4h-4M1182 1112.1h-4M1182 1261h-4M1182 1244h-4M1182 1231.9h-4M1182 1222.5h-4M1182 1214.8h-4M1182 1208.3h-4M1182 1202.7h-4M1182 1197.7h-4M1182 1082.6h-4M1182 1334.1h-4M1182 1323.5h-4M1182 1315.9h-4M1182 1310h-4M1182 1305.3h-4M1182 1301.4h-4M1182 1298h-4M1182 1295.1h-4M1182 1292.5h-4M1182 1362.1h-4M1182 1372.8h-4M1182 1380.6h-4M1182 1386.6h-4M1182 1391.4h-4M1182 1395.4h-4M1182 1398.8h-4M1182 1401.7h-4M1182 1404.3h-4M1182 1422.7h-4"/>
<path class="tm" d="M1182 1338h-5.5M1182 1339.8h-5.5M1182 1341.5h-5.5M1182 1343.2h-5.5M1182 1344.7h-5.5M1182 1346h-5.5M1182 1347.2h-5.5M1182 1348.8h-5.5M1182 1350h-5.5M1182 1351.3h-5.5M1182 1352.8h-5.5M1182 1354.5h-5.5M1182 1356.2h-5.5M1182 1358h-5.5"/>
<text transform="translate(1169 1117) scale(0.97 1)" font-size="25" text-anchor="end">10<tspan font-size="14.5" dy="-9">5</tspan></text>
<text transform="translate(1169 1202.1) scale(0.97 1)" font-size="25" text-anchor="end">10<tspan font-size="14.5" dy="-9">4</tspan></text>
<text transform="translate(1169 1299) scale(0.97 1)" font-size="25" text-anchor="end">10<tspan font-size="14.5" dy="-9">3</tspan></text>
<text transform="translate(1169 1356.8) scale(0.97 1)" font-size="25" text-anchor="end">0</text>
<text transform="translate(1169 1415.5) scale(0.97 1)" font-size="25" text-anchor="end">10<tspan font-size="14.5" dy="-9">-3</tspan></text>
<path class="tk" d="M1219.5 1430v10M1290.9 1430v10M1362 1430v10M1433.6 1430v10M1504.7 1430v10"/>
<path class="tm" d="M1241 1430v4M1253.6 1430v4M1262.5 1430v4M1269.4 1430v4M1275.1 1430v4M1279.8 1430v4M1284 1430v4M1287.6 1430v4M1312.4 1430v4M1325 1430v4M1333.9 1430v4M1340.8 1430v4M1346.5 1430v4M1351.2 1430v4M1355.4 1430v4M1359 1430v4M1383.5 1430v4M1396.1 1430v4M1405 1430v4M1411.9 1430v4M1417.6 1430v4M1422.3 1430v4M1426.5 1430v4M1430.1 1430v4M1455.1 1430v4M1467.7 1430v4M1476.6 1430v4M1483.5 1430v4M1489.2 1430v4M1493.9 1430v4M1498.1 1430v4M1501.7 1430v4M1526.2 1430v4M1191.1 1430v4M1198 1430v4M1203.7 1430v4M1208.4 1430v4M1212.6 1430v4M1216.2 1430v4"/>
<text transform="translate(1224.5 1465) scale(0.97 1)" font-size="25" text-anchor="middle">10<tspan font-size="14.5" dy="-9">1</tspan></text>
<text transform="translate(1295.9 1465) scale(0.97 1)" font-size="25" text-anchor="middle">10<tspan font-size="14.5" dy="-9">2</tspan></text>
<text transform="translate(1367 1465) scale(0.97 1)" font-size="25" text-anchor="middle">10<tspan font-size="14.5" dy="-9">3</tspan></text>
<text transform="translate(1438.6 1465) scale(0.97 1)" font-size="25" text-anchor="middle">10<tspan font-size="14.5" dy="-9">4</tspan></text>
<text transform="translate(1509.7 1465) scale(0.97 1)" font-size="25" text-anchor="middle">10<tspan font-size="14.5" dy="-9">5</tspan></text>
<text x="1362" y="1507.9" font-size="29" text-anchor="middle">CD34-Pacific Blue</text>
<text x="1111" y="1248" font-size="29" text-anchor="middle" transform="rotate(-90 1111 1248)">CD135-PE</text>
<rect class="g" x="1182" y="1331" width="98.7" height="39"/>
<text x="1187" y="1419" font-size="24.8" class="r">HSC AD</text>
<text x="-3" y="1614.4" font-size="58">b</text>
<rect x="198.9" y="1584.2" width="48.2" height="28.5" fill="#fff" stroke="#000" stroke-width="4.2"/>
<text x="270" y="1605.6" font-size="28.4">Young</text>
<rect x="393.5" y="1585.8" width="48.6" height="28.1" fill="#a8a8a8" stroke="#000" stroke-width="4.2"/>
<text x="458.5" y="1608.3" font-size="28.9">Aged-PBS</text>
<rect x="638.7" y="1585.8" width="48.1" height="28.1" fill="#f4745e" stroke="#000" stroke-width="4.2"/>
<text x="704.5" y="1608.3" font-size="28.9">Aged-yEOS</text>
<rect x="141" y="1890.9" width="41.3" height="110.5" fill="#fff" stroke="#000" stroke-width="4.4"/>
<path class="b" style="stroke-width:4" d="M161.7 1889.7V1875.3M149.7 1875.3h24"/>
<rect x="203.4" y="1813.2" width="41.3" height="188.2" fill="#a8a8a8" stroke="#000" stroke-width="4.4"/>
<path class="b" style="stroke-width:4" d="M224.1 1812V1784M212.1 1784h24"/>
<rect x="266.1" y="1869.7" width="40.7" height="131.7" fill="#f4745e" stroke="#000" stroke-width="4.4"/>
<path class="b" style="stroke-width:4" d="M286.4 1868.5V1862.6M274.4 1862.6h24"/>
<path class="b" d="M130.6 1681.5V2001.4M118.6 2001.4H317.4"/>
<path class="b" style="stroke-width:4" d="M130.6 1683.7h-12M130.6 1764.7h-12M130.6 1843.7h-12M130.6 1922h-12"/>
<text transform="translate(117.5 1693.3) scale(0.92 1)" font-size="24" text-anchor="end">12</text>
<text transform="translate(117.5 1774.3) scale(0.92 1)" font-size="24" text-anchor="end">9</text>
<text transform="translate(117.5 1853.3) scale(0.92 1)" font-size="24" text-anchor="end">6</text>
<text transform="translate(117.5 1931.6) scale(0.92 1)" font-size="24" text-anchor="end">3</text>
<text transform="translate(117.5 2011) scale(0.92 1)" font-size="24" text-anchor="end">0</text>
<g class="d"><circle cx="152.5" cy="1864.2" r="4.1"/><circle cx="171" cy="1854" r="4.1"/><circle cx="152.5" cy="1899" r="4.1"/><circle cx="171" cy="1901" r="4.1"/><circle cx="161.6" cy="1926" r="4.1"/></g>
<g class="d"><circle cx="213" cy="1738" r="4.1"/><circle cx="235" cy="1738" r="4.1"/><circle cx="223.7" cy="1748.3" r="4.1"/><circle cx="214.5" cy="1832.6" r="4.1"/><circle cx="233.5" cy="1827.7" r="4.1"/><circle cx="223.7" cy="1875.3" r="4.1"/><circle cx="223.7" cy="1912.2" r="4.1"/></g>
<g class="d"><circle cx="276.6" cy="1846.3" r="4.1"/><circle cx="305.3" cy="1862.3" r="4.1"/><circle cx="295.5" cy="1865" r="4.1"/><circle cx="282.4" cy="1883" r="4.1"/><circle cx="289.6" cy="1881" r="4.1"/></g>
<path class="br" d="M157.7 1831.6V1692.8H218V1714.7"/>
<path class="br" d="M228 1714.7V1691.8H285V1827.3"/>
<text x="191.7" y="1691.5" font-size="40" text-anchor="middle" font-weight="700">*</text>
<text x="262.9" y="1690.1" font-size="40" text-anchor="middle" font-weight="700">*</text>
<text transform="translate(42 1836.5) rotate(-90) scale(0.93 1)" font-size="29.6" text-anchor="middle">CMP</text>
<text transform="translate(76.9 1840.7) rotate(-90) scale(1.15 1)" font-size="24.9" text-anchor="middle">[cells per mouse x 10<tspan font-size="14.9" dy="-9">5</tspan><tspan dy="9">]</tspan></text>
<rect x="518" y="1878.1" width="40.5" height="124.9" fill="#fff" stroke="#000" stroke-width="4.4"/>
<path class="b" style="stroke-width:4" d="M538.2 1876.9V1865.4M526.2 1865.4h24"/>
<rect x="580.2" y="1804.6" width="41.3" height="198.4" fill="#a8a8a8" stroke="#000" stroke-width="4.4"/>
<path class="b" style="stroke-width:4" d="M600.9 1803.4V1781.4M588.9 1781.4h24"/>
<rect x="641.9" y="1867.6" width="40.4" height="135.4" fill="#f4745e" stroke="#000" stroke-width="4.4"/>
<path class="b" style="stroke-width:4" d="M662.1 1866.4V1852.8M650.1 1852.8h24"/>
<path class="b" d="M506.8 1683.8V2003M494.8 2003H692.8"/>
<path class="b" style="stroke-width:4" d="M506.8 1686h-12M506.8 1791.9h-12M506.8 1897.7h-12"/>
<text transform="translate(493.4 1695.6) scale(0.92 1)" font-size="24" text-anchor="end">15</text>
<text transform="translate(493.4 1801.5) scale(0.92 1)" font-size="24" text-anchor="end">10</text>
<text transform="translate(493.4 1907.3) scale(0.92 1)" font-size="24" text-anchor="end">5</text>
<text transform="translate(493.4 2012.6) scale(0.92 1)" font-size="24" text-anchor="end">0</text>
<g class="d"><circle cx="537.4" cy="1844.4" r="4.1"/><circle cx="527.8" cy="1871.7" r="4.1"/><circle cx="557.2" cy="1872.5" r="4.1"/><circle cx="548" cy="1888.4" r="4.1"/><circle cx="527.8" cy="1899.8" r="4.1"/></g>
<g class="d"><circle cx="600" cy="1729" r="4.1"/><circle cx="599" cy="1750" r="4.1"/><circle cx="588.6" cy="1791" r="4.1"/><circle cx="608.8" cy="1795" r="4.1"/><circle cx="599" cy="1818" r="4.1"/><circle cx="599" cy="1840" r="4.1"/><circle cx="599" cy="1887.6" r="4.1"/></g>
<g class="d"><circle cx="652.9" cy="1824" r="4.1"/><circle cx="671" cy="1826" r="4.1"/><circle cx="652.9" cy="1850.7" r="4.1"/><circle cx="671" cy="1846.5" r="4.1"/><circle cx="662" cy="1878" r="4.1"/><circle cx="652" cy="1890.5" r="4.1"/><circle cx="672.6" cy="1899.8" r="4.1"/><circle cx="662" cy="1906.5" r="4.1"/></g>
<path class="br" d="M536.2 1819V1684H594V1705.8"/>
<path class="br" d="M603.8 1705.8V1684H660.4V1805.3"/>
<text x="564.7" y="1686.5" font-size="40" text-anchor="middle" font-weight="700">*</text>
<text x="637" y="1683.5" font-size="40" text-anchor="middle" font-weight="700">*</text>
<text transform="translate(409 1845) rotate(-90) scale(0.93 1)" font-size="29.6" text-anchor="middle">CLP</text>
<text transform="translate(440.7 1841.7) rotate(-90) scale(1.15 1)" font-size="23.1" text-anchor="middle">[cells per mouse x 10<tspan font-size="13.9" dy="-8.3">3</tspan><tspan dy="8.3">]</tspan></text>
<rect x="864.4" y="1891.5" width="40.4" height="110.3" fill="#fff" stroke="#000" stroke-width="4.4"/>
<path class="b" style="stroke-width:4" d="M884.6 1890.3V1878M872.6 1878h24"/>
<rect x="926.6" y="1806.7" width="40.8" height="195.1" fill="#a8a8a8" stroke="#000" stroke-width="4.4"/>
<path class="b" style="stroke-width:4" d="M947 1805.5V1784.3M935 1784.3h24"/>
<rect x="989.1" y="1855" width="39.7" height="146.8" fill="#f4745e" stroke="#000" stroke-width="4.4"/>
<path class="b" style="stroke-width:4" d="M1009 1853.8V1842.3M997 1842.3h24"/>
<path class="b" d="M853.6 1682.6V2001.8M841.6 2001.8H1039"/>
<path class="b" style="stroke-width:4" d="M853.6 1684.8h-12M853.6 1763.8h-12M853.6 1843h-12M853.6 1922.4h-12"/>
<text transform="translate(840 1694.4) scale(0.92 1)" font-size="24" text-anchor="end">12</text>
<text transform="translate(840 1773.4) scale(0.92 1)" font-size="24" text-anchor="end">9</text>
<text transform="translate(840 1852.6) scale(0.92 1)" font-size="24" text-anchor="end">6</text>
<text transform="translate(840 1932) scale(0.92 1)" font-size="24" text-anchor="end">3</text>
<text transform="translate(840 2011.4) scale(0.92 1)" font-size="24" text-anchor="end">0</text>
<g class="d"><circle cx="874.5" cy="1859" r="4.1"/><circle cx="893" cy="1869.6" r="4.1"/><circle cx="873.3" cy="1892.6" r="4.1"/><circle cx="883.8" cy="1911.5" r="4.1"/><circle cx="894.7" cy="1909.4" r="4.1"/></g>
<g class="d"><circle cx="955" cy="1737.3" r="4.1"/><circle cx="936.3" cy="1748.6" r="4.1"/><circle cx="936.3" cy="1811.6" r="4.1"/><circle cx="955" cy="1808.7" r="4.1"/><circle cx="946" cy="1851.5" r="4.1"/><circle cx="946" cy="1877" r="4.1"/></g>
<g class="d"><circle cx="1017.3" cy="1806.6" r="4.1"/><circle cx="998.4" cy="1825.5" r="4.1"/><circle cx="1018" cy="1843" r="4.1"/><circle cx="997" cy="1854" r="4.1"/><circle cx="1008.5" cy="1861" r="4.1"/><circle cx="997" cy="1865.4" r="4.1"/><circle cx="1018" cy="1877" r="4.1"/><circle cx="1008.5" cy="1883" r="4.1"/></g>
<path class="br" d="M885 1843V1684.8H942.6V1718.4"/>
<path class="br" d="M954.3 1718.4V1684.8H1013V1790.6"/>
<text x="918.6" y="1684.5" font-size="40" text-anchor="middle" font-weight="700">**</text>
<text x="985" y="1684.5" font-size="40" text-anchor="middle" font-weight="700">*</text>
<text transform="translate(759.4 1852.8) rotate(-90) scale(0.93 1)" font-size="29.6" text-anchor="middle">GMP</text>
<text transform="translate(791.3 1852) rotate(-90) scale(1.15 1)" font-size="23.2" text-anchor="middle">[cells per mouse x 10<tspan font-size="13.9" dy="-8.3">5</tspan><tspan dy="8.3">]</tspan></text>
<text x="1112" y="1614.4" font-size="58">c</text>
<rect x="1338.2" y="1584.8" width="48.5" height="28.8" fill="#a8a8a8" stroke="#000" stroke-width="4.2"/>
<text x="1402.6" y="1608.3" font-size="28.9">Aged-PBS</text>
<rect x="1600.4" y="1583.3" width="48.7" height="28.9" fill="#4d6db9" stroke="#000" stroke-width="4.2"/>
<text x="1662.6" y="1608.7" font-size="28.9">Aged-yEOS<tspan font-size="16.5" dy="-11.5">IL-4-/-</tspan></text>
<rect x="1285.6" y="1854.7" width="44" height="145.7" fill="#a8a8a8" stroke="#000" stroke-width="4.4"/>
<path class="b" style="stroke-width:4" d="M1307.6 1853.5V1825.7M1295.6 1825.7h24"/>
<rect x="1352.6" y="1859.6" width="43.6" height="140.8" fill="#4d6db9" stroke="#000" stroke-width="4.4"/>
<path class="b" style="stroke-width:4" d="M1374.4 1858.4V1840.4M1362.4 1840.4h24"/>
<path class="b" d="M1275 1682.5V2000.4M1263 2000.4H1407"/>
<path class="b" style="stroke-width:4" d="M1275 1684.7h-12M1275 1764.7h-12M1275 1843h-12M1275 1921h-12"/>
<text transform="translate(1262 1694.3) scale(1.0 1)" font-size="24.6" text-anchor="end">8</text>
<text transform="translate(1262 1774.3) scale(1.0 1)" font-size="24.6" text-anchor="end">6</text>
<text transform="translate(1262 1852.6) scale(1.0 1)" font-size="24.6" text-anchor="end">4</text>
<text transform="translate(1262 1930.6) scale(1.0 1)" font-size="24.6" text-anchor="end">2</text>
<text transform="translate(1262 2010) scale(1.0 1)" font-size="24.6" text-anchor="end">0</text>
<g class="d"><circle cx="1307.6" cy="1748" r="4.1"/><circle cx="1307.6" cy="1771" r="4.1"/><circle cx="1316.7" cy="1816.6" r="4.1"/><circle cx="1297.8" cy="1834" r="4.1"/><circle cx="1297.8" cy="1876.3" r="4.1"/><circle cx="1316.7" cy="1878.6" r="4.1"/><circle cx="1316.7" cy="1939" r="4.1"/><circle cx="1297.8" cy="1949.5" r="4.1"/></g>
<g class="d"><circle cx="1374" cy="1771" r="4.1"/><circle cx="1374" cy="1801" r="4.1"/><circle cx="1364.7" cy="1826" r="4.1"/><circle cx="1383.7" cy="1830.6" r="4.1"/><circle cx="1383.7" cy="1850" r="4.1"/><circle cx="1364.7" cy="1869" r="4.1"/><circle cx="1374" cy="1892.7" r="4.1"/><circle cx="1361.5" cy="1896" r="4.1"/><circle cx="1386.3" cy="1902.4" r="4.1"/><circle cx="1374" cy="1915.5" r="4.1"/></g>
<path class="br" d="M1309.2 1708V1687H1376.2V1708"/>
<text x="1345.5" y="1673.9" font-size="25" text-anchor="middle" font-style="italic">ns</text>
<text transform="translate(1184.7 1830.6) rotate(-90) scale(0.93 1)" font-size="29.6" text-anchor="middle">CMP</text>
<text transform="translate(1219.9 1834) rotate(-90) scale(1.15 1)" font-size="24.9" text-anchor="middle">[cells per mouse x 10<tspan font-size="14.9" dy="-9">5</tspan><tspan dy="9">]</tspan></text>
<rect x="1634.3" y="1912.2" width="44.3" height="94" fill="#a8a8a8" stroke="#000" stroke-width="4.4"/>
<path class="b" style="stroke-width:4" d="M1656.5 1911V1881.7M1644.5 1881.7h24"/>
<rect x="1700.6" y="1918.8" width="44.2" height="87.4" fill="#4d6db9" stroke="#000" stroke-width="4.4"/>
<path class="b" style="stroke-width:4" d="M1722.7 1917.6V1885M1710.7 1885h24"/>
<path class="b" d="M1623.4 1691.1V2006.2M1611.4 2006.2H1755.5"/>
<path class="b" style="stroke-width:4" d="M1623.4 1693.3h-12M1623.4 1755.7h-12M1623.4 1818.7h-12M1623.4 1881h-12M1623.4 1943.8h-12"/>
<text transform="translate(1610 1702.9) scale(1.0 1)" font-size="24.6" text-anchor="end">50</text>
<text transform="translate(1610 1765.3) scale(1.0 1)" font-size="24.6" text-anchor="end">40</text>
<text transform="translate(1610 1828.3) scale(1.0 1)" font-size="24.6" text-anchor="end">30</text>
<text transform="translate(1610 1890.6) scale(1.0 1)" font-size="24.6" text-anchor="end">20</text>
<text transform="translate(1610 1953.4) scale(1.0 1)" font-size="24.6" text-anchor="end">10</text>
<text transform="translate(1610 2015.8) scale(1.0 1)" font-size="24.6" text-anchor="end">0</text>
<g class="d"><circle cx="1656" cy="1766.6" r="4.1"/><circle cx="1656" cy="1866.8" r="4.1"/><circle cx="1646.3" cy="1878.4" r="4.1"/><circle cx="1665.2" cy="1888.4" r="4.1"/><circle cx="1656" cy="1943.8" r="4.1"/><circle cx="1646.3" cy="1957.4" r="4.1"/><circle cx="1665.2" cy="1974.6" r="4.1"/><circle cx="1656" cy="1998.9" r="4.1"/></g>
<g class="d"><circle cx="1723" cy="1746.7" r="4.1"/><circle cx="1723" cy="1809.4" r="4.1"/><circle cx="1723" cy="1833.6" r="4.1"/><circle cx="1713.3" cy="1888.4" r="4.1"/><circle cx="1732.2" cy="1896" r="4.1"/><circle cx="1710" cy="1986.2" r="4.1"/><circle cx="1735.6" cy="1988.6" r="4.1"/><circle cx="1716.7" cy="1993.9" r="4.1"/><circle cx="1729" cy="1999.5" r="4.1"/><circle cx="1723" cy="2002" r="4.1"/></g>
<path class="br" d="M1658.3 1713.5V1693.3H1725V1713.5"/>
<text x="1694" y="1679.4" font-size="25" text-anchor="middle" font-style="italic">ns</text>
<text transform="translate(1526 1843.6) rotate(-90) scale(0.93 1)" font-size="29.6" text-anchor="middle">CLP</text>
<text transform="translate(1557.1 1840) rotate(-90) scale(1.15 1)" font-size="23" text-anchor="middle">[cells per mouse x 10<tspan font-size="13.8" dy="-8.3">3</tspan><tspan dy="8.3">]</tspan></text>
<rect x="1947.2" y="1881.2" width="44.3" height="119.3" fill="#a8a8a8" stroke="#000" stroke-width="4.4"/>
<path class="b" style="stroke-width:4" d="M1969.3 1880V1858.5M1957.3 1858.5h24"/>
<rect x="2014.2" y="1872.2" width="44.6" height="128.3" fill="#4d6db9" stroke="#000" stroke-width="4.4"/>
<path class="b" style="stroke-width:4" d="M2036.5 1871V1849.6M2024.5 1849.6h24"/>
<path class="b" d="M1935.6 1683.8V2000.5M1923.6 2000.5H2075"/>
<path class="b" style="stroke-width:4" d="M1935.6 1686h-12M1935.6 1749h-12M1935.6 1812h-12M1935.6 1874.4h-12M1935.6 1937.5h-12"/>
<text transform="translate(1922 1695.6) scale(1.0 1)" font-size="24.6" text-anchor="end">5</text>
<text transform="translate(1922 1758.6) scale(1.0 1)" font-size="24.6" text-anchor="end">4</text>
<text transform="translate(1922 1821.6) scale(1.0 1)" font-size="24.6" text-anchor="end">3</text>
<text transform="translate(1922 1884) scale(1.0 1)" font-size="24.6" text-anchor="end">2</text>
<text transform="translate(1922 1947.1) scale(1.0 1)" font-size="24.6" text-anchor="end">1</text>
<text transform="translate(1922 2010.1) scale(1.0 1)" font-size="24.6" text-anchor="end">0</text>
<g class="d"><circle cx="1959.5" cy="1809.4" r="4.1"/><circle cx="1978.4" cy="1812" r="4.1"/><circle cx="1968.8" cy="1842.6" r="4.1"/><circle cx="1956.2" cy="1885" r="4.1"/><circle cx="1981" cy="1881.7" r="4.1"/><circle cx="1968.8" cy="1896.7" r="4.1"/><circle cx="1978.4" cy="1943.8" r="4.1"/><circle cx="1959.5" cy="1954.7" r="4.1"/></g>
<g class="d"><circle cx="2035.8" cy="1733.4" r="4.1"/><circle cx="2035.8" cy="1813" r="4.1"/><circle cx="2035.8" cy="1842.6" r="4.1"/><circle cx="2035.8" cy="1865" r="4.1"/><circle cx="2026.5" cy="1886" r="4.1"/><circle cx="2045" cy="1888.4" r="4.1"/><circle cx="2029.9" cy="1896.7" r="4.1"/><circle cx="2040.8" cy="1905" r="4.1"/><circle cx="2045" cy="1924.9" r="4.1"/><circle cx="2026.5" cy="1928.9" r="4.1"/></g>
<path class="br" d="M1971 1708.2V1687H2038V1708.2"/>
<text x="2007" y="1672.7" font-size="25" text-anchor="middle" font-style="italic">ns</text>
<text transform="translate(1840.8 1845) rotate(-90) scale(0.93 1)" font-size="29.6" text-anchor="middle">GMP</text>
<text transform="translate(1874.1 1845.5) rotate(-90) scale(1.15 1)" font-size="23" text-anchor="middle">[cells per mouse x 10<tspan font-size="13.8" dy="-8.3">5</tspan><tspan dy="8.3">]</tspan></text>
<text x="0" y="2115" font-size="58">d</text>
<path d="M251 2200h1M264 2201h1M251 2212h1M261 2213h1m1 0h1M255 2214h1M271 2218h1M283 2220h1M257 2221h1m13 0h1M261 2223h1m5 0h1M261 2225h1M260 2226h1m9 0h1M266 2228h1M259 2231h1m2 0h1M259 2232h1M268 2233h1M256 2234h1m7 0h1M253 2235h1m10 0h1M268 2236h1M254 2237h1M263 2238h1M255 2239h1m9 0h1h1M261 2240h1m1 0h1h1m3 0h1h1m1 0h1m5 0h1m3 0h1M257 2241h1m6 0h1M259 2244h1m3 0h1m2 0h1m2 0h1M266 2245h1h1M259 2246h1M256 2247h1m2 0h1m5 0h1m1 0h1M265 2248h1M256 2249h1M260 2250h1m2 0h1M253 2251h1m9 0h1m3 0h1m1 0h1M255 2252h1m13 0h1m2 0h1m2 0h1M243 2253h1m5 0h1m5 0h1h1m6 0h1m1 0h1M255 2254h1m7 0h1h1h1m1 0h1M247 2255h1m13 0h1m18 0h1M230 2256h1m27 0h1m4 0h1M254 2257h1m1 0h1m2 0h1m1 0h1m1 0h1M259 2258h1m1 0h1h1m3 0h1m7 0h1M246 2259h1m11 0h1m2 0h1m2 0h1m4 0h1m15 0h1M250 2260h1m1 0h1m6 0h1m1 0h1m1 0h1m8 0h1M248 2261h1m9 0h1h1h1m1 0h1m1 0h1m1 0h1h1m1 0h1m3 0h1M251 2262h1m3 0h1m1 0h1m6 0h1m2 0h1h1h1m4 0h1m7 0h1m7 0h1M255 2263h1m6 0h1h1m3 0h1m8 0h1m15 0h1M251 2264h1m8 0h1m4 0h1m2 0h1m11 0h1M266 2265h1h1h1M243 2266h1m13 0h1m3 0h1h1m1 0h1m2 0h1h1m1 0h1m4 0h1m9 0h1M234 2267h1m22 0h1m4 0h1h1h1m24 0h1M255 2268h1m4 0h1m8 0h1m11 0h1M263 2269h1M256 2270h1h1m5 0h1h1h1m1 0h1h1M250 2271h1m5 0h1m9 0h1m2 0h1m1 0h1M257 2272h1h1m4 0h1h1h1h1h1m3 0h1m17 0h1M259 2273h1m2 0h1h1m1 0h1h1h1h1m2 0h1h1M252 2274h1m7 0h1m1 0h1m1 0h1h1m1 0h1h1h1h1m2 0h1M254 2275h1m2 0h1m1 0h1h1h1h1m1 0h1h1m3 0h1m5 0h1M262 2276h1m1 0h1m1 0h1m1 0h1h1M245 2277h1m8 0h1m3 0h1m2 0h1m1 0h1m1 0h1h1M256 2278h1m5 0h1m4 0h1M199 2279h1m64 0h1h1h1m14 0h1M214 2280h1m27 0h1m7 0h1m16 0h1M258 2281h1h1m2 0h1m2 0h1M232 2282h1m25 0h1m1 0h1h1m5 0h1h1M261 2283h1h1m1 0h1m3 0h1m2 0h1M237 2284h1m14 0h1m3 0h1h1h1h1m1 0h1h1h1h1h1m3 0h1h1m15 0h1M251 2285h1m3 0h1m3 0h1m2 0h1m1 0h1m2 0h1M252 2286h1m3 0h1m4 0h1m2 0h1m3 0h1m1 0h1m5 0h1m31 0h1M253 2287h1m7 0h1m3 0h1h1m2 0h1m2 0h1M199 2288h1m53 0h1h1m3 0h1h1m10 0h1m1 0h1M236 2289h1m20 0h1m5 0h1m2 0h1h1m9 0h1M259 2290h1m4 0h1m1 0h1h1h1M235 2291h1m21 0h1h1m4 0h1m1 0h1h1m20 0h1M250 2292h1m1 0h1m6 0h1m4 0h1m3 0h1h1h1m4 0h1m34 0h1m13 0h1M231 2293h1m24 0h1m3 0h1h1m8 0h1m2 0h1M236 2294h1m19 0h1m1 0h1h1h1h1m2 0h1h1h1m1 0h1M253 2295h1h1h1m4 0h1m3 0h1m1 0h1m3 0h1m6 0h1M239 2296h1m3 0h1m7 0h1h1m7 0h1m2 0h1M232 2297h1m22 0h1m2 0h1m5 0h1h1m6 0h1m8 0h1M265 2298h1m1 0h1m1 0h1m13 0h1M261 2299h1h1m1 0h1m2 0h1m3 0h1h1h1m12 0h1m2 0h1M235 2300h1m15 0h1m6 0h1m1 0h1h1m4 0h1m3 0h1M191 2301h1m52 0h1m11 0h1m2 0h1h1h1m2 0h1M255 2302h1m2 0h1m1 0h1m1 0h1h1m1 0h1m1 0h1m3 0h1m19 0h1M243 2303h1m6 0h1m1 0h1m2 0h1m7 0h1m1 0h1m4 0h1M249 2304h1m2 0h1m2 0h1h1m2 0h1m7 0h1m3 0h1m1 0h1m2 0h1m6 0h1M251 2305h1m5 0h1m2 0h1m4 0h1m4 0h1m1 0h1h1M239 2306h1m10 0h1m2 0h1h1h1m4 0h1h1m4 0h1m1 0h1m12 0h1M235 2307h1m4 0h1m11 0h1m1 0h1m2 0h1h1h1h1m1 0h1h1h1h1h1m3 0h1m11 0h1m6 0h1m7 0h1M253 2308h1m2 0h1h1m8 0h1h1h1m2 0h1m22 0h1M249 2309h1m7 0h1h1m2 0h1m1 0h1h1m2 0h1m4 0h1m1 0h1m11 0h1m5 0h1M233 2310h1m19 0h1h1h1m6 0h1h1m1 0h1m2 0h1h1m3 0h1M235 2311h1m10 0h1m12 0h1m1 0h1m3 0h1h1h1M238 2312h1m14 0h1m1 0h1m2 0h1h1h1m2 0h1m1 0h1h1m1 0h1m13 0h1M233 2313h1m4 0h1m4 0h1m4 0h1m5 0h1m8 0h1m9 0h1m1 0h1m3 0h1M247 2314h1m1 0h1m6 0h1m1 0h1h1h1h1h1h1m2 0h1m1 0h1m2 0h1h1m1 0h1M244 2315h1m7 0h1m5 0h1h1m5 0h1m2 0h1h1h1m1 0h1m6 0h1M244 2316h1m9 0h1h1m3 0h1m2 0h1m3 0h1M222 2317h1m9 0h1m18 0h1m8 0h1h1h1m3 0h1m1 0h1m2 0h1m2 0h1m21 0h1m8 0h1M240 2318h1m8 0h1m1 0h1m3 0h1m5 0h1m3 0h1m1 0h1h1h1m13 0h1M204 2319h1m36 0h1m9 0h1m6 0h1m2 0h1h1h1m3 0h1m27 0h1M262 2320h1m1 0h1m1 0h1m47 0h1M248 2321h1m6 0h1m1 0h1m3 0h1m2 0h1m2 0h1h1m1 0h1h1m7 0h1m17 0h1M213 2322h1h1m18 0h1m8 0h1m13 0h1h1m2 0h1m1 0h1m3 0h1m5 0h1h1m2 0h1m1 0h1m5 0h1m2 0h1m12 0h1M241 2323h1m6 0h1m5 0h1m1 0h1h1m1 0h1h1m1 0h1m4 0h1m5 0h1h1m7 0h1m6 0h1m5 0h1m8 0h1m1 0h1M223 2324h1m11 0h1m15 0h1m1 0h1h1h1m4 0h1h1m1 0h1m1 0h1m2 0h1m31 0h1M219 2325h1m22 0h1m14 0h1h1h1h1m1 0h1h1h1m18 0h1m3 0h1m39 0h1M237 2326h1m9 0h1m5 0h1m2 0h1h1m1 0h1m3 0h1m1 0h1h1m3 0h1m2 0h1M254 2327h1m4 0h1m1 0h1m1 0h1h1h1m3 0h1M258 2328h1m2 0h1m1 0h1m2 0h1m21 0h1M233 2329h1m18 0h1m1 0h1m1 0h1m1 0h1m3 0h1m1 0h1m4 0h1m2 0h1m7 0h1m2 0h1m44 0h1m8 0h1M256 2330h1m1 0h1m3 0h1m1 0h1m2 0h1m5 0h1M241 2331h1m13 0h1h1m2 0h1m2 0h1h1h1m10 0h1m1 0h1m19 0h1M213 2332h1m44 0h1h1h1m3 0h1m1 0h1M218 2333h1m32 0h1m5 0h1h1m1 0h1m3 0h1h1m1 0h1m1 0h1m6 0h1m20 0h1m16 0h1M247 2334h1m5 0h1h1h1m1 0h1m3 0h1m9 0h1m6 0h1m28 0h1m2 0h1M255 2335h1m4 0h1h1h1h1h1h1h1m1 0h1m1 0h1h1m6 0h1m4 0h1M208 2336h1m6 0h1m27 0h1m11 0h1h1m1 0h1h1m4 0h1h1m2 0h1m1 0h1h1m4 0h1m5 0h1m20 0h1M235 2337h1m19 0h1h1h1m2 0h1h1m2 0h1h1m31 0h1m1 0h1M205 2338h1m37 0h1m4 0h1m7 0h1m1 0h1m4 0h1h1m7 0h1m6 0h1m13 0h1m1 0h1M249 2339h1m6 0h1h1m3 0h1m2 0h1m8 0h1m6 0h1m1 0h1m5 0h1m4 0h1m4 0h1m5 0h1M224 2340h1m15 0h1m9 0h1m4 0h1m4 0h1m4 0h1h1m15 0h1m16 0h1m4 0h1M223 2341h1m19 0h1m8 0h1h1h1m4 0h1m5 0h1h1h1m1 0h1m7 0h1m20 0h1m1 0h1m17 0h1M227 2342h1m16 0h1m5 0h1m3 0h1h1m2 0h1h1h1m1 0h1h1m3 0h1m8 0h1m3 0h1m28 0h1M137 2343h1m66 0h1m7 0h1m18 0h1m13 0h1m3 0h1h1m1 0h1h1m7 0h1h1h1m1 0h1m2 0h1m4 0h1m1 0h1m12 0h1m5 0h1m12 0h1M160 2344h1m92 0h1m2 0h1h1h1h1h1h1h1M221 2345h1m6 0h1m10 0h1m13 0h1m2 0h1m1 0h1m2 0h1h1m3 0h1h1m3 0h1h1m6 0h1m6 0h1M250 2346h1h1m1 0h1h1m4 0h1m1 0h1m2 0h1h1h1m7 0h1m2 0h1m13 0h1m3 0h1M244 2347h1h1m2 0h1m7 0h1h1m3 0h1h1m1 0h1h1m8 0h1m9 0h1M247 2348h1h1m7 0h1h1m3 0h1h1m1 0h1m3 0h1h1m13 0h1M201 2349h1m17 0h1m9 0h1m3 0h1m19 0h1m4 0h1h1h1m1 0h1h1h1m1 0h1m3 0h1m4 0h1m26 0h1m15 0h1M207 2350h1h1m25 0h1h1m3 0h1h1m1 0h1m12 0h1h1h1h1h1m1 0h1m1 0h1h1h1h1m2 0h1m1 0h1m11 0h1m10 0h1m1 0h1M206 2351h1m46 0h1m2 0h1m2 0h1h1h1m4 0h1h1h1m1 0h1m7 0h1m5 0h1m8 0h1m17 0h1M183 2352h1m49 0h1m8 0h1h1m9 0h1m3 0h1h1m3 0h1h1m1 0h1m4 0h1m12 0h1m9 0h1m2 0h1h1m1 0h1M169 2353h1m43 0h1m7 0h1h1m13 0h1m8 0h1m2 0h1h1m4 0h1h1h1h1m1 0h1h1h1h1h1m1 0h1m3 0h1m5 0h1m1 0h1m10 0h1m39 0h1M220 2354h1m12 0h1m1 0h1m4 0h1h1h1h1m2 0h1m4 0h1m2 0h1h1m2 0h1h1h1h1m3 0h1m1 0h1h1m2 0h1m1 0h1m1 0h1h1m4 0h1m12 0h1m12 0h1M205 2355h1m12 0h1m10 0h1m13 0h1m4 0h1m2 0h1m2 0h1m2 0h1h1h1h1m4 0h1h1m2 0h1m5 0h1m2 0h1m3 0h1m5 0h1h1M227 2356h1m8 0h1m4 0h1m13 0h1h1m2 0h1h1m2 0h1m1 0h1h1m9 0h1m6 0h1m28 0h1m1 0h1M207 2357h1m20 0h1m9 0h1m11 0h1m1 0h1h1m1 0h1m4 0h1h1h1m5 0h1M182 2358h1m27 0h1m18 0h1m23 0h1m2 0h1h1h1m1 0h1h1m1 0h1h1m4 0h1m3 0h1m4 0h1m10 0h1m5 0h1m1 0h1m7 0h1m20 0h1M202 2359h1m14 0h1h1m18 0h1m1 0h1m5 0h1m6 0h1m1 0h1m3 0h1m6 0h1h1m3 0h1m1 0h1m20 0h1m11 0h1m11 0h1M213 2360h1m14 0h1m8 0h1h1h1h1m9 0h1m7 0h1h1h1h1m2 0h1m6 0h1m2 0h1m3 0h1m1 0h1m2 0h1m1 0h1M227 2361h1h1m5 0h1m1 0h1m4 0h1m2 0h1h1m4 0h1h1h1m2 0h1h1h1h1m2 0h1h1m8 0h1m3 0h1h1m8 0h1m1 0h1m2 0h1m6 0h1m5 0h1M205 2362h1m35 0h1m2 0h1m4 0h1h1h1m1 0h1m1 0h1m3 0h1m2 0h1m2 0h1m3 0h1m3 0h1h1m1 0h1m14 0h1h1m4 0h1m6 0h1m21 0h1M193 2363h1m7 0h1m4 0h1m2 0h1m13 0h1m4 0h1m1 0h1m4 0h1m2 0h1m4 0h1m6 0h1m2 0h1m6 0h1m1 0h1m1 0h1m2 0h1m1 0h1h1m5 0h1m7 0h1m11 0h1M190 2364h1m32 0h1m18 0h1m6 0h1m4 0h1m2 0h1h1m1 0h1m1 0h1h1m3 0h1m1 0h1m1 0h1m3 0h1m2 0h1m1 0h1m9 0h1m75 0h1M206 2365h1m9 0h1m1 0h1m10 0h1m6 0h1m1 0h1m1 0h1h1m2 0h1m4 0h1m1 0h1h1h1h1h1m2 0h1h1h1m1 0h1m4 0h1m1 0h1m4 0h1h1h1m5 0h1h1m9 0h1m4 0h1m2 0h1h1m12 0h1M198 2366h1m6 0h1m27 0h1m5 0h1m1 0h1m1 0h1m6 0h1m2 0h1m5 0h1h1h1h1m1 0h1m1 0h1h1m4 0h1m2 0h1h1m3 0h1m4 0h1m4 0h1h1m2 0h1h1M199 2367h1m1 0h1m30 0h1m8 0h1m1 0h1m5 0h1m4 0h1m1 0h1m1 0h1m1 0h1h1m2 0h1m6 0h1m11 0h1m20 0h1m6 0h1h1h1m13 0h1M220 2368h1m17 0h1m2 0h1h1m1 0h1m5 0h1m1 0h1m2 0h1m4 0h1h1h1m1 0h1h1h1m3 0h1m1 0h1m4 0h1m1 0h1m11 0h1m1 0h1m6 0h1m7 0h1M213 2369h1m6 0h1m12 0h1m6 0h1h1m1 0h1h1m8 0h1m2 0h1h1m1 0h1h1h1m8 0h1h1m1 0h1m1 0h1h1m9 0h1m4 0h1m5 0h1m3 0h1h1m3 0h1M181 2370h1m26 0h1m1 0h1m10 0h1m6 0h1m1 0h1m13 0h1m5 0h1m1 0h1h1m9 0h1h1m1 0h1m2 0h1m1 0h1m1 0h1m4 0h1m1 0h1m9 0h1m2 0h1m5 0h1m27 0h1m69 0h1M206 2371h1m12 0h1m15 0h1m3 0h1m3 0h1m2 0h1h1h1m4 0h1m1 0h1h1m1 0h1m1 0h1h1m1 0h1m2 0h1m1 0h1m5 0h1h1m1 0h1h1m2 0h1m3 0h1m4 0h1m13 0h1m55 0h1M206 2372h1h1m4 0h1m4 0h1m5 0h1m7 0h1h1m3 0h1m1 0h1m2 0h1m5 0h1m2 0h1m1 0h1m1 0h1h1h1h1m4 0h1h1h1m3 0h1m3 0h1m1 0h1m3 0h1h1h1m2 0h1m1 0h1m7 0h1m2 0h1m8 0h1m14 0h1M236 2373h1m1 0h1m9 0h1m3 0h1m2 0h1h1h1h1h1h1m1 0h1m1 0h1h1h1h1h1m1 0h1h1h1m2 0h1m2 0h1h1h1m3 0h1h1m3 0h1h1m3 0h1h1m2 0h1m30 0h1m22 0h1h1M227 2374h1m2 0h1m13 0h1m4 0h1h1m1 0h1m1 0h1m1 0h1h1h1h1h1h1h1h1h1h1h1h1m1 0h1h1m3 0h1m3 0h1h1h1m3 0h1h1m10 0h1m3 0h1m27 0h1M206 2375h1m5 0h1m1 0h1m2 0h1m10 0h1m7 0h1m4 0h1m2 0h1h1m2 0h1m2 0h1m2 0h1m2 0h1h1m4 0h1h1h1m4 0h1h1h1h1m2 0h1h1h1h1h1h1m2 0h1m6 0h1m3 0h1h1m4 0h1m5 0h1M207 2376h1m19 0h1m9 0h1h1m3 0h1h1h1m4 0h1m5 0h1m1 0h1h1h1m1 0h1h1h1m2 0h1m8 0h1m2 0h1m2 0h1m1 0h1h1h1h1m1 0h1h1h1m2 0h1m4 0h1m6 0h1m36 0h1M199 2377h1m5 0h1m5 0h1m11 0h1m6 0h1h1m14 0h1m2 0h1m2 0h1h1m3 0h1m3 0h1h1h1h1h1h1h1m2 0h1h1h1h1h1m1 0h1h1h1m1 0h1h1h1h1h1h1h1m1 0h1h1h1m2 0h1h1h1h1m6 0h1M222 2378h1m2 0h1m2 0h1m3 0h1m5 0h1m3 0h1m4 0h1m1 0h1h1h1m1 0h1m2 0h1m2 0h1h1m1 0h1h1m1 0h1m1 0h1h1h1m2 0h1h1m2 0h1h1h1h1m1 0h1h1m2 0h1h1m1 0h1h1m4 0h1m4 0h1m21 0h1M203 2379h1m6 0h1h1m18 0h1m15 0h1m2 0h1m4 0h1h1m1 0h1m7 0h1h1m1 0h1h1m1 0h1m1 0h1h1m2 0h1h1h1h1h1h1h1h1h1m2 0h1h1m1 0h1h1h1h1h1h1m1 0h1h1m6 0h1m1 0h1m1 0h1m5 0h1m12 0h1m11 0h1M193 2380h1m18 0h1m10 0h1m4 0h1h1m4 0h1m4 0h1m4 0h1m2 0h1h1m1 0h1m1 0h1m1 0h1m5 0h1h1m1 0h1m1 0h1m1 0h1h1m1 0h1h1m1 0h1m1 0h1h1h1h1h1h1h1h1h1h1h1h1h1h1m2 0h1m1 0h1m2 0h1h1M166 2381h1m54 0h1m2 0h1m1 0h1m5 0h1h1m2 0h1h1m1 0h1h1m2 0h1h1h1m2 0h1m4 0h1h1h1m4 0h1m1 0h1m3 0h1h1m1 0h1m1 0h1h1h1h1m1 0h1h1h1h1h1m1 0h1h1h1h1m1 0h1h1h1m2 0h1m2 0h1h1h1m2 0h1m13 0h1m6 0h1m4 0h1M173 2382h1m46 0h1m10 0h1m6 0h1h1m5 0h1h1m2 0h1h1m1 0h1m1 0h1h1h1h1h1h1m1 0h1h1m1 0h1m2 0h1m2 0h1m3 0h1h1h1h1h1m1 0h1h1h1h1h1h1h1h1h1h1h1h1h1m1 0h1h1h1m3 0h1m3 0h1m23 0h1M151 2383h1m11 0h1m23 0h1m5 0h1h1m1 0h1m14 0h1m35 0h1m1 0h1m1 0h1m1 0h1h1m2 0h1m1 0h1h1h1m1 0h1h1m1 0h1h1m1 0h1h1m1 0h1h1h1h1h1m1 0h1h1h1h1h1h1m3 0h1m1 0h1h1h1m1 0h1m5 0h1h1h1m45 0h1M181 2384h1m8 0h1m19 0h1m3 0h1m1 0h1m6 0h1m2 0h1m2 0h1m5 0h1m3 0h1m1 0h1m1 0h1m2 0h1h1m1 0h1h1h1m1 0h1m3 0h1m1 0h1m1 0h1m1 0h1h1h1h1m2 0h1h1m1 0h1m1 0h1h1h1h1h1h1h1h1h1m6 0h1h1m2 0h1h1h1h1h1m1 0h1m5 0h1m5 0h1m91 0h1M169 2385h1m25 0h1m1 0h1m5 0h1m3 0h1m14 0h1h1h1m1 0h1h1h1m7 0h1m2 0h1h1m3 0h1m7 0h1h1m1 0h1m1 0h1h1h1h1h1m1 0h1m2 0h1m1 0h1h1h1h1m1 0h1h1m1 0h1h1h1h1m10 0h1m1 0h1m1 0h1h1h1h1m8 0h1m1 0h1h1m54 0h1M199 2386h1m23 0h1m14 0h1m2 0h1h1h1m9 0h1m5 0h1m3 0h1h1h1h1m2 0h1h1h1h1h1h1m1 0h1h1m3 0h1m1 0h1m7 0h1h1h1h1m2 0h1h1m3 0h1m1 0h1m20 0h1m3 0h1M192 2387h1m18 0h1h1m7 0h1m2 0h1m9 0h1m2 0h1h1m9 0h1h1h1m1 0h1h1h1m2 0h1h1h1h1h1m1 0h1m2 0h1h1h1m1 0h1m1 0h1h1h1m1 0h1m5 0h1m4 0h1h1m3 0h1h1h1h1h1h1h1m2 0h1h1h1h1m1 0h1m2 0h1h1h1m1 0h1m4 0h1m12 0h1m21 0h1M212 2388h1m3 0h1m4 0h1m10 0h1h1m1 0h1h1m1 0h1m2 0h1m1 0h1m2 0h1m1 0h1m1 0h1m9 0h1m1 0h1h1h1m1 0h1h1m1 0h1h1h1h1m1 0h1m3 0h1h1m1 0h1m3 0h1m4 0h1m1 0h1h1m1 0h1h1h1m1 0h1m2 0h1h1h1h1h1m8 0h1m5 0h1M199 2389h1h1m2 0h1m8 0h1m8 0h1m7 0h1m1 0h1h1m3 0h1h1m3 0h1m2 0h1m1 0h1m1 0h1h1h1h1m1 0h1h1h1m1 0h1h1h1h1h1m4 0h1h1m1 0h1h1h1h1m2 0h1m7 0h1m1 0h1m3 0h1m2 0h1h1m1 0h1m1 0h1m1 0h1m1 0h1m7 0h1m25 0h1M174 2390h1m13 0h1m3 0h1m5 0h1m2 0h1m9 0h1h1m6 0h1m1 0h1m8 0h1m4 0h1m1 0h1m2 0h1m3 0h1m1 0h1h1m1 0h1m2 0h1h1m2 0h1h1h1m2 0h1h1m1 0h1h1h1m1 0h1h1h1h1h1m6 0h1m5 0h1m7 0h1h1m3 0h1h1h1m4 0h1m3 0h1m1 0h1m32 0h1m27 0h1M164 2391h1m38 0h1h1m4 0h1m3 0h1m3 0h1h1h1m12 0h1h1m2 0h1m1 0h1h1m7 0h1m2 0h1h1h1m5 0h1h1h1h1m1 0h1h1h1h1h1m1 0h1h1h1m1 0h1h1m9 0h1m1 0h1m6 0h1h1h1h1m3 0h1h1m2 0h1h1m6 0h1m29 0h1m14 0h1M192 2392h1m3 0h1m8 0h1m6 0h1m3 0h1m1 0h1m1 0h1m1 0h1m4 0h1m1 0h1h1m4 0h1h1h1m4 0h1m2 0h1m2 0h1m7 0h1m2 0h1h1m1 0h1m1 0h1h1h1h1h1h1m8 0h1m4 0h1m3 0h1h1m5 0h1h1m3 0h1h1h1m1 0h1m16 0h1M193 2393h1h1m1 0h1h1m1 0h1m5 0h1h1m1 0h1m2 0h1h1m5 0h1h1m1 0h1m1 0h1m1 0h1m6 0h1m1 0h1m2 0h1h1m1 0h1m1 0h1m6 0h1m2 0h1m1 0h1m2 0h1m1 0h1h1h1h1h1h1h1h1h1h1m21 0h1m2 0h1m1 0h1h1h1h1m2 0h1m4 0h1m23 0h1m25 0h1m38 0h1M173 2394h1m21 0h1m10 0h1h1m5 0h1m3 0h1h1m4 0h1m6 0h1m1 0h1m1 0h1h1m4 0h1m1 0h1m3 0h1m1 0h1m1 0h1m1 0h1m2 0h1h1h1m2 0h1m3 0h1h1h1m1 0h1m11 0h1m4 0h1m2 0h1m1 0h1m2 0h1h1h1h1m3 0h1h1h1m14 0h1m45 0h1m10 0h1M176 2395h1m9 0h1m10 0h1m3 0h1h1m1 0h1m1 0h1h1h1m3 0h1m5 0h1m2 0h1m1 0h1m5 0h1m4 0h1m2 0h1m3 0h1h1m4 0h1h1m2 0h1m1 0h1h1h1m1 0h1m3 0h1h1h1m1 0h1h1h1h1m7 0h1m1 0h1m4 0h1m10 0h1h1m1 0h1h1m3 0h1m16 0h1m6 0h1m4 0h1m34 0h1M184 2396h1m1 0h1m1 0h1m2 0h1m5 0h1m1 0h1m1 0h1h1m4 0h1h1h1m2 0h1h1m2 0h1h1m2 0h1h1h1m1 0h1m3 0h1h1m12 0h1h1h1h1m2 0h1m2 0h1m1 0h1m1 0h1h1h1h1h1h1h1h1m1 0h1h1m3 0h1h1m2 0h1m6 0h1m1 0h1m11 0h1m1 0h1m3 0h1m4 0h1m2 0h1m3 0h1h1m23 0h1m67 0h1M187 2397h1h1m6 0h1m4 0h1h1m1 0h1h1h1m2 0h1h1h1m1 0h1h1m1 0h1h1h1m1 0h1h1h1h1m3 0h1h1m3 0h1m1 0h1m1 0h1h1m5 0h1m2 0h1h1h1h1m1 0h1m2 0h1h1h1h1m2 0h1m1 0h1h1h1h1h1m1 0h1m1 0h1h1m3 0h1m7 0h1h1h1m9 0h1h1m1 0h1m8 0h1m2 0h1m2 0h1m2 0h1m13 0h1M191 2398h1m2 0h1m3 0h1m4 0h1h1m1 0h1h1h1h1h1h1h1h1h1h1m2 0h1h1h1m2 0h1h1h1m5 0h1m2 0h1m10 0h1m1 0h1h1m2 0h1h1m1 0h1h1m2 0h1h1h1m2 0h1m3 0h1m1 0h1m1 0h1m3 0h1m4 0h1m15 0h1h1h1h1m1 0h1m1 0h1h1m1 0h1m14 0h1m18 0h1m10 0h1M174 2399h1m3 0h1m6 0h1h1h1m7 0h1m4 0h1h1m1 0h1h1m1 0h1h1h1h1h1h1h1h1h1m1 0h1h1h1h1m1 0h1h1h1h1h1m2 0h1m1 0h1m1 0h1h1m6 0h1h1m3 0h1h1h1m2 0h1m1 0h1m1 0h1h1m1 0h1m1 0h1m1 0h1h1h1h1h1m5 0h1m2 0h1m1 0h1m2 0h1h1m2 0h1m9 0h1h1h1h1m1 0h1m1 0h1h1h1m2 0h1m19 0h1m9 0h1M191 2400h1h1m5 0h1m1 0h1h1m2 0h1m3 0h1m5 0h1h1h1h1m1 0h1h1h1m1 0h1h1m2 0h1m1 0h1h1h1h1m2 0h1m3 0h1m1 0h1h1m5 0h1h1m2 0h1h1m1 0h1m1 0h1h1h1m1 0h1h1h1m1 0h1m1 0h1h1h1h1h1m4 0h1m6 0h1m11 0h1h1h1h1m3 0h1m2 0h1m3 0h1m5 0h1m49 0h1M189 2401h1h1m2 0h1m4 0h1m1 0h1m3 0h1m1 0h1m1 0h1h1m5 0h1h1h1m1 0h1h1h1m2 0h1h1m2 0h1m2 0h1h1m7 0h1m6 0h1m1 0h1h1m1 0h1m2 0h1m2 0h1h1h1h1h1m1 0h1h1h1h1m1 0h1m2 0h1m4 0h1h1m3 0h1m7 0h1m1 0h1m1 0h1h1h1h1m4 0h1m5 0h1m3 0h1m3 0h1m2 0h1h1h1m12 0h1m15 0h1m1 0h1M194 2402h1m4 0h1m1 0h1m1 0h1m2 0h1h1h1h1m6 0h1h1h1h1m1 0h1m2 0h1h1h1h1m2 0h1m3 0h1h1m2 0h1h1m2 0h1m1 0h1h1m2 0h1h1h1h1h1h1h1h1h1h1h1m1 0h1h1m6 0h1h1m7 0h1m17 0h1h1m1 0h1m1 0h1h1h1h1m1 0h1m5 0h1m15 0h1m11 0h1M177 2403h1m11 0h1m13 0h1m1 0h1m1 0h1h1m3 0h1m3 0h1h1h1h1m1 0h1h1h1m2 0h1m4 0h1m1 0h1h1m1 0h1m4 0h1m1 0h1m7 0h1m1 0h1m1 0h1m1 0h1m1 0h1h1h1h1m3 0h1h1m2 0h1m1 0h1h1h1m1 0h1h1m4 0h1m1 0h1m10 0h1h1m3 0h1m1 0h1m1 0h1m51 0h1M182 2404h1m4 0h1m3 0h1m6 0h1m1 0h1h1h1m1 0h1m1 0h1m1 0h1m1 0h1m6 0h1m2 0h1h1m1 0h1m2 0h1m1 0h1m2 0h1h1m1 0h1m3 0h1m3 0h1m1 0h1m2 0h1m1 0h1m1 0h1h1m2 0h1h1m3 0h1m3 0h1h1h1h1m8 0h1m3 0h1h1m1 0h1m2 0h1m5 0h1m3 0h1h1h1h1h1h1m3 0h1m7 0h1m2 0h1m6 0h1m17 0h1m24 0h1m37 0h1M194 2405h1m3 0h1h1h1h1m1 0h1h1m2 0h1m4 0h1m5 0h1h1h1m2 0h1h1m2 0h1m1 0h1m1 0h1h1m1 0h1m1 0h1m1 0h1h1m3 0h1m1 0h1m1 0h1m1 0h1h1m2 0h1m2 0h1h1h1m1 0h1h1m12 0h1h1m1 0h1m4 0h1h1m4 0h1m4 0h1h1m4 0h1m3 0h1m8 0h1m1 0h1m20 0h1m42 0h1M170 2406h1m8 0h1m10 0h1m3 0h1m6 0h1h1h1h1m1 0h1h1m10 0h1h1m1 0h1h1h1m5 0h1m3 0h1m5 0h1h1m4 0h1m1 0h1m1 0h1h1h1h1h1h1h1h1h1m1 0h1m3 0h1m6 0h1m3 0h1m8 0h1m2 0h1m8 0h1h1m1 0h1h1h1m4 0h1m5 0h1h1m14 0h1m1 0h1m6 0h1m6 0h1M174 2407h1m4 0h1h1m3 0h1m5 0h1m4 0h1m6 0h1h1h1h1h1m11 0h1h1h1h1h1h1m2 0h1h1m1 0h1m3 0h1m6 0h1h1h1m1 0h1m5 0h1m1 0h1h1h1m1 0h1m5 0h1m4 0h1m1 0h1m2 0h1m2 0h1m9 0h1m1 0h1m1 0h1m4 0h1h1m2 0h1h1h1m2 0h1m1 0h1m1 0h1m12 0h1m8 0h1m6 0h1m12 0h1M194 2408h1m4 0h1m1 0h1m3 0h1h1m12 0h1m1 0h1h1m2 0h1h1h1h1h1h1m1 0h1h1m2 0h1h1m2 0h1h1h1m1 0h1h1m1 0h1m1 0h1m3 0h1m2 0h1h1h1h1m2 0h1h1m1 0h1h1m2 0h1m7 0h1h1h1m2 0h1m1 0h1m4 0h1m4 0h1m2 0h1m5 0h1h1h1m1 0h1h1h1M171 2409h1m20 0h1h1m5 0h1m2 0h1h1h1m1 0h1m2 0h1m7 0h1m1 0h1m1 0h1h1m1 0h1h1m1 0h1h1m5 0h1m1 0h1h1h1m3 0h1h1h1m3 0h1h1h1m1 0h1h1h1m1 0h1m3 0h1m2 0h1m3 0h1m3 0h1m1 0h1h1m5 0h1m11 0h1h1m1 0h1h1m5 0h1m1 0h1m9 0h1m27 0h1M193 2410h1h1m1 0h1m2 0h1m1 0h1h1h1m1 0h1h1m2 0h1m6 0h1m1 0h1h1h1h1m1 0h1m1 0h1h1h1m2 0h1m2 0h1h1h1m5 0h1h1m2 0h1h1m1 0h1h1m1 0h1h1h1h1h1m4 0h1m1 0h1m1 0h1m3 0h1h1h1h1m1 0h1m16 0h1m3 0h1h1m1 0h1m4 0h1h1h1h1m43 0h1M190 2411h1m13 0h1m1 0h1m8 0h1h1m1 0h1h1m1 0h1h1m1 0h1m1 0h1h1h1m1 0h1h1m1 0h1m1 0h1m1 0h1h1m1 0h1m2 0h1m3 0h1h1h1m1 0h1h1h1m3 0h1m1 0h1m6 0h1m9 0h1m2 0h1m11 0h1m3 0h1h1h1h1m2 0h1m1 0h1h1h1m9 0h1h1m5 0h1m3 0h1M189 2412h1m4 0h1m7 0h1h1m3 0h1m9 0h1m1 0h1m1 0h1h1h1m2 0h1m1 0h1m1 0h1h1h1h1m10 0h1h1h1h1h1h1h1h1m1 0h1m1 0h1m2 0h1h1h1m8 0h1m2 0h1m4 0h1m12 0h1m2 0h1h1h1h1h1h1m2 0h1m2 0h1m2 0h1m1 0h1h1m18 0h1m2 0h1m1 0h1m14 0h1m25 0h1m38 0h1M189 2413h1m3 0h1m1 0h1m1 0h1h1m1 0h1h1h1h1h1h1m5 0h1m5 0h1h1m1 0h1h1h1h1h1h1m1 0h1h1h1h1m1 0h1h1m2 0h1m1 0h1h1h1h1h1m1 0h1h1m1 0h1h1m1 0h1h1m2 0h1m10 0h1h1h1m3 0h1m2 0h1m4 0h1m1 0h1h1m7 0h1m3 0h1h1h1h1h1h1m4 0h1m1 0h1h1h1m7 0h1m7 0h1m18 0h1m3 0h1m15 0h1M183 2414h1m6 0h1m2 0h1h1m6 0h1h1h1h1h1m7 0h1m6 0h1m1 0h1h1m3 0h1h1h1h1m2 0h1m2 0h1h1h1m1 0h1m1 0h1h1h1m1 0h1h1h1h1h1m2 0h1m6 0h1m2 0h1m12 0h1h1m3 0h1m7 0h1m4 0h1m1 0h1m1 0h1m3 0h1m3 0h1m14 0h1m62 0h1M179 2415h1m11 0h1m4 0h1m4 0h1m1 0h1h1h1h1m13 0h1h1h1h1h1h1h1m1 0h1h1m2 0h1h1h1h1h1h1m1 0h1h1h1h1h1h1m1 0h1h1h1h1m3 0h1m5 0h1m4 0h1m1 0h1m5 0h1m6 0h1m1 0h1m2 0h1m6 0h1h1m2 0h1m1 0h1h1h1m1 0h1m37 0h1m16 0h1M192 2416h1m1 0h1h1m3 0h1m4 0h1m8 0h1m4 0h1h1h1h1h1h1h1h1h1h1h1m1 0h1h1h1h1h1h1h1m1 0h1h1h1m1 0h1m1 0h1h1h1h1m4 0h1h1m5 0h1m1 0h1m4 0h1h1m4 0h1m3 0h1m8 0h1m5 0h1m1 0h1m1 0h1h1h1m1 0h1h1h1m1 0h1m4 0h1m2 0h1M155 2417h1m16 0h1m13 0h1m13 0h1m1 0h1h1h1m1 0h1m15 0h1m1 0h1h1m1 0h1h1h1h1h1m1 0h1h1h1m1 0h1h1m2 0h1h1h1h1h1m3 0h1m7 0h1m1 0h1m8 0h1m4 0h1m2 0h1m5 0h1m10 0h1h1m1 0h1m1 0h1m2 0h1m5 0h1m26 0h1m8 0h1M178 2418h1m22 0h1h1h1h1h1m1 0h1m13 0h1h1h1h1h1m1 0h1m1 0h1m1 0h1m2 0h1h1h1h1h1h1m3 0h1m1 0h1m2 0h1h1m7 0h1m2 0h1m7 0h1m1 0h1m2 0h1m3 0h1m2 0h1m7 0h1m3 0h1h1m1 0h1m1 0h1m2 0h1h1m1 0h1m4 0h1m5 0h1m22 0h1m9 0h1m33 0h1M157 2419h1m29 0h1m5 0h1m1 0h1m4 0h1m2 0h1m7 0h1h1m8 0h1h1h1h1h1h1h1h1h1h1m1 0h1h1m1 0h1m1 0h1h1m1 0h1h1h1h1h1m1 0h1m6 0h1m1 0h1m6 0h1m2 0h1m10 0h1m16 0h1h1h1h1m5 0h1m2 0h1m8 0h1m1 0h1h1m2 0h1m1 0h1m4 0h1m30 0h1M192 2420h1m8 0h1m5 0h1m1 0h1m11 0h1h1h1h1h1m1 0h1h1m2 0h1m1 0h1h1h1m1 0h1h1h1m1 0h1h1h1m7 0h1m4 0h1m3 0h1m1 0h1h1m6 0h1m3 0h1m4 0h1m6 0h1m2 0h1m2 0h1h1h1m1 0h1m1 0h1h1m10 0h1m22 0h1m1 0h1M181 2421h1m12 0h1m1 0h1h1m1 0h1m4 0h1m4 0h1m12 0h1m2 0h1m1 0h1h1h1h1h1h1h1h1h1h1h1h1h1h1h1h1m5 0h1h1m6 0h1m28 0h1m5 0h1h1m1 0h1m1 0h1h1m1 0h1m6 0h1h1m2 0h1m1 0h1m10 0h1m24 0h1M193 2422h1m3 0h1m1 0h1h1h1h1m13 0h1m4 0h1h1h1h1m1 0h1m1 0h1h1h1h1h1h1h1h1h1m1 0h1m1 0h1h1m8 0h1m1 0h1h1m1 0h1h1m1 0h1h1h1m1 0h1m5 0h1m11 0h1m1 0h1m1 0h1m5 0h1m1 0h1h1m3 0h1m1 0h1m2 0h1m3 0h1h1m22 0h1h1m39 0h1M159 2423h1m21 0h1m9 0h1m2 0h1m1 0h1m2 0h1h1h1h1h1m10 0h1m7 0h1h1m1 0h1h1h1h1h1h1h1h1h1h1h1h1h1h1h1m2 0h1m2 0h1m2 0h1m3 0h1m1 0h1m3 0h1m3 0h1m1 0h1m6 0h1m4 0h1m11 0h1m3 0h1m2 0h1h1h1m2 0h1h1h1h1m6 0h1m21 0h1M190 2424h1h1m4 0h1h1m1 0h1m2 0h1h1m5 0h1h1m5 0h1m6 0h1m1 0h1h1h1h1h1h1h1h1h1h1h1h1h1h1m5 0h1m9 0h1h1h1h1m11 0h1m22 0h1h1m3 0h1m8 0h1m7 0h1m1 0h1m13 0h1m9 0h1m1 0h1m38 0h1M153 2425h1m10 0h1h1m19 0h1m10 0h1h1m3 0h1h1m18 0h1m1 0h1h1h1h1h1h1h1h1h1h1h1h1h1h1h1m6 0h1m4 0h1h1m2 0h1m1 0h1m3 0h1m13 0h1m1 0h1m1 0h1m3 0h1m2 0h1m5 0h1m1 0h1m1 0h1h1h1m1 0h1m5 0h1h1h1m4 0h1m11 0h1m4 0h1m34 0h1h1M175 2426h1m2 0h1h1m16 0h1m1 0h1m3 0h1m3 0h1m16 0h1h1h1h1h1m1 0h1h1h1m1 0h1h1m10 0h1m4 0h1m8 0h1m8 0h1h1m9 0h1m6 0h1m5 0h1h1h1h1h1h1h1m3 0h1m1 0h1m1 0h1M186 2427h1m6 0h1m2 0h1m1 0h1h1h1m1 0h1h1m5 0h1h1m12 0h1h1h1h1h1h1h1h1h1h1h1m4 0h1m16 0h1h1m9 0h1m3 0h1m9 0h1m7 0h1m2 0h1h1h1m1 0h1h1m1 0h1m1 0h1h1m6 0h1m22 0h1m31 0h1m27 0h1h1M178 2428h1h1m8 0h1m9 0h1m2 0h1h1m21 0h1h1h1h1h1h1h1m1 0h1m8 0h1m5 0h1m12 0h1m1 0h1m2 0h1m4 0h1m1 0h1h1m9 0h1m6 0h1h1h1h1h1h1m3 0h1m4 0h1m1 0h1m3 0h1m11 0h1m10 0h1m2 0h1h1m59 0h1M160 2429h1m18 0h1m12 0h1h1m5 0h1h1h1h1m4 0h1m33 0h1m13 0h1m1 0h1h1h1m10 0h1m3 0h1m3 0h1m2 0h1m8 0h1h1h1m1 0h1h1m1 0h1h1m7 0h1m5 0h1m3 0h1m8 0h1m48 0h1m29 0h1M193 2430h1m4 0h1h1h1h1m8 0h1m2 0h1m4 0h1m5 0h1m17 0h1m21 0h1m4 0h1m1 0h1m5 0h1m4 0h1m8 0h1m1 0h1h1m2 0h1h1h1m2 0h1m2 0h1m5 0h1m2 0h1m51 0h1M176 2431h1m16 0h1m3 0h1m1 0h1h1h1m16 0h1m7 0h1m3 0h1m7 0h1m7 0h1h1m1 0h1h1m15 0h1m2 0h1m1 0h1m19 0h1m1 0h1h1m4 0h1m1 0h1h1m2 0h1m5 0h1m6 0h1m3 0h1m14 0h1h1m13 0h1M183 2432h1m8 0h1m5 0h1h1h1h1m3 0h1m1 0h1m22 0h1m23 0h1m3 0h1m5 0h1m4 0h1m2 0h1h1m1 0h1m3 0h1m1 0h1m7 0h1h1h1h1h1m3 0h1h1h1m15 0h1h1M192 2433h1m1 0h1m11 0h1m17 0h1m21 0h1m11 0h1m5 0h1m7 0h1m16 0h1h1h1h1h1h1h1h1m10 0h1m7 0h1m17 0h1m1 0h1m30 0h1m9 0h1M188 2434h1m8 0h1m3 0h1h1m34 0h1m5 0h1m3 0h1m20 0h1m17 0h1h1m3 0h1h1m2 0h1m26 0h1m4 0h1m7 0h1m3 0h1m4 0h1h1m4 0h1m2 0h1M193 2435h1m2 0h1m2 0h1h1m21 0h1m6 0h1m8 0h1m16 0h1m9 0h1m2 0h1m8 0h1m9 0h1h1h1h1m1 0h1m3 0h1h1m1 0h1h1m1 0h1h1h1m3 0h1m7 0h1m5 0h1m5 0h1h1m10 0h1m11 0h1m10 0h1m7 0h1m76 0h1M178 2436h1m5 0h1m7 0h1h1h1m1 0h1m1 0h1h1h1m10 0h1m2 0h1m1 0h1m1 0h1m5 0h1m3 0h1m8 0h1m2 0h1m6 0h1m6 0h1m7 0h1m1 0h1m6 0h1h1m2 0h1m8 0h1m1 0h1h1h1h1h1h1h1h1m1 0h1h1m4 0h1m4 0h1m10 0h1m49 0h1m18 0h1M163 2437h1m5 0h1m18 0h1m3 0h1m1 0h1h1m1 0h1h1m1 0h1h1m7 0h1m8 0h1m1 0h1h1m4 0h1m10 0h1m6 0h1m16 0h1m7 0h1m1 0h1m2 0h1m13 0h1h1h1h1m4 0h1m4 0h1m9 0h1m1 0h1m2 0h1h1m16 0h1m8 0h1m7 0h1m15 0h1m1 0h1M143 2438h1m45 0h1m9 0h1m3 0h1m18 0h1m4 0h1m17 0h1m7 0h1m5 0h1m2 0h1h1m5 0h1m2 0h1m9 0h1m3 0h1m1 0h1h1m1 0h1h1h1h1m1 0h1m2 0h1m2 0h1m18 0h1m6 0h1M168 2439h1m29 0h1h1h1h1m1 0h1m15 0h1m2 0h1m12 0h1m1 0h1m2 0h1m3 0h1m6 0h1h1m5 0h1m7 0h1m10 0h1m8 0h1m1 0h1h1h1h1m5 0h1m2 0h1m1 0h1m5 0h1m5 0h1m5 0h1m3 0h1m8 0h1m5 0h1m7 0h1m12 0h1M156 2440h1m41 0h1h1m1 0h1m12 0h1m15 0h1m4 0h1h1m17 0h1h1h1m12 0h1m6 0h1m9 0h1m6 0h1h1h1m3 0h1m9 0h1h1m16 0h1m5 0h1m17 0h1m11 0h1M180 2441h1m5 0h1m5 0h1h1h1h1m2 0h1h1m4 0h1m14 0h1m1 0h1m3 0h1m6 0h1m1 0h1m12 0h1m4 0h1m1 0h1m4 0h1m7 0h1m3 0h1m14 0h1h1h1m2 0h1h1m5 0h1m6 0h1m1 0h1h1m2 0h1m3 0h1m5 0h1m4 0h1h1m43 0h1m1 0h1M177 2442h1m9 0h1m5 0h1h1h1m2 0h1h1m1 0h1m2 0h1m8 0h1m2 0h1m3 0h1m5 0h1m3 0h1m4 0h1h1m7 0h1m23 0h1m7 0h1m6 0h1m1 0h1h1h1h1h1h1h1m1 0h1m4 0h1m1 0h1m17 0h1m14 0h1m12 0h1m5 0h1M184 2443h1m1 0h1m2 0h1h1m7 0h1h1m1 0h1m13 0h1h1m16 0h1h1m3 0h1m4 0h1m4 0h1m13 0h1m12 0h1m9 0h1h1h1h1h1m1 0h1m21 0h1m8 0h1m5 0h1m8 0h1m12 0h1m2 0h1m2 0h1m3 0h1M151 2444h1m9 0h1m35 0h1h1h1m6 0h1m5 0h1m2 0h1m12 0h1m8 0h1m1 0h1m5 0h1h1m6 0h1m3 0h1m8 0h1m2 0h1m6 0h1m1 0h1m4 0h1m1 0h1h1h1h1m2 0h1m7 0h1m17 0h1h1m19 0h1M189 2445h1h1m5 0h1m1 0h1h1h1h1m15 0h1m19 0h1h1m2 0h1m2 0h1m15 0h1m4 0h1m4 0h1m11 0h1m3 0h1h1h1h1h1h1m1 0h1h1m3 0h1h1m6 0h1m4 0h1m14 0h1m1 0h1m7 0h1M164 2446h1m18 0h1m2 0h1m9 0h1h1h1m1 0h1h1m2 0h1m1 0h1m13 0h1m2 0h1m2 0h1m2 0h1m10 0h1m4 0h1m1 0h1h1m5 0h1m1 0h1m2 0h1m24 0h1h1h1h1h1m1 0h1h1m1 0h1m1 0h1m1 0h1m3 0h1m2 0h1m1 0h1m11 0h1m2 0h1m8 0h1m9 0h1m74 0h1M191 2447h1m2 0h1h1m2 0h1h1h1m5 0h1m5 0h1m18 0h1m12 0h1m5 0h1m1 0h1m1 0h1m1 0h1m3 0h1h1m4 0h1m10 0h1m6 0h1h1m3 0h1m4 0h1m5 0h1m2 0h1m1 0h1m8 0h1m4 0h1m4 0h1m1 0h1m4 0h1m14 0h1m5 0h1M158 2448h1m11 0h1m15 0h1m2 0h1m5 0h1m2 0h1h1h1h1m9 0h1m17 0h1m20 0h1m2 0h1m3 0h1m2 0h1m5 0h1m1 0h1m1 0h1m11 0h1h1h1m1 0h1h1m5 0h1m2 0h1h1m12 0h1m5 0h1m2 0h1m3 0h1M173 2449h1m14 0h1m1 0h1m3 0h1m3 0h1h1h1m7 0h1m3 0h1m21 0h1m1 0h1m5 0h1m3 0h1m18 0h1h1m6 0h1m2 0h1m6 0h1m1 0h1m2 0h1h1m1 0h1m18 0h1m10 0h1m10 0h1m3 0h1m16 0h1m1 0h1M156 2450h1m23 0h1h1m14 0h1m1 0h1m1 0h1m4 0h1m15 0h1m13 0h1m4 0h1m14 0h1m21 0h1m4 0h1h1h1h1m1 0h1h1h1m1 0h1m4 0h1h1m9 0h1m1 0h1h1m3 0h1m14 0h1m37 0h1M182 2451h1h1m1 0h1m6 0h1m1 0h1m4 0h1m2 0h1m2 0h1m1 0h1m15 0h1m8 0h1h1h1m3 0h1m18 0h1m2 0h1m20 0h1m3 0h1h1h1h1m1 0h1h1h1m5 0h1m2 0h1m1 0h1m5 0h1m19 0h1m1 0h1m4 0h1m8 0h1m8 0h1m2 0h1M150 2452h1m23 0h1h1m10 0h1m4 0h1m3 0h1m3 0h1h1m4 0h1m42 0h1m1 0h1m7 0h1m10 0h1m3 0h1m8 0h1m1 0h1m2 0h1M147 2453h1m28 0h1m15 0h1h1h1m2 0h1h1h1h1m6 0h1m10 0h1h1m8 0h1m6 0h1m16 0h1m1 0h1m7 0h1h1m4 0h1m1 0h1m9 0h1h1h1m2 0h1m3 0h1h1h1m2 0h1m9 0h1m3 0h1m15 0h1m7 0h1m83 0h1M150 2454h1m36 0h1m5 0h1m3 0h1h1h1h1m7 0h1m29 0h1m13 0h1m1 0h1m1 0h1m4 0h1m2 0h1m5 0h1m1 0h1m1 0h1m6 0h1m1 0h1h1m2 0h1m1 0h1m4 0h1m1 0h1m11 0h1m1 0h1m2 0h1m11 0h1m20 0h1M164 2455h1m10 0h1m8 0h1m7 0h1h1h1h1m1 0h1m1 0h1m3 0h1m26 0h1m2 0h1m11 0h1m9 0h1h1m2 0h1m8 0h1m2 0h1h1m6 0h1h1h1m1 0h1m3 0h1m7 0h1h1h1h1m17 0h1m5 0h1m22 0h1m2 0h1m5 0h1m23 0h1M155 2456h1h1m1 0h1m11 0h1m6 0h1m2 0h1m10 0h1m4 0h1h1m2 0h1m5 0h1m3 0h1m1 0h1m2 0h1m17 0h1m3 0h1m5 0h1m7 0h1m3 0h1m3 0h1m10 0h1m3 0h1h1h1m1 0h1h1h1h1h1h1h1m10 0h1m7 0h1m3 0h1m17 0h1m11 0h1m1 0h1m2 0h1m6 0h1m7 0h1m43 0h1M154 2457h1m17 0h1m2 0h1m16 0h1m4 0h1m1 0h1m12 0h1m1 0h1m22 0h1m4 0h1m7 0h1m13 0h1m5 0h1m6 0h1h1m1 0h1h1h1m2 0h1h1h1m5 0h1m2 0h1h1h1m10 0h1h1m3 0h1m11 0h1h1m3 0h1M170 2458h1m2 0h1m12 0h1m4 0h1h1m1 0h1m1 0h1h1m1 0h1m2 0h1m51 0h1h1m13 0h1m8 0h1m1 0h1m1 0h1h1m5 0h1m2 0h1m9 0h1m1 0h1m2 0h1m1 0h1m4 0h1m3 0h1m5 0h1m21 0h1M163 2459h1m1 0h1m4 0h1m1 0h1m12 0h1m2 0h1m1 0h1m2 0h1m5 0h1h1m12 0h1m16 0h1m4 0h1m5 0h1m4 0h1m7 0h1m20 0h1h1m1 0h1h1h1h1h1h1m1 0h1m2 0h1m1 0h1h1m5 0h1m4 0h1m1 0h1m6 0h1m14 0h1m5 0h1m12 0h1h1m4 0h1m2 0h1m1 0h1m1 0h1M143 2460h1m15 0h1m2 0h1m8 0h1m20 0h1m1 0h1m5 0h1m10 0h1h1m9 0h1m8 0h1m3 0h1m1 0h1m2 0h1m3 0h1h1m6 0h1m11 0h1m1 0h1m1 0h1h1m5 0h1h1h1h1m1 0h1h1m1 0h1m2 0h1m1 0h1m2 0h1h1m1 0h1m4 0h1m6 0h1m7 0h1h1m7 0h1m9 0h1m8 0h1m10 0h1M147 2461h1m9 0h1m4 0h1m6 0h1m14 0h1m4 0h1h1h1m5 0h1m1 0h1h1m5 0h1m13 0h1m1 0h1m1 0h1m11 0h1m9 0h1h1m4 0h1m3 0h1m2 0h1m1 0h1m12 0h1h1h1h1h1m1 0h1h1h1m1 0h1h1m5 0h1m4 0h1m1 0h1m11 0h1m1 0h1h1m1 0h1m3 0h1h1m4 0h1m5 0h1m13 0h1m2 0h1h1m17 0h1m30 0h1M175 2462h1m15 0h1m3 0h1h1m3 0h1m17 0h1m3 0h1m26 0h1h1m3 0h1m1 0h1m9 0h1m7 0h1h1h1m2 0h1m1 0h1m2 0h1m11 0h1m13 0h1m5 0h1m2 0h1m1 0h1m6 0h1m15 0h1m2 0h1m14 0h1m6 0h1m13 0h1m28 0h1M164 2463h1m11 0h1h1m6 0h1m3 0h1h1h1m3 0h1h1m3 0h1m3 0h1m4 0h1m3 0h1m8 0h1m13 0h1m5 0h1h1m10 0h1m2 0h1h1m5 0h1m7 0h1h1h1h1h1h1h1h1h1h1h1m1 0h1m10 0h1m19 0h1h1m5 0h1m1 0h1m12 0h1m2 0h1M130 2464h1m12 0h1m2 0h1m7 0h1m23 0h1m11 0h1m2 0h1m1 0h1m1 0h1m1 0h1m4 0h1m14 0h1m3 0h1m2 0h1m7 0h1m2 0h1m4 0h1h1m4 0h1m3 0h1m7 0h1h1m8 0h1m2 0h1h1h1h1h1h1m2 0h1m2 0h1m4 0h1h1m2 0h1m2 0h1h1m3 0h1m12 0h1m15 0h1m3 0h1m1 0h1m1 0h1h1m12 0h1m16 0h1m14 0h1m43 0h1M158 2465h1m7 0h1m2 0h1m1 0h1m7 0h1m5 0h1m4 0h1h1h1h1h1m1 0h1h1h1h1m5 0h1m3 0h1m16 0h1m1 0h1h1h1m4 0h1h1m2 0h1m4 0h1h1m2 0h1m5 0h1h1m1 0h1h1m9 0h1h1h1h1h1h1m4 0h1m1 0h1m1 0h1m5 0h1m1 0h1m6 0h1m14 0h1m7 0h1m3 0h1m13 0h1m3 0h1m2 0h1m3 0h1M159 2466h1m2 0h1m4 0h1m4 0h1m8 0h1h1m6 0h1h1h1h1m1 0h1m1 0h1h1m1 0h1h1m4 0h1m2 0h1m11 0h1m3 0h1h1m22 0h1m1 0h1m11 0h1h1m5 0h1h1h1h1h1m1 0h1h1h1m3 0h1h1m2 0h1h1m4 0h1h1m4 0h1h1m1 0h1m4 0h1m2 0h1m1 0h1m2 0h1m7 0h1m15 0h1m2 0h1m8 0h1m6 0h1m22 0h1M143 2467h1m3 0h1m4 0h1m8 0h1m4 0h1h1m2 0h1m2 0h1m5 0h1m9 0h1m4 0h1m3 0h1m1 0h1m7 0h1m12 0h1m6 0h1m4 0h1m1 0h1m1 0h1m1 0h1h1m7 0h1m15 0h1h1h1h1h1h1m1 0h1m2 0h1h1m1 0h1m2 0h1m3 0h1m1 0h1m1 0h1h1m1 0h1m1 0h1h1m8 0h1h1m4 0h1m3 0h1m1 0h1m3 0h1m7 0h1m10 0h1m11 0h1m5 0h1M155 2468h1m7 0h1m2 0h1m1 0h1m10 0h1m7 0h1m2 0h1m2 0h1m1 0h1h1h1h1m1 0h1h1m1 0h1h1m6 0h1m2 0h1m8 0h1m3 0h1m6 0h1m6 0h1m3 0h1m11 0h1m10 0h1m1 0h1m2 0h1h1h1m1 0h1m1 0h1h1m1 0h1m1 0h1m1 0h1m1 0h1h1m1 0h1m3 0h1m4 0h1m11 0h1m3 0h1m4 0h1m2 0h1m7 0h1m6 0h1m10 0h1m6 0h1m18 0h1M133 2469h1m10 0h1m1 0h1h1m8 0h1h1m6 0h1m1 0h1h1m2 0h1m5 0h1m2 0h1m4 0h1m4 0h1h1m2 0h1m1 0h1m1 0h1m3 0h1m8 0h1h1m18 0h1m3 0h1m1 0h1h1h1m1 0h1m4 0h1m4 0h1h1m4 0h1h1m1 0h1h1h1h1m2 0h1h1m2 0h1h1h1h1h1m1 0h1h1m2 0h1m3 0h1m1 0h1m4 0h1m1 0h1m1 0h1h1h1h1h1m8 0h1h1m1 0h1m13 0h1m1 0h1m2 0h1m3 0h1h1m16 0h1m8 0h1m20 0h1M142 2470h1m15 0h1m4 0h1m3 0h1m2 0h1m6 0h1h1m2 0h1m2 0h1m2 0h1m1 0h1m1 0h1m2 0h1m2 0h1m1 0h1h1h1m17 0h1h1m18 0h1m4 0h1h1h1h1m3 0h1h1h1m4 0h1m4 0h1h1h1m1 0h1h1h1h1h1m2 0h1m1 0h1m3 0h1m4 0h1m7 0h1m3 0h1h1m7 0h1m2 0h1m7 0h1m7 0h1m3 0h1m1 0h1m5 0h1h1m8 0h1m1 0h1m19 0h1m2 0h1M136 2471h1m35 0h1m7 0h1m2 0h1m2 0h1h1h1m3 0h1m1 0h1m1 0h1m2 0h1m2 0h1m1 0h1m4 0h1h1m16 0h1m3 0h1m2 0h1m1 0h1m2 0h1h1m4 0h1h1m4 0h1h1m1 0h1m5 0h1h1h1h1h1h1h1m3 0h1h1h1m4 0h1h1m2 0h1h1h1h1m2 0h1h1h1m8 0h1m1 0h1m7 0h1h1h1m1 0h1h1h1m7 0h1m7 0h1m4 0h1h1m2 0h1m2 0h1m5 0h1m10 0h1m3 0h1m13 0h1m1 0h1M143 2472h1m12 0h1m7 0h1h1m9 0h1m2 0h1h1m13 0h1h1h1m1 0h1h1h1m12 0h1m12 0h1h1m2 0h1h1m3 0h1m1 0h1m1 0h1h1m5 0h1h1h1h1h1h1m4 0h1h1h1m1 0h1m1 0h1h1h1h1h1h1m1 0h1h1h1m1 0h1m1 0h1h1h1h1h1h1m1 0h1h1h1h1h1m1 0h1h1m1 0h1h1m1 0h1h1h1m4 0h1m4 0h1m2 0h1m4 0h1m1 0h1m9 0h1m5 0h1m2 0h1m3 0h1h1m2 0h1m1 0h1m2 0h1m10 0h1m1 0h1m2 0h1m7 0h1m5 0h1M149 2473h1m35 0h1m2 0h1h1h1m1 0h1m1 0h1m1 0h1h1h1h1h1m5 0h1m1 0h1m1 0h1h1m8 0h1m1 0h1m4 0h1m4 0h1h1m1 0h1m13 0h1m1 0h1m6 0h1h1h1h1h1h1m4 0h1h1m1 0h1h1h1h1m1 0h1h1m1 0h1h1h1m1 0h1m2 0h1h1m1 0h1m3 0h1h1m1 0h1m4 0h1m4 0h1m1 0h1m3 0h1m2 0h1m3 0h1m3 0h1h1m1 0h1m1 0h1h1m3 0h1m2 0h1m1 0h1m8 0h1m10 0h1m18 0h1M133 2474h1m9 0h1m6 0h1m7 0h1m2 0h1m4 0h1m2 0h1h1m2 0h1h1m5 0h1m2 0h1h1m1 0h1h1m1 0h1h1h1h1h1m2 0h1m21 0h1m3 0h1m1 0h1m4 0h1h1m6 0h1m5 0h1m1 0h1m4 0h1m1 0h1m3 0h1h1h1h1h1m1 0h1m2 0h1m1 0h1h1m1 0h1h1h1h1h1h1m1 0h1m2 0h1h1m1 0h1h1h1m7 0h1m4 0h1m2 0h1h1m1 0h1h1h1m2 0h1m1 0h1h1h1m1 0h1m3 0h1h1m4 0h1m4 0h1h1m10 0h1m5 0h1m4 0h1m5 0h1m2 0h1m8 0h1m5 0h1m18 0h1M146 2475h1m1 0h1m5 0h1m1 0h1h1m2 0h1m4 0h1m17 0h1h1h1m3 0h1m2 0h1h1m2 0h1m2 0h1h1m5 0h1m8 0h1m2 0h1h1m5 0h1m5 0h1m2 0h1h1m2 0h1m1 0h1h1m2 0h1m1 0h1m1 0h1m3 0h1m2 0h1m1 0h1m2 0h1h1h1m1 0h1m1 0h1h1h1m2 0h1h1h1m1 0h1h1m2 0h1m2 0h1m1 0h1m1 0h1h1h1h1m1 0h1m1 0h1h1h1h1m2 0h1m1 0h1m1 0h1m2 0h1h1h1h1h1h1h1h1h1m3 0h1m1 0h1h1h1h1m1 0h1h1m2 0h1m1 0h1m5 0h1m1 0h1m3 0h1m1 0h1h1m1 0h1h1m2 0h1m3 0h1m7 0h1m2 0h1m4 0h1m26 0h1m12 0h1m7 0h1M137 2476h1m15 0h1m2 0h1m17 0h1m7 0h1h1m2 0h1h1m2 0h1m1 0h1m3 0h1h1h1h1h1m6 0h1m3 0h1h1m3 0h1m4 0h1m8 0h1h1m3 0h1m2 0h1h1h1m5 0h1h1h1m2 0h1h1h1h1h1h1h1h1h1m1 0h1h1h1h1h1m1 0h1h1h1h1m2 0h1h1h1m1 0h1m1 0h1m1 0h1h1h1m1 0h1m1 0h1m1 0h1h1h1h1m1 0h1h1h1h1h1h1h1h1m1 0h1m1 0h1h1h1h1h1h1h1m1 0h1m1 0h1m2 0h1m5 0h1m1 0h1m1 0h1m3 0h1h1h1m3 0h1h1h1h1h1h1m2 0h1m1 0h1m1 0h1m1 0h1m2 0h1m25 0h1M156 2477h1m4 0h1h1m2 0h1m12 0h1m3 0h1m2 0h1m2 0h1m3 0h1h1h1m2 0h1h1h1h1m6 0h1m15 0h1m4 0h1m1 0h1h1h1h1m1 0h1h1m6 0h1m1 0h1h1m1 0h1h1m3 0h1h1h1h1m1 0h1h1h1h1h1h1h1m1 0h1h1h1m1 0h1h1h1h1h1h1m1 0h1m1 0h1m3 0h1h1h1h1h1h1h1h1m4 0h1h1h1h1h1h1h1h1h1h1h1h1h1h1h1h1h1h1h1m4 0h1m1 0h1m1 0h1h1h1h1h1m2 0h1m3 0h1m1 0h1m1 0h1h1m1 0h1m3 0h1h1h1m1 0h1m1 0h1m1 0h1m14 0h1h1m6 0h1m11 0h1m1 0h1M141 2478h1m7 0h1m17 0h1m10 0h1h1m4 0h1h1m2 0h1m1 0h1m1 0h1m1 0h1m1 0h1h1h1h1h1h1h1m4 0h1h1h1m3 0h1m2 0h1h1m1 0h1h1h1m1 0h1h1m2 0h1m1 0h1m2 0h1h1h1h1h1h1h1m1 0h1m5 0h1m1 0h1m2 0h1h1m1 0h1h1h1h1h1h1m1 0h1h1h1h1h1m3 0h1m1 0h1h1h1h1h1h1h1h1h1h1m1 0h1m1 0h1h1h1h1h1m1 0h1m1 0h1h1m1 0h1h1m2 0h1h1h1h1h1h1h1h1h1h1m4 0h1h1h1m5 0h1h1h1h1m1 0h1m2 0h1m2 0h1m11 0h1m2 0h1m2 0h1m1 0h1h1h1m8 0h1m41 0h1M151 2479h1m13 0h1m4 0h1h1h1m2 0h1m7 0h1m1 0h1h1h1m2 0h1h1h1m1 0h1m1 0h1h1h1h1m6 0h1h1m3 0h1m7 0h1h1m3 0h1m1 0h1h1m7 0h1h1h1h1m2 0h1m3 0h1m3 0h1h1h1h1h1m1 0h1m1 0h1h1h1h1m1 0h1h1h1h1m2 0h1h1h1h1h1m3 0h1h1m2 0h1m1 0h1h1h1m1 0h1h1m1 0h1h1h1h1h1h1h1m2 0h1m1 0h1m2 0h1m1 0h1h1h1h1h1m2 0h1m3 0h1h1h1h1h1h1h1h1h1m2 0h1h1m1 0h1m1 0h1m3 0h1m2 0h1m1 0h1h1h1h1m2 0h1h1h1m1 0h1h1m1 0h1m7 0h1m2 0h1m1 0h1m9 0h1M141 2480h1h1m20 0h1m10 0h1m1 0h1m2 0h1m1 0h1h1m5 0h1h1h1h1m2 0h1h1h1h1h1h1h1h1h1h1m1 0h1m2 0h1h1h1m1 0h1m1 0h1m4 0h1m2 0h1h1m1 0h1m2 0h1m4 0h1m1 0h1m8 0h1m3 0h1h1h1h1h1h1h1h1h1h1h1m1 0h1h1m1 0h1h1h1h1m1 0h1h1h1h1m1 0h1h1h1h1m1 0h1h1h1m1 0h1h1h1h1h1m2 0h1m1 0h1m1 0h1h1m1 0h1h1m1 0h1h1h1h1h1h1m2 0h1h1h1h1h1m1 0h1h1m1 0h1h1m2 0h1h1h1h1m1 0h1h1h1m1 0h1m1 0h1m2 0h1m1 0h1h1m9 0h1m1 0h1m3 0h1m3 0h1m9 0h1m18 0h1m2 0h1m1 0h1m2 0h1m9 0h1M132 2481h1m12 0h1m12 0h1m7 0h1h1m3 0h1m4 0h1m7 0h1m1 0h1m2 0h1h1h1m2 0h1h1h1h1h1h1m2 0h1m3 0h1m1 0h1h1m1 0h1m1 0h1h1m4 0h1m3 0h1h1m6 0h1h1m1 0h1m2 0h1m2 0h1m2 0h1m4 0h1h1h1h1h1h1h1m1 0h1h1h1h1h1m1 0h1h1m1 0h1h1h1h1h1m1 0h1h1h1h1h1m1 0h1m2 0h1h1h1h1h1h1h1h1h1h1h1m1 0h1h1m1 0h1h1h1m2 0h1m1 0h1h1m1 0h1h1m1 0h1h1m1 0h1h1h1h1h1h1h1h1m1 0h1h1h1m1 0h1h1m5 0h1m2 0h1h1m3 0h1h1h1m5 0h1m1 0h1h1m5 0h1m13 0h1m11 0h1m4 0h1m15 0h1M157 2482h1m14 0h1h1m9 0h1m6 0h1m1 0h1h1m3 0h1h1h1m5 0h1m1 0h1m1 0h1m3 0h1m10 0h1h1h1h1h1h1m1 0h1h1m3 0h1h1h1h1m1 0h1m1 0h1h1h1h1m1 0h1m1 0h1h1h1h1m1 0h1h1h1h1h1h1m5 0h1m3 0h1m2 0h1m1 0h1h1h1m1 0h1h1h1h1h1h1h1h1h1m1 0h1h1h1h1h1m1 0h1h1h1h1h1h1h1h1h1m1 0h1m3 0h1h1m1 0h1h1h1h1h1h1h1h1m1 0h1h1m1 0h1h1m1 0h1h1m1 0h1h1m1 0h1h1m4 0h1m11 0h1m1 0h1m6 0h1m1 0h1m30 0h1m8 0h1m10 0h1M148 2483h1m12 0h1m1 0h1m10 0h1m2 0h1h1m9 0h1m2 0h1m1 0h1h1h1h1h1h1h1m3 0h1m2 0h1m3 0h1h1h1h1h1m3 0h1m3 0h1h1h1m2 0h1m4 0h1m2 0h1m3 0h1m3 0h1h1h1h1h1m1 0h1h1h1m1 0h1h1h1m1 0h1h1m1 0h1m2 0h1h1m1 0h1h1h1h1m2 0h1h1m4 0h1m1 0h1h1h1h1h1m1 0h1h1h1m1 0h1h1h1h1h1h1m3 0h1h1h1h1h1h1m1 0h1h1m1 0h1m1 0h1h1h1h1h1m1 0h1h1h1h1h1m1 0h1h1h1m4 0h1h1h1m3 0h1h1h1h1m3 0h1h1m1 0h1m1 0h1m3 0h1m6 0h1m8 0h1m25 0h1M153 2484h1m24 0h1m8 0h1m1 0h1m1 0h1h1h1h1h1h1h1h1m1 0h1m3 0h1m1 0h1m7 0h1m1 0h1h1h1m1 0h1m1 0h1m5 0h1m4 0h1h1m3 0h1h1m3 0h1m1 0h1h1m1 0h1h1h1h1h1h1h1h1h1h1m3 0h1m1 0h1h1h1h1m1 0h1h1h1m1 0h1m4 0h1h1m3 0h1m1 0h1m1 0h1h1m1 0h1m1 0h1h1h1h1h1h1h1h1h1m1 0h1m1 0h1h1h1h1h1h1h1h1h1h1h1h1m1 0h1h1h1h1h1h1m2 0h1h1m1 0h1h1m1 0h1h1h1m1 0h1m1 0h1h1h1m1 0h1m1 0h1m1 0h1m1 0h1m1 0h1m3 0h1m2 0h1m6 0h1m1 0h1m20 0h1m13 0h1m14 0h1M144 2485h1m6 0h1m13 0h1m4 0h1m1 0h1h1m1 0h1m6 0h1m6 0h1m3 0h1h1h1h1m1 0h1h1h1m3 0h1m3 0h1h1h1h1m4 0h1m9 0h1m3 0h1m1 0h1m1 0h1m2 0h1m3 0h1h1h1m1 0h1h1h1h1h1m2 0h1m1 0h1h1h1m4 0h1m1 0h1h1m1 0h1h1h1h1h1h1h1m5 0h1h1m1 0h1h1h1m1 0h1h1h1h1h1m1 0h1h1m1 0h1h1h1h1h1m2 0h1h1m1 0h1m1 0h1m1 0h1h1h1h1h1h1h1h1m2 0h1h1m2 0h1h1h1h1h1h1h1m2 0h1h1h1m1 0h1m3 0h1h1m2 0h1m4 0h1m1 0h1m1 0h1m1 0h1m4 0h1m11 0h1m17 0h1m9 0h1M160 2486h1m1 0h1h1m7 0h1m5 0h1m2 0h1m2 0h1m7 0h1h1m1 0h1m1 0h1h1h1h1h1m2 0h1m2 0h1m11 0h1m2 0h1m4 0h1h1h1m1 0h1m5 0h1m2 0h1h1h1h1h1h1h1m4 0h1h1m1 0h1h1h1m3 0h1h1h1m2 0h1h1h1m1 0h1m3 0h1h1h1h1h1h1m1 0h1m1 0h1m5 0h1h1m1 0h1h1m2 0h1h1h1h1h1h1m2 0h1h1m3 0h1h1h1h1h1h1m1 0h1h1h1h1m1 0h1h1h1h1h1m1 0h1m2 0h1h1m1 0h1m2 0h1h1h1m4 0h1h1h1m2 0h1m1 0h1m4 0h1m6 0h1m20 0h1M156 2487h1m5 0h1m5 0h1m7 0h1m12 0h1m1 0h1m1 0h1m1 0h1m1 0h1m1 0h1h1h1m11 0h1m3 0h1h1m1 0h1m2 0h1m10 0h1m1 0h1h1m2 0h1h1h1h1m3 0h1m1 0h1h1h1m1 0h1h1h1m2 0h1h1h1m2 0h1m3 0h1h1m1 0h1m1 0h1h1h1h1h1h1m2 0h1h1h1h1m2 0h1h1m1 0h1h1h1m1 0h1h1h1h1h1h1m1 0h1h1h1m1 0h1m1 0h1h1m1 0h1h1m1 0h1h1m1 0h1m4 0h1m1 0h1h1h1m3 0h1m1 0h1h1h1h1h1m1 0h1m3 0h1h1h1h1m2 0h1m4 0h1m1 0h1m3 0h1m2 0h1m23 0h1m16 0h1m2 0h1m5 0h1M141 2488h1m9 0h1m2 0h1m1 0h1m7 0h1m15 0h1m4 0h1m2 0h1h1m4 0h1m1 0h1m1 0h1h1h1h1m6 0h1h1m1 0h1m3 0h1m7 0h1m4 0h1m5 0h1m1 0h1h1h1h1m1 0h1m3 0h1m2 0h1h1m1 0h1m1 0h1m2 0h1m6 0h1h1h1m1 0h1h1h1m1 0h1m1 0h1h1h1h1m1 0h1m4 0h1m1 0h1h1m1 0h1h1m1 0h1h1h1h1m1 0h1h1h1h1m1 0h1m1 0h1m3 0h1h1h1h1m2 0h1h1h1h1h1m4 0h1m1 0h1h1m3 0h1m1 0h1m4 0h1h1m1 0h1m5 0h1m2 0h1m5 0h1m4 0h1m4 0h1h1h1h1m3 0h1m3 0h1m38 0h1M151 2489h1m11 0h1m3 0h1m3 0h1m2 0h1m9 0h1m1 0h1m2 0h1m2 0h1m1 0h1h1m2 0h1h1h1m7 0h1m7 0h1h1m4 0h1m1 0h1m3 0h1m3 0h1h1h1h1h1m2 0h1h1h1h1h1h1m2 0h1h1m1 0h1m2 0h1h1h1h1m1 0h1h1h1h1m2 0h1m2 0h1m1 0h1h1h1m1 0h1m3 0h1h1m1 0h1h1h1h1m4 0h1h1h1m2 0h1h1h1h1m1 0h1m1 0h1h1h1m3 0h1m2 0h1h1m5 0h1h1h1m4 0h1m5 0h1m3 0h1h1m4 0h1m9 0h1m8 0h1h1m9 0h1m7 0h1m3 0h1M172 2490h1h1m9 0h1m9 0h1h1m2 0h1m1 0h1h1h1m2 0h1m2 0h1h1h1m7 0h1m1 0h1m3 0h1h1m1 0h1m2 0h1h1h1h1m1 0h1h1h1m2 0h1h1m3 0h1m3 0h1m2 0h1m3 0h1m2 0h1h1m1 0h1h1m2 0h1m5 0h1m5 0h1h1m3 0h1m8 0h1m1 0h1m1 0h1h1m2 0h1m1 0h1h1m2 0h1h1m1 0h1m2 0h1m1 0h1m3 0h1h1h1h1m3 0h1h1m1 0h1m1 0h1m7 0h1h1m1 0h1h1m12 0h1m2 0h1m8 0h1m31 0h1M148 2491h1m24 0h1m8 0h1m1 0h1m1 0h1m3 0h1m5 0h1h1h1h1h1m1 0h1m16 0h1m9 0h1h1h1m2 0h1h1h1h1h1m1 0h1h1h1h1h1m4 0h1m1 0h1m1 0h1m1 0h1h1h1h1m1 0h1m4 0h1m2 0h1h1m3 0h1m1 0h1m1 0h1m1 0h1h1h1m3 0h1h1h1h1h1m1 0h1m2 0h1m1 0h1h1m1 0h1m1 0h1h1h1m1 0h1h1m3 0h1m1 0h1h1m3 0h1m1 0h1m1 0h1h1h1m4 0h1h1h1m6 0h1m1 0h1h1m1 0h1m8 0h1m30 0h1m1 0h1m6 0h1m11 0h1M158 2492h1m10 0h1m2 0h1m24 0h1h1h1h1h1h1h1m18 0h1m2 0h1h1m1 0h1h1h1h1h1h1h1h1h1m1 0h1h1h1h1m2 0h1h1h1m1 0h1m6 0h1m4 0h1m1 0h1h1m2 0h1m2 0h1m5 0h1h1m2 0h1m5 0h1m1 0h1h1m1 0h1m1 0h1m1 0h1m3 0h1m8 0h1m1 0h1h1h1m7 0h1m2 0h1m1 0h1m2 0h1m1 0h1m1 0h1m28 0h1m35 0h1m49 0h1M190 2493h1m4 0h1h1m3 0h1h1h1h1h1m15 0h1m2 0h1m2 0h1h1h1h1m1 0h1m1 0h1m1 0h1m1 0h1h1h1m1 0h1h1m1 0h1h1m1 0h1h1h1h1m2 0h1m1 0h1h1m2 0h1m1 0h1m5 0h1m2 0h1h1m3 0h1m1 0h1h1m5 0h1m2 0h1h1h1m1 0h1m1 0h1h1h1h1h1h1m3 0h1m3 0h1m7 0h1m2 0h1m8 0h1h1m1 0h1m1 0h1h1h1h1m4 0h1m6 0h1m5 0h1m8 0h1M137 2494h1m30 0h1m16 0h1m1 0h1m2 0h1m4 0h1h1h1m1 0h1h1h1m1 0h1h1h1h1h1h1m8 0h1m2 0h1h1h1h1h1m2 0h1h1h1h1h1h1h1m1 0h1h1h1h1h1m3 0h1m1 0h1h1m2 0h1m1 0h1m2 0h1m4 0h1m2 0h1m7 0h1m1 0h1m2 0h1h1h1m6 0h1m1 0h1m2 0h1m7 0h1m10 0h1m1 0h1m3 0h1m2 0h1m1 0h1h1m9 0h1m3 0h1m2 0h1m1 0h1m4 0h1m10 0h1m9 0h1m15 0h1M146 2495h1m28 0h1m5 0h1m8 0h1m4 0h1m4 0h1h1h1h1m1 0h1h1h1h1h1h1m1 0h1h1h1h1h1h1h1h1h1h1h1h1m1 0h1h1h1h1h1m1 0h1m1 0h1m4 0h1m2 0h1m1 0h1m10 0h1m2 0h1m3 0h1m2 0h1m2 0h1h1m1 0h1m3 0h1m1 0h1m4 0h1m9 0h1m7 0h1m3 0h1m20 0h1m6 0h1m1 0h1m4 0h1h1m3 0h1m40 0h1h1M163 2496h1m13 0h1m4 0h1m8 0h1h1h1h1m2 0h1h1h1h1h1h1h1h1h1m1 0h1h1h1h1h1h1h1h1h1h1m1 0h1m2 0h1h1m1 0h1h1h1m1 0h1m1 0h1m3 0h1m2 0h1m2 0h1m5 0h1m2 0h1m3 0h1h1m2 0h1m1 0h1m5 0h1h1m3 0h1m5 0h1m11 0h1m6 0h1m3 0h1m8 0h1m4 0h1h1h1m32 0h1m11 0h1m1 0h1h1m23 0h1M177 2497h1m12 0h1m6 0h1m1 0h1m2 0h1m1 0h1h1m1 0h1h1h1h1h1h1h1h1h1h1h1h1h1h1h1h1h1m2 0h1h1h1h1h1m1 0h1m1 0h1m1 0h1h1m4 0h1h1m7 0h1m7 0h1h1h1h1m1 0h1m15 0h1m4 0h1m10 0h1h1m2 0h1h1m1 0h1m1 0h1m3 0h1m1 0h1m12 0h1m3 0h1m3 0h1m18 0h1M171 2498h1m8 0h1m7 0h1h1m1 0h1m4 0h1h1h1m1 0h1h1h1m1 0h1h1m1 0h1h1h1m1 0h1h1h1h1h1m2 0h1h1h1h1h1m1 0h1m1 0h1m1 0h1m1 0h1h1h1m15 0h1m1 0h1m6 0h1m3 0h1m8 0h1m2 0h1m1 0h1m3 0h1m1 0h1m8 0h1m5 0h1m1 0h1h1m7 0h1m17 0h1m6 0h1m36 0h1m5 0h1m15 0h1m14 0h1M174 2499h1m14 0h1m1 0h1m4 0h1h1m4 0h1h1h1m2 0h1h1m1 0h1m2 0h1h1m3 0h1h1h1h1m3 0h1h1m6 0h1h1m3 0h1m1 0h1m10 0h1m15 0h1m3 0h1m4 0h1m5 0h1m6 0h1m26 0h1h1" stroke="#000" stroke-width="1.3" fill="none" shape-rendering="crispEdges"/>
<path d="M198.1 2474.3L197.8 2469.8L197.3 2464.7L198.1 2459.3L196.9 2453.6L197.9 2447.9L198.4 2442.1L199.2 2435.9L201.2 2429.8L200.7 2423.7L203 2418.6L204.2 2413.6L204.8 2408.6L207 2404.5L207.4 2400.4L209.2 2397.9L211.7 2395.3L214.8 2396.7L217.2 2398.2L218.2 2400.7L219.8 2402.9L219.4 2406.1L221 2409L220.8 2412.5L220.9 2415.7L223.9 2417.8L224.2 2420.4L222.6 2423.5L224.4 2425.1L225.4 2426L226.1 2425.9L227.1 2425.8L229.3 2426.8L232.2 2426.3L234.6 2424.1L237.1 2421.8L240.3 2420.1L242.5 2416.3L246.2 2413.7L249.2 2410L252.8 2407.1L257.1 2404.6L259.5 2399.9L263.9 2397L266.8 2393L269.9 2389.9L271.6 2385.8L274.8 2383.6L277.7 2381.5L281.3 2381.5L283.8 2378.6L286.6 2380.7L289.6 2380.9L290.7 2383.9L292.9 2385.9L295.2 2388.3L296 2391.9L295.5 2396L296.2 2400.2L295.3 2404.7L296.5 2409.2L294.6 2413.5L294.9 2418.3L294.2 2423.2L292.3 2427.8L290.4 2432.3L290.6 2437.5L288.9 2442.4L285.6 2446.8L283.4 2451.4L280.4 2455.6L277 2459.2L274.6 2464L271.2 2467.8L265.7 2469L262.3 2472.4L258.2 2475.1L255 2479.2L250.1 2480.5L246 2482.9L243.1 2486.6L238.9 2487.5L235.9 2489.8L232.9 2492.1L229.8 2494.2L225.9 2494L222.3 2494.8L218.7 2495.6L215.2 2497.4L211.7 2495.8L208.7 2496.6L206.4 2495.1L203.6 2495.6L202.1 2493.5L199.3 2492.7L198 2490.2L196.8 2487.5L198.4 2484.4L198.4 2481.4L196.4 2478.1Z" fill="#000"/>
<path d="M220.7 2407.3c.7-4.2 4.9-4.6 9.5-6.5c4.6-1.9 12-2.7 18-4.9c5.9-2.2 13-6 17.9-8.1c4.9-2.2 12.3-7.8 11.5-4.9c-.9 2.8-10.4 15.7-16.4 22.2c-6 6.4-13.7 12.8-19.6 16.3c-5.8 3.5-12.2 7.2-15.6 4.9c-3.5-2.4-6-14.7-5.3-19Z" fill="#000"/>
<path d="M261.2 2477.6c3.3-2.4 14.2-3.9 22.9-4c8.7-.1 22.8 1.8 29.4 3.3c6.5 1.5 10.3 3.5 9.8 5.5c-.6 2.1-6.6 5.2-13.1 6.6c-6.5 1.3-18.5 1.8-26.1 1.6c-7.6-.2-15.8-.4-19.6-2.6c-3.8-2.2-6.5-8.1-3.3-10.4Z" fill="#000" fill-opacity="0.9"/>
<ellipse cx="297.1" cy="2482.8" rx="11" ry="5" fill="#fff"/>
<path d="M199.8 2474.3c0-6.8 .3-16.9 1-26.1c.7-9.3 1.6-21.3 3.3-29.4c1.6-8.2 4.3-17.2 6.5-19.6c2.2-2.5 4.9 1.6 6.5 4.9c1.7 3.2 1.9 10.6 3.3 14.7c1.4 4.1 1.9 9 4.9 9.8c3 .8 8.2-1.7 13.1-4.9c4.9-3.3 10.9-9.3 16.3-14.7c5.4-5.5 11.4-13.5 16.3-18c4.9-4.4 9.5-8.5 13.1-8.8c3.5-.3 6.5 2.7 8.1 7.2c1.7 4.5 2.2 12.5 1.7 19.6c-.6 7.1-2.5 15.2-4.9 22.8c-2.5 7.7-5.2 16.4-9.8 22.9c-4.6 6.5-11.7 11.4-18 16.3c-6.2 4.9-13.6 9.5-19.6 13.1c-6 3.5-10.9 6.4-16.3 8.1c-5.4 1.8-12.2 2.9-16.3 2.3c-4.1-.5-6.7-2.1-8.2-5.5c-1.5-3.4-1-7.9-1-14.7Z" fill="#fff" stroke="#333" stroke-width="1"/>
<path class="cg" d="M201.5 2474.3c.1-6.7 .3-16.8 1-26c.7-9.2 1.7-21.2 3.2-29.2c1.6-8 4.5-16.4 6.2-18.8c1.6-2.4 2.6 1.4 3.7 4.5c1.2 3.2 1.7 10.3 3.2 14.5c1.5 4.2 2.6 9.9 6.1 10.9c3.4 1 9.2-1.8 14.4-5.1c5.2-3.4 11.1-9.4 16.6-14.9c5.5-5.5 11.5-13.5 16.3-17.9c4.7-4.4 8.9-8 12-8.4c3.1-.4 5.1 1.9 6.4 6.1c1.4 4.1 2.1 12 1.6 18.8c-.6 6.9-2.4 15-4.8 22.5c-2.4 7.5-5.1 16-9.6 22.4c-4.5 6.4-11.5 11.2-17.6 16c-6.2 4.8-13.5 9.4-19.4 12.9c-5.9 3.5-10.8 6.3-16 8c-5.3 1.7-11.9 2.6-15.6 2.2c-3.7-.3-5.6-1.4-6.8-4.5c-1.3-3.1-.9-7.3-.9-14Z"/>
<path class="cg" d="M203.2 2474.3c.1-6.5 .3-16.7 1-25.9c.7-9.1 1.7-21.1 3.2-29c1.5-7.8 4.6-15.7 5.8-18c1.1-2.3 .2 1.1 .9 4.2c.7 3.1 1.4 9.9 3.1 14.3c1.7 4.3 3.4 10.8 7.2 12c3.9 1.1 10.4-2 15.9-5.4c5.4-3.4 11.3-9.6 16.8-15.1c5.5-5.5 11.7-13.6 16.2-17.9c4.6-4.3 8.4-7.4 11-7.9c2.7-.5 3.7 1.1 4.8 5c1 3.8 1.9 11.4 1.4 18.1c-.6 6.7-2.4 14.8-4.8 22.1c-2.3 7.3-4.9 15.7-9.3 21.9c-4.4 6.3-11.2 10.9-17.3 15.6c-6.1 4.8-13.4 9.4-19.2 12.9c-5.8 3.4-10.6 6.1-15.6 7.8c-5.1 1.7-11.5 2.4-14.9 2.2c-3.4-.3-4.5-.8-5.5-3.6c-1-2.8-.7-6.8-.7-13.3Z"/>
<path d="M201.8 2474.3c-.4-10.1 .1-30.5 1.3-42.5c1.2-11.9 3.7-25.5 5.9-29.4c2.2-3.8 5.4 1.7 7.2 6.6c1.7 4.9 2.2 14.1 3.2 22.8c1 8.7 .8 22.3 2.6 29.4c1.8 7.1 4.7 10.6 8.2 13.1c3.5 2.4 11.3-.7 13.1 1.6c1.8 2.3 1.2 9.2-2.3 12.1c-3.6 2.9-13.1 4.5-19 5.2c-5.8 .7-12.9 2.2-16.3-1c-3.4-3.1-3.5-7.8-3.9-17.9Z" fill="#3c3c3c" fill-opacity="0.5"/>
<path d="M261.2 2415.5c1.9-6.5 8.2-12 11.5-13.1c3.2-1 6.9 1.7 8.1 6.6c1.3 4.9 1 16.3-.6 22.8c-1.7 6.6-6 14.7-9.2 16.4c-3.1 1.6-8.1-1.1-9.8-6.6c-1.6-5.4-1.9-19.6 0-26.1Z" fill="#3c3c3c" fill-opacity="0.35"/>
<path class="cg" d="M228.4 2432c2.9-4.6 8.5-1.6 13.5-4.9c5-3.2 11.2-9.3 16.3-14.6c5.1-5.2 10.1-12.8 14.3-16.9c4.3-4.1 8.4-7.4 11.2-7.6c2.7-.3 4.3 2.3 5.4 6.1c1.1 3.8 1.8 10.5 1.1 16.8c-.8 6.3-3.2 14.2-5.6 21.1c-2.5 6.9-4.8 14.5-8.9 20.4c-4.1 5.8-10.4 10.5-15.8 14.7c-5.4 4.3-11.5 9.5-16.7 10.7c-5.2 1.2-11.4 .4-14.5-3.4c-3.1-3.9-4.3-12.7-4.3-19.7c-.1-7.1 1.1-18.1 4-22.7Z"/><path class="cg" d="M233.8 2431.1c2.5-4.1 7.6-1.4 11.9-4.3c4.2-2.9 9.3-8.5 13.8-13c4.5-4.5 9.6-10.4 13.3-13.9c3.7-3.6 6.7-7.1 9.1-7.3c2.3-.3 3.8 2.5 4.9 5.8c1 3.4 1.9 8.8 1.3 14.2c-.6 5.4-2.8 12.2-4.9 18.4c-2.1 6.1-4.3 13.1-7.9 18.3c-3.7 5.2-9.3 9-14.1 12.7c-4.7 3.7-10 8.5-14.6 9.6c-4.5 1.1-10 .2-12.7-3.2c-2.7-3.3-3.4-10.6-3.4-16.9c-0-6.2 .8-16.3 3.3-20.4Z"/><path class="cg" d="M238.9 2430.7c2.1-3.5 6.4-1.1 10.1-3.6c3.8-2.5 8.7-7.4 12.6-11.4c4-4 8-9.3 11.3-12.4c3.2-3.1 6.1-6.1 8.1-6.2c2-.2 2.9 2.4 3.8 5.3c.8 2.8 1.6 7.1 1.1 11.9c-.4 4.7-2.3 11.3-4.1 16.6c-1.8 5.3-3.5 11-6.7 15.4c-3.2 4.4-8.2 7.8-12.4 11c-4.1 3.1-8.5 7.1-12.5 8c-3.9 .9-8.7 .3-11.1-2.6c-2.4-2.8-3-9.1-3-14.4c-0-5.3 .6-14 2.8-17.6Z"/><path class="cg" d="M244.3 2430.2c1.9-3 5.5-1 8.6-3.2c3.2-2.1 6.9-6.3 10.2-9.6c3.3-3.4 6.7-7.7 9.5-10.3c2.8-2.5 5.4-4.9 7.1-5c1.7-.2 2.6 1.8 3.3 4.2c.7 2.3 1.2 6 .7 10c-.5 4-2.1 9.5-3.6 14c-1.5 4.5-2.7 9-5.3 12.7c-2.6 3.7-6.8 6.7-10.2 9.4c-3.5 2.8-7.1 6.3-10.5 7c-3.3 .8-7.7 .2-9.7-2.3c-2-2.5-2.4-8.1-2.4-12.6c0-4.4 .5-11.4 2.3-14.3Z"/><path class="cg" d="M250 2429.2c1.4-2.4 3.9-.6 6.5-2.3c2.5-1.7 6-5 8.7-7.7c2.7-2.7 5.4-6.5 7.6-8.6c2.2-2.1 4.1-4 5.6-4.1c1.4-.1 2.4 1.6 3 3.6c.6 2 .9 5.3 .5 8.5c-.4 3.2-1.7 7.1-3 10.6c-1.3 3.6-2.4 7.8-4.5 10.9c-2.2 3.1-5.5 5.7-8.3 7.9c-2.8 2.2-5.9 4.7-8.6 5.2c-2.7 .6-5.9 .1-7.6-1.9c-1.6-2-2-6.2-2-9.9c0-3.7 .7-9.7 2.1-12.2Z"/><path class="cg" d="M255 2428.9c1.1-1.9 3.3-.7 5.3-1.9c2-1.3 4.6-3.6 6.7-5.7c2-2.2 4-5.4 5.6-7c1.6-1.7 3-2.8 4.1-2.8c1.1-0 2.1 1.1 2.6 2.6c.4 1.5 .4 3.7 .2 6.1c-.3 2.5-1 5.7-1.9 8.5c-.9 2.8-1.7 6-3.4 8.4c-1.7 2.4-4.6 4.4-6.9 6.1c-2.2 1.7-4.6 3.7-6.7 4.1c-2 .5-4.5 0-5.7-1.5c-1.1-1.5-1.3-4.8-1.3-7.6c.1-2.8 .3-7.4 1.4-9.3Z"/><path class="cg" d="M260.5 2428.2c.8-1.2 1.9-.1 3.3-1c1.4-.9 3.5-3 4.9-4.4c1.5-1.5 2.6-3.3 3.8-4.4c1.1-1.2 2.4-2.2 3.3-2.4c.8-.1 1.5 .5 1.7 1.5c.2 1.1-0 3.1-.3 4.9c-.3 1.8-.7 4-1.3 5.9c-.6 2-.9 4.2-2.1 5.8c-1.2 1.6-3.5 2.7-5 3.9c-1.6 1.2-3 2.8-4.4 3.1c-1.4 .4-3 0-3.9-1c-.9-1.1-1.5-3.5-1.5-5.4c-0-2 .7-5.2 1.5-6.5Z"/><path class="cg" d="M265.2 2428c.5-.8 1.4-.5 2.2-1.1c.8-.6 1.7-1.8 2.6-2.7c.9-.9 2-2.2 2.8-2.8c.7-.7 1.4-1.2 1.8-1.2c.4 0 .4 .4 .6 1c.1 .7 .5 2 .5 3.1c-.1 1-.4 2.1-.8 3.2c-.4 1.1-.8 2.5-1.6 3.5c-.7 1-2 1.7-2.9 2.5c-.9 .8-1.7 1.9-2.6 2.2c-.8 .2-2-.1-2.6-.8c-.5-.6-.7-2-.7-3.2c-0-1.1 .2-2.9 .7-3.7Z"/>
<path class="cg" d="M202.6 2474.4c.1-6.4 .1-17.4 .7-26.1c.7-8.7 2.1-19.2 3.3-26.3c1.2-7 2.6-14.3 4.1-16.2c1.5-1.9 3.6 .9 4.8 4.7c1.2 3.9 1.7 11.5 2.5 18.3c.8 6.9 1.2 16.7 2.5 22.6c1.2 5.9 2.6 9.6 5.1 12.8c2.4 3.3 7.2 3.9 9.6 6.7c2.4 2.8 6.5 6.9 4.9 9.9c-1.6 3.1-9.7 6.6-14.6 8.3c-4.8 1.7-10.9 2.4-14.6 2c-3.8-.3-6.7-1.4-8-4.1c-1.4-2.8-.3-6.1-.3-12.6Z"/><path class="cg" d="M203.5 2473.5c.1-5.7 0-15.4 .5-23.2c.5-7.8 1.4-17.1 2.5-23.5c1.1-6.5 3-13.2 4.3-15c1.4-1.8 2.9 .8 4 4.3c1.1 3.5 2 10.4 2.8 16.6c.7 6.1 .7 15 1.8 20.4c1 5.4 2.1 8.9 4.4 11.9c2.2 2.9 6.7 3.2 8.9 5.7c2.3 2.4 6.2 6.2 4.6 8.9c-1.5 2.7-9.3 5.8-13.7 7.3c-4.4 1.5-9.4 2.2-12.7 1.8c-3.4-.3-6.1-1.4-7.3-4c-1.3-2.5-.2-5.4-.1-11.2Z"/><path class="cg" d="M204.1 2472.7c.1-5.1 .4-13.6 .9-20.5c.5-6.9 1.2-15 2.2-20.7c1-5.8 2.7-12 3.9-13.6c1.2-1.6 2.3 1.1 3.2 4.2c.8 3.1 1.3 8.8 2 14.3c.7 5.4 1 13.5 2 18.3c1 4.9 2 7.9 4 10.5c2 2.6 5.9 2.9 7.9 5.1c1.9 2.1 5.1 5.3 3.8 7.7c-1.4 2.4-7.8 5.2-11.7 6.6c-4 1.5-8.8 2.4-11.8 2.1c-2.9-.3-4.9-1.5-6-3.8c-1-2.3-.5-5.1-.4-10.2Z"/><path class="cg" d="M204.9 2472.2c0-4.6 .2-12.4 .7-18.4c.4-6.1 1.1-13 1.9-17.9c.9-4.9 2.1-10.1 3.2-11.5c1.1-1.4 2.7 .6 3.5 3.2c.9 2.6 1.1 7.9 1.7 12.6c.5 4.8 .9 11.6 1.7 15.9c.9 4.2 1.8 7.3 3.5 9.6c1.6 2.4 4.7 2.5 6.4 4.3c1.7 1.9 4.9 4.5 3.8 6.6c-1 2.1-6.8 4.9-10.3 6.2c-3.5 1.3-7.9 1.8-10.5 1.5c-2.7-.2-4.4-1.2-5.4-3.2c-.9-2-.3-4.4-.2-8.9Z"/><path class="cg" d="M205.7 2471.9c-0-3.9 .1-10.8 .4-16c.4-5.2 1-11.1 1.8-15.4c.7-4.2 1.8-9 2.8-10.2c1-1.2 2.3 .6 3 2.9c.7 2.3 .9 6.7 1.3 10.9c.5 4.1 .6 10.4 1.3 13.9c.8 3.6 1.6 5.7 3 7.6c1.5 1.9 4.4 2.4 5.9 4c1.5 1.6 4.2 4 3.3 5.8c-1 1.8-6.2 3.9-9.2 5c-3 1-6.4 1.6-8.6 1.4c-2.2-.2-3.7-1.1-4.5-2.7c-.8-1.7-.5-3.3-.5-7.2Z"/><path class="cg" d="M206.8 2470.9c-0-3.2-.1-8.7 .2-13c.2-4.3 .7-9.2 1.3-12.8c.6-3.6 1.4-7.7 2.2-8.7c.9-1 2 .7 2.6 2.7c.7 2 .8 5.8 1.2 9.2c.4 3.4 .8 8.2 1.4 11.2c.6 2.9 1.2 4.7 2.4 6.4c1.2 1.7 3.6 2.2 4.8 3.6c1.1 1.5 2.9 3.6 2.1 5.1c-.7 1.4-4.4 2.7-6.8 3.6c-2.5 .9-6 1.7-7.9 1.5c-1.8-.1-2.7-1-3.3-2.5c-.6-1.5-.2-3.1-.2-6.3Z"/><path class="cg" d="M207.3 2470.4c.1-2.5-.1-6.8 .2-10.3c.3-3.5 1-7.8 1.6-10.7c.6-2.8 1.3-5.5 1.9-6.3c.6-.8 1.1 .1 1.5 1.5c.4 1.5 .6 4.5 .9 7.3c.2 2.7 .3 6.7 .8 9.1c.6 2.5 1.5 4.2 2.5 5.6c1 1.3 2.6 1.4 3.6 2.5c.9 1.1 2.8 2.9 2.1 4.1c-.6 1.2-4 2.4-6 3.1c-2 .7-4.5 1.3-6 1.1c-1.5-.2-2.5-1.1-3-2.3c-.5-1.2-.1-2.2-.1-4.7Z"/><path class="cg" d="M208 2469.6c-0-1.8 .1-4.9 .2-7.5c.2-2.6 .5-5.6 .9-7.8c.4-2.2 .9-4.8 1.5-5.4c.5-.5 1.3 .7 1.7 1.9c.3 1.2 0 3.2 .3 5.2c.2 2 .8 4.9 1.2 6.7c.4 1.8 .8 2.9 1.4 4c.7 1 1.8 1.2 2.6 2.1c.7 .9 2.1 2.2 1.7 3.1c-.4 .8-2.8 1.6-4.2 2c-1.5 .4-3.4 .7-4.5 .6c-1.1-.1-1.7-.3-2.2-1.2c-.4-.8-.5-1.8-.6-3.7Z"/><path class="cg" d="M209 2469c-0-1.3-.2-3.6-.1-5.3c.2-1.8 .5-3.7 .8-5.2c.2-1.4 .5-3 .8-3.4c.3-.3 .8 .5 1.1 1.3c.3 .8 .5 2.1 .7 3.5c.1 1.3 .2 3.3 .4 4.5c.2 1.2 .2 2.2 .6 2.8c.5 .7 1.6 .4 2.2 .9c.5 .5 1.2 1.6 .9 2.2c-.3 .6-2 1.1-2.9 1.5c-1 .4-2.1 .9-2.8 .9c-.8-0-1.5-.4-1.7-1c-.3-.6-0-1.3-0-2.7Z"/><path class="cg" d="M209.5 2468.5c0-.7 .4-1.8 .5-2.6c.2-.9 .3-2 .4-2.7c.1-.7 .3-1.4 .3-1.6c.1-.2 .1 0 .2 .4c.1 .3 .3 1.1 .4 1.7c.1 .7 .1 1.6 .2 2.2c.1 .6 .1 1.1 .4 1.4c.3 .4 1.1 .3 1.3 .6c.3 .3 .4 .9 .2 1.2c-.2 .4-.8 .8-1.2 1c-.5 .2-1.2 .3-1.6 .3c-.4-0-.6-.2-.8-.5c-.2-.3-.3-.8-.3-1.4Z"/>
<path class="cg" d="M219.5 2474.3c.3-3.1 3.3-9.6 5.9-11.3c2.6-1.6 7.4-.2 9.8 1.3c2.5 1.6 5.1 5.4 4.7 8.2c-.3 2.7-3.9 6.9-6.6 8.4c-2.7 1.4-7.3 1.6-9.6 .5c-2.3-1-4.5-4-4.2-7.1Z"/><path class="cg" d="M222 2474c.2-2.3 2.3-7.3 4.3-8.5c1.9-1.3 5.5 0 7.4 1.2c1.8 1.2 3.8 3.9 3.6 5.9c-.2 2-2.7 5.2-4.8 6.2c-2 1.1-5.6 1.2-7.4 .4c-1.7-.8-3.3-2.9-3.1-5.2Z"/><path class="cg" d="M224.4 2473.4c.1-1.5 1.4-4.7 2.7-5.5c1.3-.8 3.8-.1 5 .6c1.3 .8 2.6 2.7 2.4 4c-.1 1.4-1.8 3.5-3.2 4.2c-1.3 .7-3.8 .8-5 .2c-1.1-.6-2-2-1.9-3.5Z"/><path class="cg" d="M226.3 2473.1c0-.9 .9-2.9 1.6-3.4c.8-.5 2.1 0 2.8 .5c.7 .5 1.7 1.6 1.6 2.4c-.1 .8-1.3 1.8-2 2.3c-.8 .4-1.9 .5-2.6 .3c-.6-.3-1.4-1.2-1.4-2.1Z"/>
<rect class="axd" x="128" y="2148.4" width="353.6" height="352.6"/>
<path class="tkd" d="M128 2500.4h-10M128 2432.8h-10M128 2366.5h-10M128 2299h-10M128 2231.7h-10M128 2165h-10"/>
<path class="tkd" d="M150.2 2501v10M207.3 2501v10M266 2501v10M362.4 2501v10M446.7 2501v10"/>
<path class="tmd" d="M295 2501v5M312 2501v5M324 2501v5M333.4 2501v5M341 2501v5M347.5 2501v5M353.1 2501v5M358 2501v5M387.8 2501v5M402.6 2501v5M413.2 2501v5M421.3 2501v5M428 2501v5M433.6 2501v5M438.5 2501v5M442.8 2501v5M472.1 2501v5M221.4 2501v5M232.1 2501v5M239.9 2501v5M245.9 2501v5M250.7 2501v5M254.7 2501v5M258.1 2501v5M261 2501v5M263.6 2501v5M193.5 2501v5M183.1 2501v5M175.5 2501v5M169.7 2501v5M165.1 2501v5M161.2 2501v5M157.9 2501v5M155 2501v5M152.5 2501v5M134.7 2501v5"/>
<path class="tmd" d="M200.3 2501v9M201.8 2501v9M203.2 2501v9M204.5 2501v9M205.6 2501v9M206.6 2501v9M208 2501v9M209 2501v9M210.1 2501v9M211.4 2501v9M212.8 2501v9M214.3 2501v9"/>
<text x="145.3" y="2547.8" font-size="24.6" text-anchor="middle">-10<tspan font-size="13.9" dy="-8.6">3</tspan></text>
<text x="207.7" y="2547.8" font-size="24.6" text-anchor="middle">0</text>
<text x="277.5" y="2547.8" font-size="24.6" text-anchor="middle">10<tspan font-size="13.9" dy="-8.6">3</tspan></text>
<text x="377" y="2547.8" font-size="24.6" text-anchor="middle">10<tspan font-size="13.9" dy="-8.6">4</tspan></text>
<text x="467" y="2547.8" font-size="24.6" text-anchor="middle">10<tspan font-size="13.9" dy="-8.6">5</tspan></text>
<text x="104.3" y="2516.2" font-size="24.6" text-anchor="end">0</text>
<text x="106.8" y="2444.5" font-size="24.6" text-anchor="end">50k</text>
<text x="106.8" y="2374.2" font-size="24.6" text-anchor="end">100k</text>
<text x="106.8" y="2302.7" font-size="24.6" text-anchor="end">150k</text>
<text x="106.8" y="2232.2" font-size="24.6" text-anchor="end">200k</text>
<text x="106.8" y="2161.3" font-size="24.6" text-anchor="end">250k</text>
<path class="tmd" d="M128 2486.9h-5M128 2473.4h-5M128 2459.8h-5M128 2446.3h-5M128 2419.5h-5M128 2406.3h-5M128 2393h-5M128 2379.8h-5M128 2353h-5M128 2339.5h-5M128 2326h-5M128 2312.5h-5M128 2285.5h-5M128 2272.1h-5M128 2258.6h-5M128 2245.2h-5M128 2218.4h-5M128 2205h-5M128 2191.7h-5M128 2178.3h-5M128 2151.5h-5"/>
<text x="289" y="2592.5" font-size="28.3" text-anchor="middle">Live/-Dead-DAPI</text>
<text x="31.5" y="2331.6" font-size="28.3" text-anchor="middle" transform="rotate(-90 31.5 2331.6)">SSC-A</text>
<path class="gd" d="M179 2198.4L341.9 2196.7L356 2325L297 2451.4L239 2496L165.6 2494.5Z"/>
<path class="g" d="M482.5 2261.4L636.2 2261.4"/><path fill="#d8382c" d="M649 2261.4L636.2 2268.6L636.2 2254.2Z"/>
<path d="M733 2169h1M734 2186h1M743 2187h1M755 2190h1M719 2193h1m11 0h1M728 2194h1M723 2199h1M732 2200h1m1 0h1M720 2202h1M728 2203h1M713 2204h1m7 0h1M737 2205h1M741 2207h1m1 0h1M726 2211h1M723 2215h1m30 0h1M715 2216h1m4 0h1m8 0h1m15 0h1M718 2217h1m12 0h1h1m2 0h1m7 0h1m6 0h1M724 2218h1m1 0h1m98 0h1m13 0h1M719 2219h1h1m5 0h1m5 0h1m8 0h1h1m146 0h1M725 2220h1m5 0h1m2 0h1M704 2221h1m12 0h1m12 0h1m6 0h1h1M729 2222h1m4 0h1m9 0h1M713 2223h1m12 0h1h1m1 0h1m11 0h1h1m1 0h1M739 2224h1M729 2225h1m3 0h1m14 0h1M718 2226h1m34 0h1M725 2227h1m5 0h1m10 0h1m14 0h1M717 2228h1m11 0h1m11 0h1M720 2229h1m3 0h1m3 0h1m3 0h1h1h1m2 0h1M718 2230h1m1 0h1m6 0h1m5 0h1m7 0h1M714 2231h1m14 0h1m9 0h1m2 0h1m2 0h1m3 0h1M721 2232h1h1m10 0h1m4 0h1h1m3 0h1m2 0h1M730 2233h1m8 0h1M708 2234h1m9 0h1m7 0h1h1m3 0h1m3 0h1m11 0h1M726 2235h1m3 0h1m8 0h1h1m6 0h1m1 0h1m3 0h1M718 2236h1m2 0h1h1m1 0h1m5 0h1h1m10 0h1h1m3 0h1h1M719 2237h1m10 0h1h1m4 0h1m5 0h1m4 0h1m95 0h1M722 2238h1m2 0h1m3 0h1m7 0h1m1 0h1h1m3 0h1m7 0h1M705 2239h1m11 0h1m12 0h1m8 0h1m4 0h1m3 0h1h1M688 2240h1m32 0h1m1 0h1m1 0h1m2 0h1m1 0h1m1 0h1h1m15 0h1M688 2241h1m30 0h1m6 0h1m2 0h1m2 0h1h1h1m5 0h1h1h1m39 0h1M725 2242h1h1h1h1h1h1m2 0h1m1 0h1m1 0h1h1M713 2243h1m5 0h1m10 0h1h1h1h1m5 0h1m2 0h1M715 2244h1m2 0h1m4 0h1m3 0h1h1h1m2 0h1h1m2 0h1m1 0h1h1h1h1m1 0h1M712 2245h1m9 0h1m3 0h1m4 0h1m1 0h1m1 0h1m4 0h1m1 0h1m6 0h1m9 0h1M696 2246h1m22 0h1m8 0h1m8 0h1h1m2 0h1m7 0h1M718 2247h1m6 0h1h1h1h1h1m2 0h1h1m13 0h1M724 2248h1m2 0h1h1h1m1 0h1h1m4 0h1h1m3 0h1m2 0h1M706 2249h1m5 0h1m4 0h1m3 0h1m9 0h1m1 0h1m2 0h1h1m1 0h1M715 2250h1m6 0h1m1 0h1m1 0h1m2 0h1m2 0h1m7 0h1m1 0h1M720 2251h1h1m3 0h1m1 0h1m1 0h1h1h1h1m3 0h1h1h1m5 0h1m3 0h1m3 0h1m70 0h1M713 2252h1m11 0h1m1 0h1m1 0h1h1h1m1 0h1h1h1m2 0h1m5 0h1h1M724 2253h1m5 0h1h1m1 0h1m3 0h1m2 0h1m7 0h1m6 0h1M726 2254h1h1h1m1 0h1m2 0h1h1h1m3 0h1h1m2 0h1m4 0h1M695 2255h1m12 0h1m3 0h1m17 0h1h1h1h1m2 0h1m9 0h1h1m19 0h1M698 2256h1m16 0h1h1m5 0h1h1m2 0h1m1 0h1h1h1m2 0h1h1m1 0h1h1m2 0h1m1 0h1m4 0h1h1m2 0h1m5 0h1m3 0h1m123 0h1M691 2257h1m19 0h1m10 0h1m4 0h1h1m1 0h1m2 0h1m1 0h1h1h1h1h1m4 0h1m1 0h1m3 0h1m3 0h1M716 2258h1m7 0h1m7 0h1m1 0h1m2 0h1h1m4 0h1m13 0h1M723 2259h1h1m3 0h1h1h1m5 0h1m1 0h1h1m5 0h1m12 0h1M705 2260h1m3 0h1m4 0h1m6 0h1m2 0h1h1m3 0h1h1h1h1h1h1m2 0h1h1h1m1 0h1m5 0h1m3 0h1m5 0h1m1 0h1m1 0h1m2 0h1m1 0h1M712 2261h1h1m3 0h1m2 0h1h1m3 0h1m5 0h1m1 0h1m1 0h1h1m2 0h1m1 0h1h1m1 0h1m1 0h1h1m132 0h1M705 2262h1m15 0h1m4 0h1m2 0h1h1h1m1 0h1m5 0h1m2 0h1h1h1m5 0h1m2 0h1m43 0h1M708 2263h1m2 0h1m2 0h1m2 0h1h1m3 0h1m1 0h1h1h1h1m1 0h1h1h1h1m2 0h1m3 0h1m2 0h1h1m5 0h1m4 0h1m2 0h1m62 0h1m2 0h1M717 2264h1h1h1m3 0h1h1h1m1 0h1m1 0h1m1 0h1m1 0h1m2 0h1m1 0h1m1 0h1h1m12 0h1m12 0h1m48 0h1M713 2265h1m6 0h1h1h1m2 0h1m2 0h1m1 0h1h1h1h1h1h1h1h1m6 0h1m2 0h1m2 0h1m53 0h1M713 2266h1m7 0h1m6 0h1m1 0h1m1 0h1h1m2 0h1m1 0h1m1 0h1h1m1 0h1m2 0h1m2 0h1m9 0h1m57 0h1M723 2267h1h1h1m3 0h1h1h1m1 0h1m1 0h1h1h1h1m1 0h1h1m1 0h1m12 0h1m5 0h1m4 0h1m11 0h1m24 0h1m6 0h1m27 0h1m13 0h1M708 2268h1m5 0h1m4 0h1m1 0h1h1m1 0h1h1m3 0h1m3 0h1h1m1 0h1h1h1m2 0h1m17 0h1m46 0h1m8 0h1M714 2269h1m5 0h1h1m1 0h1m2 0h1h1h1m2 0h1h1m1 0h1m2 0h1m3 0h1h1m4 0h1h1m35 0h1M709 2270h1m9 0h1h1m1 0h1m2 0h1m4 0h1m3 0h1m1 0h1m1 0h1m2 0h1m3 0h1m1 0h1m3 0h1m34 0h1m92 0h1M694 2271h1m8 0h1m10 0h1m4 0h1h1m1 0h1h1m2 0h1h1h1m1 0h1h1m1 0h1m1 0h1h1h1h1h1m1 0h1h1h1m3 0h1h1h1m72 0h1m3 0h1m30 0h1M702 2272h1m9 0h1m4 0h1m4 0h1m1 0h1h1m6 0h1h1m3 0h1h1m1 0h1m1 0h1h1m2 0h1m4 0h1m6 0h1m4 0h1m1 0h1m29 0h1m47 0h1m1 0h1m10 0h1m25 0h1M691 2273h1m31 0h1h1m2 0h1h1h1h1h1m6 0h1h1m1 0h1m1 0h1h1h1M715 2274h1m6 0h1m2 0h1h1m1 0h1m1 0h1h1h1h1m3 0h1h1h1m2 0h1m1 0h1m5 0h1m7 0h1M708 2275h1m11 0h1m3 0h1m1 0h1h1h1h1h1h1h1m2 0h1h1h1h1h1h1m1 0h1h1m1 0h1m2 0h1m26 0h1M717 2276h1m4 0h1h1h1m3 0h1m1 0h1h1m1 0h1m1 0h1h1h1m7 0h1h1m3 0h1m2 0h1m4 0h1m7 0h1m18 0h1m4 0h1h1m12 0h1m29 0h1m24 0h1M706 2277h1m5 0h1h1m7 0h1m1 0h1h1h1m1 0h1m2 0h1h1m2 0h1m2 0h1h1h1h1h1m1 0h1m1 0h1m2 0h1m4 0h1m70 0h1M703 2278h1m13 0h1m1 0h1m1 0h1m6 0h1m1 0h1h1m1 0h1h1h1h1h1h1h1m1 0h1m2 0h1h1h1m1 0h1m17 0h1m6 0h1m1 0h1m2 0h1m5 0h1m41 0h1M717 2279h1m2 0h1m4 0h1m1 0h1h1h1h1h1h1h1m1 0h1h1m3 0h1h1m1 0h1m1 0h1m4 0h1h1h1m13 0h1m4 0h1m35 0h1m35 0h1M725 2280h1h1m1 0h1m1 0h1h1h1m1 0h1m1 0h1h1h1h1m6 0h1m21 0h1M700 2281h1m4 0h1m9 0h1m1 0h1h1m5 0h1h1m1 0h1m1 0h1h1h1m1 0h1m1 0h1m1 0h1m2 0h1h1m2 0h1m1 0h1m69 0h1m6 0h1h1m80 0h1M701 2282h1m4 0h1m23 0h1m1 0h1h1m1 0h1h1h1m1 0h1m1 0h1h1m1 0h1m2 0h1h1m17 0h1m1 0h1m26 0h1m106 0h1M717 2283h1m6 0h1h1m1 0h1h1h1h1m1 0h1h1h1h1h1m3 0h1m1 0h1m3 0h1m15 0h1m1 0h1m2 0h1m5 0h1M698 2284h1m6 0h1m8 0h1h1m1 0h1h1m4 0h1h1m2 0h1h1h1m1 0h1h1h1h1h1h1m2 0h1h1h1m1 0h1h1m1 0h1m1 0h1m1 0h1h1m9 0h1m28 0h1m35 0h1m99 0h1M695 2285h1m19 0h1h1m2 0h1h1h1m3 0h1h1h1m2 0h1m2 0h1h1h1m3 0h1h1m2 0h1m1 0h1m2 0h1m4 0h1m12 0h1M716 2286h1m4 0h1m2 0h1h1h1m1 0h1m3 0h1m6 0h1h1h1h1m2 0h1m10 0h1m3 0h1m1 0h1m14 0h1m30 0h1m3 0h1M694 2287h1m15 0h1m2 0h1m4 0h1h1m1 0h1m2 0h1h1h1m1 0h1h1h1h1h1h1m1 0h1h1h1m3 0h1h1m1 0h1m1 0h1h1m4 0h1m2 0h1m42 0h1m9 0h1m1 0h1m15 0h1m19 0h1M677 2288h1m9 0h1m11 0h1m7 0h1m6 0h1m5 0h1m1 0h1m2 0h1m2 0h1m3 0h1h1h1m11 0h1m46 0h1m15 0h1m16 0h1M695 2289h1m21 0h1h1m4 0h1h1h1h1h1m1 0h1h1h1m1 0h1m3 0h1m4 0h1m4 0h1m15 0h1m2 0h1m53 0h1M707 2290h1m9 0h1m3 0h1m2 0h1h1h1m1 0h1h1m1 0h1m1 0h1m2 0h1h1h1m1 0h1m3 0h1m5 0h1m6 0h1h1m17 0h1m30 0h1m24 0h1m55 0h1M718 2291h1h1h1m2 0h1h1m1 0h1m1 0h1m3 0h1h1h1h1h1h1h1m2 0h1m20 0h1h1m46 0h1M672 2292h1m39 0h1h1m2 0h1m7 0h1h1h1h1h1h1m2 0h1m1 0h1h1m2 0h1h1h1m5 0h1h1m1 0h1m2 0h1m6 0h1m56 0h1h1m73 0h1M714 2293h1m3 0h1m2 0h1h1m3 0h1h1h1h1h1m2 0h1m1 0h1h1h1h1m2 0h1m1 0h1h1m8 0h1h1m2 0h1m15 0h1m3 0h1m12 0h1m9 0h1m7 0h1m11 0h1m44 0h1m17 0h1M720 2294h1m1 0h1m2 0h1h1m1 0h1h1h1h1m1 0h1m4 0h1h1h1m2 0h1m3 0h1m2 0h1h1m83 0h1m20 0h1h1m25 0h1M708 2295h1m1 0h1h1m3 0h1h1m5 0h1h1m1 0h1h1m1 0h1h1h1h1m1 0h1h1m1 0h1h1h1h1h1h1h1h1h1h1m1 0h1h1m1 0h1m2 0h1h1m1 0h1m1 0h1m18 0h1m4 0h1m10 0h1m13 0h1M716 2296h1m2 0h1h1m1 0h1m1 0h1h1m3 0h1h1m1 0h1h1m1 0h1m2 0h1m1 0h1h1m1 0h1h1h1h1h1m1 0h1m36 0h1m13 0h1m7 0h1m22 0h1m20 0h1m19 0h1m3 0h1m22 0h1M711 2297h1m3 0h1h1h1m3 0h1m1 0h1m1 0h1h1h1h1m1 0h1h1m1 0h1m3 0h1h1h1h1m1 0h1m1 0h1m1 0h1h1m1 0h1m2 0h1h1m1 0h1m34 0h1m25 0h1m6 0h1m27 0h1m48 0h1m4 0h1m4 0h1M702 2298h1m5 0h1m4 0h1m1 0h1m3 0h1h1m2 0h1h1m1 0h1m2 0h1m2 0h1m1 0h1m6 0h1h1m8 0h1m1 0h1h1h1m1 0h1m8 0h1m26 0h1m3 0h1m1 0h1m9 0h1m3 0h1m17 0h1m7 0h1m6 0h1m1 0h1m17 0h1m45 0h1m15 0h1M701 2299h1m23 0h1m2 0h1h1h1h1h1h1m6 0h1m1 0h1m2 0h1m4 0h1m1 0h1m5 0h1m13 0h1h1h1m7 0h1m6 0h1m8 0h1m14 0h1m40 0h1m17 0h1M678 2300h1m13 0h1m1 0h1m6 0h1m4 0h1m10 0h1m2 0h1m1 0h1m2 0h1m1 0h1h1h1m1 0h1h1h1h1h1h1h1h1h1h1m1 0h1h1m10 0h1h1m4 0h1m6 0h1m4 0h1m21 0h1m7 0h1m17 0h1m3 0h1m49 0h1M715 2301h1m1 0h1m4 0h1m1 0h1m1 0h1h1m1 0h1m1 0h1h1h1h1m3 0h1h1m1 0h1m4 0h1m3 0h1m1 0h1m8 0h1m2 0h1m11 0h1m14 0h1m50 0h1m9 0h1m17 0h1M710 2302h1m4 0h1h1m3 0h1h1h1h1h1h1h1m2 0h1h1m1 0h1h1h1m3 0h1m1 0h1m1 0h1h1m2 0h1h1m1 0h1m7 0h1m3 0h1m10 0h1m10 0h1m3 0h1m1 0h1m13 0h1h1m4 0h1m2 0h1m25 0h1m77 0h1M696 2303h1m2 0h1m6 0h1h1m8 0h1m2 0h1m1 0h1h1h1m2 0h1m3 0h1h1h1h1h1m2 0h1m1 0h1h1h1h1m1 0h1m1 0h1m4 0h1h1m3 0h1m5 0h1m11 0h1m48 0h1m5 0h1m5 0h1m56 0h1M718 2304h1h1h1m3 0h1m2 0h1h1h1m1 0h1m1 0h1h1m1 0h1h1m1 0h1h1h1h1m1 0h1m1 0h1m12 0h1m13 0h1m11 0h1m14 0h1m29 0h1m83 0h1M692 2305h1m11 0h1m8 0h1h1h1m4 0h1m3 0h1m3 0h1h1m1 0h1h1h1h1m1 0h1h1m3 0h1m1 0h1m3 0h1m3 0h1h1m1 0h1h1m3 0h1m1 0h1m1 0h1m10 0h1m9 0h1m5 0h1m9 0h1m19 0h1m2 0h1M689 2306h1m13 0h1m1 0h1h1m5 0h1m12 0h1h1m1 0h1h1m1 0h1m3 0h1h1h1h1h1m3 0h1m5 0h1m3 0h1m2 0h1m5 0h1h1m4 0h1m26 0h1m32 0h1M697 2307h1m12 0h1h1h1m5 0h1h1h1h1m2 0h1h1m2 0h1m5 0h1h1m2 0h1h1m1 0h1h1m1 0h1m3 0h1h1m3 0h1m7 0h1m10 0h1h1m3 0h1m9 0h1m3 0h1m7 0h1h1m4 0h1m10 0h1m27 0h1m7 0h1m19 0h1m14 0h1M717 2308h1m2 0h1m1 0h1m1 0h1h1h1h1m1 0h1m1 0h1m1 0h1h1m3 0h1h1h1m1 0h1h1m1 0h1m14 0h1m1 0h1h1m9 0h1h1m5 0h1m19 0h1m24 0h1m90 0h1M701 2309h1m11 0h1m8 0h1m3 0h1m1 0h1m1 0h1h1h1h1m2 0h1h1m2 0h1m2 0h1h1h1h1m1 0h1m8 0h1m2 0h1m11 0h1m7 0h1m13 0h1m4 0h1m22 0h1m5 0h1m40 0h1M696 2310h1m9 0h1m3 0h1m1 0h1m1 0h1m2 0h1m3 0h1m4 0h1h1h1m1 0h1h1m2 0h1m1 0h1h1h1m3 0h1h1m1 0h1m6 0h1h1m2 0h1m8 0h1h1m5 0h1m52 0h1m12 0h1m17 0h1h1M689 2311h1m2 0h1m15 0h1m4 0h1m3 0h1m1 0h1h1m1 0h1m1 0h1h1h1h1m4 0h1m1 0h1h1m1 0h1m2 0h1m1 0h1m6 0h1h1m2 0h1m9 0h1m3 0h1m4 0h1h1m5 0h1m7 0h1m12 0h1m10 0h1m7 0h1m10 0h1m1 0h1m1 0h1M693 2312h1m19 0h1m2 0h1m3 0h1h1m1 0h1h1h1m1 0h1h1m1 0h1h1h1m3 0h1m1 0h1h1h1h1m1 0h1m4 0h1m2 0h1m3 0h1m12 0h1m7 0h1m11 0h1m1 0h1m16 0h1m1 0h1m5 0h1m19 0h1m21 0h1m8 0h1M710 2313h1m2 0h1m8 0h1h1h1h1h1m1 0h1h1m1 0h1h1m1 0h1m1 0h1m2 0h1h1h1h1m4 0h1m2 0h1h1m2 0h1m3 0h1m2 0h1m21 0h1m8 0h1m8 0h1m20 0h1m11 0h1m11 0h1m10 0h1m1 0h1m27 0h1M690 2314h1m13 0h1h1m4 0h1m2 0h1m8 0h1m1 0h1m2 0h1h1m2 0h1m1 0h1h1h1m1 0h1h1m1 0h1m1 0h1h1m2 0h1m34 0h1m19 0h1m9 0h1m6 0h1m2 0h1m2 0h1m5 0h1m19 0h1m10 0h1m4 0h1m6 0h1m22 0h1M707 2315h1m13 0h1m2 0h1h1h1h1m1 0h1m3 0h1h1h1h1h1m1 0h1h1h1m5 0h1h1h1m25 0h1h1m12 0h1m1 0h1m17 0h1m12 0h1m8 0h1m21 0h1h1m11 0h1m11 0h1m1 0h1m14 0h1M716 2316h1h1m2 0h1m5 0h1h1h1m1 0h1m1 0h1h1h1h1m1 0h1h1m1 0h1m1 0h1m1 0h1m3 0h1h1m5 0h1m4 0h1h1m8 0h1m1 0h1m6 0h1m2 0h1m6 0h1m6 0h1m3 0h1m8 0h1m3 0h1h1m8 0h1h1m22 0h1m6 0h1m12 0h1m33 0h1m18 0h1M717 2317h1h1m3 0h1h1h1h1h1h1h1h1h1h1m1 0h1m1 0h1h1h1h1h1h1m1 0h1m8 0h1m3 0h1m3 0h1m8 0h1m25 0h1h1m2 0h1m7 0h1h1m21 0h1m12 0h1m3 0h1m46 0h1M710 2318h1m2 0h1h1m2 0h1m4 0h1m1 0h1h1m1 0h1h1h1m5 0h1m2 0h1m2 0h1h1h1m3 0h1m3 0h1h1m1 0h1h1h1m7 0h1m8 0h1m3 0h1h1m4 0h1h1m14 0h1m8 0h1m20 0h1m27 0h1M692 2319h1m19 0h1m4 0h1m1 0h1m1 0h1h1m1 0h1h1m1 0h1h1h1m2 0h1h1m4 0h1h1h1h1m2 0h1m5 0h1m3 0h1m25 0h1m6 0h1m27 0h1m26 0h1m3 0h1m2 0h1M703 2320h1m2 0h1m5 0h1m5 0h1m7 0h1m3 0h1h1h1m3 0h1h1h1m2 0h1h1m3 0h1h1m3 0h1m3 0h1m2 0h1m12 0h1m2 0h1m8 0h1m20 0h1m2 0h1m26 0h1m3 0h1m23 0h1M699 2321h1m7 0h1m4 0h1h1h1m1 0h1m1 0h1m1 0h1m4 0h1m1 0h1h1h1h1m5 0h1m5 0h1m1 0h1h1h1m7 0h1m7 0h1m3 0h1m2 0h1m7 0h1m2 0h1m13 0h1m2 0h1m3 0h1m19 0h1m10 0h1m1 0h1m4 0h1m3 0h1m17 0h1m2 0h1m18 0h1m22 0h1M718 2322h1h1m1 0h1h1h1h1h1h1h1m1 0h1h1m6 0h1h1h1m4 0h1h1m6 0h1m5 0h1h1h1m1 0h1m4 0h1m1 0h1m13 0h1h1m11 0h1m12 0h1m15 0h1m5 0h1m6 0h1m4 0h1m8 0h1m40 0h1M711 2323h1m4 0h1h1h1m4 0h1h1h1m2 0h1h1m1 0h1h1m1 0h1h1m1 0h1h1m1 0h1h1m3 0h1h1m1 0h1m9 0h1m4 0h1m4 0h1m21 0h1m14 0h1m2 0h1m7 0h1m7 0h1m2 0h1m7 0h1h1m52 0h1m19 0h1M685 2324h1m32 0h1m1 0h1h1h1m3 0h1h1m1 0h1h1h1h1h1m1 0h1m1 0h1h1h1m1 0h1m1 0h1m1 0h1h1m1 0h1m12 0h1m11 0h1m15 0h1m3 0h1m1 0h1m2 0h1m7 0h1m2 0h1m10 0h1m51 0h1M690 2325h1m15 0h1m1 0h1m1 0h1m2 0h1h1m1 0h1m1 0h1h1m3 0h1m1 0h1h1h1h1m1 0h1h1m2 0h1h1h1m1 0h1m2 0h1m4 0h1h1m9 0h1m7 0h1m2 0h1m2 0h1m5 0h1h1m20 0h1m3 0h1m21 0h1m60 0h1M690 2326h1m29 0h1m4 0h1h1m1 0h1m2 0h1m1 0h1h1m1 0h1m2 0h1h1m2 0h1m1 0h1m2 0h1h1m6 0h1m4 0h1m6 0h1m3 0h1m9 0h1m4 0h1h1m4 0h1m1 0h1h1m11 0h1m1 0h1h1m2 0h1m38 0h1m13 0h1m9 0h1m6 0h1m10 0h1M685 2327h1m26 0h1m1 0h1m7 0h1h1m1 0h1h1m2 0h1h1h1h1m1 0h1h1m1 0h1h1h1m3 0h1h1h1m6 0h1m26 0h1m7 0h1m17 0h1m3 0h1m25 0h1m3 0h1m102 0h1M705 2328h1m11 0h1m1 0h1h1h1m5 0h1h1m1 0h1h1m1 0h1h1m1 0h1h1h1m1 0h1m6 0h1m2 0h1m16 0h1m2 0h1m1 0h1m1 0h1m26 0h1h1m10 0h1m27 0h1m2 0h1m23 0h1m25 0h1m24 0h1M677 2329h1m19 0h1m24 0h1h1h1m1 0h1h1h1m2 0h1h1m2 0h1m1 0h1m7 0h1m1 0h1m1 0h1m2 0h1h1h1m10 0h1m6 0h1m7 0h1h1m7 0h1m6 0h1m6 0h1m1 0h1m1 0h1m19 0h1m14 0h1m1 0h1m3 0h1m1 0h1m5 0h1m107 0h1M699 2330h1h1m3 0h1m14 0h1m1 0h1m2 0h1h1m2 0h1m2 0h1m2 0h1m3 0h1m2 0h1m1 0h1m1 0h1m2 0h1h1h1m3 0h1m3 0h1m8 0h1m9 0h1m17 0h1m4 0h1m1 0h1m1 0h1m5 0h1m12 0h1h1m6 0h1m8 0h1m3 0h1m16 0h1m11 0h1m13 0h1m10 0h1M711 2331h1m5 0h1m5 0h1m1 0h1h1h1h1h1h1h1h1h1m1 0h1h1m1 0h1m1 0h1h1m2 0h1h1m1 0h1m1 0h1m11 0h1m4 0h1h1m2 0h1m2 0h1m25 0h1m5 0h1m9 0h1m5 0h1m2 0h1h1m29 0h1m8 0h1m24 0h1M669 2332h1m25 0h1m1 0h1m11 0h1m10 0h1m1 0h1h1m8 0h1m1 0h1h1h1m2 0h1h1h1m1 0h1h1m1 0h1m2 0h1m4 0h1m4 0h1m1 0h1m5 0h1m1 0h1m3 0h1m1 0h1m2 0h1m8 0h1h1m11 0h1h1h1m1 0h1m10 0h1m8 0h1h1m1 0h1m6 0h1m4 0h1m16 0h1m11 0h1h1m67 0h1M686 2333h1m26 0h1m6 0h1m4 0h1h1m1 0h1h1h1m3 0h1h1h1m1 0h1h1m2 0h1m3 0h1m1 0h1m1 0h1m1 0h1m15 0h1h1m1 0h1m2 0h1m2 0h1m2 0h1m1 0h1h1m4 0h1m3 0h1m5 0h1m6 0h1h1m4 0h1m6 0h1m6 0h1h1h1m24 0h1m6 0h1m12 0h1m42 0h1M717 2334h1m1 0h1m1 0h1h1m2 0h1h1h1h1m2 0h1h1h1h1h1h1m2 0h1h1m2 0h1h1m1 0h1h1m16 0h1m1 0h1h1m4 0h1m19 0h1m5 0h1m1 0h1h1m4 0h1m2 0h1m1 0h1m1 0h1m4 0h1m10 0h1m3 0h1m23 0h1m7 0h1m57 0h1M704 2335h1m2 0h1m7 0h1h1m7 0h1h1m2 0h1h1m2 0h1m2 0h1m3 0h1m1 0h1h1m7 0h1m3 0h1h1m8 0h1h1h1m2 0h1m14 0h1m1 0h1m2 0h1m18 0h1m8 0h1m7 0h1h1m8 0h1m10 0h1m7 0h1m18 0h1M689 2336h1m9 0h1m6 0h1m3 0h1m8 0h1m1 0h1m6 0h1m1 0h1h1m1 0h1m2 0h1h1h1h1h1m13 0h1m1 0h1m2 0h1m12 0h1m5 0h1m1 0h1m1 0h1h1m6 0h1h1m18 0h1m1 0h1h1h1m33 0h1M664 2337h1m19 0h1m11 0h1m25 0h1h1m1 0h1h1h1m4 0h1h1h1m1 0h1m1 0h1m1 0h1m5 0h1m3 0h1m2 0h1m2 0h1m1 0h1h1m3 0h1h1m2 0h1m9 0h1m7 0h1m2 0h1m1 0h1m6 0h1m6 0h1m1 0h1m1 0h1m2 0h1m1 0h1m22 0h1m3 0h1m3 0h1m8 0h1m25 0h1M707 2338h1m3 0h1h1m3 0h1m2 0h1m1 0h1h1m1 0h1h1h1h1h1m2 0h1h1m2 0h1h1m1 0h1m1 0h1m1 0h1h1m4 0h1m38 0h1m15 0h1m2 0h1m15 0h1m18 0h1m4 0h1m22 0h1M698 2339h1m9 0h1m7 0h1m3 0h1m4 0h1m2 0h1h1h1m2 0h1h1h1m1 0h1m10 0h1h1m5 0h1h1m2 0h1h1m3 0h1m3 0h1m5 0h1m9 0h1m7 0h1m1 0h1m2 0h1h1m6 0h1m9 0h1h1m1 0h1m1 0h1m19 0h1m1 0h1m19 0h1m41 0h1M715 2340h1h1m4 0h1m2 0h1m2 0h1m1 0h1m1 0h1m1 0h1m1 0h1h1h1h1m1 0h1m3 0h1m2 0h1m2 0h1h1m2 0h1m6 0h1m2 0h1m4 0h1m14 0h1h1m1 0h1m3 0h1m13 0h1h1m9 0h1m4 0h1m3 0h1h1m2 0h1m4 0h1m7 0h1h1m88 0h1M698 2341h1m6 0h1m11 0h1m1 0h1h1m1 0h1h1m3 0h1m1 0h1h1m1 0h1h1h1m1 0h1m3 0h1m1 0h1h1h1m6 0h1m2 0h1m4 0h1m13 0h1m2 0h1m18 0h1h1h1m15 0h1m2 0h1m5 0h1m14 0h1m13 0h1m14 0h1m13 0h1m1 0h1M707 2342h1m9 0h1h1m1 0h1m5 0h1h1m2 0h1h1h1h1m2 0h1h1m1 0h1m3 0h1m1 0h1m1 0h1m1 0h1h1h1m6 0h1m1 0h1h1m6 0h1m16 0h1m5 0h1m1 0h1m5 0h1m7 0h1m10 0h1m13 0h1m7 0h1m1 0h1h1m15 0h1m2 0h1m41 0h1M705 2343h1m1 0h1m9 0h1m3 0h1h1h1h1m4 0h1h1m3 0h1m6 0h1h1h1h1h1h1m1 0h1h1h1m1 0h1m7 0h1m6 0h1h1h1m8 0h1m4 0h1m1 0h1h1m7 0h1m2 0h1m3 0h1m3 0h1m5 0h1m6 0h1m44 0h1m17 0h1m4 0h1M701 2344h1m12 0h1m3 0h1m1 0h1h1h1m1 0h1h1m1 0h1h1h1h1h1h1m3 0h1m1 0h1m1 0h1m2 0h1h1m7 0h1m3 0h1m17 0h1m2 0h1m31 0h1m6 0h1m2 0h1m2 0h1m3 0h1m6 0h1m1 0h1h1m20 0h1m2 0h1m42 0h1M687 2345h1m32 0h1m2 0h1m3 0h1m1 0h1h1h1h1m3 0h1m1 0h1h1h1h1h1m1 0h1h1m4 0h1m3 0h1m2 0h1m16 0h1m7 0h1h1h1h1m3 0h1h1m3 0h1m16 0h1m3 0h1m4 0h1m1 0h1m2 0h1m3 0h1m15 0h1m10 0h1m20 0h1M702 2346h1m6 0h1h1m2 0h1m2 0h1m3 0h1m2 0h1h1h1h1m2 0h1h1h1h1h1m1 0h1m3 0h1m1 0h1h1m2 0h1h1m6 0h1h1m3 0h1m5 0h1m2 0h1m5 0h1m2 0h1m5 0h1m5 0h1m11 0h1m2 0h1m9 0h1m3 0h1m3 0h1m7 0h1m5 0h1m14 0h1m11 0h1M684 2347h1m23 0h1m8 0h1h1m5 0h1h1m1 0h1m2 0h1m2 0h1h1h1m1 0h1m1 0h1m1 0h1h1m2 0h1h1m5 0h1m2 0h1h1h1m3 0h1m4 0h1h1m15 0h1m3 0h1m13 0h1m5 0h1h1m8 0h1m3 0h1m6 0h1h1m3 0h1m4 0h1m11 0h1m13 0h1m16 0h1m5 0h1m3 0h1M682 2348h1m9 0h1m19 0h1m9 0h1m1 0h1h1h1m1 0h1h1h1h1h1m1 0h1h1h1h1h1m2 0h1m1 0h1m1 0h1h1m2 0h1h1m5 0h1m18 0h1m9 0h1m8 0h1m1 0h1m2 0h1m3 0h1h1m1 0h1h1h1m1 0h1h1m11 0h1h1h1m2 0h1m4 0h1m6 0h1h1m2 0h1m3 0h1h1m4 0h1m4 0h1m19 0h1m13 0h1m46 0h1M705 2349h1m7 0h1h1m1 0h1h1h1h1h1m2 0h1h1h1h1h1h1h1m2 0h1h1m1 0h1h1m2 0h1h1m3 0h1m8 0h1h1m11 0h1m19 0h1h1m5 0h1m2 0h1h1h1m4 0h1m2 0h1m4 0h1m8 0h1m6 0h1m14 0h1m12 0h1m28 0h1m6 0h1m15 0h1M687 2350h1m10 0h1m4 0h1m5 0h1m3 0h1m4 0h1h1m3 0h1h1h1m1 0h1h1h1m4 0h1h1h1h1m1 0h1m1 0h1m4 0h1h1m5 0h1m3 0h1m3 0h1m1 0h1m14 0h1m4 0h1m3 0h1m11 0h1m4 0h1m1 0h1m4 0h1m5 0h1m21 0h1m2 0h1m19 0h1m6 0h1m15 0h1m12 0h1m9 0h1M691 2351h1m13 0h1m1 0h1m1 0h1m3 0h1m2 0h1h1m1 0h1m2 0h1h1h1m1 0h1h1m5 0h1h1m1 0h1m1 0h1h1m1 0h1m2 0h1m2 0h1m1 0h1m8 0h1m3 0h1m1 0h1h1m2 0h1m10 0h1m1 0h1h1m7 0h1m5 0h1m10 0h1h1m18 0h1m1 0h1m3 0h1m9 0h1m1 0h1m17 0h1m4 0h1m14 0h1M686 2352h1m15 0h1m7 0h1m3 0h1m2 0h1m4 0h1h1m1 0h1h1h1h1m3 0h1h1h1h1h1h1m1 0h1h1m1 0h1h1m2 0h1m10 0h1m4 0h1m8 0h1h1h1m6 0h1m4 0h1m10 0h1m12 0h1m11 0h1m11 0h1m6 0h1m6 0h1m7 0h1m12 0h1m4 0h1m13 0h1M672 2353h1m30 0h1m9 0h1m1 0h1h1m2 0h1m2 0h1h1h1h1h1m1 0h1m1 0h1h1h1m3 0h1h1h1m4 0h1h1m4 0h1m1 0h1h1m4 0h1m1 0h1m1 0h1h1m4 0h1m12 0h1m1 0h1h1m8 0h1m7 0h1m7 0h1m5 0h1m16 0h1m91 0h1M677 2354h1m18 0h1m9 0h1m1 0h1m2 0h1m2 0h1h1m3 0h1m3 0h1h1h1h1m3 0h1m1 0h1m1 0h1h1h1h1h1h1h1m2 0h1h1h1m8 0h1m2 0h1m2 0h1m2 0h1m1 0h1h1m4 0h1h1h1m18 0h1m5 0h1m4 0h1m10 0h1m11 0h1m2 0h1m12 0h1m4 0h1m12 0h1m25 0h1M694 2355h1m11 0h1h1m1 0h1m1 0h1m4 0h1h1m1 0h1h1h1m1 0h1m1 0h1m2 0h1m2 0h1h1m2 0h1m4 0h1h1m5 0h1h1h1h1m1 0h1h1m5 0h1m3 0h1m6 0h1m9 0h1m2 0h1m4 0h1m4 0h1m6 0h1m1 0h1h1m13 0h1m2 0h1h1h1h1m11 0h1m3 0h1m3 0h1m4 0h1m1 0h1h1m2 0h1m3 0h1m30 0h1M716 2356h1m3 0h1h1m1 0h1m2 0h1m1 0h1m4 0h1h1m2 0h1h1m1 0h1m1 0h1m1 0h1h1m6 0h1h1m1 0h1m2 0h1m14 0h1m8 0h1m1 0h1m1 0h1m2 0h1m2 0h1m6 0h1m3 0h1m2 0h1m4 0h1m7 0h1m3 0h1m1 0h1m9 0h1m5 0h1m6 0h1m17 0h1M680 2357h1m10 0h1m4 0h1m6 0h1h1m5 0h1m4 0h1m2 0h1h1m2 0h1h1h1m4 0h1h1h1h1m1 0h1h1m2 0h1h1h1h1h1m1 0h1h1h1h1h1m2 0h1m1 0h1m15 0h1h1m2 0h1m6 0h1m3 0h1h1h1m5 0h1h1m3 0h1m4 0h1m5 0h1m1 0h1h1m3 0h1m5 0h1m1 0h1m11 0h1h1m2 0h1m3 0h1m6 0h1m5 0h1m37 0h1m22 0h1M703 2358h1m5 0h1m6 0h1h1h1m2 0h1h1h1h1h1m6 0h1h1m3 0h1m2 0h1h1h1m1 0h1h1h1h1h1h1m1 0h1h1m1 0h1m17 0h1m14 0h1m10 0h1m13 0h1m5 0h1m11 0h1m7 0h1m8 0h1m45 0h1m2 0h1m10 0h1M720 2359h1h1h1h1m6 0h1h1h1m1 0h1m3 0h1h1m1 0h1h1h1h1h1m2 0h1m4 0h1m1 0h1h1h1m3 0h1m6 0h1h1m9 0h1m10 0h1m9 0h1m1 0h1m2 0h1m6 0h1m4 0h1h1m29 0h1m4 0h1m12 0h1m38 0h1M699 2360h1m6 0h1m11 0h1m1 0h1h1m4 0h1m4 0h1h1h1h1m2 0h1h1m1 0h1h1h1m2 0h1h1m7 0h1h1m2 0h1m4 0h1m2 0h1h1h1h1h1m14 0h1m1 0h1h1m1 0h1m8 0h1m11 0h1m1 0h1m3 0h1h1m4 0h1m5 0h1m2 0h1m18 0h1m26 0h1m12 0h1m18 0h1M689 2361h1m8 0h1m12 0h1m1 0h1m4 0h1h1m1 0h1h1h1m1 0h1m5 0h1m1 0h1h1m2 0h1m3 0h1m2 0h1m1 0h1m2 0h1m1 0h1m3 0h1m2 0h1h1m10 0h1m2 0h1m5 0h1h1m13 0h1m14 0h1m4 0h1m14 0h1m4 0h1m3 0h1m1 0h1m8 0h1m15 0h1m1 0h1m5 0h1m24 0h1M704 2362h1m7 0h1m2 0h1m2 0h1m1 0h1m1 0h1m6 0h1h1m1 0h1m2 0h1h1m3 0h1m1 0h1h1h1h1h1h1m1 0h1h1m2 0h1m8 0h1m2 0h1m1 0h1m3 0h1m3 0h1h1m2 0h1h1m9 0h1m7 0h1m7 0h1h1m1 0h1m6 0h1m3 0h1m6 0h1h1m1 0h1m1 0h1m3 0h1m3 0h1m11 0h1m12 0h1h1m20 0h1m54 0h1m10 0h1M691 2363h1m25 0h1m1 0h1m1 0h1m3 0h1m3 0h1m4 0h1h1h1m3 0h1h1h1h1h1m1 0h1m6 0h1m2 0h1m7 0h1m12 0h1m3 0h1m6 0h1h1m14 0h1h1m9 0h1m21 0h1m1 0h1h1m4 0h1m8 0h1m8 0h1m17 0h1m6 0h1m4 0h1m27 0h1M696 2364h1m20 0h1m2 0h1h1m2 0h1m2 0h1m4 0h1m3 0h1m1 0h1m2 0h1m2 0h1h1h1h1h1h1h1h1h1m3 0h1m3 0h1m6 0h1m1 0h1m8 0h1m10 0h1m8 0h1m3 0h1m3 0h1m5 0h1h1m5 0h1m1 0h1m4 0h1m1 0h1m7 0h1m3 0h1m6 0h1m4 0h1m10 0h1m78 0h1M660 2365h1m15 0h1m32 0h1m2 0h1h1m1 0h1h1h1h1h1h1m1 0h1m10 0h1m1 0h1h1m3 0h1h1h1m1 0h1h1m1 0h1m7 0h1m1 0h1m4 0h1m15 0h1m1 0h1h1m5 0h1m5 0h1m1 0h1h1m2 0h1m7 0h1m10 0h1m3 0h1m2 0h1m14 0h1h1m5 0h1m1 0h1m3 0h1h1m12 0h1m3 0h1m5 0h1m18 0h1m43 0h1M708 2366h1h1m1 0h1h1h1h1m1 0h1h1m2 0h1m9 0h1m2 0h1m9 0h1h1h1m1 0h1h1m1 0h1m2 0h1m2 0h1h1h1m1 0h1m1 0h1h1m2 0h1m11 0h1m24 0h1m4 0h1m8 0h1m7 0h1m3 0h1m7 0h1m2 0h1m15 0h1m6 0h1m6 0h1m14 0h1m14 0h1m11 0h1m5 0h1m48 0h1M691 2367h1m21 0h1h1m2 0h1m8 0h1h1m1 0h1m9 0h1m5 0h1h1h1h1h1m2 0h1h1h1m2 0h1m2 0h1m2 0h1h1h1m26 0h1h1m1 0h1m1 0h1h1m2 0h1m2 0h1m7 0h1m4 0h1m2 0h1m1 0h1m1 0h1m2 0h1m11 0h1m2 0h1m14 0h1m16 0h1m13 0h1m8 0h1m1 0h1m11 0h1h1m25 0h1M653 2368h1m61 0h1m2 0h1m5 0h1m1 0h1m1 0h1m11 0h1m1 0h1h1m1 0h1m1 0h1h1h1h1h1h1h1m4 0h1m2 0h1m3 0h1m1 0h1m6 0h1m7 0h1m6 0h1m4 0h1m2 0h1h1m5 0h1h1m4 0h1m2 0h1m8 0h1m3 0h1m9 0h1m5 0h1m5 0h1m11 0h1m28 0h1m32 0h1M683 2369h1m25 0h1m3 0h1h1h1m3 0h1m3 0h1m7 0h1m2 0h1h1m3 0h1m6 0h1h1h1h1m1 0h1m9 0h1m1 0h1m1 0h1m11 0h1h1m5 0h1m3 0h1h1m2 0h1m2 0h1h1m1 0h1m2 0h1h1m1 0h1m2 0h1m2 0h1h1m1 0h1m8 0h1m4 0h1h1m4 0h1m6 0h1m4 0h1m11 0h1m3 0h1m2 0h1m28 0h1m1 0h1m11 0h1m4 0h1M708 2370h1m1 0h1m3 0h1h1h1h1m1 0h1m5 0h1m2 0h1h1m2 0h1m2 0h1m8 0h1m5 0h1h1m3 0h1m2 0h1m1 0h1m9 0h1h1m3 0h1m3 0h1m4 0h1h1h1m2 0h1m3 0h1m3 0h1m9 0h1m11 0h1m5 0h1h1m3 0h1m2 0h1m3 0h1m4 0h1m4 0h1m1 0h1h1m3 0h1m3 0h1m3 0h1m6 0h1m9 0h1m49 0h1m3 0h1M686 2371h1m13 0h1m9 0h1m4 0h1h1h1m7 0h1m2 0h1m1 0h1h1m3 0h1m9 0h1m2 0h1h1h1h1h1h1m2 0h1h1h1m2 0h1m4 0h1m5 0h1m4 0h1m2 0h1h1h1h1m10 0h1m4 0h1m7 0h1m6 0h1m3 0h1m3 0h1m1 0h1m10 0h1m7 0h1m12 0h1m22 0h1m12 0h1m1 0h1m10 0h1m13 0h1m1 0h1m3 0h1m38 0h1M705 2372h1m9 0h1m1 0h1h1m1 0h1m6 0h1h1m3 0h1m1 0h1m4 0h1m7 0h1h1h1h1h1h1h1h1m2 0h1m4 0h1m11 0h1m4 0h1m5 0h1m4 0h1m4 0h1m5 0h1m3 0h1m8 0h1m1 0h1m2 0h1m1 0h1m8 0h1m2 0h1m21 0h1m7 0h1m1 0h1m1 0h1m5 0h1m3 0h1m16 0h1m14 0h1m10 0h1m48 0h1M694 2373h1m10 0h1h1m2 0h1m2 0h1h1h1h1m1 0h1h1m2 0h1m1 0h1m10 0h1m1 0h1m12 0h1h1h1m1 0h1h1m2 0h1h1m1 0h1m3 0h1m4 0h1h1m8 0h1m1 0h1m2 0h1m2 0h1m6 0h1m2 0h1m1 0h1m2 0h1m10 0h1m3 0h1m3 0h1h1m2 0h1h1m15 0h1m13 0h1m9 0h1m26 0h1m1 0h1m9 0h1m9 0h1M704 2374h1m8 0h1h1h1m1 0h1m21 0h1m4 0h1m1 0h1m3 0h1h1m1 0h1m1 0h1h1m1 0h1h1h1m6 0h1m4 0h1m1 0h1h1m1 0h1m5 0h1h1h1m3 0h1m6 0h1m1 0h1m4 0h1m3 0h1m2 0h1m8 0h1m2 0h1m4 0h1m5 0h1m2 0h1m6 0h1m10 0h1m4 0h1m3 0h1m6 0h1h1m1 0h1m9 0h1m2 0h1m16 0h1h1h1m17 0h1m13 0h1m11 0h1M690 2375h1m14 0h1m7 0h1h1h1m6 0h1m26 0h1m1 0h1h1h1m3 0h1m2 0h1h1m4 0h1m4 0h1m6 0h1m15 0h1m10 0h1m8 0h1m3 0h1m7 0h1m1 0h1m9 0h1h1m12 0h1m17 0h1m9 0h1m11 0h1h1m21 0h1m11 0h1m4 0h1m22 0h1M703 2376h1m2 0h1m1 0h1m3 0h1m1 0h1h1h1m4 0h1m2 0h1m6 0h1m17 0h1h1m2 0h1h1m1 0h1m4 0h1m2 0h1m2 0h1m1 0h1h1m1 0h1h1m1 0h1h1m6 0h1m1 0h1h1m7 0h1m5 0h1m1 0h1h1m4 0h1h1h1m14 0h1h1m2 0h1m2 0h1m2 0h1m4 0h1m9 0h1m20 0h1m7 0h1m10 0h1m19 0h1m1 0h1m1 0h1m7 0h1m12 0h1m2 0h1M696 2377h1m6 0h1m1 0h1m4 0h1h1h1m1 0h1m3 0h1m1 0h1m2 0h1m6 0h1m8 0h1h1m1 0h1m1 0h1h1m7 0h1h1h1m2 0h1m5 0h1m10 0h1m2 0h1m1 0h1m4 0h1m4 0h1m10 0h1m3 0h1m1 0h1m2 0h1m5 0h1m1 0h1m3 0h1m9 0h1h1m5 0h1h1m6 0h1m8 0h1m5 0h1m4 0h1m15 0h1m11 0h1m1 0h1m16 0h1m4 0h1M687 2378h1m3 0h1m8 0h1m7 0h1m1 0h1h1h1m1 0h1h1m16 0h1m11 0h1m4 0h1m3 0h1h1h1m1 0h1m6 0h1m2 0h1h1m1 0h1m3 0h1m5 0h1m6 0h1h1m3 0h1h1m3 0h1m3 0h1m4 0h1m2 0h1m1 0h1m1 0h1m4 0h1m11 0h1h1m3 0h1m2 0h1m3 0h1m1 0h1h1m6 0h1m3 0h1m14 0h1h1m2 0h1h1h1m21 0h1m1 0h1m14 0h1m6 0h1m11 0h1m7 0h1m14 0h1M690 2379h1m20 0h1m2 0h1h1m2 0h1m2 0h1m4 0h1m4 0h1m1 0h1m1 0h1m4 0h1m1 0h1m1 0h1m1 0h1m3 0h1m1 0h1m2 0h1h1h1m1 0h1m2 0h1m1 0h1m2 0h1h1h1h1h1h1m2 0h1m1 0h1m2 0h1m1 0h1m2 0h1m1 0h1m1 0h1m1 0h1m1 0h1m4 0h1m2 0h1m2 0h1m12 0h1h1h1m5 0h1m2 0h1m9 0h1m21 0h1m1 0h1m2 0h1m1 0h1m3 0h1m1 0h1h1m1 0h1h1m6 0h1h1m2 0h1m8 0h1m1 0h1m7 0h1m2 0h1m29 0h1M687 2380h1m18 0h1h1m3 0h1m1 0h1m5 0h1m4 0h1m13 0h1m2 0h1m14 0h1m2 0h1h1h1m1 0h1h1m10 0h1m12 0h1m2 0h1h1m4 0h1m2 0h1h1h1h1h1m5 0h1m4 0h1h1h1h1m1 0h1m5 0h1m2 0h1h1m1 0h1h1m5 0h1m2 0h1h1m11 0h1h1m3 0h1m5 0h1m5 0h1h1m10 0h1m17 0h1m7 0h1h1m4 0h1m3 0h1m5 0h1h1m6 0h1h1m5 0h1h1m1 0h1M690 2381h1m9 0h1m1 0h1h1m3 0h1m2 0h1m1 0h1h1m16 0h1h1m2 0h1m4 0h1m3 0h1h1h1m10 0h1m3 0h1m1 0h1m1 0h1m2 0h1h1h1m2 0h1m4 0h1h1m2 0h1m1 0h1m2 0h1m9 0h1h1m1 0h1m12 0h1m13 0h1m3 0h1m12 0h1m4 0h1h1m1 0h1h1h1h1m17 0h1m3 0h1m10 0h1m5 0h1h1m12 0h1m5 0h1m4 0h1m19 0h1M682 2382h1m6 0h1m21 0h1m2 0h1m3 0h1m2 0h1m22 0h1m10 0h1h1h1m2 0h1h1h1h1h1h1h1h1m5 0h1m2 0h1h1m1 0h1m1 0h1m2 0h1h1m3 0h1m1 0h1m8 0h1m8 0h1m1 0h1m1 0h1h1m8 0h1m3 0h1m1 0h1m8 0h1m25 0h1h1m1 0h1m2 0h1m4 0h1m10 0h1m5 0h1m12 0h1m6 0h1m34 0h1M711 2383h1h1h1m3 0h1m15 0h1m10 0h1m12 0h1m2 0h1m1 0h1h1h1m1 0h1m3 0h1m1 0h1h1h1h1m7 0h1m6 0h1m1 0h1h1m7 0h1m2 0h1m1 0h1h1h1m1 0h1m2 0h1m1 0h1h1m2 0h1m3 0h1m5 0h1m4 0h1h1m1 0h1m2 0h1h1m7 0h1m1 0h1h1m7 0h1m2 0h1h1m4 0h1m10 0h1m2 0h1m8 0h1m9 0h1m11 0h1h1m1 0h1m21 0h1h1m14 0h1M703 2384h1m1 0h1m2 0h1m1 0h1h1h1h1m12 0h1m6 0h1m6 0h1m3 0h1m2 0h1m6 0h1m4 0h1h1h1h1h1h1h1h1m3 0h1m1 0h1m7 0h1m3 0h1m5 0h1m1 0h1h1m1 0h1m1 0h1h1m6 0h1h1m1 0h1h1m2 0h1m3 0h1m3 0h1m3 0h1h1m5 0h1h1m7 0h1m17 0h1m8 0h1m1 0h1h1m5 0h1m5 0h1m3 0h1m4 0h1m5 0h1m3 0h1h1m6 0h1m10 0h1m2 0h1m23 0h1M703 2385h1m1 0h1m1 0h1m1 0h1h1h1h1m14 0h1m2 0h1m4 0h1m9 0h1m4 0h1m3 0h1h1m3 0h1h1m2 0h1m1 0h1m6 0h1m4 0h1h1m1 0h1m5 0h1m1 0h1m8 0h1h1m1 0h1m2 0h1m2 0h1m4 0h1m7 0h1m2 0h1m1 0h1h1m4 0h1h1m3 0h1m14 0h1m17 0h1m5 0h1m8 0h1h1m6 0h1m7 0h1m2 0h1m1 0h1m4 0h1h1m5 0h1m3 0h1m16 0h1m7 0h1m11 0h1m5 0h1M699 2386h1m4 0h1m1 0h1m1 0h1h1m2 0h1m9 0h1m22 0h1m2 0h1m7 0h1m2 0h1h1h1m1 0h1h1h1h1m1 0h1m3 0h1m1 0h1m1 0h1m2 0h1h1m1 0h1m4 0h1m4 0h1h1m1 0h1m2 0h1m2 0h1h1m6 0h1h1m7 0h1m9 0h1h1m7 0h1m1 0h1m7 0h1h1h1h1m1 0h1h1m2 0h1h1m1 0h1m1 0h1m3 0h1m2 0h1m2 0h1h1m1 0h1h1m1 0h1m1 0h1h1m2 0h1m7 0h1h1m4 0h1m3 0h1m3 0h1m2 0h1h1m11 0h1m6 0h1m11 0h1m2 0h1m44 0h1M706 2387h1m1 0h1h1m13 0h1m1 0h1m13 0h1m1 0h1m3 0h1m4 0h1m12 0h1h1h1m1 0h1m2 0h1h1m1 0h1h1h1m3 0h1m2 0h1h1h1h1m12 0h1m3 0h1m5 0h1h1m1 0h1m2 0h1m1 0h1h1m4 0h1m2 0h1h1m2 0h1m1 0h1m3 0h1m1 0h1m1 0h1m1 0h1h1h1m6 0h1m6 0h1h1m2 0h1m1 0h1m1 0h1h1m5 0h1m2 0h1m7 0h1m1 0h1m1 0h1m7 0h1m3 0h1m1 0h1h1m7 0h1m1 0h1m14 0h1m8 0h1m6 0h1h1m3 0h1m6 0h1M703 2388h1m1 0h1h1m1 0h1h1h1h1m12 0h1m4 0h1m9 0h1m7 0h1m6 0h1m1 0h1m4 0h1h1h1h1h1h1h1m1 0h1m2 0h1m1 0h1h1h1m2 0h1m2 0h1h1m14 0h1m4 0h1m7 0h1m2 0h1h1m8 0h1h1h1m1 0h1h1m9 0h1h1m5 0h1m4 0h1m4 0h1m10 0h1m3 0h1m4 0h1h1h1m4 0h1m3 0h1m4 0h1m7 0h1m28 0h1m4 0h1m19 0h1M691 2389h1m5 0h1m8 0h1m1 0h1h1h1m1 0h1m17 0h1m3 0h1m11 0h1m4 0h1m1 0h1m1 0h1m9 0h1h1h1m1 0h1h1m2 0h1m2 0h1m3 0h1h1m4 0h1m1 0h1m5 0h1h1m2 0h1m2 0h1h1m2 0h1h1m1 0h1h1h1m3 0h1m10 0h1m9 0h1m3 0h1m5 0h1m1 0h1m3 0h1m13 0h1m1 0h1h1m1 0h1m1 0h1m2 0h1m8 0h1m4 0h1m2 0h1h1m6 0h1h1m2 0h1m4 0h1m4 0h1m6 0h1h1m12 0h1m8 0h1h1h1m2 0h1m12 0h1m11 0h1M704 2390h1m3 0h1m1 0h1h1h1m5 0h1m9 0h1m5 0h1m4 0h1m10 0h1m5 0h1m5 0h1m2 0h1m1 0h1h1h1h1m3 0h1m2 0h1h1h1h1h1h1m1 0h1h1m2 0h1h1m2 0h1h1m7 0h1m1 0h1m1 0h1h1h1m1 0h1m10 0h1m4 0h1m7 0h1m4 0h1h1m6 0h1h1h1m4 0h1m3 0h1h1h1m6 0h1m1 0h1m2 0h1h1m1 0h1m5 0h1m1 0h1h1h1m4 0h1m1 0h1m1 0h1m4 0h1m6 0h1m5 0h1m4 0h1m5 0h1m5 0h1m5 0h1m1 0h1m1 0h1m4 0h1m12 0h1m11 0h1m9 0h1M691 2391h1m4 0h1m4 0h1m1 0h1m4 0h1m38 0h1m8 0h1m1 0h1m9 0h1h1h1m2 0h1m2 0h1h1h1m4 0h1m7 0h1m2 0h1h1m2 0h1m1 0h1h1h1h1h1m1 0h1m7 0h1m2 0h1m3 0h1m6 0h1m1 0h1h1h1m2 0h1m2 0h1h1m2 0h1m3 0h1m1 0h1h1m3 0h1m5 0h1h1h1h1m2 0h1m7 0h1m2 0h1h1m8 0h1m1 0h1m1 0h1m1 0h1h1m5 0h1m8 0h1m2 0h1m2 0h1m3 0h1h1m6 0h1m1 0h1h1h1m1 0h1m5 0h1m6 0h1m10 0h1h1m6 0h1m1 0h1M688 2392h1m7 0h1m3 0h1h1m3 0h1h1h1m1 0h1h1m1 0h1m11 0h1m3 0h1m6 0h1m9 0h1m3 0h1m16 0h1m1 0h1h1h1m4 0h1h1m2 0h1h1m1 0h1h1m1 0h1h1h1m3 0h1m1 0h1m4 0h1h1m2 0h1m2 0h1m2 0h1m2 0h1m2 0h1h1m4 0h1m3 0h1h1m5 0h1m2 0h1m2 0h1m1 0h1m4 0h1h1m3 0h1m3 0h1m1 0h1h1h1h1m3 0h1m2 0h1m6 0h1h1m9 0h1m2 0h1h1m5 0h1m9 0h1m1 0h1h1m11 0h1h1m10 0h1m5 0h1m18 0h1m4 0h1m18 0h1M683 2393h1m3 0h1m7 0h1m5 0h1m2 0h1m4 0h1h1m11 0h1m13 0h1m27 0h1m3 0h1m1 0h1h1h1h1m1 0h1h1h1m9 0h1m3 0h1h1m3 0h1m3 0h1m1 0h1m4 0h1m1 0h1m8 0h1m3 0h1m3 0h1m1 0h1m5 0h1m6 0h1h1m4 0h1m8 0h1m2 0h1h1m8 0h1m11 0h1m3 0h1h1h1h1m6 0h1m1 0h1h1h1h1m1 0h1m4 0h1m3 0h1m4 0h1m2 0h1m2 0h1m1 0h1m8 0h1m3 0h1m1 0h1m2 0h1m7 0h1M683 2394h1m15 0h1m5 0h1h1m2 0h1h1m6 0h1m13 0h1m5 0h1m4 0h1m8 0h1m7 0h1h1m6 0h1h1m3 0h1m1 0h1h1m1 0h1m1 0h1m1 0h1h1m1 0h1h1m1 0h1h1h1m1 0h1h1m2 0h1m1 0h1h1m5 0h1m12 0h1m1 0h1m3 0h1m6 0h1m4 0h1m3 0h1m2 0h1m1 0h1m2 0h1m1 0h1m5 0h1h1m5 0h1m3 0h1m2 0h1m1 0h1m5 0h1h1m3 0h1h1m2 0h1m2 0h1m3 0h1h1m9 0h1m2 0h1h1m5 0h1m3 0h1m7 0h1m1 0h1m2 0h1m1 0h1m3 0h1h1m3 0h1h1m7 0h1M690 2395h1m2 0h1m5 0h1m3 0h1m2 0h1h1h1m1 0h1m13 0h1m7 0h1m11 0h1m2 0h1h1m3 0h1m8 0h1m11 0h1h1h1m1 0h1h1m1 0h1m1 0h1m2 0h1h1m1 0h1m1 0h1m1 0h1m3 0h1m5 0h1h1m2 0h1h1m2 0h1m2 0h1m3 0h1m6 0h1m2 0h1h1h1m1 0h1m6 0h1h1m1 0h1m7 0h1h1h1h1m2 0h1m2 0h1m3 0h1m3 0h1m1 0h1h1m2 0h1h1h1m1 0h1m2 0h1m1 0h1m4 0h1m5 0h1m5 0h1m1 0h1m1 0h1m20 0h1m3 0h1m2 0h1m5 0h1m1 0h1m2 0h1m8 0h1m2 0h1m13 0h1m1 0h1M708 2396h1h1m34 0h1m11 0h1m8 0h1m7 0h1h1h1m3 0h1h1m4 0h1h1m8 0h1m3 0h1m1 0h1m1 0h1m1 0h1m14 0h1m1 0h1m2 0h1m1 0h1m3 0h1m2 0h1h1h1m3 0h1h1m3 0h1m2 0h1m12 0h1h1m3 0h1h1h1m1 0h1m6 0h1m1 0h1h1h1m3 0h1h1m3 0h1h1m3 0h1m3 0h1h1h1m3 0h1m1 0h1m7 0h1m4 0h1m1 0h1h1m4 0h1m4 0h1M685 2397h1m2 0h1m2 0h1m7 0h1h1m3 0h1m1 0h1h1m1 0h1m55 0h1m6 0h1m2 0h1h1m1 0h1m1 0h1h1m2 0h1h1m2 0h1m1 0h1h1h1m2 0h1h1m4 0h1h1h1m3 0h1m2 0h1m3 0h1m3 0h1m7 0h1h1h1m6 0h1m3 0h1h1m4 0h1m4 0h1m3 0h1m2 0h1m4 0h1h1m1 0h1h1h1m6 0h1m1 0h1m1 0h1m3 0h1h1h1h1h1m1 0h1m1 0h1m2 0h1m5 0h1m2 0h1h1h1h1m9 0h1h1h1h1m4 0h1m1 0h1m8 0h1m4 0h1m1 0h1m8 0h1m1 0h1h1M706 2398h1h1m1 0h1m50 0h1m7 0h1h1h1m6 0h1h1h1h1h1h1h1h1h1m4 0h1h1h1m2 0h1h1h1m2 0h1m1 0h1m1 0h1m5 0h1h1h1m3 0h1m1 0h1m2 0h1m5 0h1m1 0h1h1m1 0h1h1m2 0h1m8 0h1h1m1 0h1m3 0h1h1h1m5 0h1m1 0h1m1 0h1m3 0h1h1h1m5 0h1m4 0h1h1m1 0h1m3 0h1m3 0h1m2 0h1h1h1h1m5 0h1m1 0h1m6 0h1m1 0h1h1m10 0h1m1 0h1m2 0h1m3 0h1m3 0h1m9 0h1m1 0h1m1 0h1m10 0h1M666 2399h1m19 0h1m15 0h1m3 0h1m1 0h1m13 0h1m6 0h1m36 0h1m4 0h1m5 0h1h1h1h1h1h1h1h1m1 0h1m1 0h1h1h1h1m4 0h1m6 0h1m4 0h1m3 0h1m4 0h1h1h1h1h1m3 0h1h1m10 0h1m4 0h1m1 0h1h1h1m2 0h1m1 0h1h1m3 0h1m4 0h1h1h1h1m2 0h1m4 0h1m7 0h1m2 0h1m4 0h1m2 0h1m1 0h1m5 0h1m2 0h1m2 0h1h1m1 0h1m1 0h1m5 0h1m2 0h1m1 0h1m5 0h1m2 0h1h1m14 0h1m30 0h1h1M697 2400h1m5 0h1m1 0h1h1m2 0h1m1 0h1m1 0h1m5 0h1m5 0h1m21 0h1h1m13 0h1m1 0h1m4 0h1h1m4 0h1h1m3 0h1h1h1h1m1 0h1m1 0h1h1m1 0h1h1h1h1h1h1h1m1 0h1h1h1h1m7 0h1m7 0h1h1m2 0h1m3 0h1m2 0h1m2 0h1m1 0h1h1h1m4 0h1h1m6 0h1m4 0h1m5 0h1h1h1h1m4 0h1m1 0h1m3 0h1h1h1m4 0h1m1 0h1h1m1 0h1h1h1m2 0h1m13 0h1h1m2 0h1m3 0h1m2 0h1m3 0h1h1m5 0h1m7 0h1m1 0h1m2 0h1m1 0h1m17 0h1M693 2401h1m8 0h1h1m2 0h1h1m15 0h1m2 0h1m10 0h1m4 0h1m1 0h1m12 0h1m1 0h1h1m2 0h1m8 0h1m6 0h1m1 0h1h1m2 0h1h1h1h1h1h1h1m2 0h1m1 0h1h1m5 0h1h1h1m2 0h1m2 0h1m1 0h1h1m3 0h1m1 0h1h1m2 0h1m1 0h1h1h1m1 0h1m2 0h1m5 0h1m1 0h1h1h1m5 0h1h1m4 0h1m3 0h1m7 0h1h1m2 0h1m1 0h1h1m1 0h1h1m2 0h1m1 0h1m1 0h1m1 0h1h1h1m7 0h1m2 0h1m4 0h1h1m4 0h1h1m1 0h1m8 0h1h1m1 0h1h1m2 0h1m8 0h1m2 0h1h1m36 0h1M701 2402h1m43 0h1m2 0h1m1 0h1m1 0h1h1m18 0h1m10 0h1h1h1h1h1m1 0h1m1 0h1m1 0h1h1h1h1h1h1h1h1m1 0h1h1m1 0h1h1h1h1h1m4 0h1h1h1m2 0h1h1m1 0h1h1m2 0h1m1 0h1m2 0h1m1 0h1h1m4 0h1m3 0h1h1h1h1m10 0h1m2 0h1h1h1m1 0h1m1 0h1h1m1 0h1m2 0h1m2 0h1m2 0h1m3 0h1m1 0h1m2 0h1m4 0h1m4 0h1h1m1 0h1h1h1m4 0h1h1m6 0h1m1 0h1h1m2 0h1m10 0h1m17 0h1m2 0h1m1 0h1m3 0h1m5 0h1M689 2403h1m2 0h1m6 0h1h1m3 0h1h1m1 0h1m8 0h1m34 0h1m4 0h1m14 0h1m1 0h1m1 0h1m9 0h1h1h1m1 0h1h1h1m1 0h1m2 0h1h1h1h1h1m1 0h1h1h1m1 0h1h1m4 0h1h1m3 0h1h1m5 0h1m2 0h1m8 0h1h1m4 0h1h1m1 0h1m2 0h1m4 0h1m1 0h1h1m2 0h1m3 0h1h1h1m1 0h1m7 0h1m2 0h1h1m1 0h1m3 0h1h1h1h1m1 0h1m2 0h1h1m6 0h1m1 0h1m2 0h1m1 0h1m3 0h1m1 0h1m2 0h1m5 0h1m2 0h1m2 0h1m12 0h1M700 2404h1m66 0h1m11 0h1h1h1m6 0h1h1m2 0h1h1h1h1m1 0h1h1m1 0h1m1 0h1m1 0h1m2 0h1m1 0h1m1 0h1m3 0h1m14 0h1m6 0h1m3 0h1h1h1m1 0h1m1 0h1m2 0h1m3 0h1m1 0h1m2 0h1h1m1 0h1m2 0h1h1h1h1h1m3 0h1m2 0h1h1h1h1h1m2 0h1m4 0h1m3 0h1h1m1 0h1h1m2 0h1m1 0h1m1 0h1m2 0h1m3 0h1m5 0h1m10 0h1m9 0h1m2 0h1m1 0h1m14 0h1h1M696 2405h1h1m6 0h1m1 0h1m24 0h1m8 0h1m2 0h1m2 0h1m16 0h1m15 0h1m3 0h1m5 0h1h1h1h1h1h1h1h1m1 0h1m2 0h1h1h1h1h1h1m2 0h1m2 0h1h1m5 0h1m8 0h1m1 0h1h1h1h1m1 0h1h1h1m1 0h1m3 0h1m1 0h1h1h1h1m1 0h1h1h1m1 0h1m1 0h1m1 0h1m2 0h1m2 0h1h1m2 0h1h1m2 0h1h1h1m1 0h1h1h1m1 0h1m1 0h1h1h1h1h1h1m1 0h1m1 0h1h1h1m1 0h1h1m1 0h1m1 0h1h1h1h1h1h1m3 0h1m6 0h1m1 0h1m2 0h1h1h1m3 0h1m1 0h1m7 0h1m9 0h1m25 0h1m3 0h1h1M681 2406h1m16 0h1h1h1m4 0h1m33 0h1m16 0h1m8 0h1m22 0h1m3 0h1m1 0h1h1h1m1 0h1m1 0h1h1m2 0h1h1h1m3 0h1m1 0h1h1h1m1 0h1m2 0h1h1m5 0h1m3 0h1m4 0h1m1 0h1h1m4 0h1m8 0h1h1m1 0h1m1 0h1h1h1h1h1h1m2 0h1m2 0h1m1 0h1m2 0h1m3 0h1m1 0h1m1 0h1m6 0h1m4 0h1m3 0h1h1m2 0h1h1h1m6 0h1h1m3 0h1m8 0h1m1 0h1m3 0h1h1h1m4 0h1m2 0h1m3 0h1m4 0h1h1m7 0h1M685 2407h1m5 0h1m6 0h1h1h1m1 0h1m2 0h1h1m17 0h1m7 0h1m14 0h1m22 0h1m11 0h1h1h1h1m3 0h1m1 0h1m1 0h1h1m1 0h1h1h1h1h1h1h1h1h1h1m1 0h1m3 0h1m3 0h1h1m4 0h1m2 0h1m1 0h1m3 0h1h1m1 0h1m1 0h1h1m3 0h1m4 0h1m3 0h1m2 0h1m2 0h1m1 0h1m1 0h1m3 0h1m1 0h1h1h1m3 0h1h1m1 0h1h1m4 0h1h1h1m1 0h1h1h1h1m1 0h1m2 0h1h1h1h1h1h1h1m2 0h1h1m2 0h1m1 0h1m6 0h1m5 0h1h1h1h1m2 0h1h1h1m2 0h1h1m1 0h1h1m14 0h1m15 0h1m22 0h1M699 2408h1m1 0h1m1 0h1h1h1h1m6 0h1m30 0h1m15 0h1m2 0h1h1m4 0h1m12 0h1m6 0h1m3 0h1m1 0h1h1h1h1h1h1m1 0h1h1h1h1m2 0h1m1 0h1h1m1 0h1m2 0h1h1m3 0h1h1m1 0h1m3 0h1m4 0h1h1m1 0h1m6 0h1m1 0h1m2 0h1m2 0h1m1 0h1m2 0h1h1m1 0h1h1h1m1 0h1h1h1m1 0h1h1m1 0h1m1 0h1h1m8 0h1h1h1m1 0h1h1m2 0h1h1m3 0h1m3 0h1h1m2 0h1m1 0h1m4 0h1m1 0h1m3 0h1m3 0h1m3 0h1m1 0h1m2 0h1m1 0h1m4 0h1M697 2409h1m3 0h1m3 0h1h1m18 0h1m32 0h1m5 0h1m10 0h1m2 0h1m2 0h1m2 0h1h1h1h1h1m3 0h1m2 0h1h1h1m1 0h1m1 0h1h1h1h1m1 0h1m1 0h1m1 0h1m4 0h1m1 0h1m2 0h1h1h1h1m1 0h1h1h1m2 0h1m1 0h1h1h1m8 0h1m3 0h1m1 0h1m1 0h1m4 0h1h1h1m1 0h1h1h1h1h1m1 0h1h1h1h1m3 0h1m2 0h1m7 0h1m2 0h1h1m3 0h1m1 0h1m3 0h1m6 0h1m1 0h1m3 0h1h1m1 0h1h1h1m4 0h1h1m1 0h1m2 0h1m1 0h1h1m1 0h1m7 0h1m5 0h1M687 2410h1m2 0h1m6 0h1h1m3 0h1m1 0h1h1h1m23 0h1h1m4 0h1m55 0h1m5 0h1h1h1h1h1m1 0h1h1h1m2 0h1m2 0h1m3 0h1h1h1h1h1h1h1h1m2 0h1m1 0h1m7 0h1m6 0h1m2 0h1m3 0h1h1m6 0h1h1m1 0h1m3 0h1m1 0h1h1h1h1h1h1h1h1m1 0h1m5 0h1m4 0h1m1 0h1m1 0h1m2 0h1m4 0h1m3 0h1m3 0h1h1m6 0h1h1h1h1m6 0h1m5 0h1m11 0h1m3 0h1m8 0h1m6 0h1M693 2411h1m7 0h1m3 0h1h1m25 0h1m10 0h1m21 0h1m12 0h1m1 0h1m1 0h1h1m2 0h1h1h1m2 0h1m3 0h1m2 0h1m1 0h1h1h1h1h1h1h1m2 0h1h1m2 0h1h1h1m1 0h1m4 0h1m1 0h1m3 0h1m3 0h1m1 0h1m1 0h1h1h1h1m2 0h1m1 0h1m2 0h1h1m5 0h1m1 0h1h1h1m2 0h1m2 0h1h1h1h1m1 0h1h1m3 0h1h1h1h1h1m6 0h1m1 0h1h1h1m1 0h1m1 0h1m1 0h1h1h1h1h1m1 0h1h1m1 0h1m2 0h1h1m2 0h1m3 0h1h1m3 0h1m1 0h1m1 0h1h1h1m3 0h1h1m6 0h1h1m3 0h1m2 0h1m5 0h1m2 0h1m3 0h1h1m15 0h1M676 2412h1m5 0h1m16 0h1m2 0h1h1m1 0h1m31 0h1h1m3 0h1m11 0h1m14 0h1h1m6 0h1m4 0h1m1 0h1m3 0h1m3 0h1m1 0h1m4 0h1m2 0h1h1h1h1h1m1 0h1h1m4 0h1m1 0h1m2 0h1h1m3 0h1m2 0h1m2 0h1m2 0h1m2 0h1h1m3 0h1m2 0h1h1m3 0h1m1 0h1m2 0h1h1m3 0h1h1m2 0h1m5 0h1m1 0h1m1 0h1h1m2 0h1h1m2 0h1m2 0h1h1h1m3 0h1h1h1m1 0h1m2 0h1h1h1h1m1 0h1h1m1 0h1h1h1m2 0h1h1m1 0h1m6 0h1m2 0h1m8 0h1m1 0h1m9 0h1m3 0h1m4 0h1m7 0h1M702 2413h1m2 0h1m8 0h1m46 0h1m7 0h1m13 0h1m2 0h1m2 0h1m1 0h1m10 0h1h1m1 0h1h1m1 0h1m1 0h1h1h1h1h1m1 0h1m2 0h1h1h1h1h1h1m1 0h1m1 0h1m2 0h1m2 0h1m1 0h1m4 0h1m3 0h1m5 0h1h1m2 0h1h1m1 0h1m3 0h1h1m4 0h1m1 0h1h1m1 0h1m2 0h1m8 0h1m1 0h1m2 0h1h1m4 0h1h1m1 0h1h1h1m2 0h1m1 0h1m5 0h1m3 0h1h1m11 0h1m6 0h1m8 0h1M665 2414h1m37 0h1h1h1m1 0h1m16 0h1m16 0h1m3 0h1m2 0h1m14 0h1m5 0h1h1m4 0h1h1m8 0h1m4 0h1h1m2 0h1m1 0h1m6 0h1h1h1m1 0h1h1m1 0h1h1m1 0h1h1h1m5 0h1m4 0h1h1m2 0h1m1 0h1h1m5 0h1h1m2 0h1h1m2 0h1m4 0h1h1h1m1 0h1m2 0h1h1h1h1m1 0h1h1m1 0h1m3 0h1m1 0h1m3 0h1h1m2 0h1h1h1h1h1h1m1 0h1m6 0h1m1 0h1h1h1m2 0h1m4 0h1m1 0h1m3 0h1m1 0h1h1m2 0h1m3 0h1h1m3 0h1h1m1 0h1m2 0h1m3 0h1h1m2 0h1m1 0h1m13 0h1M698 2415h1m16 0h1m26 0h1m18 0h1m1 0h1m1 0h1m4 0h1m3 0h1m11 0h1m3 0h1m1 0h1m1 0h1m2 0h1m1 0h1m3 0h1h1h1m1 0h1h1h1h1m2 0h1m5 0h1h1m2 0h1m3 0h1h1m2 0h1m1 0h1m1 0h1h1m1 0h1h1m1 0h1m1 0h1m3 0h1h1m3 0h1m3 0h1m1 0h1m1 0h1m1 0h1h1m1 0h1h1h1m2 0h1h1m1 0h1m3 0h1m2 0h1h1h1h1h1m2 0h1h1m3 0h1m2 0h1m7 0h1h1m1 0h1h1h1h1m1 0h1m1 0h1h1m1 0h1m1 0h1m1 0h1m2 0h1m1 0h1m1 0h1m1 0h1h1m3 0h1h1h1m2 0h1m4 0h1M692 2416h1h1m7 0h1m1 0h1h1m46 0h1m9 0h1m10 0h1m2 0h1m5 0h1m2 0h1m1 0h1m4 0h1h1m4 0h1m6 0h1m1 0h1m2 0h1m1 0h1h1m1 0h1h1m1 0h1h1h1h1m8 0h1h1m3 0h1m1 0h1m3 0h1h1h1m1 0h1h1m1 0h1h1m8 0h1m3 0h1m1 0h1h1m1 0h1m5 0h1m1 0h1h1h1h1m4 0h1m1 0h1h1m1 0h1h1h1m1 0h1m2 0h1m2 0h1h1m1 0h1m3 0h1h1m3 0h1m2 0h1h1h1m2 0h1m1 0h1h1m9 0h1m3 0h1h1m12 0h1m10 0h1m9 0h1m9 0h1M684 2417h1m8 0h1h1m3 0h1m5 0h1m25 0h1m9 0h1m2 0h1m10 0h1m7 0h1m3 0h1m2 0h1h1m2 0h1h1m1 0h1m3 0h1m2 0h1m6 0h1m5 0h1m1 0h1m6 0h1h1m1 0h1h1m1 0h1m1 0h1h1h1h1m4 0h1m2 0h1h1h1h1m3 0h1m6 0h1m3 0h1m1 0h1h1m1 0h1m2 0h1h1m6 0h1m1 0h1m7 0h1h1h1h1h1m3 0h1h1m1 0h1m1 0h1m1 0h1m3 0h1h1h1h1h1h1h1m1 0h1h1m1 0h1h1m1 0h1m2 0h1h1m2 0h1h1h1h1h1m3 0h1h1m6 0h1h1m15 0h1m1 0h1m9 0h1M694 2418h1m2 0h1m1 0h1m2 0h1h1h1m17 0h1m8 0h1m29 0h1m8 0h1m1 0h1m4 0h1h1h1m2 0h1m3 0h1h1m4 0h1h1m1 0h1m1 0h1m1 0h1m1 0h1m2 0h1h1m1 0h1m1 0h1h1m1 0h1h1h1m6 0h1m2 0h1m2 0h1h1m3 0h1m3 0h1h1m3 0h1h1m1 0h1m2 0h1h1m1 0h1m6 0h1m1 0h1m1 0h1m2 0h1m1 0h1h1h1h1h1m6 0h1h1m1 0h1h1h1m1 0h1m2 0h1m1 0h1h1h1h1m1 0h1m1 0h1m1 0h1m2 0h1m2 0h1m3 0h1h1h1h1m1 0h1m5 0h1m1 0h1m1 0h1m4 0h1m8 0h1m6 0h1m3 0h1m6 0h1m6 0h1m6 0h1M690 2419h1m11 0h1m1 0h1m47 0h1m5 0h1m27 0h1m6 0h1m1 0h1h1m2 0h1m5 0h1h1h1h1h1h1h1h1m1 0h1h1m5 0h1m2 0h1m7 0h1m1 0h1h1m3 0h1h1m2 0h1m1 0h1m1 0h1h1h1h1m1 0h1h1m1 0h1m9 0h1h1h1m1 0h1h1m2 0h1h1h1m1 0h1m1 0h1m1 0h1m2 0h1m1 0h1m1 0h1m1 0h1h1m3 0h1h1m1 0h1m7 0h1m1 0h1m1 0h1m3 0h1h1m1 0h1h1h1m4 0h1m17 0h1m1 0h1h1m4 0h1M687 2420h1m10 0h1m1 0h1h1h1h1m43 0h1m9 0h1m5 0h1m2 0h1m7 0h1m5 0h1m2 0h1m1 0h1m7 0h1m6 0h1m1 0h1m5 0h1h1h1m1 0h1h1m1 0h1h1h1h1h1h1h1m2 0h1m5 0h1m6 0h1m1 0h1m1 0h1m1 0h1m3 0h1h1h1m1 0h1m1 0h1h1h1h1m3 0h1m2 0h1h1h1h1m3 0h1m1 0h1h1m1 0h1m7 0h1h1h1m3 0h1h1m2 0h1m3 0h1m3 0h1m1 0h1m2 0h1m1 0h1m2 0h1h1m2 0h1m1 0h1m1 0h1m2 0h1h1m6 0h1h1m6 0h1h1m6 0h1h1m3 0h1m9 0h1m2 0h1M695 2421h1m1 0h1m3 0h1m1 0h1h1m6 0h1m2 0h1m27 0h1m20 0h1m27 0h1h1m1 0h1m5 0h1h1m4 0h1m1 0h1h1h1h1h1m1 0h1h1m4 0h1m2 0h1h1h1h1h1h1h1m2 0h1h1m3 0h1h1m10 0h1m4 0h1h1m3 0h1h1h1h1h1m1 0h1m1 0h1h1h1m2 0h1m3 0h1h1m5 0h1h1m3 0h1h1h1h1m7 0h1m2 0h1h1h1h1h1h1m4 0h1h1m1 0h1h1h1m1 0h1h1m1 0h1m5 0h1m4 0h1m2 0h1h1m17 0h1M690 2422h1m8 0h1h1m1 0h1h1h1m39 0h1m5 0h1m8 0h1m1 0h1m9 0h1m2 0h1m3 0h1m3 0h1m6 0h1m1 0h1m2 0h1m2 0h1m5 0h1m3 0h1h1h1h1h1h1h1m3 0h1m1 0h1m3 0h1m1 0h1h1h1h1m1 0h1h1h1m4 0h1h1m1 0h1m4 0h1m3 0h1h1m2 0h1m1 0h1h1m2 0h1m4 0h1h1h1m1 0h1m2 0h1m1 0h1h1m1 0h1m4 0h1h1m1 0h1m1 0h1h1h1m1 0h1h1m1 0h1m1 0h1m1 0h1h1h1m1 0h1h1m1 0h1h1m1 0h1h1m1 0h1m1 0h1h1m1 0h1h1m1 0h1m2 0h1h1m4 0h1h1h1h1m1 0h1m1 0h1h1m2 0h1h1m4 0h1m16 0h1M695 2423h1h1m1 0h1m3 0h1h1m42 0h1m6 0h1m10 0h1m5 0h1m5 0h1m1 0h1m13 0h1m1 0h1h1h1m1 0h1m1 0h1h1m2 0h1h1h1m1 0h1m3 0h1m1 0h1m2 0h1m5 0h1m3 0h1m5 0h1m4 0h1h1h1m4 0h1h1h1m1 0h1h1m4 0h1h1m2 0h1m7 0h1m3 0h1m6 0h1m2 0h1h1h1m2 0h1h1m3 0h1h1m1 0h1m1 0h1h1m1 0h1m5 0h1h1h1h1m3 0h1h1h1h1h1m1 0h1m1 0h1h1m3 0h1h1m1 0h1m4 0h1m1 0h1m2 0h1m8 0h1m1 0h1m2 0h1h1m8 0h1m18 0h1M683 2424h1m2 0h1m15 0h1m44 0h1m40 0h1m2 0h1m1 0h1m2 0h1h1m6 0h1h1m1 0h1h1h1m3 0h1h1m1 0h1h1h1m3 0h1m4 0h1m7 0h1m1 0h1h1h1m4 0h1m2 0h1m2 0h1m2 0h1m2 0h1m1 0h1m2 0h1h1m3 0h1m6 0h1h1h1m3 0h1m1 0h1h1m1 0h1m1 0h1h1m4 0h1m4 0h1m2 0h1h1h1h1m1 0h1h1h1h1h1h1m1 0h1m2 0h1h1m1 0h1h1h1m1 0h1m2 0h1h1h1m4 0h1h1m4 0h1m6 0h1m7 0h1m11 0h1M696 2425h1m4 0h1h1h1m76 0h1m2 0h1m1 0h1h1m9 0h1m4 0h1h1h1m1 0h1m5 0h1m3 0h1h1m3 0h1h1m1 0h1m3 0h1h1m3 0h1m2 0h1h1m1 0h1h1h1m2 0h1m4 0h1m1 0h1m4 0h1m1 0h1m9 0h1m1 0h1m6 0h1h1m2 0h1h1m1 0h1m1 0h1h1h1h1m1 0h1m4 0h1h1h1h1h1h1m1 0h1h1h1m2 0h1h1h1h1h1h1m2 0h1m1 0h1m1 0h1m7 0h1h1m1 0h1h1m7 0h1h1h1m15 0h1M694 2426h1m3 0h1h1m3 0h1m25 0h1m26 0h1m9 0h1h1m1 0h1m12 0h1m3 0h1m15 0h1m4 0h1m1 0h1h1h1m2 0h1h1m2 0h1h1m2 0h1h1m1 0h1h1m2 0h1m2 0h1h1h1m3 0h1h1m1 0h1m1 0h1h1m2 0h1h1m1 0h1m1 0h1h1m1 0h1h1m4 0h1m4 0h1m5 0h1m1 0h1h1h1m5 0h1m1 0h1h1h1m2 0h1m2 0h1h1h1m1 0h1h1h1h1h1h1h1h1m2 0h1h1m1 0h1h1m1 0h1h1h1h1m2 0h1h1h1h1h1m1 0h1h1m5 0h1m5 0h1m4 0h1m1 0h1m2 0h1m8 0h1M697 2427h1m4 0h1m47 0h1m10 0h1m4 0h1m13 0h1m4 0h1m4 0h1m5 0h1h1h1m7 0h1m3 0h1h1m1 0h1m4 0h1m3 0h1h1m2 0h1m1 0h1h1m7 0h1h1h1h1m1 0h1h1h1h1m7 0h1m1 0h1h1h1h1h1h1h1h1m3 0h1m4 0h1h1h1m1 0h1m1 0h1m1 0h1m2 0h1m2 0h1m1 0h1h1m2 0h1h1m2 0h1m1 0h1m1 0h1h1h1h1h1h1h1h1h1h1h1h1h1h1h1m2 0h1h1m1 0h1h1h1h1h1m2 0h1m2 0h1m2 0h1h1m7 0h1m2 0h1m3 0h1M695 2428h1m6 0h1h1m67 0h1m1 0h1m14 0h1m2 0h1m7 0h1m2 0h1m2 0h1m4 0h1h1m3 0h1m1 0h1m3 0h1h1h1m2 0h1h1h1m1 0h1h1h1m1 0h1m1 0h1m6 0h1h1h1m2 0h1m5 0h1m2 0h1m1 0h1m3 0h1h1h1h1h1h1m2 0h1m1 0h1m1 0h1h1h1h1h1m1 0h1h1h1m2 0h1m1 0h1m1 0h1m1 0h1h1h1h1h1h1h1h1h1h1h1h1h1h1h1h1h1h1h1h1h1h1h1h1h1m1 0h1m1 0h1m2 0h1h1h1m2 0h1m3 0h1h1h1m13 0h1m33 0h1M689 2429h1m6 0h1m3 0h1h1m59 0h1m45 0h1m2 0h1h1h1h1h1h1h1h1h1h1h1h1m1 0h1m3 0h1h1m2 0h1h1m3 0h1h1m3 0h1m2 0h1h1h1m9 0h1h1m1 0h1m6 0h1h1m1 0h1m2 0h1m6 0h1h1h1m2 0h1h1m2 0h1h1h1h1h1h1h1h1h1h1h1h1h1h1h1m2 0h1m11 0h1h1h1h1h1h1h1h1m1 0h1m1 0h1m2 0h1m2 0h1m1 0h1M693 2430h1m1 0h1m4 0h1h1h1m45 0h1m1 0h1m13 0h1m6 0h1m8 0h1m9 0h1m1 0h1m1 0h1m5 0h1h1m9 0h1h1h1m2 0h1m4 0h1h1m1 0h1m1 0h1h1m2 0h1h1h1h1h1m4 0h1m1 0h1m1 0h1h1m10 0h1h1m2 0h1h1m4 0h1h1h1h1m3 0h1h1m3 0h1m1 0h1m1 0h1m1 0h1h1h1h1m1 0h1h1h1h1h1h1h1h1m5 0h1m1 0h1h1m3 0h1m5 0h1m6 0h1h1h1h1h1h1h1h1h1h1h1m7 0h1m2 0h1m2 0h1h1h1m1 0h1m2 0h1m24 0h1M695 2431h1m2 0h1m3 0h1m24 0h1m18 0h1m2 0h1m26 0h1m18 0h1m11 0h1m1 0h1h1h1m1 0h1h1h1h1m4 0h1h1h1m3 0h1m1 0h1m1 0h1m1 0h1h1h1m1 0h1m1 0h1m1 0h1h1m1 0h1h1m1 0h1m2 0h1h1m3 0h1h1m3 0h1m2 0h1m3 0h1m3 0h1m1 0h1h1m1 0h1h1h1m1 0h1h1h1h1m3 0h1m1 0h1h1h1h1h1m2 0h1m9 0h1m5 0h1h1m3 0h1m4 0h1m1 0h1h1h1h1m1 0h1m3 0h1h1h1m4 0h1m6 0h1M699 2432h1m1 0h1h1m9 0h1m23 0h1m3 0h1m17 0h1m10 0h1m12 0h1m3 0h1m1 0h1m8 0h1m4 0h1h1m2 0h1m5 0h1h1h1m2 0h1m1 0h1m5 0h1h1h1m1 0h1m3 0h1m2 0h1m2 0h1m10 0h1h1m2 0h1m7 0h1h1h1m1 0h1h1h1h1m1 0h1h1m1 0h1m2 0h1h1m1 0h1m1 0h1m3 0h1h1h1h1h1m2 0h1m2 0h1m5 0h1m5 0h1m1 0h1m3 0h1m9 0h1h1h1h1h1h1m1 0h1h1h1m2 0h1h1m3 0h1h1h1m11 0h1M691 2433h1m5 0h1h1m3 0h1m31 0h1m34 0h1m4 0h1m20 0h1m2 0h1m6 0h1m2 0h1m1 0h1m3 0h1h1h1h1m2 0h1m3 0h1m2 0h1h1m1 0h1h1m2 0h1h1m1 0h1m1 0h1m1 0h1h1h1m2 0h1h1m2 0h1m2 0h1h1m2 0h1m1 0h1m1 0h1m2 0h1m3 0h1m1 0h1h1m2 0h1m2 0h1h1h1h1h1h1m1 0h1h1m5 0h1m1 0h1m11 0h1h1m1 0h1m3 0h1m2 0h1m10 0h1h1m5 0h1h1m4 0h1h1h1m9 0h1m11 0h1M691 2434h1h1m1 0h1m3 0h1h1m1 0h1m82 0h1m7 0h1h1m4 0h1m1 0h1h1m11 0h1h1h1h1m5 0h1h1h1h1m1 0h1h1m1 0h1h1m1 0h1m2 0h1m1 0h1h1h1m4 0h1m1 0h1m2 0h1h1h1h1m2 0h1m1 0h1h1m4 0h1m1 0h1h1h1m1 0h1h1m1 0h1h1m1 0h1h1m3 0h1m5 0h1m5 0h1m9 0h1h1m1 0h1m2 0h1m3 0h1m1 0h1m2 0h1m1 0h1m2 0h1m3 0h1h1h1h1m1 0h1h1h1m4 0h1m2 0h1m2 0h1h1h1m1 0h1h1h1M688 2435h1m2 0h1m6 0h1m2 0h1m69 0h1m15 0h1m11 0h1m1 0h1m10 0h1m1 0h1h1m1 0h1h1m1 0h1m1 0h1h1h1m5 0h1m2 0h1m2 0h1m1 0h1h1m1 0h1m1 0h1h1m4 0h1m4 0h1m2 0h1h1h1h1h1h1m1 0h1h1h1h1h1h1m2 0h1h1h1h1h1m1 0h1m2 0h1m3 0h1m6 0h1m5 0h1m5 0h1m8 0h1h1m13 0h1h1m2 0h1m3 0h1m8 0h1m4 0h1M687 2436h1m13 0h1h1m51 0h1m17 0h1m22 0h1m17 0h1h1h1h1h1h1h1m1 0h1h1m2 0h1h1h1h1h1h1m1 0h1m2 0h1h1h1h1h1m1 0h1m2 0h1m4 0h1m1 0h1m2 0h1h1h1m2 0h1m3 0h1h1m2 0h1h1h1h1h1h1m14 0h1m14 0h1m2 0h1m8 0h1m2 0h1m10 0h1h1m3 0h1h1m5 0h1m2 0h1m1 0h1h1m4 0h1m13 0h1M684 2437h1m12 0h1h1h1m37 0h1m49 0h1m3 0h1m3 0h1m6 0h1h1m1 0h1m5 0h1h1m2 0h1h1h1m1 0h1m3 0h1m1 0h1h1m6 0h1h1m1 0h1h1m1 0h1m1 0h1m4 0h1m5 0h1m2 0h1h1m1 0h1m2 0h1h1m1 0h1h1h1h1m1 0h1h1m19 0h1m9 0h1m13 0h1m15 0h1h1h1m1 0h1m2 0h1m4 0h1m2 0h1m8 0h1M682 2438h1m7 0h1m2 0h1m1 0h1m2 0h1h1h1m1 0h1m50 0h1m30 0h1m8 0h1m17 0h1m3 0h1h1h1h1m1 0h1h1m1 0h1m1 0h1m6 0h1m1 0h1h1m1 0h1h1h1m3 0h1m4 0h1h1h1m2 0h1m2 0h1h1m1 0h1h1h1m1 0h1h1h1h1m1 0h1m3 0h1m4 0h1h1h1m3 0h1h1m5 0h1m10 0h1m28 0h1h1h1h1m1 0h1h1h1m3 0h1m1 0h1h1h1h1M695 2439h1m2 0h1m1 0h1m27 0h1m67 0h1m7 0h1m1 0h1m10 0h1h1h1h1m1 0h1m1 0h1h1m2 0h1m1 0h1m1 0h1m1 0h1h1h1m1 0h1m2 0h1h1m2 0h1h1h1m1 0h1h1h1h1m1 0h1m1 0h1m2 0h1h1h1m1 0h1m6 0h1m1 0h1m5 0h1m5 0h1h1m8 0h1m8 0h1h1m3 0h1m8 0h1m13 0h1h1h1m2 0h1m3 0h1h1h1m1 0h1m1 0h1h1h1m1 0h1M691 2440h1m2 0h1m1 0h1m4 0h1m27 0h1h1m41 0h1m28 0h1m16 0h1h1h1m1 0h1h1h1h1h1m3 0h1m4 0h1h1h1h1h1m5 0h1h1m1 0h1h1h1h1h1m1 0h1h1m1 0h1h1m1 0h1h1h1m2 0h1m2 0h1m9 0h1m9 0h1h1m2 0h1m2 0h1m11 0h1m6 0h1m17 0h1h1h1m1 0h1m2 0h1m1 0h1m1 0h1h1h1h1m3 0h1h1M694 2441h1m3 0h1m2 0h1m88 0h1m15 0h1m6 0h1m4 0h1h1h1h1h1h1m1 0h1m1 0h1h1m1 0h1m1 0h1m2 0h1h1h1h1h1h1h1m3 0h1h1h1h1h1m3 0h1h1m1 0h1h1h1h1h1m8 0h1m1 0h1m2 0h1m4 0h1m38 0h1m6 0h1m1 0h1m4 0h1h1h1h1h1m1 0h1m7 0h1m2 0h1h1m2 0h1M690 2442h1m1 0h1h1m2 0h1m4 0h1m38 0h1m5 0h1m24 0h1m5 0h1m28 0h1m1 0h1m11 0h1h1h1m1 0h1h1h1h1m2 0h1h1m5 0h1m1 0h1m1 0h1m3 0h1m2 0h1h1h1h1m1 0h1h1h1h1h1m12 0h1m29 0h1m3 0h1m2 0h1m25 0h1h1h1m1 0h1h1h1m12 0h1M700 2443h1m7 0h1m45 0h1m26 0h1m4 0h1m2 0h1h1m12 0h1m5 0h1m2 0h1m5 0h1m2 0h1h1h1m2 0h1h1h1m2 0h1m2 0h1m1 0h1h1h1h1m1 0h1h1h1h1m1 0h1m3 0h1m2 0h1m4 0h1h1h1m10 0h1h1m22 0h1m38 0h1h1h1m1 0h1h1h1m1 0h1m4 0h1m1 0h1m2 0h1m7 0h1m7 0h1M690 2444h1m4 0h1h1m2 0h1m1 0h1m67 0h1m11 0h1m12 0h1m26 0h1h1m2 0h1h1m1 0h1m2 0h1h1m1 0h1m2 0h1h1h1m1 0h1h1m5 0h1h1h1h1m1 0h1h1m3 0h1m9 0h1m17 0h1m9 0h1m36 0h1m1 0h1m1 0h1h1m1 0h1h1h1h1m2 0h1m4 0h1h1m5 0h1M677 2445h1m21 0h1m1 0h1m59 0h1m12 0h1m33 0h1m14 0h1h1h1h1h1h1h1h1h1h1h1h1h1h1h1h1m1 0h1h1h1m1 0h1h1h1h1h1h1h1m8 0h1m16 0h1m9 0h1m17 0h1m3 0h1m25 0h1h1m1 0h1m1 0h1m1 0h1h1h1m6 0h1m2 0h1m3 0h1m2 0h1m4 0h1M682 2446h1m3 0h1m5 0h1m3 0h1m91 0h1m2 0h1m16 0h1m1 0h1m3 0h1m8 0h1h1h1h1m1 0h1h1m1 0h1m1 0h1h1h1h1m1 0h1h1h1m1 0h1h1m1 0h1h1h1h1h1m2 0h1m16 0h1m2 0h1m3 0h1m23 0h1m12 0h1m21 0h1h1m1 0h1m2 0h1m1 0h1m2 0h1m1 0h1m1 0h1m2 0h1m1 0h1m3 0h1M687 2447h1m6 0h1m1 0h1m111 0h1m16 0h1m1 0h1h1h1m2 0h1h1m2 0h1h1m2 0h1m1 0h1h1m2 0h1h1h1m2 0h1m11 0h1m4 0h1m4 0h1m5 0h1m23 0h1m1 0h1m2 0h1m11 0h1m14 0h1h1h1h1h1m1 0h1m3 0h1m1 0h1m3 0h1h1M694 2448h1m5 0h1m46 0h1m63 0h1h1m14 0h1h1h1h1h1h1h1h1h1h1h1h1h1h1m2 0h1h1m1 0h1m1 0h1m4 0h1m7 0h1m5 0h1m13 0h1m14 0h1m4 0h1m2 0h1m27 0h1m2 0h1m1 0h1h1h1h1h1m2 0h1m3 0h1h1m1 0h1M676 2449h1m8 0h1m12 0h1h1m97 0h1m2 0h1m27 0h1h1h1h1h1h1h1h1m1 0h1h1h1h1h1h1m1 0h1h1m11 0h1m6 0h1m16 0h1m54 0h1m1 0h1h1h1m4 0h1h1h1m4 0h1m1 0h1m5 0h1h1h1M696 2450h1m2 0h1m2 0h1m81 0h1m44 0h1h1h1h1h1h1h1h1h1h1h1h1h1h1m2 0h1m90 0h1h1m3 0h1h1h1h1h1h1m1 0h1m2 0h1m5 0h1M690 2451h1m7 0h1h1h1m43 0h1m35 0h1m9 0h1m9 0h1m14 0h1m15 0h1h1m1 0h1h1h1h1h1h1h1m23 0h1m28 0h1m14 0h1m27 0h1h1h1h1m1 0h1m1 0h1h1h1m1 0h1m1 0h1m1 0h1m1 0h1M681 2452h1m10 0h1m5 0h1m112 0h1m22 0h1h1h1h1h1h1m20 0h1m8 0h1m57 0h1m10 0h1m1 0h1h1m2 0h1m1 0h1m1 0h1h1m7 0h1M689 2453h1m9 0h1m1 0h1m161 0h1m73 0h1h1m1 0h1m1 0h1m2 0h1h1m1 0h1h1h1m12 0h1m5 0h1M678 2454h1m14 0h1m1 0h1m85 0h1m12 0h1m139 0h1m2 0h1h1m1 0h1h1m1 0h1m2 0h1m13 0h1M700 2455h1m104 0h1m3 0h1m43 0h1m24 0h1m13 0h1m40 0h1m3 0h1h1h1m1 0h1h1m1 0h1m1 0h1m1 0h1h1m1 0h1m1 0h1m1 0h1m2 0h1h1m6 0h1M696 2456h1m1 0h1m1 0h1m80 0h1m36 0h1m34 0h1m70 0h1m12 0h1m3 0h1h1h1h1m1 0h1h1h1h1h1h1h1M657 2457h1m35 0h1m1 0h1m98 0h1m30 0h1m37 0h1m26 0h1m47 0h1h1h1h1m1 0h1h1h1h1m1 0h1m5 0h1m1 0h1m1 0h1M691 2458h1m3 0h1h1m1 0h1h1h1m97 0h1m3 0h1m63 0h1m41 0h1m30 0h1h1h1h1h1m2 0h1h1h1m3 0h1h1M696 2459h1h1h1m1 0h1m175 0h1m61 0h1h1h1m3 0h1m1 0h1m3 0h1h1h1M679 2460h1m12 0h1m8 0h1m106 0h1m41 0h1m32 0h1m54 0h1m6 0h1m2 0h1h1h1M696 2461h1m5 0h1m154 0h1m73 0h1h1m5 0h1m1 0h1m1 0h1m2 0h1h1m3 0h1m1 0h1m1 0h1h1m4 0h1M695 2462h1m98 0h1m79 0h1m63 0h1h1m1 0h1h1h1m1 0h1m3 0h1h1m7 0h1M690 2463h1m8 0h1m91 0h1m37 0h1m83 0h1m24 0h1m1 0h1h1h1h1h1h1h1m5 0h1m1 0h1h1h1h1M695 2464h1m179 0h1m15 0h1m44 0h1m1 0h1h1m1 0h1h1m1 0h1m2 0h1m1 0h1m1 0h1m1 0h1h1h1M678 2465h1m17 0h1m170 0h1m18 0h1m51 0h1h1h1m3 0h1m5 0h1h1h1m8 0h1M690 2466h1m3 0h1m1 0h1h1h1m1 0h1m236 0h1h1h1m1 0h1m1 0h1m1 0h1h1h1h1m1 0h1m3 0h1m2 0h1m2 0h1m11 0h1M681 2467h1m2 0h1m1 0h1m9 0h1m1 0h1m1 0h1h1m200 0h1m34 0h1h1m2 0h1m1 0h1m1 0h1h1h1h1h1m1 0h1m1 0h1M685 2468h1m12 0h1h1m1 0h1m147 0h1m11 0h1m75 0h1h1h1h1m1 0h1h1m1 0h1m1 0h1m2 0h1m1 0h1M681 2469h1m9 0h1m7 0h1h1h1h1m133 0h1m99 0h1h1h1h1m1 0h1m1 0h1h1h1m2 0h1m1 0h1m2 0h1M688 2470h1m3 0h1h1m1 0h1m3 0h1m236 0h1h1h1h1h1h1h1h1m1 0h1m2 0h1m4 0h1m2 0h1M679 2471h1h1m15 0h1h1m1 0h1m1 0h1h1m233 0h1m2 0h1h1h1h1M684 2472h1m2 0h1h1m5 0h1m2 0h1m2 0h1h1h1m233 0h1m2 0h1m1 0h1m1 0h1h1h1m2 0h1m1 0h1h1m3 0h1h1M693 2473h1m2 0h1m4 0h1m233 0h1h1h1m6 0h1m1 0h1m1 0h1m1 0h1h1M684 2474h1m10 0h1h1h1m1 0h1m1 0h1m121 0h1h1h1h1m108 0h1h1h1h1h1h1m1 0h1m5 0h1h1m1 0h1h1m1 0h1m1 0h1h1M674 2475h1m18 0h1m1 0h1m1 0h1h1h1m1 0h1h1m116 0h1h1h1h1h1h1h1h1h1h1h1h1h1h1h1h1m100 0h1m1 0h1m2 0h1m1 0h1h1m1 0h1h1h1m10 0h1M695 2476h1m2 0h1h1h1h1m114 0h1h1m1 0h1h1m1 0h1h1h1h1m1 0h1h1h1h1h1h1h1h1h1h1h1m92 0h1m4 0h1h1m1 0h1m1 0h1m3 0h1h1m1 0h1m1 0h1M686 2477h1m3 0h1m3 0h1m1 0h1h1m3 0h1m112 0h1h1h1m1 0h1m1 0h1m1 0h1h1m1 0h1m1 0h1m1 0h1h1h1h1h1m2 0h1h1h1h1m92 0h1m5 0h1h1m3 0h1h1h1M681 2478h1m9 0h1h1m1 0h1m1 0h1h1m2 0h1h1m86 0h1m9 0h1m12 0h1h1h1h1m1 0h1h1h1h1h1h1h1h1h1h1m2 0h1h1m2 0h1h1h1h1h1h1h1h1h1h1m91 0h1m1 0h1h1m3 0h1h1h1m1 0h1h1m3 0h1h1m7 0h1m17 0h1M696 2479h1h1h1m2 0h1h1m70 0h1m14 0h1m4 0h1m12 0h1h1h1h1h1m3 0h1m1 0h1h1h1h1h1h1h1m2 0h1m1 0h1h1m2 0h1h1h1m1 0h1h1m1 0h1h1m1 0h1m91 0h1h1h1h1h1h1m1 0h1m1 0h1m1 0h1m2 0h1m3 0h1h1M678 2480h1m13 0h1m2 0h1h1m2 0h1h1h1m98 0h1m3 0h1h1h1h1h1h1h1h1m1 0h1m4 0h1h1m1 0h1h1h1h1h1h1h1m1 0h1h1m1 0h1h1h1h1h1h1h1h1h1m1 0h1h1h1m87 0h1h1h1h1m1 0h1m7 0h1m7 0h1m1 0h1M695 2481h1h1h1m100 0h1m3 0h1h1h1h1h1h1m1 0h1h1h1h1h1m1 0h1h1h1h1h1h1h1h1h1m3 0h1h1m2 0h1m1 0h1h1h1h1h1h1h1h1h1h1h1h1m87 0h1h1h1m2 0h1h1m2 0h1m5 0h1m10 0h1m2 0h1M688 2482h1m9 0h1h1h1h1m98 0h1h1m2 0h1h1m2 0h1h1m2 0h1h1m1 0h1h1m4 0h1m1 0h1h1m1 0h1h1m3 0h1h1h1h1m1 0h1h1h1h1h1h1h1h1h1h1m4 0h1m79 0h1h1h1h1h1m1 0h1h1h1h1h1h1h1m1 0h1m2 0h1m3 0h1M682 2483h1m6 0h1h1m6 0h1m3 0h1m66 0h1m11 0h1m2 0h1m10 0h1m2 0h1h1h1h1h1m3 0h1h1h1h1m2 0h1h1h1h1h1h1h1h1h1h1h1m1 0h1h1h1m2 0h1h1m1 0h1m1 0h1h1h1h1h1m1 0h1m3 0h1m1 0h1h1h1m81 0h1h1h1h1h1h1m3 0h1h1m1 0h1m5 0h1m2 0h1h1m2 0h1M664 2484h1m12 0h1m2 0h1m5 0h1h1h1m3 0h1m3 0h1m1 0h1h1h1h1m77 0h1m14 0h1h1h1h1m1 0h1h1m2 0h1h1h1h1m1 0h1h1m1 0h1m2 0h1m1 0h1m1 0h1h1m1 0h1m5 0h1h1h1m3 0h1h1m1 0h1h1m1 0h1h1m1 0h1h1h1h1m1 0h1m1 0h1m79 0h1h1h1m1 0h1h1m4 0h1m6 0h1m1 0h1m1 0h1m3 0h1m2 0h1M677 2485h1m8 0h1h1m8 0h1m3 0h1m1 0h1m76 0h1m11 0h1m1 0h1h1h1h1h1m1 0h1h1h1h1h1h1h1h1h1h1h1h1h1m2 0h1h1h1h1h1h1m1 0h1h1h1m2 0h1h1h1h1h1h1h1h1h1m1 0h1h1h1m1 0h1h1m4 0h1h1m2 0h1m4 0h1m71 0h1h1h1h1m2 0h1m6 0h1m5 0h1h1m7 0h1M697 2486h1h1h1h1h1h1m68 0h1m12 0h1m6 0h1h1m2 0h1m2 0h1h1m2 0h1h1h1h1m1 0h1m1 0h1h1m2 0h1h1m1 0h1h1h1h1m1 0h1m1 0h1h1h1h1h1h1h1m1 0h1h1h1h1m2 0h1m2 0h1h1h1h1m1 0h1m1 0h1h1h1h1h1h1m74 0h1m1 0h1m1 0h1m2 0h1m7 0h1m1 0h1h1m1 0h1m5 0h1M693 2487h1m1 0h1m1 0h1h1h1h1h1h1m85 0h1h1h1h1h1h1h1m1 0h1m1 0h1h1m1 0h1h1h1m2 0h1m1 0h1h1h1h1h1m1 0h1m2 0h1h1h1h1h1m2 0h1h1m1 0h1h1h1m1 0h1h1h1m1 0h1h1h1m1 0h1h1m1 0h1h1h1m1 0h1h1h1m1 0h1m1 0h1h1h1m70 0h1h1h1m1 0h1m2 0h1h1m1 0h1m1 0h1m1 0h1m5 0h1h1m1 0h1m1 0h1M695 2488h1h1h1h1h1h1h1h1m81 0h1m1 0h1m5 0h1m1 0h1h1h1h1m1 0h1h1h1h1h1m2 0h1h1m2 0h1m1 0h1h1m2 0h1m2 0h1h1m1 0h1h1m1 0h1h1h1h1m2 0h1h1h1h1m1 0h1m1 0h1m4 0h1m2 0h1m1 0h1m1 0h1h1h1h1h1h1h1m67 0h1m2 0h1m1 0h1m1 0h1m3 0h1h1m2 0h1m2 0h1m8 0h1m3 0h1M690 2489h1h1h1h1m3 0h1h1m1 0h1h1h1m79 0h1m1 0h1h1h1m2 0h1h1h1h1h1h1m2 0h1h1m2 0h1h1h1m2 0h1h1h1m1 0h1m1 0h1h1m2 0h1m1 0h1h1m2 0h1h1m1 0h1h1h1h1h1m2 0h1m4 0h1m2 0h1m2 0h1m2 0h1h1m2 0h1h1h1h1m3 0h1h1m63 0h1h1h1m1 0h1h1h1h1h1h1h1m1 0h1h1m14 0h1m1 0h1M691 2490h1m5 0h1h1m2 0h1h1m77 0h1h1h1m1 0h1h1m1 0h1h1h1h1m1 0h1h1m2 0h1h1m3 0h1m2 0h1h1h1m3 0h1h1m1 0h1h1h1h1m2 0h1h1h1h1m2 0h1h1h1m1 0h1h1m1 0h1h1m2 0h1h1h1h1m1 0h1m2 0h1h1m9 0h1m1 0h1h1h1m60 0h1h1m1 0h1h1m2 0h1h1m2 0h1m1 0h1m2 0h1m2 0h1m2 0h1m7 0h1M697 2491h1h1h1h1m1 0h1h1m69 0h1m1 0h1h1h1m1 0h1m5 0h1h1h1m5 0h1h1h1h1m1 0h1h1h1m1 0h1m2 0h1m2 0h1m1 0h1h1h1m1 0h1m2 0h1h1m3 0h1m1 0h1h1h1h1h1h1m1 0h1m1 0h1h1m3 0h1m4 0h1m5 0h1h1m1 0h1m2 0h1m1 0h1h1m1 0h1h1h1h1m54 0h1m2 0h1h1h1h1m5 0h1h1m6 0h1m6 0h1m2 0h1m2 0h1m5 0h1M671 2492h1m3 0h1m2 0h1m2 0h1m12 0h1m1 0h1h1h1h1m1 0h1h1h1h1m67 0h1m1 0h1h1h1h1m3 0h1m1 0h1m3 0h1h1m3 0h1h1m2 0h1h1h1m5 0h1m2 0h1h1h1m1 0h1h1h1m2 0h1h1m2 0h1m1 0h1h1m1 0h1m7 0h1m5 0h1h1h1m4 0h1h1m1 0h1m2 0h1h1m1 0h1m1 0h1h1m1 0h1m1 0h1h1h1m1 0h1m50 0h1h1m1 0h1m1 0h1m1 0h1h1h1m4 0h1h1h1m1 0h1m10 0h1m2 0h1M693 2493h1m3 0h1m1 0h1m1 0h1m1 0h1h1h1m62 0h1h1m1 0h1h1h1h1h1m1 0h1m2 0h1m2 0h1m2 0h1h1m1 0h1m1 0h1m2 0h1m2 0h1m3 0h1m3 0h1m4 0h1h1m1 0h1m2 0h1m4 0h1m1 0h1h1m3 0h1m6 0h1m4 0h1m3 0h1m8 0h1m2 0h1m1 0h1h1m1 0h1h1h1m1 0h1h1h1m1 0h1h1m41 0h1m1 0h1m3 0h1m2 0h1m1 0h1m2 0h1m5 0h1m8 0h1m5 0h1m2 0h1m3 0h1m9 0h1M701 2494h1h1h1h1h1m55 0h1m1 0h1m1 0h1h1h1h1m1 0h1m1 0h1m1 0h1h1m2 0h1m4 0h1m1 0h1h1h1m1 0h1m1 0h1m2 0h1m1 0h1m1 0h1h1h1m9 0h1m3 0h1m10 0h1m4 0h1m22 0h1m4 0h1h1m3 0h1h1m1 0h1h1h1m1 0h1h1h1h1h1m34 0h1m1 0h1m1 0h1m1 0h1h1h1h1h1h1m3 0h1m2 0h1m3 0h1h1m13 0h1m4 0h1M692 2495h1h1m4 0h1h1m3 0h1h1h1h1h1m52 0h1h1m3 0h1m2 0h1m3 0h1m1 0h1m9 0h1m1 0h1m7 0h1h1h1m2 0h1m2 0h1h1m1 0h1m3 0h1m3 0h1m1 0h1m4 0h1m1 0h1m3 0h1m4 0h1m6 0h1m2 0h1m2 0h1h1m3 0h1m3 0h1m1 0h1m3 0h1h1m2 0h1h1h1h1h1h1h1h1m3 0h1h1h1h1h1m2 0h1h1m2 0h1h1m15 0h1m2 0h1m1 0h1m1 0h1m2 0h1m1 0h1h1m2 0h1h1h1m1 0h1m4 0h1m22 0h1M686 2496h1m3 0h1m5 0h1m1 0h1h1h1m2 0h1h1m1 0h1h1h1h1h1m41 0h1h1h1h1h1h1h1m1 0h1m1 0h1h1h1m1 0h1m1 0h1m1 0h1h1h1m3 0h1m5 0h1m1 0h1m2 0h1m10 0h1h1m1 0h1m4 0h1m8 0h1m4 0h1m1 0h1m3 0h1m2 0h1m6 0h1m8 0h1m4 0h1m1 0h1m1 0h1h1m2 0h1m3 0h1m2 0h1m1 0h1h1h1h1m1 0h1h1h1h1m1 0h1h1m3 0h1m1 0h1h1h1m1 0h1h1h1h1h1h1h1h1h1h1h1h1m1 0h1m6 0h1h1h1h1m5 0h1h1h1h1m5 0h1h1m9 0h1m7 0h1m7 0h1M703 2497h1h1m1 0h1h1h1m1 0h1h1m1 0h1m33 0h1h1h1m1 0h1h1h1m1 0h1m1 0h1m1 0h1h1h1m3 0h1h1m1 0h1m3 0h1h1m2 0h1m2 0h1m6 0h1m13 0h1m3 0h1m6 0h1h1m2 0h1h1m6 0h1m1 0h1h1m16 0h1m9 0h1m1 0h1m3 0h1m1 0h1m5 0h1m1 0h1m4 0h1m1 0h1h1h1h1m1 0h1m1 0h1h1m1 0h1h1h1m2 0h1m4 0h1m3 0h1h1h1h1h1h1h1m1 0h1m3 0h1m1 0h1h1m3 0h1m6 0h1m2 0h1m7 0h1m11 0h1M685 2498h1m11 0h1h1m3 0h1h1h1h1h1h1h1h1h1h1h1h1h1h1h1h1h1m24 0h1h1m1 0h1h1m1 0h1m2 0h1h1h1h1m2 0h1m4 0h1h1h1h1m1 0h1m1 0h1m5 0h1m1 0h1m3 0h1h1m2 0h1m1 0h1h1m29 0h1m3 0h1m2 0h1m20 0h1m5 0h1m4 0h1m4 0h1m1 0h1h1m3 0h1h1m2 0h1h1h1m4 0h1h1h1h1h1m4 0h1m3 0h1h1h1h1h1m1 0h1m2 0h1m1 0h1m6 0h1m3 0h1h1m3 0h1m9 0h1m6 0h1m1 0h1m17 0h1m5 0h1M697 2499h1m3 0h1h1m2 0h1h1h1h1m1 0h1h1m1 0h1h1m1 0h1h1h1h1h1h1h1m1 0h1h1h1m1 0h1h1m3 0h1h1h1h1h1h1h1h1h1m2 0h1h1h1m3 0h1h1h1h1m1 0h1m7 0h1h1m10 0h1m3 0h1m10 0h1m2 0h1m6 0h1h1m20 0h1m1 0h1h1h1m5 0h1m1 0h1m9 0h1m11 0h1m2 0h1h1m2 0h1m3 0h1m1 0h1h1m1 0h1m1 0h1m2 0h1m1 0h1h1m2 0h1h1m1 0h1m3 0h1h1h1h1h1m4 0h1m1 0h1m3 0h1m6 0h1m2 0h1h1m2 0h1m3 0h1m3 0h1M676 2500h1m15 0h1m2 0h1m6 0h1m2 0h1m1 0h1m1 0h1m1 0h1m1 0h1h1h1m1 0h1m4 0h1m2 0h1h1m1 0h1h1m1 0h1h1m1 0h1h1m4 0h1h1h1m2 0h1m4 0h1m4 0h1h1m5 0h1m1 0h1m2 0h1h1m2 0h1m5 0h1m2 0h1m2 0h1m17 0h1m4 0h1m17 0h1m14 0h1h1m9 0h1m4 0h1m5 0h1m3 0h1m3 0h1h1h1m1 0h1h1m1 0h1h1h1h1m1 0h1m2 0h1h1h1m1 0h1m4 0h1m1 0h1m2 0h1m4 0h1m9 0h1m2 0h1m5 0h1m4 0h1m1 0h1m18 0h1M679 2501h1h1m13 0h1m6 0h1m3 0h1m2 0h1m2 0h1h1h1h1h1h1h1m1 0h1m2 0h1m1 0h1h1h1h1m1 0h1h1h1m2 0h1h1h1h1h1h1m3 0h1m1 0h1m1 0h1m2 0h1m6 0h1m3 0h1m4 0h1m5 0h1h1m2 0h1m1 0h1m5 0h1m2 0h1m1 0h1m12 0h1m8 0h1m14 0h1m8 0h1m11 0h1m16 0h1h1m5 0h1m6 0h1m9 0h1m2 0h1m4 0h1m1 0h1m1 0h1h1m1 0h1m9 0h1m2 0h1h1m5 0h1M706 2502h1m1 0h1h1m3 0h1h1h1m3 0h1m1 0h1h1h1m5 0h1m1 0h1m1 0h1h1m2 0h1m4 0h1m1 0h1m1 0h1m2 0h1m3 0h1m15 0h1m3 0h1m3 0h1m2 0h1m1 0h1m12 0h1m8 0h1m24 0h1m6 0h1m16 0h1m7 0h1h1m6 0h1h1m3 0h1m2 0h1m1 0h1m1 0h1m3 0h1m8 0h1m6 0h1m7 0h1m19 0h1m9 0h1m5 0h1m4 0h1" stroke="#000" stroke-width="1.3" fill="none" shape-rendering="crispEdges"/>
<path d="M699 2474.3L698.1 2465.3L699.5 2454.1L699.9 2442.3L700 2431.6L700.4 2422.4L701.9 2414L703.8 2406.1L706.2 2398.4L708.2 2390.5L710.4 2382.7L714.2 2375.8L717.2 2369.2L718.3 2361.7L721.4 2355L726.1 2350.3L730 2347.8L733.8 2348.6L736.5 2352.8L740.6 2357.1L743.8 2361.7L746.7 2366.8L751.9 2370.9L755.3 2376.5L758.7 2382.1L763.8 2386.1L769.9 2389.1L774.1 2394L778.6 2397.6L783.5 2398.9L787.4 2401.3L791.7 2402.7L794.5 2406.2L798.5 2406.5L799.9 2409.8L803.5 2410.6L805.6 2414.3L807.1 2419.3L810 2424.3L811.5 2430L816.2 2433.3L818.1 2437.7L820.9 2441.5L823.9 2444.9L827.6 2446.6L830.6 2448.5L833.2 2450.2L836 2450.3L839 2449.7L842.7 2447.9L847 2444.6L852.4 2441.4L857.7 2437.9L864.3 2437.9L869.4 2433.8L875.5 2432.6L881.2 2430.5L887.3 2429.6L893.4 2428.1L899.4 2427.6L904.7 2426.1L909.5 2425.2L914 2425.6L918.4 2425.8L922.3 2427.9L926 2430.3L930.1 2432.4L932.7 2436.3L935.7 2440L936 2445.4L938.3 2450.4L940.6 2455.7L938.5 2461.3L939.3 2466.8L937.5 2472.1L934.4 2476.9L933.7 2482.8L929.1 2485.8L924.6 2488.3L920.8 2492.3L915 2493.1L909.4 2496.9L902.3 2496.7L895.2 2497.3L888.6 2496.7L882.4 2496.3L876.3 2496.2L870.3 2496.5L864.8 2495.2L860.4 2492.2L855.4 2491.3L852.4 2487.4L847.8 2486.7L845.1 2483.1L841.4 2481.4L838.8 2478.7L836 2476.8L832.7 2476.8L829.8 2475.8L826.8 2476.4L823.6 2477L820.3 2478.5L816.4 2479L812 2479.4L808 2481.9L803.6 2483.7L798.5 2484.9L794 2488.4L787.8 2488.7L781.8 2491L775.1 2492.3L768.7 2495.9L762 2497.2L755.3 2498.5L748.2 2498.1L741.5 2499L735.3 2501L728.8 2500.8L722.5 2500.3L716.5 2501.1L711.6 2499.6L707.9 2498.4L704.3 2497.6L703.4 2493.9L701.8 2491.2L699.6 2488.4L699.5 2484.8L698.5 2480.4Z" fill="#000"/>
<path d="M803.7 2409c1.6-3.8 12.5-1.1 19.6-0c7 1.1 15.7 3.8 22.8 6.5c7.1 2.7 16.9 6.3 19.6 9.8c2.7 3.5 .6 7.9-3.3 11.4c-3.8 3.6-13.6 8.5-19.5 9.8c-6 1.4-11.5 .8-16.4-1.6c-4.9-2.5-9.2-7.1-13-13.1c-3.8-5.9-11.5-19-9.8-22.8Z" fill="#000" fill-opacity="0.85"/>
<path d="M701.8 2474.3c-.1-9.8-.5-29.9 .6-42.5c1.2-12.5 3.9-22.3 6.6-32.6c2.7-10.4 6.2-21 9.8-29.4c3.5-8.4 7.6-20.1 11.4-21.2c3.8-1.1 6.8 9 11.4 14.7c4.7 5.7 10.4 13.6 16.4 19.6c5.9 5.9 13.6 12.2 19.6 16.3c5.9 4.1 11.9 5.4 16.3 8.1c4.3 2.8 6.5 3.6 9.8 8.2c3.2 4.6 6 14.2 9.8 19.6c3.8 5.4 8.7 10.2 13 13.1c4.4 2.8 7.6 5.1 13.1 3.9c5.4-1.2 12.5-8 19.6-11.1c7.1-3.1 15.2-5.5 22.8-7.5c7.7-2.1 16.4-4.4 22.9-4.9c6.5-.6 11.7-.6 16.3 1.6c4.7 2.2 8.7 6.3 11.5 11.4c2.7 5.2 5.1 13.1 4.9 19.6c-.3 6.6-2.8 14.4-6.6 19.6c-3.8 5.2-9.2 9-16.3 11.4c-7.1 2.5-18 3.3-26.1 3.3c-8.2 0-16.4-1.4-22.9-3.3c-6.5-1.9-11.4-5.4-16.3-8.1c-4.9-2.7-8.7-6.5-13.1-8.2c-4.3-1.6-8.1-2.2-13-1.6c-4.9 .5-10.4 2.7-16.4 4.9c-5.9 2.2-11.9 5.7-19.6 8.1c-7.6 2.5-17.4 4.7-26.1 6.6c-8.7 1.9-17.9 4.3-26.1 4.9c-8.2 .5-17.5-.3-22.9-1.7c-5.3-1.3-7.4-2.7-9.1-6.5c-1.7-3.8-1.2-6.5-1.3-16.3Z" fill="#fff" stroke="#333" stroke-width="1"/>
<path class="cg" d="M703.5 2474.3c-.1-9.7-.5-29.9 .6-42.3c1.2-12.4 3.8-22.1 6.5-32.4c2.7-10.2 6.4-20.9 9.7-29.1c3.4-8.3 7-19.3 10.4-20.3c3.3-1 5.3 8.5 9.6 14.1c4.4 5.7 10.4 13.7 16.5 19.8c6 6 13.8 12.4 19.8 16.5c6 4.1 12.1 5.5 16.4 8.2c4.3 2.6 6.1 3.1 9.3 7.7c3.2 4.5 5.9 14.1 9.8 19.6c3.9 5.5 8.9 10.5 13.5 13.5c4.7 2.9 8.6 5.3 14.4 4.1c5.7-1.1 12.8-8.1 19.9-11.2c7.1-3.1 15.1-5.3 22.6-7.4c7.5-2 16.2-4.3 22.5-4.8c6.4-.6 11.1-.6 15.5 1.4c4.4 2.1 8.1 5.8 10.6 10.7c2.6 4.9 5 12.5 4.8 18.8c-.3 6.2-2.6 13.7-6.2 18.6c-3.7 4.9-8.7 8.5-15.6 10.8c-6.8 2.4-17.5 3.2-25.5 3.2c-8 0-16-1.3-22.4-3.2c-6.4-1.9-11.1-5.3-16-8c-4.9-2.7-8.8-6.6-13.3-8.3c-4.5-1.6-8.7-2.2-13.8-1.7c-5.1 .5-10.7 2.8-16.7 5c-6.1 2.2-12 5.7-19.6 8.1c-7.6 2.5-17.3 4.6-25.9 6.5c-8.7 1.9-17.9 4.3-25.9 4.9c-8 .5-17.3-.4-22.3-1.6c-5.1-1.2-6.5-2.1-8.1-5.6c-1.5-3.5-1-6-1.1-15.6Z"/>
<path class="cg" d="M705.2 2474.2c-.1-9.5-.5-29.7 .6-42c1.2-12.4 3.8-22 6.5-32.2c2.6-10.1 6.5-20.9 9.6-28.9c3.2-8 6.4-18.3 9.2-19.3c2.9-.9 3.8 8 7.9 13.6c4.1 5.6 10.4 13.8 16.6 19.9c6.1 6.1 13.9 12.5 20 16.7c6.1 4.2 12.3 5.7 16.5 8.2c4.2 2.6 5.7 2.8 8.8 7.3c3.1 4.4 5.8 14 9.8 19.6c3.9 5.5 9 10.9 14 13.9c4.9 3.1 9.6 5.6 15.6 4.4c6-1.2 13.1-8.2 20.2-11.3c7.2-3.1 15-5.3 22.4-7.3c7.5-2.1 16.1-4.3 22.3-4.8c6.1-.6 10.5-.6 14.6 1.3c4.1 1.9 7.4 5.3 9.8 9.9c2.4 4.6 4.8 12 4.6 17.9c-.3 5.9-2.5 13-5.9 17.7c-3.4 4.7-8.1 8-14.7 10.2c-6.6 2.3-17.2 3.1-25 3.1c-7.8 0-15.7-1.3-21.9-3.1c-6.3-1.9-10.8-5.2-15.7-7.9c-4.8-2.7-8.8-6.7-13.5-8.4c-4.7-1.7-9.3-2.3-14.6-1.8c-5.3 .5-11 2.9-17.1 5.1c-6.1 2.2-11.9 5.7-19.5 8.1c-7.5 2.4-17.2 4.6-25.8 6.5c-8.6 1.8-17.7 4.2-25.6 4.8c-7.9 .5-17-.5-21.8-1.6c-4.8-1-5.6-1.3-6.9-4.6c-1.3-3.3-.9-5.4-1-15Z"/>
<path class="cg" d="M705.3 2474.5c-.1-9.3-.6-30.6 .6-42.9c1.1-12.4 3.6-21.5 6.2-31c2.6-9.4 6.3-18.3 9.3-25.7c3-7.4 5.6-17.7 8.8-18.8c3.1-1.2 5.6 7 10 12.1c4.4 5.1 10.2 12.6 16.2 18.4c6 5.9 13.7 12.4 19.7 16.5c6 4.1 12.3 5.5 16.4 8.4c4.2 2.9 5.7 4.5 8.7 9.1c2.9 4.6 5.4 13.2 8.8 18.4c3.4 5.3 8.7 9.4 11.5 13.2c2.7 3.7 6.4 6.2 5.1 9.3c-1.3 3.2-7.5 6.6-13 9.6c-5.5 3-12.3 5.4-20 8.2c-7.6 2.8-16.6 5.9-25.8 8.5c-9.2 2.5-20.5 5.9-29.4 6.7c-9 .9-18.9-.2-24.3-1.5c-5.3-1.2-6.4-2.7-7.9-5.8c-1.5-3.1-.8-3.4-.9-12.7Z"/><path class="cg" d="M705.7 2473.8c-.1-9.1-.3-29.4 .9-41.3c1.2-11.8 3.7-20.5 6.2-29.7c2.6-9.2 6.1-18.5 9-25.7c2.9-7.2 5.6-16.7 8.5-17.7c3-1.1 5 6.5 9.3 11.5c4.2 5 10.3 12.7 16.1 18.3c5.8 5.7 12.8 11.9 18.5 15.9c5.8 3.9 11.8 5.1 15.9 7.9c4.2 2.8 6.1 4.4 9 8.8c2.9 4.5 5.1 12.7 8.4 17.8c3.2 5 8.6 8.9 11.2 12.6c2.7 3.6 6 6.1 4.6 9.2c-1.3 3.1-7.4 6.6-12.6 9.5c-5.2 2.8-11.1 4.9-18.5 7.7c-7.4 2.7-16.8 6.2-25.8 8.7c-9 2.5-19.6 5.4-28.3 6.2c-8.7 .8-18.6-.1-23.8-1.2c-5.2-1.1-5.9-2.4-7.3-5.5c-1.5-3-1.3-4-1.3-13Z"/><path class="cg" d="M706.2 2473.4c-.1-8.8-.3-28.5 .9-40.1c1.1-11.5 3.9-20 6.3-29c2.4-8.9 5.5-17.7 8.3-24.7c2.7-7 5.3-16.2 8.3-17.3c2.9-1 4.9 6.4 9.1 11.2c4.2 4.8 10.2 12.3 15.9 17.8c5.6 5.4 12.4 11.2 18 15.1c5.5 3.8 11.2 5.2 15.2 7.9c4 2.7 5.7 4 8.6 8.4c2.9 4.3 5.5 12.8 8.7 17.8c3.2 4.9 8 8.4 10.5 11.9c2.6 3.5 5.9 5.8 4.6 8.8c-1.2 3.1-7.1 6.4-12.3 9.3c-5.2 2.8-11.4 5.2-18.6 7.8c-7.1 2.7-15.7 5.9-24.4 8.3c-8.7 2.3-19.3 5-27.7 5.8c-8.4 .8-17.7-0-22.6-1.1c-5-1.1-5.8-2.4-7.2-5.4c-1.5-2.9-1.5-3.7-1.6-12.5Z"/><path class="cg" d="M707.2 2473.3c-.1-8.4-.4-27.8 .8-39c1.1-11.2 3.6-19.7 5.9-28.3c2.4-8.6 5.3-16.5 8-23.3c2.7-6.8 5.3-16.4 8.1-17.4c2.9-1.1 4.8 6.3 8.8 11c4 4.6 9.7 11.6 15.2 16.9c5.5 5.3 12.6 11 17.9 14.9c5.4 3.8 10.6 5.6 14.4 8.2c3.7 2.7 5.6 3.7 8.3 7.8c2.8 4.1 5.3 11.9 8.4 16.7c3.1 4.8 7.6 8.7 10.1 12.1c2.5 3.3 6.1 5.4 4.9 8.2c-1.2 2.9-7.4 6-12.4 8.8c-5 2.7-10.4 5.1-17.4 7.7c-6.9 2.7-15.7 5.8-24.1 8.1c-8.5 2.4-18.7 5.3-26.8 6.1c-8.1 .8-17.3-.1-22.1-1.3c-4.9-1.2-5.7-2.9-7-5.7c-1.4-2.9-1-3.1-1-11.5Z"/><path class="cg" d="M707.6 2472.5c-.1-8.1 .1-26.1 1.1-36.9c1.1-10.8 3-19.3 5.2-27.8c2.2-8.5 5.4-16.4 8.1-22.9c2.7-6.6 5.3-15.3 8-16.2c2.8-1 4.5 5.8 8.4 10.4c3.8 4.5 9.3 11.7 14.7 16.8c5.3 5.2 12 10.6 17.2 14.2c5.3 3.6 10.6 4.9 14.2 7.4c3.7 2.5 5 3.5 7.6 7.5c2.7 4 5.3 11.7 8.3 16.4c3 4.7 7.5 8.6 9.9 11.8c2.5 3.3 6 5 4.8 7.8c-1.2 2.8-7.3 6.4-12.1 9c-4.8 2.7-10.1 4.5-16.8 6.9c-6.7 2.5-15.1 5.4-23.3 7.8c-8.2 2.3-18.1 5.4-25.9 6.1c-7.8 .8-16.5-.5-21.1-1.5c-4.7-1.1-5.2-2.1-6.6-4.9c-1.3-2.8-1.6-3.7-1.7-11.9Z"/><path class="cg" d="M709.5 2472.1c-.1-7.6-.6-25 .4-35.1c1-10.1 3.4-17.6 5.5-25.3c2.2-7.8 4.9-15.2 7.3-21.3c2.4-6.1 4.5-14.6 7-15.5c2.5-.8 4.5 6 8.1 10.2c3.6 4.3 8.6 10.4 13.5 15.1c4.9 4.8 11.1 10.3 16 13.6c5 3.4 10.3 4.4 13.8 6.6c3.4 2.3 4.5 3.4 7 7.1c2.4 3.8 4.8 11 7.6 15.3c2.8 4.4 7.1 7.7 9.3 10.8c2.1 3.1 5 5.3 3.8 7.9c-1.1 2.6-6.2 5.3-10.7 7.7c-4.4 2.4-9.7 4.5-16 6.8c-6.2 2.3-13.8 5-21.4 7.1c-7.6 2-16.8 4.5-24.2 5.2c-7.3 .7-15.4-.2-19.7-1.1c-4.4-.9-5.3-1.8-6.5-4.3c-1.3-2.5-.8-3.1-.8-10.8Z"/><path class="cg" d="M710.7 2471.2c-.1-7-.7-23.2 .2-32.5c.9-9.3 3.3-16.2 5.4-23.4c2.1-7.2 4.8-14.2 7-19.9c2.2-5.7 4.1-13.4 6.4-14.1c2.3-.8 4.3 5.5 7.6 9.4c3.3 3.8 7.9 9.2 12.4 13.7c4.6 4.4 10.2 9.7 14.7 12.9c4.5 3.2 9.3 4.1 12.5 6.3c3.2 2.1 4.5 3.3 6.8 6.7c2.3 3.5 4.4 10 7.1 13.9c2.6 4 6.6 7 8.6 9.8c2.1 2.9 4.6 4.9 3.5 7.3c-1 2.4-5.7 4.8-9.9 7.1c-4.1 2.3-9 4.4-14.8 6.5c-5.8 2.2-12.9 4.6-19.9 6.6c-7.1 1.9-15.4 4.5-22.2 5.2c-6.9 .7-14.7-.2-18.8-1.1c-4.1-.9-4.8-2.1-5.9-4.4c-1.1-2.4-.6-2.9-.7-10Z"/><path class="cg" d="M712.3 2470.6c-.1-6.5-.5-21.1 .3-29.8c.7-8.6 2.4-15.2 4.3-21.9c1.8-6.7 4.5-12.8 6.7-18c2.2-5.2 4.2-12.3 6.4-13.1c2.2-.9 3.8 4.5 6.8 8.1c3.1 3.5 7.3 9 11.4 13.1c4.2 4.2 9.3 8.8 13.5 11.7c4.2 2.9 8.7 3.7 11.7 5.7c3 1.9 4.1 2.9 6.2 6.1c2 3.2 3.8 9.4 6.1 13.1c2.3 3.7 5.9 6.6 7.8 9.2c1.9 2.6 4.3 4.2 3.4 6.4c-1 2.3-5.2 5.1-9 7.1c-3.8 2.1-8.6 3.3-13.8 5.2c-5.3 1.9-11.5 4.5-17.9 6.3c-6.5 1.8-14.7 3.9-21 4.6c-6.3 .6-13 .3-16.7-.5c-3.6-.8-4.2-2.1-5.2-4.4c-1.1-2.2-.9-2.5-1-8.9Z"/><path class="cg" d="M713.8 2469.4c-.1-6-.8-19.3-0-27.2c.8-7.8 2.9-13.7 4.6-19.8c1.7-6.1 3.8-12 5.7-16.8c1.9-4.8 3.8-11.3 5.8-11.9c2-.6 3.4 4.8 6.1 8.1c2.7 3.3 6.4 8.1 10.3 11.8c3.8 3.7 8.9 7.9 12.8 10.5c3.9 2.6 7.8 3.4 10.5 5.2c2.7 1.8 3.7 2.7 5.6 5.7c1.9 2.9 3.7 8.8 5.9 12.2c2.1 3.3 5.6 5.5 7.2 7.9c1.7 2.4 3.7 4.2 2.7 6.2c-.9 2.1-4.7 4.2-8.2 6.2c-3.5 1.9-7.8 3.6-12.7 5.4c-4.8 1.8-10.8 4-16.7 5.6c-5.8 1.6-12.7 3.3-18.4 3.9c-5.7 .6-12.4 .2-15.8-.5c-3.5-.7-3.8-1.8-4.7-3.9c-.9-2.1-.6-2.6-.7-8.6Z"/><path class="cg" d="M714.9 2469c-0-5.4-.2-17.9 .6-25c.7-7.2 2.4-12.5 3.8-17.9c1.5-5.5 3.4-10.4 5.1-14.8c1.6-4.3 3.1-10.5 5-11.2c1.8-.7 3.6 4.1 6.1 7.1c2.5 3 5.7 7.5 9.1 10.9c3.4 3.4 7.8 7.1 11.3 9.5c3.5 2.4 7.2 3.3 9.7 4.9c2.4 1.7 3.5 2.4 5.2 5c1.7 2.6 3.1 7.6 5 10.6c1.9 3.1 4.9 5.6 6.5 7.8c1.5 2.1 3.6 3.3 2.9 5.1c-.7 1.8-4.1 3.9-7.1 5.6c-3.1 1.8-7 3.2-11.4 4.9c-4.4 1.7-9.9 3.7-15.3 5.3c-5.3 1.5-11.8 3.5-17.1 4c-5.2 .6-11.2-.1-14.3-.8c-3-.7-3.2-1.6-4-3.5c-.9-1.8-1-2.1-1.1-7.5Z"/><path class="cg" d="M716.1 2468c-0-4.8 .1-15.7 .7-22.1c.7-6.3 2-11.1 3.3-16.1c1.4-4.9 3.4-9.6 5-13.5c1.6-3.9 3-9.4 4.5-9.9c1.6-.6 2.4 3.9 4.7 6.7c2.3 2.7 5.8 6.8 8.9 9.7c3.2 2.9 6.8 5.8 9.9 7.9c3 2.2 6.4 3.3 8.6 4.8c2.2 1.6 3.1 2.2 4.6 4.5c1.6 2.4 3 7.1 4.8 9.8c1.8 2.7 4.6 4.6 6 6.4c1.5 1.9 3.3 3.1 2.6 4.8c-.8 1.6-4.3 3.6-7.1 5.2c-2.9 1.7-6 3-9.9 4.5c-4 1.4-9.1 3.1-13.9 4.4c-4.9 1.4-10.4 3.1-15.1 3.5c-4.6 .4-10.1-.4-12.9-1c-2.8-.6-3-1-3.8-2.6c-.8-1.6-.9-2.1-.9-7Z"/><path class="cg" d="M717.9 2467.4c-.1-4.3-.6-14.1-.1-19.8c.6-5.7 2.2-10.1 3.5-14.4c1.2-4.4 2.9-8.2 4.2-11.5c1.4-3.4 2.5-8 3.9-8.6c1.4-.5 2.5 3 4.4 5.3c2 2.4 4.6 6 7.3 8.7c2.7 2.6 6.3 5.5 9 7.4c2.8 1.9 5.7 2.7 7.6 4.1c1.9 1.3 2.7 1.8 4 3.9c1.4 2.1 2.7 6.2 4.3 8.6c1.6 2.4 3.9 4.1 5.2 5.8c1.3 1.7 3.3 2.9 2.7 4.3c-.6 1.5-3.7 3.3-6.2 4.7c-2.6 1.4-5.6 2.4-9.2 3.7c-3.5 1.3-7.8 2.9-12.1 4.1c-4.3 1.1-9.4 2.5-13.5 2.9c-4.1 .4-8.6-0-11-.6c-2.4-.6-2.7-1.5-3.3-2.9c-.7-1.5-.6-1.5-.7-5.7Z"/><path class="cg" d="M719.1 2466.3c-.1-3.8-.2-11.9 .2-16.8c.5-4.9 1.5-8.6 2.6-12.4c1.1-3.8 2.6-7.2 3.8-10.3c1.2-3 2-7.3 3.2-7.8c1.3-.4 2.5 2.9 4.2 5c1.8 2.1 4 5.4 6.4 7.7c2.4 2.4 5.7 4.6 8.2 6.3c2.5 1.6 4.9 2.5 6.6 3.7c1.7 1.1 2.3 1.6 3.4 3.4c1.1 1.7 2 5 3.4 7.1c1.3 2.1 3.4 3.9 4.5 5.4c1 1.5 2.5 2.2 2 3.5c-.5 1.3-2.7 3-4.9 4.3c-2.2 1.2-4.9 2-8 3.1c-3.2 1.1-7.1 2.5-10.7 3.5c-3.7 1-7.8 2.3-11.3 2.7c-3.5 .4-7.9-0-10-.5c-2.1-.5-2.2-1-2.8-2.3c-.6-1.3-.7-1.9-.8-5.6Z"/><path class="cg" d="M720.6 2465.9c-.1-3.2-.5-10.6-.1-14.9c.5-4.2 1.7-7.3 2.7-10.5c.9-3.2 2-6 3-8.5c1.1-2.5 2.2-6.2 3.2-6.6c1-.4 1.6 2.4 3 4.2c1.4 1.8 3.4 4.6 5.5 6.6c2.1 2 5 4 7 5.3c2.1 1.3 3.9 1.7 5.3 2.6c1.4 .9 2.2 1.4 3.3 3c1 1.7 1.8 5 2.9 6.8c1.2 1.8 3.1 2.9 4 4.1c.9 1.3 2.1 2.3 1.6 3.4c-.5 1.1-2.9 2.3-4.8 3.3c-1.8 1-3.8 1.5-6.3 2.4c-2.6 1-5.9 2.3-9 3.2c-3.1 .9-6.6 2.2-9.7 2.4c-3.1 .3-6.9-.4-8.7-.8c-1.9-.4-1.7-.6-2.2-1.6c-.5-1-.6-1.2-.7-4.4Z"/><path class="cg" d="M722.3 2464.8c-.1-2.6-.2-8.3 .1-11.7c.4-3.4 1.2-6.2 1.9-8.9c.6-2.6 1.2-4.9 2-7c.8-2.1 1.9-4.9 2.8-5.3c.9-.4 1.5 1.6 2.7 3c1.2 1.4 2.8 3.8 4.5 5.5c1.6 1.6 3.7 3.3 5.3 4.5c1.7 1.1 3.3 1.6 4.5 2.4c1.2 .8 1.9 1.1 2.8 2.4c.9 1.3 1.7 3.9 2.7 5.4c1 1.5 2.5 2.3 3.2 3.3c.8 1.1 1.8 1.9 1.4 2.9c-.4 .9-2.4 2.1-3.9 2.9c-1.5 .9-3.3 1.6-5.4 2.3c-2.1 .7-4.7 1.4-7.3 2.1c-2.6 .7-5.9 1.7-8.4 1.9c-2.5 .3-5-.1-6.5-.4c-1.4-.2-1.7-.4-2.2-1.3c-.4-.9-.2-1.4-.2-4Z"/><path class="cg" d="M723.4 2464.1c-.1-2-.3-6.8 0-9.5c.3-2.6 1.3-4.3 1.9-6.4c.6-2 1.2-4.1 1.8-5.7c.6-1.7 1.1-4 1.8-4.2c.6-.3 1.1 1.5 2.1 2.6c1 1 2.4 2.5 3.8 3.7c1.4 1.3 3.1 2.8 4.4 3.8c1.2 1 2.2 1.6 3.1 2.2c.9 .6 1.7 .5 2.5 1.5c.7 .9 1.1 2.9 1.8 4.1c.8 1.2 1.9 2.3 2.4 3.2c.6 .8 1.2 1 1 1.7c-.3 .6-1.4 1.3-2.6 2c-1.1 .7-2.6 1.3-4.3 2c-1.6 .7-3.5 1.6-5.7 2.2c-2.1 .6-4.9 1.3-6.9 1.4c-2 .2-3.9-.3-5-.6c-1.2-.4-1.4-.7-1.7-1.4c-.4-.7-.4-.6-.4-2.6Z"/><path class="cg" d="M724.9 2463.1c-.1-1.4-.1-4.4 .1-6.3c.2-1.9 .5-3.6 .9-5.1c.4-1.6 .8-2.9 1.3-4.2c.5-1.2 1.3-3 1.8-3.2c.5-.3 .5 1 1.1 1.9c.7 .9 1.9 2.4 2.9 3.4c1 1 2.2 1.9 3.1 2.5c1 .6 1.9 .6 2.6 1.1c.7 .5 1.1 1 1.6 1.7c.5 .7 .9 1.6 1.5 2.5c.5 .9 1.3 2 1.8 2.6c.4 .7 1 .9 .8 1.4c-.2 .4-1.2 .7-2 1.2c-.9 .5-2 1.4-3.3 1.8c-1.3 .4-2.8 .5-4.3 .8c-1.4 .4-3.1 1.1-4.5 1.3c-1.4 .2-2.9 .3-3.8 .1c-.8-.2-1-.8-1.3-1.4c-.3-.6-.3-.7-.3-2.1Z"/><path class="cg" d="M726.5 2462.5c-.1-.9-.4-3.2-.4-4.4c.1-1.2 .4-2 .7-3c.3-.9 .7-2 1.1-2.7c.3-.7 .6-1.5 .9-1.6c.3-.1 .4 .4 .9 .8c.5 .5 1.3 1.2 1.9 1.9c.6 .7 1.1 1.7 1.7 2.2c.6 .4 1.4 .1 1.8 .3c.5 .2 .5 .4 .8 .9c.3 .5 .7 1.7 1 2.3c.3 .5 .4 .7 .7 1c.3 .4 1.2 .6 1.1 .9c-.2 .3-1.2 .6-1.8 .9c-.6 .3-1.1 .6-1.8 1c-.7 .3-1.5 .8-2.4 1c-.9 .2-2.1 .3-3 .3c-.9 .1-1.9 0-2.5-.1c-.5-.1-.6-.3-.8-.6c-.1-.3 .1-.2 .1-1.1Z"/>
<path d="M704.1 2474.3c-0-9.8-.1-31 1-42.5c1-11.4 1.6-20.1 5.5-26.1c3.9-6 12.5-10.3 18-9.8c5.4 .6 11.1 4.4 14.7 13.1c3.5 8.7 5.1 27.7 6.5 39.2c1.4 11.4 3 21.7 1.6 29.4c-1.3 7.6-3.8 13.3-9.8 16.3c-6 3-20 2.2-26.1 1.6c-6.1-.5-8.5-1.4-10.4-4.9c-1.9-3.5-1-6.5-1-16.3Z" fill="#444" fill-opacity="0.55"/>
<ellipse cx="728.6" cy="2474.3" rx="2.6" ry="5" fill="#fff"/>
<ellipse cx="728.6" cy="2443.3" rx="2.6" ry="5" fill="#fff"/>
<path class="cg" d="M846.6 2454.5c2.7-3.8 8.1-6.8 14.1-9.6c6.1-2.9 14.8-5.5 22.2-7.5c7.4-2 16.2-3.9 22.3-4.4c6-.5 10.2-.7 14.1 1.2c4 1.9 7.2 5.7 9.5 10.2c2.3 4.6 4.6 11.5 4.3 17.1c-.3 5.6-2.9 12-6.2 16.5c-3.4 4.4-7.8 8.1-14.1 10.4c-6.4 2.2-16.5 3.1-24.1 3c-7.6 0-15.3-1.2-21.4-3.2c-6.2-1.9-11.6-4.8-15.4-8.3c-3.8-3.4-6.4-8-7.3-12.2c-.9-4.3-.7-9.4 2-13.2Z"/><path class="cg" d="M848.4 2455.2c2.6-3.7 8.1-6.7 13.9-9.4c5.8-2.7 13.8-4.8 20.9-6.7c7.1-2 15.8-4.4 21.8-4.9c6-.6 10.4-.2 14.2 1.7c3.9 1.9 6.6 5.3 8.7 9.6c2.2 4.4 4.5 11 4.2 16.4c-.3 5.4-2.7 11.8-6 16.1c-3.3 4.4-7.4 7.9-13.6 10.1c-6.1 2.2-16 3.3-23.4 3.2c-7.4-0-15.1-1.6-21-3.4c-5.9-1.9-10.9-4.3-14.5-7.6c-3.7-3.3-6.4-8.1-7.3-12.3c-.8-4.1-.6-9.1 2.1-12.8Z"/><path class="cg" d="M850.3 2456.4c2.6-3.5 7.7-6.7 13.3-9.3c5.6-2.7 13.6-4.9 20.5-6.8c6.8-1.9 14.8-4.1 20.5-4.6c5.7-.5 9.9 0 13.6 1.8c3.8 1.8 6.6 5 8.7 9c2.2 4.1 4.6 10.3 4.3 15.6c-.3 5.2-2.9 11.5-6.2 15.8c-3.2 4.3-7.3 7.9-13.3 10c-6 2-15.5 2.5-22.5 2.5c-7-0-13.9-.8-19.5-2.6c-5.6-1.8-10.6-4.8-14.2-8.1c-3.6-3.3-6.4-7.7-7.3-11.6c-.8-3.9-.5-8.2 2.1-11.7Z"/><path class="cg" d="M852.2 2456.9c2.4-3.4 7.3-6.1 12.8-8.7c5.4-2.5 13.2-4.6 19.8-6.4c6.6-1.9 14.4-4.1 19.9-4.6c5.5-.5 9.5-.4 13 1.4c3.6 1.8 6.2 5.3 8.2 9.4c2 4 4 10.1 3.7 15.1c-.3 5.1-2.4 11-5.5 15.1c-3 4-7.2 7.5-12.9 9.5c-5.7 1.9-14.4 2.3-21.1 2.2c-6.8-.1-14-1-19.5-2.8c-5.4-1.7-9.9-4.4-13.2-7.5c-3.4-3.1-6.2-7.3-7-11.1c-.9-3.8-.7-8.2 1.8-11.6Z"/><path class="cg" d="M854.5 2457.7c2.3-3.2 6.8-5.6 12-8.1c5.1-2.4 12.6-4.7 18.9-6.5c6.3-1.8 13.6-3.8 18.9-4.3c5.2-.5 9.3-.3 12.7 1.4c3.4 1.6 5.9 4.4 7.9 8.3c1.9 3.9 4.1 10.1 3.9 15c-.2 4.9-2.1 10.5-5.1 14.4c-2.9 4-7 7.2-12.6 9.1c-5.5 1.9-14.3 2.4-20.8 2.3c-6.6 0-13.2-.8-18.5-2.4c-5.3-1.6-10-4.2-13.2-7.2c-3.1-3-5.3-7.2-6-10.8c-.7-3.7-.4-8 1.9-11.2Z"/><path class="cg" d="M858.1 2459.3c2.2-3.1 6.6-5.6 11.3-7.8c4.8-2.1 11.4-3.7 17.2-5.3c5.8-1.6 12.8-3.6 17.6-4.1c4.9-.5 8.4-.5 11.6 1c3.1 1.5 5.5 4.4 7.3 8c1.7 3.6 3.5 9.1 3.2 13.5c-.2 4.5-2.2 9.5-4.9 13.1c-2.6 3.6-5.9 6.7-10.9 8.5c-5 1.8-13.2 2.3-19.3 2.3c-6-0-12.1-1-16.9-2.5c-4.8-1.6-9-4.1-11.9-6.8c-3-2.7-5.1-5.9-5.8-9.2c-.7-3.4-.6-7.6 1.5-10.7Z"/><path class="cg" d="M861.7 2460.7c2-2.7 6-5.1 10.4-7.1c4.4-1.9 10.6-3.4 15.9-4.9c5.3-1.4 11.5-3.3 15.9-3.7c4.4-.4 7.5-.1 10.4 1.3c2.8 1.3 5 3.7 6.7 6.9c1.7 3.2 3.6 8.1 3.4 12.2c-.2 4.1-2.2 9.1-4.6 12.5c-2.5 3.3-5.6 5.9-10.2 7.4c-4.7 1.6-12.3 1.9-17.8 2c-5.5-0-11.1-.6-15.5-1.9c-4.3-1.3-7.7-3.6-10.4-6.1c-2.7-2.6-5-6.1-5.7-9.2c-.7-3.1-.5-6.7 1.5-9.4Z"/><path class="cg" d="M865.5 2462.6c1.8-2.4 5.3-4.5 9.2-6.3c4-1.8 9.7-3.4 14.5-4.7c4.8-1.4 10.3-3 14.3-3.4c4-.3 6.8 .1 9.4 1.3c2.6 1.2 4.7 3.2 6.2 6c1.6 2.9 3.2 7.4 3 11.1c-.2 3.6-1.8 8-4.1 11c-2.2 3-5.4 5.7-9.6 7.2c-4.1 1.5-10.5 1.7-15.4 1.6c-4.9-.1-10-1-13.9-2.2c-4-1.2-7.6-2.8-10.1-5c-2.4-2.2-4.1-5.6-4.7-8.4c-.6-2.7-.5-5.8 1.2-8.2Z"/><path class="cg" d="M869.4 2463.9c1.6-2.2 4.6-3.9 8.1-5.6c3.4-1.6 8.3-3 12.7-4.2c4.3-1.1 9.8-2.2 13.3-2.5c3.6-.4 5.8-.5 8.1 .5c2.2 1.1 4.3 3.2 5.7 5.8c1.3 2.6 2.5 6.3 2.4 9.6c-.2 3.3-1.3 7.4-3.3 10.1c-2 2.7-5.1 4.6-8.8 5.9c-3.8 1.4-9.3 2.1-13.7 2.1c-4.4 0-9.2-.9-12.7-2c-3.5-1.1-6.3-2.6-8.5-4.6c-2.1-2-4-5-4.6-7.5c-.5-2.6-.2-5.5 1.3-7.6Z"/><path class="cg" d="M873.6 2465.6c1.3-1.9 3.7-3.4 6.7-4.9c3.1-1.4 7.8-2.7 11.6-3.7c3.9-1 8.2-2.1 11.3-2.4c3.1-.2 5.2-.2 7.3 .7c2 .9 3.8 2.4 4.9 4.7c1.1 2.2 2 5.9 1.9 8.8c-.2 2.9-1.2 6.2-3 8.5c-1.7 2.4-4.2 4.7-7.5 5.8c-3.2 1.1-8 1.2-11.9 1.1c-3.8-.1-7.9-.8-11-1.7c-3.1-1-5.8-2.3-7.7-3.9c-1.9-1.7-3.3-4.1-3.7-6.3c-.5-2.1-.2-4.7 1.1-6.7Z"/><path class="cg" d="M877.3 2467.1c1.2-1.7 3.5-3.1 6.1-4.3c2.6-1.3 6-2.3 9.3-3.1c3.2-.9 7.4-1.8 10.2-2.1c2.8-.2 4.8-.2 6.6 .6c1.7 .8 3.1 2.3 4 4.2c.9 1.9 1.6 4.8 1.4 7.3c-.2 2.5-1 5.6-2.5 7.6c-1.5 2-3.4 3.5-6.3 4.5c-2.8 1-7.4 1.4-10.7 1.5c-3.3 0-6.5-.2-9.2-1.1c-2.6-.8-5.1-2.5-6.8-4.1c-1.7-1.5-3.2-3.4-3.5-5.2c-.4-1.8 .1-4.1 1.4-5.8Z"/><path class="cg" d="M881.1 2468.8c.9-1.4 2.6-2.7 4.8-3.8c2.2-1 5.6-2 8.4-2.7c2.7-.7 5.7-1.3 8-1.5c2.3-.2 4.4-.2 5.8 .5c1.5 .7 2.2 2.1 3 3.7c.8 1.6 1.9 3.8 1.8 5.9c-.1 2.1-.9 5-2.2 6.7c-1.3 1.7-3 2.6-5.4 3.4c-2.4 .8-6 1.2-8.8 1.2c-2.9 0-5.8-.6-8-1.3c-2.3-.7-4.2-1.6-5.5-2.9c-1.4-1.3-2.4-3.2-2.7-4.8c-.3-1.5-.2-3 .8-4.4Z"/><path class="cg" d="M884.8 2470c.7-1.1 2.1-1.6 3.9-2.4c1.7-.9 4.4-2 6.7-2.7c2.2-.7 4.7-1.3 6.6-1.5c1.9-.1 3.5-0 4.7 .6c1.2 .7 2 2 2.6 3.3c.6 1.4 1.3 3.3 1.2 4.9c-0 1.7-.6 3.6-1.6 4.9c-1 1.4-2.3 2.5-4.3 3.3c-1.9 .7-5.1 1.1-7.4 1c-2.2-0-4.2-.7-6.1-1.3c-1.9-.6-4-1.3-5.1-2.3c-1.2-1-1.6-2.4-1.8-3.7c-.2-1.3-.2-3.1 .6-4.1Z"/><path class="cg" d="M888.7 2472c.6-.8 1.6-1.6 2.9-2.3c1.4-.6 3.4-1 5.2-1.5c1.7-.5 3.9-1.3 5.3-1.5c1.5-.1 2.5 .2 3.4 .6c.9 .4 1.5 1 2 2c.4 .9 .7 2.4 .7 3.7c-.1 1.4-.4 3.1-1.1 4.2c-.8 1.1-1.8 2-3.3 2.5c-1.4 .5-3.7 .7-5.5 .7c-1.7-.1-3.6-.5-5-1c-1.4-.5-2.5-1.2-3.3-2c-.9-.8-1.9-1.9-2.1-2.7c-.2-.9 .2-1.8 .8-2.7Z"/><path class="cg" d="M892.2 2473.4c.5-.6 1.4-1 2.3-1.4c1-.4 2.3-.7 3.5-1.1c1.2-.3 2.6-1 3.6-1.1c1-.1 1.6 .1 2.3 .4c.7 .3 1.4 .6 1.9 1.2c.4 .7 .6 1.8 .5 2.8c-0 1-.3 2.4-.9 3.2c-.5 .8-1.2 1.2-2.3 1.6c-1.1 .3-3 .5-4.3 .4c-1.3-0-2.5-.5-3.5-.8c-.9-.4-1.5-.8-2.2-1.3c-.6-.6-1.3-1.1-1.5-1.8c-.1-.6 .2-1.5 .6-2.1Z"/><path class="cg" d="M895.8 2474.7c.3-.3 .7-.5 1.3-.7c.6-.1 1.6-.2 2.3-.4c.6-.1 1.2-.4 1.8-.5c.6-.1 1.3-.3 1.7-.2c.4 .2 .7 .7 .8 1.1c.1 .5 0 1-.1 1.5c-.1 .5-.2 1.1-.5 1.6c-.3 .5-.6 .9-1.1 1.1c-.6 .2-1.6 0-2.3 0c-.7 0-1.4 .1-1.9-0c-.6-.2-1-.5-1.4-.9c-.3-.4-.6-1.1-.7-1.5c-.1-.5-.1-.8 .1-1.1Z"/>
<path d="M875.5 2471c1.9-4.3 7.1-9.8 13.1-13c6-3.3 16.6-6.8 22.8-6.6c6.3 .3 12.5 3.8 14.7 8.2c2.2 4.3 .8 13.2-1.6 18c-2.5 4.7-7.1 8.3-13.1 10.4c-6 2.1-17.1 2.6-22.8 2c-5.7-.7-9.3-2.8-11.5-5.9c-2.1-3.2-3.5-8.7-1.6-13.1Z" fill="#444" fill-opacity="0.5"/>
<ellipse cx="901" cy="2476.9" rx="4" ry="2.4" fill="#fff" transform="rotate(-20 901 2476.9)"/>
<path class="cg" d="M803.7 2448.2c1.6 1.9 5.4 8.7 9.8 11.4c4.3 2.7 10.9 4.6 16.3 4.9c5.4 .3 13.6-2.7 16.3-3.3"/>
<path class="cg" d="M793.9 2474.3c3.2-1.6 13.6-7.9 19.6-9.8c6-1.9 11.4-2.7 16.3-1.6c4.9 1 10.9 6.8 13.1 8.1"/>
<rect class="axd" x="649.2" y="2153.3" width="353" height="351"/>
<path class="tkd" d="M649.2 2504.3h-10M649.2 2437.4h-10M649.2 2370.4h-10M649.2 2302.9h-10M649.2 2236h-10M649.2 2170h-10"/>
<path class="tkd" d="M670.4 2504.3v10M727.6 2504.3v10M787.3 2504.3v10M883 2504.3v10M967.6 2504.3v10"/>
<path class="tmd" d="M816.1 2504.3v5M833 2504.3v5M844.9 2504.3v5M854.2 2504.3v5M861.8 2504.3v5M868.2 2504.3v5M873.7 2504.3v5M878.6 2504.3v5M908.5 2504.3v5M923.4 2504.3v5M933.9 2504.3v5M942.1 2504.3v5M948.8 2504.3v5M954.5 2504.3v5M959.4 2504.3v5M963.7 2504.3v5M993.1 2504.3v5M742 2504.3v5M752.9 2504.3v5M760.8 2504.3v5M766.9 2504.3v5M771.7 2504.3v5M775.8 2504.3v5M779.2 2504.3v5M782.2 2504.3v5M784.9 2504.3v5M713.8 2504.3v5M703.4 2504.3v5M695.8 2504.3v5M690 2504.3v5M685.3 2504.3v5M681.4 2504.3v5M678.1 2504.3v5M675.2 2504.3v5M672.7 2504.3v5M654.9 2504.3v5"/>
<path class="tmd" d="M720.6 2504.3v9M722.1 2504.3v9M723.5 2504.3v9M724.8 2504.3v9M725.9 2504.3v9M726.9 2504.3v9M728.3 2504.3v9M729.3 2504.3v9M730.4 2504.3v9M731.7 2504.3v9M733.1 2504.3v9M734.6 2504.3v9"/>
<text x="664" y="2549.4" font-size="24.6" text-anchor="middle">-10<tspan font-size="13.9" dy="-8.6">3</tspan></text>
<text x="727" y="2549.4" font-size="24.6" text-anchor="middle">0</text>
<text x="797" y="2549.4" font-size="24.6" text-anchor="middle">10<tspan font-size="13.9" dy="-8.6">3</tspan></text>
<text x="896.7" y="2549.4" font-size="24.6" text-anchor="middle">10<tspan font-size="13.9" dy="-8.6">4</tspan></text>
<text x="986.5" y="2549.4" font-size="24.6" text-anchor="middle">10<tspan font-size="13.9" dy="-8.6">5</tspan></text>
<text x="627.5" y="2516.4" font-size="24.6" text-anchor="end">0</text>
<text x="630" y="2444.5" font-size="24.6" text-anchor="end">50k</text>
<text x="630" y="2374.3" font-size="24.6" text-anchor="end">100k</text>
<text x="630" y="2302.7" font-size="24.6" text-anchor="end">150k</text>
<text x="630" y="2232.2" font-size="24.6" text-anchor="end">200k</text>
<text x="630" y="2161.4" font-size="24.6" text-anchor="end">250k</text>
<path class="tmd" d="M649.2 2490.9h-5M649.2 2477.5h-5M649.2 2464.2h-5M649.2 2450.8h-5M649.2 2424h-5M649.2 2410.6h-5M649.2 2397.2h-5M649.2 2383.8h-5M649.2 2356.9h-5M649.2 2343.4h-5M649.2 2329.9h-5M649.2 2316.4h-5M649.2 2289.5h-5M649.2 2276.1h-5M649.2 2262.8h-5M649.2 2249.4h-5M649.2 2222.8h-5M649.2 2209.6h-5M649.2 2196.4h-5M649.2 2183.2h-5M649.2 2156.6h-5"/>
<text x="784.7" y="2591.8" font-size="28.3" text-anchor="middle">B220-PE-CY7</text>
<text x="555" y="2331.6" font-size="28.3" text-anchor="middle" transform="rotate(-90 555 2331.6)">SSC-A</text>
<path class="gd" d="M888.6 2357.7L988.2 2357.7L994 2504.3L814.4 2503Z"/>
<path class="g" d="M992 2445.9L1166.2 2445.9"/><path fill="#d8382c" d="M1179 2445.9L1166.2 2453.1L1166.2 2438.7Z"/>
<path d="M1440 2175h1M1444 2179h1M1299 2182h1m48 0h1M1339 2183h1M1298 2184h1M1263 2185h1M1390 2188h1m16 0h1m3 0h1m36 0h1M1409 2189h1M1369 2191h1m37 0h1M1330 2192h1m59 0h1m33 0h1m13 0h1M1255 2193h1m116 0h1m21 0h1M1324 2194h1m71 0h1m14 0h1M1341 2195h1m27 0h1m34 0h1m8 0h1m17 0h1m3 0h1M1348 2196h1m55 0h1m36 0h1M1337 2197h1m5 0h1m11 0h1m21 0h1m10 0h1m3 0h1m13 0h1h1M1375 2198h1m16 0h1h1m5 0h1m38 0h1M1350 2199h1m17 0h1m10 0h1h1m5 0h1h1m3 0h1h1m3 0h1m6 0h1m1 0h1m4 0h1m1 0h1m17 0h1m1 0h1m17 0h1M1293 2200h1m21 0h1m47 0h1m13 0h1m3 0h1m9 0h1m10 0h1m4 0h1m6 0h1m17 0h1m2 0h1M1247 2201h1m48 0h1m87 0h1m19 0h1m15 0h1m9 0h1m2 0h1m3 0h1m60 0h1m3 0h1M1280 2202h1m3 0h1m55 0h1m23 0h1h1m14 0h1h1m6 0h1m3 0h1h1m2 0h1m1 0h1h1m2 0h1m2 0h1m1 0h1m2 0h1m7 0h1h1m2 0h1m8 0h1M1273 2203h1m36 0h1m7 0h1m11 0h1m29 0h1m21 0h1m3 0h1h1m6 0h1m6 0h1h1m6 0h1m7 0h1m1 0h1m5 0h1m17 0h1M1286 2204h1m47 0h1m9 0h1m3 0h1h1m9 0h1h1m7 0h1h1m2 0h1m1 0h1h1m9 0h1m7 0h1m7 0h1m3 0h1h1m9 0h1m13 0h1m4 0h1m9 0h1m6 0h1m23 0h1M1233 2205h1m47 0h1m25 0h1m29 0h1m8 0h1m13 0h1m14 0h1h1m3 0h1m9 0h1m1 0h1m8 0h1m3 0h1h1m1 0h1m1 0h1m2 0h1m11 0h1m5 0h1m8 0h1m2 0h1M1290 2206h1m7 0h1m16 0h1m7 0h1m4 0h1m4 0h1m7 0h1m3 0h1m1 0h1m13 0h1m16 0h1h1h1m13 0h1m6 0h1m2 0h1m1 0h1m3 0h1m6 0h1m3 0h1m1 0h1h1h1m8 0h1m9 0h1M1203 2207h1m55 0h1m81 0h1m3 0h1m4 0h1m26 0h1m3 0h1m5 0h1h1h1h1h1m1 0h1m2 0h1m3 0h1m1 0h1m3 0h1m10 0h1h1h1m1 0h1h1m3 0h1m4 0h1m3 0h1h1m3 0h1h1m1 0h1m6 0h1M1234 2208h1m10 0h1m44 0h1m2 0h1m7 0h1m3 0h1m2 0h1m18 0h1m4 0h1m3 0h1m2 0h1m4 0h1m13 0h1m11 0h1h1m2 0h1m2 0h1m3 0h1h1m6 0h1m1 0h1m6 0h1m1 0h1m2 0h1m1 0h1h1m4 0h1m3 0h1m4 0h1M1301 2209h1h1m13 0h1m4 0h1m34 0h1h1m5 0h1m2 0h1m3 0h1m1 0h1m1 0h1h1m2 0h1m1 0h1m6 0h1m1 0h1h1h1h1h1m2 0h1h1h1m2 0h1h1m3 0h1m3 0h1h1h1h1m2 0h1m3 0h1m4 0h1m2 0h1m13 0h1m3 0h1m7 0h1M1288 2210h1m8 0h1m3 0h1m3 0h1m3 0h1m1 0h1h1h1m2 0h1m2 0h1m1 0h1m9 0h1m4 0h1h1m3 0h1m2 0h1m10 0h1h1h1m10 0h1m2 0h1h1h1m5 0h1h1h1m4 0h1m1 0h1m2 0h1m1 0h1m2 0h1h1h1m2 0h1m1 0h1h1m3 0h1h1m2 0h1m3 0h1m9 0h1h1m4 0h1m1 0h1m1 0h1m4 0h1M1282 2211h1m13 0h1m16 0h1h1m3 0h1h1h1m2 0h1m2 0h1h1m5 0h1h1m2 0h1h1m2 0h1h1m4 0h1m2 0h1h1m1 0h1m2 0h1h1m6 0h1m3 0h1m1 0h1m2 0h1h1m4 0h1h1h1h1m1 0h1h1h1m2 0h1h1m2 0h1m1 0h1h1h1h1m1 0h1m1 0h1m1 0h1m1 0h1h1h1h1h1m2 0h1m1 0h1m1 0h1m3 0h1m5 0h1h1m4 0h1m13 0h1M1265 2212h1m6 0h1m16 0h1m8 0h1m5 0h1m1 0h1m4 0h1m2 0h1m6 0h1m2 0h1h1m1 0h1m1 0h1m4 0h1m15 0h1h1h1m4 0h1h1m3 0h1m1 0h1m2 0h1h1m1 0h1m1 0h1m1 0h1h1m1 0h1m2 0h1m2 0h1h1m2 0h1h1m3 0h1m5 0h1h1m3 0h1m1 0h1m2 0h1m1 0h1m1 0h1m5 0h1h1m25 0h1m6 0h1M1274 2213h1m2 0h1m5 0h1m10 0h1m4 0h1m3 0h1m5 0h1h1m4 0h1m2 0h1m1 0h1h1m1 0h1m3 0h1m1 0h1h1m2 0h1m4 0h1m1 0h1m3 0h1h1m2 0h1m1 0h1h1m5 0h1m2 0h1m1 0h1h1h1m6 0h1m1 0h1h1m2 0h1m3 0h1m2 0h1m3 0h1h1m2 0h1m1 0h1h1m1 0h1m1 0h1m2 0h1m2 0h1h1h1m2 0h1m1 0h1m1 0h1h1m3 0h1m11 0h1m5 0h1m7 0h1M1276 2214h1m13 0h1m5 0h1m4 0h1h1m1 0h1h1h1h1h1m1 0h1h1h1h1h1h1h1m1 0h1h1m2 0h1h1h1m3 0h1m4 0h1m1 0h1m2 0h1m1 0h1h1m2 0h1h1m1 0h1h1h1m1 0h1m1 0h1h1h1m1 0h1m3 0h1m2 0h1h1h1m2 0h1h1h1m1 0h1h1m1 0h1h1h1m1 0h1m2 0h1h1m1 0h1m1 0h1m1 0h1h1h1m4 0h1m1 0h1m1 0h1m1 0h1m1 0h1m3 0h1m4 0h1m10 0h1h1m6 0h1m1 0h1M1261 2215h1m1 0h1m12 0h1m1 0h1m6 0h1h1m1 0h1m3 0h1m3 0h1h1m1 0h1h1m2 0h1m1 0h1m5 0h1h1m2 0h1m1 0h1h1m4 0h1m2 0h1h1m2 0h1h1m1 0h1h1h1h1h1h1m1 0h1h1h1m1 0h1h1m3 0h1m1 0h1h1h1h1h1h1h1h1h1m3 0h1m1 0h1h1h1m1 0h1h1m1 0h1m1 0h1h1m1 0h1m1 0h1m2 0h1h1h1h1h1h1h1h1m1 0h1h1m1 0h1h1m1 0h1m1 0h1h1m1 0h1m1 0h1h1m2 0h1h1m3 0h1m11 0h1h1m7 0h1m11 0h1m2 0h1M1259 2216h1h1m6 0h1m13 0h1m2 0h1m3 0h1m3 0h1m2 0h1m6 0h1h1h1h1h1h1m2 0h1h1h1h1h1m1 0h1m1 0h1h1m5 0h1m2 0h1h1h1h1h1h1h1h1h1m2 0h1h1h1m1 0h1h1h1h1h1h1m1 0h1h1h1h1h1h1h1h1h1h1h1m1 0h1m2 0h1h1h1h1h1h1h1h1h1h1h1m1 0h1h1h1h1m1 0h1h1h1h1m1 0h1h1m1 0h1h1m1 0h1h1h1m1 0h1h1h1h1h1h1m1 0h1h1h1m3 0h1h1h1m1 0h1h1m3 0h1m1 0h1h1m2 0h1m8 0h1m2 0h1m4 0h1m9 0h1M1255 2217h1m6 0h1m10 0h1m3 0h1m1 0h1m5 0h1m3 0h1h1m6 0h1h1h1m1 0h1m1 0h1m3 0h1h1h1h1h1h1h1m1 0h1h1h1h1h1m1 0h1h1m2 0h1h1h1h1m2 0h1m4 0h1h1m30 0h1m4 0h1m8 0h1m1 0h1m2 0h1m1 0h1m1 0h1m1 0h1h1h1h1h1h1h1h1h1h1m1 0h1h1h1m2 0h1m1 0h1h1h1m1 0h1m3 0h1m12 0h1m6 0h1m4 0h1m8 0h1M1260 2218h1m6 0h1m2 0h1m2 0h1m1 0h1h1m1 0h1m4 0h1h1m1 0h1m3 0h1h1m1 0h1m1 0h1h1h1h1h1h1h1h1h1m2 0h1m1 0h1h1m1 0h1h1h1m3 0h1m1 0h1m2 0h1m43 0h1m5 0h1m23 0h1m2 0h1m1 0h1h1h1h1m2 0h1m2 0h1m3 0h1m1 0h1h1m3 0h1m4 0h1m4 0h1M1269 2219h1h1m2 0h1m1 0h1h1h1h1h1h1m1 0h1h1h1m1 0h1h1h1h1h1m1 0h1h1h1h1h1h1h1h1h1h1m1 0h1m56 0h1m26 0h1m12 0h1m1 0h1m1 0h1h1h1h1h1h1h1m1 0h1h1h1h1h1m2 0h1m1 0h1m3 0h1h1m5 0h1m4 0h1m15 0h1M1255 2220h1m2 0h1m4 0h1m7 0h1m2 0h1h1h1h1h1m2 0h1h1h1m1 0h1m1 0h1h1m1 0h1h1h1h1m45 0h1m17 0h1m20 0h1h1m9 0h1m11 0h1m6 0h1h1h1h1m1 0h1h1h1h1h1m2 0h1h1m3 0h1m1 0h1m28 0h1M1273 2221h1h1h1m1 0h1h1h1m1 0h1h1m2 0h1m1 0h1m72 0h1m18 0h1m27 0h1h1m2 0h1h1h1m1 0h1h1h1m3 0h1h1m1 0h1m2 0h1m1 0h1m13 0h1m7 0h1M1244 2222h1m7 0h1m4 0h1m6 0h1h1h1h1m1 0h1h1h1m1 0h1h1h1m1 0h1h1m1 0h1m87 0h1m34 0h1m2 0h1m3 0h1m2 0h1h1h1h1h1h1m1 0h1h1h1m2 0h1h1m3 0h1m3 0h1m13 0h1M1247 2223h1h1m18 0h1m3 0h1h1h1h1h1h1h1m67 0h1m48 0h1m15 0h1m4 0h1m1 0h1h1m1 0h1h1h1h1m1 0h1m1 0h1h1m4 0h1m5 0h1M1205 2224h1m6 0h1m46 0h1h1h1m2 0h1h1m1 0h1h1h1h1h1h1h1m143 0h1h1h1h1m1 0h1h1h1h1h1m1 0h1m4 0h1M1260 2225h1h1m2 0h1m1 0h1h1h1h1h1m148 0h1h1h1h1h1h1h1h1m9 0h1m1 0h1M1214 2226h1m34 0h1m6 0h1m1 0h1m2 0h1m1 0h1m1 0h1h1h1m1 0h1m151 0h1h1h1h1h1h1h1h1h1h1m3 0h1m3 0h1h1M1256 2227h1m1 0h1h1h1h1h1h1h1h1h1h1m154 0h1h1h1h1h1h1m1 0h1h1m1 0h1m2 0h1m6 0h1M1211 2228h1m32 0h1m9 0h1m2 0h1h1h1h1h1m2 0h1h1m106 0h1m51 0h1h1h1h1h1m1 0h1h1h1m3 0h1m6 0h1m2 0h1m2 0h1M1203 2229h1m55 0h1h1h1h1h1h1m159 0h1h1h1m1 0h1h1h1h1m10 0h1h1m3 0h1M1253 2230h1h1m4 0h1h1h1h1h1m162 0h1h1h1m2 0h1h1h1m7 0h1m14 0h1M1242 2231h1m5 0h1m2 0h1m3 0h1m1 0h1h1h1h1h1h1m104 0h1m58 0h1h1h1m1 0h1h1m10 0h1M1190 2232h1m57 0h1m3 0h1m6 0h1m1 0h1h1m164 0h1h1h1h1m1 0h1m1 0h1m2 0h1h1m5 0h1m4 0h1M1239 2233h1m14 0h1h1m1 0h1h1h1h1h1m166 0h1h1h1h1m1 0h1m2 0h1m1 0h1m8 0h1m2 0h1M1220 2234h1m20 0h1m11 0h1h1m1 0h1m1 0h1h1h1m167 0h1h1h1h1h1h1h1m1 0h1m3 0h1m8 0h1M1217 2235h1m7 0h1m19 0h1m7 0h1m1 0h1h1h1h1m170 0h1h1h1h1h1m3 0h1m2 0h1m4 0h1h1M1245 2236h1m2 0h1m3 0h1m4 0h1h1m171 0h1h1m2 0h1M1218 2237h1m27 0h1m4 0h1m1 0h1h1h1h1h1h1m170 0h1h1m1 0h1m2 0h1h1m4 0h1M1224 2238h1m8 0h1m6 0h1m9 0h1m1 0h1h1m1 0h1h1h1m172 0h1h1h1m3 0h1h1M1206 2239h1m22 0h1m21 0h1h1h1m2 0h1h1m173 0h1h1m1 0h1h1h1m7 0h1m11 0h1M1251 2240h1m1 0h1h1h1h1h1m173 0h1h1m1 0h1m3 0h1m4 0h1m10 0h1M1213 2241h1m5 0h1m22 0h1m7 0h1h1m1 0h1h1h1h1m174 0h1h1m1 0h1h1h1h1m2 0h1m8 0h1m1 0h1M1208 2242h1m38 0h1h1m1 0h1h1m2 0h1h1h1m175 0h1h1m4 0h1h1m2 0h1h1m3 0h1M1224 2243h1m10 0h1m10 0h1m4 0h1h1m1 0h1m1 0h1m174 0h1h1h1h1m1 0h1h1h1h1m9 0h1m1 0h1M1237 2244h1m3 0h1m2 0h1m3 0h1h1m2 0h1m1 0h1h1h1m175 0h1m2 0h1m2 0h1M1250 2245h1m2 0h1h1h1m176 0h1h1m3 0h1m2 0h1m6 0h1h1M1218 2246h1m29 0h1m2 0h1h1m1 0h1h1m176 0h1h1h1h1m1 0h1m1 0h1m4 0h1m3 0h1m4 0h1M1248 2247h1m1 0h1m2 0h1h1h1m176 0h1h1h1m1 0h1m4 0h1m8 0h1m2 0h1M1245 2248h1m3 0h1m4 0h1h1m177 0h1h1h1m3 0h1m3 0h1m2 0h1h1M1244 2249h1m5 0h1h1m1 0h1h1h1m177 0h1m1 0h1m12 0h1M1208 2250h1m26 0h1m6 0h1m6 0h1m3 0h1m1 0h1m177 0h1h1m1 0h1m1 0h1m1 0h1m3 0h1m5 0h1m2 0h1M1243 2251h1h1m2 0h1m2 0h1h1m2 0h1h1m177 0h1m1 0h1m1 0h1h1m1 0h1m3 0h1m4 0h1h1M1234 2252h1m6 0h1h1m7 0h1m1 0h1h1h1h1m177 0h1m1 0h1m1 0h1h1m1 0h1m3 0h1M1246 2253h1h1m2 0h1m1 0h1h1h1h1h1m176 0h1h1m1 0h1m3 0h1M1244 2254h1m3 0h1m2 0h1h1h1h1h1m178 0h1h1m2 0h1m1 0h1m2 0h1m2 0h1M1233 2255h1m8 0h1m5 0h1h1h1h1h1h1h1h1m177 0h1h1h1m8 0h1m9 0h1M1241 2256h1m3 0h1h1m6 0h1h1h1m177 0h1h1h1h1h1m2 0h1m2 0h1m2 0h1M1212 2257h1m1 0h1m25 0h1m3 0h1m3 0h1m1 0h1h1m1 0h1h1h1m12 0h1m164 0h1h1h1h1m8 0h1M1235 2258h1m3 0h1h1m1 0h1m7 0h1m2 0h1h1m179 0h1m2 0h1m10 0h1M1247 2259h1h1m1 0h1h1h1h1h1h1m177 0h1h1h1m1 0h1h1m1 0h1h1m3 0h1M1220 2260h1m17 0h1m2 0h1m9 0h1h1h1h1h1m177 0h1h1m2 0h1m6 0h1m2 0h1h1h1m7 0h1m1 0h1M1220 2261h1m29 0h1h1m1 0h1h1h1m178 0h1m1 0h1h1h1h1m2 0h1m5 0h1m1 0h1M1246 2262h1m5 0h1m1 0h1m178 0h1h1m1 0h1h1h1m8 0h1M1230 2263h1m12 0h1m4 0h1m3 0h1h1h1h1m178 0h1h1m1 0h1m1 0h1m4 0h1M1245 2264h1m3 0h1m2 0h1h1h1h1m178 0h1h1h1m4 0h1m2 0h1m4 0h1h1M1193 2265h1m43 0h1m12 0h1h1m1 0h1h1m179 0h1m1 0h1m4 0h1h1m1 0h1m2 0h1M1249 2266h1h1h1h1h1h1m179 0h1h1m1 0h1h1h1m28 0h1M1241 2267h1m2 0h1m4 0h1h1h1h1h1h1m180 0h1h1m1 0h1m6 0h1m2 0h1M1184 2268h1m30 0h1m23 0h1m7 0h1h1h1h1h1h1h1h1h1m178 0h1h1m3 0h1m5 0h1M1243 2269h1m4 0h1m3 0h1h1h1m179 0h1h1m2 0h1m1 0h1m2 0h1h1m4 0h1M1183 2270h1m28 0h1m37 0h1m1 0h1h1h1h1m178 0h1h1m1 0h1h1h1m8 0h1m5 0h1M1247 2271h1m3 0h1h1h1h1h1m176 0h1m1 0h1h1m1 0h1m1 0h1m9 0h1M1249 2272h1h1h1h1h1h1h1m178 0h1h1h1h1m1 0h1m4 0h1h1m1 0h1m2 0h1m1 0h1M1241 2273h1h1m4 0h1m4 0h1m1 0h1h1m179 0h1h1m1 0h1m2 0h1m4 0h1M1236 2274h1m13 0h1m1 0h1h1h1h1m178 0h1h1m3 0h1h1h1h1m5 0h1m2 0h1m3 0h1M1215 2275h1m34 0h1m1 0h1m1 0h1h1m175 0h1m2 0h1m1 0h1m3 0h1h1m8 0h1M1196 2276h1m14 0h1m36 0h1h1h1m1 0h1h1h1h1m180 0h1m8 0h1m2 0h1M1241 2277h1h1m4 0h1m3 0h1h1h1h1h1m178 0h1h1h1h1h1h1h1M1232 2278h1m6 0h1m7 0h1m2 0h1h1m1 0h1h1m1 0h1m177 0h1m1 0h1h1m1 0h1m4 0h1M1246 2279h1m1 0h1m3 0h1h1h1h1h1m177 0h1h1h1h1m2 0h1m2 0h1m4 0h1h1M1247 2280h1m1 0h1m2 0h1h1h1h1h1m178 0h1m1 0h1h1m1 0h1M1208 2281h1m33 0h1m5 0h1h1m2 0h1h1m1 0h1h1m178 0h1m2 0h1m1 0h1m1 0h1m1 0h1m2 0h1m4 0h1m1 0h1M1239 2282h1m8 0h1m4 0h1h1h1h1h1m176 0h1h1m2 0h1m5 0h1m4 0h1m9 0h1M1211 2283h1m34 0h1m3 0h1m1 0h1m1 0h1h1h1m178 0h1m3 0h1m6 0h1m2 0h1M1252 2284h1h1h1h1h1h1m175 0h1h1h1h1m4 0h1m5 0h1M1240 2285h1m8 0h1m2 0h1m1 0h1h1h1h1m176 0h1h1h1m4 0h1m6 0h1m8 0h1h1M1244 2286h1m7 0h1h1m2 0h1h1h1m176 0h1h1h1h1m1 0h1M1250 2287h1h1h1m2 0h1h1h1h1m175 0h1h1h1m1 0h1m2 0h1m7 0h1m7 0h1h1M1249 2288h1m3 0h1m1 0h1h1h1h1m175 0h1h1m2 0h1m1 0h1m2 0h1h1m1 0h1h1M1240 2289h1m6 0h1m2 0h1m1 0h1m4 0h1h1h1m173 0h1m5 0h1m5 0h1m14 0h1M1243 2290h1m6 0h1h1m2 0h1m1 0h1h1h1h1m176 0h1h1m4 0h1m1 0h1h1m3 0h1h1M1247 2291h1h1m5 0h1h1m1 0h1h1h1m175 0h1m1 0h1m11 0h1M1257 2292h1h1h1h1m172 0h1m1 0h1m1 0h1m1 0h1m6 0h1m4 0h1M1242 2293h1m10 0h1m2 0h1h1m2 0h1m6 0h1m166 0h1m2 0h1m4 0h1m4 0h1M1250 2294h1m4 0h1m2 0h1h1h1h1m17 0h1m154 0h1h1m2 0h1m2 0h1h1m4 0h1M1255 2295h1m2 0h1h1h1h1m172 0h1h1m2 0h1h1M1246 2296h1m8 0h1h1h1h1h1h1h1m173 0h1m1 0h1h1h1h1m1 0h1M1251 2297h1m1 0h1m1 0h1m2 0h1m2 0h1h1m17 0h1m152 0h1h1h1h1h1m1 0h1m1 0h1h1m3 0h1M1253 2298h1m5 0h1m1 0h1h1m170 0h1h1h1h1m3 0h1m1 0h1M1252 2299h1m4 0h1m2 0h1h1h1m172 0h1h1m1 0h1m1 0h1m13 0h1M1257 2300h1h1m2 0h1h1h1m169 0h1m1 0h1m4 0h1m3 0h1m4 0h1m3 0h1M1246 2301h1m10 0h1m1 0h1h1h1h1m1 0h1m169 0h1m3 0h1m1 0h1m10 0h1M1247 2302h1m9 0h1h1h1h1h1h1h1h1m169 0h1h1m1 0h1m7 0h1m4 0h1m3 0h1M1258 2303h1m3 0h1h1h1m168 0h1h1h1m2 0h1m1 0h1h1M1255 2304h1m6 0h1h1h1h1m167 0h1h1h1m9 0h1m4 0h1m24 0h1M1261 2305h1h1h1m1 0h1h1m167 0h1h1m1 0h1m2 0h1m2 0h1m2 0h1h1m1 0h1M1239 2306h1m18 0h1m3 0h1h1m1 0h1h1h1m166 0h1h1h1h1m1 0h1m2 0h1m1 0h1m6 0h1h1M1242 2307h1m17 0h1m3 0h1h1h1h1m165 0h1m11 0h1M1260 2308h1m1 0h1h1m1 0h1m1 0h1m165 0h1m1 0h1m2 0h1m2 0h1h1h1m2 0h1M1260 2309h1h1h1m2 0h1h1h1h1m166 0h1h1m7 0h1m9 0h1M1226 2310h1m35 0h1h1m1 0h1m1 0h1h1h1h1m3 0h1m158 0h1h1h1m2 0h1m4 0h1h1m1 0h1M1201 2311h1m56 0h1m1 0h1m5 0h1h1h1h1m9 0h1m2 0h1m150 0h1h1h1m3 0h1m2 0h1h1m1 0h1m1 0h1M1266 2312h1m1 0h1h1m163 0h1h1h1h1h1m3 0h1m1 0h1M1267 2313h1h1h1h1m7 0h1m154 0h1m2 0h1h1m3 0h1m1 0h1h1m1 0h1h1m2 0h1M1257 2314h1m5 0h1h1m2 0h1h1h1h1m17 0h1m144 0h1m1 0h1h1m1 0h1m1 0h1h1m2 0h1M1262 2315h1m4 0h1m1 0h1m1 0h1m3 0h1m10 0h1m147 0h1m1 0h1h1m3 0h1m1 0h1m2 0h1h1m2 0h1m4 0h1m6 0h1M1254 2316h1m5 0h1m2 0h1m3 0h1h1m1 0h1h1h1m4 0h1m5 0h1m150 0h1m1 0h1h1m4 0h1m10 0h1M1264 2317h1h1h1m3 0h1h1h1m162 0h1h1h1h1h1m1 0h1m1 0h1m4 0h1m6 0h1m2 0h1M1248 2318h1m9 0h1m3 0h1h1m2 0h1h1m1 0h1h1h1h1m9 0h1m150 0h1h1m1 0h1h1m1 0h1m1 0h1m43 0h1M1246 2319h1m3 0h1m16 0h1m1 0h1h1h1h1h1h1h1m8 0h1m148 0h1h1h1h1m3 0h1h1m2 0h1h1h1m3 0h1M1263 2320h1m1 0h1h1m2 0h1h1h1h1h1h1m158 0h1h1h1h1m6 0h1m1 0h1m1 0h1M1259 2321h1m6 0h1h1m1 0h1m1 0h1h1h1h1m6 0h1m7 0h1m143 0h1m1 0h1m2 0h1h1m3 0h1M1267 2322h1h1h1h1m1 0h1h1m1 0h1h1m9 0h1m146 0h1m1 0h1m3 0h1h1h1m8 0h1m1 0h1h1M1228 2323h1m34 0h1m6 0h1m1 0h1m2 0h1h1m159 0h1h1m9 0h1m4 0h1m1 0h1m2 0h1m1 0h1M1266 2324h1m1 0h1h1m3 0h1h1h1h1m1 0h1m154 0h1m1 0h1m1 0h1m1 0h1m1 0h1m4 0h1M1260 2325h1m11 0h1h1h1m1 0h1h1m155 0h1m1 0h1h1m1 0h1m1 0h1m2 0h1m1 0h1M1250 2326h1m13 0h1m1 0h1h1m2 0h1h1h1h1h1h1h1h1m3 0h1m150 0h1h1m4 0h1m4 0h1m4 0h1m6 0h1M1263 2327h1m2 0h1h1m2 0h1h1m1 0h1m1 0h1m1 0h1h1m7 0h1m146 0h1m1 0h1h1h1m1 0h1m5 0h1m1 0h1h1M1262 2328h1m1 0h1m1 0h1m4 0h1m1 0h1h1h1m1 0h1h1h1m153 0h1h1h1m7 0h1m1 0h1m1 0h1m2 0h1h1M1252 2329h1m10 0h1h1m6 0h1m1 0h1m1 0h1h1h1h1m1 0h1m2 0h1m3 0h1m145 0h1h1m2 0h1m2 0h1m3 0h1h1m8 0h1M1254 2330h1m14 0h1h1m3 0h1h1h1h1m1 0h1h1h1m151 0h1h1m2 0h1M1258 2331h1m12 0h1m2 0h1h1h1h1h1h1h1h1m154 0h1h1h1m3 0h1h1M1256 2332h1h1m10 0h1h1m1 0h1m1 0h1h1h1h1h1h1h1h1h1h1m9 0h1m139 0h1h1h1m7 0h1m8 0h1M1254 2333h1m14 0h1m3 0h1m1 0h1m2 0h1h1h1h1h1m149 0h1h1h1m5 0h1h1m1 0h1m1 0h1m7 0h1m9 0h1M1256 2334h1m2 0h1h1m1 0h1m2 0h1m9 0h1m2 0h1h1h1h1h1h1m2 0h1m146 0h1h1h1m8 0h1m3 0h1m1 0h1M1269 2335h1h1m1 0h1m1 0h1m3 0h1h1h1h1h1h1m150 0h1m6 0h1m12 0h1m5 0h1M1264 2336h1m2 0h1m1 0h1h1h1h1m3 0h1m1 0h1h1h1h1h1h1h1m1 0h1m145 0h1h1h1h1h1m3 0h1m4 0h1m5 0h1m3 0h1M1256 2337h1m4 0h1m1 0h1m6 0h1m1 0h1m1 0h1m5 0h1h1h1h1h1h1m147 0h1h1h1h1h1m5 0h1M1240 2338h1m21 0h1m1 0h1h1m3 0h1h1m2 0h1m1 0h1h1m2 0h1h1h1h1h1h1h1h1m145 0h1h1m2 0h1m3 0h1m4 0h1M1266 2339h1m1 0h1m2 0h1m1 0h1m1 0h1m2 0h1m1 0h1m1 0h1h1h1h1h1h1h1m143 0h1h1m2 0h1m1 0h1m1 0h1m7 0h1m5 0h1m1 0h1M1263 2340h1m2 0h1h1h1m1 0h1m2 0h1m1 0h1m1 0h1m1 0h1h1h1h1h1h1h1h1h1m144 0h1h1m2 0h1h1h1h1M1265 2341h1m4 0h1m1 0h1m1 0h1m3 0h1h1m2 0h1h1h1h1m1 0h1h1m143 0h1m1 0h1m3 0h1m6 0h1M1266 2342h1m1 0h1m5 0h1h1m1 0h1m1 0h1m2 0h1h1h1m2 0h1h1m147 0h1m3 0h1m2 0h1m13 0h1M1262 2343h1m1 0h1h1m1 0h1m2 0h1m1 0h1h1h1h1h1h1m2 0h1h1m2 0h1h1h1h1h1h1m142 0h1h1h1h1m2 0h1m5 0h1h1m1 0h1M1258 2344h1m10 0h1h1h1h1h1m1 0h1h1h1h1m1 0h1h1m2 0h1h1h1m1 0h1h1m142 0h1m2 0h1m2 0h1m11 0h1M1249 2345h1m17 0h1m4 0h1m1 0h1m3 0h1m1 0h1m1 0h1h1h1h1h1m1 0h1m1 0h1m141 0h1h1m3 0h1m3 0h1h1M1259 2346h1m3 0h1m3 0h1m4 0h1m1 0h1h1h1h1h1m1 0h1h1m1 0h1m1 0h1h1h1h1h1h1m141 0h1m3 0h1m11 0h1m13 0h1M1265 2347h1m9 0h1h1m2 0h1m1 0h1m3 0h1h1h1h1h1h1m140 0h1h1h1h1h1h1h1h1m1 0h1m6 0h1M1273 2348h1m5 0h1m1 0h1m1 0h1h1m2 0h1h1h1h1m141 0h1m2 0h1h1h1m2 0h1m4 0h1M1258 2349h1h1h1m13 0h1m1 0h1m2 0h1h1h1m2 0h1h1m2 0h1h1h1m140 0h1h1m11 0h1M1262 2350h1m4 0h1m1 0h1h1m3 0h1m3 0h1m1 0h1m3 0h1h1h1h1h1h1h1m1 0h1m138 0h1m2 0h1m2 0h1h1m3 0h1h1h1m3 0h1m5 0h1M1260 2351h1m3 0h1m3 0h1m1 0h1h1m4 0h1m1 0h1m2 0h1h1m6 0h1h1h1h1m139 0h1h1m3 0h1m1 0h1h1m1 0h1m1 0h1m2 0h1m1 0h1M1256 2352h1m3 0h1m4 0h1m3 0h1m5 0h1h1m4 0h1m1 0h1h1h1h1h1h1h1h1h1h1h1m137 0h1h1m5 0h1m1 0h1m8 0h1M1269 2353h1h1m1 0h1h1h1h1h1h1m1 0h1m1 0h1h1h1m1 0h1h1h1h1h1h1h1h1h1m137 0h1h1h1h1h1m1 0h1m4 0h1M1260 2354h1m1 0h1m1 0h1m1 0h1m2 0h1m1 0h1m6 0h1h1m1 0h1h1h1m1 0h1h1h1h1h1h1h1h1h1m137 0h1h1m1 0h1h1m4 0h1m4 0h1M1243 2355h1m24 0h1m3 0h1m1 0h1m1 0h1h1h1m2 0h1m2 0h1m1 0h1h1h1h1h1h1h1h1m138 0h1h1m3 0h1m5 0h1m1 0h1M1257 2356h1m1 0h1m8 0h1m3 0h1m1 0h1h1m3 0h1h1h1h1h1h1h1h1h1h1h1h1h1h1h1m140 0h1m13 0h1h1m1 0h1M1261 2357h1m2 0h1m1 0h1m5 0h1m1 0h1h1h1m1 0h1h1h1m1 0h1h1h1h1m1 0h1h1h1h1h1h1h1m137 0h1m1 0h1m1 0h1h1m1 0h1h1m1 0h1M1226 2358h1m32 0h1m3 0h1m4 0h1h1m2 0h1m2 0h1h1h1h1h1h1h1h1h1h1h1h1h1h1h1h1h1m140 0h1m4 0h1h1m10 0h1M1259 2359h1m7 0h1h1m1 0h1m1 0h1h1m1 0h1m2 0h1h1h1h1h1h1h1h1h1m144 0h1m1 0h1h1h1M1261 2360h1m3 0h1m5 0h1h1h1h1h1h1h1h1h1h1h1h1h1m147 0h1h1h1m2 0h1m2 0h1m2 0h1m3 0h1m10 0h1M1246 2361h1m14 0h1m7 0h1m2 0h1h1h1h1h1h1h1h1h1h1h1h1m147 0h1h1h1m8 0h1m12 0h1M1249 2362h1m12 0h1h1m3 0h1m4 0h1m2 0h1h1h1h1h1h1m4 0h1m144 0h1m3 0h1m1 0h1m2 0h1m2 0h1m9 0h1m2 0h1M1197 2363h1m64 0h1m4 0h1m1 0h1h1h1m1 0h1h1h1h1h1h1h1m4 0h1m146 0h1h1h1h1m1 0h1m1 0h1M1261 2364h1m2 0h1m4 0h1h1h1h1h1h1h1h1h1h1m5 0h1m13 0h1m131 0h1h1m1 0h1h1h1m2 0h1m5 0h1m2 0h1h1M1243 2365h1m25 0h1h1m1 0h1h1h1h1h1m2 0h1h1m149 0h1h1m2 0h1m1 0h1h1M1240 2366h1m22 0h1h1m3 0h1m1 0h1h1h1h1h1h1h1m5 0h1m150 0h1m2 0h1m7 0h1M1253 2367h1m11 0h1h1h1m1 0h1h1h1h1h1m2 0h1m3 0h1m1 0h1m147 0h1m1 0h1h1m1 0h1m5 0h1m3 0h1m4 0h1M1248 2368h1m8 0h1m1 0h1m2 0h1m2 0h1h1h1h1m2 0h1h1h1h1h1m2 0h1m156 0h1m6 0h1m13 0h1M1242 2369h1m17 0h1m2 0h1m1 0h1h1h1h1h1h1h1h1m159 0h1h1m1 0h1h1m5 0h1M1259 2370h1m4 0h1m1 0h1h1h1h1h1h1m2 0h1m1 0h1m153 0h1h1m12 0h1h1h1h1m2 0h1m3 0h1m4 0h1M1253 2371h1m6 0h1m3 0h1h1h1h1h1h1h1m3 0h1m1 0h1m153 0h1m2 0h1m1 0h1m1 0h1m2 0h1m3 0h1m13 0h1M1256 2372h1m2 0h1m4 0h1h1m1 0h1h1h1m4 0h1m1 0h1m152 0h1h1m1 0h1h1h1m3 0h1m7 0h1m4 0h1m6 0h1M1255 2373h1m5 0h1h1h1h1h1m2 0h1m8 0h1m2 0h1m149 0h1h1m4 0h1h1m1 0h1m2 0h1m4 0h1m2 0h1m5 0h1M1256 2374h1m1 0h1m1 0h1m1 0h1m1 0h1h1h1h1m3 0h1m159 0h1m1 0h1h1h1m8 0h1m1 0h1m6 0h1M1235 2375h1m10 0h1m7 0h1h1m2 0h1m1 0h1m1 0h1h1h1h1h1m7 0h1m155 0h1h1h1m3 0h1m2 0h1m2 0h1h1m1 0h1M1214 2376h1m39 0h1h1m1 0h1m2 0h1m1 0h1h1h1m3 0h1m160 0h1m2 0h1h1m10 0h1M1254 2377h1h1m3 0h1m2 0h1m1 0h1m15 0h1h1m145 0h1m2 0h1h1m1 0h1h1m5 0h1m9 0h1M1258 2378h1m2 0h1h1h1m24 0h1m140 0h1h1h1h1h1h1m4 0h1m4 0h1m13 0h1M1204 2379h1m29 0h1m20 0h1m3 0h1h1h1m167 0h1h1m1 0h1m9 0h1m3 0h1M1232 2380h1m22 0h1h1m2 0h1h1h1m19 0h1m146 0h1h1h1m1 0h1m1 0h1m1 0h1m12 0h1M1234 2381h1m14 0h1m3 0h1m2 0h1m1 0h1h1h1h1m17 0h1m149 0h1h1m3 0h1m1 0h1m12 0h1M1230 2382h1m16 0h1h1h1h1m4 0h1h1h1h1m1 0h1m167 0h1h1m1 0h1h1h1m1 0h1m5 0h1m9 0h1M1250 2383h1h1m2 0h1h1m2 0h1h1m14 0h1m154 0h1h1m1 0h1m8 0h1m16 0h1M1251 2384h1m2 0h1m2 0h1h1h1m13 0h1m154 0h1h1h1m2 0h1m3 0h1m11 0h1h1M1240 2385h1m11 0h1h1m1 0h1h1h1m170 0h1m1 0h1h1m2 0h1m5 0h1m4 0h1M1212 2386h1m34 0h1m1 0h1m1 0h1m1 0h1h1h1h1m13 0h1m156 0h1h1m1 0h1m2 0h1m3 0h1m8 0h1M1220 2387h1m18 0h1m6 0h1m1 0h1h1m3 0h1h1h1h1m171 0h1m1 0h1h1M1248 2388h1m1 0h1h1m1 0h1m1 0h1m171 0h1h1h1h1h1m1 0h1m7 0h1M1247 2389h1m1 0h1h1m1 0h1h1h1h1m170 0h1h1m2 0h1m2 0h1m1 0h1m1 0h1m3 0h1m9 0h1M1234 2390h1m11 0h1m1 0h1h1h1m1 0h1h1h1m172 0h1m2 0h1h1m2 0h1m1 0h1m2 0h1m8 0h1m2 0h1M1244 2391h1m2 0h1m1 0h1m1 0h1h1h1m172 0h1h1m1 0h1h1h1m1 0h1m3 0h1h1h1m5 0h1m6 0h1M1244 2392h1m3 0h1h1h1h1h1h1m172 0h1h1h1h1h1h1m4 0h1m13 0h1m3 0h1M1222 2393h1m4 0h1m4 0h1m12 0h1h1h1h1h1h1h1m173 0h1h1m2 0h1h1m3 0h1m8 0h1M1246 2394h1h1m1 0h1m1 0h1m173 0h1h1m3 0h1h1h1m9 0h1h1M1219 2395h1m19 0h1h1m1 0h1h1h1m1 0h1h1m1 0h1h1h1m172 0h1h1h1h1h1h1m3 0h1m5 0h1M1239 2396h1h1m4 0h1m3 0h1h1m172 0h1h1h1h1h1m2 0h1m4 0h1m3 0h1m5 0h1M1189 2397h1m51 0h1m3 0h1m1 0h1h1h1m175 0h1h1h1h1m1 0h1m19 0h1h1M1235 2398h1m3 0h1m7 0h1h1h1m172 0h1h1h1h1m1 0h1h1m7 0h1m24 0h1M1241 2399h1h1h1m1 0h1h1h1h1m172 0h1h1h1h1m2 0h1h1m6 0h1m2 0h1m2 0h1m6 0h1M1233 2400h1m7 0h1m1 0h1m1 0h1h1m1 0h1m171 0h1h1h1h1m1 0h1h1h1m1 0h1m16 0h1m1 0h1m2 0h1m5 0h1M1244 2401h1h1h1h1m171 0h1h1h1m1 0h1m1 0h1m2 0h1h1m6 0h1m6 0h1m3 0h1h1M1235 2402h1m3 0h1m3 0h1h1h1h1h1m17 0h1m152 0h1h1h1h1h1h1m4 0h1m3 0h1m12 0h1M1235 2403h1m3 0h1h1m1 0h1h1h1h1h1m168 0h1m1 0h1h1h1m4 0h1m1 0h1m1 0h1m15 0h1M1214 2404h1m24 0h1m1 0h1h1h1m2 0h1m168 0h1h1h1h1h1h1h1h1m1 0h1m1 0h1h1m4 0h1m6 0h1m7 0h1m1 0h1M1219 2405h1m12 0h1m3 0h1m4 0h1m1 0h1h1h1h1m166 0h1h1h1h1m1 0h1h1h1h1h1m3 0h1m25 0h1M1236 2406h1m1 0h1h1m1 0h1h1h1h1h1m60 0h1m59 0h1m45 0h1h1h1m3 0h1m1 0h1h1m3 0h1m2 0h1M1231 2407h1m4 0h1h1h1m2 0h1h1h1h1m166 0h1h1h1m2 0h1m3 0h1h1m6 0h1m5 0h1m20 0h1M1231 2408h1m1 0h1m2 0h1h1m2 0h1h1h1h1h1m132 0h1m29 0h1h1h1m1 0h1h1h1m1 0h1h1h1m1 0h1m8 0h1h1m1 0h1m9 0h1M1235 2409h1h1h1m2 0h1h1m1 0h1h1m63 0h1m11 0h1h1h1h1h1m1 0h1m1 0h1m14 0h1m61 0h1h1h1h1m1 0h1m1 0h1h1m2 0h1m1 0h1h1m2 0h1h1h1m4 0h1m9 0h1m2 0h1m3 0h1M1234 2410h1h1m1 0h1h1h1h1h1h1h1m38 0h1m33 0h1m1 0h1h1m1 0h1h1h1h1h1h1h1h1h1h1h1h1h1h1m2 0h1h1m20 0h1m16 0h1m23 0h1m2 0h1h1m1 0h1m2 0h1m3 0h1h1m4 0h1h1m19 0h1m2 0h1m4 0h1M1225 2411h1h1m2 0h1m7 0h1h1h1h1h1h1h1m39 0h1m5 0h1m23 0h1h1h1h1h1h1h1h1h1h1h1h1h1h1h1h1h1h1h1h1h1h1h1h1h1h1h1h1h1m1 0h1m3 0h1m3 0h1m1 0h1m18 0h1m20 0h1m7 0h1h1h1m1 0h1h1h1h1h1m1 0h1m4 0h1m8 0h1h1m13 0h1M1225 2412h1m6 0h1m2 0h1h1m3 0h1h1h1h1m57 0h1m10 0h1h1h1h1h1h1m1 0h1h1h1h1h1m1 0h1h1m1 0h1h1h1h1h1h1h1h1h1h1h1h1h1h1h1h1h1h1h1h1h1h1h1h1h1m4 0h1h1m8 0h1m16 0h1m9 0h1m3 0h1h1h1h1h1m2 0h1h1h1m2 0h1m4 0h1h1m18 0h1M1227 2413h1m2 0h1m3 0h1m2 0h1h1h1h1h1h1m52 0h1m14 0h1h1h1h1h1h1h1h1h1h1h1h1h1h1h1h1h1h1h1h1m2 0h1h1m1 0h1h1h1h1m1 0h1m1 0h1m1 0h1h1h1h1h1h1m1 0h1h1h1h1h1h1h1m2 0h1m1 0h1m31 0h1h1h1h1h1h1m1 0h1h1m2 0h1m2 0h1m1 0h1m5 0h1M1235 2414h1h1h1h1h1h1h1h1m38 0h1m5 0h1m12 0h1m7 0h1h1h1h1h1h1h1h1m3 0h1h1m2 0h1h1m1 0h1h1m1 0h1m1 0h1h1m2 0h1h1h1h1h1h1h1h1m3 0h1h1h1m1 0h1m2 0h1h1h1h1h1h1h1m1 0h1h1h1h1h1h1h1m2 0h1h1m9 0h1m8 0h1h1m2 0h1m1 0h1h1h1m1 0h1h1m2 0h1m19 0h1m1 0h1m3 0h1m4 0h1m8 0h1M1239 2415h1m1 0h1h1m15 0h1m2 0h1m39 0h1m1 0h1m4 0h1h1h1m1 0h1h1h1h1m3 0h1m1 0h1m2 0h1m1 0h1m1 0h1h1h1h1h1h1h1h1h1m3 0h1h1h1h1m2 0h1h1m1 0h1m1 0h1h1h1m1 0h1m1 0h1m2 0h1h1h1h1h1h1h1h1h1h1h1h1m2 0h1h1h1h1h1h1h1m1 0h1h1h1h1h1h1h1h1m1 0h1m1 0h1h1h1m1 0h1h1h1h1m1 0h1h1h1m3 0h1h1m5 0h1m1 0h1m10 0h1m2 0h1m7 0h1m18 0h1M1217 2416h1m18 0h1m1 0h1h1h1h1h1m4 0h1m41 0h1m1 0h1m1 0h1m8 0h1m1 0h1h1h1h1h1h1h1h1h1m1 0h1h1m1 0h1h1h1h1m1 0h1m1 0h1h1m1 0h1h1h1h1h1h1m2 0h1m4 0h1m1 0h1h1h1h1m4 0h1m2 0h1m2 0h1h1h1m1 0h1h1h1h1m1 0h1h1h1h1h1h1h1h1m1 0h1h1h1h1h1h1h1h1h1h1h1h1h1h1h1h1m3 0h1h1h1m1 0h1h1h1m2 0h1m3 0h1m8 0h1M1214 2417h1m16 0h1m3 0h1h1m2 0h1h1h1m13 0h1m23 0h1m6 0h1m1 0h1m14 0h1h1h1h1h1h1h1h1h1h1m1 0h1h1h1m2 0h1m2 0h1h1m2 0h1h1h1m4 0h1m2 0h1m3 0h1m1 0h1m1 0h1h1h1h1h1m1 0h1h1m1 0h1m2 0h1h1h1h1m1 0h1m1 0h1m1 0h1h1m1 0h1h1h1h1m1 0h1h1h1m3 0h1h1h1h1h1h1h1m1 0h1h1h1h1h1h1h1m1 0h1m2 0h1m1 0h1m1 0h1m4 0h1m3 0h1h1m40 0h1M1191 2418h1m40 0h1m4 0h1m1 0h1h1h1h1m18 0h1m3 0h1m2 0h1h1m7 0h1m10 0h1m12 0h1h1h1h1h1h1m1 0h1m1 0h1h1h1h1h1m4 0h1h1m1 0h1h1h1h1h1m1 0h1m1 0h1m1 0h1m6 0h1m2 0h1m2 0h1h1h1m1 0h1m2 0h1h1h1m3 0h1m1 0h1m1 0h1h1m1 0h1h1m1 0h1h1h1h1h1h1h1h1h1m4 0h1m3 0h1m1 0h1m5 0h1h1m3 0h1m2 0h1m6 0h1m10 0h1m11 0h1h1m6 0h1m14 0h1m6 0h1m3 0h1M1209 2419h1m21 0h1m2 0h1m2 0h1h1h1h1h1h1m52 0h1m1 0h1m1 0h1h1h1h1h1h1h1h1h1m1 0h1h1h1m1 0h1m1 0h1h1m1 0h1h1h1m1 0h1h1m2 0h1h1h1h1m5 0h1m3 0h1m3 0h1m1 0h1m3 0h1h1m2 0h1h1m1 0h1h1m3 0h1h1m2 0h1m1 0h1h1h1h1m1 0h1m1 0h1m3 0h1h1m1 0h1m2 0h1h1m3 0h1m4 0h1h1h1m3 0h1m8 0h1m4 0h1m8 0h1m14 0h1M1231 2420h1h1m4 0h1h1h1h1h1h1h1m1 0h1m37 0h1m4 0h1m5 0h1m2 0h1m1 0h1h1m1 0h1h1m2 0h1h1h1h1m2 0h1m4 0h1m5 0h1m6 0h1m3 0h1h1m1 0h1m6 0h1m3 0h1h1m1 0h1h1m3 0h1h1m2 0h1h1m3 0h1m3 0h1h1m1 0h1m1 0h1m1 0h1h1h1h1h1m2 0h1m2 0h1h1m2 0h1m1 0h1m3 0h1m2 0h1m8 0h1m7 0h1h1h1m4 0h1m1 0h1m8 0h1h1h1m4 0h1m1 0h1h1m3 0h1m13 0h1M1231 2421h1m6 0h1h1h1h1h1h1m50 0h1m1 0h1h1h1h1h1h1h1h1h1h1h1h1h1h1m7 0h1h1m3 0h1h1h1m9 0h1m2 0h1m2 0h1m3 0h1m1 0h1m2 0h1m1 0h1h1m6 0h1m1 0h1m2 0h1m2 0h1m1 0h1h1h1m1 0h1m2 0h1m3 0h1h1h1m1 0h1m1 0h1h1h1m2 0h1m7 0h1m11 0h1m1 0h1h1m9 0h1m14 0h1m42 0h1M1237 2422h1m1 0h1h1h1h1h1m2 0h1m14 0h1m6 0h1m12 0h1m11 0h1h1h1h1h1h1h1m1 0h1m1 0h1m1 0h1h1h1m1 0h1m2 0h1m1 0h1h1h1h1m3 0h1h1m3 0h1h1m2 0h1m2 0h1h1m1 0h1m5 0h1h1m3 0h1h1h1m5 0h1h1m2 0h1h1h1m3 0h1m1 0h1h1m1 0h1h1h1h1h1h1h1m2 0h1m4 0h1m2 0h1h1h1h1h1m5 0h1m1 0h1m34 0h1h1m1 0h1m2 0h1m8 0h1M1235 2423h1m1 0h1h1h1m2 0h1h1m44 0h1m2 0h1h1h1h1h1m1 0h1m1 0h1h1h1h1m1 0h1m6 0h1m1 0h1h1h1h1h1m1 0h1m2 0h1m2 0h1h1m2 0h1m8 0h1m3 0h1m2 0h1h1m2 0h1m1 0h1m7 0h1m2 0h1m1 0h1m3 0h1m2 0h1h1m7 0h1h1m1 0h1m2 0h1m1 0h1m9 0h1m1 0h1m2 0h1m8 0h1m22 0h1m5 0h1m7 0h1m2 0h1m18 0h1m28 0h1M1235 2424h1m2 0h1m1 0h1h1h1h1h1m43 0h1h1h1h1h1h1h1h1h1m3 0h1m2 0h1m1 0h1m1 0h1m1 0h1m1 0h1m9 0h1h1m9 0h1m1 0h1m10 0h1m3 0h1m6 0h1h1m5 0h1m1 0h1m2 0h1m1 0h1m7 0h1m3 0h1m8 0h1m4 0h1h1m1 0h1m4 0h1m11 0h1m4 0h1m5 0h1m5 0h1h1M1229 2425h1m2 0h1m7 0h1h1m1 0h1h1m38 0h1m1 0h1m3 0h1h1m1 0h1h1m1 0h1m1 0h1h1m1 0h1h1h1m2 0h1h1m2 0h1m6 0h1m2 0h1m4 0h1m1 0h1m7 0h1m3 0h1m6 0h1h1m1 0h1h1m3 0h1m1 0h1m2 0h1h1m6 0h1m6 0h1m3 0h1m5 0h1m1 0h1m4 0h1h1h1h1m2 0h1m9 0h1m12 0h1m2 0h1m4 0h1m10 0h1m5 0h1m6 0h1M1228 2426h1m11 0h1h1h1h1h1h1m20 0h1m17 0h1h1h1h1h1h1m1 0h1h1m1 0h1h1h1m2 0h1h1m1 0h1m1 0h1m5 0h1m8 0h1m1 0h1m1 0h1m12 0h1m6 0h1h1m4 0h1m2 0h1m1 0h1h1m1 0h1h1m2 0h1m5 0h1m3 0h1m1 0h1m16 0h1m9 0h1m7 0h1h1m4 0h1m20 0h1m6 0h1m1 0h1M1229 2427h1m11 0h1h1h1h1h1h1m35 0h1h1h1h1h1h1h1h1m1 0h1h1m1 0h1h1h1m1 0h1m1 0h1h1m15 0h1m7 0h1m2 0h1m3 0h1m7 0h1h1h1m15 0h1m2 0h1m1 0h1h1m10 0h1m3 0h1h1m14 0h1m8 0h1m3 0h1m3 0h1M1243 2428h1h1m1 0h1h1m31 0h1m1 0h1h1h1h1m1 0h1m1 0h1m1 0h1m3 0h1m6 0h1m10 0h1m3 0h1m19 0h1m14 0h1h1m5 0h1h1m7 0h1m5 0h1m1 0h1m4 0h1m8 0h1m5 0h1m38 0h1m14 0h1M1236 2429h1m3 0h1h1m1 0h1m1 0h1m1 0h1h1m27 0h1h1h1h1h1h1m1 0h1h1h1h1h1h1m8 0h1m14 0h1m7 0h1m1 0h1m37 0h1m3 0h1m7 0h1m9 0h1m3 0h1m14 0h1m44 0h1M1233 2430h1m7 0h1h1h1m1 0h1h1h1h1h1h1h1h1m20 0h1h1h1h1h1h1m1 0h1h1h1h1m1 0h1m1 0h1h1m1 0h1h1h1m1 0h1m2 0h1m1 0h1m19 0h1m8 0h1m10 0h1h1m2 0h1m23 0h1m2 0h1m9 0h1M1232 2431h1m7 0h1m4 0h1h1m2 0h1h1m1 0h1h1m1 0h1h1m11 0h1h1h1h1h1h1h1h1h1m2 0h1h1m4 0h1h1m3 0h1m4 0h1m21 0h1m1 0h1m17 0h1m1 0h1m18 0h1m51 0h1m21 0h1m10 0h1m6 0h1M1229 2432h1m18 0h1h1h1h1h1h1h1h1h1h1m1 0h1h1h1h1h1h1m1 0h1h1h1h1h1h1h1h1h1m1 0h1h1m1 0h1m2 0h1m2 0h1m3 0h1m17 0h1m9 0h1m36 0h1m83 0h1m7 0h1M1239 2433h1m3 0h1h1h1m2 0h1h1m1 0h1m1 0h1m1 0h1m1 0h1h1h1h1m1 0h1h1h1h1m1 0h1h1h1m1 0h1m2 0h1m1 0h1h1h1h1h1h1m3 0h1m5 0h1m9 0h1m9 0h1m8 0h1m1 0h1m2 0h1m27 0h1m18 0h1M1242 2434h1m3 0h1h1m4 0h1m1 0h1h1h1m3 0h1m1 0h1h1h1h1h1h1h1m1 0h1m2 0h1m1 0h1h1m1 0h1h1h1h1m1 0h1m1 0h1m1 0h1m4 0h1m2 0h1m141 0h1M1247 2435h1m1 0h1h1m3 0h1h1h1m1 0h1h1h1m1 0h1h1h1m2 0h1h1m1 0h1h1h1h1m3 0h1h1m2 0h1m7 0h1m14 0h1m69 0h1m20 0h1m48 0h1M1243 2436h1m2 0h1m5 0h1m2 0h1h1h1h1m3 0h1m1 0h1m1 0h1m1 0h1m2 0h1h1h1m6 0h1m10 0h1m75 0h1m9 0h1m3 0h1m61 0h1M1222 2437h1m17 0h1m10 0h1h1m3 0h1m1 0h1m5 0h1m5 0h1m2 0h1m3 0h1m3 0h1m11 0h1m98 0h1M1239 2438h1m6 0h1m2 0h1m12 0h1m1 0h1m2 0h1h1m3 0h1m1 0h1m3 0h1m100 0h1M1247 2439h1m3 0h1h1m2 0h1h1m1 0h1m1 0h1m1 0h1h1m2 0h1m1 0h1m5 0h1m4 0h1m21 0h1m150 0h1M1228 2440h1m15 0h1m10 0h1m6 0h1m104 0h1m72 0h1m3 0h1M1239 2441h1m18 0h1m11 0h1m5 0h1m6 0h1M1244 2442h1h1m3 0h1m8 0h1h1m3 0h1m107 0h1m52 0h1M1245 2443h1m21 0h1h1h1m169 0h1M1248 2444h1h1m4 0h1m24 0h1m42 0h1m10 0h1M1237 2445h1m23 0h1m9 0h1m7 0h1m81 0h1M1326 2446h1m122 0h1M1241 2447h1m27 0h1m36 0h1m84 0h1M1400 2448h1m38 0h1m2 0h1M1270 2449h1m43 0h1M1263 2450h1m1 0h1h1m10 0h1m44 0h1m114 0h1M1280 2452h1m39 0h1M1275 2453h1m53 0h1M1451 2454h1M1320 2455h1M1253 2456h1m11 0h1M1186 2457h1M1238 2458h1M1287 2461h1M1316 2462h1m120 0h1M1448 2464h1M1272 2469h1M1328 2470h1M1250 2471h1M1308 2475h1M1450 2476h1M1357 2477h1M1336 2483h1m147 0h1M1297 2485h1M1441 2486h1M1345 2490h1m101 0h1" stroke="#000" stroke-width="1.3" fill="none" shape-rendering="crispEdges"/>
<path d="M1253.9 2254.2L1252 2250.6L1252.9 2247L1254.7 2243.7L1254.5 2240L1254.6 2236.2L1256.2 2232.9L1259.1 2230.5L1261.3 2227.4L1264.6 2225.2L1268.6 2223.8L1272.4 2221.4L1277.2 2220.8L1282 2219.6L1287.5 2219.1L1293.1 2217.3L1299.6 2215.8L1306.8 2217.1L1314.3 2216L1321.8 2214.7L1329.1 2213.8L1336.3 2213.7L1343.5 2213.5L1350.8 2215.8L1358 2215.4L1365.2 2213L1372.6 2215.7L1380.4 2215.2L1388.1 2214.7L1395.2 2215.4L1401.5 2215.8L1406.8 2216.6L1411 2218.7L1414.8 2220.3L1418.2 2222.1L1420.6 2225L1423.2 2227L1425.4 2229L1427.7 2231.1L1429.5 2233.8L1431.2 2237.1L1432.1 2241.1L1432.5 2245.6L1433.4 2250.4L1436.5 2255.5L1435.2 2261.4L1434.5 2267.9L1437.2 2275L1437 2282.5L1436.6 2290L1434.3 2297.4L1434.9 2304.6L1435.6 2311.8L1433.6 2318.9L1434.9 2326.1L1433.6 2333.3L1435 2340.7L1433.3 2348.2L1434 2355.8L1433.8 2363L1431.8 2369.3L1431.1 2375.1L1429.9 2380.3L1429.7 2385.3L1428.4 2389.8L1425.7 2393.3L1425.4 2397.6L1423.1 2400.4L1419.7 2401.8L1416.6 2403.4L1414.1 2406.8L1410.1 2409.1L1405.6 2411.9L1400 2412.8L1394.6 2414.1L1389.4 2416.4L1383.7 2415.4L1377.8 2417.7L1372 2415L1366.1 2414.6L1360.2 2415L1354.3 2413.5L1348.1 2412.6L1341.7 2414.5L1336.1 2413.4L1331.3 2413.1L1327.6 2412.4L1324.8 2410.7L1322.5 2412.4L1320.5 2412.7L1318.1 2412.4L1315.7 2413.6L1312.5 2413.2L1310.3 2415.6L1306.5 2415.8L1303.2 2417.3L1300.7 2421.1L1296.2 2421.6L1292.3 2424L1288.6 2426.5L1284.1 2427L1280.5 2429.4L1277.1 2432.3L1272.7 2432.4L1268.7 2432.9L1264.9 2433.1L1261.1 2433.2L1257.2 2433.5L1253.1 2434.2L1250.3 2431.1L1246.6 2430.9L1244.8 2428L1243 2425.5L1239.9 2423.3L1241.5 2419.6L1241.6 2416.9L1238.5 2414.2L1240.1 2411.7L1242.9 2409.9L1242.1 2406.6L1244.6 2404.4L1244.5 2400.6L1246.2 2397.2L1249.8 2394.6L1251.5 2390.7L1252.8 2386.5L1256.8 2384L1258.3 2379.4L1263.1 2377.4L1264.1 2372.2L1268.3 2370.2L1271.8 2367.9L1273.5 2363.6L1276.5 2361L1279.7 2359L1283.7 2359.1L1285.3 2355.1L1288.4 2355.5L1290.2 2354.4L1292.1 2356.5L1290.9 2355.3L1291.3 2354.1L1291.7 2351.2L1288.8 2348.8L1288.1 2345.4L1286.7 2342.4L1285.7 2339.5L1284 2337L1281.8 2334.7L1279.2 2332.5L1276.4 2330.2L1276.8 2325.6L1272.5 2323.7L1272.7 2319.1L1269.3 2316.4L1268.7 2312.1L1265.8 2309L1262.8 2305.6L1261.3 2301.4L1259.9 2297.2L1258.7 2293.1L1256.5 2289.4L1256.2 2285.3L1256 2281.2L1255.1 2277.4L1253.2 2273.7L1252.5 2269.7L1251.4 2265.7L1251.5 2261.7L1254.5 2258Z" fill="#000"/>
<path d="M1270.7 2333.2c2-3.4 6.6-2.6 9.6-1.2c3 1.4 7.4 5.8 8.4 9.6c1 3.8-0 8.9-2.4 13.1c-2.4 4.2-8.4 9.6-12 12c-3.6 2.4-8.6 4.8-9.5 2.4c-1-2.4 2.5-10.8 3.5-16.8c1-5.9 .4-15.7 2.4-19.1Z" fill="#000" fill-opacity="0.9"/>
<path d="M1255.2 2254.3c.4-6-0-11.9 2.4-16.7c2.4-4.8 6-9 11.9-12c6-3 14-4.6 23.9-5.9c10-1.4 23.9-1.8 35.9-2.4c12-.6 23.9-1.4 35.9-1.2c11.9 .2 26.7 .8 35.8 2.4c9.2 1.5 14.4 3.9 19.1 7.1c4.8 3.2 7.4 6 9.6 12c2.2 6 3 13.9 3.6 23.9c.6 9.9 .2 23.9-0 35.8c-.2 12-.6 24-1.2 35.9c-.6 12-1.2 25.9-2.4 35.9c-1.2 9.9-2 17.9-4.8 23.9c-2.8 6-5.9 8.3-11.9 11.9c-6 3.6-15.2 8.2-23.9 9.6c-8.8 1.4-19.2-.4-28.7-1.2c-9.6-.8-21.5-3-28.7-3.6c-7.2-.6-9.6-1.2-14.4 0c-4.7 1.2-8.7 4.4-14.3 7.2c-5.6 2.8-12.7 7.1-19.1 9.5c-6.4 2.5-13.2 4.9-19.1 5.3c-6 .4-13-.4-16.8-2.9c-3.8-2.4-5.6-7.9-6-11.9c-.4-4 1.4-7.2 3.6-12c2.2-4.8 5.6-11.1 9.6-16.7c4-5.6 9.6-12 14.3-16.7c4.8-4.8 10.4-9.4 14.4-12c4-2.6 8.8-.6 9.5-3.6c.8-3-2.8-9.7-5.2-14.3c-2.4-4.6-6-8.2-9.1-13.2c-3.1-5-6.4-10.7-9.6-16.7c-3.2-6-7.1-12.8-9.5-19.1c-2.4-6.4-4-12.8-4.8-19.2c-.8-6.3-.4-13.1-0-19.1Z" fill="#fff" stroke="#444" stroke-width="0.9"/>
<path class="cg" d="M1256.8 2254.4c.4-5.8-0-11.5 2.2-16.1c2.3-4.6 5.5-8.4 11.2-11.2c5.8-2.9 13.6-4.5 23.5-5.9c9.8-1.3 23.8-1.7 35.7-2.3c11.9-.6 23.8-1.4 35.7-1.2c11.9 .2 26.6 .8 35.6 2.3c9.1 1.6 14 3.9 18.6 7c4.5 3 6.8 5.4 8.9 11.1c2.1 5.8 2.9 13.6 3.5 23.5c.6 9.8 .2 23.8-0 35.7c-.2 11.9-.6 23.9-1.2 35.8c-.6 12-1.2 25.9-2.4 35.8c-1.2 9.8-2 17.6-4.6 23.4c-2.7 5.8-5.6 7.8-11.3 11.3c-5.8 3.4-14.8 8-23.4 9.3c-8.6 1.4-18.8-.4-28.3-1.2c-9.5-.8-21.4-3-28.7-3.6c-7.2-.6-9.9-1.2-14.8 .1c-5 1.2-9.1 4.5-14.7 7.2c-5.6 2.8-12.7 7.1-19 9.6c-6.3 2.4-12.9 4.7-18.7 5.1c-5.7 .4-12.2-.4-15.7-2.6c-3.5-2.2-5-7.1-5.3-10.8c-.3-3.6 1.3-6.5 3.5-11.1c2.1-4.6 5.5-11 9.4-16.5c3.9-5.5 9.5-11.8 14.2-16.5c4.7-4.7 10-9 14-11.8c4.1-2.7 9.5-1.2 10.3-4.5c.8-3.3-3-10.7-5.4-15.5c-2.4-4.8-6-8.2-9.1-13.2c-3.2-5-6.4-10.7-9.6-16.7c-3.1-5.9-7.1-12.6-9.4-18.9c-2.4-6.3-3.9-12.5-4.7-18.8c-.8-6.2-.4-13-0-18.8Z"/>
<path d="M1256.4 2254.3c.3-5.4-0-11.1 2.4-15.5c2.4-4.5 6.2-8.4 11.9-11.3c5.8-2.8 13-4.5 22.7-5.9c9.8-1.4 23.9-1.8 35.9-2.4c12-.6 24.1-1.4 35.9-1.2c11.7 .2 25.7 .8 34.6 2.4c9 1.5 14.2 3.8 18.9 6.9c4.7 3.1 7 5.8 9.1 11.5c2.1 5.7 2.9 12.9 3.6 22.7c.6 9.7 .4 25.9 .2 35.8c-.2 10 1.3 20.8-1.4 24c-2.7 3.1-11.6 .8-14.8-4.8c-3.3-5.6-.4-23.1-4.8-28.7c-4.4-5.6-12-4.4-21.5-4.8c-9.6-.4-23.9 2.4-35.9 2.4c-11.9-0-24.3-2.4-35.9-2.4c-11.5 0-24.7 2.4-33.4 2.4c-8.8-0-14.7-0-19.1-2.4c-4.5-2.4-6.3-7.2-7.7-12c-1.4-4.7-1-11.3-.7-16.7Z" fill="#3c3c3c" fill-opacity="0.62"/>
<path d="M1243.7 2416.9c-.4-3.8 1-8.4 3.1-12c2.1-3.6 5.8-8.3 9.6-9.5c3.8-1.2 9.3-0 13.1 2.4c3.8 2.3 8.4 7.5 9.6 11.9c1.2 4.4-0 10.9-2.4 14.4c-2.4 3.4-7.4 5.6-11.9 6.2c-4.6 .5-12.1-.7-15.6-2.9c-3.5-2.2-5.1-6.8-5.5-10.5Z" fill="#3c3c3c" fill-opacity="0.55"/>
<clipPath id="cd3"><path d="M1255.2 2254.3c.4-6-0-11.9 2.4-16.7c2.4-4.8 6-9 11.9-12c6-3 14-4.6 23.9-5.9c10-1.4 23.9-1.8 35.9-2.4c12-.6 23.9-1.4 35.9-1.2c11.9 .2 26.7 .8 35.8 2.4c9.2 1.5 14.4 3.9 19.1 7.1c4.8 3.2 7.4 6 9.6 12c2.2 6 3 13.9 3.6 23.9c.6 9.9 .2 23.9-0 35.8c-.2 12-.6 24-1.2 35.9c-.6 12-1.2 25.9-2.4 35.9c-1.2 9.9-2 17.9-4.8 23.9c-2.8 6-5.9 8.3-11.9 11.9c-6 3.6-15.2 8.2-23.9 9.6c-8.8 1.4-19.2-.4-28.7-1.2c-9.6-.8-21.5-3-28.7-3.6c-7.2-.6-9.6-1.2-14.4 0c-4.7 1.2-8.7 4.4-14.3 7.2c-5.6 2.8-12.7 7.1-19.1 9.5c-6.4 2.5-13.2 4.9-19.1 5.3c-6 .4-13-.4-16.8-2.9c-3.8-2.4-5.6-7.9-6-11.9c-.4-4 1.4-7.2 3.6-12c2.2-4.8 5.6-11.1 9.6-16.7c4-5.6 9.6-12 14.3-16.7c4.8-4.8 10.4-9.4 14.4-12c4-2.6 8.8-.6 9.5-3.6c.8-3-2.8-9.7-5.2-14.3c-2.4-4.6-6-8.2-9.1-13.2c-3.1-5-6.4-10.7-9.6-16.7c-3.2-6-7.1-12.8-9.5-19.1c-2.4-6.4-4-12.8-4.8-19.2c-.8-6.3-.4-13.1-0-19.1Z"/></clipPath><g clip-path="url(#cd3)">
<path class="cg" style="stroke-width:0.8" d="M1257.7 2254c.2-2.9 .4-5 .8-7.7c.4-2.7 .3-6.2 1.4-8.6c1.2-2.4 3.6-3.9 5.5-5.7c1.9-1.9 3.1-3.9 6.1-5.4c3-1.5 7.8-2.6 11.7-3.7c3.9-1 6.9-1.9 11.7-2.6c4.8-.6 11.4-.8 17.2-1.1c5.7-.4 11.3-.7 17.2-.9c6-.3 12.4-.4 18.3-.6c6-.1 11.5-.7 17.3-.6c5.8 .1 11.9 .8 17.7 1.1c5.7 .4 12.5 .2 16.9 1c4.5 .8 6.3 2.5 9.5 3.6c3.2 1.1 7.3 1.7 9.7 3.2c2.4 1.5 3.3 4 4.8 5.9c1.5 1.9 3 2.6 4.1 5.5c1 2.9 1.3 8.2 2 12.1c.7 3.9 1.9 6.3 2.2 11.2c.3 4.9-.2 12.3-.1 18.1c-0 5.8 .2 11.1 .1 16.8c-.1 5.7-.7 11.6-.9 17.5c-.2 5.9 .2 12-0 17.8c-.3 5.9-1.1 11.5-1.5 17.3c-.4 5.8-.4 12.5-1 17.4c-.5 4.8-1.5 7.8-2.3 11.6c-.8 3.9-1.2 8.6-2.6 11.4c-1.3 2.8-3.6 3.7-5.5 5.6c-2 1.9-3.1 4.1-6.1 5.8c-2.9 1.8-7.8 3.3-11.6 4.8c-3.8 1.6-7 3.9-11.3 4.5c-4.3 .7-9.6-.5-14.3-.6c-4.7-.1-9.2 .5-14 .2c-4.7-.3-9.7-1.4-14.4-2c-4.7-.7-10.5-1.6-14-1.9c-3.5-.3-4.7-.1-7-.1c-2.3-0-4.4-.7-6.6-0c-2.3 .6-4.6 2.5-6.9 3.8c-2.3 1.2-4.1 2.4-6.9 3.7c-2.8 1.3-6.7 2.7-9.9 4.2c-3.2 1.5-6.2 3.6-9.3 4.8c-3.1 1.3-6 1.9-9.1 2.7c-3.2 .8-6.8 2.1-9.7 2.2c-2.9 .1-5.2-1-7.9-1.5c-2.7-.4-6.5 .1-8.3-1.1c-1.8-1.1-1.8-3.7-2.7-5.6c-.9-2-2.6-3.8-2.8-5.8c-.3-1.9 .9-4 1.4-6c.5-1.9 .6-3.5 1.6-5.9c1-2.4 2.8-5.7 4.4-8.4c1.5-2.7 2.8-5.3 4.8-8c1.9-2.7 4.6-5.6 6.9-8.2c2.3-2.7 4.6-5.7 6.9-7.9c2.3-2.2 4.5-3.5 6.8-5.4c2.4-2 5.3-4.9 7.3-6.1c2-1.3 3-.9 4.6-1.6c1.5-.6 4.2-.6 4.6-2.2c.3-1.5-1.6-4.8-2.5-7c-.9-2.2-1.6-4.1-2.7-6.4c-1.2-2.2-2.9-4.6-4.4-6.9c-1.6-2.2-3.2-4.2-4.7-6.6c-1.5-2.4-2.9-5.1-4.4-7.8c-1.5-2.7-2.8-5.5-4.4-8.4c-1.6-2.9-3.6-6.2-5.2-9.2c-1.7-3-3.7-5.8-4.8-8.8c-1-3.1-.9-6.4-1.5-9.5c-.7-3-1.8-5.9-2.3-8.9c-.5-3.1-.6-6.2-.6-9.4c-0-3.2 .4-6.8 .7-9.7Z"/><path class="cg" style="stroke-width:0.8" d="M1260.8 2254.1c.1-2.8 .5-5.4 .8-8c.3-2.6-.4-5.5 .8-7.7c1.1-2.2 4.2-3.6 6.2-5.6c1.9-1.9 2.7-4.7 5.5-6.1c2.8-1.4 7.7-1.4 11.5-2.3c3.8-.8 6.6-1.9 11.3-2.5c4.7-.7 11.4-1 16.9-1.5c5.6-.5 10.8-1 16.4-1.3c5.6-.4 11.6-.5 17.3-.7c5.8-.1 11.3-.4 17-.2c5.6 .1 11.3 .6 16.9 .9c5.6 .4 12.7 .4 16.9 1.1c4.3 .8 5.6 2.4 8.5 3.6c3 1.1 6.7 1.8 9.1 3.3c2.3 1.5 3.4 3.9 4.9 5.7c1.5 1.8 3.1 2.7 4.2 5.3c1.1 2.7 1.7 7.1 2.3 10.8c.6 3.6 1 6.4 1.2 11c.3 4.7 .3 11.3 .4 17c.1 5.6 .4 11.2 .3 16.8c-0 5.6-.5 11.2-.7 16.8c-.2 5.5-.1 10.6-.3 16.2c-.1 5.6-.4 11.7-.7 17.2c-.4 5.6-.8 11.5-1.4 16.1c-.7 4.6-1.7 7.9-2.5 11.6c-.8 3.7-.9 8.1-2.2 10.8c-1.2 2.8-3.4 3.8-5.3 5.7c-1.8 1.9-2.9 4-5.6 5.6c-2.8 1.7-7.2 3-11 4.5c-3.7 1.5-7.6 3.8-11.7 4.5c-4.1 .6-8.5-.4-13-.6c-4.5-.1-9.5-0-14.1-.4c-4.6-.4-8.9-1.3-13.4-1.9c-4.5-.6-10.3-1.7-13.6-1.9c-3.3-.3-4 .5-6.3 .5c-2.2 .1-4.8-.6-7.1-.1c-2.3 .5-4.2 2-6.4 3.1c-2.2 1-4.3 2-7 3.3c-2.6 1.3-5.8 3.2-8.9 4.6c-3 1.5-6.4 3-9.3 4.2c-3 1.2-5.6 2.2-8.6 3c-2.9 .9-6.4 2.1-9.3 2.3c-2.9 .1-5.6-1.1-8.2-1.5c-2.7-.5-5.9-.3-7.7-1.5c-1.7-1.1-1.9-3.6-2.8-5.4c-.9-1.8-2.4-3.7-2.5-5.6c-.2-1.8 1-3.6 1.5-5.4c.4-1.8 .4-3.3 1.4-5.5c1-2.2 3-5 4.3-7.6c1.3-2.7 2-5.6 3.8-8.2c1.8-2.6 4.8-4.8 7-7.4c2.2-2.6 4.3-6 6.4-8.3c2.1-2.3 4.1-3.8 6.2-5.6c2.1-1.7 4.6-3.7 6.4-4.9c1.8-1.2 2.9-1.7 4.4-2.4c1.5-.6 4.4-.1 4.8-1.5c.4-1.3-1.8-4.6-2.7-6.7c-.9-2.2-1.6-4.1-2.7-6.2c-1-2.1-2.1-4.3-3.5-6.4c-1.4-2.1-3.4-4.1-5-6.4c-1.5-2.2-2.8-4.7-4.3-7.3c-1.5-2.7-3.2-5.4-4.6-8.3c-1.4-2.8-2.5-5.8-4-8.7c-1.4-3-3.7-6.2-4.8-9c-1.1-2.9-1.2-5.4-1.8-8.3c-.6-3-1.7-6.5-2-9.4c-.3-3 .2-5.5 .2-8.4c.1-2.8-0-6 .2-8.8Z"/><path class="cg" style="stroke-width:0.8" d="M1263.3 2253.3c.2-2.8 .7-5.2 1.1-7.6c.3-2.4-.2-4.9 .9-7c1.2-2.1 4.2-3.6 6-5.4c1.8-1.9 2.2-4.4 4.8-5.7c2.6-1.3 7.2-1.4 10.9-2.2c3.7-.9 6.8-2 11.4-2.8c4.6-.7 10.8-1.3 16.2-1.6c5.5-.4 11.1-.2 16.5-.4c5.4-.3 10.5-.8 15.9-1c5.4-.2 10.8-.5 16.3-.4c5.6 .1 11.2 .5 16.8 .9c5.5 .5 12.1 .8 16.3 1.6c4.2 .7 5.9 2.1 8.9 3.1c3 .9 6.8 1.2 9 2.6c2.2 1.4 2.9 3.9 4.3 5.8c1.4 1.8 3 2.6 4.1 5.3c1 2.7 1.4 7.2 2 10.8c.7 3.6 1.5 6.3 1.9 10.6c.3 4.4 .2 10.2 .3 15.5c0 5.3 .1 11.1 .1 16.5c-0 5.5-.2 10.7-.3 16c-.1 5.3-.1 10.7-.3 16c-.2 5.2-.7 10.3-1.1 15.6c-.3 5.4-.6 11.8-1.2 16.3c-.6 4.5-1.8 7.2-2.4 10.7c-.7 3.5-.5 7.6-1.7 10.2c-1.2 2.6-3.9 3.7-5.7 5.5c-1.8 1.8-2.5 3.6-5.1 5.2c-2.6 1.5-6.9 2.7-10.6 4.2c-3.7 1.6-7.5 4.3-11.5 5c-4.1 .7-8.7-.4-12.9-.7c-4.2-.2-8.1-.5-12.5-.9c-4.4-.3-9.3-.6-13.7-1.1c-4.4-.4-9.4-1.3-12.7-1.5c-3.3-.3-4.8 0-7-0c-2.1-.1-4-1-6.1-.4c-2.1 .5-4.4 2.7-6.6 3.8c-2.2 1.1-4.1 1.3-6.7 2.6c-2.6 1.2-6.1 3.4-9.1 4.8c-2.9 1.4-5.6 2.6-8.5 3.6c-3 1.1-6.2 1.9-9.1 2.7c-2.9 .8-5.8 1.9-8.5 2.1c-2.7 .1-5.1-.8-7.7-1.1c-2.6-.4-5.9-.2-7.7-1.3c-1.7-1-2.2-3.3-3-5.1c-.9-1.7-2-3.6-2.2-5.4c-.1-1.8 1-3.5 1.4-5.4c.4-1.8 .2-3.6 1-5.7c.8-2.1 2.7-4.5 4.1-6.9c1.4-2.4 2.6-5.2 4.3-7.7c1.6-2.4 3.7-4.9 5.7-7.3c2-2.4 4.2-5.1 6.3-7.3c2-2.1 3.9-3.8 6.1-5.6c2.1-1.8 5-3.9 6.8-5c1.8-1.2 2.7-1.2 4-1.8c1.3-.6 3.4-.4 3.7-1.8c.3-1.3-1.2-4.1-1.9-6.3c-.7-2.2-1.2-4.7-2.4-6.7c-1.1-2-2.9-3.5-4.3-5.4c-1.4-2-2.7-3.9-4.1-6.2c-1.4-2.3-3-5.1-4.5-7.6c-1.4-2.5-2.6-4.8-3.9-7.5c-1.4-2.6-2.5-5.6-4-8.5c-1.5-2.8-3.8-5.9-4.8-8.8c-1.1-2.8-.7-5.4-1.3-8.2c-.7-2.8-2.3-5.8-2.7-8.6c-.3-2.8 .5-5.4 .7-8.2c.1-2.9-.1-6.2 0-8.9Z"/><path class="cg" style="stroke-width:0.8" d="M1265.9 2253.4c.1-2.6 .1-4.8 .5-7.2c.4-2.4 .7-5.1 1.9-7.1c1.1-2.1 3.5-3.4 5.2-5.2c1.8-1.8 2.5-4.1 5.1-5.4c2.6-1.3 7-1.5 10.4-2.3c3.5-.8 5.9-1.7 10.3-2.4c4.4-.7 10.7-1.3 16.1-1.8c5.3-.4 10.9-.5 16.1-.7c5.3-.3 10.3-.7 15.6-.8c5.3-.1 10.8-.1 16.2-0c5.3 .1 10.8 .4 16.1 .7c5.2 .3 11.5 .2 15.5 .9c4 .7 5.8 2.1 8.6 3.1c2.8 1.1 6 2 8.1 3.4c2.2 1.3 3.1 3.1 4.6 4.7c1.5 1.6 3.1 2.5 4.2 5.1c1.1 2.6 1.5 6.8 2.2 10.3c.6 3.5 1.2 6.3 1.6 10.6c.4 4.3 .6 10.2 .7 15.3c.1 5 0 10.2 0 15.2c0 5 0 9.9 0 15c-0 5.2 .2 10.6-.1 15.8c-.2 5.2-.8 10.4-1.2 15.5c-.4 5.1-.5 10.9-1.1 15.2c-.6 4.3-1.7 7.2-2.5 10.7c-.7 3.5-.8 7.7-1.9 10.2c-1.1 2.5-3 3.1-4.8 4.7c-1.8 1.7-3.3 3.8-6 5.3c-2.6 1.5-6.4 2.4-9.9 3.7c-3.4 1.3-7.1 3.5-10.9 4.2c-3.9 .6-8.2-0-12.3-.2c-4.2-.1-8.4-.2-12.6-.6c-4.2-.3-8.4-.9-12.6-1.4c-4.2-.4-9.6-1.2-12.8-1.4c-3.1-.1-4 .4-6.1 .4c-2.2 0-4.5-.8-6.7-.4c-2.1 .5-4.2 2.3-6.2 3.3c-2.1 1-3.6 1.8-6.1 2.9c-2.5 1.1-6 2.6-8.9 3.9c-2.8 1.3-5.3 3-8.1 4c-2.8 1.1-5.9 1.5-8.9 2.3c-2.9 .9-5.9 2.7-8.6 2.8c-2.6 .1-4.6-1.5-7.1-1.9c-2.5-.4-6.2 .4-7.9-.6c-1.8-1-1.6-3.4-2.4-5.2c-.9-1.8-2.5-3.7-2.8-5.5c-.3-1.7 .6-3.4 1-5.1c.5-1.7 .9-3 1.8-5.1c.9-2 2.5-5 3.7-7.4c1.2-2.4 2-4.6 3.5-7c1.6-2.4 3.9-4.9 5.8-7.3c1.9-2.3 3.6-4.7 5.6-6.8c2-2 4.3-3.7 6.4-5.3c2-1.7 4.4-3.6 6.1-4.6c1.6-1.1 2.6-1.1 3.8-1.7c1.3-.6 3.5-.8 3.8-2.1c.2-1.3-1.6-3.5-2.3-5.6c-.8-2-1-4.6-2.1-6.6c-1.1-2.1-3.1-3.8-4.4-5.6c-1.4-1.9-2.6-3.4-3.8-5.5c-1.3-2.1-2.3-4.8-3.7-7.2c-1.4-2.4-3.4-4.5-4.7-7.1c-1.3-2.6-2.1-5.7-3.3-8.5c-1.3-2.7-3.1-5.5-4.1-8.2c-1.1-2.7-1.6-5.1-2.2-7.8c-.7-2.8-1.4-6-1.7-8.7c-.3-2.7-.1-4.9-.1-7.5c0-2.7 .2-5.8 .4-8.4Z"/><path class="cg" style="stroke-width:0.8" d="M1267.7 2253.1c.2-2.5 .9-4.5 1.4-6.8c.5-2.3 .6-4.9 1.7-6.9c1-2.1 3-3.8 4.6-5.4c1.7-1.6 2.8-3.2 5.3-4.4c2.5-1.1 6.5-1.6 9.9-2.6c3.4-.9 6-2.5 10.4-3.1c4.4-.7 10.7-.5 15.8-.7c5.1-.3 9.8-.6 14.9-.8c5.1-.3 10.4-.6 15.6-.8c5.1-.3 10.4-.7 15.6-.6c5.2 0 10.3 .6 15.4 1c5.1 .4 11.3 .6 15.2 1.3c4 .7 5.6 2.2 8.5 3.1c2.8 .9 6.3 1.2 8.3 2.5c2.1 1.3 2.5 3.5 3.9 5.2c1.3 1.8 3.3 2.7 4.4 5.1c1.1 2.4 1.5 6.2 2.1 9.4c.7 3.2 1.3 5.6 1.7 9.8c.4 4.1 .5 10.1 .7 15c.1 4.9 .1 9.5 .1 14.4c-0 4.9-.1 10.1-.2 15.1c-0 5 .1 9.8-.1 14.8c-.2 4.9-.6 10.1-.9 15c-.4 5-.9 10.6-1.4 14.5c-.6 4-1.5 6.1-2.2 9.5c-.7 3.3-.7 7.8-1.9 10.4c-1.1 2.5-3.1 3-4.8 4.7c-1.6 1.7-2.5 3.7-5.1 5.3c-2.5 1.5-6.7 2.7-10.1 4c-3.4 1.3-6.3 3.2-10.1 3.8c-3.8 .6-8.5-.3-12.7-.4c-4.1-.1-8 .1-12.1-.2c-4-.3-8-1-12-1.4c-4.1-.5-9.3-1.2-12.3-1.5c-3-.3-3.7-.3-5.8-.3c-2.1-0-4.4-.2-6.5 .3c-2.1 .5-3.9 1.7-6 2.6c-2 .9-3.7 1.6-6.2 2.8c-2.5 1.2-5.9 3-8.7 4.3c-2.8 1.3-5.7 2.5-8.4 3.4c-2.7 .9-5.1 1.4-7.7 2.2c-2.7 .8-5.7 2.6-8.2 2.8c-2.6 .1-4.6-1.3-7.1-1.8c-2.5-.5-6.2-.4-7.9-1.3c-1.8-1-1.8-2.9-2.5-4.4c-.8-1.6-2-3.2-2.3-4.9c-.2-1.6 .4-3.4 .8-5.1c.3-1.6 .6-2.9 1.5-4.8c.8-2 2.3-4.7 3.4-6.9c1.2-2.3 1.9-4.6 3.4-6.8c1.5-2.2 3.7-4.3 5.6-6.6c1.9-2.3 4-5.1 5.9-7.1c1.8-2 3.2-3.4 5.1-5.1c1.8-1.6 4.3-3.5 6-4.6c1.7-1.1 2.6-1.7 3.9-2.2c1.3-.5 3.5 .2 3.7-1c.2-1.3-1.6-4.5-2.4-6.5c-.8-2-1.3-3.5-2.4-5.4c-1.1-1.8-2.8-3.7-4.1-5.5c-1.3-1.9-2.2-3.6-3.5-5.6c-1.2-2.1-2.8-4.4-4.2-6.7c-1.3-2.3-2.6-4.7-3.9-7.2c-1.2-2.5-2.2-5.2-3.4-7.7c-1.2-2.6-2.8-5-3.9-7.6c-1-2.7-1.6-5.5-2.2-8.2c-.5-2.7-1-5.5-1.2-8.1c-.2-2.6-0-5-.1-7.6c-.1-2.5-.5-5.3-.3-7.7Z"/><path class="cg" style="stroke-width:0.8" d="M1270.8 2253c.3-2.4 .5-5 .8-7.3c.4-2.3 .3-4.4 1.3-6.3c1-1.9 3-3.5 4.6-5.1c1.6-1.6 2.5-3.2 5.1-4.4c2.5-1.2 6.8-1.8 10.1-2.6c3.3-.9 5.6-1.7 9.7-2.3c4-.6 9.6-.8 14.6-1.1c5.1-.3 10.4-.4 15.4-.6c5.1-.1 9.9-.1 14.9-.3c5-.3 10.2-.9 15.2-.9c5.1 0 10.1 .6 15 .8c5 .3 10.8 .1 14.7 .8c3.8 .6 5.6 1.9 8.3 2.9c2.7 .9 6 1.5 8 2.7c1.9 1.3 2.4 3.1 3.7 4.8c1.3 1.6 3.1 2.7 4.1 5c1.1 2.4 1.6 6 2.3 9.1c.6 3.1 1.2 5.6 1.6 9.6c.4 4.1 .7 9.9 .9 14.7c.1 4.8 0 9.4-0 14.1c-.1 4.7-.3 9.3-.3 13.9c-0 4.7 .2 9.2 .1 14c-.2 4.8-.6 9.9-.9 14.7c-.3 4.7-.4 9.7-.9 13.6c-.6 3.9-1.7 6.6-2.4 9.8c-.7 3.1-.9 6.8-1.9 9.1c-1.1 2.3-2.9 3.1-4.6 4.8c-1.6 1.6-2.7 3.7-5.1 5.2c-2.4 1.4-5.9 2.3-9.2 3.6c-3.2 1.3-6.7 3.6-10.4 4.2c-3.7 .6-7.9-.6-11.8-.7c-3.9-.1-7.6 .4-11.5 .1c-3.9-.4-7.8-1.4-11.7-1.9c-3.9-.5-8.9-1-11.8-1.2c-3-.2-3.9-.1-5.9-.1c-2.1 0-4.2-.3-6.2 .2c-2.1 .5-4.3 1.7-6.3 2.7c-1.9 .9-3.2 2-5.5 3.1c-2.4 1.1-5.7 2.3-8.4 3.5c-2.7 1.2-5.2 2.6-7.9 3.5c-2.6 .9-5.5 1.3-8.1 2c-2.7 .7-5.4 2-7.9 2.3c-2.5 .2-4.7-.5-7.1-.8c-2.4-.3-5.7-0-7.2-1.1c-1.6-1-1.3-3.4-2.2-5c-.8-1.7-2.5-3.3-2.9-4.9c-.3-1.6 .3-3.2 .7-4.7c.3-1.5 .9-2.4 1.6-4.3c.7-1.8 1.7-4.7 2.8-6.9c1.1-2.2 2.4-3.9 3.8-6.1c1.5-2.2 3.1-4.8 4.8-7.1c1.7-2.2 3.5-4.6 5.3-6.5c1.8-1.9 3.8-3.2 5.6-4.7c1.9-1.6 4-3.5 5.4-4.6c1.4-1 1.9-1 3.1-1.6c1.1-.5 3.7-.5 3.9-1.7c.2-1.2-1.9-3.6-2.6-5.4c-.7-1.8-.7-3.6-1.6-5.4c-.9-1.9-2.4-4.3-3.7-6c-1.2-1.8-2.3-2.7-3.6-4.6c-1.3-1.9-2.9-4.7-4.1-7c-1.3-2.4-2.3-4.5-3.5-6.9c-1.1-2.4-2.2-5-3.4-7.4c-1.3-2.5-3.2-4.6-4.1-7.1c-1-2.5-1-5.3-1.5-7.9c-.5-2.6-1.3-5-1.6-7.5c-.3-2.6-.4-5.4-.3-7.8c.1-2.5 .5-4.6 .7-7Z"/><path class="cg" style="stroke-width:0.8" d="M1272.9 2252.7c.2-2.2 .6-4.2 1-6.4c.4-2.2 .4-4.9 1.4-6.8c1-1.9 2.9-3.2 4.5-4.7c1.6-1.4 2.6-2.9 5.1-4c2.5-1.1 6.6-1.7 9.8-2.5c3.2-.8 5.7-1.6 9.6-2.2c3.9-.6 9.2-1.1 13.9-1.4c4.8-.3 9.8-.2 14.7-.5c4.9-.2 9.8-.8 14.6-1c4.9-.2 9.8-.2 14.5-.1c4.8 0 9.2 .2 14 .5c4.8 .3 10.9 .5 14.7 1.1c3.8 .7 5.4 1.8 8 2.7c2.6 .9 5.7 1.4 7.6 2.6c1.8 1.2 2.3 2.8 3.7 4.5c1.4 1.6 3.7 2.9 4.7 5.2c1 2.4 .8 5.7 1.4 8.7c.6 3 2 5.6 2.4 9.3c.4 3.7-.1 8.6 .1 13c.1 4.5 .5 9.1 .7 13.7c.2 4.6 .5 9.2 .4 13.8c-.1 4.6-.6 9.1-.8 13.6c-.2 4.5-0 9-.3 13.6c-.2 4.5-.4 9.8-1 13.5c-.5 3.8-1.7 5.9-2.3 8.9c-.7 3.1-.4 7.2-1.5 9.5c-1.1 2.4-3.3 3.2-4.9 4.7c-1.7 1.4-2.5 2.8-4.9 4.2c-2.4 1.4-6.5 2.8-9.7 4c-3.1 1.2-5.6 2.9-9 3.4c-3.5 .6-7.7-0-11.6-0c-3.8-.1-7.7 .1-11.4-.2c-3.8-.3-7.4-1-11.3-1.4c-3.8-.5-8.9-1-11.8-1.1c-2.8-.2-3.4-.1-5.3-.1c-1.8 0-4-.3-6 .2c-1.9 .4-3.8 1.6-5.8 2.5c-1.9 .8-3.5 1.5-5.8 2.5c-2.4 1.1-5.5 2.5-8.2 3.8c-2.6 1.2-5.4 2.9-7.9 3.8c-2.6 .8-5 .6-7.5 1.3c-2.4 .6-4.9 2.2-7.4 2.4c-2.5 .3-5.2-.4-7.5-.9c-2.2-.5-4.4-.9-5.9-1.8c-1.5-1-2.2-2.7-3.1-4.1c-.9-1.4-2.1-2.8-2.4-4.3c-.3-1.5 .5-3.1 .8-4.7c.3-1.5 .3-2.9 1-4.8c.7-1.8 2.2-4 3.2-6.1c1-2 1.5-4.1 2.9-6.2c1.3-2.1 3.7-4 5.3-6.1c1.6-2.2 2.7-4.9 4.3-6.8c1.5-1.9 3.3-2.9 5.1-4.5c1.8-1.5 4.1-3.8 5.5-4.8c1.3-1 1.8-.8 2.8-1.3c1.1-.5 3.2-.4 3.6-1.6c.3-1.2-1.1-3.5-1.8-5.3c-.7-1.8-1.5-3.9-2.4-5.6c-.9-1.8-1.8-3.1-3-4.7c-1.2-1.5-2.8-2.7-4-4.6c-1.3-2-2.4-4.8-3.6-7.1c-1.1-2.2-2.3-4.2-3.5-6.4c-1.2-2.1-2.5-4.2-3.6-6.5c-1.1-2.4-2.4-4.9-3.2-7.4c-.8-2.4-1.1-5-1.7-7.5c-.6-2.4-1.8-4.7-2-7.1c-.3-2.4 .3-4.7 .4-7.1c.1-2.4 .1-5 .4-7.3Z"/><path class="cg" style="stroke-width:0.8" d="M1275.5 2252.4c.2-2.1 .5-3.9 .8-6c.4-2.1 .3-4.8 1.3-6.7c1-1.8 3.3-2.8 4.8-4.2c1.6-1.5 2-3.5 4.2-4.6c2.2-1 6.1-1.3 9.2-2c3.1-.7 5.3-1.6 9.3-2.2c3.9-.5 9.5-.9 14.2-1.1c4.7-.3 9.2-.3 13.8-.5c4.7-.2 9.4-.7 14.1-.9c4.8-.2 9.8-.5 14.5-.4c4.6 .1 8.9 .7 13.6 1c4.6 .2 10.7-.1 14.3 .6c3.7 .7 5 2.4 7.4 3.3c2.5 .9 5.5 1.1 7.4 2.2c1.9 1.1 2.7 2.9 4 4.4c1.4 1.4 3 2.4 4 4.5c1.1 2.1 1.6 5.5 2.2 8.3c.6 2.8 .9 4.9 1.4 8.5c.4 3.6 .9 8.9 1.1 13.3c.3 4.4 .1 8.7 .2 13c0 4.4 .2 8.9 .2 13.2c0 4.3 0 8.3-.1 12.7c-0 4.3-.1 8.9-.4 13.3c-.2 4.5-.5 9.7-1.1 13.3c-.6 3.6-1.7 5.6-2.3 8.4c-.7 2.8-.7 6.4-1.7 8.6c-.9 2.2-2.6 3.2-4.1 4.7c-1.6 1.5-2.8 3.1-5.2 4.4c-2.4 1.3-6 2.2-9 3.4c-3 1.2-5.8 2.9-9.1 3.5c-3.4 .6-7.3 .2-11 .1c-3.6-.1-7.3-.4-10.9-.7c-3.6-.4-7.1-1.1-10.8-1.4c-3.7-.4-8.5-.6-11.4-.8c-2.9-.2-3.9-.3-5.8-.3c-1.9 .1-3.6 .1-5.5 .5c-1.9 .4-3.9 1.4-5.7 2.2c-1.9 .8-3.1 1.4-5.3 2.4c-2.2 1-5.2 2.3-7.8 3.6c-2.6 1.2-5.4 3-7.9 3.9c-2.5 .8-4.4 .6-7 1.2c-2.5 .6-5.8 2-8.1 2.2c-2.4 .2-4-.5-6.2-.8c-2.1-.3-5.1-0-6.6-1c-1.5-1-1.3-3.3-2.2-4.8c-.9-1.5-2.9-2.7-3.3-4.1c-.3-1.3 .6-2.6 1.1-4c.4-1.5 .9-2.9 1.5-4.6c.6-1.8 1.2-3.8 2.1-5.8c.9-2 1.8-4.2 3.1-6.2c1.4-2.1 3.3-3.8 4.8-6c1.5-2.1 2.7-4.9 4.3-6.7c1.5-1.8 3.5-2.8 5.1-4.2c1.7-1.4 3.5-3.1 4.8-4c1.3-1 2.1-1.1 3.1-1.6c1.1-.5 3.1-.6 3.3-1.6c.2-1.1-1.2-3.1-1.9-4.8c-.6-1.7-1.2-3.5-2.1-5.2c-.9-1.8-2.2-3.7-3.4-5.3c-1.2-1.6-2.5-2.4-3.7-4.2c-1.3-1.8-2.5-4.4-3.7-6.5c-1.1-2.1-2.1-4-3.3-6.1c-1.1-2.1-2.3-4.4-3.4-6.7c-1.1-2.2-2.3-4.5-3.2-6.9c-.8-2.4-1.3-5.1-1.7-7.4c-.4-2.4-.7-4.5-.8-6.7c-.2-2.3-.3-4.8-.2-7c.1-2.3 .4-4.6 .7-6.7Z"/><path class="cg" style="stroke-width:0.8" d="M1277.7 2252.2c.3-2.2 .7-4.4 1-6.4c.3-2 0-4 1-5.6c.9-1.7 3-2.9 4.5-4.3c1.5-1.3 2.5-2.6 4.7-3.7c2.2-1.1 5.7-2 8.6-2.7c2.9-.8 5.1-1.2 8.9-1.7c3.8-.5 9.2-.9 13.8-1.3c4.6-.4 9.3-.7 13.9-.9c4.6-.1 9.1 .1 13.6-.1c4.5-.1 9-.8 13.4-.8c4.5 0 8.6 .6 13.2 1c4.5 .4 10.6 .6 14.2 1.2c3.5 .6 4.5 1.5 6.9 2.3c2.4 .7 5.5 1.2 7.4 2.3c1.9 1.1 2.7 2.9 4 4.2c1.2 1.4 2.5 1.8 3.4 3.8c1 2.1 1.6 5.8 2.2 8.6c.7 2.7 1.3 4.6 1.7 8.1c.4 3.4 .5 8.3 .8 12.5c.3 4.3 .7 8.7 .9 12.9c.2 4.2 .5 8 .5 12.1c0 4.1-.1 8.1-.3 12.3c-.3 4.2-.7 8.6-1 12.8c-.3 4.3-.6 9.4-1 12.9c-.4 3.4-.9 5-1.5 7.7c-.6 2.7-.9 6.1-2 8.3c-1.1 2.2-3.3 3.2-4.7 4.6c-1.4 1.5-1.7 2.8-3.8 4c-2 1.3-5.7 2.2-8.6 3.4c-3 1.2-5.8 3.1-9.1 3.6c-3.3 .6-7.2-.2-10.7-.3c-3.6-.1-7-.1-10.5-.3c-3.6-.3-7.3-.8-10.8-1.2c-3.6-.4-7.8-1.1-10.5-1.2c-2.7-.2-4 .2-5.8 .2c-1.8-0-3.3-.8-5.1-.3c-1.8 .5-4 2.2-5.9 3.1c-2 .9-3.6 1.4-5.7 2.3c-2.2 .8-4.7 2-7.2 3.1c-2.4 1-5.1 2.5-7.5 3.3c-2.5 .8-4.9 .9-7.3 1.5c-2.5 .6-4.9 1.8-7.2 2c-2.3 .2-4.4-.3-6.5-.6c-2.2-.4-5-.6-6.4-1.5c-1.3-.8-1-2.3-1.8-3.6c-.8-1.3-2.9-2.8-3.3-4.2c-.3-1.4 .9-2.7 1.3-4.1c.4-1.4 .4-2.6 .9-4.3c.5-1.8 1.3-4.2 2.1-6.2c.8-2 1.5-3.8 2.8-5.8c1.2-1.9 3.1-4.1 4.5-6c1.4-1.9 2.6-3.9 4.1-5.5c1.4-1.7 3.2-2.8 4.7-4.2c1.5-1.5 2.9-3.5 4.2-4.5c1.3-.9 2.3-.8 3.4-1.2c1-.4 2.8-.2 2.9-1.2c.1-.9-1.5-3-2.1-4.6c-.6-1.6-.8-3.2-1.6-4.9c-.8-1.7-2-3.5-3.1-5.1c-1.1-1.6-2.4-2.6-3.5-4.3c-1.1-1.7-2.1-4-3.1-5.9c-1.1-1.9-2.3-3.6-3.3-5.6c-1.1-2.1-2.1-4.5-3.2-6.8c-1.1-2.3-2.7-4.6-3.5-6.8c-.8-2.3-.9-4.5-1.3-6.7c-.5-2.2-1.3-4.5-1.5-6.7c-.3-2.2-.1-4.3 .1-6.4c.1-2.2 .5-4.5 .8-6.6Z"/><path class="cg" style="stroke-width:0.8" d="M1279.8 2251.8c.3-2 1-3.8 1.4-5.8c.3-1.9-.4-4.4 .5-5.9c.9-1.5 3.5-2.1 5-3.3c1.5-1.2 1.9-2.9 4-4c2.1-1.1 5.5-1.9 8.4-2.7c3-.8 5.6-1.6 9.3-2.1c3.6-.4 8.2-.2 12.5-.5c4.3-.3 8.9-1 13.3-1.3c4.5-.2 9.2-0 13.5-.1c4.4-0 8.4-.1 12.6-0c4.3 0 8.8 .2 13.2 .5c4.3 .2 9.7 .3 13.1 .9c3.4 .6 5.1 1.8 7.5 2.6c2.3 .7 4.9 .8 6.7 1.8c1.8 1 2.8 2.6 4.1 4c1.2 1.4 2.5 2.4 3.4 4.4c1 2 1.6 5.1 2.3 7.7c.7 2.7 1.4 4.9 1.8 8.2c.4 3.4 .6 7.8 .8 11.7c.2 3.8 .5 7.7 .6 11.6c.1 4 .2 8 .2 12c0 4.1 .1 8.1-.1 12.1c-.1 4-.5 8-.8 11.9c-.2 4-.1 8.3-.6 11.7c-.4 3.3-1.3 5.8-1.8 8.5c-.6 2.7-.6 5.8-1.6 7.7c-.9 1.9-3 2.4-4.4 3.8c-1.4 1.4-1.9 3.3-3.9 4.5c-2.1 1.3-5.4 1.8-8.2 2.8c-2.8 1.1-5.6 3.2-8.7 3.7c-3.1 .5-6.6-.6-10-.7c-3.4-0-7 .4-10.5 .2c-3.5-.2-6.9-.9-10.3-1.3c-3.5-.4-7.7-1.1-10.4-1.2c-2.6-.1-3.6 .6-5.4 .6c-1.7 .1-3.2-.7-4.9-.4c-1.8 .3-3.7 1.5-5.6 2.2c-1.9 .8-3.7 1.6-5.7 2.5c-2.1 1-4.3 2.1-6.7 3.2c-2.3 1-5 2.4-7.4 3.2c-2.4 .9-4.9 1.3-7.2 1.8c-2.4 .5-4.8 1.1-6.9 1.2c-2.2 .2-4 0-6.1-.3c-2-.3-4.9-.7-6.3-1.5c-1.4-.9-1.3-2.4-2.2-3.6c-.8-1.2-2.4-2.6-2.8-3.9c-.4-1.3 .3-2.5 .6-3.8c.3-1.3 .5-2.6 1-4.2c.5-1.7 1.1-3.9 1.9-5.8c.9-1.8 2-3.5 3.1-5.3c1.2-1.8 2.6-3.5 4-5.3c1.3-1.9 2.7-4.3 4-5.9c1.3-1.6 2.3-2.4 3.7-3.7c1.3-1.3 3.1-3.1 4.4-4.1c1.2-.9 2.1-1.3 3.1-1.8c1-.4 2.8 .1 2.9-.8c.2-1-1.4-3.3-2.1-4.9c-.7-1.7-1.4-3.6-2.2-5.1c-.8-1.5-1.5-2.6-2.5-4c-1-1.4-2.4-2.4-3.6-4.2c-1.1-1.7-2.2-4.3-3.2-6.2c-1-1.9-1.9-3.2-2.8-5.2c-1-2-1.9-4.6-2.9-6.7c-1.1-2.2-2.5-4.1-3.3-6.2c-.8-2-.8-3.9-1.3-6.1c-.5-2.2-1.5-4.8-1.6-6.9c-.1-2.2 .6-3.9 .8-6c.2-2 0-4.2 .3-6.2Z"/><path class="cg" style="stroke-width:0.8" d="M1282 2251.6c.4-1.8 1.1-3.3 1.5-5.2c.3-1.8-.4-4.2 .4-5.7c.9-1.5 3.3-2.1 4.8-3.4c1.5-1.2 2.1-3 4.2-4.1c2.1-1 5.6-1.4 8.3-2c2.7-.7 4.5-1.3 7.9-1.8c3.5-.4 8.6-.5 12.8-.8c4.2-.3 8.4-.5 12.6-.9c4.1-.3 8.2-.9 12.5-1.1c4.3-.2 8.7-.4 13-.2c4.3 .2 8.4 .9 12.8 1.1c4.3 .3 10-0 13.2 .5c3.3 .6 4 2.1 6.2 2.8c2.3 .8 5.7 .8 7.4 1.8c1.8 .9 2.2 2.5 3.4 3.8c1.2 1.2 2.8 1.8 3.7 3.6c1 1.9 1.3 5.2 2 7.7c.6 2.6 1.3 4.3 1.8 7.5c.5 3.2 .9 7.8 1.2 11.6c.3 3.8 .4 7.4 .5 11.2c.1 3.9 .2 7.8 .2 11.7c.1 3.8-.1 7.7-.1 11.5c-0 3.7 .2 7.3-0 11.1c-.3 3.7-1 8.1-1.6 11.3c-.5 3.1-1.2 5-1.8 7.6c-.5 2.6-.6 6-1.5 7.9c-.9 1.9-2.4 2.3-3.7 3.6c-1.3 1.3-1.9 2.8-4 4c-2.1 1.3-5.9 2.3-8.6 3.4c-2.7 1-4.8 2.5-7.7 2.9c-2.9 .4-6.4-.2-9.7-.4c-3.4-.1-6.9-.1-10.3-.3c-3.4-.2-6.8-.7-10.1-1c-3.4-.3-7.5-.7-10-.9c-2.4-.1-3-.1-4.6-0c-1.7 0-3.5 .1-5.3 .5c-1.8 .4-3.8 1.4-5.5 2.1c-1.8 .7-3.1 1.2-5.1 2c-2 .8-4.6 1.8-6.8 2.8c-2.2 1-4.2 2.5-6.5 3.3c-2.4 .8-5.2 .9-7.6 1.5c-2.3 .5-4.4 1.8-6.5 1.9c-2.1 .1-4.1-1-6.1-1.4c-2.1-.4-4.8-.2-6.1-.9c-1.4-.7-1.2-2.1-1.9-3.3c-.8-1.3-2.4-2.9-2.8-4.2c-.4-1.2 .3-2.1 .5-3.4c.2-1.3 .1-2.7 .6-4.3c.5-1.6 1.6-3.4 2.3-5.1c.7-1.7 1-3.5 2-5.3c1-1.8 2.6-3.7 3.8-5.4c1.3-1.7 2.5-3.4 3.8-4.8c1.2-1.5 2.5-2.6 3.8-3.9c1.3-1.4 2.9-3.4 4.1-4.3c1.2-.9 2.1-.7 3.1-1c1-.3 2.7 .2 2.9-.8c.1-.9-1.2-3.2-1.9-4.8c-.8-1.7-1.6-3.3-2.5-4.8c-.9-1.5-2-3-2.9-4.3c-.9-1.3-1.5-2.2-2.5-3.7c-1.1-1.6-2.5-3.7-3.6-5.5c-1-1.9-1.8-3.9-2.8-5.8c-1-1.9-2-3.6-3-5.6c-1-1.9-2.2-4-2.9-6c-.7-2.1-.8-4.3-1.2-6.4c-.4-2.1-1.1-4.2-1.3-6.3c-.1-2 .3-4 .5-5.9c.2-1.9 .4-3.9 .7-5.7Z"/><path class="cg" style="stroke-width:0.8" d="M1284 2251.1c.3-1.9 .9-3.7 1.4-5.4c.4-1.7 .5-3.6 1.3-5c.8-1.4 2.2-2.3 3.6-3.4c1.4-1.1 2.7-2.4 4.8-3.3c2.1-.9 5.1-1.3 7.7-2.1c2.6-.7 4.4-1.8 7.6-2.3c3.3-.4 8 .1 12.1-.2c4.1-.3 8.4-1.3 12.6-1.5c4.2-.2 8.5 .3 12.6 .3c4 0 7.7-.4 11.9-.4c4.1-.1 8.8-.1 12.9 .1c4.1 .2 8.4 .8 11.5 1.3c3.1 .5 4.8 .8 7.1 1.6c2.4 .7 5.2 1.8 6.8 2.8c1.5 1 1.6 2 2.7 3.2c1.1 1.1 2.9 2.2 3.8 4c1 1.7 1.3 4.2 2 6.6c.6 2.3 1.4 4.4 1.9 7.4c.5 3 .9 6.9 1.3 10.5c.5 3.5 .9 7.2 1.2 10.8c.2 3.6 .3 7.1 .3 10.9c0 3.7 0 7.9-.1 11.5c-.1 3.6-.4 6.6-.7 10.1c-.2 3.6-.4 8-.9 11.2c-.4 3.1-1.1 5.2-1.7 7.6c-.6 2.4-1 4.9-1.9 6.7c-.9 1.7-2.4 2.5-3.6 3.8c-1.2 1.3-1.8 2.9-3.7 4.1c-1.9 1.2-5 2.1-7.7 3.1c-2.6 1-5.3 2.4-8.2 2.8c-2.9 .4-6.2-.3-9.3-.3c-3.1-0-6.1 .2-9.3 .1c-3.1-.2-6.4-.7-9.7-1c-3.3-.4-7.8-.9-10.2-1.1c-2.4-.2-2.6-0-4.2-0c-1.6 0-3.8-.1-5.6 .2c-1.8 .3-3.5 .9-5.1 1.7c-1.6 .7-2.5 1.8-4.5 2.8c-1.9 .9-4.8 1.9-7 2.8c-2.3 .9-4.2 2-6.4 2.7c-2.2 .8-4.7 1.1-6.9 1.6c-2.1 .4-4 1-6.1 1.1c-2.1 0-4.5-.6-6.4-.9c-2-.2-3.9 0-5.2-.7c-1.4-.7-2.1-2.3-3-3.4c-.8-1.2-1.9-2.3-2.2-3.5c-.3-1.2 .3-2.5 .4-3.7c.2-1.3 .1-2.4 .6-3.9c.5-1.4 1.9-3.4 2.6-5c.7-1.7 .7-3.5 1.6-5.1c.9-1.6 2.5-2.9 3.7-4.5c1.2-1.6 2.3-3.6 3.5-5.1c1.1-1.6 2.1-2.9 3.3-4.2c1.1-1.2 2.5-2.7 3.6-3.5c1.1-.7 2.1-.6 3-1c.9-.4 2.3-.7 2.3-1.6c.1-.8-1.5-2.2-2.1-3.6c-.6-1.4-.9-3.4-1.6-4.8c-.7-1.4-1.8-2.3-2.7-3.6c-1-1.3-1.9-2.8-2.9-4.4c-1-1.6-2.1-3.3-3.1-4.9c-1-1.7-2-3.2-2.9-5.1c-.9-1.9-1.5-4.3-2.3-6.3c-.9-2-2.2-3.8-2.9-5.6c-.6-1.9-.6-3.5-1-5.4c-.4-2-1.2-4.3-1.3-6.2c-.2-2 .2-3.7 .3-5.6c.1-1.9 .1-3.9 .4-5.8Z"/><path class="cg" style="stroke-width:0.8" d="M1286.3 2251.1c.2-1.7 .5-3.7 1-5.3c.4-1.6 .8-3 1.7-4.3c.9-1.3 2.4-2.4 3.7-3.5c1.2-1.1 1.8-2.3 3.8-3.3c2-.9 5.6-1.6 8.2-2.3c2.5-.7 4-1.5 7.1-1.9c3.1-.4 7.6-.2 11.5-.4c3.9-.2 7.9-.3 11.9-.6c4.1-.3 8.3-.9 12.3-1.1c3.9-.2 7.6-.1 11.5 0c4 .1 8 .6 12 .8c4 .2 9.2-.1 12.2 .4c3.1 .5 4.2 1.9 6.3 2.5c2.1 .7 4.7 .7 6.3 1.6c1.6 .8 2.1 2.4 3.2 3.7c1.2 1.2 2.9 1.9 3.8 3.7c.8 1.7 .8 4.5 1.4 6.7c.7 2.2 2 3.7 2.6 6.5c.6 2.8 .8 6.7 1.1 10.1c.2 3.5 .2 7.3 .5 10.7c.3 3.5 1 6.8 1.1 10.1c.1 3.4-.4 6.6-.5 10.1c-.1 3.4 .1 7.1-.1 10.5c-.2 3.5-.7 7.5-1.1 10.3c-.4 2.8-1 4.3-1.5 6.6c-.5 2.4-.6 5.7-1.5 7.5c-.8 1.8-2.4 2.2-3.7 3.3c-1.3 1.1-2 2.4-3.8 3.4c-1.8 1.1-4.8 1.7-7.2 2.7c-2.5 1-4.7 2.9-7.5 3.3c-2.8 .5-6.4-.6-9.4-.7c-3.1-.1-5.8 .1-9 0c-3.1-.1-6.7-0-9.8-.3c-3.1-.3-6.4-1.2-8.8-1.5c-2.3-.2-3.6 .1-5.2 .2c-1.6 .1-2.6 .1-4.2 .5c-1.6 .4-3.9 1.4-5.5 2c-1.6 .6-2.3 .9-4.1 1.6c-1.9 .7-4.8 1.6-7 2.6c-2.1 1-4 2.5-6.2 3.3c-2.1 .8-4.4 .8-6.6 1.2c-2.2 .4-4.7 1.2-6.6 1.2c-2 .1-3.1-.6-4.9-.8c-1.9-.2-4.9 0-6.3-.6c-1.4-.6-1.6-2.1-2.3-3.2c-.7-1.1-1.4-2.2-1.8-3.4c-.3-1.2-.3-2.7-.2-3.9c.1-1.1 .3-1.9 .8-3.2c.4-1.3 1.2-3.2 1.9-4.8c.6-1.6 1.1-3.4 1.9-5c.9-1.6 2-3.2 2.9-4.8c1-1.5 1.8-3.4 2.9-4.7c1.1-1.3 2.4-1.9 3.6-3c1.2-1.2 2.6-3 3.6-3.8c1-.8 1.7-.6 2.5-1c.8-.4 2.4-.4 2.5-1.4c.1-.9-1.3-2.9-2-4.3c-.7-1.4-1.3-2.7-2.1-3.9c-.7-1.2-1.4-2.1-2.3-3.4c-.9-1.2-2.1-2.8-3.1-4.3c-1-1.6-1.9-3.4-2.7-5.1c-.9-1.6-1.6-3.2-2.4-4.8c-.8-1.6-1.6-3-2.4-4.8c-.8-1.8-1.7-4.4-2.4-6.2c-.7-1.9-1.4-3-1.8-4.8c-.3-1.9-.2-4.3-.3-6.2c-0-2 0-3.8 .1-5.6c.1-1.7 .2-3.2 .4-4.9Z"/><path class="cg" style="stroke-width:0.8" d="M1288.7 2251c.3-1.7 .3-3.7 .6-5.3c.3-1.6 .4-3 1.4-4.2c.9-1.3 2.9-2.4 4.3-3.4c1.4-1.1 2-1.9 3.9-2.7c1.8-.8 4.7-1.5 7.2-2.1c2.4-.6 4.3-1.2 7.3-1.6c3.1-.5 7.1-.7 10.8-1c3.7-.2 7.5-.5 11.4-.7c3.8-.2 7.7-.2 11.6-.4c3.9-.2 7.9-.6 11.8-.6c3.9-.1 7.7 .2 11.4 .5c3.8 .3 8.3 .7 11.2 1.2c2.8 .5 4 1.2 6.1 1.8c2.1 .7 4.8 1.5 6.4 2.3c1.6 .8 2.2 1.7 3.3 2.8c1.1 1 2.2 1.8 3.1 3.5c.8 1.7 1.5 4.5 2.2 6.7c.6 2.1 1 3.5 1.7 6.1c.6 2.6 1.6 6.2 2 9.5c.4 3.3 .2 6.8 .4 10.1c.2 3.3 .4 6.4 .6 9.6c.1 3.1 .5 6.2 .5 9.5c-.1 3.2-.6 6.7-.8 10c-.2 3.3-.2 7.2-.5 9.9c-.3 2.7-.7 4.3-1.3 6.4c-.6 2.2-1.3 4.8-2.2 6.5c-.9 1.6-1.9 2.2-3.1 3.4c-1.2 1.2-2 2.8-3.9 3.7c-1.9 1-5 1.3-7.4 2.2c-2.4 .9-4.3 2.8-6.8 3.3c-2.6 .4-5.6-.5-8.4-.5c-2.9-.1-5.8 .1-8.8 0c-3.1-.1-6.5-.3-9.6-.6c-3.1-.3-6.7-1-8.9-1.1c-2.3-.1-2.8 .5-4.4 .6c-1.5 .1-3.4-.3-4.9 0c-1.5 .3-2.5 1.1-4 1.6c-1.5 .6-3.3 1-5.2 1.7c-1.9 .8-4.1 1.9-6.1 2.7c-2.1 .9-4.3 1.9-6.4 2.5c-2.1 .6-4.3 .8-6.4 1.2c-2.1 .5-4.3 1.4-6.2 1.5c-1.9 .1-3.4-.8-5.1-1.1c-1.8-.3-4-.1-5.3-.7c-1.4-.5-1.8-1.5-2.6-2.6c-.8-1-1.9-2.5-2.2-3.6c-.3-1.1 .3-1.9 .4-2.9c.1-1-.2-1.9 .1-3.2c.3-1.3 1.5-3.2 2-4.7c.5-1.5 .4-3.1 1.2-4.6c.7-1.5 2.3-2.9 3.4-4.5c1.1-1.6 2.1-3.5 3-4.9c1-1.4 1.7-2.2 2.7-3.3c1-1 2.5-2.1 3.5-2.9c.9-.7 1.6-1.2 2.3-1.6c.7-.4 1.8 .1 1.9-.7c0-.8-.9-2.7-1.5-4c-.6-1.3-1.3-2.6-2.1-3.9c-.8-1.2-1.8-2.4-2.6-3.6c-.9-1.2-1.9-2.2-2.7-3.7c-.7-1.4-1.2-3.3-2.1-4.9c-.8-1.5-2-2.6-2.8-4.2c-.9-1.6-1.6-3.7-2.4-5.5c-.8-1.9-2-3.6-2.5-5.3c-.5-1.7-.4-3.4-.6-5.1c-.3-1.7-.8-3.4-.9-5.1c-.1-1.7-0-3.4 .1-5c.2-1.7 .7-3.3 .9-5Z"/><path class="cg" style="stroke-width:0.8" d="M1291 2250.8c.3-1.6 .2-3.6 .6-5.1c.3-1.5 .6-2.8 1.4-4c.8-1.2 2.1-2 3.4-3.1c1.2-1.1 2.3-2.6 4.2-3.4c1.8-.7 4.5-.8 6.8-1.3c2.4-.4 4.2-.9 7.2-1.3c3-.3 7.3-.5 11-.8c3.7-.4 7.4-.9 10.9-1.2c3.6-.3 6.9-.5 10.6-.5c3.6-0 7.7 .2 11.5 .3c3.8 .1 7.7 0 11.3 .2c3.6 .2 7.6 .4 10.4 .8c2.8 .5 4.3 1.3 6.3 1.9c2 .6 4 .9 5.5 1.7c1.6 .8 2.5 2 3.6 2.9c1.2 1 2.4 1.4 3.3 3c.9 1.6 1.3 4.6 2 6.6c.7 2.1 1.6 3.3 2.2 5.8c.5 2.5 .8 6.3 1.2 9.3c.3 3.1 .8 5.8 1 8.9c.3 3.1 .3 6.5 .5 9.6c.1 3.1 .4 6 .5 9c-0 3.1-.1 6.4-.4 9.4c-.2 3.1-.7 6.5-1.2 9.1c-.5 2.6-1.2 4.3-1.6 6.3c-.5 2.1-.5 4.5-1.2 6c-.7 1.6-2 2.1-3.2 3.2c-1.2 1.2-2.4 2.8-4.1 3.8c-1.8 .9-4.2 1.2-6.3 2c-2.2 .8-4.3 2.4-6.9 2.8c-2.5 .4-5.6-.5-8.5-.4c-2.8 .1-5.7 .8-8.5 .7c-2.8-.1-5.4-1-8.3-1.3c-2.9-.3-6.9-.5-9.1-.5c-2.3-.1-3.1 .3-4.5 .3c-1.4-.1-2.5-.8-4-.5c-1.5 .2-3.2 1.3-4.7 2c-1.6 .6-2.9 1-4.7 1.7c-1.8 .8-4.1 1.9-6.1 2.7c-2 .8-4 1.3-6 1.9c-1.9 .6-3.7 1.3-5.6 1.8c-2 .6-4.1 1.3-5.9 1.4c-1.9 0-3.6-.5-5.3-.8c-1.7-.4-3.8-.7-5.1-1.3c-1.3-.7-1.9-1.5-2.6-2.5c-.8-1-1.7-2.4-2-3.4c-.2-1 .2-1.7 .3-2.7c0-.9-.2-1.7 0-3c.2-1.3 .6-3.2 1.1-4.7c.5-1.5 .9-2.8 1.7-4.3c.7-1.4 1.9-3 2.8-4.4c.8-1.3 1.3-2.5 2.1-3.7c.8-1.2 1.7-2.4 2.8-3.5c1.1-1 2.7-2.3 3.7-3c.9-.7 1.2-.7 1.9-1.1c.7-.4 2.2-.4 2.2-1.1c.1-.8-1.3-2.3-1.9-3.4c-.6-1.2-.9-2.5-1.6-3.7c-.7-1.3-1.8-2.6-2.7-3.8c-.9-1.2-1.8-1.9-2.6-3.2c-.8-1.2-1.5-2.8-2.3-4.3c-.8-1.4-1.7-2.9-2.5-4.5c-.8-1.5-1.4-3.2-2.1-4.9c-.7-1.6-1.6-3.4-2.1-5.1c-.5-1.7-.6-3.3-1-4.9c-.3-1.6-.8-2.9-.9-4.6c-.1-1.7 .1-3.8 .3-5.5c.2-1.6 .9-2.8 1.2-4.3Z"/><path class="cg" style="stroke-width:0.8" d="M1293 2249.9c.3-1.4 .3-2.4 .7-3.8c.4-1.3 1.1-3.1 1.9-4.3c.8-1.2 1.7-1.8 2.8-2.7c1.2-.9 2.2-1.8 4-2.6c1.8-.8 4.7-1.4 7-2.1c2.2-.6 3.7-1.4 6.4-1.7c2.8-.3 6.7 .1 10.2-.1c3.5-.1 7.2-.6 10.7-.9c3.6-.2 7.1-.5 10.7-.7c3.6-.2 7.3-.5 10.9-.4c3.6 .2 7.2 .8 10.7 1.1c3.5 .3 7.6 .4 10.3 .8c2.7 .3 3.9 .9 5.8 1.4c1.9 .5 4 .9 5.5 1.7c1.5 .8 2.4 2.3 3.5 3.2c1.1 .9 2.1 .8 3 2.2c.9 1.4 1.6 3.9 2.3 6c.7 2 1.4 3.6 2 6c.5 2.4 .7 5.6 1.2 8.5c.4 2.9 1.2 6.1 1.5 9c.4 2.8 .4 5.2 .5 8.1c.1 2.9 .2 6.5 .1 9.5c-.1 2.9-.1 5.4-.4 8.2c-.2 2.8-.8 6.1-1.1 8.5c-.4 2.5-.4 4.1-.8 6.1c-.5 2-1.1 4.5-2 6c-.8 1.6-2.2 2.2-3.2 3.2c-1 1.1-1.4 2.1-3 3c-1.5 .8-4.1 1.2-6.3 2c-2.2 .7-4.5 2.3-6.9 2.7c-2.5 .4-5.1-.3-7.8-.4c-2.7-0-5.8 .1-8.6 .1c-2.7-.1-5.2-.1-7.9-.3c-2.7-.2-6.1-.7-8.2-.8c-2.1-.1-2.8 .3-4.3 .3c-1.5 .1-3-.2-4.5 .1c-1.5 .3-3 1.1-4.5 1.6c-1.4 .5-2.7 1-4.4 1.6c-1.6 .6-3.5 1.3-5.4 2c-1.8 .7-3.7 1.8-5.7 2.4c-1.9 .5-4.2 .6-6.1 .9c-2 .4-3.9 1.1-5.6 1.2c-1.8 0-3.2-.5-4.8-.6c-1.7-.1-3.9 .3-5.1-.2c-1.2-.6-1.3-1.9-2.1-2.9c-.8-1-2.3-2.2-2.8-3.2c-.4-1 .1-2 .2-2.9c.1-.9 .2-1.5 .4-2.7c.3-1.1 .7-2.9 1.1-4.2c.4-1.3 .9-2.2 1.4-3.5c.5-1.3 .9-2.6 1.7-4.1c.7-1.4 1.7-3.5 2.6-4.7c.9-1.2 1.9-1.6 2.8-2.6c.9-1 1.8-2.6 2.6-3.3c.8-.7 1.6-.6 2.2-.9c.6-.3 1.3-.2 1.4-1c0-.7-.7-2.2-1.2-3.3c-.5-1.1-1.1-2.2-1.7-3.2c-.7-1.1-1.4-2-2.2-3.1c-.9-1.2-2-2.4-2.9-3.7c-.9-1.3-1.6-3-2.3-4.3c-.8-1.4-1.5-2.6-2.2-4c-.6-1.5-1.1-3.3-1.8-4.8c-.7-1.5-2-2.8-2.4-4.3c-.4-1.6-0-3.5-.1-5.1c-.2-1.6-.6-2.9-.7-4.4c-.2-1.6-.4-3.3-.2-4.9c.1-1.6 .8-3.3 1.1-4.7Z"/><path class="cg" style="stroke-width:0.8" d="M1294.9 2249.6c.2-1.3 .5-2.2 .9-3.3c.5-1.2 1-2.6 1.9-3.6c.8-1.1 2.1-1.9 3.2-2.8c1-1 1.4-2.4 2.9-3.1c1.6-.8 4.2-.9 6.5-1.4c2.2-.6 4.3-1.4 7-1.8c2.7-.4 6.1-.4 9.4-.5c3.3-.2 6.9-.3 10.3-.5c3.5-.2 6.8-.6 10.3-.8c3.5-.1 7.3-.3 10.7-.2c3.5 .1 6.8 .6 10.2 .9c3.4 .3 7.5 .5 10.1 .8c2.6 .3 3.7 .5 5.5 1.1c1.8 .5 3.9 1.4 5.4 2.2c1.4 .8 2.2 1.7 3.2 2.5c1 .8 1.9 1 2.7 2.3c.8 1.3 1.4 3.7 2.1 5.5c.7 1.9 1.4 3.1 2 5.4c.6 2.3 1 5.8 1.5 8.5c.5 2.8 1.3 5.1 1.7 7.8c.4 2.7 .5 5.9 .6 8.6c.1 2.8-.1 5.4-.1 8.1c0 2.6 .2 5.3 0 8c-.1 2.6-.6 5.6-.9 8c-.4 2.3-.9 4.3-1.4 6.2c-.5 1.8-.9 3.6-1.6 4.9c-.7 1.4-1.7 2.1-2.8 3.1c-1 1-2 2-3.6 2.9c-1.6 .9-3.9 1.6-5.9 2.3c-2 .8-3.7 1.8-6 2.2c-2.3 .4-5.3 .1-7.8 .1c-2.6-0-4.9-.3-7.6-.3c-2.6-.1-5.7 .1-8.3-0c-2.7-.2-5.6-.6-7.6-.7c-2.1-.1-3.1-.1-4.6-.1c-1.4-.1-2.7-.5-4.1-.2c-1.3 .2-2.7 1.1-4.1 1.7c-1.4 .5-2.6 .7-4.2 1.4c-1.6 .7-3.7 1.8-5.5 2.6c-1.9 .8-3.7 1.7-5.5 2.2c-1.9 .4-3.9 .1-5.7 .5c-1.9 .3-3.6 1.6-5.2 1.7c-1.7 .1-3.1-.8-4.8-1.1c-1.6-.3-4-.3-5.2-.9c-1.2-.5-1.1-1.6-1.7-2.5c-.7-.8-1.8-1.7-2.2-2.6c-.4-.8-.1-1.8-.1-2.7c0-.9 .1-1.5 .2-2.5c.1-1.1 .2-2.6 .4-3.8c.2-1.3 .5-2.5 1-3.8c.6-1.2 1.6-2.5 2.4-3.8c.7-1.2 1.4-2.5 2.1-3.7c.8-1.1 1.5-2.3 2.2-3.2c.7-.9 1.5-1.6 2.1-2.2c.7-.7 1.3-1.3 1.9-1.7c.6-.4 1.6-.2 1.6-.8c.1-.6-.8-1.8-1.3-2.8c-.5-1-1.1-2.2-1.6-3.4c-.6-1.1-1.1-2.3-1.7-3.3c-.6-1-1.4-1.7-2.1-2.7c-.8-1.1-1.5-2.4-2.2-3.8c-.8-1.4-1.6-3.1-2.4-4.6c-.8-1.4-1.8-2.5-2.4-3.9c-.6-1.3-.9-2.7-1.2-4.2c-.4-1.5-.8-2.9-1.1-4.5c-.3-1.5-.6-3.4-.6-4.9c.1-1.5 .7-2.5 .9-4c.2-1.5 0-3.4 .2-4.8Z"/><path class="cg" style="stroke-width:0.8" d="M1296.9 2249.3c.2-1.2 .7-2.2 1.1-3.3c.3-1.1 .3-2.2 1-3.3c.8-1 2.1-2.1 3.3-3c1.2-1 2.3-2.1 4-2.7c1.6-.6 4-.6 6-.9c2-.4 3.4-.9 6-1.2c2.7-.3 6.8-.6 10-.8c3.2-.3 6.1-.6 9.3-.8c3.3-.2 6.7-.2 10-.3c3.4-.1 6.6-.5 9.9-.4c3.2 0 6.4 .5 9.6 .7c3.2 .1 7.2-.1 9.7 .2c2.5 .4 3.6 1.4 5.4 2c1.8 .6 4.1 1.1 5.4 1.7c1.2 .6 1.4 1.1 2.4 1.9c1 .7 2.6 1.3 3.5 2.6c.8 1.3 .9 3.6 1.5 5.3c.7 1.7 1.8 2.8 2.5 5c.8 2.1 1.5 5.3 1.9 7.9c.4 2.5 .4 4.9 .6 7.4c.3 2.4 .5 4.7 .8 7.2c.2 2.6 .8 5.6 .9 8.2c0 2.6-.5 4.8-.6 7.4c-.2 2.6-.2 6.1-.5 8.2c-.4 2.2-1.2 3.1-1.7 4.8c-.4 1.6-.4 3.8-1 5.1c-.6 1.2-1.7 1.5-2.8 2.4c-1 .9-2.1 2.2-3.6 3.1c-1.6 .9-3.8 1.7-5.7 2.4c-1.9 .6-3.6 1.4-5.7 1.6c-2.2 .3-4.7-0-7.2 .1c-2.4 .1-4.9 .7-7.4 .6c-2.4-0-4.7-.7-7.3-.8c-2.6-.2-6.2-.1-8.2-.1c-2-.1-2.6-.1-3.9-.2c-1.2-.1-2.2-.5-3.5-.3c-1.3 .2-2.8 1.1-4.2 1.6c-1.3 .6-2.2 1.2-3.8 1.8c-1.7 .6-4 1.2-5.9 1.8c-1.9 .6-3.6 1.3-5.4 1.8c-1.9 .4-4 .5-5.7 .8c-1.7 .3-3 .9-4.6 1c-1.6 .1-3.5-.2-5.1-.3c-1.5-.2-3 .1-4.1-.3c-1.1-.5-1.8-1.7-2.6-2.6c-.7-.9-1.7-2-2-2.8c-.3-.8 .2-1.3 .1-2.2c-0-.9-.7-2-.5-3.1c.1-1 .9-2.2 1.3-3.3c.4-1.1 .6-2 1-3.2c.3-1.1 .5-2.6 1-3.9c.6-1.3 1.8-2.7 2.5-3.8c.8-1 1.3-1.7 2-2.5c.7-.9 1.4-2.1 2-2.7c.6-.6 1.1-.7 1.6-.9c.5-.2 1.3 .4 1.3-.2c0-.7-.7-2.7-1.2-3.8c-.4-1.1-.6-2.1-1.3-3c-.6-.8-1.9-1.4-2.7-2.3c-.7-1-1.2-2-1.8-3.2c-.6-1.2-1.3-2.6-1.9-3.8c-.7-1.3-1.1-2.6-1.7-3.8c-.7-1.2-1.4-2.3-2-3.6c-.7-1.3-1.4-2.7-1.8-4.1c-.3-1.5-.4-3.1-.6-4.4c-.2-1.4-.5-2.3-.5-3.7c.1-1.4 .6-3.3 .8-4.8c.1-1.4-.1-2.9 .1-4.2Z"/><path class="cg" style="stroke-width:0.8" d="M1299.5 2249.8c.4-1.1 .7-2.3 1-3.4c.4-1.1 .5-2.2 1.3-3.3c.7-1 2.2-2.1 3.1-3c.9-.9 1.1-1.7 2.5-2.3c1.4-.5 3.9-.5 5.9-.9c2-.4 3.7-1 6.3-1.4c2.5-.4 6-.5 9.1-.8c3.1-.2 6.6-.3 9.6-.6c3.1-.2 5.7-.6 8.8-.7c3.1-.1 6.7-.1 9.9-.1c3.3-0 6.6-0 9.7 .2c3 .2 6.4 .7 8.7 1c2.4 .4 3.6 .7 5.3 1.1c1.7 .5 3.6 .8 4.9 1.5c1.3 .7 2 2 2.9 2.8c.9 .9 1.8 1.2 2.7 2.4c.9 1.2 1.8 3.2 2.6 4.7c.8 1.6 1.5 2.7 2.1 4.6c.7 1.9 1.3 4.4 1.8 6.8c.5 2.4 1 5.2 1.3 7.6c.3 2.3 .4 4.3 .5 6.6c.1 2.3 .1 4.9 .1 7.3c.1 2.4 .4 4.6 .3 7.1c-0 2.5-.1 5.6-.5 7.7c-.4 2.1-1.3 3.3-1.8 4.9c-.4 1.5-.2 3.3-.9 4.5c-.7 1.2-2.3 2-3.3 2.8c-1.1 .8-1.6 1-2.9 1.8c-1.4 .7-3.6 1.9-5.4 2.7c-1.8 .8-3.6 1.7-5.6 2c-2.1 .3-4.5-.2-6.9-.2c-2.3 .1-4.8 .5-7.1 .5c-2.3 0-4.4-.3-6.7-.5c-2.4-.2-5.7-.4-7.6-.5c-1.8-.2-2.3-.2-3.7-.2c-1.3-.1-2.8-.4-4.1-.1c-1.3 .2-2.4 1.2-3.7 1.7c-1.3 .5-2.6 .5-4.1 1.1c-1.6 .5-3.5 1.3-5.3 1.9c-1.7 .6-3.3 1.1-5 1.6c-1.7 .5-3.5 1.2-5.2 1.5c-1.8 .4-3.7 .5-5.4 .5c-1.6-0-3-.4-4.4-.7c-1.3-.2-2.8-.4-3.9-.8c-1-.4-1.8-.9-2.4-1.6c-.7-.8-1.2-2-1.5-2.8c-.4-.8-.3-1.2-.5-1.9c-.1-.7-.3-1.4-.3-2.3c.1-.9 .5-2 .7-3.1c.2-1.1 .3-2.2 .6-3.4c.3-1.2 .8-2.7 1.2-3.9c.5-1.2 .8-2.3 1.4-3.2c.7-.8 1.9-1.1 2.5-2c.7-.9 .9-2.6 1.4-3.2c.5-.7 1.1-.4 1.6-.6c.4-.2 1 .2 1.1-.4c0-.6-.5-2.4-.9-3.4c-.4-1.1-.8-1.9-1.4-2.8c-.6-.9-1.6-1.8-2.2-2.7c-.7-.8-1-1.3-1.6-2.3c-.7-.9-1.6-2.4-2.2-3.5c-.7-1.1-1.1-2-1.7-3.2c-.6-1.2-1.3-2.7-1.8-4c-.6-1.4-1.4-2.9-1.6-4.2c-.3-1.2 .1-2.1-.1-3.4c-.2-1.3-1.1-3.2-1.2-4.5c-.1-1.4 .3-2.5 .6-3.7c.3-1.1 1-2.2 1.4-3.3Z"/><path class="cg" style="stroke-width:0.8" d="M1301.1 2249.3c.4-1.1 1.1-2 1.4-3.1c.4-1.1 .2-2.6 .8-3.5c.7-.8 2.2-.8 3.2-1.5c1.1-.7 1.6-2.3 3-2.9c1.4-.7 3.4-.6 5.4-1c1.9-.5 3.7-1.3 6.2-1.7c2.4-.4 5.7-.6 8.7-.7c2.9-.1 6 .3 9 .2c3-.1 6.1-.5 9.1-.7c3-.1 5.9-.3 8.8-.3c3 .1 5.9 .7 8.8 .9c3 .2 6.7-0 9.1 .3c2.3 .3 3.5 .9 5.1 1.4c1.6 .5 3.4 .9 4.5 1.4c1.2 .6 1.5 1 2.4 1.7c.8 .8 1.7 1.7 2.6 2.8c.9 1.1 1.9 2.4 2.7 3.8c.8 1.4 1.5 2.8 2.1 4.6c.6 1.9 .9 4.3 1.4 6.5c.4 2.2 1 4.6 1.4 6.7c.4 2.2 .6 4 .9 6.3c.2 2.2 .6 5 .7 7.3c.1 2.3 .1 4.2-0 6.3c-.2 2.2-.5 4.7-.8 6.5c-.3 1.9-.7 3.2-1.2 4.7c-.4 1.6-.8 3.5-1.4 4.6c-.6 1.2-1.4 1.6-2.3 2.3c-.9 .7-2 1.3-3.3 2c-1.3 .8-3 1.8-4.8 2.5c-1.7 .7-3.6 1.2-5.5 1.5c-2 .3-4.1 .2-6.2 .3c-2.2 0-4.5-.1-6.7-.1c-2.3-.1-4.7-.1-7-.2c-2.3-.2-5.3-.6-7.1-.6c-1.7-0-2.3 .5-3.5 .6c-1.3 .1-2.7-.3-3.9-.2c-1.2 .1-2.1 .6-3.3 1c-1.2 .4-2.3 1-3.9 1.5c-1.5 .5-3.7 .8-5.4 1.4c-1.7 .6-3.3 1.6-4.9 2.1c-1.6 .5-3.2 .6-4.8 .9c-1.7 .2-3.5 .8-5 .8c-1.4-0-2.4-.8-3.8-1c-1.5-.2-3.8 .3-4.9-.1c-1-.5-.9-1.7-1.5-2.5c-.7-.8-2.1-1.7-2.4-2.3c-.4-.7 .1-.9 .1-1.6c-0-.7-.3-1.8-.3-2.7c0-.9 .2-1.8 .3-2.8c0-1-.2-2.1 .1-3.1c.2-1 1.2-1.6 1.6-2.6c.4-1 .4-2.3 .9-3.3c.4-1 1.4-2.1 2-2.8c.6-.7 1.2-1.2 1.6-1.6c.4-.5 .2-.7 .7-1.1c.4-.4 1.9-.5 1.9-1.2c.1-.6-1.1-1.6-1.6-2.5c-.4-.9-.5-1.8-1.1-2.7c-.5-.9-1.4-1.7-2-2.6c-.7-.8-1.2-1.7-1.7-2.5c-.5-.9-1-1.6-1.6-2.5c-.6-1-1.3-2.3-1.9-3.5c-.6-1.1-1.2-2.1-1.6-3.3c-.5-1.2-.7-2.7-1.1-4c-.4-1.3-.9-2.6-1.1-3.8c-.3-1.2-.3-2.2-.2-3.4c.1-1.1 .6-2.3 .8-3.4c.2-1.2 .2-2.4 .5-3.5Z"/><path class="cg" style="stroke-width:0.8" d="M1303 2248.9c.4-.9 1-1.9 1.5-2.8c.5-.9 .9-1.7 1.6-2.5c.6-.9 1.6-1.9 2.4-2.6c.9-.7 1.1-1.2 2.5-1.7c1.3-.5 3.8-.7 5.7-1.1c1.8-.4 3.1-1 5.4-1.4c2.3-.4 5.6-.7 8.4-.9c2.8-.3 5.4-.4 8.3-.5c2.9-.1 6.2 .1 9.1 .1c2.8-.1 5.2-.1 8-.2c2.8-.1 6-.2 8.9-.2c2.9 .1 6.2 .1 8.4 .5c2.2 .4 3.2 1.4 4.8 1.9c1.6 .5 3.6 .7 4.8 1.2c1.2 .5 1.4 1.1 2.3 1.7c.9 .7 2.2 1.2 3.1 2.2c.8 1 1.3 2.5 2 3.9c.6 1.3 1.4 2.3 1.9 4c.6 1.7 1 4.1 1.5 6.2c.5 2 1.3 4.1 1.7 6.2c.4 2.1 .6 4.2 .9 6.3c.2 2 .5 3.9 .5 5.9c.1 2.1-.2 4-.3 6.1c-.2 2.1-.2 4.8-.4 6.5c-.2 1.7-.5 2.3-.9 3.7c-.3 1.3-.6 3.1-1.3 4.3c-.7 1.1-2 1.6-2.9 2.4c-.8 .7-1 1.4-2.2 2.1c-1.2 .6-3.4 1.3-5 1.9c-1.7 .6-3.2 1.6-5 1.9c-1.9 .3-4.1 0-6.2 0c-2.1 0-4.1 .1-6.2 .1c-2.2-.1-4.4-.4-6.7-.5c-2.2-.1-5.1-.1-6.7-.1c-1.7-0-2.1 .2-3.2 .1c-1.1-.1-2.2-.7-3.4-.5c-1.2 .2-2.6 1.2-3.8 1.7c-1.2 .5-1.9 .7-3.4 1.1c-1.4 .4-3.5 .9-5.1 1.3c-1.7 .5-3 .8-4.6 1.2c-1.6 .4-3.7 .9-5.2 1.3c-1.6 .3-2.7 .9-4 .9c-1.3-.1-2.6-1-4-1.2c-1.4-.2-3.2 .2-4.2-.2c-1-.3-1.1-1.5-1.8-2.1c-.7-.6-2.1-.7-2.5-1.4c-.4-.6 .1-1.8-0-2.6c-.1-.8-.4-1.3-.4-2.1c-.1-.8 .1-1.8 .1-2.6c0-.9-.4-1.4-.2-2.3c.2-1 1-2.5 1.3-3.4c.3-1 .2-1.8 .6-2.5c.4-.8 1.3-1.2 1.8-2c.6-.7 1-2.1 1.3-2.6c.4-.4 .5-.1 .9-.3c.4-.2 1.3-.6 1.3-1.1c.1-.6-.6-1.3-1-2.1c-.4-.7-1-1.6-1.5-2.5c-.5-.8-1-1.9-1.6-2.7c-.6-.9-1.3-1.5-2-2.3c-.6-.8-1.2-1.8-1.8-2.8c-.5-1-.9-2-1.3-3.1c-.5-1-.7-2.2-1.1-3.3c-.4-1.1-1.2-2.1-1.6-3.3c-.4-1.1-.5-2.5-.6-3.5c-.2-1.1-.1-1.7-0-2.8c.1-1.1 .3-2.7 .5-3.8c.2-1.2 .3-2.1 .6-3.1Z"/><path class="cg" style="stroke-width:0.8" d="M1305.4 2248.5c.3-1 1.1-1.5 1.5-2.4c.4-.8 .2-2.2 .8-2.9c.5-.7 1.7-.7 2.5-1.3c.9-.5 1.3-1.3 2.6-1.9c1.3-.6 3.6-1.2 5.3-1.7c1.8-.5 2.9-.9 5-1.2c2.1-.3 5.1-.5 7.8-.6c2.6-.1 5.3 .1 8.1 .1c2.8-.1 5.9-.6 8.6-.7c2.8-0 5.1 .2 7.9 .2c2.7 0 5.7-.3 8.5-.2c2.8 0 6.3 .2 8.3 .5c2.1 .3 2.6 .8 4 1.2c1.5 .5 3.6 .9 4.8 1.5c1.1 .5 1.4 1.4 2.3 1.9c.8 .6 1.9 .6 2.6 1.4c.8 .9 1.3 2.7 2 3.9c.6 1.3 1.3 2 1.9 3.5c.7 1.6 1.4 4.1 2.1 6c.7 1.9 1.7 3.4 2.1 5.3c.5 1.8 .5 3.9 .7 5.8c.1 1.9 .1 3.5 .2 5.4c.1 1.9 .5 4.2 .4 6.1c-.1 1.9-.6 3.7-.9 5.3c-.2 1.5-.3 2.8-.7 4.1c-.4 1.2-1 2.5-1.7 3.5c-.6 1-1.4 1.8-2.1 2.5c-.7 .7-1 1.1-2.2 1.6c-1.1 .5-2.9 .8-4.5 1.4c-1.7 .6-3.5 1.5-5.3 1.9c-1.8 .4-3.7 .4-5.6 .5c-1.9 .1-3.9 0-6 0c-2 0-4.2-0-6.3-.1c-2.1-0-4.5-.1-6.2-.2c-1.6-0-2.6-0-3.7-.1c-1.2-.1-2.1-.5-3.2-.3c-1 .2-2.3 1.2-3.4 1.6c-1 .4-1.8 .5-3.1 .9c-1.3 .4-2.9 1-4.5 1.4c-1.6 .4-3.5 .8-5.1 1c-1.5 .3-2.9 .5-4.3 .7c-1.4 .3-2.8 .7-4.2 .7c-1.4 .1-2.8-.5-4.2-.5c-1.3-.1-2.7 .5-3.7 .1c-1-.3-1.4-1.8-2.1-2.4c-.7-.6-1.7-.7-2-1.3c-.3-.6 .2-1.5 .2-2.2c-.1-.6-.3-1-.5-1.7c-.1-.6-.3-1.3-.4-2.1c-0-.8-.1-1.8-0-2.8c.1-1 .4-2.1 .7-3c.2-1 .4-1.8 .7-2.6c.4-.7 1-1.4 1.4-1.9c.4-.6 .8-1.1 1.1-1.5c.3-.4 .3-.7 .6-.9c.4-.2 1.3 .1 1.3-.4c0-.5-.7-2-1.2-2.8c-.5-.8-1.2-1.2-1.8-1.9c-.5-.7-1.2-1.4-1.7-2.2c-.4-.8-.6-1.6-1-2.5c-.5-.9-1.4-1.8-1.8-2.7c-.5-.8-.7-1.6-1.1-2.6c-.4-1-.9-2.4-1.3-3.4c-.4-.9-.8-1.3-1-2.3c-.2-1-.1-2.5-.3-3.6c-.2-1-.8-1.8-.7-2.7c.1-.9 .8-1.7 1.1-2.7c.3-1.1 .3-2.7 .7-3.7Z"/><path class="cg" style="stroke-width:0.8" d="M1307.1 2248.2c.3-.9 .7-1.6 1.2-2.3c.5-.7 1.2-1.3 1.8-1.9c.7-.6 1.3-1.2 2.1-1.9c.9-.7 1.6-1.7 2.8-2.1c1.3-.5 3.4-.4 5-.6c1.7-.3 2.9-.7 4.9-.9c2.1-.3 5-.3 7.5-.5c2.4-.2 4.8-.7 7.3-.9c2.5-.1 4.9-.1 7.4-.2c2.6-0 5.3-.3 8-.2c2.6-0 5.2 .2 7.9 .3c2.7 .2 6.3 .5 8.3 .7c2 .2 2.3 0 3.7 .4c1.4 .3 3.3 1.2 4.5 1.8c1.2 .5 1.8 1 2.6 1.5c.7 .4 1.2 .5 1.9 1.2c.7 .7 1.5 2 2.3 3.2c.8 1.3 1.8 2.6 2.5 4.1c.8 1.4 1.3 3 1.9 4.6c.6 1.7 1.3 3.5 1.7 5.3c.4 1.8 .6 3.7 .9 5.4c.3 1.6 .8 2.8 .9 4.5c.1 1.6-0 3.8-.2 5.5c-.2 1.7-.7 3.3-1 4.8c-.3 1.5-.4 3-.8 4.2c-.3 1.3-.8 2.5-1.4 3.3c-.6 .7-1.3 .9-1.9 1.5c-.6 .6-.8 1.4-1.9 2c-1.1 .6-3 1-4.6 1.6c-1.5 .5-3.1 1.5-4.8 1.8c-1.7 .3-3.6 .1-5.5 .1c-1.9-0-3.9-.3-5.8-.3c-1.8-.1-3.4-.1-5.3-0c-2-0-4.8 .2-6.4 .1c-1.5-0-1.7-.5-2.8-.4c-1 .1-2.3 .6-3.5 .8c-1.1 .2-2.4 .4-3.4 .6c-1 .3-1.3 .5-2.6 .9c-1.3 .4-3.5 1.2-5.1 1.6c-1.5 .4-2.9 .6-4.2 .8c-1.4 .3-2.4 .6-3.8 .8c-1.4 .2-3.3 .3-4.7 .4c-1.4 0-2.3 .1-3.5-.1c-1.3-.1-3-.4-4-.8c-.9-.3-.9-.7-1.6-1.2c-.6-.5-1.8-1.4-2.2-2c-.4-.6-.1-1.1-.3-1.7c-.1-.5-.4-1.1-.5-1.7c-.1-.6-.3-1.3-.3-2c0-.7 .2-1.4 .3-2.2c.1-.7 .2-1.4 .3-2.3c-0-.9-.3-2.3-.2-3.1c.2-.8 .7-1 1.1-1.5c.4-.5 1-1.3 1.3-1.6c.3-.4 .3-.3 .5-.6c.2-.3 .7-.7 .5-1.1c-.1-.5-.9-1.2-1.3-1.8c-.4-.5-.6-1.1-1-1.8c-.4-.7-1.1-1.8-1.5-2.5c-.5-.8-.7-1.1-1.1-1.9c-.5-.7-1-1.8-1.4-2.6c-.4-.8-.7-1.4-1.1-2.2c-.4-.8-1.1-1.6-1.5-2.5c-.4-1-.9-2.2-1.1-3.2c-.2-1-.1-2-.1-2.9c-0-.9-.1-1.4 .1-2.3c.1-.9 .8-2.1 1-3.1c.2-1 0-2 .2-2.9Z"/><path class="cg" style="stroke-width:0.8" d="M1309.6 2248.4c.4-.7 .9-1.3 1.2-2c.4-.7 .4-1.6 1-2.2c.5-.7 1.5-1 2.3-1.5c.8-.5 1.5-1 2.6-1.6c1.2-.5 2.7-1.3 4.2-1.6c1.5-.3 2.8-.1 4.8-.3c2-.2 4.8-.8 7.2-1c2.3-.2 4.5-0 6.9-.2c2.5-.1 5.4-.5 7.9-.6c2.5-.2 4.8-.3 7.2-.2c2.4 0 4.7 .4 7.2 .5c2.5 .2 5.7 .1 7.7 .4c1.9 .2 2.7 .9 4.1 1.1c1.4 .3 3.2 .3 4.2 .6c1 .4 1 1.2 1.7 1.7c.7 .5 1.8 .7 2.6 1.4c.8 .8 1.4 2.2 2.2 3.2c.8 1 1.6 1.5 2.4 2.8c.8 1.2 1.5 3.1 2.2 4.7c.6 1.5 1.4 3 1.8 4.6c.3 1.6 .1 3.2 .4 4.8c.3 1.6 1.1 3 1.3 4.6c.3 1.5 .2 3.2 0 4.7c-.1 1.5-.8 3.1-1.1 4.4c-.3 1.3-.1 2.2-.5 3.3c-.4 1-1.2 2.2-1.7 3c-.6 .8-1.1 1.3-1.8 1.9c-.6 .6-1 1.3-2 1.9c-1.1 .6-2.9 1-4.3 1.5c-1.4 .4-2.6 1-4.1 1.3c-1.5 .2-3.1 .1-4.8 .1c-1.8 .1-3.9 .3-5.7 .4c-1.8 0-3.5 .1-5.3 .1c-1.8-.1-4.1-.4-5.5-.6c-1.5-.1-2.1-.1-3.2-.1c-1 0-2.2-.1-3.2 .1c-1.1 .2-2.1 .8-3.2 1.2c-1.1 .3-2.1 .7-3.2 1.1c-1.2 .3-2.3 .7-3.6 1c-1.3 .3-2.9 .5-4.2 .8c-1.4 .3-2.5 .7-3.9 .8c-1.4 .2-3.3 .1-4.5 0c-1.3 0-2-0-3.1-.1c-1.2-.1-2.7-0-3.6-.4c-1-.3-1.3-.9-2-1.5c-.7-.6-1.9-1.3-2.2-1.8c-.4-.6 .2-.9 .1-1.4c-.2-.4-.6-.9-.9-1.4c-.2-.5-.2-1-.4-1.6c-.2-.5-.7-1.2-.7-2c-.1-.7 .5-1.7 .5-2.5c0-.7-.5-1.4-.4-2c.1-.6 .9-1.2 1.1-1.8c.3-.6 .3-1.3 .4-1.7c.1-.3 .1-.2 .4-.4c.2-.3 1-.7 1-1.1c0-.4-.5-.8-.8-1.4c-.4-.5-.9-1.3-1.3-1.9c-.5-.6-.8-1.1-1.3-1.7c-.6-.7-1.4-1.5-1.9-2.1c-.6-.7-1-1.2-1.3-1.9c-.4-.6-.6-1.3-.8-2.1c-.3-.8-.5-1.8-.8-2.8c-.2-.9-.8-2.1-.9-2.9c-.2-.8 .1-1.1 .1-1.9c.1-.8 .1-2 .2-2.9c.1-1 .3-1.9 .5-2.7c.2-.8 .5-1.4 .8-2.1Z"/><path class="cg" style="stroke-width:0.8" d="M1311.8 2247.8c.4-.8 .9-1.3 1.3-1.9c.4-.6 .5-1.1 1.1-1.6c.5-.5 1.5-.9 2.1-1.4c.7-.4 .9-.9 2-1.4c1.1-.4 3-.7 4.4-1.1c1.4-.3 2.1-.5 4-.8c1.9-.2 5-.5 7.3-.7c2.3-.1 4.5-0 6.7-.1c2.2-.1 4.2-.3 6.6-.5c2.3-.1 5.1-.4 7.5-.4c2.4-.1 4.7 0 6.9 .2c2.3 .2 4.8 .5 6.6 .8c1.8 .2 3.2 .3 4.5 .6c1.2 .3 2.2 .8 3.1 1.2c1 .4 1.8 .5 2.6 1c.8 .5 1.6 1.2 2.3 1.8c.8 .7 1.5 1.3 2.2 2.2c.6 .8 .9 1.8 1.6 2.9c.7 1.1 1.9 2.3 2.7 3.6c.7 1.4 1.5 3.1 1.9 4.6c.5 1.5 .5 3 .7 4.4c.3 1.5 .5 2.8 .6 4.2c.1 1.3 0 2.6 0 4c.1 1.4 .4 3.2 .2 4.4c-.3 1.1-1.2 1.7-1.6 2.6c-.4 .9-.3 2.1-.7 2.8c-.4 .6-1.1 .8-1.8 1.2c-.7 .4-1.4 .8-2.4 1.3c-.9 .5-1.9 1-3.1 1.6c-1.2 .5-2.7 1.4-4.2 1.6c-1.4 .3-3-.3-4.7-.2c-1.7 .1-3.7 .7-5.5 .8c-1.7 0-3.4-.4-5.1-.5c-1.7-0-3.9 0-5.2 .1c-1.3 .1-1.9 .4-2.8 .5c-1 0-2-.2-3-.1c-1 .1-2 .4-2.9 .6c-.9 .2-1.5 .3-2.6 .6c-1.1 .3-2.5 .9-3.9 1.3c-1.4 .4-3 .7-4.4 .9c-1.4 .2-2.7 .2-4 .2c-1.3 .1-2.5 .3-3.7 .3c-1.2-.1-2.3-.4-3.4-.5c-1-.1-2.1-0-2.8-.2c-.8-.2-1.2-.6-1.8-1c-.6-.4-1.5-.9-1.9-1.4c-.5-.5-.7-1.1-.9-1.6c-.2-.4-.3-.8-.5-1.2c-.2-.5-.5-1-.7-1.6c-.2-.6-.4-1.2-.6-1.8c-.1-.6-.5-1.2-.5-1.9c-.1-.7 .1-1.9 .2-2.5c0-.5 0-.2 .1-.7c.1-.4 .2-1.4 .4-1.8c.3-.4 .9-.3 1.1-.5c.1-.2-.1-.4-.2-.7c-.2-.3-.5-.7-.9-1.3c-.3-.5-.7-1.6-1.1-2.1c-.3-.6-.6-.8-1-1.4c-.4-.5-.9-1.3-1.2-2c-.4-.6-.7-1.2-1-1.8c-.3-.6-.6-.9-.8-1.6c-.3-.7-.5-1.8-.8-2.6c-.3-.8-1.1-1.3-1.3-2c-.2-.8 0-1.9 .2-2.6c.1-.8 .3-1.4 .5-2c.2-.7 .2-1.3 .5-2.1c.2-.8 .7-2 1.1-2.7Z"/><path class="cg" style="stroke-width:0.8" d="M1313.5 2248c.5-.6 1.1-1.5 1.5-2.1c.5-.5 .8-.7 1.3-1.2c.5-.4 1-1 1.7-1.4c.6-.4 1.2-.6 2.3-1c1-.3 2.7-.9 4-1.2c1.4-.4 2.5-.8 4.2-1c1.7-.3 3.8-.2 5.9-.3c2.1-.1 4.4-.1 6.6-.1c2.2-.1 4.2-.1 6.4-.2c2.2-.1 4.3-.3 6.6-.4c2.3 0 4.7 .1 7 .2c2.3 .2 4.9 .5 6.6 .6c1.7 .1 2.5-0 3.7 .2c1.2 .3 2.7 .9 3.6 1.2c.8 .4 .8 .7 1.5 1.1c.8 .3 2 .4 2.8 .9c.8 .6 1.3 1.7 2 2.5c.8 .8 1.6 1.3 2.3 2.3c.8 1 1.7 2.5 2.3 3.7c.7 1.2 1 2.3 1.5 3.4c.6 1.2 1.2 2.3 1.6 3.5c.3 1.2 .5 2.5 .6 3.8c.1 1.2 .1 2.3 0 3.6c-.1 1.3-.3 3-.5 4c-.1 1-.2 1.3-.6 2.2c-.4 .9-1.3 2.3-1.8 2.9c-.4 .7-.6 .3-1.1 .8c-.5 .4-1.1 1.4-2 1.9c-.9 .5-2.1 .7-3.3 1c-1.3 .3-2.8 .5-4.1 .7c-1.3 .3-2.4 .9-3.8 1c-1.5 .1-3.1-.2-4.7-.2c-1.7-0-3.7 .2-5.4 .2c-1.7-0-3.5-.3-4.8-.2c-1.2 0-1.9 .5-2.7 .6c-.9 .1-1.4-0-2.3 .1c-.9 0-2.4 .1-3.3 .3c-1 .2-1.3 .5-2.4 .8c-1.1 .2-2.8 .3-4.1 .6c-1.3 .3-2.7 1-3.9 1.2c-1.2 .2-2-.2-3.2-.1c-1.3 .1-2.9 .5-4 .5c-1.1 0-1.6-.4-2.7-.4c-1-.1-2.7 .4-3.5 .2c-.9-.2-.8-.9-1.4-1.4c-.6-.5-1.7-1-2.1-1.4c-.5-.3-.4-.5-.6-.9c-.2-.4-.4-.9-.7-1.3c-.3-.4-.8-.5-1.1-1.1c-.4-.5-.9-1.4-1.1-2.1c-.1-.6 .1-1.1 .1-1.6c-0-.5-.2-.9-.2-1.4c-0-.6 .2-1.4 .1-1.9c-0-.5-.5-1.1-.5-1.4c0-.2 .5 .1 .7-0c.2-.2 .7-.5 .5-.9c-.2-.3-1.2-.9-1.5-1.4c-.3-.5-.2-1.1-.5-1.6c-.3-.5-1-1-1.4-1.4c-.4-.3-.6-.3-1-.9c-.3-.5-.8-1.6-1.1-2.3c-.3-.6-.6-.9-.8-1.5c-.3-.6-.6-1.4-.8-2.1c-.2-.7-.5-1.2-.6-1.8c-0-.7 .1-1.4 .1-2.1c.1-.8 .2-1.6 .4-2.2c.1-.7 .2-1.4 .5-2c.3-.5 .8-.9 1.2-1.5Z"/><path class="cg" style="stroke-width:0.8" d="M1315.2 2247.5c.4-.5 1-.8 1.5-1.2c.4-.4 .7-1 1.2-1.4c.6-.5 1.2-1.1 1.9-1.5c.7-.4 1.3-.8 2.3-1.1c1-.3 2.5-.3 3.8-.5c1.3-.2 2.3-.5 3.8-.7c1.5-.3 3.4-.5 5.3-.6c1.9-.1 4 .2 6 0c2.1-.1 4.2-.8 6.3-.9c2.1-.2 4.3-.1 6.4-0c2.1 0 4 .2 6.2 .3c2.1 .1 5-.1 6.7 .1c1.7 .2 2.2 .6 3.3 .9c1.1 .4 2.5 1 3.4 1.2c.8 .3 1.2 .1 1.8 .3c.6 .3 1 .5 1.7 1.1c.8 .6 2 1.8 2.8 2.5c.7 .6 1 .7 1.8 1.5c.7 .8 1.8 2.1 2.6 3.2c.7 1 1.3 2.1 1.9 3.2c.5 1 .9 2 1.2 3.1c.3 1.1 .5 2.5 .6 3.5c.2 1.1 .5 1.9 .4 3c-0 1-.5 2.2-.7 3.1c-.3 .9-.5 1.8-.8 2.5c-.2 .7-.3 1.1-.7 1.6c-.5 .5-1.4 1-2 1.4c-.6 .5-.8 .9-1.5 1.2c-.8 .4-1.9 .5-3 .8c-1.1 .4-2.4 1.3-3.6 1.5c-1.3 .3-2.5-.1-3.9-0c-1.4 .1-2.8 .7-4.3 .7c-1.5 0-3.1-.5-4.6-.6c-1.5 0-3.3 .6-4.4 .6c-1.2 0-1.6-.2-2.5-.3c-.9-0-2-0-2.9 .1c-.9 .1-1.5 .4-2.4 .6c-.8 .2-1.7 .5-2.7 .7c-1.1 .3-2.3 .6-3.6 .7c-1.2 .2-2.6 .1-3.8 .4c-1.1 .2-2.1 .7-3.3 .9c-1.1 .2-2.5 .1-3.6 .1c-1.1-0-2.2-0-3.1-.1c-1-.1-1.9-.3-2.6-.6c-.8-.3-1.1-1-1.8-1.3c-.6-.3-1.6-.5-2-.8c-.4-.3-.4-.6-.6-1c-.2-.3-.3-.7-.6-1c-.4-.3-.9-.5-1.3-1c-.4-.4-.7-1.3-1-1.8c-.3-.5-.6-.7-.8-1.1c-.3-.4-.6-.8-.7-1.2c-0-.4 .4-.9 .5-1.3c0-.5-.1-1-.1-1.2c0-.3-0 0-0-.2c-.1-.2 .1-.8-.2-1.2c-.2-.3-.8-.4-1.2-.8c-.3-.4-.5-1.1-.8-1.5c-.3-.4-.7-.7-.9-1.1c-.2-.4-.2-1-.4-1.5c-.2-.6-.5-1.3-.8-1.7c-.4-.4-1.2-.4-1.5-.9c-.3-.5-.4-1.5-.4-2.2c-0-.7 .2-1.4 .2-1.9c0-.6-.3-.6-.2-1.1c.1-.6 .5-1.7 .7-2.3c.2-.7 .4-.8 .5-1.4c.2-.5 .2-1.3 .5-1.8Z"/><path class="cg" style="stroke-width:0.8" d="M1317.8 2247.4c.3-.4 .8-.5 1.1-.9c.4-.3 .5-1 1-1.3c.4-.4 1.1-.5 1.8-.9c.6-.4 1.4-1.2 2.2-1.5c.8-.3 1.7-0 2.8-.1c1.1-.1 2.2-.3 3.8-.5c1.6-.2 4-.5 5.9-.7c1.8-.2 3.4-.5 5.3-.6c1.9-.1 4.2-.1 6.1-.1c1.9 0 3.6 .2 5.5 .2c1.9-.1 4-.4 6-.4c2 .1 4.6 .7 6.1 .8c1.5 .1 2-.2 3-.1c.9 .1 1.9 .4 2.8 .6c.9 .3 1.8 .8 2.5 1.1c.7 .4 1.1 .6 1.8 1.1c.7 .4 1.5 1 2.3 1.5c.8 .6 1.6 1.1 2.4 1.7c.7 .7 1.2 1.5 1.9 2.3c.6 .8 1.4 1.5 2 2.4c.6 .8 1.2 1.9 1.5 2.8c.4 .9 .7 1.7 .8 2.6c.1 .9-0 1.9-0 2.8c-0 1 .1 2.3-.1 3.1c-.1 .7-.4 1-.8 1.7c-.4 .6-1.2 1.6-1.6 2.1c-.4 .4-.3 .4-.7 .7c-.4 .3-.8 .9-1.6 1.2c-.7 .3-2 .1-3 .4c-.9 .4-1.6 1.2-2.8 1.5c-1.2 .3-2.9 .2-4.2 .3c-1.3 .2-2.3 .4-3.7 .4c-1.3 0-2.8-.4-4.3-.4c-1.5 .1-3.4 .8-4.5 .8c-1.2 0-1.6-.6-2.4-.6c-.7-0-1.4 .4-2.1 .5c-.8 .1-1.6 .1-2.5 .2c-.9 .2-1.8 .4-2.8 .7c-1.1 .2-2.3 .7-3.4 .9c-1.1 .3-2.1 .4-3.2 .5c-1.1 0-2.4-.2-3.5-.1c-1 .1-2.1 .6-3 .6c-.9-.1-1.6-.9-2.5-1c-1-.2-2.5 .1-3.2 0c-.7-.1-.8-.4-1.2-.6c-.5-.2-1.1-.2-1.5-.4c-.5-.3-.8-.8-1.1-1.1c-.4-.3-.5-.2-.9-.6c-.4-.4-.8-1.3-1.3-1.7c-.5-.5-1.4-.6-1.7-.9c-.4-.4-.4-.7-.6-1.1c-.3-.5-.6-1.2-.9-1.6c-.2-.4-.4-.3-.5-.6c-.1-.3 .1-1.1-0-1.4c-.1-.2-.6 .2-.6 .1c0-.1 .7-.1 .5-.4c-.1-.4-1.1-1.2-1.4-1.6c-.3-.4-.4-.6-.6-.9c-.2-.4-.2-.6-.5-1c-.2-.4-.7-.9-1-1.4c-.4-.5-.6-1-.8-1.4c-.2-.4-.2-.8-.4-1.2c-.2-.4-.8-.7-.9-1.2c-.1-.4 0-.9 .1-1.4c.1-.6 .6-1.5 .6-2c.1-.5-.4-.7-.2-1.2c.2-.4 1-1.1 1.4-1.6c.4-.4 .5-.8 .8-1.1Z"/><path class="cg" style="stroke-width:0.8" d="M1320 2247c.4-.4 .2-.4 .5-.7c.3-.2 .8-.5 1.3-.8c.5-.3 1-.6 1.6-.9c.6-.3 1-.5 1.9-.7c.9-.3 2.2-.7 3.3-.9c1.2-.2 2.1-.4 3.4-.5c1.4-.1 3 .1 4.7-.1c1.7-.1 3.7-.7 5.6-.8c1.8-.2 3.7-.1 5.5-.1c1.8-.1 3.4-.4 5.1-.4c1.8-.1 3.7-.1 5.6 .1c1.8 .1 4.3 .5 5.7 .7c1.5 .2 2 .3 3 .5c1 .2 2.2 .4 3 .6c.8 .2 1.2 .2 1.8 .4c.6 .3 1 .5 1.6 .9c.7 .4 1.6 1 2.4 1.4c.8 .5 1.4 .6 2.2 1.1c.8 .5 2 1.4 2.7 2c.8 .7 1.3 1.3 1.7 2c.5 .7 .8 1.5 1.2 2.2c.3 .7 .7 1.1 1 1.9c.2 .8 .3 1.9 .3 2.8c0 .8 .2 1.9-.1 2.5c-.2 .5-1.1 .7-1.4 1.1c-.2 .4-0 1-.3 1.3c-.3 .3-.8 .4-1.3 .7c-.6 .2-1.1 .4-1.8 .8c-.7 .4-1.5 1.1-2.3 1.4c-.8 .4-1.3 .6-2.3 .7c-1 .1-2.6-0-3.9 .1c-1.2 .2-2.3 .9-3.7 1c-1.3 .1-2.8-.6-4.2-.6c-1.4 0-3.1 .5-4 .5c-1 .1-1.1-0-1.7 0c-.6 .1-1.2 .3-2 .3c-.8 .1-2-.1-2.8 0c-.9 .1-1.5 .6-2.4 .8c-.8 .1-1.9 .1-3 .3c-1.1 .1-2.6 .3-3.6 .4c-1 .2-1.7 .4-2.6 .4c-.9-0-2-.3-2.9-.3c-1-0-2 .2-2.9 .2c-.8-0-1.6-.1-2.4-.3c-.7-.2-1.3-.5-1.9-.7c-.5-.2-1.1-.6-1.4-.8c-.4-.2-.4-.2-.8-.4c-.3-.3-1-.7-1.4-.9c-.4-.3-.6-.3-1.1-.7c-.5-.3-1.4-1-1.9-1.3c-.6-.4-1-.6-1.4-.9c-.3-.3-.5-.5-.7-.7c-.3-.3-.5-.3-.7-.7c-.2-.3-.7-1.1-.7-1.3c-.1-.3 .3-.2 .4-.2c-0-.1-.1-.1-.3-.2c-.2-.2-.7-.5-1-.8c-.2-.3-.3-.7-.6-1.1c-.2-.3-.5-.8-.8-1.1c-.4-.4-1.1-.7-1.2-1c-.2-.4 .1-.7 .1-1c-.1-.3-.4-.5-.6-.9c-.2-.3-.5-.7-.6-1.1c-.1-.4-.4-.7-.3-1.2c.1-.5 .7-1.2 .9-1.6c.1-.5-.2-.7-0-1c.1-.3 .4-.3 .8-.7c.5-.4 1.3-1.3 1.7-1.7Z"/><path class="cg" style="stroke-width:0.8" d="M1321.8 2246.9c.4-.3 .3-.4 .7-.6c.4-.2 1.3-.5 1.8-.8c.5-.2 .8-.4 1.3-.6c.5-.2 .9-.6 1.7-.7c.8-.2 2.1-0 3.1-.2c.9-.1 1.7-.6 2.8-.7c1.2-.2 2.5-.2 4.1-.3c1.5-.1 3.5-.2 5.2-.4c1.8-.1 3.3-.4 5-.5c1.7-.1 3.6-.1 5.3-.1c1.7-0 3.4-0 5.1 .1c1.7 .1 3.8 .4 5.1 .6c1.3 .2 2.1 .5 2.9 .6c.9 .1 1.7-.2 2.3-.1c.6 .1 1 .4 1.6 .6c.5 .2 1 .1 1.7 .4c.7 .2 1.5 .7 2.3 1.1c.9 .3 1.9 .7 2.8 1.1c.9 .4 1.8 .8 2.6 1.3c.8 .6 1.5 1.4 2.1 2c.6 .5 1.3 .8 1.6 1.3c.3 .6 .2 1.4 .4 2c.1 .6 .2 1.1 .3 1.7c0 .5 0 1.1-.2 1.6c-.2 .5-.7 .8-1 1.2c-.2 .4-.2 1-.5 1.2c-.3 .3-.8 0-1.2 .3c-.4 .2-.6 1-1.1 1.2c-.5 .3-1.4 .3-2.1 .4c-.8 .2-1.5 .3-2.4 .6c-1 .2-2 .8-3.2 1c-1.1 .3-2.5 .2-3.7 .2c-1.1 0-2-.2-3.2-.2c-1.2 .1-3 .3-4 .4c-.9 .1-1.1 .2-1.8 .3c-.7 .1-1.7 .3-2.5 .3c-.7 0-1.5-.3-2.1-.2c-.7 .1-1.1 .7-2 .8c-.9 .1-2.4-.1-3.4-.1c-1-0-1.4-.1-2.4-0c-1 .1-2.4 .3-3.4 .4c-1.1 .2-1.9 .2-2.8 .3c-.8 0-1.7 .1-2.5 0c-.8-.1-1.7-.6-2.3-.7c-.6-.1-.9 0-1.4-.1c-.4-.1-1-.4-1.5-.6c-.4-.1-.6-.2-1-.3c-.5-.1-1.3-.2-1.7-.3c-.5-.2-.7-.4-1.1-.7c-.4-.3-1-.6-1.5-.9c-.5-.3-1-.7-1.5-1c-.5-.3-1.1-.4-1.5-.7c-.4-.3-.4-.8-.6-1c-.3-.2-.8-.1-1-.2c-.2-.1-.1 0-.2-.1c-.1-.2-.2-.7-.4-.8c-.2-.2-.5 .1-.8-.2c-.3-.2-.9-.9-1.2-1.2c-.3-.4-.5-.5-.7-.7c-.2-.2-.4-.4-.5-.7c-.1-.2-.2-.6-.3-.8c-.1-.2-.4-.1-.4-.5c-.1-.3 .2-1.3 .2-1.6c-0-.3-.4 0-.3-.3c.1-.3 .7-1.3 .9-1.7c.2-.4 .2-.3 .3-.5c.2-.3 .5-.5 .8-.8c.4-.3 1.1-.8 1.4-1.1Z"/>
</g>
<ellipse cx="1351.3" cy="2249.5" rx="30" ry="7" fill="#fff" fill-opacity="0.7"/>
<ellipse class="cg" cx="1351.3" cy="2249.5" rx="5" ry="1.4"/>
<ellipse class="cg" cx="1351.3" cy="2249.5" rx="10" ry="2.4"/>
<ellipse class="cg" cx="1351.3" cy="2249.5" rx="15" ry="3.4"/>
<ellipse class="cg" cx="1351.3" cy="2249.5" rx="20" ry="4.5"/>
<ellipse class="cg" cx="1351.3" cy="2249.5" rx="25" ry="5.6"/>
<ellipse cx="1351.3" cy="2249.5" rx="7" ry="1.6" fill="#fff"/>
<path class="cg" style="stroke-width:0.8" d="M1246.8 2416c-.2-3.4 .8-6.4 2.7-10.4c1.9-3.9 5.2-8.8 8.7-13.5c3.5-4.6 8.1-10.2 12.2-14.4c4.1-4.2 8.9-8.6 12.4-10.9c3.4-2.2 5.5-3.1 8.4-2.5c2.9 .6 6 3 9 6.2c3 3.2 6.9 8.7 9.1 13.1c2.2 4.4 3.8 9.3 4.2 13.3c.4 4.1 .2 8.1-2 11c-2.2 2.9-6.5 4-11.3 6.5c-4.8 2.5-11.4 6.1-17.4 8.3c-5.9 2.3-12.7 4.6-18.1 5.1c-5.4 .5-11-0-14-2c-3-2-3.7-6.5-3.9-9.8Z"/><path class="cg" style="stroke-width:0.8" d="M1247.9 2415.9c-.2-3.1 1-6.3 2.8-9.9c1.8-3.6 5-7.5 8.2-11.7c3.2-4.2 7.3-9.6 11-13.4c3.7-3.8 7.9-7.4 11.1-9.4c3.1-2.1 5.2-3.3 7.8-2.9c2.7 .5 5.3 2.9 8 5.8c2.7 2.9 6.2 7.7 8.2 11.6c2 4 3.6 8.7 3.9 12.3c.3 3.7-.1 7.1-2.1 9.7c-2 2.6-5.5 3.6-9.8 6c-4.3 2.4-10.7 6.1-16.1 8.3c-5.4 2.1-11.6 4.1-16.5 4.6c-4.8 .4-9.8-.3-12.6-2.1c-2.7-1.8-3.7-5.7-3.9-8.9Z"/><path class="cg" style="stroke-width:0.8" d="M1249.3 2416.1c-.2-2.8 1-5.5 2.6-8.9c1.7-3.4 4.4-7.6 7.3-11.5c3-3.9 7-8.4 10.5-11.9c3.4-3.5 7.3-7.2 10.2-9c2.9-1.8 4.7-2.4 7.1-1.8c2.4 .5 4.9 2.4 7.3 5c2.4 2.6 5.3 7 7.2 10.6c1.8 3.5 3.4 7.4 3.7 10.7c.4 3.3 .1 6.8-1.7 9.2c-1.9 2.5-5.5 3.4-9.4 5.5c-3.9 2.1-9.2 5-14.1 7c-4.8 2-10.6 4.3-15.1 4.8c-4.5 .5-9-.4-11.6-2c-2.6-1.6-3.8-5-4-7.7Z"/><path class="cg" style="stroke-width:0.8" d="M1250.6 2416.1c-.2-2.6 1.2-5.7 2.7-8.8c1.6-3.2 3.9-6.7 6.5-10.1c2.7-3.4 6.4-7.3 9.5-10.4c3.1-3 6.6-6.3 9.2-8c2.5-1.7 3.9-2.6 6.1-2.2c2.2 .4 4.8 2.1 7.1 4.5c2.2 2.4 4.8 6.5 6.3 9.8c1.6 3.3 2.8 6.8 3 9.7c.3 3 .2 6-1.3 8.2c-1.5 2.3-4.2 3.2-7.7 5.2c-3.5 2-8.9 4.9-13.4 6.7c-4.6 1.8-9.8 3.6-13.9 4c-4 .4-8.2-0-10.6-1.5c-2.3-1.4-3.4-4.4-3.5-7.1Z"/><path class="cg" style="stroke-width:0.8" d="M1252 2415.5c-.1-2.3 .5-4.8 2-7.6c1.5-2.8 4.3-5.9 6.8-9c2.4-3.1 5.2-6.5 7.9-9.4c2.8-2.8 6.2-6 8.6-7.5c2.4-1.5 3.9-2 5.8-1.5c2 .4 4 2 5.9 4.2c1.9 2.1 4.1 5.8 5.5 8.8c1.5 2.9 3 6.1 3.3 8.8c.3 2.7-.2 5.4-1.7 7.4c-1.4 1.9-3.8 2.6-6.9 4.3c-3.1 1.7-7.6 4.2-11.7 5.8c-4.1 1.6-9.2 3.4-13 3.8c-3.8 .4-7.8 0-9.8-1.3c-2.1-1.4-2.6-4.4-2.7-6.8Z"/><path class="cg" style="stroke-width:0.8" d="M1252.9 2415.7c-.1-2.2 .7-4.5 2-7.1c1.3-2.7 3.6-5.9 5.9-8.6c2.3-2.8 5.4-5.7 7.9-8c2.6-2.4 5.1-5 7.2-6.2c2.1-1.3 3.7-1.8 5.4-1.5c1.7 .3 3.2 1.5 4.9 3.3c1.8 1.8 4.2 5 5.5 7.6c1.3 2.5 2.2 5.5 2.4 7.9c.2 2.5 .2 5-1 6.8c-1.2 1.8-3.4 2.5-6.1 4.1c-2.8 1.5-6.7 3.7-10.4 5.2c-3.8 1.5-8.6 3.2-12.1 3.5c-3.5 .4-7.1-.2-9-1.4c-2-1.2-2.5-3.5-2.6-5.6Z"/><path class="cg" style="stroke-width:0.8" d="M1254.3 2415.6c0-2 .8-3.9 2-6.3c1.1-2.4 3.1-5.3 5.1-7.9c2.1-2.5 4.8-5.2 7.1-7.3c2.2-2 4.5-3.8 6.3-4.9c1.8-1.1 2.8-1.8 4.3-1.5c1.5 .3 3.2 1.7 4.8 3.3c1.5 1.6 3.2 4.1 4.3 6.3c1.2 2.2 2.2 4.9 2.5 7c.2 2.1 .3 4.1-.8 5.6c-1.1 1.6-3.4 2.1-5.9 3.5c-2.4 1.4-5.5 3.6-8.7 5.1c-3.3 1.4-7.4 3.1-10.6 3.5c-3.1 .4-6.7-.1-8.4-1.2c-1.7-1.1-2-3.3-2-5.2Z"/><path class="cg" style="stroke-width:0.8" d="M1255.6 2415.5c-.1-1.6 .4-3.5 1.5-5.6c1.1-2.1 2.9-4.7 4.8-6.9c1.9-2.1 4.5-4.2 6.4-6c1.9-1.7 3.6-3.4 5.1-4.4c1.5-1.1 2.7-1.9 4-1.8c1.4 .2 2.8 1.4 4.2 2.8c1.4 1.4 3.1 3.8 4.1 5.8c1 2 1.7 4.4 1.8 6.2c.1 1.9-.3 3.7-1.2 5c-1 1.3-2.4 1.6-4.4 2.8c-2.1 1.2-5 3.1-7.9 4.4c-2.9 1.4-6.8 3.4-9.5 3.8c-2.8 .3-5.5-.7-7-1.7c-1.4-1-1.9-2.7-1.9-4.4Z"/><path class="cg" style="stroke-width:0.8" d="M1256.5 2414.9c-.1-1.4 .5-2.6 1.5-4.4c.9-1.7 2.7-4.1 4.3-6c1.7-1.9 3.9-3.8 5.5-5.3c1.7-1.5 3.3-2.9 4.7-3.7c1.3-.8 2.4-1.4 3.5-1.1c1.1 .2 1.9 1.3 2.9 2.6c1.1 1.3 2.6 3.4 3.4 5c.8 1.7 1.4 3.4 1.7 4.9c.2 1.5 .3 2.8-.4 3.9c-.8 1.2-2.5 1.8-4.2 2.9c-1.7 1-3.6 2.2-6.1 3.4c-2.5 1.1-6.4 3.1-8.9 3.5c-2.5 .4-4.5-.3-5.9-1.3c-1.3-.9-1.9-2.9-2-4.4Z"/><path class="cg" style="stroke-width:0.8" d="M1257.4 2415.2c-0-1.2 .7-2.8 1.7-4.4c1-1.5 2.6-3.2 4-4.8c1.4-1.5 3.1-3.1 4.4-4.3c1.3-1.2 2.5-2.2 3.6-2.8c1.1-.6 1.9-.9 2.8-.8c1 .2 2 .8 2.9 1.7c.9 1 1.9 2.7 2.6 4c.6 1.4 1.3 2.8 1.4 4.1c.2 1.3 .3 2.6-.4 3.6c-.6 .9-2 1.3-3.4 2.1c-1.4 .8-3 1.9-5.1 2.9c-2.2 1-5.5 2.7-7.6 3.1c-2.1 .3-4-.3-5.2-1c-1.1-.7-1.7-2.1-1.7-3.4Z"/><path class="cg" style="stroke-width:0.8" d="M1258.7 2414.9c-.1-1.1 .2-2.2 1-3.5c.8-1.2 2.8-2.7 4-4c1.3-1.3 2.5-2.7 3.6-3.6c1-.9 1.9-1.4 2.8-1.9c.8-.4 1.5-.8 2.2-.7c.7 .2 1.4 .9 2.1 1.6c.7 .8 1.5 2 2 3c.6 1.1 1.1 2.3 1.2 3.3c.1 1-0 1.9-.4 2.5c-.5 .6-1 .6-2 1.3c-1.1 .8-2.7 2.2-4.5 3.1c-1.8 1-4.7 2.4-6.5 2.7c-1.7 .4-3.2-.1-4.1-.8c-.9-.6-1.3-1.9-1.4-3Z"/><path class="cg" style="stroke-width:0.8" d="M1259.9 2414.9c-0-.9 .2-1.9 .8-3c.6-1 1.9-2.5 3-3.4c1.1-1 2.6-1.6 3.5-2.2c.8-.6 1.3-1.2 1.8-1.5c.5-.3 .9-.4 1.4-.2c.5 .1 1.2 .6 1.7 1.1c.5 .5 .9 1.4 1.3 2.1c.4 .8 1 1.7 1.2 2.4c.1 .7-.1 1.4-.3 1.8c-.3 .5-.6 .5-1.3 1.1c-.7 .6-1.7 1.8-3.1 2.6c-1.3 .8-3.7 2.1-5.2 2.3c-1.6 .2-3.2-.4-4-1c-.8-.5-.8-1.3-.8-2.1Z"/><path class="cg" style="stroke-width:0.8" d="M1261 2414.7c-0-.6 .2-1.3 .7-2c.6-.8 1.7-2.1 2.5-2.7c.8-.6 1.9-.7 2.5-1.1c.6-.4 .9-.9 1.2-1c.3-.2 .4-.2 .7-.1c.3 .1 .8 .4 1.1 .8c.3 .4 .5 1.1 .7 1.4c.2 .4 .5 .5 .6 .8c.1 .4 0 1.1-0 1.5c-.1 .3-.1 .2-.4 .6c-.3 .4-.5 .9-1.5 1.6c-1 .7-3.2 2.4-4.4 2.7c-1.3 .4-2.6-.1-3.3-.6c-.6-.4-.5-1.2-.4-1.9Z"/>
<ellipse cx="1265.2" cy="2413.5" rx="4.5" ry="3" fill="#fff" transform="rotate(-35 1265.2 2413.5)"/>
<path class="cg" style="stroke-width:0.8" d="M1365 2390.6c1-2.8 4.1-7.5 7.2-9.5c3-2 8.2-3.6 11.1-2.4c2.8 1.2 5.4 6.2 5.7 9.5c.4 3.4-1 8.6-3.4 10.7c-2.4 2.2-7.9 2.7-11.1 2.4c-3.2-.2-6.5-1.9-8.1-3.6c-1.6-1.8-2.4-4.3-1.4-7.1Z"/><path class="cg" style="stroke-width:0.8" d="M1370.6 2391.4c.6-1.7 2.2-4.8 4-6c1.8-1.2 4.9-2 6.6-1.3c1.7 .7 3.2 3.5 3.5 5.6c.3 2.2-.4 5.8-1.8 7.2c-1.4 1.5-4.7 1.9-6.7 1.8c-2-.2-4.3-1.4-5.2-2.6c-1-1.2-1-2.9-.4-4.7Z"/><path class="cg" style="stroke-width:0.8" d="M1375.7 2392.3c.3-.8 1-1.9 1.6-2.4c.6-.4 1.4-.5 1.9-.2c.6 .2 1.4 .8 1.5 1.7c.2 .9 .1 2.9-.4 3.7c-.6 .8-2.1 1-2.8 .9c-.8-.1-1.4-.9-1.6-1.6c-.3-.6-.4-1.3-.2-2.1Z"/>
<ellipse class="cg" cx="1317.3" cy="2360.7" rx="5" ry="8"/>
<rect class="ax" x="1179.6" y="2147.8" width="353.3" height="352.6"/>
<path class="tk" d="M1179.6 2181h-10M1179.6 2264.7h-10M1179.6 2361.6h-10M1179.6 2420.4h-10M1179.6 2477.6h-10"/>
<path class="tk" d="M1200.8 2500.4v10M1258.6 2500.4v10M1316.7 2500.4v10M1414 2500.4v10M1497.3 2500.4v10"/>
<path class="tm" d="M1346 2500.4v5M1363.1 2500.4v5M1375.3 2500.4v5M1384.7 2500.4v5M1392.4 2500.4v5M1398.9 2500.4v5M1404.6 2500.4v5M1409.5 2500.4v5M1439.1 2500.4v5M1453.7 2500.4v5M1464.2 2500.4v5M1472.2 2500.4v5M1478.8 2500.4v5M1484.4 2500.4v5M1489.2 2500.4v5M1493.5 2500.4v5M1522.4 2500.4v5M1272.6 2500.4v5M1283.2 2500.4v5M1290.9 2500.4v5M1296.8 2500.4v5M1301.5 2500.4v5M1305.5 2500.4v5M1308.8 2500.4v5M1311.8 2500.4v5M1314.4 2500.4v5M1244.7 2500.4v5M1234.1 2500.4v5M1226.5 2500.4v5M1220.6 2500.4v5M1215.9 2500.4v5M1212 2500.4v5M1208.6 2500.4v5M1205.7 2500.4v5M1203.1 2500.4v5M1185.1 2500.4v5"/>
<path class="tmd" d="M1252.6 2500.4v9M1254.1 2500.4v9M1255.5 2500.4v9M1256.8 2500.4v9M1257.9 2500.4v9M1259.3 2500.4v9M1260.4 2500.4v9M1261.7 2500.4v9M1263.1 2500.4v9M1264.6 2500.4v9"/>
<path class="tm" d="M1179.6 2239.5h-5M1179.6 2224.8h-5M1179.6 2214.3h-5M1179.6 2206.2h-5M1179.6 2199.6h-5M1179.6 2194h-5M1179.6 2189.1h-5M1179.6 2184.8h-5M1179.6 2332.4h-5M1179.6 2315.4h-5M1179.6 2303.3h-5M1179.6 2293.9h-5M1179.6 2286.2h-5M1179.6 2279.7h-5M1179.6 2274.1h-5M1179.6 2269.1h-5M1179.6 2155.8h-5M1179.6 2406.2h-5M1179.6 2395.5h-5M1179.6 2387.7h-5M1179.6 2381.7h-5M1179.6 2376.9h-5M1179.6 2373h-5M1179.6 2369.5h-5M1179.6 2366.6h-5M1179.6 2364h-5M1179.6 2434.2h-5M1179.6 2444.6h-5M1179.6 2452.2h-5M1179.6 2458h-5M1179.6 2462.7h-5M1179.6 2466.6h-5M1179.6 2469.9h-5M1179.6 2472.8h-5M1179.6 2475.3h-5M1179.6 2493.1h-5"/>
<path class="tmd" d="M1179.6 2414.4h-9M1179.6 2415.9h-9M1179.6 2417.3h-9M1179.6 2418.6h-9M1179.6 2419.7h-9M1179.6 2421.1h-9M1179.6 2422.2h-9M1179.6 2423.5h-9M1179.6 2424.9h-9M1179.6 2426.4h-9"/>
<text x="1204" y="2547" font-size="24.6" text-anchor="middle">-10<tspan font-size="13.9" dy="-8.6">3</tspan></text>
<text x="1266.8" y="2547" font-size="24.6" text-anchor="middle">0</text>
<text x="1337" y="2547" font-size="24.6" text-anchor="middle">10<tspan font-size="13.9" dy="-8.6">3</tspan></text>
<text x="1436" y="2547" font-size="24.6" text-anchor="middle">10<tspan font-size="13.9" dy="-8.6">4</tspan></text>
<text x="1526.4" y="2547" font-size="24.6" text-anchor="middle">10<tspan font-size="13.9" dy="-8.6">5</tspan></text>
<text x="1166" y="2176" font-size="24.6" text-anchor="end">10<tspan font-size="13.9" dy="-8.6">5</tspan></text>
<text x="1166" y="2266.7" font-size="24.6" text-anchor="end">10<tspan font-size="13.9" dy="-8.6">4</tspan></text>
<text x="1166" y="2367.1" font-size="24.6" text-anchor="end">10<tspan font-size="13.9" dy="-8.6">3</tspan></text>
<text x="1166" y="2431.4" font-size="24.6" text-anchor="end">0</text>
<text x="1166" y="2499.3" font-size="24.6" text-anchor="end">-10<tspan font-size="13.9" dy="-8.6">3</tspan></text>
<text x="1338" y="2593.5" font-size="28.3" text-anchor="middle">IgM-APC</text>
<text x="1105" y="2326.7" font-size="28.3" text-anchor="middle" transform="rotate(-90 1105 2326.7)">IgD-PE</text>
<rect class="g" x="1220.4" y="2355" width="106.8" height="115"/>
<path class="g" d="M1329 2445L1697.2 2445"/><path fill="#d8382c" d="M1710 2445L1697.2 2452.2L1697.2 2437.8Z"/>
<path d="M1841 2182h1M1856 2184h1M1966 2185h1M1871 2189h1M1949 2191h1M1958 2207h1M1986 2212h1M1962 2214h1M2022 2215h1M1969 2220h1M1970 2222h1M1995 2230h1M1966 2231h1M1965 2232h1M1966 2233h1M1971 2236h1M1967 2238h1M1970 2241h1M1967 2243h1M1971 2246h1M1969 2251h1M1993 2252h1M1968 2254h1M1966 2255h1M1969 2256h1M1968 2257h1M1964 2259h1M1978 2269h1M1969 2272h1M1980 2273h1M1970 2276h1M1967 2288h1M1951 2289h1m9 0h1m6 0h1M1798 2296h1m166 0h1M1953 2298h1M1947 2301h1M1929 2303h1M1948 2304h1M1952 2305h1M1949 2306h1M1932 2307h1m14 0h1M1880 2308h1m58 0h1m15 0h1M1943 2312h1M1950 2313h1m4 0h1m11 0h1M1956 2314h1M1792 2316h1m46 0h1m1 0h1m91 0h1m4 0h1M1945 2317h1m11 0h1M1925 2318h1M1877 2319h1m10 0h1m6 0h1m55 0h1M1841 2320h1m9 0h1m37 0h1m48 0h1M1877 2321h1m75 0h1M1854 2322h1m34 0h1M1869 2323h1m8 0h1m48 0h1m5 0h1m12 0h1M1839 2324h1m59 0h1m45 0h1M1860 2325h1m9 0h1m28 0h1h1m47 0h1m1 0h1M1954 2326h1M1831 2327h1m2 0h1m14 0h1M1845 2328h1m16 0h1m27 0h1m58 0h1M1810 2329h1m11 0h1m103 0h1m14 0h1m9 0h1M1881 2330h1m60 0h1m3 0h1m1 0h1h1m12 0h1M1790 2331h1m42 0h1m23 0h1m11 0h1m31 0h1M1812 2333h1m50 0h1m18 0h1m6 0h1m5 0h1m3 0h1m8 0h1M1791 2334h1m13 0h1m14 0h1m7 0h1m23 0h1m22 0h1m15 0h1M1811 2335h1m29 0h1m2 0h1m66 0h1m4 0h1M1943 2336h1M1791 2337h1m6 0h1m37 0h1m86 0h1M1832 2338h1m87 0h1M1790 2339h1m56 0h1m1 0h1m60 0h1m18 0h1M1786 2340h1m89 0h1M1768 2341h1m83 0h1m9 0h1m10 0h1m20 0h1M1789 2342h1m52 0h1m1 0h1m22 0h1m18 0h1m1 0h1M1777 2343h1m82 0h1m22 0h1M1805 2344h1m29 0h1m89 0h1m13 0h1m7 0h1M1828 2345h1m42 0h1m32 0h1M1848 2346h1M1799 2347h1M1904 2348h1M1853 2349h1m72 0h1M1793 2353h1M1796 2354h1M1792 2355h1M1853 2356h1M1794 2357h1M1788 2358h1M1792 2359h1M1792 2360h1M1795 2361h1M1787 2362h1m3 0h1h1h1m4 0h1M1791 2363h1m5 0h1h1M1789 2364h1m6 0h1M1790 2365h1M1793 2366h1m19 0h1M1795 2367h1M1790 2368h1M1790 2369h1h1h1m1 0h1m36 0h1m8 0h1M1841 2370h1M1791 2371h1M1782 2372h1m10 0h1m3 0h1m36 0h1M1789 2373h1m2 0h1M1794 2376h1m67 0h1M1788 2377h1m1 0h1m107 0h1M1786 2378h1m7 0h1m46 0h1M1788 2380h1m5 0h1M1793 2381h1h1m79 0h1M1795 2383h1M1856 2385h1M1787 2386h1M1931 2387h1M1782 2388h1m12 0h1M1789 2389h1M1792 2392h1M1778 2393h1m21 0h1M1827 2394h1M1794 2395h1M1794 2396h1M1791 2397h1M1797 2403h1M1786 2405h1m3 0h1m3 0h1M1789 2407h1m1 0h1M1785 2411h1M1794 2414h1M1880 2415h1M1793 2416h1M1786 2417h1m2 0h1m3 0h1M1799 2418h1M1792 2421h1m3 0h1m118 0h1M1801 2422h1M1804 2423h1M1785 2424h1m13 0h1M1791 2425h1m9 0h1M1793 2428h1M1791 2429h1m6 0h1M1798 2431h1M1792 2433h1M1792 2443h1M1796 2444h1M1793 2447h1M1793 2448h1h1M1792 2449h1M1799 2467h1M1789 2468h1M1791 2469h1M1789 2481h1M1824 2489h1" stroke="#000" stroke-width="1.3" fill="none" shape-rendering="crispEdges"/>
<path d="M1777.5 2204.9c1.1-5.3 1.9-11.6 4.6-15.9c2.6-4.4 6.8-8.2 11.3-10.2c4.5-2.1 10.6-2.7 15.9-2.3c5.3 .4 11 2.4 15.9 4.5c4.9 2.2 7.5 6.7 13.6 8.4c6 1.8 13.2 1.8 22.7 2.3c9.4 .5 23.4-0 34 .7c10.6 .7 21.2 1.3 29.5 3.4c8.3 2.1 14.9 4.9 20.4 9.1c5.5 4.1 9.4 9.4 12.5 15.8c3 6.5 5.1 15.2 5.6 22.7c.6 7.6-.4 15.1-2.2 22.7c-1.9 7.6-4.6 15.9-9.1 22.7c-4.5 6.8-10.6 13.6-18.2 18.1c-7.5 4.6-17 6.8-27.2 9.1c-10.2 2.3-22.7 3-34 4.5c-11.3 1.5-25.3 2.7-34 4.6c-8.7 1.9-13.4 3.7-18.2 6.8c-4.7 3-7.2 7.5-10.2 11.3c-3 3.8-5.3 8.9-7.9 11.4c-2.7 2.4-5.5 3.5-8 3.4c-2.4-.2-4.9-1.4-6.8-4.6c-1.8-3.2-3.2-7.7-4.5-14.7c-1.3-7-2.5-17-3.4-27.2c-.9-10.2-1.2-22.7-1.8-34.1c-.6-11.3-1.2-24.5-1.6-34c-.4-9.4-.9-16.2-.7-22.7c.2-6.4 .8-10.6 1.8-15.8Z" fill="#fff" stroke="#444" stroke-width="0.9"/>
<clipPath id="cd4b"><path d="M1777.5 2204.9c1.1-5.3 1.9-11.6 4.6-15.9c2.6-4.4 6.8-8.2 11.3-10.2c4.5-2.1 10.6-2.7 15.9-2.3c5.3 .4 11 2.4 15.9 4.5c4.9 2.2 7.5 6.7 13.6 8.4c6 1.8 13.2 1.8 22.7 2.3c9.4 .5 23.4-0 34 .7c10.6 .7 21.2 1.3 29.5 3.4c8.3 2.1 14.9 4.9 20.4 9.1c5.5 4.1 9.4 9.4 12.5 15.8c3 6.5 5.1 15.2 5.6 22.7c.6 7.6-.4 15.1-2.2 22.7c-1.9 7.6-4.6 15.9-9.1 22.7c-4.5 6.8-10.6 13.6-18.2 18.1c-7.5 4.6-17 6.8-27.2 9.1c-10.2 2.3-22.7 3-34 4.5c-11.3 1.5-25.3 2.7-34 4.6c-8.7 1.9-13.4 3.7-18.2 6.8c-4.7 3-7.2 7.5-10.2 11.3c-3 3.8-5.3 8.9-7.9 11.4c-2.7 2.4-5.5 3.5-8 3.4c-2.4-.2-4.9-1.4-6.8-4.6c-1.8-3.2-3.2-7.7-4.5-14.7c-1.3-7-2.5-17-3.4-27.2c-.9-10.2-1.2-22.7-1.8-34.1c-.6-11.3-1.2-24.5-1.6-34c-.4-9.4-.9-16.2-.7-22.7c.2-6.4 .8-10.6 1.8-15.8Z"/></clipPath><g clip-path="url(#cd4b)">
<path class="cg" style="stroke-width:0.8" d="M1778.7 2205c.6-2.6 1.5-5 2.3-7.6c.8-2.6 1.1-5.9 2.5-8c1.4-2.1 4-3.1 5.9-4.7c1.8-1.7 3.1-4 5.3-5.1c2.2-1 5.3-.9 7.9-1.3c2.7-.3 5.1-1.2 7.7-1.1c2.6 .2 5.1 1.2 7.7 1.9c2.6 .7 5.3 1.4 7.7 2.3c2.5 1 4.8 2.3 7 3.5c2.3 1.3 3.5 3.2 6.5 4.1c3 .8 7.6 .7 11.4 1.1c3.8 .4 6.6 1 11.2 1.2c4.6 .2 10.9-.1 16.5 .1c5.6 .1 11.7 .3 16.9 .8c5.2 .5 9.5 1.5 14.2 2.1c4.7 .6 10.1 .5 14.2 1.5c4.1 1 6.9 3.2 10.2 4.7c3.3 1.5 7.2 2.3 9.9 4.4c2.6 2.1 3.9 5.5 5.9 8.1c2 2.6 4.6 4.4 6 7.5c1.5 3.1 1.7 7.3 2.6 11.1c.9 3.7 2.6 7.6 2.9 11.3c.3 3.8-.9 7.4-1.2 11c-.2 3.6 .4 7.2-.5 10.9c-.9 3.6-3.4 7.4-4.8 11.1c-1.5 3.7-1.9 7.6-4 10.9c-2.2 3.3-5.9 5.8-8.9 8.8c-3 2.9-5.4 6.6-9.1 9c-3.7 2.3-8.5 3.4-13 5c-4.4 1.5-8.5 2.9-13.5 4c-5 1.2-11 2-16.5 2.8c-5.5 .9-10.9 1.6-16.5 2.3c-5.5 .8-11 1.5-16.7 2.2c-5.6 .8-12.7 1.6-17 2.5c-4.4 .8-5.9 1.6-8.9 2.5c-3 1-6.7 1.9-9 3.3c-2.3 1.4-3.1 3.5-4.8 5.3c-1.7 1.7-4 3.6-5.5 5.4c-1.5 1.8-2.4 3.4-3.7 5.2c-1.3 1.7-2.9 4.2-4.3 5.3c-1.3 1.1-2.4 .8-3.6 1.2c-1.2 .5-2.5 1.5-3.7 1.4c-1.3-.1-2.6-1.3-3.7-2c-1.2-.7-2.2-.7-3.2-2.2c-1-1.6-1.9-4.6-2.7-7c-.8-2.4-1.2-3.9-1.8-7.4c-.7-3.4-1.4-8.9-2.1-13.2c-.8-4.4-1.9-8-2.4-12.9c-.5-4.9-.2-11-.6-16.5c-.3-5.6-1.1-11.3-1.4-16.8c-.3-5.5-.2-10.7-.3-16.2c-.2-5.5-.4-12.2-.6-16.8c-.1-4.6-.1-7.4-.2-11.1c-.2-3.6-.6-7.8-.5-10.8c.1-3.1 .8-4.9 1.2-7.5c.4-2.5 .6-5.1 1.1-7.6Z"/><path class="cg" style="stroke-width:0.8" d="M1779.9 2204.7c.6-2.5 1.9-4.7 2.8-7.1c.8-2.4 1-5.3 2.2-7.4c1.3-2.1 3.4-3.5 5.3-5.1c1.9-1.6 3.9-3.6 6-4.6c2.2-1.1 4.6-1.1 7.2-1.5c2.5-.4 5.4-1.3 8.1-1.1c2.6 .1 5.2 1.4 7.7 2.1c2.5 .6 5.1 .8 7.4 1.7c2.4 .9 4.4 2.4 6.6 3.5c2.2 1.2 3.6 2.7 6.5 3.4c2.9 .7 7.2 .5 11 .9c3.7 .3 6.9 .9 11.5 1.2c4.6 .4 10.4 .5 15.9 .7c5.5 .3 11.7 .5 16.8 .9c5.1 .4 9.2 .9 13.8 1.5c4.7 .7 10.3 1.3 14.2 2.5c3.9 1.2 6 3 9.2 4.5c3.1 1.6 7.2 2.8 9.8 4.8c2.7 2 4 4.8 5.9 7.3c1.9 2.5 4.2 4.4 5.5 7.4c1.4 3.1 1.9 7.3 2.9 11c.9 3.6 2.5 7.4 2.8 11c.3 3.6-.6 7.1-.9 10.7c-.3 3.5-.1 7-.9 10.6c-.9 3.6-2.7 7.3-4.1 10.9c-1.4 3.6-2.3 7.3-4.4 10.5c-2.1 3.2-5.5 5.8-8.4 8.6c-2.8 2.9-5.3 6.4-8.9 8.7c-3.6 2.2-8.5 3.1-12.8 4.7c-4.3 1.6-8.1 3.5-12.9 4.8c-4.8 1.3-10.6 2.1-16 3c-5.3 .9-10.9 1.6-16.4 2.3c-5.4 .7-11 1.2-16.5 1.9c-5.5 .7-12.1 1.4-16.4 2.3c-4.2 .9-6 2.1-9 3c-2.9 1-6.1 1.2-8.5 2.5c-2.4 1.2-3.9 3.3-5.7 4.9c-1.8 1.6-3.3 3.2-4.8 4.8c-1.5 1.6-2.9 3.1-4.2 4.6c-1.4 1.5-2.7 3.5-4 4.6c-1.3 1.1-2.5 1.3-3.8 1.8c-1.2 .5-2.3 1.4-3.5 1.3c-1.3-.2-2.6-1.7-3.7-2.4c-1.2-.8-2.4-.8-3.4-2.3c-.9-1.6-1.7-4.6-2.5-6.9c-.8-2.3-1.4-3.5-2.1-6.7c-.7-3.3-1.5-8.4-2.3-12.6c-.7-4.2-1.7-7.8-2.3-12.6c-.6-4.9-.8-11-1.2-16.3c-.4-5.4-.9-10.6-1.2-15.9c-.3-5.4-.5-10.8-.7-16.1c-.1-5.3-.2-11.4-.3-15.8c-.1-4.4-.1-7.1-.1-10.8c0-3.6-.1-8.1 .2-11.1c.3-3 1.2-4.5 1.6-7c.4-2.4 .4-5.2 1-7.6Z"/><path class="cg" style="stroke-width:0.8" d="M1781 2205c.7-2.4 1.7-5.1 2.6-7.4c.9-2.4 1.6-4.9 3-6.9c1.4-1.9 3.7-3.4 5.5-4.9c1.8-1.5 3.2-3.3 5.3-4.3c2.2-1 4.9-1.2 7.4-1.7c2.5-.4 5.2-1 7.6-1c2.5 0 4.5 .8 7 1.3c2.5 .5 5.7 1 8.1 1.8c2.5 .8 4.3 1.8 6.5 2.8c2.2 1 3.9 2.6 6.7 3.4c2.9 .8 6.9 .8 10.5 1.2c3.6 .3 6.4 .9 11 1.1c4.5 .3 11-0 16.3 .2c5.3 .2 10.7 .5 15.6 1c4.9 .6 9.1 1.6 13.7 2.3c4.6 .8 9.9 1.1 13.8 2.3c3.8 1.2 6.4 3.5 9.5 5c3.1 1.6 6.5 2.5 9 4.5c2.5 2 3.9 5.3 5.9 7.7c1.9 2.5 4.3 4.1 5.7 7c1.4 2.9 1.7 6.9 2.6 10.4c.9 3.6 2.5 7.3 2.8 10.8c.3 3.6-.8 7-1.1 10.5c-.3 3.5 0 6.9-.8 10.3c-.9 3.5-2.8 7-4.3 10.5c-1.4 3.5-2.2 7.3-4.3 10.5c-2.1 3.2-5.3 5.8-8 8.6c-2.7 2.8-4.8 6-8.3 8.2c-3.4 2.2-8.4 3.3-12.5 4.9c-4.1 1.6-7.4 3.4-12.2 4.8c-4.7 1.3-10.8 2.2-16.2 3.1c-5.3 .8-10.4 1.2-15.7 2c-5.4 .7-11 2-16.4 2.7c-5.4 .7-12.1 .6-16.3 1.4c-4.2 .7-5.8 2.1-8.6 3.1c-2.9 .9-6.3 1.3-8.6 2.5c-2.4 1.1-3.6 2.7-5.4 4.2c-1.8 1.5-3.9 3.2-5.3 4.6c-1.5 1.4-2.3 2.5-3.6 3.8c-1.4 1.3-3.2 3.2-4.6 4.2c-1.4 1-2.4 1.2-3.6 1.6c-1.2 .4-2.6 1-3.7 .8c-1.2-.2-2.2-1.2-3.2-1.9c-1.1-.7-2.2-.7-3.1-2.2c-1-1.5-1.9-4.4-2.8-6.6c-.8-2.2-1.6-3.5-2.4-6.7c-.8-3.1-1.6-7.9-2.3-12c-.8-4-1.8-7.6-2.4-12.3c-.7-4.7-1-10.7-1.5-15.9c-.4-5.2-1.2-10.2-1.5-15.3c-.3-5.2-.1-10.5-.2-15.7c-.2-5.2-.7-11.2-.7-15.5c.1-4.4 .7-7.3 .8-10.7c.1-3.5-.4-7.1-.2-10c.2-2.8 .9-4.6 1.4-7c.5-2.3 .9-4.7 1.5-7.1Z"/><path class="cg" style="stroke-width:0.8" d="M1782 2204.8c.7-2.2 1.9-4.6 2.9-6.9c.9-2.3 1.6-5 3-6.8c1.4-1.9 3.4-2.7 5.1-4.3c1.8-1.5 3.4-3.9 5.5-4.9c2.1-1 4.6-.7 7-1.2c2.4-.4 5-1.3 7.4-1.4c2.5-0 5 .6 7.5 1c2.5 .5 5.2 .9 7.5 1.7c2.4 .8 4.3 2.1 6.6 3.1c2.2 1 3.9 2.2 6.8 2.8c2.9 .7 7.1 .6 10.6 1c3.5 .3 6.1 .7 10.5 1c4.3 .3 10.4 .6 15.7 .8c5.3 .3 11.3 .1 16.1 .7c4.8 .6 8.5 1.8 12.9 2.7c4.4 .9 9.7 1.4 13.4 2.6c3.7 1.2 5.8 3 8.8 4.6c3 1.5 6.7 2.9 9.2 4.9c2.5 2 3.8 4.7 5.6 7.1c1.8 2.5 4 4.6 5.3 7.5c1.3 2.8 1.8 6.4 2.6 9.8c.9 3.4 2.3 7 2.6 10.4c.3 3.3-.5 6.3-.7 9.6c-.3 3.4 0 7-.8 10.5c-.8 3.5-2.7 7-4.1 10.4c-1.4 3.3-2.3 6.6-4.3 9.7c-1.9 3.1-4.7 6-7.3 8.8c-2.6 2.8-4.8 5.8-8.3 8c-3.4 2.2-8.1 3.6-12.2 5.3c-4.1 1.6-7.6 3.6-12.2 4.9c-4.6 1.2-10.2 1.6-15.4 2.5c-5.3 .9-10.6 1.9-15.9 2.7c-5.2 .9-10.3 1.8-15.6 2.5c-5.3 .6-12.1 .6-16.2 1.3c-4.1 .8-5.7 2.2-8.5 3c-2.9 .8-6.4 .9-8.6 1.9c-2.3 1-3.1 2.9-4.8 4.2c-1.7 1.4-3.9 2.6-5.5 3.8c-1.6 1.3-2.8 2.6-4.2 3.8c-1.3 1.2-2.6 2.8-3.9 3.6c-1.3 .8-2.8 .8-4.1 1.2c-1.2 .3-2.1 1.2-3.2 1c-1.1-.2-2.5-1.5-3.6-2.3c-1-.7-1.9-.8-2.8-2.2c-1-1.4-2-4-2.9-6.1c-.8-2.1-1.4-3.6-2.3-6.6c-1-3-2.4-7.4-3.3-11.3c-.9-3.9-1.6-7.7-2.3-12.2c-.6-4.5-1-9.8-1.5-14.8c-.5-4.9-1.2-10-1.5-15.1c-.3-5.1-.3-10.4-.4-15.5c-.1-5.1-0-10.8 .1-15.1c.1-4.2 .2-6.9 .4-10.3c.2-3.3 .4-7.1 .7-9.9c.3-2.7 .8-4.4 1.2-6.6c.4-2.3 .7-4.6 1.4-6.9Z"/><path class="cg" style="stroke-width:0.8" d="M1783.5 2204.7c.7-2.2 1.6-4.5 2.6-6.7c.9-2.2 1.8-4.6 3.2-6.4c1.3-1.8 3.2-3.1 4.9-4.5c1.8-1.4 3.5-3.2 5.6-4.1c2.2-1 5-1.1 7.4-1.5c2.4-.5 4.8-1.2 7.1-1.3c2.3-.1 4.4 .2 6.8 .5c2.4 .4 5.4 .7 7.8 1.4c2.3 .7 4.2 2.1 6.3 2.9c2.1 .9 3.4 1.9 6.2 2.4c2.8 .5 7.3 .4 10.9 .7c3.6 .3 6.1 .5 10.5 .9c4.3 .3 10.5 .7 15.6 1.1c5.1 .5 10.3 .8 14.9 1.4c4.7 .6 8.9 1.5 13.3 2.4c4.4 .8 9.5 1.6 13.1 2.8c3.6 1.3 5.7 3.2 8.5 4.8c2.9 1.6 6.3 2.8 8.6 4.8c2.3 2 3.6 4.8 5.3 7.1c1.7 2.4 3.7 4.3 5.1 7.1c1.3 2.8 2.1 6.3 2.9 9.6c.9 3.3 1.9 6.8 2.2 10.1c.3 3.4-.2 6.7-.4 10c-.2 3.2-0 6.1-.8 9.3c-.7 3.3-2.2 6.8-3.6 10.1c-1.3 3.3-2.3 6.8-4.2 9.8c-2 3.1-4.9 5.8-7.5 8.6c-2.6 2.7-4.8 5.7-8 7.9c-3.3 2.1-7.5 3.5-11.4 5.2c-3.9 1.6-7.4 3.2-11.9 4.5c-4.5 1.4-9.7 2.7-14.9 3.7c-5.1 1-10.6 1.6-15.9 2.3c-5.3 .8-10.5 1.5-15.7 2.1c-5.2 .6-11.7 1-15.7 1.7c-4 .8-5.4 2-8.2 2.7c-2.8 .6-6.2 .6-8.5 1.5c-2.3 .8-3.3 2.3-5 3.5c-1.8 1.2-3.7 2.4-5.3 3.6c-1.7 1.1-2.9 2-4.4 3.2c-1.4 1.1-3 2.9-4.3 3.6c-1.3 .7-2.1 .4-3.3 .6c-1.1 .3-2.6 1.1-3.7 .9c-1.2-.1-2.1-1.1-3.1-1.9c-1-.7-1.9-1.1-2.9-2.5c-1.1-1.4-2.2-3.9-3.2-5.8c-1-2-2-3.1-2.9-5.9c-.9-2.9-1.6-7.4-2.5-11.3c-.9-3.8-2.1-7.2-2.9-11.6c-.8-4.4-1.2-9.8-1.7-14.7c-.5-4.9-.9-10-1.3-14.9c-.3-4.8-.9-9.4-1-14.3c-0-4.9 .5-11 .7-15c.1-4.1 0-6.2 .3-9.3c.3-3.2 .8-6.8 1.3-9.6c.4-2.7 .8-4.6 1.3-6.9c.6-2.2 1.1-4.4 1.8-6.6Z"/><path class="cg" style="stroke-width:0.8" d="M1784.9 2204.9c.8-2.1 1.4-4.2 2.4-6.3c1.1-2.2 2.2-4.6 3.6-6.4c1.4-1.8 3-3 4.8-4.4c1.7-1.3 3.5-2.9 5.5-3.9c2.1-1 4.5-1.4 6.8-2c2.2-.6 4.4-1.3 6.8-1.4c2.3-.1 4.8 .6 7.2 .9c2.4 .3 5 .4 7.3 .9c2.2 .6 4.2 1.6 6.4 2.3c2.1 .8 3.4 1.8 6.3 2.4c2.8 .5 7.3 .6 10.7 .9c3.5 .3 5.6 .5 9.9 .7c4.3 .3 10.6 .4 15.7 .8c5.1 .5 10.3 1.2 14.9 1.9c4.6 .8 8.5 1.6 12.6 2.6c4.2 1 8.8 2 12.3 3.3c3.5 1.3 5.9 2.9 8.7 4.4c2.9 1.6 6.1 3 8.3 4.9c2.1 2 3.2 4.7 4.9 7c1.8 2.3 4.1 4.2 5.5 7c1.4 2.7 2 6.3 2.7 9.5c.8 3.2 1.7 6.5 1.9 9.7c.2 3.1-.2 6-.5 9.1c-.2 3.1-.2 6.5-.9 9.7c-.7 3.2-2.1 6.3-3.4 9.5c-1.2 3.1-2.2 6.5-4 9.5c-1.9 2.9-4.6 5.4-7.1 8.2c-2.5 2.7-4.7 5.9-7.8 8.1c-3.1 2.2-7.1 3.6-10.8 5.3c-3.7 1.6-7 3.2-11.4 4.6c-4.3 1.3-9.8 2.5-14.8 3.5c-5.1 1-10.2 1.8-15.3 2.6c-5.2 .8-10.4 1.4-15.6 2.1c-5.1 .7-11.4 1.5-15.4 2.1c-3.9 .6-5.4 .9-8.1 1.5c-2.7 .6-6.1 1.2-8.3 2c-2.3 .9-3.6 1.9-5.3 2.9c-1.8 1-3.5 2.1-5.1 3.1c-1.5 1-3.1 2.2-4.5 3.2c-1.4 .9-2.7 2.1-4 2.7c-1.2 .5-2.4 .5-3.6 .7c-1.2 .1-2.5 .4-3.6 .1c-1.1-.3-2.3-1-3.2-1.6c-1-.7-1.7-.9-2.6-2.3c-.9-1.3-1.9-3.8-2.9-5.7c-1.1-1.8-2.3-2.8-3.4-5.5c-1.2-2.8-2.4-7.2-3.3-10.9c-1-3.7-1.8-7.1-2.6-11.3c-.8-4.2-1.7-9.4-2.2-14.1c-.6-4.7-.8-9.3-1-14.1c-.3-4.8-.6-9.8-.7-14.6c-0-4.7-0-9.8 .2-13.8c.1-3.9 .5-6.7 .9-9.8c.3-3.2 .7-6.3 1.2-8.8c.4-2.5 .8-4.3 1.4-6.5c.7-2.1 1.6-4.2 2.5-6.3Z"/><path class="cg" style="stroke-width:0.8" d="M1785.6 2204.6c.9-2 2.2-4 3.3-6c1-2 1.8-4.2 3.1-5.9c1.4-1.7 3.2-3 5-4.4c1.7-1.3 3.6-3 5.7-4c2-.9 4.4-1.1 6.6-1.5c2.2-.5 4.2-1.2 6.5-1.3c2.3-.1 4.8 .4 7.2 .6c2.3 .2 4.7 .2 6.9 .6c2.2 .4 4.1 1.2 6.2 1.9c2.2 .6 3.8 1.7 6.7 2.2c2.8 .4 7 .4 10.4 .6c3.3 .2 5.4 .3 9.6 .6c4.2 .3 10.5 .6 15.5 1.1c4.9 .6 9.9 1.4 14.4 2.2c4.5 .9 8.7 1.7 12.8 2.7c4.1 1.1 8.4 2.3 11.8 3.6c3.3 1.3 5.5 2.9 8.1 4.4c2.7 1.6 5.6 2.8 7.8 4.7c2.2 1.9 3.7 4.6 5.4 6.9c1.7 2.3 3.6 4.2 4.7 6.9c1.2 2.6 1.6 6 2.4 9c.8 3.1 1.8 6 2.1 9.1c.4 3.1 .1 6.5-0 9.6c-.2 3.1-.1 6.1-.8 9.2c-.8 3.1-2.5 6.1-3.7 9.2c-1.2 3-1.8 6.3-3.5 9.2c-1.7 2.9-4.4 5.3-6.7 8c-2.4 2.7-4.4 5.8-7.4 8c-3.1 2.2-7.2 3.4-10.9 5.1c-3.7 1.8-7 3.9-11.3 5.2c-4.3 1.4-9.6 2-14.4 3c-4.9 1-9.9 2.2-14.8 3.1c-5 .8-10.1 1.5-15.1 2.1c-5 .6-11.2 .9-15.1 1.4c-3.9 .5-5.4 1.1-8.2 1.7c-2.8 .6-6.3 1-8.6 1.8c-2.2 .7-3.1 1.9-4.8 2.7c-1.7 .8-3.7 1.5-5.3 2.3c-1.6 .8-2.9 1.9-4.4 2.7c-1.5 .8-3.2 1.6-4.4 2c-1.3 .4-1.9 .3-3 .4c-1.1 .1-2.6 .5-3.7 .3c-1.2-.3-2-1.1-3-1.7c-1-.7-2-.9-3-2.1c-.9-1.1-1.8-3.2-2.8-5c-1-1.9-2-3.4-3.1-6.1c-1.1-2.7-2.4-6.6-3.5-10.1c-1.1-3.5-2.2-6.8-3.2-10.9c-1-4-1.9-8.7-2.6-13.2c-.7-4.6-1.1-9.5-1.4-14.1c-.3-4.6-.5-8.9-.4-13.5c0-4.7 .7-10.4 .9-14.3c.3-3.8 .4-5.9 .7-8.9c.3-3 .8-6.5 1.4-9c.5-2.5 1.1-4 1.8-6c.6-2 1.2-4.1 2.1-6.1Z"/><path class="cg" style="stroke-width:0.8" d="M1787 2204.6c.9-2 1.9-3.9 3-5.8c1.1-1.9 2-4 3.5-5.6c1.4-1.6 3.4-2.6 5.1-3.9c1.7-1.3 3.3-3 5.2-4c1.9-.9 4.2-1.1 6.4-1.6c2.2-.5 4.7-1.1 7-1.3c2.2-.2 4.1-.1 6.3-0c2.2 .1 4.8 .2 7.1 .6c2.3 .4 4.6 1 6.6 1.6c2.1 .6 3.3 1.6 6 2c2.7 .3 6.8-.3 10.1-.1c3.4 .2 5.8 .8 10 1.2c4.1 .4 10.1 .7 15 1.2c4.9 .5 10 .9 14.3 1.7c4.4 .9 8 2.4 11.9 3.6c3.8 1.1 8.2 1.9 11.5 3.2c3.2 1.3 5.5 3 8 4.6c2.6 1.6 5.2 2.9 7.3 4.9c2.1 2 3.6 4.6 5.3 6.8c1.6 2.2 3.5 3.8 4.7 6.4c1.2 2.7 1.7 6.3 2.6 9.3c.8 3 2 5.9 2.3 8.8c.3 2.9-.2 5.7-.5 8.7c-.3 3-.4 6.2-1.1 9.2c-.7 3.1-1.9 6.2-3 9.2c-1 3-1.6 6.2-3.4 9c-1.7 2.8-4.7 5.2-7 7.7c-2.2 2.6-3.8 5.7-6.7 7.8c-2.9 2.1-6.9 3.3-10.5 4.9c-3.6 1.7-6.9 3.6-11 5.1c-4.2 1.5-9.1 2.8-13.9 3.9c-4.7 1.1-9.7 1.8-14.6 2.6c-4.9 .9-9.8 2-14.7 2.6c-5 .6-10.8 .6-14.7 1c-3.9 .5-5.9 1.2-8.6 1.7c-2.7 .4-5.5 .3-7.8 .9c-2.2 .6-3.8 1.9-5.6 2.6c-1.8 .8-3.8 1.3-5.3 2c-1.6 .6-2.7 1.4-4.1 2c-1.4 .7-2.9 1.6-4.3 1.9c-1.3 .3-2.5-.3-3.6-.2c-1.1-0-1.9 .7-3 .4c-1-.2-2.3-1.2-3.3-1.8c-1-.6-1.9-.5-2.9-1.7c-.9-1.2-1.8-3.6-2.8-5.4c-1-1.8-2.1-2.6-3.3-5.2c-1.2-2.5-2.9-6.8-4.1-10.2c-1.1-3.3-1.8-6-2.8-9.9c-.9-3.9-1.9-9.2-2.6-13.7c-.7-4.5-1.3-8.9-1.6-13.2c-.3-4.4-.4-8.6-.3-13c0-4.4 .5-10 .8-13.7c.3-3.7 .7-5.7 1.2-8.5c.4-2.9 .9-6.2 1.5-8.6c.6-2.4 1.4-3.9 2.2-5.8c.7-2 1.3-4 2.2-5.9Z"/><path class="cg" style="stroke-width:0.8" d="M1788.1 2204.3c1-1.8 2.3-3.6 3.5-5.4c1.2-1.8 2.1-4 3.5-5.5c1.4-1.4 3.3-2 4.9-3.2c1.6-1.2 2.8-3.1 4.7-4c1.8-1 4.3-1.3 6.5-1.9c2.2-.5 4.4-1.3 6.6-1.5c2.2-.3 4.4 .1 6.7 .1c2.2 .1 4.7-.1 6.9 .1c2.2 .2 4.3 .7 6.4 1.2c2.2 .5 3.7 1.1 6.3 1.5c2.7 .4 6.5 .5 9.7 .8c3.2 .2 5.7 .5 9.7 .9c4 .4 9.4 .8 14.2 1.4c4.8 .5 10.2 .9 14.6 1.8c4.4 .9 8 2.3 11.8 3.5c3.7 1.3 7.8 2.6 10.9 4c3.2 1.4 5.4 2.7 7.9 4.3c2.5 1.6 5.2 3.3 7.1 5.2c2 2 3.3 4.3 4.8 6.4c1.5 2 3 3.5 4.1 5.9c1.2 2.5 2 5.9 2.8 8.9c.8 2.9 1.7 5.7 2 8.6c.4 3 .2 6 .1 8.9c-.2 2.9-.4 5.6-1 8.5c-.7 2.9-2 6.1-3.1 8.9c-1.1 2.9-2 5.7-3.6 8.3c-1.6 2.7-3.9 5.1-6.1 7.6c-2.2 2.6-4.2 5.4-7 7.6c-2.8 2.2-6.3 3.9-9.7 5.7c-3.4 1.7-6.7 3.3-10.8 4.8c-4 1.4-9 2.6-13.6 3.8c-4.6 1.2-9.3 2.5-14 3.4c-4.8 .9-9.7 1.5-14.5 2.1c-4.9 .6-10.9 1.1-14.7 1.4c-3.8 .4-5.7 .6-8.4 .8c-2.7 .3-5.5 .4-7.7 .9c-2.2 .5-3.9 1.6-5.7 2.2c-1.7 .5-3.2 .8-4.8 1.3c-1.6 .5-3.4 1-4.8 1.5c-1.5 .5-2.7 1.2-4 1.6c-1.2 .3-2.3 .2-3.3 .2c-1.1 0-2-0-3-.3c-1-.3-2.1-.9-3.1-1.6c-.9-.6-1.6-1.1-2.6-2.3c-1-1.1-2.4-3-3.5-4.6c-1.2-1.6-2.1-2.4-3.3-4.8c-1.3-2.5-3-6.5-4.2-9.8c-1.2-3.3-2.1-6.1-3.1-9.9c-1.1-3.8-2.2-8.6-3-12.8c-.8-4.3-1.4-8.2-1.7-12.4c-.3-4.3-.3-8.9-.3-13.2c.1-4.4 .4-9.3 .8-12.8c.4-3.5 1.1-5.4 1.7-8.2c.6-2.8 1.1-6 1.8-8.4c.6-2.3 1.5-3.7 2.3-5.6c.7-1.9 1.3-4 2.3-5.9Z"/><path class="cg" style="stroke-width:0.8" d="M1789 2204.3c1-1.8 2.1-3.6 3.4-5.3c1.2-1.7 2.6-3.5 4.1-4.9c1.4-1.5 2.8-2.7 4.4-3.8c1.7-1.1 3.3-2.1 5.2-3c2-.8 4.4-1.5 6.5-2.2c2.1-.6 4.2-1.6 6.3-1.9c2.1-.3 4 .2 6.2 .2c2.2 0 4.7-.3 7-.2c2.2 .1 4.4 .5 6.5 .9c2 .4 3.2 1.1 5.7 1.4c2.6 .3 6.4 .3 9.6 .5c3.2 .1 5.8 .1 9.7 .4c4 .4 9.5 1 14.2 1.7c4.6 .7 9.7 1.5 13.9 2.5c4.3 1 8 2.4 11.7 3.7c3.7 1.2 7.4 2.7 10.3 4.1c3 1.4 4.9 2.5 7.4 4.1c2.4 1.6 5.3 3.5 7.2 5.4c1.9 1.9 2.8 3.8 4.2 5.9c1.5 2 3.4 4.1 4.6 6.6c1.3 2.4 2 5.5 2.7 8.2c.7 2.7 1.3 5.2 1.6 7.9c.4 2.8 .5 5.7 .3 8.5c-.1 2.8-.5 5.7-1.1 8.5c-.7 2.8-1.9 5.5-2.9 8.3c-1 2.8-1.8 5.8-3.3 8.5c-1.6 2.7-4 5.4-6.1 7.9c-2.1 2.5-3.8 5-6.4 7c-2.7 2.1-6.4 3.5-9.6 5.3c-3.3 1.8-6.1 4-10 5.6c-4 1.6-9.2 2.9-13.7 4.1c-4.5 1.1-8.7 2.1-13.4 2.9c-4.7 .8-9.8 1.4-14.6 1.9c-4.8 .6-10.4 1-14.2 1.3c-3.7 .3-5.5 .5-8.2 .8c-2.6 .3-5.4 .6-7.5 1c-2.2 .4-3.7 1-5.5 1.4c-1.7 .4-3.7 .6-5.3 .9c-1.6 .4-2.9 .7-4.3 1.1c-1.5 .4-3.3 1.1-4.5 1.2c-1.3 .1-2.1-.3-3.2-.4c-1-.1-2.1 0-3.1-.3c-1-.3-1.9-1-2.8-1.6c-1-.5-1.6-.7-2.7-1.8c-1-1.2-2.6-3.4-3.7-5c-1.1-1.5-1.7-2.1-2.9-4.4c-1.3-2.3-3.2-6.4-4.5-9.4c-1.4-3.1-2.5-5.5-3.6-9.1c-1.2-3.5-2.5-8-3.3-12.1c-.8-4.1-1.2-8.3-1.5-12.5c-.3-4.2-.4-8.4-.2-12.5c.2-4.2 .9-9 1.4-12.5c.4-3.4 .5-5.6 1.1-8.2c.5-2.7 1.4-5.3 2.2-7.5c.7-2.2 1.4-4 2.2-5.8c.8-1.9 1.6-3.5 2.5-5.3Z"/><path class="cg" style="stroke-width:0.8" d="M1790.6 2204.6c1-1.6 2.2-3.3 3.4-4.9c1.2-1.6 2.3-3.3 3.7-4.7c1.4-1.5 3.1-2.8 4.7-4c1.7-1.2 3.2-2.3 5.1-3.2c1.8-.8 3.9-1.1 5.9-1.7c2-.6 4.2-1.3 6.3-1.7c2.1-.4 4.1-.7 6.3-.8c2.2-.1 4.7 0 6.9 .2c2.1 .1 4 .4 6 .6c2.1 .2 3.8 .6 6.4 .8c2.6 .1 6.1-0 9.2 .1c3 .2 5.4 .5 9.3 .9c3.8 .3 9.2 .5 13.9 1.2c4.6 .8 9.7 2 13.9 3.2c4.1 1.1 7.4 2.4 11 3.7c3.5 1.3 7.3 2.6 10.1 4.1c2.9 1.5 4.9 3.3 7.2 4.9c2.2 1.6 4.6 2.8 6.4 4.6c1.8 1.8 3 4.2 4.4 6.3c1.4 2.1 3 3.8 4.1 6.1c1.1 2.3 1.9 5.3 2.6 7.9c.8 2.7 1.6 5.4 1.9 8.1c.3 2.6 .2 5.2 0 7.9c-.1 2.7-.1 5.5-.7 8.2c-.6 2.7-1.9 5.2-2.8 7.9c-1 2.7-1.5 5.6-3 8.2c-1.5 2.7-4 5.1-6 7.5c-2 2.3-3.7 4.6-6.2 6.8c-2.6 2.1-5.9 4.2-9.1 6.1c-3.2 1.9-6.2 3.6-10 5.1c-3.8 1.6-8.6 2.9-12.9 4.1c-4.4 1.2-8.8 2.2-13.3 3.1c-4.5 .9-9.3 1.8-14 2.3c-4.7 .5-10.8 .4-14.4 .6c-3.6 .3-4.8 .7-7.4 1c-2.7 .2-6 .4-8.3 .6c-2.3 .2-3.6 .4-5.4 .6c-1.8 .2-3.7 .4-5.2 .6c-1.5 .3-2.5 .6-4 .9c-1.5 .2-3.6 .7-4.9 .7c-1.3-.1-1.9-.7-2.8-.8c-1-.1-1.9 .3-2.9 0c-1-.3-2.2-1.2-3.1-1.8c-1-.6-1.4-.8-2.4-1.8c-1.1-1.1-2.7-3-3.8-4.5c-1.2-1.5-1.8-2.5-3.1-4.7c-1.3-2.2-3.2-5.6-4.7-8.5c-1.5-2.9-3-5.2-4.2-8.6c-1.2-3.4-2.4-7.9-3.2-11.9c-.8-3.9-1.3-7.8-1.6-11.9c-.3-4-.1-8.3 .1-12.3c.1-4 .5-8.6 1-11.8c.5-3.2 1.2-4.8 1.9-7.4c.7-2.5 1.5-5.8 2.3-8c.9-2.1 1.8-3.2 2.7-4.9c.9-1.7 1.7-3.3 2.7-5Z"/><path class="cg" style="stroke-width:0.8" d="M1791.6 2204.2c1.1-1.6 2.6-3 3.9-4.5c1.3-1.5 2.4-3.4 3.7-4.6c1.3-1.3 2.7-2 4.3-3.1c1.6-1.1 3.4-2.7 5.3-3.6c1.9-.8 4-.9 6-1.5c2-.5 3.8-1.4 5.8-1.9c2.1-.4 4.3-.6 6.4-.7c2.1-.2 4.1-.3 6.2-.3c2.1 0 4.4 .2 6.4 .3c2.1 .1 3.3 .2 5.8 .3c2.6 .1 6.2 .3 9.4 .4c3.2 .1 5.8-.1 9.6 .3c3.8 .4 8.7 1.4 13.2 2.3c4.5 .8 9.6 1.8 13.6 2.9c4 1.1 7 2.5 10.5 3.8c3.4 1.3 7.2 2.5 10 4c2.8 1.6 4.7 3.5 6.8 5.2c2.1 1.7 4.3 3.1 6 4.9c1.8 1.8 3.2 4 4.5 5.9c1.3 1.9 2.5 3.5 3.5 5.7c1.1 2.2 2.1 4.8 2.9 7.4c.8 2.6 1.7 5.7 2 8.3c.3 2.6 .1 4.8-.1 7.3c-.1 2.6-.2 5.4-.7 8c-.6 2.7-1.5 5.3-2.4 7.9c-.9 2.7-1.8 5.4-3.3 7.9c-1.4 2.6-3.6 5.1-5.5 7.4c-2 2.4-3.5 4.5-5.9 6.6c-2.5 2-5.8 3.9-8.8 5.8c-3.1 1.8-5.8 3.5-9.4 5.1c-3.7 1.6-8.2 3.2-12.5 4.6c-4.3 1.3-8.7 2.6-13.2 3.5c-4.5 .9-9.1 1.5-13.7 2c-4.6 .4-10.3 .7-14 .9c-3.6 .2-5.3 .2-7.9 .2c-2.6 0-5.5-.2-7.7-.1c-2.1 .1-3.6 .4-5.3 .5c-1.7 .2-3.3 .3-5 .5c-1.6 .1-3.4 .2-4.9 .3c-1.5 .1-3 .2-4.3 0c-1.3-.1-2.3-.6-3.3-.8c-1-.2-1.8-0-2.6-.4c-.9-.4-1.9-1.2-2.8-1.7c-.8-.5-1.4-.4-2.4-1.3c-1-1-2.4-2.8-3.7-4.3c-1.3-1.4-2.6-2.4-4-4.5c-1.5-2-3.3-5.1-4.8-7.9c-1.4-2.8-2.8-5.4-4.1-8.8c-1.2-3.3-2.7-7.6-3.5-11.4c-.8-3.8-1.1-7.3-1.4-11.1c-.3-3.8-.6-7.7-.3-11.6c.2-3.9 1.1-8.5 1.8-11.7c.6-3.1 1.1-4.7 1.9-7.1c.8-2.4 1.8-5.2 2.6-7.3c.8-2 1.4-3.4 2.3-5.1c.9-1.6 1.9-3.3 3.1-4.9Z"/><path class="cg" style="stroke-width:0.8" d="M1792.6 2204.4c1.1-1.5 2.5-3 3.7-4.4c1.3-1.5 2.5-3.1 3.9-4.3c1.4-1.2 3.1-1.9 4.7-2.9c1.6-1 3.3-2.2 5.1-3c1.9-.9 4.1-1.6 6-2.3c1.9-.7 3.4-1.5 5.4-2c1.9-.5 4.1-.9 6.2-1.2c2.1-.2 4.3-.1 6.4-.2c2.1-.1 4-.4 6-.4c2 .1 3.6 .5 6.1 .6c2.6 0 6-.3 9.1-.2c3.1 .1 5.8 .5 9.5 1c3.8 .5 8.6 1.2 13 2c4.3 .8 9.3 1.8 13.2 3c3.9 1.2 6.8 2.8 10.2 4.2c3.3 1.4 6.9 2.7 9.6 4.3c2.7 1.5 4.4 3.3 6.5 5c2.1 1.6 4.1 3 5.8 4.8c1.7 1.8 3.2 4 4.4 6c1.3 1.9 2.3 3.3 3.2 5.5c.9 2.1 1.7 4.9 2.4 7.4c.8 2.5 1.8 4.9 2.1 7.4c.3 2.5-.1 5.1-.2 7.5c-0 2.5 .1 4.7-.3 7.2c-.4 2.5-1.2 5.5-2.1 8c-.9 2.6-2 4.8-3.3 7.3c-1.4 2.4-3 5-4.8 7.3c-1.8 2.3-3.8 4.5-6.2 6.6c-2.4 2.2-5.4 4.3-8.3 6.1c-2.9 1.9-5.4 3.4-9 5.1c-3.6 1.6-8.2 3.3-12.3 4.7c-4.2 1.4-8.4 2.5-12.8 3.5c-4.4 .9-9 1.6-13.6 2.1c-4.6 .4-10.3 .5-13.9 .6c-3.6 .1-5.1-.1-7.6-.1c-2.5 .1-5.3 .2-7.4 .2c-2.1-.1-3.3-.3-5-.3c-1.7-0-3.7 .1-5.4 .1c-1.6-.1-3-.4-4.5-.5c-1.6-.1-3.5 .2-4.8 0c-1.2-.1-2-.6-2.9-.9c-.9-.2-1.7-.2-2.6-.6c-1-.4-2.2-1.2-3.1-1.7c-.9-.6-1.2-.6-2.2-1.6c-1.1-.9-2.7-2.8-4-4.2c-1.3-1.4-2.4-2.1-3.8-4c-1.5-1.9-3.3-4.8-4.9-7.4c-1.5-2.6-3-4.9-4.3-8c-1.4-3.2-3.1-7.2-3.9-10.8c-.9-3.6-1.2-7.3-1.4-11c-.3-3.8-.3-7.7-.1-11.4c.3-3.7 .9-7.7 1.5-10.7c.6-3 1.3-4.8 2.1-7.2c.8-2.4 1.8-5.1 2.8-7.1c1-2 2.3-3.1 3.2-4.6c1-1.6 1.6-3 2.6-4.5Z"/><path class="cg" style="stroke-width:0.8" d="M1794 2204.4c1.2-1.4 2.7-2.7 4-4.1c1.4-1.4 2.7-3 4.2-4.2c1.4-1.1 2.8-1.7 4.3-2.6c1.6-1 3-2.2 4.8-3c1.7-.9 3.8-1.4 5.8-2.2c1.9-.7 3.8-1.7 5.7-2.2c2-.6 4-.7 5.9-1c2-.4 3.9-.7 5.9-.9c2-.2 4.2-.2 6.3-.2c2-0 3.6 .2 6.2 .2c2.5-.1 6-.6 8.9-.5c3 .1 5 .5 8.7 .9c3.6 .5 9.1 .9 13.3 1.8c4.3 .8 8.4 2 12.2 3.3c3.8 1.3 7.1 2.8 10.4 4.4c3.2 1.5 6.6 3.3 9.1 4.9c2.5 1.7 3.9 3.3 5.8 4.9c2 1.7 4.2 3.5 5.8 5.2c1.6 1.8 2.5 3.6 3.7 5.3c1.2 1.8 2.4 3.2 3.4 5.3c1 2.1 2 4.9 2.7 7.4c.8 2.4 1.7 5 2 7.3c.3 2.4-.1 4.4-.1 6.8c-.1 2.3 .1 5-.3 7.5c-.3 2.4-1.1 4.7-2 7.1c-.9 2.3-2 4.8-3.3 7.1c-1.3 2.4-2.9 4.7-4.6 7c-1.8 2.2-3.6 4.6-5.9 6.6c-2.3 2.1-5 4-7.8 5.9c-2.8 1.8-5.3 3.8-8.8 5.4c-3.4 1.7-7.8 3.2-11.9 4.6c-4.1 1.4-8.3 2.7-12.6 3.7c-4.3 .9-8.7 1.6-13.1 2.1c-4.5 .5-10.1 .6-13.6 .7c-3.6 .1-5.2 .2-7.6 0c-2.4-.1-4.9-.7-6.9-.9c-2.1-.1-3.7 .1-5.5 0c-1.8-.1-3.7-.5-5.4-.7c-1.6-.2-3-.2-4.6-.4c-1.5-.3-3.5-.6-4.7-1c-1.2-.4-1.7-.9-2.6-1.2c-.9-.3-1.9-.4-2.8-.8c-1-.3-2-.9-2.9-1.4c-.8-.6-1.3-1-2.4-1.9c-1.1-1-2.8-2.6-4.1-3.8c-1.4-1.2-2.3-1.8-3.7-3.6c-1.5-1.7-3.7-4.3-5.3-6.8c-1.6-2.6-2.9-5.3-4.3-8.3c-1.4-3-3.2-6.4-4.2-9.8c-1-3.5-1.6-7.4-1.8-10.9c-.3-3.6 0-7 .4-10.6c.4-3.5 1-7.7 1.7-10.6c.8-2.9 1.7-4.7 2.6-6.9c1-2.2 2.3-4.5 3.2-6.3c1-1.8 1.4-2.9 2.3-4.3c1-1.4 2.2-2.9 3.5-4.3Z"/><path class="cg" style="stroke-width:0.8" d="M1795.2 2204.3c1.2-1.3 2.6-2.7 3.9-3.9c1.4-1.2 2.7-2.1 4.1-3.3c1.4-1.1 2.9-2.5 4.4-3.5c1.6-1 3.3-1.6 5-2.4c1.8-.8 3.8-1.7 5.6-2.4c1.8-.8 3.3-1.5 5.2-2c1.8-.6 3.7-.9 5.7-1.3c2-.5 4.4-1.1 6.4-1.4c2.1-.2 3.8-.1 5.8-.2c2-.1 3.8-.2 6.3-.4c2.5-.1 5.7-.4 8.6-.3c2.9 0 5.2 .2 8.8 .7c3.6 .5 8.7 1.2 12.8 2.2c4.1 .9 8.4 2.4 12.1 3.7c3.6 1.3 6.5 2.5 9.6 4c3.1 1.6 6.6 3.5 9.1 5.2c2.5 1.8 3.8 3.6 5.7 5.3c1.9 1.6 4 3 5.5 4.6c1.6 1.7 2.8 3.4 3.8 5.3c1.1 1.8 1.8 3.7 2.7 5.8c1 2 2.3 4.2 3.1 6.5c.8 2.3 1.2 5 1.5 7.3c.3 2.3 .2 4.4 .1 6.6c-.1 2.2-.3 4.2-.7 6.5c-.5 2.4-1.1 5.1-1.9 7.5c-.8 2.4-1.6 4.6-2.8 6.9c-1.2 2.2-2.8 4.5-4.5 6.6c-1.6 2.2-3.1 4.4-5.3 6.4c-2.2 2-5.1 4-7.8 5.9c-2.6 1.9-4.7 3.8-8 5.5c-3.2 1.8-7.6 3.7-11.7 5.2c-4 1.4-8.3 2.6-12.4 3.5c-4.2 1-8.3 1.6-12.6 2.1c-4.3 .4-9.8 .6-13.1 .7c-3.4 .1-4.8-.1-7.2-.3c-2.5-.3-5.5-.8-7.7-1c-2.2-.3-3.8-.2-5.5-.5c-1.8-.3-3.4-.9-5-1.4c-1.6-.4-3.1-.9-4.7-1.3c-1.6-.4-3.5-.7-4.7-1.1c-1.2-.3-1.6-.7-2.5-1.1c-.9-.5-1.9-.8-2.9-1.3c-.9-.5-1.9-1.1-2.8-1.6c-.9-.5-1.5-.7-2.6-1.4c-1.1-.8-2.8-2.2-4-3.3c-1.3-1.1-1.9-1.6-3.4-3.3c-1.5-1.8-4-4.9-5.7-7.2c-1.8-2.4-3.5-4.2-5-7c-1.5-2.8-3-6.5-3.9-9.7c-1-3.3-1.5-6.6-1.8-10c-.3-3.4-.2-7 .1-10.5c.4-3.4 1.2-7.4 1.9-10.1c.8-2.7 1.6-4.2 2.6-6.3c1-2 2.4-4.3 3.5-6.1c1.1-1.8 2-3.1 3.1-4.5c1.1-1.4 2-2.6 3.2-3.9Z"/>
</g>
<path d="M1778 2220.7c.1-9.8-0-16.6 1.8-22.7c1.8-6 4.5-10.6 9.1-13.6c4.5-2.9 12.1-4.2 18.1-4c6.1 .1 13.3 2.6 18.2 5.2c4.9 2.5 9.4 5.1 11.3 10.2c1.9 5.1 1.1 13.2 0 20.4c-1.1 7.2-4.2 14.4-6.8 22.7c-2.6 8.3-6 19.6-9.1 27.2c-3 7.6-5.3 14.4-9 18.1c-3.8 3.8-9.1 4.6-13.7 4.6c-4.5-0-10.4 .7-13.6-4.6c-3.1-5.3-4.3-16.6-5.4-27.2c-1.1-10.6-1.1-26.4-.9-36.3Z" fill="#333" fill-opacity="0.7"/>
<path class="cg" style="stroke-width:0.8" d="M1779.3 2220.7c.1-9.5-.4-16.1 1.3-21.9c1.7-5.7 4.4-10 8.8-12.8c4.4-2.8 11.8-4.1 17.7-4c5.8 .2 12.6 2.4 17.3 4.9c4.7 2.5 9.1 5 10.9 9.9c1.7 5 .9 12.7-.2 19.6c-1.1 6.9-3.9 13.9-6.4 21.8c-2.6 8-6 18.7-8.9 25.9c-2.9 7.2-4.9 13.6-8.6 17.2c-3.6 3.6-9 4.5-13.3 4.5c-4.4 0-9.7 .6-12.7-4.5c-3-5-4.3-15.5-5.3-25.6c-1-10.2-.7-25.6-.6-35Z"/><path class="cg" style="stroke-width:0.8" d="M1781.8 2220.6c.1-8.5 0-14.7 1.6-19.9c1.5-5.3 3.7-9 7.6-11.6c3.8-2.5 10.2-3.9 15.3-3.8c5.2 .1 11.4 2.3 15.5 4.5c4.2 2.2 7.9 4.4 9.6 8.8c1.7 4.4 1.3 11.4 .4 17.6c-.9 6.2-3.6 12.4-6 19.5c-2.4 7.1-5.6 16.7-8.2 23.1c-2.6 6.4-4.3 12.1-7.5 15.3c-3.2 3.2-7.7 3.7-11.5 3.6c-3.9 0-8.9 .6-11.5-3.8c-2.6-4.3-3.3-13.3-4.2-22.2c-.9-8.9-1.2-22.6-1.1-31.1Z"/><path class="cg" style="stroke-width:0.8" d="M1784.5 2220.3c.1-7.5-.1-13.3 1.3-18c1.4-4.7 3.9-7.8 7.3-10.1c3.4-2.3 8.6-3.6 13.1-3.5c4.5 .1 10.1 2.2 13.8 4.2c3.6 2 6.9 3.9 8.2 7.8c1.3 3.9 .5 9.9-.3 15.4c-.9 5.5-3.1 11.4-5 17.7c-2 6.3-4.5 14.4-6.8 19.9c-2.3 5.6-4.2 10.8-7.1 13.5c-2.8 2.7-6.5 2.8-9.8 2.8c-3.3 0-7.3 .9-9.7-2.9c-2.3-3.8-3.6-11.9-4.4-19.7c-.8-7.8-.7-19.6-.6-27.1Z"/><path class="cg" style="stroke-width:0.8" d="M1787.1 2220.1c.1-6.5 .2-11.7 1.4-15.9c1.2-4.1 2.8-6.8 5.8-8.7c2.9-2 8-3 11.9-2.9c3.8 .1 8.1 1.8 11.2 3.6c3 1.7 5.9 3.4 7.1 6.8c1.2 3.3 .8 8.7 0 13.5c-.8 4.8-3 10-4.8 15.4c-1.7 5.4-3.7 12.5-5.6 17.1c-1.8 4.6-3.3 8.3-5.7 10.6c-2.4 2.2-5.9 3-8.7 3.1c-2.8 0-5.9 .5-7.9-2.7c-1.9-3.1-3.2-9.6-4-16.3c-.8-6.6-.9-17-.7-23.6Z"/><path class="cg" style="stroke-width:0.8" d="M1789.4 2219.8c.1-5.7 .8-10.5 1.9-14.1c1.1-3.6 2.4-5.7 4.8-7.4c2.4-1.7 6.5-2.8 9.7-2.7c3.2 .2 6.8 1.9 9.4 3.4c2.5 1.5 4.8 2.8 5.8 5.7c1 2.9 .9 7.5 .2 11.7c-.6 4.2-2.4 9-4 13.6c-1.5 4.5-3.6 10-5.3 13.7c-1.6 3.7-2.8 6.9-4.7 8.7c-2 1.8-4.7 2.2-6.9 2.2c-2.3-0-4.9 .2-6.5-2.3c-1.5-2.5-2.1-7.4-2.9-12.8c-.7-5.4-1.5-14.1-1.5-19.7Z"/><path class="cg" style="stroke-width:0.8" d="M1792.1 2219.7c-0-4.7 .6-8.7 1.6-11.7c.9-3.1 2.1-5.2 4.1-6.6c2-1.4 5.4-2 7.9-1.9c2.5 .2 5.2 1.5 7.2 2.7c2 1.1 3.9 1.9 4.7 4.2c.7 2.4 .3 6.5-.2 10c-.5 3.5-1.7 7.3-2.9 11c-1.3 3.7-3.4 8.2-4.8 11.2c-1.4 2.9-2.2 5.1-3.7 6.5c-1.4 1.4-3.4 1.9-5.1 2c-1.7 0-3.7 .3-4.9-1.5c-1.3-1.9-1.8-5.5-2.4-9.8c-.7-4.3-1.5-11.5-1.5-16.1Z"/><path class="cg" style="stroke-width:0.8" d="M1794.8 2219.3c-.1-3.7 .3-7.5 1.1-9.9c.8-2.4 2.1-3.4 3.7-4.5c1.6-1.1 4-2 5.9-2c1.8-0 3.8 1 5.2 2c1.4 .9 2.8 1.9 3.3 3.8c.5 1.8 .4 4.6-0 7.4c-.5 2.8-1.4 6.5-2.5 9.4c-1 3-2.8 6.3-3.8 8.4c-1.1 2-1.3 3.3-2.3 4.2c-1.1 .8-2.6 .9-3.9 .9c-1.2 .1-2.7 .5-3.7-.8c-.9-1.2-1.3-3.6-1.8-6.8c-.6-3.1-1.2-8.4-1.2-12.1Z"/><path class="cg" style="stroke-width:0.8" d="M1797.2 2219.2c.1-2.7 1.1-6 1.7-7.9c.6-1.8 1.1-2.6 2.1-3.4c.9-.8 2.6-1.3 3.8-1.3c1.3 0 2.7 .6 3.6 1.4c.9 .7 1.5 1.6 1.9 3c.3 1.3 .4 3.3 .1 5.3c-.2 2.1-.9 4.9-1.7 7c-.8 2.1-2.1 4.3-2.8 5.6c-.7 1.3-1 1.7-1.6 2.2c-.7 .5-1.6 .8-2.3 .8c-.6-0-1.1-.1-1.7-.8c-.5-.7-1.1-1.5-1.6-3.5c-.5-2-1.5-5.7-1.5-8.4Z"/>
<path d="M1829.7 2238.9c2.6-6.5 4.2-15.1 9.1-20.4c4.9-5.3 12.8-8.9 20.4-11.4c7.6-2.4 16.6-3.2 24.9-3.4c8.4-.2 18 0 25 2.3c7 2.3 13.1 5.8 17 11.3c3.9 5.5 5.6 13.8 6.1 21.6c.6 7.7-.4 17.4-2.7 24.9c-2.3 7.6-6 15.1-11.3 20.4c-5.3 5.3-12.5 9-20.5 11.4c-7.9 2.3-18.5 3.1-27.2 2.7c-8.7-.4-17.7-1.5-24.9-5c-7.2-3.5-14.4-9.8-18.2-15.9c-3.7-6-4.9-14-4.5-20.4c.4-6.4 4.2-11.7 6.8-18.1Z" fill="#333" fill-opacity="0.6"/>
<path class="cg" style="stroke-width:0.8" d="M1830.9 2239.6c2.6-6.2 4.4-14.4 9.1-19.5c4.7-5 12.2-8.5 19.4-10.8c7.1-2.4 15.7-3 23.6-3.2c7.9-.3 17.2-.3 23.9 1.8c6.8 2.1 12.9 5.5 16.6 10.8c3.7 5.2 5.2 13.3 5.7 20.7c.4 7.4-.6 16.7-2.8 23.9c-2.3 7.2-5.7 14.1-10.8 19.1c-5 5-11.7 8.7-19.3 11c-7.7 2.3-18 3-26.3 2.7c-8.3-.3-16.8-1.1-23.7-4.4c-6.8-3.3-13.9-9.6-17.5-15.4c-3.7-5.8-4.7-13.2-4.4-19.3c.4-6.2 3.9-11.3 6.5-17.4Z"/><path class="cg" style="stroke-width:0.8" d="M1833.4 2240.8c2.4-5.5 4.1-12.8 8.5-17.4c4.4-4.5 11.5-7.9 18.1-10c6.6-2.2 14.3-2.6 21.4-2.8c7.2-.1 15.5-.2 21.5 1.7c6 2 11.3 5.3 14.6 10c3.3 4.7 4.6 11.7 5.1 18.4c.4 6.6-.2 15.1-2.2 21.6c-2.1 6.4-5.5 12.5-10 17c-4.6 4.5-10.5 7.7-17.3 9.8c-6.9 2.1-16.1 3.2-23.8 2.9c-7.6-.2-15.8-1.2-22-4.2c-6.3-2.9-12.3-8.3-15.6-13.4c-3.3-5.2-4.6-12-4.3-17.6c.2-5.6 3.6-10.4 6-16Z"/><path class="cg" style="stroke-width:0.8" d="M1836.3 2242.1c2.3-5 3.8-11.7 7.7-15.7c3.9-4 10-6.6 15.9-8.5c5.9-1.8 13-2.5 19.4-2.7c6.4-.1 13.8-0 19.1 1.7c5.3 1.7 9.8 4.5 12.7 8.7c3 4.1 4.4 10.3 4.9 16.2c.5 5.8-.1 12.9-1.9 18.7c-1.9 5.7-5 11.7-9.1 15.9c-4 4.1-9.2 7-15.3 8.8c-6.2 1.8-14.7 2.1-21.6 1.9c-6.9-.2-14-.5-19.7-3.1c-5.7-2.5-11.3-7.6-14.3-12.2c-2.9-4.7-3.8-10.6-3.4-15.6c.3-4.9 3.4-9.2 5.6-14.1Z"/><path class="cg" style="stroke-width:0.8" d="M1838.8 2243.7c2-4.4 3.4-10 7-13.5c3.5-3.6 9-5.9 14.2-7.6c5.3-1.8 11.6-2.7 17.3-2.8c5.8-.2 12.5 .4 17.1 2c4.6 1.6 8.3 3.9 10.8 7.4c2.4 3.5 3.6 8.8 4 13.8c.3 5.1-.3 11.6-1.8 16.6c-1.6 5-3.9 9.8-7.4 13.3c-3.5 3.4-8.2 5.7-13.7 7.4c-5.4 1.7-12.8 2.8-18.9 2.7c-6-0-12.4-.9-17.4-3.1c-5-2.2-10-6.1-12.7-10.1c-2.7-3.9-4-9.2-3.7-13.6c.2-4.3 3.1-8.2 5.2-12.5Z"/><path class="cg" style="stroke-width:0.8" d="M1841 2244.8c1.8-3.7 3.2-8.5 6.5-11.5c3.3-3 8.6-5.1 13.3-6.5c4.7-1.4 10-1.8 14.8-1.9c4.9-.1 10.4 .2 14.3 1.4c3.9 1.3 7.1 3.2 9.2 6.2c2.2 3.1 3.5 7.8 3.8 12.1c.3 4.3-.6 9.6-2 13.8c-1.3 4.1-3.1 8.2-6.1 11.1c-3.1 3-7.3 5.1-12 6.6c-4.8 1.6-11.3 2.6-16.5 2.6c-5.3-0-11-.8-15.3-2.7c-4.4-1.9-8.4-5.2-10.8-8.6c-2.4-3.5-3.5-8.2-3.4-12c.1-3.7 2.4-6.9 4.2-10.6Z"/><path class="cg" style="stroke-width:0.8" d="M1843.8 2246.5c1.6-3.2 3.4-7.5 6.2-10.1c2.9-2.6 7.1-4.2 11-5.3c4-1.2 8.7-1.5 12.8-1.5c4.1-.1 8.6-.1 11.8 1c3.2 1 5.9 2.9 7.7 5.4c1.8 2.5 2.9 6.2 3.2 9.7c.2 3.4-.4 7.9-1.6 11.3c-1.2 3.4-3 6.7-5.6 9.1c-2.5 2.5-5.8 4.5-9.8 5.8c-4 1.4-9.6 2.1-14.1 2.1c-4.5 .1-9.3-.4-13.1-1.9c-3.8-1.5-7.8-4.2-9.7-7.1c-2-2.8-2.4-6.7-2.2-9.8c.2-3.1 1.8-5.6 3.4-8.7Z"/><path class="cg" style="stroke-width:0.8" d="M1846.5 2247.7c1.4-2.5 2.8-6 5.3-8c2.5-2.1 6.4-3.5 9.7-4.4c3.3-1 6.8-1.3 10.1-1.3c3.4 .1 7.2 .4 9.8 1.3c2.5 .9 4.3 2.3 5.7 4.3c1.3 1.9 2 4.8 2.2 7.5c.2 2.7-.1 5.9-1 8.6c-.9 2.6-2.5 5.4-4.6 7.4c-2 2-4.8 3.5-8 4.6c-3.1 1-7.3 1.7-10.9 1.9c-3.7 .1-8 .1-11.2-1c-3.2-1.1-6.3-3.4-8-5.7c-1.7-2.2-2.4-5.5-2.3-8c.2-2.5 1.8-4.6 3.2-7.2Z"/><path class="cg" style="stroke-width:0.8" d="M1848.8 2249.4c1.1-2 2.6-4.9 4.7-6.5c2.1-1.6 5.2-2.5 8-3.2c2.8-.6 6.1-.9 8.6-.9c2.6-0 4.8 .2 6.7 .8c1.9 .6 3.7 1.5 4.7 2.9c1 1.4 1.1 3.4 1.2 5.4c.1 2.1-.1 4.7-.8 6.7c-.7 1.9-1.9 3.7-3.4 5.1c-1.6 1.4-3.5 2.6-6 3.4c-2.4 .9-5.8 1.5-8.8 1.7c-2.9 .3-6.2 .6-8.7-.1c-2.6-.8-5.3-2.7-6.7-4.3c-1.3-1.6-1.5-3.5-1.5-5.3c.1-1.9 .8-3.6 2-5.7Z"/><path class="cg" style="stroke-width:0.8" d="M1851.4 2250.7c1.1-1.4 2.8-3.3 4.6-4.4c1.7-1.1 3.9-1.8 5.9-2.2c2-.4 4.1-.5 5.9-.4c1.7 .1 3.3 .5 4.6 .9c1.2 .4 2.1 .5 2.8 1.3c.8 .8 1.3 2.3 1.4 3.4c.2 1.2-.1 2.6-.7 3.8c-.5 1.2-1.3 2.6-2.4 3.6c-1.1 1-2.5 1.9-4.2 2.6c-1.8 .6-4.2 .9-6.4 1.2c-2.3 .2-5.2 .7-7.2 .3c-1.9-.5-3.4-1.9-4.5-2.9c-1-1-1.8-1.9-1.8-3.1c.1-1.2 .9-2.7 2-4.1Z"/>
<path d="M1820.6 2236.6c2.1-3 6.8-6.4 8-4.5c1.1 1.9 .2 10.2-1.2 15.8c-1.3 5.7-4.5 13.7-6.8 18.2c-2.2 4.5-5.1 9.1-6.8 9.1c-1.7-0-3.8-4.9-3.4-9.1c.4-4.2 4-11 5.7-15.9c1.7-4.9 2.5-10.6 4.5-13.6Z" fill="#fff" fill-opacity="0.45"/>
<path d="M1866 2243.4c2.3-2.3 12.8-4.5 18.1-4.5c5.3-0 13.6 2.6 13.6 4.5c0 1.9-9 5.3-13.6 6.8c-4.5 1.5-10.5 3.4-13.6 2.3c-3-1.2-6.8-6.8-4.5-9.1Z" fill="#fff" fill-opacity="0.45"/>
<path d="M1861.5 2286.5c-.4-.6 10.9 2.3 15.8 2.3c4.9-0 13.3-2.9 13.6-2.3c.4 .6-6.4 5.7-11.3 5.7c-4.9-0-17.8-5.1-18.1-5.7Z" fill="#fff" fill-opacity="0.45"/>
<ellipse cx="1803.6" cy="2217.3" rx="6.3" ry="11.5" fill="#fff" stroke="#444" stroke-width="0.8" transform="rotate(8 1803.6 2217.3)"/>
<ellipse class="cg" cx="1803.6" cy="2217.3" rx="3.4" ry="7" transform="rotate(8 1803.6 2217.3)"/>
<ellipse cx="1858.1" cy="2252.5" rx="6.5" ry="4.6" fill="#fff" stroke="#444" stroke-width="0.8"/>
<ellipse class="cg" cx="1857.1" cy="2252.5" rx="2.5" ry="2"/>
<clipPath id="cd4"><rect x="1710.8" y="2151.7" width="352.6" height="352"/></clipPath>
<g clip-path="url(#cd4)">
<ellipse cx="1791.1" cy="2503.8" rx="16" ry="15" fill="#444" stroke="#333" stroke-width="1"/>
<ellipse class="cg" stroke="#111" cx="1791.1" cy="2503.8" rx="4" ry="3.8"/>
<ellipse class="cg" stroke="#111" cx="1791.1" cy="2503.8" rx="8" ry="7.6"/>
<ellipse class="cg" stroke="#111" cx="1791.1" cy="2503.8" rx="12" ry="11.4"/>
<ellipse cx="1791.1" cy="2504.8" rx="2.6" ry="2.2" fill="#fff"/>
</g>
<rect class="ax" x="1710.8" y="2151.7" width="352.6" height="352"/>
<path class="tk" d="M1710.8 2182h-10M1710.8 2252.2h-10M1710.8 2323.4h-10M1710.8 2394.3h-10M1710.8 2465.5h-10"/>
<path class="tk" d="M1732.7 2503.7v10M1790.5 2503.7v10M1848.6 2503.7v10M1944.9 2503.7v10M2029.2 2503.7v10"/>
<path class="tm" d="M1877.6 2503.7v5M1894.5 2503.7v5M1906.6 2503.7v5M1915.9 2503.7v5M1923.5 2503.7v5M1930 2503.7v5M1935.6 2503.7v5M1940.5 2503.7v5M1970.3 2503.7v5M1985.1 2503.7v5M1995.7 2503.7v5M2003.8 2503.7v5M2010.5 2503.7v5M2016.1 2503.7v5M2021 2503.7v5M2025.3 2503.7v5M2054.6 2503.7v5M1804.5 2503.7v5M1815.1 2503.7v5M1822.8 2503.7v5M1828.7 2503.7v5M1833.4 2503.7v5M1837.4 2503.7v5M1840.7 2503.7v5M1843.7 2503.7v5M1846.3 2503.7v5M1776.6 2503.7v5M1766 2503.7v5M1758.4 2503.7v5M1752.5 2503.7v5M1747.8 2503.7v5M1743.9 2503.7v5M1740.5 2503.7v5M1737.6 2503.7v5M1735 2503.7v5M1717 2503.7v5"/>
<path class="tmd" d="M1784.5 2503.7v9M1786 2503.7v9M1787.4 2503.7v9M1788.7 2503.7v9M1789.8 2503.7v9M1791.2 2503.7v9M1792.3 2503.7v9M1793.6 2503.7v9M1795 2503.7v9M1796.5 2503.7v9"/>
<path class="tm" d="M1710.8 2231.1h-5M1710.8 2218.7h-5M1710.8 2209.9h-5M1710.8 2203.1h-5M1710.8 2197.6h-5M1710.8 2192.9h-5M1710.8 2188.8h-5M1710.8 2185.2h-5M1710.8 2302h-5M1710.8 2289.4h-5M1710.8 2280.5h-5M1710.8 2273.6h-5M1710.8 2268h-5M1710.8 2263.2h-5M1710.8 2259.1h-5M1710.8 2255.5h-5M1710.8 2373h-5M1710.8 2360.5h-5M1710.8 2351.6h-5M1710.8 2344.7h-5M1710.8 2339.1h-5M1710.8 2334.4h-5M1710.8 2330.3h-5M1710.8 2326.6h-5M1710.8 2444.1h-5M1710.8 2431.5h-5M1710.8 2422.6h-5M1710.8 2415.7h-5M1710.8 2410.1h-5M1710.8 2405.3h-5M1710.8 2401.2h-5M1710.8 2397.6h-5M1710.8 2160.9h-5M1710.8 2477h-5M1710.8 2485.4h-5M1710.8 2492.2h-5M1710.8 2497.6h-5"/>
<text x="1721" y="2548.7" font-size="24.6" text-anchor="middle">-10<tspan font-size="13.9" dy="-8.6">3</tspan></text>
<text x="1784.3" y="2548.7" font-size="24.6" text-anchor="middle">0</text>
<text x="1855" y="2548.7" font-size="24.6" text-anchor="middle">10<tspan font-size="13.9" dy="-8.6">3</tspan></text>
<text x="1953.7" y="2548.7" font-size="24.6" text-anchor="middle">10<tspan font-size="13.9" dy="-8.6">4</tspan></text>
<text x="2044.5" y="2548.7" font-size="24.6" text-anchor="middle">10<tspan font-size="13.9" dy="-8.6">5</tspan></text>
<text x="1689.5" y="2173.7" font-size="24.6" text-anchor="end">10<tspan font-size="13.9" dy="-8.6">5</tspan></text>
<text x="1689.5" y="2242" font-size="24.6" text-anchor="end">10<tspan font-size="13.9" dy="-8.6">4</tspan></text>
<text x="1689.5" y="2311.6" font-size="24.6" text-anchor="end">10<tspan font-size="13.9" dy="-8.6">3</tspan></text>
<text x="1689.5" y="2379.5" font-size="24.6" text-anchor="end">10<tspan font-size="13.9" dy="-8.6">2</tspan></text>
<text x="1689.5" y="2447.7" font-size="24.6" text-anchor="end">10<tspan font-size="13.9" dy="-8.6">1</tspan></text>
<text x="1689.5" y="2515.7" font-size="24.6" text-anchor="end">0</text>
<text x="1869.8" y="2590" font-size="28.3" text-anchor="middle">CD38-PercP/CY5.5</text>
<text x="1633.6" y="2323.4" font-size="28.3" text-anchor="middle" transform="rotate(-90 1633.6 2323.4)">PNA-Pacific Blue</text>
<path class="g" d="M1764.3 2172.2L1852.8 2172.9L1815.3 2286.5L1796.3 2288.8L1771.2 2284.2Z"/>
<text x="1869.8" y="2181" font-size="24.8" class="r">GCBs</text>
</svg>
</body></html>
